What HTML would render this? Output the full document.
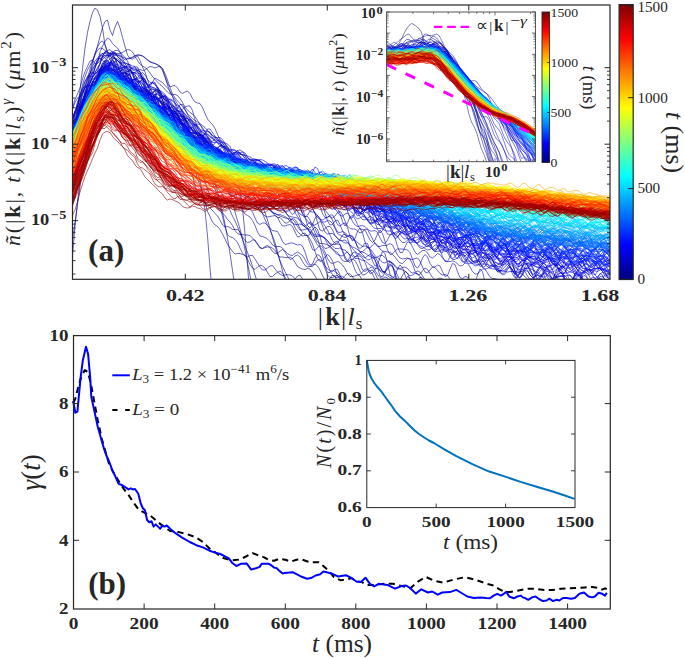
<!DOCTYPE html>
<html><head><meta charset="utf-8"><style>
html,body{margin:0;padding:0;background:#fff;width:685px;height:658px;overflow:hidden}
svg{display:block}
</style></head><body>
<svg width="685" height="658" viewBox="0 0 685 658">
<rect x="0" y="0" width="685" height="658" fill="#fff"/>
<defs><clipPath id="cpTop"><rect x="145" y="10" width="1075" height="548.6"/></clipPath><clipPath id="cpIn"><rect x="773.2" y="24" width="297.8" height="299.4"/></clipPath></defs>
<g transform="scale(0.5)"><g clip-path="url(#cpTop)" fill="none" stroke-width="1.2" stroke-linejoin="round">
<path d="M145 285l5-20 5-27 5-22 5-15 5-12 5-5 5-3 5-11 5-15 5-6 5-7 5-9 5-7 5-4 5-4 5-5 5 3 5 14 5 12 5 5 5-4 5-5 5 1 5 8 5 13 5 5 5-4 5-2 5 9 5 19 5 13 5 1 5-9 5-9 5 3 5 16 5 19 5 12 5 4 5 5 5 8 5 15 5 16 5 11 5 10 5 12 5 17 5 20 5 20 5 14 5 5 5 5 5 10 5 7 5 4 5 5 5 6 5 5 5 8 5 10 5 4 5-1 5 2 5 4 5 0 5 0 5 5 5 10 5 7 5 4 5-1 5-4 5 0 5 7 5 9 5 1 5-4 5-2 5 4 5 8 5 4 5-1 5-4 5-3 5 5 5 9 5 6 5-2 5-5 5-2 5 4 5 9 5 8 5 3 5-1 5-3 5-2 5 4 5 8 5 11 5 9 5 1 5-5 5-6 5 2 5 13 5 17 5 9 5-2 5-10 5-7 5 5 5 16 5 7 5 0 5 0 5 0 5-1 5 1 5 0 5 0 5 0 5 0 5 0 5 0 5 0 5 0 5 0 5 0 5 0 5 0 5 0 5 0 5 0 5 0 5 0 5 0 5 0 5 0 5 0 5 0 5 0 5 0 5 0 5 0 5 0 5 0 5 0 5 0 5 0 5 0 5 0 5 0 5 0 5 0 5 0 5 0 5 0 5 0 5 0 5 0 5 0 5 0 5 0 5 0 5 0 5 0 5 0 5 0 5 0 5 0 5 0 5 0 5 0 5 0 5 0 5 0 5 0 5 0 5 0 5 0 5 0 5 0 5 0 5 0 5 0 5 0 5 0 5 0 5 0 5 0 5 0 5 0 5 0 5 0 5 0 5 0 5 0 5 0 5 0 5 0 5 0 5 0 5 0 5 0 5 0 5 0 5 0 5 0 5 0 5 0 5 0 5 0 5 0 5 0 5 0" stroke="#000080"/>
<path d="M145 300l5-41 5-39 5-40 5-43 5-41 5-31 5-22 5-18 5-9 5 4 5 13 5 23 5 34 5 18 5 11 5 10 5 9 5 8 5 5 5 4 5 3 5 3 5 4 5 5 5 3 5 3 5 4 5 4 5 6 5 4 5 4 5 3 5 5 5 7 5 6 5 6 5 4 5 5 5 5 5 7 5 6 5 6 5 5 5 7 5 8 5 8 5 7 5 5 5 6 5 7 5 9 5 8 5 7 5 7 5 8 5 8 5 9 5 8 5 7 5 7 5 10 5 11 5 11 5 11 5 10 5 11 5 13 5 13 5 13 5 13 5 13 5 15 5 17 5 16 5 15" stroke="#000080"/>
<path d="M145 268l5-11 5-13 5-7 5-2 5-5 5-9 5-22 5-17 5-15 5-15 5-9 5-3 5-5 5 3 5 13 5 6 5 1 5-6 5-5 5-2 5 0 5 6 5 10 5 5 5 9 5 15 5 9 5 1 5-1 5-5 5-3 5 2 5 6 5 9 5 7 5 9 5 13 5 8 5 1 5 1 5-3 5-3 5 5 5 7 5 10 5 13 5 13 5 11 5 7 5-4 5 1 5 2 5 4 5 8 5 5 5 1 5 7 5 10 5 11 5 12 5 0 5-1 5-4 5 0 5 7 5 8 5 6 5 7 5 5 5 2 5 5 5 3 5 3 5 1 5 0 5 2 5 2 5 4 5 7 5 5 5 1 5 3 5 2 5 2 5 2 5 1 5 1 5 1 5 5 5 9 5 7 5 0 5-1 5-2 5 1 5 7 5 11 5 8 5 3 5 0 5 1 5 2 5 2 5 5 5 5 5 3 5 8 5 8 5 2 5 0 5-3 5-2 5 3 5 9 5 12 5 8 5-1 5-4 5-4 5-1 5 6 5 11 5 7 5 3 5-1 5-1 5 0 5 0 5 4 5 4 5 1 5 4 5 6 5 2 5 0 5-2 5-3 5 0 5 5 5 8 5 6 5 0 5-1 5-3 5-3 5 3 5 4 5 0 5 0 5 0 5 0 5 0 5 0 5 0 5 0 5 0 5 0 5 0 5 0 5 0 5 0 5 0 5 0 5 0 5 0 5 0 5 0 5 0 5 0 5 0 5 0 5 0 5 0 5 0 5 0 5 0 5 0 5 0 5 0 5 0 5 0 5 0 5 0 5 0 5 0 5 0 5 0 5 0 5 0 5 0 5 0 5 0 5 0 5 0 5 0 5 0 5 0 5 0 5 0 5 0 5 0 5 0 5 0 5 0 5 0 5 0 5 0 5 0 5 0 5 0 5 0 5 0 5 0 5 0 5 0 5 0" stroke="#000083"/>
<path d="M145 264l5-9 5-14 5-19 5-17 5-22 5-12 5-4 5-9 5-3 5-4 5-10 5-4 5-1 5 5 5 2 5-3 5 2 5-2 5-7 5 4 5 6 5 8 5 11 5 9 5 9 5 4 5-1 5 1 5-4 5-1 5 7 5 3 5 5 5 5 5 3 5 4 5-1 5 5 5 11 5 6 5 4 5 5 5-2 5-1 5 0 5 4 5 8 5 7 5 11 5 6 5-1 5 3 5 4 5 2 5 8 5 7 5 6 5-2 5-5 5 1 5 2 5 7 5 15 5 10 5 6 5 1 5-3 5 0 5 3 5 9 5 10 5 4 5 2 5 1 5 1 5 7 5 10 5 11 5 9 5 3 5 3 5 3 5 3 5 7 5 7 5 7 5 7 5 8 5 10 5 8 5 5 5 4 5-1 5 0 5 7 5 10 5 15 5 14 5 6 5-2 5-7 5-5 5 4 5 9 5 16 5 14 5 6 5-1 5-6 5-4 5 1 5 5 5 12 5 9 5 3 5 3 5 1 5 0 5 4 5 2 5 4 5 1 5 1 5 7 5 0 5 0 5 0 5 0 5 0 5 0 5 0 5 0 5 0 5 0 5 0 5 0 5 0 5 0 5 0 5 0 5 0 5 0 5 0 5 0 5 0 5 0 5 0 5 0 5 0 5 0 5 0 5 0 5 0 5 0 5 0 5 0 5 0 5 0 5 0 5 0 5 0 5 0 5 0 5 0 5 0 5 0 5 0 5 0 5 0 5 0 5 0 5 0 5 0 5 0 5 0 5 0 5 0 5 0 5 0 5 0 5 0 5 0 5 0 5 0 5 0 5 0 5 0 5 0 5 0 5 0 5 0 5 0 5 0 5 0 5 0 5 0 5 0 5 0 5 0 5 0 5 0 5 0 5 0 5 0 5 0 5 0 5 0 5 0 5 0 5 0 5 0 5 0 5 0 5 0 5 0 5 0" stroke="#000087"/>
<path d="M145 281l5-17 5-18 5-19 5-19 5-19 5-20 5-22 5-20 5-19 5-16 5-19 5-18 5-12 5-3 5 20 5 11 5-17 5-11 5 13 5 19 5 18 5 17 5 7 5-2 5-3 5-2 5 1 5 1 5 4 5 4 5 4 5 1 5 2 5 3 5 4 5 7 5 13 5 16 5 14 5 9 5 7 5 8 5 8 5 7 5 6 5 4 5 4 5 6 5 7 5 6 5 5 5 3 5 5 5 6 5 7 5 7 5 6 5 3 5 4 5 5 5 5 5 6 5 6 5 7 5 7 5 6 5 6 5 6 5 7 5 9 5 9 5 8 5 8 5 8 5 10 5 12 5 12 5 11 5 10 5 11 5 14 5 18 5 19 5 20 5 19 5 19 5 19" stroke="#00008a"/>
<path d="M145 244l5-18 5-16 5-14 5-21 5-13 5-6 5-10 5-1 5-1 5-6 5-10 5-13 5-11 5-3 5-2 5 6 5 13 5 3 5 5 5 6 5 2 5 5 5 5 5 1 5 0 5-4 5 2 5 14 5 12 5 11 5 8 5-1 5-5 5 0 5-1 5 3 5 5 5 9 5 17 5 14 5 10 5 7 5 2 5 2 5 15 5 20 5 22 5 20 5 15 5 15 5 14 5 14 5 19 5 19 5 10 5 11 5 6 5 3 5 6 5 9 5 10 5 11 5 7 5 7 5 5 5-1 5 0 5 2 5 1 5 8 5 11 5 7 5 3 5-5 5-4 5 2 5 4 5 9 5 8 5 0 5-5 5-3 5-3 5 4 5 8 5 10 5 6 5-3 5-9 5-6 5-2 5 8 5 17 5 11 5 0 5-7 5-10 5-3 5 8 5 14 5 12 5 0 5 0 5 0 5 0 5-1 5 1 5 0 5 0 5 0 5 0 5 0 5 0 5 0 5 0 5 0 5 0 5 0 5 0 5 0 5 0 5 0 5 0 5 0 5 0 5 0 5 0 5 0 5 0 5 0 5 0 5 0 5 0 5 0 5 0 5 0 5 0 5 0 5 0 5 0 5 0 5 0 5 0 5 0 5 0 5 0 5 0 5 0 5 0 5 0 5 0 5 0 5 0 5 0 5 0 5 0 5 0 5 0 5 0 5 0 5 0 5 0 5 0 5 0 5 0 5 0 5 0 5 0 5 0 5 0 5 0 5 0 5 0 5 0 5 0 5 0 5 0 5 0 5 0 5 0 5 0 5 0 5 0 5 0 5 0 5 0 5 0 5 0 5 0 5 0 5 0 5 0 5 0 5 0 5 0 5 0 5 0 5 0 5 0 5 0 5 0 5 0 5 0 5 0 5 0 5 0 5 0 5 0 5 0 5 0 5 0 5 0 5 0 5 0 5 0 5 0" stroke="#00008a"/>
<path d="M145 284l5-12 5-15 5-27 5-22 5-7 5 0 5-3 5-11 5-18 5-11 5-1 5 2 5-4 5-13 5-6 5 5 5 3 5 0 5-1 5-5 5 5 5 15 5 7 5 2 5 8 5 2 5 2 5 5 5-1 5 0 5 10 5 1 5-6 5 1 5 3 5 7 5 13 5 6 5 0 5 6 5 10 5 2 5 4 5 0 5 0 5 6 5 8 5 5 5 3 5 2 5 6 5 8 5 7 5 9 5 5 5-1 5 1 5 0 5 2 5 8 5 5 5-3 5 1 5 3 5 4 5 9 5 5 5-1 5 3 5 5 5 0 5 0 5-1 5-1 5 6 5 8 5-2 5-4 5 0 5 6 5 10 5 6 5 0 5-2 5 2 5 3 5 1 5 0 5 7 5 17 5 19 5 13 5 5 5 0 5 7 5 14 5 12 5 11 5 16 5 18 5 20 5 14 5 0 5-5 5 3 5 4 5 5 5 5 5 5 5 9 5 17 5 9 5-2 5-6 5-6 5-2 5 4 5 4 5 7 5 4 5 0 5 0 5 0 5 0 5 0 5 0 5 0 5 0 5 0 5 0 5 0 5 0 5 0 5 0 5 0 5 0 5 0 5 0 5 0 5 0 5 0 5 0 5 0 5 0 5 0 5 0 5 0 5 0 5 0 5 0 5 0 5 0 5 0 5 0 5 0 5 0 5 0 5 0 5 0 5 0 5 0 5 0 5 0 5 0 5 0 5 0 5 0 5 0 5 0 5 0 5 0 5 0 5 0 5 0 5 0 5 0 5 0 5 0 5 0 5 0 5 0 5 0 5 0 5 0 5 0 5 0 5 0 5 0 5 0 5 0 5 0 5 0 5 0 5 0 5 0 5 0 5 0 5 0 5 0 5 0 5 0 5 0 5 0 5 0 5 0 5 0 5 0 5 0 5 0 5 0 5 0 5 0 5 0 5 0 5 0 5 0" stroke="#00008e"/>
<path d="M145 264l5-23 5-25 5-24 5-22 5-17 5-13 5-9 5-10 5-11 5-10 5-4 5 1 5 4 5 4 5 2 5 0 5 0 5 0 5 0 5-2 5-3 5-3 5 1 5 4 5 9 5 8 5 7 5 4 5 3 5 4 5 7 5 7 5 6 5 5 5 5 5 4 5 6 5 5 5 4 5 1 5 0 5 2 5 6 5 8 5 9 5 6 5 5 5 3 5 5 5 8 5 8 5 9 5 7 5 7 5 8 5 10 5 11 5 10 5 9 5 10 5 14 5 17 5 21 5 22 5 20 5 17 5 17 5 19 5 23 5 26 5 25 5 25 5 24" stroke="#00008f"/>
<path d="M145 274l5-11 5-5 5-3 5-22 5-29 5-19 5-11 5-10 5 0 5 1 5-13 5-12 5-6 5-1 5-3 5-3 5-4 5-2 5 7 5 16 5 11 5-5 5-4 5-1 5 4 5 9 5 8 5 9 5 9 5 5 5-9 5-5 5 1 5 5 5 14 5 13 5 0 5 0 5 11 5 4 5 0 5 1 5 0 5-1 5 10 5 20 5 12 5 3 5-2 5 0 5 1 5 6 5 7 5 3 5 4 5 9 5 8 5-2 5-1 5 3 5 5 5 7 5 5 5 1 5 3 5 6 5 3 5 0 5-1 5 1 5 7 5 10 5 4 5-3 5-3 5 1 5 4 5 6 5 4 5-2 5 0 5 9 5 7 5 0 5-5 5-4 5-2 5 4 5 11 5 6 5 3 5 5 5 5 5-2 5-4 5-3 5 1 5 6 5 9 5 7 5 5 5 6 5 7 5 3 5-4 5-7 5-3 5 7 5 13 5 10 5 5 5 1 5 0 5 4 5 4 5-2 5-6 5 1 5 9 5 10 5 9 5 6 5 0 5-2 5 0 5-1 5-3 5 3 5 10 5 10 5 6 5 2 5-1 5-1 5 2 5 1 5-2 5-1 5 6 5 12 5 10 5 2 5-6 5-6 5 1 5 6 5 6 5 3 5-1 5 2 5 7 5 5 5-1 5-2 5 1 5 2 5 4 5 4 5 1 5-1 5 4 5 5 5-1 5 0 5 5 5 5 5 2 5 0 5-5 5-6 5 4 5 12 5 4 5 0 5 0 5 0 5 0 5 0 5 0 5-4 5 1 5 3 5 0 5 0 5 0 5 0 5 0 5 0 5 0 5 0 5 0 5 0 5 0 5 0 5 0 5 0 5 0 5 0 5 0 5 0 5 0 5 0 5 0 5 0 5 0 5 0 5 0 5 0 5 0 5 0 5 0 5 0 5 0 5 0 5 0 5 0" stroke="#000092"/>
<path d="M145 267l5-22 5-19 5-18 5-17 5-17 5-18 5-17 5-16 5-16 5-13 5-9 5-3 5 7 5 14 5 8 5-1 5-1 5 1 5 2 5 2 5 2 5 1 5-1 5-2 5-3 5-1 5 0 5 2 5 3 5 5 5 3 5 3 5 1 5 2 5 3 5 5 5 10 5 13 5 15 5 13 5 8 5 6 5 5 5 6 5 7 5 7 5 6 5 4 5 4 5 3 5 3 5 4 5 4 5 6 5 5 5 5 5 3 5 3 5 3 5 3 5 4 5 6 5 7 5 7 5 7 5 7 5 6 5 6 5 7 5 9 5 10 5 11 5 11 5 10 5 10 5 11 5 13 5 15 5 17 5 18 5 17 5 16 5 14 5 11 5 10 5 10 5 10 5 10 5 10 5 10 5 7" stroke="#000094"/>
<path d="M145 511l5-59 5-49 5-42 5-37 5-34 5-30 5-26 5-20 5-16 5-12 5-8 5-7 5-8 5-5 5-3 5 0 5 3 5 5 5 5 5 5 5 4 5 3 5 2 5 3 5 3 5 3 5 3 5 3 5 5 5 6 5 6 5 5 5 3 5 1 5 1 5 3 5 5 5 7 5 7 5 5 5 4 5 3 5 2 5 3 5 3 5 4 5 5 5 6 5 6 5 8 5 8 5 8 5 7 5 8 5 10 5 12 5 17 5 18 5 20 5 21 5 24 5 28 5 31 5 34 5 37" stroke="#000094"/>
<path d="M145 269l5-17 5-18 5-10 5-18 5-18 5-9 5-8 5-1 5-1 5-13 5-10 5-9 5-10 5-11 5-5 5 7 5 12 5 15 5 9 5-5 5-3 5-3 5-2 5 6 5 2 5 11 5 15 5 4 5 8 5 5 5-7 5 1 5-5 5-1 5 8 5 12 5 13 5 4 5 2 5 6 5 2 5 4 5 0 5 1 5 6 5 5 5 10 5 9 5 6 5 15 5 8 5-3 5-1 5-3 5 7 5 11 5 5 5 6 5 7 5 13 5 15 5 1 5-4 5-1 5 5 5 10 5 9 5 8 5 7 5 7 5 7 5-1 5 0 5 7 5 7 5 7 5 0 5-3 5 4 5 7 5 6 5 4 5 0 5 5 5 6 5 0 5-5 5-4 5 2 5 8 5 10 5 8 5 5 5 2 5-4 5-9 5-5 5 5 5 14 5 18 5 6 5-1 5-3 5-4 5 0 5-1 5 1 5 11 5 13 5 9 5 3 5-6 5-5 5-2 5 0 5 4 5 9 5 13 5 9 5-1 5-7 5-8 5 3 5 7 5 6 5 5 5 3 5 4 5 6 5-3 5-4 5 0 5 3 5 7 5 5 5 2 5 4 5 3 5-1 5-3 5-1 5 7 5 8 5 5 5-3 5-4 5 3 5 6 5 1 5 0 5 0 5 0 5 0 5 0 5 0 5 0 5 0 5 0 5 0 5 0 5 0 5 0 5 0 5 0 5 0 5 0 5 0 5 0 5 0 5 0 5 0 5 0 5 0 5 0 5 0 5 0 5 0 5 0 5 0 5 0 5 0 5 0 5 0 5 0 5 0 5 0 5 0 5 0 5 0 5 0 5 0 5 0 5 0 5 0 5 0 5 0 5 0 5 0 5 0 5 0 5 0 5 0 5 0 5 0 5 0 5 0 5 0 5 0 5 0 5 0 5 0 5 0 5 0 5 0 5 0 5 0" stroke="#000095"/>
<path d="M145 312l5-25 5-24 5-19 5-11 5-4 5-6 5-13 5-10 5-1 5-10 5-12 5-12 5-12 5-9 5 2 5 8 5 6 5 4 5 9 5 3 5-2 5-4 5-1 5 3 5 3 5 10 5 15 5 12 5 1 5 0 5-5 5-12 5-5 5 10 5 18 5 14 5 8 5 2 5-12 5-6 5 5 5 7 5 4 5 8 5 10 5 7 5 4 5 1 5 3 5 5 5 4 5 0 5-2 5 2 5 9 5 11 5 9 5-3 5 2 5 4 5 0 5-3 5-2 5 7 5 14 5 15 5 4 5-4 5-2 5 2 5 3 5 3 5 7 5 9 5 10 5 5 5-6 5-7 5 1 5 10 5 8 5 1 5-2 5-1 5 0 5 1 5 2 5 5 5 9 5 10 5 3 5-8 5-11 5 0 5 8 5 11 5 10 5 8 5 4 5 1 5-3 5-3 5-1 5 7 5 14 5 10 5 1 5-2 5 2 5 6 5 4 5 3 5 3 5 4 5 4 5 4 5-1 5 1 5 7 5 10 5 6 5-2 5-3 5 0 5 4 5 6 5 3 5 2 5 5 5 5 5 1 5-2 5-1 5 3 5 6 5 3 5-1 5-3 5 2 5 8 5 7 5 2 5-1 5 1 5-1 5-2 5-2 5 2 5 10 5 12 5 9 5-2 5-9 5-6 5 1 5 2 5 5 5 9 5 11 5 0 5 0 5 0 5-8 5-3 5 6 5 5 5 0 5 0 5 0 5 0 5 0 5 0 5 0 5 0 5 0 5 0 5 0 5 0 5 0 5 0 5 0 5 0 5 0 5 0 5 0 5 0 5 0 5 0 5 0 5 0 5 0 5 0 5 0 5 0 5 0 5 0 5 0 5 0 5 0 5 0 5 0 5 0 5 0 5 0 5 0 5 0 5 0 5 0 5 0 5 0 5 0 5 0 5 0 5 0 5 0 5 0" stroke="#000099"/>
<path d="M145 286l5-6 5-14 5-12 5-20 5-22 5-17 5-6 5-5 5-10 5-8 5-5 5-8 5-5 5-1 5 1 5 0 5 1 5 2 5-1 5 0 5 5 5 7 5 11 5 11 5 2 5 0 5 3 5 1 5-2 5 1 5 7 5 6 5 6 5 14 5 6 5-1 5 0 5 3 5 1 5 0 5 7 5 11 5 13 5 15 5 11 5 5 5 5 5 7 5 8 5 10 5 14 5 13 5 13 5 15 5 15 5 6 5 6 5 10 5 8 5 3 5 5 5 8 5 5 5 7 5 10 5 6 5 2 5 0 5 1 5 0 5 1 5 5 5 6 5 7 5 6 5 2 5-2 5-1 5 0 5 2 5 5 5 8 5 5 5 0 5 1 5 0 5-1 5 3 5 8 5 8 5 3 5 2 5 1 5-2 5 1 5 6 5 8 5 9 5 7 5 2 5-2 5 0 5 1 5 5 5 8 5 9 5 6 5 1 5 2 5 0 5-1 5 1 5 0 5 0 5 0 5 0 5 0 5 0 5 0 5 0 5 0 5 0 5 0 5 0 5 0 5 0 5 0 5 0 5 0 5 0 5 0 5 0 5 0 5 0 5 0 5 0 5 0 5 0 5 0 5 0 5 0 5 0 5 0 5 0 5 0 5 0 5 0 5 0 5 0 5 0 5 0 5 0 5 0 5 0 5 0 5 0 5 0 5 0 5 0 5 0 5 0 5 0 5 0 5 0 5 0 5 0 5 0 5 0 5 0 5 0 5 0 5 0 5 0 5 0 5 0 5 0 5 0 5 0 5 0 5 0 5 0 5 0 5 0 5 0 5 0 5 0 5 0 5 0 5 0 5 0 5 0 5 0 5 0 5 0 5 0 5 0 5 0 5 0 5 0 5 0 5 0 5 0 5 0 5 0 5 0 5 0 5 0 5 0 5 0 5 0 5 0 5 0 5 0 5 0 5 0 5 0" stroke="#00009c"/>
<path d="M145 241l5-19 5-18 5-15 5-12 5-5 5-1 5-14 5-16 5-12 5-7 5-8 5-7 5-1 5 6 5-1 5-2 5 2 5-1 5 0 5 7 5 10 5 9 5 4 5 4 5 2 5 3 5 7 5 1 5 1 5 12 5 10 5-1 5 1 5 4 5 1 5 7 5 14 5 9 5 0 5-3 5 3 5 4 5 9 5 9 5 2 5 7 5 18 5 6 5 3 5 2 5 0 5 1 5 10 5 14 5 7 5-6 5 2 5 7 5 9 5 9 5 2 5-3 5 4 5 5 5 6 5 3 5 0 5-1 5 3 5 8 5 8 5-2 5-4 5 0 5 6 5 9 5 3 5-1 5-1 5 1 5 5 5 6 5 3 5 2 5 5 5 5 5 2 5-1 5-3 5 2 5 12 5 15 5 7 5-4 5-8 5-4 5 8 5 19 5 15 5 2 5-5 5-4 5 0 5 7 5 11 5 6 5 3 5 3 5 3 5 0 5 4 5 4 5 2 5 3 5 5 5 5 5 6 5 5 5-1 5-5 5 0 5 8 5 11 5 10 5 1 5-8 5-8 5 5 5 14 5 12 5 1 5-9 5-8 5 3 5 14 5 13 5 1 5-10 5-10 5 2 5 12 5 13 5 5 5-6 5-8 5-2 5 4 5 6 5 6 5 5 5 1 5-1 5-2 5-4 5 0 5 7 5 8 5 0 5 0 5 0 5-2 5 2 5 0 5 0 5 0 5 0 5 0 5 0 5 0 5 0 5 0 5 0 5 0 5 0 5 0 5 0 5 0 5 0 5 0 5 0 5 0 5 0 5 0 5 0 5 0 5 0 5 0 5 0 5 0 5 0 5 0 5 0 5 0 5 0 5 0 5 0 5 0 5 0 5 0 5 0 5 0 5 0 5 0 5 0 5 0 5 0 5 0 5 0 5 0 5 0 5 0 5 0 5 0 5 0 5 0 5 0" stroke="#00009d"/>
<path d="M145 318l5-24 5-15 5-13 5-18 5-23 5-19 5-10 5-4 5-9 5-16 5-16 5-8 5-3 5-4 5-10 5-8 5-2 5 5 5 5 5 0 5-1 5 3 5 6 5 4 5 0 5 0 5 1 5 2 5-1 5-4 5-3 5 1 5 2 5-2 5-2 5 6 5 15 5 14 5 7 5-2 5-1 5 5 5 8 5 3 5-3 5-2 5 5 5 10 5 7 5 2 5 1 5 8 5 12 5 11 5 6 5 5 5 8 5 12 5 10 5 7 5 7 5 10 5 13 5 13 5 13 5 16 5 22 5 36 5 52 5 62 5 67" stroke="#00009e"/>
<path d="M145 279l5-22 5-18 5-17 5-12 5-10 5-7 5-6 5-6 5-9 5-8 5-8 5-6 5-6 5-7 5-8 5-4 5 4 5 8 5 5 5 4 5 10 5 13 5 9 5-4 5-1 5 0 5 0 5 2 5 4 5 1 5 3 5 13 5 16 5 8 5-1 5-1 5 1 5 0 5-2 5 3 5 6 5 5 5 7 5 8 5 5 5 6 5 12 5 12 5-2 5-6 5-3 5 5 5 6 5 4 5 4 5 4 5 5 5 7 5 5 5 4 5 0 5 4 5 4 5-1 5-3 5-1 5 7 5 11 5 8 5 2 5 1 5 5 5 3 5 1 5 0 5 5 5 8 5 5 5 2 5-1 5 1 5 8 5 14 5 9 5-1 5-4 5 4 5 10 5 10 5 8 5 7 5 5 5 5 5 6 5 9 5 8 5 8 5 9 5 5 5 5 5 11 5 17 5 13 5 2 5-5 5 1 5 11 5 19 5 16 5 6 5-2 5 0 5 6 5 5 5 0 5 0 5 0 5 0 5 0 5 0 5 0 5 0 5 0 5 0 5 0 5 0 5 0 5 0 5 0 5 0 5 0 5 0 5 0 5 0 5 0 5 0 5 0 5 0 5 0 5 0 5 0 5 0 5 0 5 0 5 0 5 0 5 0 5 0 5 0 5 0 5 0 5 0 5 0 5 0 5 0 5 0 5 0 5 0 5 0 5 0 5 0 5 0 5 0 5 0 5 0 5 0 5 0 5 0 5 0 5 0 5 0 5 0 5 0 5 0 5 0 5 0 5 0 5 0 5 0 5 0 5 0 5 0 5 0 5 0 5 0 5 0 5 0 5 0 5 0 5 0 5 0 5 0 5 0 5 0 5 0 5 0 5 0 5 0 5 0 5 0 5 0 5 0 5 0 5 0 5 0 5 0 5 0 5 0 5 0 5 0 5 0 5 0 5 0 5 0 5 0 5 0" stroke="#0000a0"/>
<path d="M145 279l5-14 5-13 5-21 5-20 5-12 5-10 5-5 5 1 5-2 5-7 5-17 5-14 5-6 5-1 5 0 5 3 5 3 5 3 5 11 5 10 5 5 5 1 5 0 5-2 5 6 5 9 5-2 5-2 5 7 5 5 5 13 5 21 5 4 5-8 5-6 5-4 5 0 5 11 5 14 5 9 5 6 5 7 5 10 5 5 5 4 5 5 5 3 5 1 5 6 5 10 5 8 5 11 5 13 5 7 5 2 5 4 5 3 5 2 5 6 5 4 5 2 5 7 5 8 5 5 5 8 5 4 5-1 5 1 5 3 5 2 5 1 5 3 5 4 5 4 5 5 5 5 5 5 5 2 5-1 5-1 5-1 5 3 5 11 5 7 5 0 5-2 5-1 5 4 5 11 5 10 5-1 5-6 5-1 5 6 5 14 5 13 5 2 5-6 5-4 5 3 5 10 5 13 5 8 5 2 5-2 5-2 5 2 5 5 5 7 5 10 5 6 5 0 5-1 5-2 5 2 5 10 5 11 5 2 5-5 5-2 5 4 5 12 5 14 5 1 5-11 5-10 5 4 5 17 5 1 5 0 5 0 5-2 5-6 5 8 5 0 5 0 5 0 5 0 5 0 5 0 5 0 5 0 5 0 5 0 5 0 5 0 5 0 5 0 5 0 5 0 5 0 5 0 5 0 5 0 5 0 5 0 5 0 5 0 5 0 5 0 5 0 5 0 5 0 5 0 5 0 5 0 5 0 5 0 5 0 5 0 5 0 5 0 5 0 5 0 5 0 5 0 5 0 5 0 5 0 5 0 5 0 5 0 5 0 5 0 5 0 5 0 5 0 5 0 5 0 5 0 5 0 5 0 5 0 5 0 5 0 5 0 5 0 5 0 5 0 5 0 5 0 5 0 5 0 5 0 5 0 5 0 5 0 5 0 5 0 5 0 5 0 5 0 5 0 5 0 5 0 5 0" stroke="#0000a4"/>
<path d="M145 268l5-6 5-23 5-20 5-15 5-21 5-12 5 0 5-2 5-2 5-5 5-19 5-13 5-9 5 1 5 4 5-5 5 6 5 13 5 12 5 6 5-5 5-10 5-3 5 5 5 18 5 15 5 3 5 6 5 0 5-7 5 7 5 6 5 1 5 2 5 4 5 11 5 10 5 9 5 0 5-6 5-1 5 10 5 7 5 8 5 9 5 7 5 9 5 2 5 3 5 6 5 2 5 5 5 9 5 5 5 9 5 11 5 5 5 2 5 4 5 9 5 12 5 7 5 8 5 7 5 5 5 14 5 12 5 10 5 8 5 3 5 3 5 7 5 10 5 13 5 8 5 1 5 2 5 3 5 5 5 7 5 3 5 0 5 0 5 3 5 6 5 5 5 3 5 1 5-4 5-3 5 3 5 4 5 8 5 9 5 5 5 0 5-6 5-7 5-1 5 5 5 13 5 13 5 5 5 0 5-3 5-1 5 4 5 6 5 3 5-1 5-3 5 7 5 13 5 11 5 6 5-6 5-12 5-5 5 7 5 15 5 4 5 0 5 0 5 0 5 0 5 0 5 0 5 0 5 0 5 0 5 0 5 0 5 0 5 0 5 0 5 0 5 0 5 0 5 0 5 0 5 0 5 0 5 0 5 0 5 0 5 0 5 0 5 0 5 0 5 0 5 0 5 0 5 0 5 0 5 0 5 0 5 0 5 0 5 0 5 0 5 0 5 0 5 0 5 0 5 0 5 0 5 0 5 0 5 0 5 0 5 0 5 0 5 0 5 0 5 0 5 0 5 0 5 0 5 0 5 0 5 0 5 0 5 0 5 0 5 0 5 0 5 0 5 0 5 0 5 0 5 0 5 0 5 0 5 0 5 0 5 0 5 0 5 0 5 0 5 0 5 0 5 0 5 0 5 0 5 0 5 0 5 0 5 0 5 0 5 0 5 0 5 0 5 0 5 0 5 0 5 0" stroke="#0000a8"/>
<path d="M145 234l5-11 5-11 5-13 5-14 5-14 5-12 5-12 5-10 5-6 5-4 5-6 5-7 5-3 5-1 5-2 5-3 5-4 5 0 5 3 5 6 5 5 5 7 5 13 5 16 5 8 5-3 5-7 5-4 5 5 5 9 5 6 5 1 5 1 5 8 5 10 5 6 5 3 5 5 5 6 5 10 5 6 5-4 5-8 5 0 5 9 5 11 5 8 5 4 5 5 5 11 5 11 5 5 5-6 5-5 5 2 5 7 5 4 5 0 5 0 5 4 5 8 5 9 5 3 5 0 5 1 5 4 5 3 5 2 5 1 5 2 5 2 5 3 5 2 5 2 5 1 5 4 5 4 5 4 5 5 5 4 5 1 5-2 5 0 5 6 5 9 5 7 5 0 5-3 5-1 5 6 5 12 5 10 5 6 5 3 5 1 5-1 5 0 5 5 5 11 5 14 5 8 5 0 5-5 5 0 5 9 5 10 5 3 5-4 5-2 5 9 5 17 5 10 5-5 5-14 5-7 5 10 5 18 5 12 5 0 5-6 5-4 5 4 5 8 5 4 5 1 5 1 5 1 5 4 5 5 5 7 5 5 5 1 5-5 5-5 5 1 5 10 5 14 5 8 5-1 5-8 5-5 5 3 5 8 5 8 5 4 5 1 5 0 5 3 5 6 5 4 5 0 5-5 5-4 5 5 5 15 5 15 5 1 5-8 5-13 5-3 5 11 5 13 5 0 5 0 5 0 5 0 5 0 5 0 5 0 5 0 5 0 5 0 5 0 5 0 5 0 5 0 5 0 5 0 5 0 5 0 5 0 5 0 5 0 5 0 5 0 5 0 5 0 5 0 5 0 5 0 5 0 5 0 5 0 5 0 5 0 5 0 5 0 5 0 5 0 5 0 5 0 5 0 5 0 5 0 5 0 5 0 5 0 5 0 5 0 5 0 5 0 5 0 5 0 5 0 5 0 5 0" stroke="#0000a8"/>
<path d="M145 271l5-18 5-22 5-20 5-9 5-5 5 0 5-4 5-14 5-7 5-13 5-14 5-6 5-4 5-3 5-3 5-8 5 3 5 9 5 5 5 12 5 12 5 6 5 1 5-8 5-2 5 5 5-1 5 5 5 11 5 5 5 6 5 3 5 2 5 5 5 1 5 4 5 8 5 6 5 4 5 5 5-1 5 1 5 0 5 3 5 16 5 14 5 11 5 12 5 8 5 7 5 7 5 9 5 18 5 16 5 7 5 11 5 11 5 14 5 20 5 21 5 21 5 15 5 5 5 1 5 4 5 6 5 11 5 10 5 6 5 2 5-3 5 0 5 7 5 8 5 8 5 6 5 0 5-4 5-4 5-1 5 7 5 6 5 4 5 3 5-1 5-1 5 1 5 2 5 6 5 3 5-1 5 2 5 2 5 3 5 6 5 5 5 6 5 2 5-2 5 1 5 2 5 3 5 6 5 4 5 0 5 0 5 0 5 0 5 0 5 0 5 0 5 0 5 0 5 0 5 0 5 0 5 0 5 0 5 0 5 0 5 0 5 0 5 0 5 0 5 0 5 0 5 0 5 0 5 0 5 0 5 0 5 0 5 0 5 0 5 0 5 0 5 0 5 0 5 0 5 0 5 0 5 0 5 0 5 0 5 0 5 0 5 0 5 0 5 0 5 0 5 0 5 0 5 0 5 0 5 0 5 0 5 0 5 0 5 0 5 0 5 0 5 0 5 0 5 0 5 0 5 0 5 0 5 0 5 0 5 0 5 0 5 0 5 0 5 0 5 0 5 0 5 0 5 0 5 0 5 0 5 0 5 0 5 0 5 0 5 0 5 0 5 0 5 0 5 0 5 0 5 0 5 0 5 0 5 0 5 0 5 0 5 0 5 0 5 0 5 0 5 0 5 0 5 0 5 0 5 0 5 0 5 0 5 0 5 0 5 0 5 0 5 0 5 0 5 0 5 0 5 0" stroke="#0000ab"/>
<path d="M145 261l5-10 5-4 5-2 5-4 5-15 5-22 5-23 5-17 5-8 5 0 5-1 5-3 5-2 5-3 5-2 5 7 5 8 5-1 5 0 5 4 5 1 5 1 5 7 5 5 5 1 5 5 5 10 5 9 5 9 5 7 5-5 5-6 5 0 5 6 5 11 5 10 5 1 5-4 5-4 5 1 5 10 5 20 5 18 5 1 5-4 5-5 5-4 5 3 5 11 5 8 5 2 5 2 5 3 5 3 5 9 5 8 5 1 5-3 5-2 5 1 5 4 5 4 5 1 5 0 5 0 5 3 5 7 5 10 5 4 5-4 5-4 5-2 5 3 5 8 5 8 5 0 5-4 5-3 5 1 5 5 5 8 5 6 5 2 5-2 5-2 5 1 5 5 5 7 5 5 5 3 5-2 5-3 5 4 5 11 5 13 5 8 5 1 5-8 5-6 5 7 5 17 5 16 5 8 5-1 5-7 5-2 5 9 5 13 5 8 5 2 5-1 5 3 5 9 5 10 5 4 5-4 5-7 5 1 5 15 5 20 5 10 5-3 5-14 5-12 5 4 5 20 5 22 5 8 5-6 5-13 5-8 5 5 5 15 5 12 5 3 5-3 5-3 5 4 5 7 5 2 5-3 5-4 5 1 5 11 5 16 5 7 5-7 5-14 5-10 5 4 5 18 5 9 5 0 5 0 5-6 5-8 5 5 5 9 5 0 5 0 5 0 5 0 5 0 5 0 5 0 5 0 5 0 5 0 5 0 5 0 5 0 5 0 5 0 5 0 5 0 5 0 5 0 5 0 5 0 5 0 5 0 5 0 5 0 5 0 5 0 5 0 5 0 5 0 5 0 5 0 5 0 5 0 5 0 5 0 5 0 5 0 5 0 5 0 5 0 5 0 5 0 5 0 5 0 5 0 5 0 5 0 5 0 5 0 5 0 5 0 5 0 5 0 5 0 5 0 5 0 5 0" stroke="#0000ac"/>
<path d="M145 261l5-15 5-13 5-14 5-17 5-9 5-2 5-4 5 0 5-9 5-13 5-10 5-11 5-14 5-4 5 9 5 13 5 14 5 9 5 4 5-2 5 4 5 0 5-4 5-4 5 1 5 14 5 20 5 9 5 5 5 4 5-4 5 3 5 0 5-6 5-2 5 9 5 14 5 14 5 7 5 1 5 4 5 3 5 3 5 3 5 0 5 1 5 10 5 13 5 8 5 7 5 7 5 7 5 3 5 2 5-1 5 4 5 9 5 7 5 6 5 3 5 6 5 15 5 13 5 2 5-3 5-2 5 4 5 12 5 12 5 3 5 0 5 5 5 12 5 10 5 3 5-3 5 0 5 5 5 6 5 4 5 1 5 1 5 9 5 11 5 6 5-1 5-2 5 0 5 2 5 2 5-1 5 3 5 12 5 16 5 10 5-2 5-12 5-7 5 3 5 10 5 10 5 6 5 4 5 7 5 6 5 0 5-2 5-1 5 5 5 8 5 5 5-2 5 0 5 4 5 9 5 8 5 2 5 0 5 3 5 5 5 0 5-5 5-4 5 4 5 6 5 0 5 0 5 0 5 0 5 0 5 0 5 0 5 0 5 0 5 0 5 0 5 0 5 0 5 0 5 0 5 0 5 0 5 0 5 0 5 0 5 0 5 0 5 0 5 0 5 0 5 0 5 0 5 0 5 0 5 0 5 0 5 0 5 0 5 0 5 0 5 0 5 0 5 0 5 0 5 0 5 0 5 0 5 0 5 0 5 0 5 0 5 0 5 0 5 0 5 0 5 0 5 0 5 0 5 0 5 0 5 0 5 0 5 0 5 0 5 0 5 0 5 0 5 0 5 0 5 0 5 0 5 0 5 0 5 0 5 0 5 0 5 0 5 0 5 0 5 0 5 0 5 0 5 0 5 0 5 0 5 0 5 0 5 0 5 0 5 0 5 0 5 0 5 0 5 0 5 0 5 0" stroke="#0000af"/>
<path d="M145 479l5-34 5-35 5-36 5-34 5-30 5-28 5-26 5-20 5-14 5-13 5-17 5-13 5-7 5-3 5 0 5 3 5 5 5 4 5 1 5 2 5 3 5 4 5 2 5 3 5 6 5 4 5 2 5 3 5 5 5 5 5 3 5 3 5 5 5 5 5 2 5 4 5 6 5 8 5 4 5 3 5 5 5 6 5 5 5 5 5 9 5 10 5 8 5 7 5 10 5 14 5 19 5 25 5 33 5 52 5 64 5 55 5 9" stroke="#0000b3"/>
<path d="M145 250l5-8 5-3 5-12 5-16 5-8 5-2 5-4 5-12 5-18 5-16 5-12 5-7 5 9 5 13 5 3 5 4 5-2 5-6 5-1 5 0 5 5 5 10 5 5 5 2 5 8 5 8 5 1 5 0 5-1 5-1 5 0 5 1 5 9 5 11 5 3 5 6 5 5 5-3 5-1 5 1 5 1 5 6 5 8 5 9 5 11 5 7 5-2 5-1 5 7 5 4 5 4 5 0 5 2 5 7 5 8 5 9 5 6 5-3 5-2 5 4 5 3 5 2 5 2 5 5 5 8 5 8 5 1 5-2 5 1 5 0 5 3 5 5 5 3 5 3 5 4 5 5 5 2 5 0 5 1 5 7 5 8 5 2 5 3 5 6 5 9 5 11 5 6 5 2 5 2 5 7 5 12 5 14 5 4 5-5 5-3 5 2 5 10 5 11 5 4 5 1 5 3 5 5 5 6 5 2 5-5 5-2 5 7 5 15 5 14 5 4 5-8 5-8 5-2 5 7 5 15 5 14 5 3 5-3 5-5 5-1 5 7 5 8 5 6 5 2 5-3 5 2 5 10 5 10 5 1 5-6 5-9 5 0 5 13 5 16 5 9 5-4 5-14 5-6 5 7 5 12 5 5 5 0 5-1 5 1 5 0 5 0 5 0 5 0 5 0 5 0 5 0 5 0 5 0 5 0 5 0 5 0 5 0 5 0 5 0 5 0 5 0 5 0 5 0 5 0 5 0 5 0 5 0 5 0 5 0 5 0 5 0 5 0 5 0 5 0 5 0 5 0 5 0 5 0 5 0 5 0 5 0 5 0 5 0 5 0 5 0 5 0 5 0 5 0 5 0 5 0 5 0 5 0 5 0 5 0 5 0 5 0 5 0 5 0 5 0 5 0 5 0 5 0 5 0 5 0 5 0 5 0 5 0 5 0 5 0 5 0 5 0 5 0 5 0 5 0 5 0 5 0" stroke="#0000b3"/>
<path d="M145 270l5-15 5-23 5-20 5-12 5-9 5-4 5-9 5-10 5 3 5-9 5-17 5-14 5-9 5 4 5 6 5 8 5 11 5 4 5-6 5-1 5-2 5 2 5 3 5 14 5 15 5 3 5 0 5-5 5-2 5 7 5 5 5 6 5 4 5 4 5 11 5 2 5-7 5 3 5 6 5 8 5 3 5 0 5 10 5 12 5 4 5 3 5-2 5 1 5 4 5 8 5 9 5 4 5 8 5 2 5 0 5 1 5 1 5 4 5 9 5 6 5 7 5 1 5-3 5 6 5 8 5 4 5 0 5 0 5 7 5 7 5 4 5 4 5 3 5 5 5 2 5-2 5 0 5 3 5 11 5 10 5 0 5-4 5-2 5 2 5 6 5 3 5 4 5 5 5 3 5 4 5 0 5-1 5 2 5 5 5 7 5 1 5 1 5 6 5 7 5 6 5 0 5-3 5 1 5 5 5 10 5 10 5 3 5 3 5 2 5-2 5-2 5 1 5 9 5 14 5 8 5 0 5-4 5-5 5 3 5 7 5 7 5 5 5 3 5 6 5 1 5-3 5-1 5 4 5 7 5 5 5 0 5 2 5 2 5 5 5 5 5-2 5-3 5 0 5 6 5 8 5 2 5 2 5 3 5-1 5 0 5-2 5 2 5 7 5 9 5 6 5-2 5-7 5 1 5 5 5 7 5 3 5 2 5 2 5 0 5 0 5 0 5 0 5 0 5 0 5 0 5 0 5 0 5 0 5 0 5 0 5 0 5 0 5 0 5 0 5 0 5 0 5 0 5 0 5 0 5 0 5 0 5 0 5 0 5 0 5 0 5 0 5 0 5 0 5 0 5 0 5 0 5 0 5 0 5 0 5 0 5 0 5 0 5 0 5 0 5 0 5 0 5 0 5 0 5 0 5 0 5 0 5 0 5 0 5 0 5 0 5 0 5 0 5 0 5 0 5 0 5 0" stroke="#0000b6"/>
<path d="M145 246l5-2 5-14 5-26 5-23 5-17 5-12 5 0 5 3 5-8 5-12 5-7 5-17 5-7 5 4 5-2 5-4 5 6 5 5 5 5 5 13 5 7 5-9 5 0 5 3 5 1 5 11 5 9 5 1 5 6 5 8 5 5 5 1 5 5 5 0 5 3 5 6 5 3 5 6 5 10 5 9 5 8 5 3 5 0 5 2 5 8 5 11 5 9 5 4 5 4 5 5 5 9 5 10 5 8 5 3 5 0 5 3 5 4 5 7 5 11 5 7 5 4 5 7 5 3 5 4 5 6 5 0 5-1 5 6 5 10 5 8 5 6 5 0 5-6 5 1 5 9 5 8 5 4 5-1 5-5 5 1 5 8 5 6 5 2 5-1 5-2 5 4 5 10 5 6 5-4 5-8 5-6 5 5 5 18 5 17 5 5 5-7 5-12 5-6 5 6 5 15 5 12 5 4 5-1 5 0 5 4 5 6 5 4 5 0 5-1 5 4 5 6 5 7 5 6 5 4 5 2 5 4 5 3 5-4 5-3 5 2 5 8 5 16 5 17 5 2 5-10 5-13 5-8 5 7 5 21 5 18 5 6 5-3 5-11 5-8 5 3 5 9 5 8 5 8 5 2 5-1 5 0 5 2 5 2 5 4 5 3 5-1 5-2 5 1 5 4 5 5 5 0 5 0 5 0 5 0 5-3 5 0 5 3 5 0 5 0 5 0 5 0 5 0 5 0 5 0 5 0 5 0 5 0 5 0 5 0 5 0 5 0 5 0 5 0 5 0 5 0 5 0 5 0 5 0 5 0 5 0 5 0 5 0 5 0 5 0 5 0 5 0 5 0 5 0 5 0 5 0 5 0 5 0 5 0 5 0 5 0 5 0 5 0 5 0 5 0 5 0 5 0 5 0 5 0 5 0 5 0 5 0 5 0 5 0 5 0 5 0 5 0 5 0 5 0 5 0 5 0 5 0" stroke="#0000b9"/>
<path d="M145 298l5-23 5-17 5-15 5-15 5-13 5-11 5-8 5-10 5-9 5 1 5-4 5-5 5-2 5-15 5-7 5 9 5 8 5 6 5-1 5-7 5-4 5 5 5 14 5 16 5 7 5 10 5 5 5-8 5-1 5 1 5 0 5 10 5 6 5 0 5 0 5 2 5 9 5 12 5 10 5 7 5 0 5-1 5 8 5 4 5 5 5 2 5-4 5 3 5 8 5 7 5 8 5 7 5 8 5 6 5 3 5-1 5-1 5 2 5 10 5 4 5-3 5 0 5 0 5 7 5 12 5 8 5 3 5 1 5 3 5 3 5 3 5 4 5 4 5 2 5 6 5 2 5-2 5 2 5 6 5 8 5 10 5 3 5-1 5-1 5 3 5 8 5 3 5 1 5 1 5 1 5 6 5 8 5 4 5 4 5 5 5 4 5 3 5 0 5 0 5 2 5 6 5 10 5 7 5 4 5 6 5 4 5 2 5 1 5-5 5-3 5 8 5 14 5 14 5 9 5 0 5-5 5-6 5 0 5 4 5 6 5 11 5 13 5 6 5 2 5-4 5-5 5 3 5 7 5 6 5 3 5 2 5 4 5 4 5 0 5 0 5 0 5 0 5 0 5 0 5 0 5 0 5 0 5 0 5 0 5 0 5 0 5 0 5 0 5 0 5 0 5 0 5 0 5 0 5 0 5 0 5 0 5 0 5 0 5 0 5 0 5 0 5 0 5 0 5 0 5 0 5 0 5 0 5 0 5 0 5 0 5 0 5 0 5 0 5 0 5 0 5 0 5 0 5 0 5 0 5 0 5 0 5 0 5 0 5 0 5 0 5 0 5 0 5 0 5 0 5 0 5 0 5 0 5 0 5 0 5 0 5 0 5 0 5 0 5 0 5 0 5 0 5 0 5 0 5 0 5 0 5 0 5 0 5 0 5 0 5 0 5 0 5 0 5 0 5 0 5 0 5 0" stroke="#0000b9"/>
<path d="M145 257l5-5 5-5 5-10 5-11 5-20 5-16 5-11 5-11 5-14 5-10 5-6 5-3 5 1 5 2 5 3 5 9 5 1 5-4 5-4 5-3 5-1 5 8 5 10 5 4 5 4 5 5 5 5 5 11 5 8 5-5 5-1 5 5 5 2 5 1 5 1 5-5 5 2 5 13 5 12 5 11 5 13 5-4 5-2 5 4 5-1 5-4 5 4 5 6 5 6 5 11 5 6 5 3 5 12 5 8 5-1 5-1 5-3 5-6 5 4 5 7 5 3 5 5 5 9 5 7 5 8 5 6 5-8 5-5 5 3 5 4 5 6 5 4 5-1 5 0 5 5 5 4 5 3 5 4 5 3 5 3 5 4 5-5 5-9 5 0 5 8 5 13 5 10 5-1 5-7 5 0 5 6 5 1 5-2 5-4 5 3 5 18 5 20 5 6 5-10 5-12 5-4 5 11 5 15 5 3 5-4 5 2 5 10 5 16 5 9 5-6 5-12 5-3 5 7 5 11 5 9 5 1 5 1 5 10 5 10 5 5 5-5 5-12 5-8 5 7 5 16 5 17 5 9 5-1 5-6 5-4 5 0 5 0 5 1 5 1 5 5 5 13 5 14 5 4 5-7 5-13 5-7 5 5 5 13 5 7 5 0 5-4 5 2 5 11 5 10 5-2 5-13 5-11 5 2 5 14 5 12 5 2 5-4 5 1 5 8 5 8 5-4 5-16 5-12 5 5 5 21 5 22 5 5 5-11 5-11 5-2 5 5 5 3 5-4 5-4 5 7 5 18 5 8 5 0 5-10 5-14 5-1 5 11 5 10 5 2 5-3 5-1 5 6 5 0 5 0 5 0 5-4 5-5 5 3 5 6 5 0 5 0 5 0 5 0 5 0 5 0 5 0 5 0 5-3 5 3 5 0 5 0 5 0 5 0 5 0 5 0 5 0 5 0 5 0 5 0 5 0 5 0" stroke="#0000b9"/>
<path d="M145 219l5-14 5-9 5-2 5-7 5-10 5-16 5-13 5-15 5-11 5-6 5-5 5 1 5 5 5-2 5-6 5-3 5 0 5 4 5 5 5 7 5 15 5 7 5-5 5-4 5-1 5 0 5 11 5 20 5 11 5 0 5-7 5-5 5 1 5 13 5 14 5 3 5 1 5 8 5 1 5 5 5 8 5 3 5 1 5 6 5 12 5 17 5 8 5 0 5 1 5 2 5 4 5 10 5 13 5 11 5 8 5 3 5-2 5-3 5 7 5 11 5 11 5 11 5 6 5-7 5-3 5 8 5 9 5 7 5 4 5 1 5 2 5 4 5 5 5 3 5 0 5 1 5 3 5 6 5 5 5-1 5-2 5-1 5 6 5 10 5 6 5-1 5-3 5-2 5 0 5 4 5 6 5 3 5 4 5 7 5 6 5 2 5 0 5-3 5-4 5 2 5 7 5 8 5 10 5 11 5 6 5-1 5-7 5-9 5-2 5 9 5 16 5 16 5 5 5-4 5-5 5-1 5 2 5 4 5 3 5 2 5 5 5 12 5 10 5 4 5-2 5-6 5-7 5 2 5 8 5 10 5 10 5 9 5 4 5-1 5-6 5-6 5-1 5 6 5 11 5 12 5 7 5 2 5 0 5-1 5-3 5-3 5 2 5 5 5 2 5 0 5 0 5 0 5 0 5 0 5 0 5 0 5 0 5 0 5 0 5 0 5 0 5 0 5 0 5 0 5 0 5 0 5 0 5 0 5 0 5 0 5 0 5 0 5 0 5 0 5 0 5 0 5 0 5 0 5 0 5 0 5 0 5 0 5 0 5 0 5 0 5 0 5 0 5 0 5 0 5 0 5 0 5 0 5 0 5 0 5 0 5 0 5 0 5 0 5 0 5 0 5 0 5 0 5 0 5 0 5 0 5 0 5 0 5 0 5 0 5 0 5 0 5 0 5 0 5 0 5 0 5 0" stroke="#0000ba"/>
<path d="M145 253l5 1 5-1 5-18 5-16 5-24 5-15 5-5 5-12 5 1 5-2 5-6 5-3 5-12 5-6 5-3 5-3 5 16 5 14 5 12 5 2 5-12 5-5 5 2 5 6 5 19 5 10 5 7 5-1 5-8 5 4 5 4 5 3 5 9 5 5 5 12 5 8 5 0 5 3 5-1 5 5 5 14 5 14 5 19 5 8 5-2 5 2 5 4 5 10 5 13 5 8 5 7 5 2 5-3 5 3 5 4 5 6 5 4 5 3 5 6 5 4 5 0 5 1 5 2 5 4 5 4 5 5 5 4 5 3 5-1 5 1 5 4 5 4 5 5 5 4 5 1 5 2 5 1 5 2 5 5 5 4 5 3 5 2 5 0 5 2 5 2 5 3 5 7 5 3 5 3 5 0 5-1 5 2 5 3 5 5 5 8 5 4 5 3 5 0 5-1 5 2 5 2 5 6 5 7 5 3 5 5 5 0 5-1 5 3 5 1 5 5 5 5 5 2 5 5 5 0 5 1 5 3 5 0 5 5 5 4 5 2 5 5 5 0 5 3 5 3 5 1 5 5 5 1 5 3 5 4 5 1 5 5 5 3 5 1 5 4 5 0 5 3 5 4 5 1 5 6 5 2 5 1 5 3 5-1 5 3 5 3 5 2 5 2 5 0 5 0 5 0 5 0 5 0 5 0 5 0 5 0 5 0 5 0 5 0 5 0 5 0 5 0 5 0 5 0 5 0 5 0 5 0 5 0 5 0 5 0 5 0 5 0 5 0 5 0 5 0 5 0 5 0 5 0 5 0 5 0 5 0 5 0 5 0 5 0 5 0 5 0 5 0 5 0 5 0 5 0 5 0 5 0 5 0 5 0 5 0 5 0 5 0 5 0 5 0 5 0 5 0 5 0 5 0 5 0 5 0 5 0 5 0 5 0 5 0 5 0 5 0 5 0 5 0 5 0 5 0 5 0 5 0" stroke="#0000bb"/>
<path d="M145 286l5-7 5-6 5-9 5-12 5-15 5-16 5-18 5-16 5-13 5-10 5-7 5-2 5 1 5 3 5 2 5 0 5 2 5 1 5 1 5 2 5 4 5 5 5 2 5 1 5 4 5 8 5 6 5 3 5 7 5 10 5 9 5 2 5 3 5 3 5-2 5-1 5 4 5 4 5 2 5 2 5 8 5 8 5 8 5 14 5 15 5 1 5-7 5-7 5-1 5 1 5 7 5 12 5 8 5-1 5-4 5 0 5 5 5 9 5 11 5 3 5-4 5-8 5-5 5 2 5 6 5 7 5 3 5 0 5-2 5-1 5 4 5 7 5 6 5 1 5-2 5-2 5 0 5 1 5 2 5 1 5 1 5 1 5 4 5 5 5 4 5 0 5-1 5 1 5 3 5 2 5 1 5 3 5 5 5 5 5 5 5 3 5 0 5-2 5 2 5 9 5 7 5 2 5 1 5 2 5 5 5 7 5 7 5 1 5-4 5-2 5 6 5 11 5 7 5 3 5-1 5-1 5 2 5 5 5 4 5 0 5-1 5 4 5 11 5 9 5 2 5-7 5-10 5-3 5 9 5 17 5 12 5 0 5-11 5-10 5 0 5 10 5 10 5 5 5-4 5-4 5 0 5 5 5 8 5 2 5-4 5-5 5 2 5 7 5 5 5 2 5 0 5-1 5 1 5 5 5 4 5-1 5-5 5 1 5 7 5 9 5 5 5 0 5-5 5-5 5 0 5 8 5 8 5 3 5 0 5 2 5 1 5 1 5-1 5-1 5-1 5 3 5 8 5 8 5 2 5-5 5-6 5 0 5 3 5 6 5 4 5 0 5-1 5 2 5 4 5 3 5-3 5-6 5-3 5 5 5 11 5 7 5 0 5-9 5-7 5 0 5 8 5 8 5 0 5-3 5-8 5 0 5 9 5 2 5 0 5 0 5-5 5-6 5 6 5 5 5 0 5 0" stroke="#0000be"/>
<path d="M145 256l5-22 5-11 5-7 5-8 5-8 5-9 5-5 5-5 5-9 5-8 5-12 5-13 5-5 5 1 5 1 5 2 5 2 5 6 5 11 5 3 5 8 5 6 5-5 5 0 5 6 5 5 5 4 5-3 5-1 5 6 5 4 5 10 5 18 5 8 5-3 5-2 5-3 5-1 5-2 5 0 5 9 5 8 5 8 5 14 5 12 5 3 5-3 5-1 5 1 5 0 5-3 5 1 5 4 5 5 5 12 5 15 5 9 5-1 5-9 5-6 5 0 5 3 5 7 5 7 5-1 5 0 5 3 5 7 5 9 5 4 5-1 5-2 5-5 5 0 5 5 5 4 5 3 5 1 5 2 5 4 5 5 5 2 5 0 5-3 5-3 5 5 5 6 5 4 5 1 5-1 5 0 5 4 5 7 5 8 5 1 5-7 5-3 5 3 5 10 5 13 5 9 5 0 5-5 5-6 5 2 5 10 5 7 5 6 5 2 5-1 5 2 5 5 5 7 5 5 5-2 5-3 5 1 5 4 5 7 5 8 5 4 5 0 5 0 5 1 5 3 5 1 5 0 5 3 5 2 5 5 5 8 5 5 5 0 5-5 5-5 5 2 5 5 5 7 5 7 5 1 5-3 5-2 5 2 5 5 5 4 5 0 5-2 5-2 5-1 5 7 5 9 5 5 5 0 5-4 5-5 5-1 5 2 5 6 5 8 5 2 5 1 5 1 5-1 5 0 5 0 5 1 5 2 5 1 5 3 5 5 5 1 5 1 5 1 5 1 5-1 5 0 5 0 5 1 5 2 5 2 5 6 5 4 5 0 5-1 5-3 5-3 5 0 5 3 5 8 5 6 5 1 5 0 5-1 5-4 5 0 5 3 5 4 5 3 5 0 5 1 5 2 5 1 5 3 5 4 5-1 5-3 5-2 5-1 5 4 5 6 5 7 5 5 5-3 5-6 5-2 5-2" stroke="#0000be"/>
<path d="M145 240l5-11 5-12 5-11 5-19 5-12 5-3 5-11 5-15 5-11 5-13 5-6 5 3 5-5 5-4 5 1 5-5 5-2 5 10 5 4 5 4 5 6 5-1 5 3 5 10 5 2 5-1 5 8 5 6 5 9 5 6 5-1 5-4 5 5 5 4 5 9 5 12 5 5 5 0 5-2 5 2 5 5 5 10 5 4 5 2 5 7 5 9 5 7 5 4 5 1 5-1 5 1 5 6 5 8 5 6 5 6 5 1 5 0 5 4 5 4 5 1 5 1 5 2 5 5 5 11 5 4 5-1 5-2 5-1 5 2 5 8 5 6 5 1 5 0 5-1 5 1 5 5 5 4 5-1 5-1 5 1 5 2 5 6 5 5 5 0 5 1 5 1 5-2 5-1 5 0 5 0 5 6 5 11 5 8 5 4 5-4 5-8 5-3 5 7 5 9 5 8 5 1 5-5 5 1 5 9 5 12 5 10 5-1 5-10 5-9 5-1 5 9 5 15 5 13 5 5 5-2 5-4 5-4 5-1 5 3 5 6 5 7 5 6 5 2 5 0 5 0 5 6 5 7 5 4 5-1 5-10 5-8 5 4 5 14 5 18 5 12 5-3 5-14 5-11 5-2 5 8 5 14 5 7 5 0 5-2 5-1 5 2 5 8 5 3 5-1 5-1 5-5 5-3 5 4 5 9 5 10 5 13 5 2 5-9 5-11 5-10 5 1 5 15 5 17 5 8 5-2 5-10 5-8 5 5 5 10 5 7 5-1 5-9 5-8 5 3 5 12 5 14 5 8 5-2 5-11 5-11 5-6 5 2 5 10 5 13 5 10 5 1 5-6 5-10 5-7 5 3 5 10 5 7 5 1 5-7 5-8 5 2 5 13 5 13 5 6 5-8 5-19 5-12 5 2 5 13 5 19 5 11 5-3 5-10 5-9 5-7 5 3 5 8 5 5 5 3 5 1 5-6" stroke="#0000c1"/>
<path d="M145 216l5-17 5-11 5-12 5-18 5-15 5-10 5-11 5-2 5 8 5-3 5-21 5-12 5-9 5-7 5 3 5 8 5 5 5 4 5 8 5 11 5 5 5-2 5-1 5 1 5-3 5-3 5 9 5 13 5 10 5 15 5 15 5-10 5-8 5 3 5 3 5 3 5 6 5 5 5 6 5 10 5 16 5 13 5 2 5-5 5-4 5-2 5 0 5 9 5 19 5 15 5 8 5 9 5-5 5-9 5 0 5 7 5 7 5 6 5 4 5 4 5 5 5 6 5 8 5 2 5-1 5-2 5 3 5 3 5 1 5 4 5 5 5 1 5 3 5 3 5 1 5 1 5 2 5 0 5-1 5-2 5 0 5 4 5 5 5 6 5 4 5 2 5-4 5-4 5 0 5 1 5 4 5 8 5 6 5 0 5-1 5-1 5 1 5 6 5 8 5 5 5 0 5-3 5-2 5 3 5 8 5 10 5 9 5 2 5-6 5-6 5-1 5 4 5 10 5 14 5 8 5-1 5-5 5-5 5-1 5 5 5 9 5 9 5 5 5 0 5 0 5 2 5 0 5 2 5 3 5 0 5 0 5 6 5 8 5 5 5 4 5-1 5-7 5-6 5 1 5 8 5 13 5 9 5 1 5-5 5-8 5-5 5 6 5 10 5 7 5 4 5-1 5-6 5-2 5 7 5 8 5 5 5 0 5-5 5-5 5 1 5 9 5 13 5 8 5-2 5-8 5-8 5-3 5 7 5 15 5 10 5 0 5-5 5-6 5-4 5 5 5 9 5 4 5-1 5-5 5-3 5 5 5 9 5 7 5 1 5-9 5-13 5-4 5 7 5 14 5 15 5 6 5-12 5-17 5-11 5 1 5 13 5 18 5 9 5-4 5-13 5-13 5-2 5 8 5 11 5 8 5-1 5-10 5-7 5 2 5 8 5 7 5 5 5-4 5-11 5-6 5 3" stroke="#0000c5"/>
<path d="M145 237l5-15 5-5 5-10 5-9 5-3 5-16 5-14 5-10 5-20 5-18 5 0 5 3 5 6 5 11 5-11 5-13 5 3 5 2 5 4 5 9 5 1 5 4 5 15 5 10 5-4 5 2 5-3 5 0 5 8 5 5 5 7 5 12 5 8 5 2 5-3 5 0 5 4 5 6 5 4 5 2 5 3 5 12 5 17 5 5 5-1 5-5 5-4 5 6 5 11 5 8 5 7 5 4 5 3 5 4 5 4 5-3 5-2 5 0 5 3 5 12 5 11 5 3 5 0 5-2 5-3 5 3 5 2 5 0 5 8 5 8 5 2 5 2 5-6 5-4 5 6 5 7 5 1 5-1 5-2 5 0 5 7 5 5 5-2 5-2 5-1 5 2 5 3 5 3 5 2 5 3 5 3 5 0 5-3 5-3 5 4 5 11 5 11 5 5 5-6 5-8 5-1 5 4 5 11 5 12 5 5 5 2 5 0 5-6 5-4 5 3 5 8 5 15 5 13 5-2 5-8 5-7 5-2 5 9 5 15 5 8 5 4 5 1 5-5 5-4 5 0 5 3 5 11 5 14 5 6 5-3 5-8 5-7 5 2 5 11 5 10 5 6 5 2 5-3 5-2 5-2 5-2 5 3 5 9 5 11 5 5 5-3 5-8 5-6 5 2 5 8 5 8 5 5 5 3 5-1 5-4 5-3 5-4 5 1 5 11 5 12 5 4 5-2 5-10 5-9 5 3 5 7 5 9 5 8 5 1 5-3 5-4 5-8 5-5 5 6 5 12 5 11 5 6 5-9 5-15 5-5 5 2 5 10 5 12 5 6 5-2 5-5 5-8 5-7 5 1 5 8 5 12 5 11 5 0 5-12 5-12 5-4 5 7 5 13 5 10 5 2 5-3 5-6 5-6 5-4 5 3 5 9 5 11 5 8 5-2 5-12 5-8 5-1 5 7 5 12 5 8 5-2" stroke="#0000c9"/>
<path d="M145 280l5-10 5-4 5-6 5-15 5-20 5-12 5-9 5-9 5-20 5-20 5-8 5-1 5 7 5 9 5 1 5-1 5-6 5-3 5 4 5-1 5-4 5 8 5 9 5 8 5 7 5 2 5 9 5 10 5-1 5 0 5-3 5-3 5 8 5 10 5 6 5 1 5-3 5 9 5 22 5 14 5-1 5-8 5-9 5 3 5 9 5 9 5 7 5 2 5 6 5 14 5 10 5 1 5-9 5-5 5 5 5 7 5 2 5 1 5 0 5 4 5 9 5 4 5-1 5-3 5-1 5 8 5 7 5-3 5-7 5-4 5 3 5 10 5 5 5 0 5 0 5 1 5 4 5 4 5-6 5-7 5-2 5 7 5 11 5 5 5-4 5-4 5-2 5 5 5 7 5 2 5 2 5 1 5 1 5 3 5 1 5 2 5 8 5 8 5 3 5-5 5-8 5 4 5 15 5 16 5 8 5-8 5-16 5-4 5 10 5 20 5 15 5-2 5-9 5-8 5-3 5 7 5 11 5 8 5 5 5-1 5-4 5-3 5-1 5 4 5 9 5 4 5 1 5-2 5 0 5 7 5 4 5-3 5-4 5-4 5 5 5 14 5 12 5 2 5-9 5-14 5-2 5 9 5 15 5 14 5 4 5-7 5-11 5-6 5 5 5 14 5 12 5 7 5-3 5-9 5-5 5 4 5 11 5 11 5 2 5-4 5-3 5-1 5 5 5 9 5 4 5-1 5-4 5-4 5 3 5 7 5 6 5 3 5-5 5-7 5-2 5 5 5 9 5 5 5-6 5-8 5-3 5 4 5 10 5 5 5-2 5-9 5-8 5 1 5 9 5 9 5 6 5-2 5-9 5-8 5-5 5 6 5 15 5 13 5 2 5-10 5-16 5-6 5 8 5 17 5 13 5-1 5-11 5-6 5 1 5 7 5 5 5-1 5 0 5 2 5 4 5 4" stroke="#0000cc"/>
<path d="M145 243l5-4 5-4 5-10 5-14 5-19 5-15 5-12 5-10 5-7 5-4 5-5 5 0 5 3 5-3 5-8 5-1 5 3 5 1 5 8 5 16 5 12 5-6 5-3 5-2 5-1 5 4 5 11 5 11 5 9 5 4 5-3 5 0 5-2 5 2 5 8 5 7 5 5 5 12 5 10 5-4 5-2 5 2 5 0 5 3 5 13 5 15 5 12 5 0 5-4 5-3 5-1 5 5 5 11 5 11 5 7 5 3 5-2 5-2 5-1 5 6 5 7 5 3 5 3 5 6 5 4 5-1 5 2 5 2 5-1 5 1 5 3 5 6 5 7 5 2 5-2 5-2 5-2 5 1 5 5 5 4 5 0 5 0 5 0 5 0 5 4 5 7 5 1 5-5 5-5 5-2 5 2 5 8 5 11 5 5 5-1 5-6 5-4 5 2 5 4 5 6 5 5 5 0 5 0 5 4 5 8 5 6 5 1 5-3 5-7 5-5 5 6 5 15 5 14 5 8 5-2 5-10 5-11 5-3 5 9 5 15 5 13 5 6 5 0 5-6 5-6 5 0 5 6 5 4 5 6 5 6 5 4 5 2 5 4 5 1 5-3 5-3 5-1 5 4 5 8 5 9 5 7 5 2 5-5 5-5 5-2 5 2 5 4 5 8 5 7 5 2 5 0 5 1 5-1 5-2 5 1 5 2 5 1 5 4 5 6 5 6 5 2 5 0 5-2 5-4 5-4 5 0 5 7 5 8 5 8 5 6 5-1 5-9 5-10 5-4 5 1 5 9 5 15 5 11 5 0 5-9 5-12 5-8 5 0 5 10 5 13 5 9 5 0 5-7 5-6 5-3 5 1 5 6 5 6 5-2 5-1 5 1 5 4 5 4 5 5 5-1 5-7 5-7 5 0 5 6 5 11 5 9 5 3 5-5 5-9 5-7 5 2 5 6 5 6 5 6 5 3 5-4" stroke="#0000ce"/>
<path d="M145 252l5-24 5-21 5-15 5-12 5-4 5-7 5-16 5-7 5 1 5-4 5-18 5-13 5-9 5 1 5 3 5 3 5 7 5 4 5 3 5 12 5 0 5-4 5 5 5 8 5 1 5 0 5 1 5 9 5 19 5 14 5 1 5-4 5-7 5-5 5 8 5 10 5 8 5 12 5 9 5 6 5 1 5-7 5 3 5 10 5 3 5 0 5 5 5 7 5 10 5 13 5 6 5-6 5-4 5 0 5 4 5 6 5 1 5 6 5 8 5 1 5 3 5 2 5 3 5 4 5 0 5-5 5-1 5 3 5 8 5 10 5 4 5-4 5-2 5 1 5-1 5 1 5 3 5 3 5 4 5 1 5 1 5 4 5 4 5 1 5 0 5-4 5-2 5 7 5 11 5 5 5-1 5-4 5 0 5 6 5 6 5 5 5 5 5 1 5 0 5 1 5 3 5 7 5 9 5 4 5-2 5-5 5-1 5 9 5 14 5 6 5-2 5-2 5-2 5 3 5 6 5 6 5 5 5 4 5 1 5 0 5 1 5 2 5 8 5 6 5-3 5-3 5 4 5 8 5 8 5 2 5-5 5-4 5 0 5 4 5 9 5 7 5 1 5 1 5-3 5-6 5-1 5 6 5 10 5 7 5-1 5-6 5-1 5 1 5 2 5 4 5 1 5 1 5 4 5 4 5 0 5-2 5-2 5 1 5 3 5 1 5 3 5 8 5 4 5-2 5-4 5-6 5 0 5 8 5 8 5 5 5 0 5-4 5-1 5 0 5-2 5 1 5 7 5 6 5 3 5 0 5-5 5-2 5 1 5 2 5 3 5 3 5 3 5 5 5 2 5-6 5-5 5 2 5 5 5 6 5 2 5 0 5 1 5 1 5-2 5 0 5-1 5 1 5 6 5 5 5 0 5-1 5 0 5 0 5-1 5-3 5 1 5 8 5 6 5 1 5-4 5-7" stroke="#0000d0"/>
<path d="M145 308l5-14 5-18 5-17 5-19 5-10 5-4 5-5 5-5 5-13 5-16 5-11 5-10 5-2 5 3 5 3 5 5 5-4 5-6 5 7 5 3 5 1 5 3 5 2 5 13 5 16 5 7 5-8 5-10 5 0 5 3 5 5 5 12 5 8 5 7 5 7 5-7 5-2 5 4 5 3 5 3 5-1 5 8 5 17 5 11 5-1 5-7 5-7 5 5 5 12 5 12 5 6 5 3 5 4 5-4 5 1 5 3 5 0 5 3 5 5 5 6 5 9 5 10 5-1 5-3 5-7 5-2 5 5 5 10 5 11 5 1 5-3 5-3 5 3 5 6 5 2 5-4 5-3 5 1 5 6 5 6 5-2 5-1 5-2 5-1 5 1 5 0 5 2 5 2 5 0 5 0 5 0 5 4 5 5 5-1 5-3 5-1 5 3 5 9 5 6 5 1 5-2 5 0 5 5 5 5 5 2 5 4 5 4 5 6 5 6 5-1 5-1 5 0 5 5 5 9 5 7 5 6 5 1 5-4 5-3 5 2 5 10 5 14 5 7 5-5 5-10 5-3 5 9 5 13 5 7 5-2 5-9 5-1 5 6 5 6 5 4 5-3 5-3 5-1 5 5 5 8 5 3 5-3 5-6 5-6 5 3 5 15 5 11 5 1 5-12 5-13 5 1 5 14 5 18 5 5 5-9 5-10 5-2 5 7 5 13 5 7 5 0 5-3 5-3 5 3 5 6 5 7 5 3 5-5 5-2 5 4 5 9 5 7 5-2 5-9 5-6 5 6 5 13 5 8 5-3 5-8 5-8 5 1 5 8 5 5 5 3 5-1 5-4 5-5 5-2 5 3 5 4 5 3 5 1 5-3 5-2 5 1 5-1 5-1 5 0 5 4 5 6 5 2 5-4 5-6 5-2 5 7 5 8 5 1 5-2 5-2 5 1 5 4 5 2 5 0 5-2 5 2" stroke="#0000d4"/>
<path d="M145 250l5-9 5-6 5-15 5-20 5-11 5-6 5-7 5-6 5-1 5-10 5-19 5-14 5-6 5 0 5 8 5 10 5 2 5-2 5 2 5 9 5 14 5 8 5-4 5-8 5-1 5 2 5 4 5 11 5 11 5 1 5 2 5 9 5 7 5 4 5 4 5 4 5-2 5-3 5 2 5 7 5 10 5 10 5 4 5 2 5 3 5 6 5 9 5 10 5 1 5-5 5 1 5 8 5 6 5 3 5 4 5 1 5 0 5 5 5 8 5 6 5 3 5 2 5 1 5 1 5 0 5 2 5 4 5 6 5 0 5-2 5 1 5 4 5 5 5 7 5 3 5-6 5-6 5 1 5 4 5 3 5 3 5 2 5-1 5-3 5-3 5-2 5 3 5 7 5 7 5 2 5-5 5-7 5-3 5 8 5 8 5 0 5-4 5-2 5 4 5 9 5 11 5 1 5-10 5-11 5 0 5 11 5 16 5 12 5 3 5-9 5-12 5-6 5 5 5 17 5 14 5 5 5-4 5-8 5-3 5 6 5 12 5 4 5-4 5-1 5 6 5 10 5 9 5 1 5-7 5-8 5 0 5 10 5 14 5 9 5 1 5-4 5-4 5-3 5 1 5 7 5 10 5 5 5 2 5 2 5 0 5-2 5 1 5 1 5-1 5 4 5 11 5 10 5 3 5-6 5-10 5-4 5 6 5 11 5 9 5 4 5-3 5-4 5 1 5 3 5-1 5-2 5 2 5 5 5 6 5 5 5 2 5-4 5-8 5-4 5 1 5 6 5 9 5 8 5 1 5-7 5-10 5-5 5 5 5 8 5 3 5 1 5 0 5 0 5 1 5 0 5-5 5-8 5 0 5 10 5 12 5 5 5-4 5-11 5-8 5-1 5 7 5 8 5 6 5-1 5-3 5-2 5 0 5 0 5 2 5 1 5-3 5-2 5 6 5 11 5 6 5-4" stroke="#0000d7"/>
<path d="M145 278l5-8 5-9 5-13 5-11 5-4 5-13 5-15 5-11 5-16 5-11 5-8 5-9 5-5 5-4 5 5 5 11 5 2 5 4 5 6 5-2 5 1 5-2 5-2 5 4 5 4 5 8 5 9 5-4 5 1 5 12 5 14 5 11 5-5 5-7 5 0 5 1 5 8 5 7 5-2 5 2 5 11 5 12 5 10 5 2 5 1 5 4 5 3 5 6 5 3 5-4 5-1 5 5 5 7 5 7 5 1 5 5 5 10 5 5 5-3 5-2 5-2 5 4 5 4 5 2 5 0 5-1 5 4 5 9 5 2 5 1 5 2 5 0 5 4 5 0 5-1 5-1 5 0 5 5 5 5 5-2 5-2 5 3 5 7 5 6 5-3 5-5 5-3 5 2 5 9 5 10 5 3 5 1 5-2 5-3 5-3 5-4 5 6 5 15 5 14 5 6 5-4 5-10 5-3 5 3 5 7 5 7 5 0 5 4 5 7 5 4 5 2 5-2 5-2 5 2 5 0 5 1 5 2 5 5 5 11 5 11 5 0 5-8 5-10 5-2 5 8 5 8 5 8 5 5 5 0 5 3 5 0 5-3 5-3 5 1 5 6 5 6 5 1 5 1 5 5 5 7 5 6 5-3 5-9 5-8 5 1 5 12 5 16 5 7 5 2 5-2 5-7 5-8 5-5 5 4 5 13 5 14 5 9 5-2 5-13 5-6 5 2 5 8 5 6 5 0 5-1 5 2 5 1 5 4 5 3 5 1 5 2 5-1 5-7 5-6 5-1 5 12 5 17 5 8 5-4 5-12 5-14 5-2 5 5 5 11 5 10 5 6 5 4 5-3 5-11 5-8 5 1 5 8 5 11 5 3 5-2 5-2 5 0 5 7 5 5 5-5 5-6 5-3 5 2 5 6 5 5 5 7 5 5 5-1 5-5 5-11 5-10 5 3 5 12 5 15 5 5 5-7" stroke="#0000d7"/>
<path d="M145 266l5-22 5-12 5-15 5-8 5-1 5-7 5-10 5-14 5-14 5-15 5-9 5-6 5-2 5 5 5 10 5-6 5-9 5-3 5 5 5 7 5 7 5 7 5 9 5 9 5-5 5 1 5-4 5-5 5 5 5 7 5 13 5 24 5 10 5-13 5-9 5-2 5-2 5 9 5 16 5 11 5 13 5 5 5-4 5-5 5 1 5 4 5 6 5 14 5 14 5 10 5-9 5-6 5 1 5 8 5 10 5 8 5 2 5 0 5 2 5 2 5 4 5 4 5 3 5-2 5 0 5 8 5 10 5 1 5 0 5-1 5-3 5 1 5 4 5 0 5 3 5 8 5 1 5-1 5-2 5-5 5-5 5 3 5 8 5 6 5 2 5-5 5-7 5-1 5 7 5 8 5 3 5-5 5-7 5-4 5 3 5 10 5 13 5 6 5-1 5-4 5-7 5-6 5 2 5 8 5 11 5 14 5 9 5-3 5-9 5-8 5-2 5 7 5 15 5 9 5 1 5-2 5-1 5 1 5 6 5 6 5 0 5-1 5 1 5 3 5 5 5 5 5 4 5 2 5 3 5 2 5 1 5-2 5-3 5 2 5 5 5 6 5 7 5 3 5-2 5 0 5 2 5-2 5-1 5-1 5 0 5 7 5 14 5 9 5 0 5-7 5-11 5-8 5 5 5 13 5 11 5 8 5 2 5-5 5-5 5-2 5 0 5 3 5 7 5 7 5 5 5-1 5-4 5-3 5 3 5 7 5 8 5 1 5-7 5-7 5-1 5 4 5 12 5 11 5 0 5-6 5-5 5-6 5-2 5 4 5 4 5 4 5 7 5 5 5-2 5-5 5-7 5-6 5 0 5 7 5 6 5 4 5 1 5 0 5-1 5-2 5-3 5-5 5-3 5 4 5 9 5 8 5 1 5-4 5-8 5-5 5 3 5 8 5 3 5-1 5-1 5-5" stroke="#0000db"/>
<path d="M145 231l5-4 5-7 5-6 5-9 5-18 5-12 5-8 5-15 5-15 5-14 5-14 5-2 5 5 5 0 5 1 5 2 5 3 5 10 5 10 5-2 5-2 5 0 5 0 5 3 5 2 5 1 5 3 5 7 5 11 5 11 5 5 5 7 5 6 5-3 5 4 5 2 5-2 5 3 5 6 5 2 5 5 5 4 5 2 5 12 5 15 5 10 5 9 5-3 5-6 5 3 5 6 5 2 5 1 5 1 5 3 5 9 5 8 5 3 5 2 5 2 5 9 5 9 5 3 5-1 5-5 5-4 5 5 5 6 5 4 5 2 5 0 5 1 5 7 5 6 5 0 5-1 5-3 5 0 5 5 5 4 5-1 5-2 5-2 5-1 5 5 5 3 5 2 5 2 5 1 5 0 5 1 5 0 5-1 5 3 5 4 5 5 5 4 5 0 5-1 5-2 5 1 5 5 5 6 5 6 5 5 5 0 5-4 5-1 5 1 5 6 5 11 5 6 5-1 5-3 5-3 5 1 5 8 5 8 5 3 5 3 5 0 5 0 5 3 5 1 5 1 5 5 5 6 5 6 5 4 5-3 5-6 5-1 5 6 5 12 5 8 5-1 5-6 5-5 5 1 5 9 5 7 5 3 5 0 5-2 5 0 5 3 5 2 5 0 5 2 5 4 5 4 5 4 5-2 5-5 5 0 5 4 5 7 5 7 5 0 5-5 5-2 5 1 5 5 5 6 5 3 5-1 5-1 5-1 5 1 5 3 5 3 5 3 5 1 5 0 5 0 5-2 5 1 5 4 5 2 5 2 5 1 5-1 5-2 5 2 5 1 5 2 5 4 5 1 5 0 5 0 5-3 5-2 5 3 5 5 5 5 5 2 5-5 5-6 5-1 5 4 5 8 5 5 5-2 5-5 5-4 5 0 5 5 5 3 5 1 5 1 5-1 5 1 5 0 5-4 5-3 5 3" stroke="#0000df"/>
<path d="M145 286l5-13 5-15 5-10 5-6 5 0 5-2 5-18 5-22 5-16 5-10 5-6 5 0 5-2 5-5 5 3 5 14 5 12 5 0 5-1 5-8 5-7 5 8 5 12 5 5 5 5 5 6 5 4 5 10 5 10 5-2 5-9 5-3 5 2 5 6 5 13 5 11 5 1 5 1 5 8 5 6 5 1 5 2 5-2 5-2 5 6 5 10 5 8 5 5 5 1 5 2 5 6 5 4 5 4 5 1 5-4 5-3 5 3 5 6 5 5 5 4 5 4 5 2 5 1 5 5 5-1 5-4 5-2 5-1 5 3 5 9 5 7 5 1 5 0 5-2 5-2 5 1 5 4 5-1 5-2 5 3 5 4 5 3 5 2 5 1 5-4 5-1 5 5 5 6 5 4 5 1 5-3 5-5 5-1 5 4 5 8 5 10 5 7 5 2 5-3 5-5 5-3 5 1 5 6 5 8 5 8 5 5 5 1 5 0 5 0 5-1 5 2 5 5 5 3 5 2 5 3 5 3 5 4 5 9 5 7 5-1 5-4 5-4 5-1 5 7 5 13 5 10 5 1 5-1 5-3 5-2 5 5 5 7 5 3 5-1 5 1 5 2 5 3 5 5 5 4 5 2 5 3 5 3 5-1 5-4 5-5 5 1 5 9 5 13 5 10 5 0 5-9 5-11 5-2 5 6 5 10 5 7 5 1 5-3 5 0 5 6 5 4 5-1 5-3 5-5 5-1 5 6 5 8 5 2 5 0 5 2 5 1 5 1 5-2 5-6 5-6 5 3 5 11 5 10 5 3 5-5 5-11 5-6 5 6 5 9 5 5 5-3 5-7 5-5 5 3 5 10 5 6 5 1 5-4 5-5 5-3 5 0 5 0 5 1 5 3 5 7 5 8 5 2 5-7 5-10 5-6 5 2 5 9 5 10 5 1 5-5 5-3 5 2 5 4 5 5 5-2 5-9" stroke="#0000e2"/>
<path d="M145 281l5-6 5-17 5-21 5-18 5-17 5-8 5 1 5 3 5 3 5-17 5-21 5-16 5-14 5-1 5 9 5 9 5 6 5 0 5-1 5 5 5 4 5 11 5 11 5 0 5-2 5-2 5 0 5 5 5 4 5 8 5 7 5-1 5 3 5 9 5 11 5 11 5 3 5 1 5-3 5-9 5 1 5 9 5 10 5 14 5 9 5 3 5-1 5-1 5 7 5 7 5 6 5 7 5 2 5-5 5-4 5-1 5 5 5 10 5 7 5 8 5 5 5 0 5-2 5-1 5 1 5 2 5 1 5 3 5 3 5 0 5 4 5 4 5 0 5 1 5 0 5 1 5 2 5 2 5 4 5-1 5-5 5-4 5-3 5 1 5 6 5 7 5 6 5 0 5-5 5-5 5-4 5 0 5 4 5 7 5 6 5 3 5-1 5 1 5-2 5-2 5 2 5 1 5 3 5 5 5 5 5 7 5 4 5-1 5 0 5-4 5-2 5 3 5 7 5 9 5 7 5 2 5 1 5-4 5-3 5 3 5 5 5 6 5 6 5 4 5 3 5 0 5 1 5 3 5 1 5 1 5 2 5 2 5 5 5 5 5 5 5 4 5-2 5-3 5-1 5 1 5 5 5 8 5 6 5 4 5-3 5-3 5-1 5 1 5 5 5 7 5 4 5 2 5-2 5-1 5 1 5 1 5 4 5 5 5 1 5 1 5 1 5 1 5 2 5 0 5 2 5 2 5 0 5 3 5 3 5 2 5 0 5-2 5-2 5 0 5 0 5 6 5 7 5 2 5-1 5-5 5-6 5-3 5 2 5 8 5 9 5 3 5 0 5-6 5-8 5-4 5 1 5 6 5 8 5 4 5 3 5-2 5-6 5-3 5-3 5 0 5 2 5 4 5 6 5 5 5 0 5-1 5-5 5-7 5-3 5 1 5 8 5 8 5 6 5 2 5-5 5-10" stroke="#0000e3"/>
<path d="M145 286l5-10 5-25 5-17 5-21 5-17 5-3 5-10 5-4 5 3 5-12 5-11 5-11 5-15 5-6 5-3 5 5 5 12 5 13 5 6 5-7 5-3 5-3 5 3 5 13 5 5 5 7 5 6 5-7 5 3 5 6 5 3 5 13 5 0 5-1 5 7 5 3 5 7 5 3 5-1 5 5 5 5 5 5 5 9 5 5 5 6 5 2 5 0 5 5 5 5 5 7 5 0 5 0 5 6 5 6 5 12 5 5 5-4 5 0 5-4 5-2 5 11 5 8 5 9 5 8 5-4 5-2 5-1 5-1 5 3 5 4 5 5 5 8 5 6 5-1 5-5 5-5 5-2 5 4 5 10 5 6 5 1 5-5 5-12 5-3 5 5 5 8 5 11 5 3 5-4 5-5 5-6 5-1 5 3 5 3 5 4 5 4 5 4 5 5 5 1 5-2 5-4 5-2 5 2 5 4 5 9 5 5 5 1 5 3 5-1 5 2 5 3 5-2 5 0 5 2 5 2 5 10 5 6 5 2 5 0 5-6 5 0 5 5 5 8 5 7 5 3 5-1 5-3 5 2 5 4 5 4 5 5 5 1 5-1 5 4 5 4 5 3 5 4 5-4 5-2 5 3 5 2 5 8 5 7 5 1 5 3 5-2 5-2 5 0 5-2 5 1 5 6 5 9 5 10 5 6 5-2 5-10 5-11 5-3 5 5 5 16 5 14 5 6 5-1 5-9 5-7 5-1 5 0 5 5 5 5 5 2 5 7 5 3 5 1 5 0 5-5 5-5 5-1 5 0 5 4 5 4 5 4 5 4 5 4 5 3 5-4 5-8 5-9 5-7 5 5 5 12 5 14 5 11 5-5 5-11 5-12 5-9 5 3 5 9 5 8 5 8 5 2 5-2 5-2 5-5 5-4 5-3 5 0 5 5 5 6 5 7 5 1 5-3 5-3 5-4 5 2 5 1" stroke="#0000e3"/>
<path d="M145 291l5-18 5-10 5-4 5 4 5-10 5-21 5-17 5-11 5-13 5-9 5-1 5 2 5-7 5-3 5-2 5-5 5-1 5 4 5 12 5 17 5 5 5-4 5-5 5-6 5 3 5 8 5 9 5 15 5 10 5-5 5-2 5 1 5-4 5-1 5 9 5 16 5 13 5 3 5 0 5-4 5-3 5 2 5 9 5 13 5 10 5-1 5 3 5 1 5 5 5 3 5-1 5 5 5 11 5-2 5 2 5 4 5-1 5 0 5 5 5 6 5 7 5-4 5-2 5 0 5 4 5 4 5 3 5 1 5 1 5-2 5 2 5 2 5 3 5 1 5-1 5 0 5 4 5-2 5-3 5 1 5 2 5 2 5 4 5 1 5-3 5-4 5-2 5 4 5 5 5 2 5 0 5-2 5 0 5 4 5 5 5 3 5 0 5 1 5-2 5 1 5 3 5 3 5 4 5 8 5 8 5 4 5-1 5-5 5-5 5 0 5 8 5 12 5 10 5 5 5 1 5-3 5-4 5-2 5 2 5 3 5 9 5 13 5 9 5 2 5-4 5-7 5-6 5 3 5 8 5 9 5 7 5 3 5 1 5 0 5-2 5-3 5-1 5 0 5 6 5 8 5 5 5 1 5-1 5-3 5 0 5 3 5 1 5-1 5 1 5 2 5 4 5 6 5 4 5-2 5-2 5-1 5-1 5 1 5 2 5 2 5 5 5 6 5 6 5 1 5-5 5-7 5-2 5 2 5 6 5 9 5 5 5 1 5 0 5-1 5-4 5-3 5-2 5 2 5 7 5 9 5 5 5 0 5-5 5-5 5-2 5 1 5 3 5 4 5 2 5 3 5 4 5 2 5-3 5-3 5-3 5-2 5 4 5 4 5 3 5 1 5 2 5 1 5 1 5-2 5-4 5-4 5-1 5 4 5 8 5 5 5 2 5-1 5-5 5-5 5-1 5-2" stroke="#0000e6"/>
<path d="M145 276l5-14 5-11 5-12 5-14 5-11 5-8 5-7 5-6 5-12 5-13 5-10 5-11 5-5 5 5 5 3 5 5 5 6 5-2 5-4 5 3 5 2 5 9 5 8 5-1 5 5 5 4 5 4 5 16 5-1 5-3 5 2 5-5 5 0 5 12 5 7 5 12 5 12 5 1 5-1 5-3 5-4 5 6 5 4 5 2 5 10 5 6 5 9 5 14 5 2 5-4 5-2 5-6 5 2 5 8 5 6 5 10 5 6 5 0 5 1 5-2 5 2 5 8 5 4 5 0 5-2 5-3 5 3 5 9 5 10 5 5 5 1 5-5 5-6 5-2 5 3 5 9 5 9 5 5 5 0 5-6 5-6 5 0 5 7 5 10 5 6 5-1 5-8 5-6 5 2 5 8 5 12 5 6 5-4 5-6 5-5 5 1 5 11 5 9 5 3 5-1 5-4 5 0 5 5 5 2 5 3 5 2 5 0 5 5 5 5 5 0 5 0 5-3 5 0 5 7 5 6 5 4 5 2 5-4 5-1 5 4 5 4 5 6 5 3 5-2 5 2 5 4 5 4 5 5 5-2 5-4 5 2 5 6 5 9 5 7 5-2 5-7 5-4 5 1 5 11 5 13 5 4 5-3 5-9 5-4 5 5 5 10 5 9 5 3 5-3 5-5 5 0 5 5 5 5 5 4 5 0 5 0 5 2 5 5 5 2 5 0 5-3 5-2 5 6 5 7 5 6 5 1 5-7 5-6 5 1 5 6 5 9 5 6 5-3 5-6 5-4 5-1 5 7 5 6 5 0 5 1 5-2 5-2 5 3 5-1 5-2 5 2 5 2 5 5 5 5 5-3 5-5 5-5 5-2 5 9 5 10 5 3 5-3 5-10 5-7 5 5 5 9 5 9 5 4 5-8 5-9 5-1 5 4 5 10 5 6 5-4 5-5 5-4 5 1 5 8 5 5 5-2" stroke="#0000ea"/>
<path d="M145 278l5-14 5-22 5-18 5-12 5-6 5-7 5-12 5-9 5-1 5-17 5-12 5-1 5-2 5-6 5 2 5 7 5 8 5 8 5-2 5-2 5-1 5 4 5 8 5 8 5 5 5 4 5 2 5-1 5 2 5 8 5 8 5-3 5 1 5 11 5 14 5-1 5 2 5 0 5-2 5 4 5 9 5 13 5 11 5 3 5-5 5 1 5 3 5 6 5 9 5 2 5 2 5 11 5 6 5 0 5 0 5-2 5-3 5 3 5 10 5 14 5 9 5-7 5-7 5-3 5 3 5 5 5 8 5 5 5 0 5 0 5 1 5 0 5-1 5 0 5-1 5 1 5 7 5 9 5 0 5-6 5-7 5-3 5 4 5 8 5 6 5 3 5-5 5-6 5 1 5 4 5 3 5 3 5 2 5 0 5 2 5 4 5 1 5-3 5-1 5 3 5 8 5 9 5 4 5-1 5-7 5-5 5 5 5 12 5 11 5 4 5-2 5-7 5-5 5 4 5 11 5 10 5 6 5 1 5-4 5-4 5 0 5 6 5 9 5 8 5 4 5 1 5-5 5-5 5 3 5 8 5 9 5 7 5 1 5-6 5-6 5 0 5 8 5 10 5 6 5-1 5-5 5-6 5 1 5 9 5 9 5 3 5-2 5-4 5-5 5 1 5 10 5 8 5 2 5-2 5-5 5-4 5 2 5 8 5 9 5 4 5-3 5-6 5-3 5 1 5 7 5 9 5 5 5-3 5-4 5-3 5-1 5 4 5 8 5 5 5 0 5-2 5-3 5-1 5 0 5 3 5 6 5 4 5 1 5 0 5-2 5-5 5-1 5 5 5 6 5 4 5 2 5-3 5-7 5-3 5 3 5 6 5 6 5 2 5-1 5-4 5-4 5-2 5 4 5 3 5 3 5 4 5 1 5-5 5-6 5-3 5 2 5 6 5 9 5 3 5-6 5-11" stroke="#0000ed"/>
<path d="M145 272l5-15 5-18 5-10 5-7 5-14 5-10 5-5 5 1 5-11 5-16 5-16 5-8 5-10 5-3 5 7 5 5 5 6 5 10 5 1 5 3 5-2 5-5 5 5 5 4 5 5 5 10 5 8 5 9 5 3 5-1 5 7 5 2 5-8 5-1 5 5 5 10 5 16 5 14 5 5 5-7 5-7 5 2 5 10 5 3 5 3 5 5 5 8 5 12 5 11 5 0 5 1 5-6 5-2 5 5 5 4 5 4 5 8 5 9 5 10 5-1 5-4 5-1 5-1 5 1 5 6 5 7 5 3 5 3 5 3 5 1 5 1 5 0 5 1 5 0 5-2 5 1 5 4 5 4 5 4 5 1 5-2 5-1 5-4 5-2 5 4 5 4 5 4 5 3 5-1 5-3 5-3 5 1 5 6 5 4 5 2 5 2 5-1 5 1 5 2 5 3 5 5 5 2 5-1 5 1 5 1 5 2 5 7 5 7 5 4 5 0 5-5 5-2 5 3 5 6 5 9 5 9 5 1 5-2 5-3 5 0 5 3 5 4 5 6 5 7 5 4 5 0 5 0 5-2 5 0 5 3 5 5 5 6 5 2 5-3 5 2 5 2 5 3 5 2 5 0 5-1 5 0 5 3 5 7 5 5 5-1 5-1 5 1 5 1 5 2 5 1 5 2 5 4 5 3 5 6 5 4 5-3 5-5 5-1 5 5 5 8 5 6 5 2 5 1 5-2 5-1 5 3 5 0 5 0 5 3 5 5 5 6 5 2 5-4 5-4 5-2 5 1 5 8 5 5 5-2 5-4 5-2 5 4 5 5 5 0 5-3 5-3 5-2 5 3 5 5 5 3 5 0 5-2 5-1 5 2 5-4 5-3 5 1 5 5 5 8 5 6 5-2 5-8 5-10 5-1 5 10 5 10 5 4 5-2 5-6 5-3 5 1 5 3 5 3 5 0 5-1 5 2" stroke="#0000f1"/>
<path d="M145 276l5-14 5-12 5-14 5-15 5-13 5-16 5-19 5-8 5-1 5 0 5 1 5-15 5-17 5-4 5-4 5 0 5 9 5 6 5 11 5 16 5-8 5-7 5-3 5-4 5 10 5 18 5 11 5 12 5 5 5-13 5-1 5 1 5 3 5 8 5 5 5 6 5 15 5 12 5 2 5 0 5-3 5 1 5 5 5 2 5 5 5 9 5 12 5 12 5 6 5 0 5-4 5-6 5 0 5 9 5 13 5 11 5 3 5-5 5-4 5 1 5 5 5 4 5 5 5 7 5 5 5 3 5-4 5-6 5 0 5 5 5 6 5 7 5 1 5-5 5 0 5-1 5 3 5 5 5-1 5-4 5-2 5-1 5 3 5 5 5-1 5-1 5 1 5-3 5-1 5-1 5-1 5 5 5 8 5 4 5-2 5-10 5-10 5 3 5 12 5 15 5 9 5-6 5-12 5-7 5 1 5 11 5 14 5 5 5 1 5-4 5-5 5 1 5 3 5 5 5 7 5 5 5 2 5 1 5-1 5 1 5 5 5 5 5 3 5 0 5 1 5 3 5 8 5 8 5 1 5-4 5-5 5 0 5 9 5 11 5 6 5 0 5-5 5-4 5 4 5 5 5 4 5 3 5 1 5 2 5 6 5 2 5-1 5-2 5-3 5 3 5 7 5 6 5 5 5 1 5-4 5-2 5-2 5-1 5 6 5 8 5 8 5 5 5-6 5-11 5-5 5 2 5 11 5 13 5 3 5-6 5-8 5-5 5 4 5 8 5 3 5-1 5-3 5-3 5 4 5 5 5 1 5-2 5-4 5-3 5 2 5 4 5 4 5 4 5 0 5-3 5-5 5-5 5 0 5 7 5 9 5 7 5-2 5-9 5-9 5-1 5 7 5 9 5 6 5-3 5-5 5-1 5 2 5 2 5 2 5-3 5-2 5 4 5 6 5 5 5 1 5-7" stroke="#0000f4"/>
<path d="M145 278l5-12 5-10 5-16 5-11 5-15 5-15 5-10 5-9 5-6 5-4 5-9 5-9 5-8 5-3 5 1 5 3 5 5 5-1 5-4 5 3 5 3 5 10 5 16 5 6 5 2 5 1 5-7 5 4 5 7 5 0 5 9 5 6 5 3 5 15 5 8 5-1 5 1 5-7 5-1 5 11 5 9 5 10 5 10 5-3 5 1 5 5 5 3 5 7 5 7 5 1 5 3 5 1 5 1 5 4 5 2 5 3 5 5 5 4 5 4 5 3 5 2 5-1 5-5 5 0 5 2 5 6 5 10 5 5 5 1 5-2 5-7 5-2 5 3 5 2 5 5 5 4 5-1 5 2 5 1 5-1 5 1 5-2 5-2 5 3 5 3 5 2 5 5 5-1 5-2 5 0 5-1 5 3 5 6 5 2 5 3 5 1 5-1 5 2 5 1 5 3 5 3 5 4 5 4 5 3 5 2 5 0 5-2 5 2 5 5 5 7 5 8 5 3 5-3 5-2 5-3 5 2 5 11 5 8 5 8 5 3 5-6 5-5 5 1 5 2 5 9 5 10 5 4 5 4 5-2 5-6 5-1 5 0 5 3 5 10 5 7 5 5 5 1 5-6 5-7 5-2 5 2 5 10 5 11 5 5 5-1 5-6 5-8 5-2 5 4 5 8 5 7 5 4 5 0 5-4 5-3 5-1 5 1 5 4 5 4 5 3 5 5 5 0 5-3 5-1 5-2 5 1 5 6 5 2 5 4 5 2 5-5 5 0 5 1 5 1 5 5 5 1 5-3 5 1 5 0 5 2 5 6 5 2 5-1 5-2 5-4 5 0 5 5 5 4 5 5 5 2 5-2 5-3 5-2 5 0 5 2 5 4 5 5 5 4 5 2 5-1 5-5 5-4 5-1 5 2 5 10 5 8 5 2 5-1 5-8 5-8 5 0 5 4 5 8 5 10 5 1 5-4" stroke="#0000f8"/>
<path d="M145 266l5-6 5-15 5-13 5-13 5-5 5-3 5-19 5-16 5-8 5-10 5-9 5-9 5-6 5 3 5 0 5 2 5 6 5 1 5 11 5 7 5 1 5-1 5-5 5 2 5 10 5 2 5 1 5 8 5 6 5 9 5 8 5 5 5 6 5 4 5 0 5 0 5-6 5-2 5 13 5 14 5 13 5 6 5 2 5 8 5 2 5-4 5 5 5 7 5 7 5 5 5-4 5-2 5 4 5 8 5 13 5 8 5-2 5-2 5-2 5 1 5 2 5 1 5 7 5 6 5-2 5-5 5-2 5 4 5 11 5 8 5-1 5-4 5-6 5-1 5 2 5-1 5 2 5 6 5 4 5-1 5-8 5-5 5 4 5 7 5 6 5 1 5-6 5-5 5-2 5 2 5 8 5 7 5 3 5-1 5-9 5-6 5 7 5 14 5 11 5-4 5-12 5-3 5 8 5 12 5 9 5-2 5-7 5-2 5 4 5 10 5 6 5 1 5 0 5-3 5-3 5 5 5 10 5 10 5 1 5-10 5-4 5 5 5 11 5 9 5 0 5-5 5-1 5 3 5 6 5 4 5-2 5 3 5 6 5 2 5 0 5-2 5 0 5 5 5 4 5 5 5 5 5 0 5-2 5-5 5-1 5 8 5 14 5 8 5-2 5-14 5-9 5 8 5 17 5 12 5 0 5-10 5-7 5-1 5 7 5 12 5 7 5 0 5-5 5-8 5-2 5 8 5 10 5 6 5-5 5-10 5-1 5 8 5 6 5 0 5-7 5-3 5 5 5 4 5 3 5-2 5-7 5 0 5 2 5 4 5 4 5 0 5-2 5-3 5-6 5 2 5 8 5 7 5 0 5-8 5-6 5 4 5 7 5 5 5-1 5-6 5 0 5 6 5 4 5 0 5-5 5-2 5 6 5 4 5 3 5 1 5-2 5-4 5-3 5 2 5 10 5 8" stroke="#0000f9"/>
<path d="M145 279l5-11 5-4 5-13 5-14 5-5 5-14 5-16 5-11 5-17 5-10 5 0 5-11 5-8 5-2 5-1 5 12 5 15 5-4 5-1 5-1 5-5 5 3 5 2 5 1 5 15 5 11 5 2 5 5 5 1 5 5 5 10 5 3 5 0 5 1 5-4 5 2 5 8 5 2 5 10 5 15 5 8 5 9 5-2 5-8 5 6 5 8 5 1 5 3 5 0 5 2 5 11 5 5 5 2 5 7 5 5 5 0 5 3 5-5 5-2 5 5 5 0 5 2 5 1 5 1 5 9 5 10 5 1 5-4 5-5 5-2 5 7 5 4 5-1 5 1 5 1 5 0 5 2 5 0 5 2 5 8 5 1 5-1 5-1 5-1 5 4 5 4 5-4 5-2 5 4 5 8 5 9 5 1 5-9 5-4 5 3 5 8 5 10 5 3 5-2 5 1 5-1 5 1 5 3 5 3 5 4 5 5 5-1 5 1 5 5 5 3 5 1 5-3 5-5 5 7 5 13 5 8 5 0 5-10 5-9 5 5 5 12 5 11 5 8 5-3 5-7 5-5 5-2 5 8 5 15 5 10 5 0 5-8 5-12 5 1 5 14 5 10 5 5 5-4 5-7 5 3 5 5 5 2 5 3 5-1 5 0 5 5 5 3 5 1 5 4 5-2 5-4 5-2 5 2 5 11 5 14 5-1 5-12 5-12 5-4 5 14 5 18 5 7 5-4 5-12 5-11 5 1 5 8 5 12 5 12 5 0 5-11 5-11 5-5 5 9 5 17 5 6 5-5 5-8 5-5 5 6 5 8 5 0 5-1 5-1 5 2 5 6 5 3 5-2 5 0 5-3 5-3 5 4 5 7 5 10 5 5 5-9 5-15 5-5 5 8 5 18 5 14 5-5 5-14 5-11 5-3 5 9 5 13 5 6 5 3 5-7 5-13 5-6 5 4 5 10 5 12 5-1" stroke="#0000fc"/>
<path d="M145 290l5-29 5-17 5-6 5-7 5-8 5-12 5-11 5-2 5-5 5-11 5-9 5-14 5-10 5-3 5-1 5 5 5 4 5 6 5 15 5 10 5-8 5-3 5 0 5 6 5 7 5 2 5 4 5 3 5 3 5 16 5 13 5-2 5-5 5-7 5 4 5 11 5 3 5 4 5 3 5 4 5 14 5 11 5 3 5-2 5-11 5-3 5 9 5 10 5 11 5 6 5 2 5 5 5-1 5 0 5 5 5-1 5-2 5 1 5 3 5 5 5 7 5 6 5 9 5-2 5-7 5-3 5 0 5 6 5 9 5 3 5-1 5-2 5 0 5 8 5 8 5 0 5-6 5-7 5 0 5 9 5 8 5 3 5-3 5-7 5 0 5 7 5 8 5 4 5-7 5-6 5 1 5 4 5 7 5 6 5 1 5 0 5-2 5-2 5 2 5 1 5 3 5 8 5 6 5 2 5-3 5-5 5 1 5 5 5 4 5 5 5 4 5 2 5 2 5 1 5-1 5-2 5 0 5 9 5 12 5 6 5-1 5-7 5-3 5 5 5 8 5 8 5 5 5-3 5-1 5 4 5 4 5 3 5-1 5 0 5 6 5 5 5 2 5 1 5-2 5 1 5 5 5 3 5 2 5-3 5-2 5 6 5 9 5 3 5-2 5-8 5-3 5 4 5 7 5 9 5 2 5-4 5-4 5-1 5 2 5 3 5 0 5 4 5 6 5 1 5-1 5-4 5-4 5 1 5 4 5 6 5 5 5-1 5-2 5 0 5-2 5-2 5-1 5 4 5 10 5 6 5-1 5-7 5-8 5-2 5 9 5 11 5 6 5-4 5-10 5-2 5 6 5 8 5 4 5-4 5-6 5 1 5 5 5 8 5 4 5-5 5-6 5-1 5 3 5 6 5 2 5 1 5 1 5-2 5-1 5 0 5-1 5 1 5 3 5 3 5 2 5-2" stroke="#0000fd"/>
<path d="M145 288l5-21 5-16 5-12 5-16 5-15 5-11 5-13 5-7 5-1 5-5 5-7 5-7 5-2 5 2 5-6 5-4 5 1 5 1 5 6 5 12 5 2 5-4 5 0 5 5 5 11 5 12 5 10 5 3 5-4 5-1 5 8 5 2 5-2 5 2 5 2 5 5 5 8 5 8 5 11 5 8 5 7 5 4 5-2 5-4 5 4 5 4 5 2 5 4 5 5 5 7 5 8 5 5 5 3 5-1 5 2 5 5 5 8 5 1 5-2 5-6 5-2 5 6 5 10 5 7 5-1 5-5 5 1 5 6 5 7 5 4 5 0 5-5 5-2 5 0 5 2 5 2 5 3 5 2 5 1 5-3 5 0 5 3 5 3 5 2 5 0 5-4 5-2 5 2 5 5 5 3 5-2 5-3 5 2 5 4 5 7 5 3 5-5 5-5 5 1 5 7 5 8 5 4 5-1 5-1 5-1 5 3 5 5 5 1 5 2 5 5 5 5 5 2 5-1 5-2 5 0 5 5 5 7 5 8 5 3 5-1 5-1 5-2 5 0 5 7 5 10 5 8 5 3 5-5 5-6 5-2 5 6 5 14 5 9 5-2 5-6 5-4 5 2 5 8 5 7 5 1 5-2 5-1 5 4 5 5 5 1 5 0 5 0 5 0 5 4 5 4 5 1 5 1 5 1 5 1 5 1 5-1 5 2 5 4 5 3 5 3 5 1 5-3 5-1 5 1 5 2 5 2 5 2 5 5 5 4 5-3 5-5 5-5 5-1 5 8 5 13 5 5 5-7 5-13 5-7 5 4 5 12 5 10 5 3 5-8 5-9 5-2 5 1 5 6 5 6 5 4 5 0 5-4 5-5 5-1 5 1 5 5 5 7 5 0 5-3 5-1 5-1 5 1 5 2 5 1 5 2 5 2 5 1 5 1 5-3 5-3 5 4 5 6 5 3 5-1 5-6 5-3" stroke="#0000ff"/>
<path d="M145 243l5-5 5-7 5-11 5-9 5-17 5-18 5-11 5-10 5-8 5-3 5-8 5-9 5 1 5 3 5-6 5 1 5 7 5 2 5 2 5-2 5-3 5 7 5 11 5 11 5 12 5-3 5-8 5 4 5 8 5 0 5 0 5 2 5 6 5 15 5 17 5 3 5-4 5-7 5-5 5 7 5 11 5 3 5 6 5 11 5 10 5 10 5-1 5-7 5-3 5 3 5 7 5 11 5 9 5-1 5 1 5 7 5 0 5-1 5 4 5 4 5 5 5 5 5 0 5-2 5 1 5 4 5 9 5 7 5 1 5-2 5 0 5-1 5-1 5 2 5 2 5 5 5 8 5 5 5 1 5-3 5-6 5-3 5 6 5 7 5 4 5 4 5 2 5 0 5 0 5-3 5-3 5 1 5 6 5 10 5 11 5 3 5-6 5-4 5-4 5-2 5 3 5 6 5 8 5 11 5 8 5-1 5-6 5-10 5-7 5 6 5 9 5 8 5 8 5 4 5 0 5-1 5-4 5-6 5 0 5 5 5 9 5 10 5 3 5-4 5-1 5 1 5 1 5 2 5 2 5 1 5 2 5 4 5 2 5 0 5 0 5 2 5 7 5 5 5-2 5-5 5-3 5-1 5 6 5 8 5 6 5 3 5 3 5-1 5-2 5-6 5-6 5 2 5 11 5 12 5 8 5 3 5-4 5-7 5-3 5-2 5 1 5 6 5 8 5 11 5 9 5-2 5-8 5-6 5-3 5 2 5 8 5 6 5 3 5 4 5 2 5 0 5-2 5-6 5-2 5 6 5 5 5 3 5 1 5-1 5-1 5 3 5 4 5 0 5-2 5-2 5 0 5 2 5 0 5-2 5 3 5 6 5 4 5 3 5-3 5-9 5-6 5 0 5 3 5 7 5 4 5 3 5 4 5 0 5-8 5-8 5-6 5-1 5 7 5 11 5 6 5 1" stroke="#0004ff"/>
<path d="M145 266l5 1 5-14 5-21 5-19 5-23 5-6 5-1 5-10 5-5 5-7 5-8 5 0 5-2 5-5 5-2 5 3 5 1 5-6 5 5 5 8 5 10 5 15 5 0 5-1 5 6 5-3 5 4 5 5 5 0 5 6 5 6 5 4 5 2 5 4 5 11 5 8 5 1 5 0 5-4 5 8 5 8 5-3 5 3 5 2 5 7 5 16 5 8 5 3 5-3 5-1 5 1 5-1 5 5 5 5 5 7 5 6 5-4 5-2 5 8 5 6 5 7 5 1 5-7 5-1 5 2 5 3 5 5 5 4 5 6 5 3 5 1 5-5 5-3 5 7 5 6 5 1 5-1 5-3 5 2 5 8 5 2 5-1 5-2 5 2 5 6 5 3 5 3 5-1 5 0 5 0 5-5 5 2 5 11 5 10 5 8 5-5 5-12 5-5 5 5 5 11 5 10 5 5 5 1 5-4 5-5 5-4 5 1 5 12 5 11 5 2 5-2 5-8 5-1 5 7 5 4 5 2 5 2 5 2 5 4 5 1 5-1 5-1 5 4 5 5 5 0 5 1 5 3 5 3 5 5 5-1 5-5 5 2 5 4 5 6 5 2 5-2 5 1 5 3 5 4 5 0 5-3 5 3 5 3 5 4 5 4 5-1 5 4 5 3 5-4 5-3 5 0 5 7 5 14 5 7 5-4 5-9 5-5 5 3 5 6 5 11 5 10 5 3 5-1 5-12 5-10 5 4 5 12 5 17 5 8 5-7 5-10 5-7 5 0 5 5 5 8 5 10 5 5 5-2 5-8 5-11 5 0 5 8 5 8 5 6 5 0 5-4 5-1 5-5 5-4 5-1 5 7 5 10 5 4 5-3 5-9 5-7 5 2 5 1 5 5 5 7 5 3 5 0 5-7 5-11 5-2 5 8 5 10 5 5 5-4 5-7 5-5 5 2 5 4 5 1 5 5 5 1" stroke="#0008ff"/>
<path d="M145 277l5-16 5-19 5-15 5-16 5-13 5-2 5-7 5-11 5-7 5-8 5-7 5-5 5-7 5 2 5-1 5-1 5 8 5 2 5 1 5 8 5 7 5 6 5 2 5 2 5 5 5 2 5 1 5 7 5 1 5 0 5 12 5 11 5 3 5 5 5 1 5-2 5-2 5 0 5 9 5 9 5 9 5 14 5 3 5-7 5 0 5 1 5 3 5 8 5 7 5 7 5 3 5 0 5 5 5 0 5-1 5 6 5 4 5-2 5 1 5 2 5 4 5 6 5 7 5 2 5-1 5-5 5 1 5 2 5 2 5 7 5 6 5 1 5 0 5-3 5-2 5 2 5 3 5 7 5 3 5-2 5-1 5-2 5-1 5 3 5 6 5 5 5 3 5-1 5-2 5-3 5-2 5 4 5 6 5 4 5 6 5 3 5-2 5-2 5-3 5 0 5 3 5 5 5 8 5 6 5 1 5-1 5-3 5-5 5-1 5 5 5 9 5 9 5 6 5 2 5-5 5-9 5-3 5 4 5 8 5 14 5 11 5 2 5-6 5-10 5-6 5 1 5 9 5 17 5 13 5 1 5-5 5-10 5-10 5 0 5 10 5 14 5 12 5 4 5-3 5-9 5-11 5-1 5 7 5 10 5 12 5 7 5-2 5-6 5-8 5-4 5 2 5 6 5 11 5 9 5 2 5-3 5-5 5-8 5-3 5 4 5 8 5 11 5 7 5 2 5-5 5-10 5-7 5 0 5 5 5 12 5 12 5 4 5-4 5-11 5-10 5-3 5 4 5 13 5 14 5 5 5-3 5-9 5-12 5-6 5 5 5 12 5 13 5 7 5-1 5-8 5-12 5-5 5 4 5 8 5 11 5 9 5 0 5-7 5-7 5-5 5 1 5 5 5 9 5 8 5 0 5-2 5-4 5-5 5-3 5 3 5 5 5 6 5 3 5 1 5-1 5-7" stroke="#000bff"/>
<path d="M145 254l5-2 5-13 5-14 5-4 5-12 5-13 5-15 5-18 5-7 5 2 5-7 5-11 5-10 5-6 5 3 5 2 5 4 5 7 5 7 5 13 5 6 5-8 5-1 5 3 5 3 5 10 5 5 5-4 5 6 5 8 5 5 5 7 5 5 5 10 5 11 5 4 5 0 5-6 5-5 5 6 5 6 5 6 5 10 5 6 5 10 5 13 5 0 5-2 5 2 5 1 5 6 5 7 5-1 5 1 5 4 5 4 5 2 5-2 5 0 5 7 5 8 5 8 5 1 5-6 5 2 5 4 5 0 5-1 5-2 5 1 5 7 5 5 5-2 5-2 5 1 5 5 5 4 5-3 5-4 5-1 5 6 5 8 5-1 5-8 5-4 5 1 5 7 5 9 5 0 5-3 5-1 5-2 5 2 5 6 5 3 5 2 5-2 5-4 5 3 5 10 5 10 5 0 5-12 5-9 5 4 5 16 5 19 5 3 5-16 5-13 5 1 5 14 5 18 5 3 5-9 5-6 5 4 5 10 5 9 5-1 5-6 5-3 5 4 5 12 5 11 5 5 5-4 5-12 5-7 5 9 5 16 5 16 5 2 5-14 5-13 5 3 5 15 5 14 5 1 5-12 5-7 5 7 5 16 5 9 5-7 5-13 5-5 5 7 5 17 5 11 5-3 5-8 5-8 5-3 5 10 5 13 5 6 5-1 5-10 5-7 5 6 5 13 5 10 5-5 5-14 5-6 5 9 5 18 5 10 5-10 5-17 5-5 5 8 5 16 5 9 5-8 5-11 5-4 5 4 5 11 5 5 5-3 5-7 5-6 5 1 5 9 5 9 5 4 5-8 5-15 5-4 5 9 5 14 5 11 5-8 5-17 5-5 5 9 5 13 5 6 5-10 5-13 5 1 5 12 5 12 5 1 5-12 5-10 5-3 5 8 5 14 5 6 5-2 5-7 5-11 5-3" stroke="#000fff"/>
<path d="M145 287l5-15 5-20 5-11 5-10 5-12 5-11 5-17 5-11 5-5 5-9 5-2 5 2 5 2 5 3 5-7 5-6 5 1 5-2 5 3 5 10 5 5 5 6 5 7 5 5 5 8 5 3 5-1 5 4 5 4 5 5 5 7 5-1 5-2 5 0 5 5 5 15 5 13 5 4 5 5 5 0 5-4 5 4 5 5 5 9 5 8 5 0 5 2 5 2 5 0 5 6 5 7 5 8 5 9 5-3 5-1 5 1 5-2 5 2 5 3 5 1 5 2 5 2 5 4 5 5 5 1 5 0 5 1 5 0 5 3 5 3 5 0 5-1 5-3 5-2 5 5 5 4 5 3 5 3 5-2 5-3 5-2 5 0 5 4 5 3 5-1 5 0 5-1 5 0 5 3 5 2 5 1 5 0 5-3 5 3 5 5 5 3 5 3 5-1 5-3 5-1 5 1 5 5 5 7 5 3 5 2 5 0 5-1 5 1 5 2 5 2 5 3 5 0 5 2 5 6 5 5 5 3 5-1 5-4 5-2 5 1 5 6 5 13 5 7 5 1 5-6 5-8 5-3 5 5 5 10 5 13 5 6 5-5 5-7 5-6 5 1 5 8 5 9 5 7 5 1 5-5 5-3 5 2 5 3 5 6 5 3 5 1 5 1 5-2 5 3 5 6 5 2 5 2 5 0 5-1 5 3 5 2 5 4 5 5 5 0 5 0 5 2 5 2 5 2 5 2 5 0 5 1 5 0 5 3 5 6 5 2 5 0 5-2 5-4 5-1 5 3 5 4 5 7 5 2 5-3 5-4 5-3 5-2 5 3 5 3 5 5 5 3 5-2 5-2 5-2 5-4 5 0 5 2 5 4 5 5 5 1 5-1 5-3 5-5 5-1 5 3 5 4 5 5 5 0 5-2 5-1 5-3 5 1 5 4 5 2 5 0 5-2 5-2 5 3 5 4 5 3 5 2" stroke="#0013ff"/>
<path d="M145 297l5 2 5-13 5-19 5-17 5-20 5-12 5-2 5-2 5-8 5-10 5-7 5-6 5-6 5-6 5-2 5-5 5 2 5 16 5 14 5 5 5-2 5-10 5 1 5 6 5 8 5 7 5-3 5 0 5 13 5 13 5 6 5-7 5-9 5 0 5 8 5 11 5 10 5-1 5-2 5 11 5 10 5 3 5 0 5-3 5 0 5 6 5 10 5 9 5 2 5 1 5 7 5 5 5 3 5 1 5-4 5-3 5 4 5 8 5 9 5 3 5-2 5 2 5 4 5 2 5 0 5-5 5-3 5 6 5 10 5 9 5-2 5-6 5-2 5 1 5 3 5 3 5-3 5-2 5 4 5 8 5 3 5-4 5-9 5-2 5 2 5 7 5 7 5-2 5-5 5-3 5 2 5 4 5 2 5 0 5 2 5 3 5 3 5 0 5-5 5-4 5 4 5 11 5 10 5 3 5-6 5-7 5-2 5 5 5 11 5 7 5 2 5 2 5-1 5-1 5-1 5 0 5 6 5 9 5 10 5 6 5-4 5-10 5-4 5 5 5 11 5 13 5 6 5-2 5-6 5-5 5-1 5 2 5 6 5 11 5 8 5 2 5-5 5-10 5-8 5 1 5 11 5 15 5 7 5-2 5-6 5-10 5-6 5 3 5 8 5 10 5 9 5 3 5-4 5-11 5-9 5 1 5 9 5 13 5 12 5 2 5-7 5-9 5-6 5 1 5 6 5 10 5 11 5 5 5-2 5-7 5-9 5-4 5 6 5 12 5 11 5 3 5-4 5-6 5-5 5-2 5 4 5 5 5 5 5 6 5 3 5-3 5-7 5-6 5 2 5 5 5 7 5 6 5-3 5-5 5-1 5 1 5 1 5 0 5-1 5 1 5 4 5 3 5 2 5-4 5-5 5 0 5 3 5 2 5 1 5-1 5 1 5 4 5 3 5 0 5-7 5-8" stroke="#0016ff"/>
<path d="M145 283l5-4 5-18 5-20 5-9 5-8 5-7 5 1 5-9 5-16 5-11 5-6 5-13 5-12 5 5 5 12 5 9 5 10 5 8 5-4 5-5 5 7 5 4 5-3 5 4 5 8 5 5 5 4 5 8 5 3 5 4 5 9 5 7 5-4 5-3 5 4 5 4 5 3 5 7 5 2 5 2 5 13 5 17 5 1 5-4 5-1 5 0 5-1 5 4 5 4 5 3 5 10 5 16 5 7 5-7 5-9 5-4 5 1 5 8 5 7 5 1 5 0 5 4 5 3 5-2 5 1 5 2 5 5 5 6 5 1 5-7 5-7 5 2 5 8 5 7 5 4 5 2 5-1 5 0 5 0 5-2 5-2 5 3 5 6 5 5 5-1 5-3 5-1 5 1 5 4 5 3 5 2 5 4 5 3 5 0 5-5 5-6 5 1 5 10 5 10 5 1 5-5 5-4 5 4 5 9 5 5 5-6 5-11 5-3 5 9 5 14 5 10 5 0 5-8 5-7 5-1 5 3 5 5 5 7 5 7 5 3 5-2 5-1 5 0 5 4 5 6 5 1 5-3 5 1 5 8 5 7 5 2 5-3 5-4 5 4 5 12 5 8 5-4 5-11 5-4 5 7 5 14 5 13 5 3 5-7 5-8 5-2 5 2 5 4 5 9 5 8 5 2 5-2 5-1 5-2 5 3 5 6 5-1 5-6 5-1 5 9 5 11 5 6 5-3 5-11 5-6 5 6 5 9 5 2 5-4 5-1 5 1 5 6 5 6 5-2 5-9 5-5 5 3 5 4 5 4 5 4 5 1 5-4 5-3 5-1 5 1 5 7 5 7 5-3 5-12 5-6 5 5 5 13 5 13 5 2 5-12 5-12 5-1 5 7 5 6 5 3 5 2 5 1 5 4 5 4 5-4 5-9 5-3 5 4 5 5 5 7 5 6 5 1 5-3 5-5 5-5 5-2" stroke="#001aff"/>
<path d="M145 290l5-11 5-12 5-12 5-9 5-11 5-9 5-1 5-11 5-18 5-12 5-8 5-9 5-5 5 0 5-1 5 3 5 12 5 11 5 3 5-6 5-7 5 1 5 10 5 9 5 3 5 4 5 3 5 3 5 11 5 8 5-8 5-3 5 9 5 11 5 6 5 0 5-5 5 0 5 10 5 14 5 9 5 0 5-3 5 2 5 10 5 6 5-4 5-2 5 6 5 9 5 10 5 7 5-3 5-7 5 5 5 9 5 2 5-3 5-4 5 1 5 8 5 9 5 2 5-1 5-2 5 2 5 5 5 3 5-4 5-4 5 4 5 7 5 4 5 2 5-1 5-2 5 2 5 5 5 1 5-1 5 1 5 3 5 3 5 1 5-4 5-1 5 3 5 6 5 7 5 5 5-3 5-7 5-3 5 2 5 5 5 9 5 9 5 2 5-4 5-7 5-4 5 1 5 7 5 9 5 7 5 4 5-3 5-7 5-5 5-2 5 5 5 13 5 12 5 1 5-7 5-9 5-4 5 4 5 10 5 8 5 4 5 1 5 0 5-3 5-5 5-4 5 4 5 14 5 12 5 3 5-7 5-11 5-6 5 7 5 12 5 8 5 1 5 0 5-1 5-2 5-2 5-2 5 2 5 11 5 12 5 4 5-6 5-10 5-6 5 7 5 13 5 7 5 2 5 0 5-3 5-1 5 1 5 0 5 2 5 9 5 10 5 3 5-5 5-7 5-4 5 5 5 10 5 7 5 2 5-2 5-3 5-2 5 1 5 0 5 2 5 7 5 6 5-1 5-4 5-5 5-2 5 3 5 7 5 4 5 0 5-1 5-2 5-2 5-1 5 0 5 4 5 6 5 2 5-4 5-3 5-2 5 0 5 5 5 4 5-1 5-1 5 2 5 0 5-2 5-2 5 1 5 4 5 5 5 1 5-4 5-4 5-1 5 4 5 6 5 2 5-5" stroke="#001aff"/>
<path d="M145 267l5-2 5-8 5-19 5-15 5-11 5-14 5-13 5-4 5-3 5-5 5-7 5-4 5-6 5-8 5-3 5 7 5 9 5 9 5 9 5 1 5-4 5-2 5 4 5 6 5 4 5 6 5 11 5 6 5 1 5 0 5-1 5-1 5 4 5 11 5 13 5 9 5-3 5-2 5 0 5 3 5 6 5 7 5 7 5 9 5 5 5 3 5 0 5-1 5 0 5 4 5 9 5 11 5 6 5-5 5-5 5 0 5 4 5 5 5 4 5 4 5 2 5 0 5 2 5 1 5-3 5-2 5 5 5 7 5 5 5 2 5-4 5-5 5-2 5 5 5 8 5 2 5-3 5-1 5 0 5 1 5-1 5 0 5-1 5 1 5 5 5 7 5 1 5-9 5-7 5 1 5 9 5 8 5 4 5-1 5-6 5-3 5 5 5 6 5-1 5-3 5 4 5 10 5 7 5 1 5-6 5-7 5-1 5 10 5 14 5 6 5-5 5-5 5 1 5 5 5 4 5 1 5 0 5 1 5 7 5 10 5 3 5-7 5-10 5 1 5 10 5 12 5 6 5-3 5-6 5-2 5 5 5 6 5-1 5-3 5 0 5 8 5 8 5 2 5-7 5-9 5-2 5 9 5 12 5 6 5-5 5-7 5-1 5 5 5 5 5 0 5-3 5-1 5 7 5 9 5 3 5-5 5-9 5-2 5 8 5 13 5 6 5-4 5-7 5 0 5 6 5 5 5 1 5-3 5-2 5 5 5 10 5 5 5-6 5-10 5-2 5 9 5 10 5 4 5-3 5-6 5-3 5 5 5 8 5 1 5-7 5-3 5 6 5 9 5 3 5-4 5-8 5-4 5 5 5 11 5 6 5-6 5-8 5 0 5 6 5 6 5-1 5-4 5-4 5 1 5 9 5 6 5-3 5-10 5-4 5 7 5 8 5 3 5-4 5-6 5-2 5 5" stroke="#001eff"/>
<path d="M145 266l5-18 5-12 5-4 5-9 5-10 5-9 5-10 5-8 5-9 5-12 5-16 5-8 5-2 5-4 5 6 5 4 5 5 5 13 5 2 5-6 5 2 5-1 5 7 5 8 5-1 5 2 5 7 5 7 5 8 5 5 5 4 5 5 5 3 5 0 5-4 5 4 5 7 5 9 5 11 5 0 5-1 5 7 5 3 5 7 5 6 5-1 5 9 5 8 5 1 5 0 5-1 5 3 5 7 5 3 5 1 5 1 5 8 5 8 5 2 5 1 5-4 5 1 5 5 5-2 5 2 5 4 5 5 5 8 5 2 5-4 5-2 5 1 5 5 5 5 5 0 5-1 5 1 5 2 5-1 5-2 5 0 5 3 5 4 5 2 5-5 5 1 5 4 5 2 5 0 5-7 5-5 5 6 5 7 5 6 5 2 5-4 5-5 5-3 5-3 5 2 5 9 5 11 5 6 5-3 5-11 5-10 5 3 5 10 5 9 5 8 5-1 5-3 5-2 5-7 5-2 5 7 5 11 5 11 5 2 5-8 5-6 5 0 5 5 5 6 5 5 5 4 5 4 5 2 5-3 5-5 5 3 5 5 5 8 5 5 5-3 5 1 5 4 5 1 5 1 5-1 5 0 5 8 5 6 5 2 5-1 5-2 5 2 5 3 5 2 5 0 5 5 5 7 5 2 5-2 5-4 5-3 5 7 5 10 5 2 5 1 5-2 5-2 5 2 5-1 5 1 5 8 5 6 5 3 5-5 5-9 5-3 5 6 5 10 5 4 5 0 5-3 5-5 5-2 5-2 5 0 5 9 5 9 5 2 5-4 5-12 5-6 5 5 5 7 5 7 5 3 5-1 5-2 5-5 5-5 5-2 5 6 5 10 5 6 5 0 5-8 5-7 5 2 5 3 5 2 5 4 5 2 5 5 5 1 5-7 5-4 5-1 5 4 5 7 5 3 5-1 5 0" stroke="#001fff"/>
<path d="M145 282l5-20 5-18 5-7 5-1 5-13 5-14 5-3 5-2 5-6 5-11 5-13 5-17 5-7 5 1 5-3 5 1 5 11 5 7 5 2 5 6 5 6 5 3 5 3 5 4 5-2 5 2 5 8 5 0 5-4 5 3 5 6 5 6 5 14 5 12 5 4 5 2 5 1 5-4 5-2 5 6 5 6 5 3 5 5 5 4 5 3 5 12 5 14 5 4 5-2 5 0 5 3 5 5 5 4 5-2 5-5 5 4 5 10 5 2 5-1 5 5 5 8 5 9 5 3 5-7 5-9 5 4 5 9 5 3 5-3 5-2 5 2 5 6 5 6 5-1 5-3 5 5 5 5 5 0 5-6 5-5 5 0 5 6 5 5 5-1 5-4 5 3 5 7 5 2 5-3 5-6 5-3 5 3 5 6 5 2 5 2 5 5 5 5 5-3 5-5 5-4 5-1 5 7 5 9 5 4 5 0 5 2 5 0 5-2 5 2 5 3 5 3 5 3 5 2 5 0 5 1 5 6 5 4 5 2 5 2 5 2 5 1 5 0 5 1 5 1 5 6 5 8 5 3 5-2 5 0 5 3 5 3 5-1 5-3 5-3 5 6 5 12 5 5 5-1 5-2 5-1 5-2 5-2 5-4 5 0 5 12 5 15 5 4 5-7 5-10 5-4 5 2 5 3 5 2 5 1 5 9 5 11 5 2 5-7 5-8 5-3 5 5 5 5 5 2 5 1 5 8 5 11 5 2 5-7 5-10 5-4 5 5 5 9 5 6 5 3 5 4 5 4 5-3 5-6 5-5 5 1 5 7 5 9 5 2 5-2 5 0 5 2 5 0 5-1 5-1 5 0 5 2 5 2 5 1 5 1 5 2 5 2 5-1 5-3 5 0 5 0 5 1 5 0 5-1 5 1 5 2 5 1 5-1 5 0 5 2 5 0 5-4 5-6 5-3 5 4 5 10 5 5" stroke="#0021ff"/>
<path d="M145 298l5-19 5-10 5-8 5-12 5-13 5-16 5-14 5-8 5-3 5-4 5-10 5-13 5-8 5 1 5 5 5-5 5-6 5 5 5 9 5 5 5 1 5 2 5-2 5 0 5 10 5 13 5 2 5-4 5 4 5 6 5 0 5 1 5 5 5 4 5 4 5 8 5 6 5 0 5 2 5 5 5 7 5 5 5 5 5 4 5 5 5 3 5 0 5 1 5 7 5 10 5 9 5 5 5 2 5-1 5-1 5 3 5 3 5-1 5 2 5 10 5 8 5 1 5-1 5 0 5 1 5 5 5 6 5 1 5-4 5-2 5 5 5 6 5 0 5-2 5 1 5 6 5 5 5 0 5-6 5-8 5 0 5 7 5 10 5 3 5-6 5-6 5 0 5 3 5 0 5 0 5 2 5 4 5 3 5 2 5-1 5-5 5-4 5 3 5 4 5 3 5 5 5 6 5 3 5-5 5-6 5-4 5 4 5 10 5 10 5 3 5-4 5-5 5 1 5 6 5 5 5 0 5-1 5 4 5 6 5 5 5 3 5 0 5-3 5-2 5 3 5 7 5 6 5 5 5 4 5-3 5-5 5-1 5 7 5 7 5 1 5-2 5-1 5 4 5 8 5 6 5-5 5-11 5-4 5 9 5 15 5 9 5-3 5-10 5-6 5 3 5 7 5 4 5 1 5 0 5 3 5 8 5 2 5-6 5-7 5 1 5 6 5 6 5 8 5 5 5-1 5-4 5-5 5-4 5 0 5 9 5 13 5 7 5-5 5-9 5-5 5 2 5 5 5 5 5 1 5 0 5 4 5 4 5 0 5-5 5-8 5-3 5 7 5 11 5 6 5 0 5-4 5-8 5-6 5 1 5 8 5 6 5 4 5-1 5-4 5-5 5 1 5 6 5 0 5-5 5-2 5 5 5 8 5 6 5-4 5-11 5-7 5 3 5 12 5 8 5-1 5-8" stroke="#0023ff"/>
<path d="M145 290l5-14 5-17 5-11 5-15 5-13 5-8 5-13 5-11 5-5 5-9 5-4 5-6 5-10 5-5 5-3 5-2 5 2 5 3 5 7 5 4 5 3 5 4 5-1 5 7 5 9 5 4 5 9 5 5 5-5 5-1 5-3 5 1 5 11 5 12 5 14 5 9 5 3 5-1 5-5 5 1 5 6 5 7 5 11 5 5 5 0 5 3 5 0 5 5 5 11 5 8 5 7 5 1 5-5 5-3 5-1 5 2 5 6 5 5 5 6 5 2 5 0 5 1 5 0 5 2 5 3 5 0 5 3 5 2 5 1 5 3 5 1 5 0 5 1 5 0 5 2 5 4 5 5 5 4 5 0 5-2 5-2 5-1 5 4 5 6 5 4 5 5 5-1 5-3 5-1 5-1 5 4 5 7 5 5 5 3 5-1 5-3 5-1 5 0 5 4 5 4 5 3 5 3 5-1 5-1 5 1 5-1 5 2 5 2 5 1 5 2 5 3 5 0 5 3 5 0 5-1 5 0 5 0 5 3 5 4 5 5 5 4 5-1 5-1 5-3 5-1 5 5 5 7 5 6 5 6 5-1 5-5 5-2 5-1 5 5 5 8 5 7 5 4 5-1 5-4 5-4 5 0 5 6 5 7 5 6 5 3 5-2 5-4 5-1 5 0 5 5 5 6 5 2 5 2 5-1 5-2 5 1 5 1 5 3 5 3 5 1 5 1 5 0 5 2 5 3 5 1 5 1 5-1 5-2 5 3 5 3 5 4 5 6 5 0 5-3 5-4 5-2 5 3 5 7 5 8 5 5 5-2 5-5 5-6 5-2 5 6 5 9 5 9 5 4 5-5 5-8 5-5 5-1 5 8 5 10 5 7 5 1 5-7 5-9 5-4 5 2 5 8 5 8 5 5 5-2 5-9 5-7 5-2 5 2 5 9 5 6 5 0 5-4 5-8 5-5 5 2 5 4" stroke="#0025ff"/>
<path d="M145 294l5-16 5-12 5-19 5-13 5-3 5-4 5-6 5-4 5-13 5-19 5-13 5-7 5-8 5-1 5 6 5 1 5 2 5 7 5 7 5 2 5 4 5 2 5-2 5-2 5-2 5 3 5 11 5 12 5 11 5 10 5-2 5-9 5-2 5 2 5 5 5 11 5 9 5 1 5 2 5 5 5 4 5 10 5 8 5 2 5-2 5 2 5 1 5 0 5 9 5 11 5 5 5 5 5 5 5-3 5-3 5 3 5 4 5 3 5 4 5 2 5-1 5 2 5 3 5 5 5 6 5 2 5 0 5 0 5-1 5-2 5 1 5 3 5 4 5 5 5 4 5 0 5-2 5-1 5-1 5 1 5 4 5 2 5 0 5 1 5-2 5-3 5 1 5 6 5 6 5 5 5 1 5-8 5-7 5 2 5 6 5 6 5 5 5-1 5-3 5 3 5 5 5 2 5-1 5-1 5-2 5 4 5 5 5 2 5 0 5 2 5 5 5 6 5 3 5-4 5-7 5-2 5 5 5 10 5 11 5 2 5-3 5-2 5 1 5 2 5 4 5 0 5-2 5 4 5 9 5 5 5 0 5-1 5-3 5 1 5 7 5 4 5-3 5-4 5 0 5 5 5 11 5 9 5-2 5-8 5-5 5-1 5 5 5 6 5 4 5 0 5 3 5 4 5 1 5-2 5-4 5-2 5 4 5 7 5 4 5 0 5-3 5-1 5 6 5 8 5 1 5-5 5-6 5-4 5 4 5 10 5 6 5 0 5-1 5-2 5-1 5 2 5-1 5-5 5 0 5 8 5 7 5 4 5-1 5-7 5-5 5 4 5 6 5 2 5-1 5-4 5-1 5 5 5 9 5 3 5-2 5-4 5-3 5 1 5 2 5 1 5 1 5 4 5 6 5 6 5 0 5-7 5-8 5-1 5 6 5 8 5 6 5-1 5-7 5 0 5 5 5 3" stroke="#0027ff"/>
<path d="M145 274l5-13 5-13 5-15 5-12 5-7 5-9 5-4 5-3 5-11 5-17 5-15 5-10 5-3 5 3 5 2 5 5 5 10 5 3 5-3 5-2 5 4 5 6 5 10 5 6 5-1 5-1 5 4 5 3 5 6 5 10 5 9 5 8 5 3 5-7 5-5 5 4 5 7 5 6 5 9 5 7 5 6 5 6 5 1 5-3 5 1 5 6 5 7 5 5 5 1 5 0 5 6 5 7 5 1 5 2 5 3 5 2 5 0 5 1 5 0 5 3 5 5 5 3 5 0 5 2 5 3 5 4 5 3 5 0 5-1 5 4 5 4 5-2 5-2 5 2 5 5 5 7 5 3 5-2 5-1 5 2 5 1 5 0 5 1 5 2 5 5 5 6 5 0 5-6 5-4 5 1 5 6 5 8 5 8 5 2 5-4 5-9 5-6 5 3 5 11 5 6 5 2 5 1 5 1 5 2 5 0 5-9 5-9 5 3 5 15 5 16 5 5 5-9 5-13 5-4 5 2 5 6 5 7 5 6 5 3 5 2 5 1 5-2 5-3 5-3 5-1 5 4 5 13 5 12 5 4 5-7 5-13 5-3 5 9 5 11 5 4 5-1 5 1 5 5 5 6 5 1 5-7 5-5 5 1 5 9 5 12 5 7 5 0 5-4 5-4 5-3 5 3 5 8 5 5 5 0 5 2 5 5 5 6 5 2 5-9 5-10 5 1 5 12 5 15 5 7 5-5 5-10 5-4 5 3 5 2 5 1 5 2 5 4 5 4 5 4 5-1 5-5 5-7 5-5 5 2 5 11 5 10 5 3 5-5 5-11 5-6 5 6 5 8 5 1 5-4 5-1 5 6 5 7 5 0 5-8 5-7 5 1 5 6 5 8 5 5 5-2 5-4 5-1 5 1 5 2 5 3 5 0 5-3 5-1 5 5 5 9 5 5 5-6 5-11 5-4 5 7 5 8" stroke="#0027ff"/>
<path d="M145 269l5-5 5-10 5-18 5-14 5-18 5-10 5 0 5-5 5-3 5-8 5-19 5-9 5-6 5-8 5 0 5-2 5 0 5 10 5 8 5 8 5 10 5 3 5-2 5-1 5-3 5 2 5 4 5 6 5 11 5 6 5 1 5 1 5 2 5 12 5 11 5 7 5 1 5-7 5-6 5 2 5 10 5 14 5 9 5 4 5 3 5 7 5 8 5 5 5 0 5-2 5-3 5 0 5 8 5 9 5 6 5 5 5 0 5 0 5 3 5 0 5 6 5 6 5 1 5-1 5-4 5-3 5 4 5 7 5 8 5 9 5 0 5-5 5-4 5-2 5 4 5 5 5 0 5 1 5 1 5 0 5 4 5 1 5-1 5-1 5-3 5 2 5 5 5 4 5 3 5 0 5-5 5-3 5-2 5 1 5 7 5 7 5 6 5 3 5-6 5-10 5-4 5 1 5 11 5 13 5 6 5-2 5-9 5-8 5 1 5 6 5 9 5 5 5 0 5-1 5 0 5 2 5 2 5 0 5-3 5-1 5 5 5 10 5 10 5 2 5-7 5-11 5-6 5 6 5 14 5 16 5 5 5-8 5-12 5-8 5 2 5 13 5 11 5 6 5-2 5-7 5-2 5 3 5 3 5 4 5-1 5-1 5 5 5 7 5 6 5 2 5-8 5-8 5-1 5 6 5 15 5 13 5 0 5-6 5-11 5-6 5 7 5 11 5 10 5 6 5-3 5-4 5-2 5-1 5 3 5 3 5 2 5 4 5 5 5 4 5 1 5-5 5-7 5-2 5 3 5 10 5 11 5 2 5-3 5-9 5-7 5 1 5 6 5 8 5 5 5 1 5-2 5-2 5-3 5-1 5-1 5 1 5 4 5 7 5 5 5 1 5-6 5-9 5-6 5 2 5 10 5 10 5 6 5-4 5-10 5-8 5-1 5 4 5 8 5 5 5 0 5-2" stroke="#0029ff"/>
<path d="M145 276l5-15 5-10 5-7 5-10 5-15 5-13 5-7 5-8 5-12 5-13 5-7 5-2 5 0 5-1 5-7 5-2 5 10 5 8 5-2 5 0 5 4 5 1 5 2 5 9 5 9 5 5 5 0 5 1 5-2 5 1 5 13 5 11 5-3 5-4 5 7 5 7 5 4 5 5 5 5 5 2 5 4 5 7 5 3 5-3 5 4 5 12 5 7 5 1 5 1 5 4 5 3 5 5 5 1 5 2 5 3 5 3 5 0 5-1 5 5 5 9 5 4 5-4 5-3 5 2 5 7 5 7 5 0 5-3 5 1 5 3 5 0 5 0 5 5 5 6 5 3 5-2 5-5 5-3 5 3 5 9 5 5 5-1 5 0 5 3 5-1 5-4 5 0 5 4 5 5 5 4 5 1 5-1 5 1 5 5 5 2 5-4 5-3 5 5 5 7 5 3 5 1 5 2 5 2 5 0 5-1 5-2 5 2 5 8 5 6 5-1 5-4 5 1 5 4 5 5 5 1 5 0 5 1 5 2 5 1 5 0 5 3 5 7 5 6 5-2 5-5 5-3 5 3 5 7 5 6 5 2 5-1 5 3 5 0 5-5 5-2 5 6 5 7 5 2 5 0 5-2 5 1 5 3 5 4 5-2 5-3 5 2 5 5 5 2 5 0 5 3 5 5 5 0 5-4 5-3 5 1 5 6 5 8 5 3 5-3 5-1 5 3 5 2 5-1 5 0 5 3 5 4 5 2 5-1 5 2 5 4 5 5 5-2 5-7 5-4 5 4 5 8 5 6 5 3 5 0 5-2 5-3 5-7 5-3 5 7 5 13 5 7 5-2 5-5 5-4 5-2 5 0 5 2 5 2 5 6 5 8 5 2 5-6 5-4 5 1 5 0 5-3 5 1 5 7 5 8 5 5 5-1 5-8 5-8 5-1 5 5 5 4 5 5 5 8 5 3 5-6 5-11" stroke="#002cff"/>
<path d="M145 293l5-15 5-10 5-9 5-19 5-18 5-10 5-8 5-5 5 4 5-4 5-14 5-11 5-9 5 0 5 6 5 4 5 2 5 4 5-2 5 0 5 7 5 6 5 1 5 10 5 12 5 6 5 1 5-2 5-4 5 2 5 5 5 8 5 11 5 3 5-4 5 4 5 9 5 8 5 10 5 5 5-3 5-3 5 3 5 7 5 8 5 5 5 0 5 3 5 5 5 2 5 7 5 8 5 2 5-1 5 4 5 1 5-1 5-3 5-2 5 4 5 8 5 6 5 4 5 0 5-7 5-2 5 7 5 7 5 4 5 0 5-5 5-5 5 0 5 5 5 6 5 4 5-2 5-1 5 2 5 1 5-2 5 1 5 1 5 1 5 5 5 3 5-2 5-4 5-4 5 4 5 10 5 8 5 0 5-6 5-7 5-2 5 11 5 14 5 3 5-6 5-8 5-3 5 8 5 12 5 6 5-1 5-7 5-4 5 6 5 10 5 4 5-1 5-2 5-2 5 3 5 7 5 4 5 1 5-1 5 0 5 4 5 4 5 0 5 0 5 4 5 3 5 3 5 1 5-2 5-3 5 4 5 7 5 6 5 0 5-6 5-5 5 3 5 6 5 8 5 4 5-4 5-8 5-1 5 6 5 7 5 4 5-1 5-4 5-2 5 2 5 5 5 5 5-1 5-3 5 1 5 4 5 3 5 2 5 0 5-2 5 1 5 4 5 5 5 4 5-1 5-3 5-1 5 2 5 3 5 6 5 5 5-2 5-3 5-2 5 0 5 4 5 6 5 4 5 2 5-3 5-6 5 0 5 4 5 5 5 6 5 4 5-4 5-6 5-3 5 3 5 6 5 8 5 3 5-2 5-6 5-6 5 1 5 9 5 7 5 4 5-2 5-8 5-7 5 2 5 9 5 8 5 3 5-6 5-7 5-3 5 3 5 7 5 7 5-2 5-8 5-3" stroke="#0030ff"/>
<path d="M145 258l5-11 5-2 5-7 5-11 5-13 5-16 5-12 5-6 5-9 5-9 5-1 5-4 5-3 5 1 5-3 5-2 5 8 5 8 5 1 5 0 5 1 5 6 5 12 5 6 5-1 5 0 5-2 5-2 5 10 5 14 5 6 5 3 5 0 5-1 5 4 5 3 5 1 5 5 5 9 5 8 5 10 5 2 5-5 5-2 5 7 5 5 5 6 5 7 5 6 5 7 5 2 5-3 5-3 5 0 5 2 5 7 5 13 5 5 5-2 5-6 5-2 5 3 5 8 5 5 5 0 5 1 5 1 5 1 5 2 5 0 5-1 5 4 5 7 5 1 5-1 5-3 5-3 5 3 5 7 5 5 5 1 5-2 5-5 5 1 5 3 5 1 5 1 5 3 5 3 5 2 5 2 5-3 5-3 5 3 5 4 5 6 5 2 5-5 5-4 5 3 5 6 5 6 5 4 5-1 5-4 5-1 5 1 5 2 5 3 5 4 5 5 5 6 5 0 5-6 5-6 5 0 5 5 5 12 5 8 5 1 5-3 5-4 5-2 5 3 5 3 5 2 5 6 5 8 5 3 5-1 5-4 5-5 5 0 5 7 5 7 5 5 5 1 5-2 5 0 5 4 5 0 5-1 5 1 5 1 5 5 5 7 5 2 5-1 5-2 5 0 5 2 5 3 5 0 5 0 5 6 5 6 5 4 5 1 5-5 5-6 5 1 5 6 5 7 5 6 5 1 5-1 5 1 5-1 5-5 5-2 5 2 5 5 5 10 5 6 5-3 5-7 5-7 5-1 5 4 5 6 5 2 5 3 5 2 5-1 5-2 5-3 5-6 5 0 5 7 5 8 5 4 5-2 5-6 5-4 5 2 5 1 5 1 5 3 5 1 5 2 5 4 5 0 5-5 5-3 5 0 5 4 5 6 5 2 5-3 5-1 5 1 5 1 5 4 5-1 5-3 5 0" stroke="#0032ff"/>
<path d="M145 299l5-11 5-13 5-16 5-14 5-9 5-9 5-12 5-17 5-15 5-3 5 6 5-3 5-13 5-9 5 3 5 7 5 6 5 8 5 2 5-7 5-6 5 4 5 6 5 7 5 12 5 10 5-3 5-7 5 5 5 16 5 11 5 2 5-4 5-4 5 1 5 7 5 7 5 4 5 4 5 4 5 4 5 6 5 9 5 9 5 4 5 3 5-3 5-4 5 5 5 12 5 6 5-4 5-3 5 5 5 7 5 5 5 5 5 4 5 1 5 0 5 1 5-1 5-1 5 5 5 6 5 1 5-2 5 0 5 5 5 6 5 3 5-1 5 0 5 4 5 3 5-4 5-2 5 4 5 5 5 2 5-2 5-3 5 0 5 5 5 6 5 0 5-6 5-4 5 6 5 7 5 3 5 1 5 0 5-4 5-6 5-2 5 6 5 10 5 7 5-3 5-8 5-2 5 6 5 9 5 2 5-6 5-9 5-1 5 10 5 12 5 5 5-2 5-4 5-7 5-6 5 4 5 12 5 10 5-1 5-7 5-4 5 4 5 11 5 7 5-4 5-11 5-6 5 7 5 13 5 10 5 3 5-4 5-6 5-5 5 0 5 8 5 10 5 5 5-5 5-6 5 3 5 11 5 9 5 0 5-8 5-9 5 0 5 12 5 14 5 5 5-2 5-3 5-3 5-2 5 3 5 9 5 7 5-1 5-5 5 0 5 8 5 11 5 4 5-6 5-9 5-3 5 6 5 11 5 7 5 1 5-2 5-2 5-2 5-2 5 1 5 5 5 4 5-3 5-5 5 4 5 8 5 5 5-3 5-7 5-7 5-1 5 6 5 7 5 2 5 0 5 1 5-1 5-5 5-4 5 2 5 5 5 2 5-3 5-3 5 3 5 8 5 3 5-4 5-7 5-3 5 0 5 3 5 5 5 4 5 2 5 1 5-2 5-7 5-3 5 5 5 7" stroke="#0033ff"/>
<path d="M145 288l5-24 5-10 5 1 5-4 5-11 5-18 5-16 5-14 5-9 5-4 5-7 5-9 5-7 5-3 5 0 5 4 5 9 5 3 5-2 5-5 5 0 5 7 5 10 5 6 5-2 5-2 5 7 5 14 5 8 5-1 5-3 5 1 5 3 5 4 5 6 5 4 5 4 5 9 5 10 5 3 5-4 5 3 5 9 5 5 5 0 5 2 5 5 5 6 5 6 5 6 5 2 5 3 5 4 5 6 5 0 5-5 5-1 5 6 5 5 5 2 5 4 5 5 5 3 5 0 5-2 5 0 5 4 5 7 5 3 5-4 5-6 5 1 5 9 5 10 5 2 5-4 5-5 5 2 5 6 5 4 5 0 5-1 5 1 5 0 5 0 5 3 5 7 5 7 5 2 5-3 5-6 5-3 5 6 5 9 5 3 5-2 5 1 5 6 5 5 5 0 5-4 5-2 5 1 5 4 5 6 5 2 5 0 5 2 5 4 5 0 5-4 5 1 5 5 5 5 5 0 5-2 5 2 5 5 5 4 5 1 5-4 5-2 5 5 5 9 5 4 5-3 5-5 5-2 5 4 5 6 5 5 5 2 5 1 5 1 5-3 5-4 5 1 5 6 5 7 5 1 5-3 5-1 5 4 5 7 5 3 5-6 5-8 5-2 5 8 5 11 5 5 5 1 5 0 5-2 5-5 5-3 5 1 5 6 5 8 5 6 5 2 5-2 5 0 5 4 5-1 5-6 5-5 5 5 5 11 5 9 5 3 5-3 5-3 5-2 5-1 5-3 5-1 5 3 5 9 5 8 5 3 5-2 5-3 5-3 5-5 5-3 5 0 5 9 5 12 5 8 5-4 5-8 5-4 5 1 5 3 5 0 5-1 5 0 5 6 5 9 5 5 5-3 5-7 5-4 5-2 5-2 5 3 5 10 5 11 5 2 5-6 5-8 5-5 5 2 5 6 5 2" stroke="#0034ff"/>
<path d="M145 287l5-17 5-13 5-17 5-13 5-4 5-9 5-16 5-11 5-7 5-9 5-3 5 1 5-7 5-6 5 4 5 1 5-6 5-1 5 1 5 1 5 12 5 16 5 1 5-4 5 5 5 9 5 7 5 10 5 3 5-10 5-2 5 9 5 7 5 5 5 8 5 3 5 1 5 12 5 13 5 3 5 1 5 3 5 2 5 5 5 10 5 2 5-4 5 4 5 8 5 2 5 5 5 6 5 3 5 7 5 10 5-1 5-9 5-5 5 0 5 3 5 9 5 6 5-2 5-5 5 2 5 4 5 3 5 4 5 0 5-2 5 1 5 4 5-2 5-4 5-2 5 1 5 4 5 6 5 2 5-3 5-2 5 2 5 3 5 2 5 1 5-1 5 0 5 3 5 3 5 1 5 0 5 1 5 2 5 4 5 4 5 0 5-1 5 0 5 4 5 5 5 4 5 1 5-2 5 0 5 3 5 3 5 4 5 2 5 0 5 1 5 2 5 2 5 1 5 1 5 0 5 2 5 4 5 3 5 0 5 0 5-1 5-1 5 4 5 5 5 2 5 0 5-1 5-1 5 1 5 4 5 2 5-2 5 1 5 4 5 2 5 2 5 1 5-4 5-2 5 6 5 7 5 3 5 0 5-2 5-3 5 4 5 7 5 1 5-1 5 2 5 3 5 4 5 4 5-1 5-4 5 0 5 9 5 7 5 3 5 0 5-4 5-2 5 6 5 8 5 0 5-1 5 1 5 2 5 4 5 3 5-3 5-6 5 2 5 8 5 5 5 1 5-3 5-7 5-1 5 7 5 5 5-2 5-2 5 0 5 1 5 3 5 1 5-5 5-5 5 5 5 7 5 3 5 0 5-5 5-7 5 2 5 7 5 4 5-1 5-1 5 0 5 0 5 3 5 0 5-5 5 0 5 6 5 5 5 2 5-2 5-5 5-4 5 3 5 6 5 3 5-1" stroke="#0037ff"/>
<path d="M145 306l5-19 5-15 5-12 5-11 5-11 5-13 5-13 5-9 5-7 5-5 5-5 5-5 5-7 5-4 5 3 5 0 5-6 5 1 5 8 5 5 5 3 5 4 5 0 5-3 5 8 5 15 5 6 5-2 5 0 5 3 5 5 5 4 5 1 5-3 5 1 5 11 5 13 5 8 5-1 5-3 5 5 5 12 5 7 5 3 5 2 5 1 5 2 5 6 5 6 5 0 5-1 5 8 5 10 5 5 5 2 5 3 5-2 5 0 5 5 5 3 5 0 5 0 5 4 5 4 5 3 5 1 5 1 5 1 5 3 5 4 5 3 5 3 5 0 5-2 5-2 5 1 5 2 5 4 5 5 5 0 5-1 5 3 5 4 5-1 5-5 5-1 5 4 5 8 5 9 5 2 5-8 5-10 5 0 5 8 5 10 5 3 5-2 5-2 5 3 5 5 5 2 5-5 5-6 5-1 5 7 5 10 5 5 5-1 5-1 5-2 5-4 5-1 5 1 5 5 5 9 5 10 5 1 5-8 5-8 5 2 5 8 5 6 5 3 5-2 5-1 5 5 5 8 5 4 5-3 5-7 5-4 5 5 5 11 5 9 5 3 5-2 5-6 5-4 5 3 5 7 5 5 5 2 5 1 5-2 5 0 5 6 5 6 5-1 5-5 5-2 5 2 5 6 5 8 5 4 5-1 5-4 5 0 5 1 5 1 5 2 5 4 5 5 5 3 5-2 5-3 5 1 5 5 5 3 5 0 5-5 5-5 5 5 5 13 5 8 5-5 5-11 5-8 5 1 5 10 5 11 5 1 5-7 5-4 5 3 5 5 5 0 5-3 5-4 5 0 5 6 5 7 5 4 5-1 5-3 5-4 5-2 5-2 5 2 5 8 5 10 5 4 5-5 5-6 5-5 5-1 5 5 5 8 5 2 5-2 5 1 5 3 5 1 5-1 5-2 5-4 5-4" stroke="#003bff"/>
<path d="M145 277l5-14 5-12 5-13 5-22 5-10 5 0 5-7 5-9 5-10 5-16 5-10 5-4 5-5 5-2 5 1 5 4 5 9 5 6 5 4 5-1 5-7 5 4 5 8 5 6 5 13 5 8 5-4 5 6 5 4 5-2 5 6 5 6 5 0 5 7 5 9 5 4 5 6 5 2 5 0 5 2 5 6 5 8 5 4 5-1 5 4 5 4 5 3 5 12 5 6 5-3 5 3 5 1 5-2 5 4 5 1 5 0 5 6 5 7 5 5 5 2 5-2 5-3 5 0 5 1 5 6 5 4 5 4 5 4 5 1 5-1 5 1 5-1 5 0 5 5 5 3 5 1 5 4 5-1 5-2 5 1 5 0 5 0 5 4 5 2 5 2 5 1 5-2 5-1 5-1 5 0 5 4 5 1 5 2 5 1 5-2 5-1 5 4 5 0 5 1 5 3 5-1 5 0 5 4 5-1 5-1 5 1 5 2 5 4 5 6 5 2 5-2 5-2 5 0 5 4 5 4 5 4 5 3 5-1 5 3 5 4 5 1 5 2 5 2 5-1 5 4 5 7 5 2 5 0 5 0 5-2 5 5 5 8 5 4 5 0 5-4 5-3 5 1 5 4 5 5 5 3 5 0 5 3 5 4 5-1 5-1 5-5 5-7 5 4 5 10 5 9 5 6 5-2 5-9 5-4 5 1 5 3 5 3 5 2 5 4 5 6 5 6 5 4 5-4 5-9 5-3 5 3 5 7 5 11 5 3 5-3 5 0 5 2 5 2 5 2 5-4 5-6 5 1 5 6 5 9 5 6 5-2 5-4 5-3 5 1 5 2 5-2 5-6 5-1 5 4 5 10 5 11 5 0 5-11 5-9 5-7 5 1 5 7 5 4 5 1 5 5 5 4 5 2 5-2 5-10 5-12 5-4 5 7 5 15 5 11 5 2 5-4 5-9 5-4 5 2 5-1 5-3" stroke="#003eff"/>
<path d="M145 267l5-16 5-12 5-14 5-7 5-8 5-17 5-9 5-5 5-9 5-2 5-7 5-11 5 5 5 0 5-3 5 2 5-1 5 8 5 16 5 2 5 1 5-2 5-3 5 12 5 8 5-2 5 5 5 1 5 6 5 15 5-1 5-1 5 7 5 2 5 7 5 5 5-6 5 6 5 11 5 10 5 8 5-1 5-5 5 7 5 3 5 5 5 8 5 0 5 7 5 12 5-3 5 0 5-1 5-2 5 9 5 4 5-2 5 2 5 2 5 6 5 7 5-3 5-6 5 0 5 2 5 8 5 5 5-5 5 0 5 2 5 2 5 6 5-3 5-5 5 1 5 2 5 4 5 4 5-4 5-1 5 2 5-1 5 2 5 1 5 0 5 4 5 0 5-4 5-1 5 0 5 7 5 8 5-2 5-6 5-1 5 2 5 9 5 4 5-7 5-4 5 2 5 9 5 13 5 1 5-9 5-7 5-3 5 8 5 13 5 7 5 4 5-2 5-10 5-6 5 1 5 9 5 18 5 10 5-4 5-11 5-11 5 3 5 15 5 11 5 4 5-3 5-5 5 2 5 3 5 0 5 2 5 3 5 5 5 8 5-1 5-4 5-2 5 1 5 6 5 5 5-1 5 1 5 4 5 2 5 1 5-2 5-3 5 3 5 5 5 3 5 2 5 0 5 2 5 3 5-3 5-5 5-2 5 6 5 15 5 9 5-4 5-13 5-11 5 1 5 15 5 13 5 5 5-4 5-10 5-7 5-1 5 3 5 9 5 9 5 3 5-4 5-11 5-8 5 4 5 10 5 8 5 0 5-8 5-4 5 3 5 5 5 1 5-3 5-3 5 2 5 6 5 3 5-1 5-3 5 0 5 1 5-1 5-1 5 2 5 6 5 8 5 1 5-8 5-9 5-3 5 8 5 13 5 6 5-1 5-6 5-6 5-3 5 1 5 5 5 9 5 8" stroke="#003fff"/>
<path d="M145 279l5-16 5-18 5-17 5-7 5-4 5-9 5-7 5-5 5-13 5-13 5-3 5-5 5-8 5 0 5 3 5 3 5 11 5 12 5-3 5-5 5 5 5 4 5 2 5 6 5 2 5-1 5 8 5 15 5 6 5 0 5 0 5-5 5-4 5 8 5 12 5 10 5 10 5 5 5-4 5-3 5 0 5 3 5 5 5 10 5 9 5 6 5 5 5 0 5 1 5 0 5 1 5 2 5 3 5 6 5 7 5 6 5-1 5-5 5 0 5 5 5 7 5 5 5 0 5-5 5 0 5 7 5 7 5 5 5 1 5-3 5-4 5 3 5 4 5 3 5 3 5 3 5 0 5 0 5 2 5-2 5-3 5 1 5 4 5 2 5 2 5 1 5-3 5-2 5 1 5 0 5-1 5 3 5 4 5 1 5-2 5-4 5-6 5 2 5 9 5 8 5-2 5-6 5-7 5 0 5 8 5 10 5 1 5-6 5-5 5 2 5 6 5 7 5 1 5-5 5-3 5 5 5 8 5 6 5-1 5-4 5-3 5 4 5 8 5 7 5 2 5-1 5-2 5-1 5 3 5 5 5 7 5 3 5 2 5-2 5-4 5 0 5 5 5 8 5 5 5 1 5-3 5-5 5 0 5 7 5 6 5 2 5 0 5-2 5-2 5 3 5 5 5 0 5 0 5 2 5 1 5 2 5 5 5 0 5-3 5 0 5 3 5 3 5 6 5 3 5-3 5-4 5 1 5 3 5 5 5 5 5 0 5-4 5-1 5 2 5 2 5 2 5 1 5 0 5 0 5 4 5 2 5-3 5-3 5 0 5 3 5 6 5 5 5-2 5-7 5-4 5 2 5 5 5 6 5 2 5-3 5-4 5-1 5 1 5 2 5 2 5 3 5 2 5-1 5-3 5-3 5 0 5 5 5 7 5 2 5-4 5-6 5 0 5 5 5 6 5 3 5-6" stroke="#0041ff"/>
<path d="M145 270l5-16 5-9 5-9 5-12 5-11 5-15 5-16 5-9 5-6 5-5 5-4 5-8 5-6 5 1 5 2 5 1 5 4 5 4 5-4 5 0 5 9 5 10 5 7 5 5 5-2 5-2 5 4 5 5 5 5 5 5 5 4 5 3 5 10 5 11 5 0 5 1 5 3 5 1 5 2 5 9 5 8 5 5 5 7 5 8 5 3 5 6 5 3 5-3 5 0 5 3 5 6 5 12 5 13 5 2 5-8 5-4 5 0 5 3 5 8 5 6 5 1 5 0 5 1 5 4 5 2 5 2 5-3 5-1 5 2 5 2 5 3 5 4 5-1 5-2 5 1 5 3 5 2 5 0 5-3 5-4 5 0 5 4 5 5 5 4 5-1 5-7 5-4 5 3 5 4 5 4 5 3 5-1 5-4 5 0 5 2 5 2 5 1 5 0 5 1 5 4 5 5 5 1 5-1 5-3 5-2 5 2 5 7 5 7 5 1 5-1 5-1 5 0 5 3 5 4 5 2 5 0 5 0 5 2 5 6 5 6 5 1 5-3 5-2 5 0 5 3 5 8 5 7 5 1 5-2 5-1 5 0 5 2 5 3 5 1 5 2 5 4 5 3 5 3 5 1 5-4 5-4 5 2 5 6 5 6 5 4 5 1 5-5 5-3 5 2 5 5 5 5 5 3 5-2 5-2 5 1 5 3 5 3 5 5 5 1 5-2 5 0 5 3 5 1 5 1 5 2 5 2 5 3 5 4 5 1 5-3 5-3 5-2 5 2 5 8 5 7 5 1 5-3 5-5 5-5 5 1 5 7 5 5 5 2 5 1 5-2 5-2 5 0 5 0 5 0 5 1 5 3 5 2 5 4 5 2 5-5 5-3 5 0 5 2 5 3 5 4 5 1 5-3 5-1 5 1 5 2 5 2 5-1 5-3 5 0 5 2 5 3 5 3 5 2 5-4 5-4 5 0" stroke="#0042ff"/>
<path d="M145 280l5-16 5-9 5-6 5-6 5-11 5-13 5-16 5-15 5-4 5 2 5-7 5-10 5-7 5-3 5 1 5 5 5 6 5 4 5 0 5-1 5 8 5 10 5 4 5 2 5 0 5-2 5 5 5 9 5 9 5 8 5 2 5-3 5 2 5 3 5 6 5 10 5 7 5 4 5 5 5 0 5-1 5 4 5 5 5 9 5 9 5 5 5 4 5-1 5-2 5 4 5 8 5 4 5 2 5 2 5 3 5 1 5 2 5 2 5 2 5-2 5-1 5 6 5 10 5 3 5-1 5-4 5-6 5 0 5 7 5 10 5 8 5-4 5-6 5-4 5 0 5 5 5 6 5 3 5-2 5-3 5-1 5 2 5 2 5 0 5-1 5-1 5 0 5 4 5 4 5 0 5-2 5-2 5-2 5 2 5 4 5 3 5 2 5-1 5-2 5 0 5 1 5 0 5 3 5 4 5 2 5 2 5-1 5-2 5-1 5 1 5 4 5 6 5 1 5-1 5-1 5 0 5 1 5 4 5 2 5 0 5-1 5 1 5 5 5 4 5 1 5-2 5-3 5-1 5 4 5 9 5 5 5 0 5-4 5-5 5 0 5 6 5 8 5 5 5 0 5-5 5-1 5 3 5 4 5 5 5 1 5-1 5 0 5 2 5 5 5 5 5 0 5-2 5 0 5 2 5 4 5 8 5 5 5 0 5-3 5-2 5 1 5 6 5 6 5 6 5 2 5-3 5-3 5 0 5 3 5 6 5 5 5 1 5-2 5-3 5 0 5 5 5 3 5 1 5-1 5-3 5-1 5 5 5 6 5 2 5-4 5-7 5-4 5 4 5 9 5 7 5 1 5-9 5-10 5-1 5 7 5 9 5 5 5-4 5-8 5-6 5 2 5 9 5 5 5-3 5-7 5-4 5 2 5 8 5 7 5-3 5-9 5-7 5 0 5 10 5 9 5 1" stroke="#0046ff"/>
<path d="M145 272l5-16 5-12 5-6 5-9 5-16 5-12 5-12 5-13 5-3 5 2 5-6 5-9 5-5 5-2 5 5 5 5 5 1 5 2 5 7 5 7 5 5 5 0 5-2 5-3 5 7 5 13 5 4 5-1 5 6 5 6 5 3 5 2 5 1 5 1 5 7 5 10 5 9 5 8 5-3 5-4 5 4 5 10 5 5 5 0 5 7 5 13 5 6 5 0 5-2 5-4 5 2 5 7 5 9 5 6 5 3 5-4 5-1 5 3 5-1 5-3 5 3 5 10 5 8 5 1 5-5 5-6 5-3 5 5 5 6 5 4 5 1 5 1 5 1 5 0 5-3 5-5 5 1 5 7 5 7 5 2 5-2 5-5 5-3 5 4 5 6 5 0 5-2 5 2 5 4 5 4 5-1 5-4 5-1 5 5 5 6 5 2 5 1 5-1 5 0 5 4 5 3 5-2 5-3 5 4 5 8 5 5 5 0 5-5 5-4 5 3 5 6 5 5 5 2 5 0 5-1 5 1 5 2 5-2 5-2 5 5 5 10 5 4 5-2 5-6 5-4 5 3 5 8 5 6 5 2 5-1 5-1 5 1 5 1 5-1 5 0 5 6 5 9 5 4 5-4 5-5 5-2 5 4 5 8 5 7 5 0 5-2 5-1 5 2 5 3 5 0 5 0 5 5 5 8 5 2 5-4 5-4 5 0 5 5 5 8 5 4 5-2 5-4 5 1 5 4 5 3 5 0 5-1 5 1 5 5 5 1 5-4 5-2 5 1 5 3 5 5 5 1 5-6 5-5 5 3 5 6 5 3 5-1 5-4 5-1 5 2 5 2 5-1 5 0 5 2 5 3 5 2 5 0 5-6 5-3 5 5 5 9 5 4 5-3 5-4 5-2 5 2 5 4 5 2 5 1 5 2 5 3 5 0 5-2 5-5 5-2 5 7 5 10 5 2 5-5 5-5 5-2" stroke="#0047ff"/>
<path d="M145 288l5-16 5-7 5-5 5-11 5-8 5-14 5-19 5-11 5-8 5-11 5-8 5-6 5 2 5 5 5 4 5 3 5-7 5-8 5 7 5 10 5 5 5 8 5-3 5-6 5 6 5 10 5 8 5 11 5 3 5 0 5-1 5 0 5 2 5 2 5 5 5 13 5 8 5 4 5 7 5 3 5 1 5 6 5 2 5-1 5 3 5 6 5 9 5 10 5 5 5-1 5-2 5 3 5 9 5 6 5 2 5 0 5-6 5-2 5 6 5 5 5 5 5 5 5 3 5 2 5-1 5-1 5-2 5 1 5 4 5 4 5 0 5-1 5 2 5 2 5 5 5 3 5-5 5-5 5 2 5 5 5 8 5 3 5-4 5-7 5-3 5 5 5 8 5 4 5 0 5-1 5-2 5 1 5 2 5-3 5 1 5 6 5 5 5 5 5-1 5-7 5-4 5 2 5 8 5 7 5 2 5-3 5-3 5-1 5 4 5 4 5 0 5 2 5 3 5 0 5 2 5 2 5-1 5 1 5 4 5 2 5 1 5 1 5 2 5 4 5 2 5 1 5-1 5-1 5 5 5 6 5 2 5 0 5-3 5-1 5 7 5 8 5 1 5-4 5-5 5 1 5 9 5 10 5 5 5-5 5-11 5-2 5 6 5 11 5 11 5 1 5-7 5-6 5-3 5 3 5 9 5 9 5 5 5-2 5-6 5-5 5 0 5 7 5 11 5 5 5-4 5-4 5-3 5 3 5 8 5 2 5-4 5-4 5 0 5 7 5 7 5 1 5-7 5-9 5-1 5 9 5 9 5 4 5-3 5-10 5-6 5 4 5 6 5 6 5 3 5-4 5-5 5-3 5 1 5 5 5 5 5 3 5-1 5-7 5-4 5 4 5 7 5 7 5 2 5-9 5-9 5 1 5 7 5 11 5 5 5-4 5-9 5-4 5 3 5 7 5 4 5 1" stroke="#004aff"/>
<path d="M145 280l5-14 5-7 5-6 5-7 5-7 5-10 5-15 5-15 5-13 5-9 5-7 5-8 5-3 5 2 5-2 5 2 5 6 5 1 5 3 5 8 5 1 5 0 5 6 5 2 5-2 5 4 5 4 5 0 5 7 5 8 5 5 5 9 5 11 5 2 5 2 5 1 5-1 5 0 5 4 5 7 5 10 5 11 5 7 5 5 5 3 5 1 5 3 5 5 5 5 5 6 5 5 5-3 5-1 5 2 5 0 5 5 5 9 5 4 5 3 5 2 5-3 5-4 5 1 5 2 5 1 5 3 5 3 5 0 5 0 5 1 5 0 5 2 5 2 5 1 5 2 5 1 5-1 5 0 5-2 5-1 5 3 5 2 5 2 5 4 5 2 5 0 5 0 5 0 5-4 5 1 5 5 5 5 5 6 5 3 5-5 5-6 5-1 5 4 5 8 5 8 5 2 5-4 5-5 5-2 5 3 5 6 5 4 5 1 5-1 5-1 5 1 5 2 5 0 5 0 5 1 5 1 5 3 5 5 5 0 5-4 5-1 5 1 5 3 5 8 5 4 5-3 5-5 5-1 5 1 5 8 5 9 5 2 5-4 5-4 5-3 5 4 5 9 5 7 5 3 5-1 5-3 5-1 5 2 5 4 5 4 5 4 5 2 5 4 5 2 5-2 5-3 5-1 5 2 5 7 5 10 5 5 5-3 5-5 5-7 5-2 5 8 5 12 5 6 5 1 5-6 5-8 5-2 5 4 5 6 5 5 5 2 5-2 5-2 5-1 5 0 5 0 5-1 5 1 5 3 5 5 5 2 5 0 5-4 5-6 5 1 5 5 5 6 5 4 5 1 5-5 5-3 5 2 5 3 5 4 5 3 5-2 5-3 5 3 5 5 5 2 5 1 5-3 5-5 5 0 5 6 5 6 5 3 5-1 5-6 5-4 5-1 5 4 5 6 5 2 5-2 5-3" stroke="#004dff"/>
<path d="M145 274l5-21 5-12 5-10 5-9 5-5 5-11 5-11 5-7 5-10 5-8 5-9 5-8 5-4 5-6 5-1 5 4 5 0 5 7 5 11 5 7 5 4 5-2 5-4 5-1 5 0 5 9 5 13 5 6 5 7 5 3 5 0 5 2 5 2 5 4 5 4 5 3 5 9 5 7 5 2 5 6 5 3 5 3 5 8 5 5 5 3 5 0 5-1 5 8 5 8 5 8 5 7 5 0 5-3 5 0 5 2 5 3 5 3 5 3 5 5 5 3 5 3 5 3 5-3 5-1 5 2 5 5 5 4 5 2 5-1 5 0 5 0 5 4 5 5 5 0 5-1 5-1 5-1 5 3 5 3 5 2 5-1 5-2 5 0 5 2 5 1 5 2 5 2 5 1 5 0 5-1 5-1 5-3 5-1 5 5 5 8 5 4 5 1 5-5 5-8 5-3 5 4 5 8 5 6 5 3 5 0 5-3 5-3 5 0 5 0 5 2 5 4 5 6 5 4 5 0 5-3 5-2 5-2 5 4 5 7 5 4 5 2 5-1 5 0 5 2 5 2 5 2 5 2 5-1 5 2 5 6 5 3 5 2 5 1 5-2 5 1 5 2 5 4 5 2 5 1 5 3 5 3 5 2 5 2 5-2 5-2 5 1 5 4 5 7 5 4 5 0 5-1 5-2 5-1 5 4 5 3 5 2 5 2 5 3 5 3 5 2 5-2 5-1 5-2 5 2 5 6 5 5 5 3 5-1 5-2 5-1 5-1 5 1 5 1 5 1 5 3 5 6 5 2 5-2 5-5 5-6 5-1 5 4 5 9 5 7 5 0 5-3 5-6 5-5 5 0 5 3 5 6 5 6 5 4 5 1 5-4 5-8 5-5 5 1 5 6 5 11 5 7 5-1 5-7 5-9 5-3 5 3 5 6 5 8 5 3 5-1 5-3 5-4 5-4 5-1 5 3 5 7" stroke="#0051ff"/>
<path d="M145 278l5-6 5-9 5-10 5-9 5-16 5-16 5-10 5-7 5-12 5-14 5-5 5 0 5 2 5 6 5 3 5-4 5-6 5 1 5 5 5 3 5 6 5 6 5 4 5 4 5 4 5 1 5 3 5 8 5 7 5 3 5 1 5-2 5 0 5 6 5 11 5 8 5 4 5 3 5 5 5 4 5 4 5 4 5 0 5 2 5 7 5 8 5 3 5 3 5 4 5 3 5 5 5 7 5 0 5-3 5 2 5 6 5 3 5-1 5 1 5 0 5 1 5 7 5 8 5 1 5-4 5-1 5 2 5 2 5 2 5 1 5-1 5 0 5 5 5 5 5-1 5-1 5 0 5 2 5 2 5 2 5-2 5-2 5 2 5 6 5 3 5 0 5-1 5 0 5 0 5 2 5 2 5-1 5 1 5 5 5 6 5 3 5-2 5-4 5-3 5 3 5 5 5 3 5 1 5 2 5 1 5 3 5 1 5 0 5-2 5 1 5 5 5 3 5 0 5-1 5 0 5 3 5 6 5 6 5-1 5-4 5-2 5 1 5 2 5 3 5 5 5 4 5 3 5 4 5 0 5-7 5-6 5 2 5 7 5 8 5 6 5 1 5-3 5-3 5 1 5 1 5-1 5 2 5 6 5 4 5 3 5-1 5-3 5-3 5 4 5 8 5 3 5-1 5-2 5-2 5 1 5 4 5 5 5 2 5 3 5 4 5 0 5-3 5-5 5-2 5 4 5 10 5 9 5 2 5-3 5-5 5-3 5 0 5 1 5 3 5 2 5 5 5 5 5 0 5-4 5-4 5-2 5 2 5 6 5 4 5-2 5-3 5 1 5 3 5 2 5 1 5 0 5-1 5 0 5 2 5 0 5-3 5 1 5 6 5 5 5 3 5-1 5-6 5-5 5 1 5 5 5 3 5 2 5 2 5 2 5 0 5 0 5-2 5-4 5 0 5 5 5 5" stroke="#0052ff"/>
<path d="M145 284l5-19 5-11 5-7 5-3 5-8 5-16 5-8 5-8 5-11 5-7 5-13 5-10 5 3 5-1 5-4 5 4 5 4 5 9 5 12 5-5 5-5 5 2 5 1 5 8 5 7 5-1 5 8 5 9 5 2 5 2 5-2 5 1 5 10 5 8 5 2 5 3 5 3 5 9 5 7 5 2 5 0 5 2 5 6 5 9 5 5 5 5 5 8 5 5 5 4 5 0 5-5 5 3 5 7 5 7 5 7 5 2 5-1 5 3 5-1 5 0 5 5 5 1 5 2 5 4 5-1 5 1 5 4 5 1 5 2 5 4 5-2 5-1 5-2 5-1 5 4 5 6 5 1 5-1 5-4 5-1 5 3 5 0 5-3 5 0 5 4 5 5 5 0 5-8 5-6 5 2 5 11 5 9 5-3 5-10 5-5 5 1 5 10 5 6 5 0 5-1 5-2 5-3 5 2 5 3 5 4 5 7 5 0 5-4 5-1 5 1 5 4 5 5 5 1 5 3 5 5 5-1 5-5 5-3 5 4 5 15 5 10 5-5 5-12 5-7 5 8 5 18 5 9 5-6 5-10 5-4 5 7 5 10 5 3 5-1 5-3 5 1 5 4 5 1 5-1 5 1 5 3 5 6 5 3 5-3 5-4 5-2 5 4 5 10 5 6 5-3 5-6 5-6 5 4 5 13 5 6 5-2 5-5 5-4 5 3 5 10 5 4 5 0 5-1 5-2 5 2 5 5 5 1 5 3 5 0 5-2 5 2 5 3 5 3 5 0 5-3 5-1 5 6 5 5 5 0 5-6 5-5 5 5 5 10 5 3 5-7 5-10 5 1 5 12 5 9 5-3 5-12 5-8 5 8 5 13 5 2 5-6 5-9 5-2 5 8 5 5 5-1 5-1 5-3 5 1 5 2 5-2 5 0 5 4 5 0 5 1 5 0 5-3 5 0 5 1 5 0 5 4" stroke="#0054ff"/>
<path d="M145 283l5-13 5-8 5-8 5-11 5-8 5-9 5-14 5-11 5-6 5-10 5-11 5-5 5-3 5 0 5 4 5 6 5 1 5 2 5 3 5-1 5 0 5 8 5 9 5 0 5 4 5 5 5-1 5 2 5 8 5 5 5 4 5 8 5 0 5-3 5 3 5 7 5 4 5 7 5 11 5 4 5-1 5 2 5 1 5 1 5 8 5 9 5 4 5 5 5 7 5-2 5-2 5 4 5 4 5 1 5 5 5 5 5 0 5 3 5 2 5 0 5 0 5 3 5 3 5 0 5 5 5 5 5 1 5-1 5 1 5-1 5 0 5 4 5 4 5 2 5 4 5 0 5-5 5-1 5 3 5 3 5 2 5 4 5 0 5-4 5-3 5 0 5 1 5 4 5 6 5 2 5-3 5-1 5-2 5-2 5 4 5 5 5 1 5-1 5-2 5-3 5-1 5 5 5 8 5 4 5 3 5-2 5-8 5-7 5 0 5 5 5 8 5 11 5 6 5-4 5-6 5-6 5-7 5 1 5 8 5 9 5 7 5 5 5-1 5-6 5-5 5-2 5 0 5 4 5 9 5 5 5 3 5 1 5-1 5-4 5-2 5 3 5 2 5 4 5 6 5 3 5-2 5 0 5 0 5 1 5 4 5 6 5 3 5 0 5-1 5-4 5-2 5 5 5 9 5 8 5 6 5 1 5-7 5-8 5-3 5 3 5 8 5 14 5 10 5 2 5-5 5-8 5-9 5-2 5 6 5 10 5 9 5 7 5-1 5-7 5-7 5-3 5 0 5 4 5 7 5 4 5 0 5 0 5-2 5-3 5 0 5 2 5 1 5 1 5 1 5-1 5-1 5 1 5 1 5 1 5 3 5 2 5-1 5-1 5-2 5-3 5-1 5 3 5 5 5 5 5 4 5 1 5-5 5-6 5-5 5-2 5 4 5 8 5 9 5 5 5-1 5-7" stroke="#0055ff"/>
<path d="M145 293l5-16 5-10 5-15 5-18 5-9 5-7 5-12 5-8 5-5 5-8 5-7 5-7 5-5 5 5 5 5 5 2 5 7 5 3 5-5 5 1 5 7 5 0 5 3 5 7 5 2 5 4 5 7 5 8 5 7 5 2 5-4 5 0 5 5 5 2 5 7 5 11 5 2 5-1 5 5 5 5 5 5 5 9 5 6 5 3 5 3 5 1 5 1 5 4 5 1 5 4 5 9 5 5 5 1 5 3 5 1 5-2 5 2 5 7 5 5 5 2 5-1 5-4 5-1 5 2 5 4 5 8 5 4 5-1 5 1 5 1 5-2 5 0 5 3 5 0 5 1 5 3 5 2 5 1 5-1 5-2 5 0 5 3 5 2 5 2 5 2 5-3 5-2 5 4 5 3 5 0 5 0 5-2 5-2 5 3 5 6 5 6 5 1 5-4 5-6 5-2 5 2 5 6 5 9 5 4 5-3 5-3 5-2 5-2 5 2 5 6 5 5 5 4 5 1 5-1 5-2 5-2 5 0 5 5 5 6 5 3 5 2 5 1 5-2 5-1 5 3 5 2 5 1 5 3 5 3 5 3 5 3 5-1 5-2 5-1 5 0 5 5 5 9 5 3 5-1 5-3 5-2 5-1 5 6 5 7 5 3 5-1 5-2 5-2 5 4 5 4 5 3 5 2 5-2 5-3 5 3 5 6 5 3 5 3 5 0 5-4 5-1 5 3 5 5 5 4 5 3 5 0 5-1 5-2 5-2 5 2 5 5 5 2 5 2 5 3 5-3 5-4 5 0 5 1 5 3 5 4 5 1 5-1 5-1 5-2 5 1 5 3 5 0 5-1 5 2 5 1 5 1 5 3 5 1 5-4 5-2 5 1 5 3 5 5 5 4 5-2 5-3 5-3 5 0 5 6 5 5 5 0 5-1 5-2 5-3 5 3 5 6 5 3 5-1 5-3 5-2 5 0" stroke="#0058ff"/>
<path d="M145 294l5-13 5-12 5-16 5-12 5-5 5-8 5-15 5-10 5-7 5-6 5-8 5-12 5-9 5-2 5 5 5 11 5 6 5-3 5-3 5 4 5 2 5 3 5 8 5 5 5 5 5 9 5 5 5-1 5-2 5 0 5 5 5 9 5 6 5 6 5 5 5 3 5 3 5 7 5 1 5-3 5 4 5 6 5 7 5 10 5 6 5 2 5-1 5 2 5 5 5 5 5 0 5 2 5 6 5 3 5 3 5 3 5-2 5 0 5 6 5 6 5 0 5-3 5-1 5 3 5 7 5 8 5 1 5-2 5-4 5 0 5 4 5 2 5 1 5 4 5 3 5 2 5-1 5-3 5-4 5 1 5 7 5 6 5 1 5-4 5-6 5 0 5 4 5 7 5 5 5-3 5-6 5-1 5 2 5 3 5 6 5 4 5-1 5-3 5-3 5-1 5 4 5 8 5 7 5 1 5-6 5-7 5 0 5 8 5 10 5 7 5-3 5-9 5-3 5 5 5 9 5 6 5 1 5-4 5-2 5 2 5 5 5 3 5 0 5 0 5 3 5 3 5 1 5 0 5-2 5-1 5 3 5 5 5 2 5 1 5 0 5-1 5-2 5-1 5 2 5 6 5 7 5 3 5-3 5-9 5-7 5 6 5 14 5 11 5 1 5-8 5-13 5-3 5 10 5 14 5 9 5 0 5-7 5-6 5 0 5 4 5 10 5 7 5 3 5 0 5-2 5-5 5-1 5 7 5 8 5 5 5 0 5-4 5-4 5 2 5 4 5 3 5-1 5-2 5 3 5 5 5 1 5-3 5-5 5-5 5 4 5 11 5 6 5-3 5-8 5-8 5-1 5 7 5 9 5 4 5-2 5-7 5-4 5-1 5 2 5 5 5 7 5 1 5-3 5-5 5-4 5 1 5 7 5 8 5 0 5-5 5-6 5 1 5 6 5 6 5 1 5-5" stroke="#005cff"/>
<path d="M145 285l5-12 5-7 5-10 5-9 5-15 5-16 5-12 5-11 5-6 5 0 5-10 5-9 5-2 5-3 5-1 5 0 5 2 5 6 5 4 5 0 5 6 5 4 5-2 5 5 5 5 5 3 5 8 5 6 5 4 5 3 5-4 5 2 5 11 5 5 5 4 5 5 5 2 5 7 5 11 5 4 5 3 5-4 5-2 5 12 5 12 5 5 5 4 5 0 5 1 5 5 5 5 5 5 5 3 5-2 5 3 5 5 5 0 5 0 5 1 5 1 5 3 5 2 5 3 5 6 5 1 5-3 5-1 5-2 5 0 5 5 5 4 5 1 5 0 5-1 5 2 5 3 5-3 5-3 5 1 5 4 5 6 5 3 5-3 5-4 5-3 5 3 5 7 5 2 5-2 5 1 5 3 5 4 5 3 5-3 5-4 5-1 5 2 5 8 5 8 5 1 5-1 5-2 5-4 5-1 5 3 5 6 5 7 5 2 5-2 5 0 5-2 5 1 5 3 5 0 5 0 5 3 5 5 5 6 5 0 5-5 5-3 5 1 5 3 5 6 5 4 5 2 5 1 5 0 5-1 5-2 5-3 5 3 5 10 5 6 5 1 5-3 5-4 5 1 5 4 5 3 5 2 5 0 5 1 5 7 5 4 5-1 5-3 5-3 5 0 5 6 5 6 5 6 5 3 5-3 5-4 5-2 5 1 5 5 5 8 5 4 5 0 5-3 5-2 5 5 5 2 5-2 5-1 5 0 5 4 5 7 5 4 5-3 5-7 5-6 5 2 5 7 5 4 5 2 5 0 5-2 5-1 5-2 5-2 5 2 5 2 5 4 5 4 5-1 5-3 5 0 5 0 5 0 5 1 5 0 5 4 5 5 5 2 5 0 5-2 5-5 5-1 5 4 5 4 5 4 5 3 5 1 5-1 5-5 5-4 5 3 5 6 5 4 5 2 5-2 5-3 5 0" stroke="#0060ff"/>
<path d="M145 284l5-6 5-11 5-10 5-11 5-15 5-12 5-7 5-6 5-4 5-8 5-11 5-8 5-10 5-1 5 7 5 3 5 5 5 8 5-1 5 2 5 9 5 1 5 3 5 6 5 0 5 0 5 5 5 3 5 5 5 6 5 4 5 5 5 3 5 5 5 8 5 3 5 2 5 6 5-1 5 0 5 8 5 4 5 5 5 9 5 3 5 2 5 6 5 5 5 4 5 4 5 2 5 1 5 0 5 0 5 4 5 4 5 2 5 5 5 1 5-1 5 5 5 2 5 1 5 4 5 1 5-2 5 1 5 0 5 1 5 5 5 2 5 1 5 1 5-1 5 1 5 2 5 1 5 2 5 0 5-2 5 0 5 0 5 0 5 4 5 3 5-2 5 0 5-3 5-2 5 4 5 6 5 4 5 1 5-4 5-5 5-3 5 2 5 7 5 8 5 1 5-1 5-4 5-4 5 4 5 5 5 3 5 2 5-1 5-3 5 3 5 6 5 5 5 2 5-2 5-6 5-1 5 4 5 8 5 9 5 2 5-2 5-5 5-3 5 3 5 8 5 5 5 2 5 0 5-5 5 1 5 6 5 4 5 4 5-1 5-5 5-2 5 2 5 7 5 7 5 3 5-2 5-5 5-4 5 1 5 7 5 4 5 3 5 1 5-4 5-1 5 3 5 3 5 2 5 0 5-3 5 0 5 3 5 5 5 6 5 2 5-2 5-4 5-3 5 2 5 7 5 6 5 3 5 2 5-4 5-3 5 2 5 1 5 3 5 3 5 0 5 1 5 2 5 2 5 2 5 0 5-2 5-1 5 0 5 3 5 5 5 3 5 1 5 0 5-3 5-2 5 3 5 1 5 2 5 3 5 0 5 0 5 2 5 1 5-1 5 0 5-2 5 0 5 2 5 2 5 3 5 0 5-2 5 0 5-1 5-1 5 3 5 0 5-2 5 1 5 1 5 0" stroke="#0063ff"/>
<path d="M145 281l5-14 5-21 5-17 5-6 5-9 5-10 5-5 5-5 5-13 5-14 5-9 5-9 5-4 5 0 5 3 5 6 5 5 5-1 5 1 5 4 5 0 5 3 5 10 5 6 5 1 5 9 5 7 5-4 5-1 5 9 5 4 5 3 5 9 5 9 5 3 5 3 5 2 5 1 5 3 5 6 5 7 5 7 5 5 5 4 5 4 5 2 5 0 5 5 5 9 5 4 5-1 5 3 5 3 5 0 5 0 5 7 5 3 5 0 5 2 5 1 5-3 5 2 5 7 5 3 5 2 5 1 5 0 5-2 5 0 5 2 5 5 5 5 5 0 5-1 5 1 5-1 5 0 5 4 5 4 5 0 5 2 5 3 5-1 5 0 5 3 5 3 5 0 5 1 5 1 5-1 5 1 5 6 5 6 5 3 5-1 5-5 5-5 5 0 5 5 5 10 5 9 5 0 5-7 5-6 5-4 5 1 5 8 5 9 5 2 5-3 5-2 5-3 5 0 5 4 5 5 5 0 5-3 5 1 5 2 5 3 5 5 5 2 5-2 5-4 5-2 5 3 5 6 5 5 5 3 5 1 5-1 5-4 5 1 5 4 5 2 5 2 5 5 5 2 5 0 5 1 5 2 5-2 5 1 5 4 5 4 5 2 5 3 5 0 5 0 5 1 5 3 5 4 5 2 5-1 5-2 5 1 5 4 5 5 5 8 5 3 5-5 5-7 5-1 5 3 5 6 5 11 5 6 5-5 5-7 5-4 5-1 5 4 5 8 5 4 5-1 5-4 5-3 5 1 5 4 5 2 5-1 5-3 5-3 5 0 5 6 5 7 5 2 5-3 5-5 5-6 5-3 5 6 5 9 5 5 5 1 5-2 5-6 5-5 5 1 5 4 5 5 5 4 5 2 5 0 5-1 5-3 5-1 5 0 5 2 5 2 5 5 5 3 5-1 5-2 5 0 5-2" stroke="#0067ff"/>
<path d="M145 272l5-15 5-12 5-7 5-8 5-12 5-11 5-13 5-15 5-3 5 0 5-10 5-11 5-8 5-4 5 3 5 5 5 6 5 4 5-1 5 2 5 6 5 1 5 1 5 8 5 5 5 2 5 1 5 0 5 3 5 8 5 10 5 10 5 3 5-5 5 2 5 6 5 4 5 6 5 8 5 3 5 7 5 8 5 4 5 3 5 2 5 4 5 9 5 2 5 1 5 5 5 5 5 5 5 7 5 2 5-2 5-1 5 3 5 5 5 4 5-1 5 2 5 4 5 2 5 3 5 1 5-2 5 1 5 4 5 2 5 0 5-2 5 0 5 5 5 2 5 0 5 1 5-1 5 0 5 4 5 1 5-2 5-1 5 1 5 3 5 2 5-1 5 1 5 3 5 2 5 3 5 0 5-5 5-2 5 3 5 5 5 5 5 3 5 1 5 2 5-1 5-3 5 0 5-1 5 2 5 8 5 4 5 0 5 0 5 0 5 1 5 1 5-2 5-1 5 0 5 4 5 8 5 7 5-2 5-3 5-3 5-2 5 0 5 2 5 5 5 6 5 4 5 1 5-2 5-5 5-3 5 4 5 5 5 1 5 1 5 1 5 3 5 5 5 2 5-2 5-4 5-5 5 3 5 7 5 5 5 5 5 5 5-1 5-3 5-4 5-3 5 3 5 7 5 9 5 5 5-2 5-3 5 2 5 3 5 2 5 1 5-2 5 0 5 6 5 7 5 6 5 2 5-3 5-3 5-3 5-3 5 2 5 8 5 7 5 6 5 0 5-7 5-8 5-2 5 4 5 6 5 2 5-1 5 1 5 1 5 1 5 2 5-2 5-5 5-2 5 0 5 2 5 5 5 5 5 5 5 1 5-6 5-9 5-4 5 1 5 9 5 11 5 3 5-3 5-5 5-2 5 1 5 1 5 0 5 1 5 1 5 2 5 5 5 3 5 0 5 0 5-3" stroke="#006aff"/>
<path d="M145 297l5-17 5-16 5-14 5-9 5-9 5-7 5-8 5-13 5-11 5-3 5-7 5-9 5-5 5 1 5 2 5 5 5 5 5 2 5 0 5 0 5 2 5 9 5 11 5 5 5-1 5 0 5-3 5 1 5 10 5 9 5 6 5 5 5 3 5 2 5 3 5 3 5 3 5 3 5 2 5 6 5 14 5 8 5 1 5-1 5 0 5 1 5 5 5 11 5 9 5 4 5-3 5-2 5 3 5 5 5 4 5 3 5 2 5 0 5 0 5 5 5 5 5 1 5-1 5 0 5 1 5 5 5 6 5 1 5 0 5-3 5-3 5 4 5 6 5 4 5 1 5-1 5-4 5 0 5 5 5 4 5 2 5-2 5-3 5 0 5 3 5 3 5 1 5 1 5-2 5-1 5 4 5 5 5 0 5-2 5-4 5-2 5 3 5 6 5 6 5 2 5-3 5-6 5-2 5 3 5 4 5 3 5 1 5-2 5-1 5 3 5 4 5 2 5 0 5-4 5-2 5 1 5 4 5 6 5 6 5 1 5-5 5-2 5 0 5 2 5 4 5 5 5 2 5 0 5 1 5 1 5 3 5 2 5-1 5 0 5 1 5 1 5 4 5 6 5 4 5 0 5-1 5-2 5-1 5 3 5 4 5 5 5 4 5 1 5-1 5 0 5 1 5 1 5 2 5 3 5 1 5 1 5 4 5 3 5 3 5 0 5-1 5-1 5 1 5 1 5 4 5 5 5 2 5 0 5 0 5 0 5-2 5 0 5 1 5 2 5 2 5 2 5 2 5 0 5-1 5-3 5 0 5 1 5 1 5 1 5 3 5 0 5 0 5 1 5 1 5-1 5-2 5-2 5 0 5 4 5 4 5 4 5 1 5-3 5-6 5-1 5 3 5 4 5 3 5 1 5-2 5-1 5 1 5 3 5 3 5-1 5-5 5-3 5 2 5 5 5 6 5 4" stroke="#006eff"/>
<path d="M145 297l5-16 5-10 5-14 5-16 5-6 5-6 5-9 5-10 5-12 5-9 5-7 5-7 5 0 5-3 5-7 5 4 5 5 5 1 5 8 5 7 5-1 5 5 5 6 5-1 5 3 5 5 5 3 5 4 5 2 5 4 5 5 5 3 5 6 5 7 5 2 5 7 5 9 5 0 5 1 5 6 5-1 5 5 5 10 5 5 5 3 5 3 5 2 5 5 5 8 5 7 5 3 5-2 5-1 5 3 5 2 5 3 5 5 5-1 5-1 5 6 5 3 5 0 5 3 5 1 5 0 5 4 5 3 5-1 5-2 5-2 5 3 5 4 5 3 5 2 5-2 5-3 5 2 5 4 5 2 5 2 5-2 5-3 5 2 5 4 5 0 5 0 5-1 5 1 5 4 5 4 5-1 5-3 5-3 5 3 5 7 5 4 5 2 5-2 5-6 5 0 5 6 5 4 5 3 5 2 5-2 5-1 5 2 5 0 5 1 5 4 5 5 5 4 5-1 5-4 5-3 5 1 5 8 5 11 5 1 5-6 5-4 5-3 5 6 5 11 5 4 5-4 5-3 5-1 5 4 5 6 5 1 5-3 5-1 5 3 5 8 5 3 5-4 5-6 5-2 5 5 5 12 5 6 5-6 5-7 5-5 5 3 5 11 5 8 5-1 5-5 5-5 5 0 5 5 5 5 5 3 5 1 5-1 5 1 5 1 5-2 5 2 5 4 5 3 5 4 5 2 5-4 5-2 5 2 5 3 5 5 5 2 5-1 5-1 5 0 5 1 5 1 5 0 5 2 5 5 5 1 5 1 5-2 5-5 5-1 5 7 5 7 5 3 5-1 5-7 5-5 5 3 5 8 5 6 5 2 5-3 5-5 5-2 5 2 5 7 5 3 5 0 5 0 5-2 5-2 5 2 5 2 5 0 5 3 5 1 5-1 5 1 5-1 5-1 5 0 5 0 5 2" stroke="#0072ff"/>
<path d="M145 290l5-8 5-9 5-14 5-16 5-12 5-10 5-11 5-8 5-2 5-6 5-13 5-8 5-2 5-2 5-4 5 3 5 7 5 3 5 1 5 5 5 8 5 1 5-5 5 3 5 9 5 4 5 3 5 5 5 4 5-3 5 0 5 10 5 10 5 3 5 2 5 4 5 1 5 0 5 4 5 10 5 9 5 3 5 2 5 5 5 4 5 2 5 4 5 5 5 5 5 5 5 6 5 5 5 1 5-1 5 0 5 2 5 4 5 6 5 6 5 2 5 0 5-1 5 1 5 3 5 4 5 3 5 0 5-1 5 2 5 3 5 2 5 2 5 0 5-1 5-2 5 1 5 4 5 2 5 0 5-1 5 1 5-1 5-1 5 1 5 3 5 0 5-2 5 1 5 2 5 0 5 0 5 2 5 4 5 0 5-1 5 1 5 0 5-1 5 0 5 3 5 4 5 3 5 3 5 3 5-1 5-5 5-3 5 1 5 5 5 6 5 6 5 2 5-2 5-4 5-1 5 3 5 4 5 2 5 1 5 0 5 1 5 2 5 3 5 2 5 0 5-1 5 0 5 2 5 3 5 1 5-1 5 0 5 3 5 5 5 4 5 1 5-3 5-4 5-2 5 4 5 8 5 6 5 0 5-1 5-1 5 1 5 3 5 3 5 2 5-2 5-2 5 3 5 9 5 6 5 1 5-1 5-3 5-2 5 1 5 7 5 5 5 1 5-2 5 3 5 4 5 2 5-1 5-2 5-2 5-2 5 4 5 7 5 4 5-4 5-5 5-2 5 2 5 4 5 4 5 0 5-5 5-7 5 0 5 7 5 7 5 2 5-1 5-5 5-4 5 0 5 3 5 3 5 1 5 0 5 2 5 4 5 3 5 0 5-4 5-5 5 0 5 5 5 7 5 5 5 1 5-4 5-4 5 0 5 6 5 4 5-1 5-3 5-1 5 1 5 3 5 5" stroke="#0075ff"/>
<path d="M145 274l5-7 5-19 5-15 5-11 5-11 5-8 5-13 5-11 5-7 5-5 5-8 5-7 5 1 5 1 5 5 5 4 5-6 5 7 5 5 5 1 5 6 5-5 5 0 5 13 5 2 5 6 5 4 5-1 5 11 5 4 5-1 5 3 5 1 5 6 5 8 5 2 5 4 5 6 5 8 5 3 5 2 5 3 5 4 5 11 5 4 5 0 5 5 5 3 5 8 5 7 5-5 5 3 5 4 5 3 5 8 5 1 5 0 5 6 5 1 5 0 5 0 5 1 5 6 5 5 5-1 5-2 5 1 5 7 5 6 5 1 5-4 5-3 5 4 5 2 5 3 5 0 5-1 5 3 5 0 5-3 5 2 5 2 5 4 5 2 5-6 5-2 5 4 5 5 5 4 5-4 5-7 5 0 5 3 5 5 5 3 5 2 5 1 5-1 5-3 5-4 5 0 5 4 5 3 5 2 5-2 5 1 5 9 5 2 5-2 5-6 5-9 5 4 5 7 5 5 5 7 5 1 5 0 5-1 5-6 5-2 5 3 5 4 5 5 5 0 5 1 5 5 5 8 5 2 5-7 5-7 5-4 5 6 5 10 5 5 5 4 5 3 5-2 5-1 5-5 5-2 5 6 5 4 5 2 5 3 5 1 5 8 5 6 5-4 5-6 5-6 5 1 5 8 5 8 5 4 5 3 5 2 5-1 5-3 5-2 5 0 5 6 5 5 5-1 5 3 5 3 5 6 5 4 5-7 5-6 5-1 5 3 5 8 5 3 5-1 5 3 5 0 5-1 5-3 5-3 5 2 5 4 5 1 5-1 5 0 5 3 5 4 5-1 5-6 5-4 5 4 5 4 5 2 5 1 5-4 5 2 5 3 5-3 5 0 5-1 5 2 5 5 5-2 5-2 5 1 5 1 5 3 5-2 5-3 5 2 5 5 5 3 5-1 5-5 5-1 5 2 5 3" stroke="#0076ff"/>
<path d="M145 299l5-11 5-10 5-17 5-8 5-4 5-14 5-12 5-10 5-13 5-7 5-6 5-9 5-3 5-1 5 6 5 8 5-3 5 3 5 4 5-1 5 8 5 4 5-3 5 4 5 6 5 6 5 8 5 4 5 6 5 5 5 0 5 3 5 0 5-2 5 12 5 11 5 4 5 6 5 1 5 0 5 7 5 5 5 5 5 4 5 4 5 8 5 2 5-3 5 4 5 2 5 4 5 10 5 3 5-1 5 1 5 0 5 2 5 1 5-1 5 4 5 2 5 3 5 4 5-3 5-1 5 5 5 2 5 1 5 0 5-2 5 2 5 3 5 2 5 0 5-2 5 0 5 5 5 1 5 0 5 1 5-1 5 1 5 3 5-1 5-1 5 3 5 4 5 3 5-1 5-3 5-1 5 0 5 5 5 5 5 0 5 1 5 3 5 0 5 0 5-2 5-1 5 4 5 4 5 3 5 0 5-3 5 3 5 5 5 1 5 1 5-1 5-2 5 2 5 2 5 0 5 2 5 4 5 5 5 3 5-3 5-4 5-3 5 1 5 7 5 5 5 0 5 2 5 1 5-1 5 0 5-2 5 1 5 3 5 4 5 2 5-2 5-3 5 4 5 4 5 4 5 2 5-4 5-3 5 1 5 0 5 3 5 4 5 5 5 7 5 0 5-5 5-5 5-4 5 4 5 10 5 6 5 3 5 1 5-1 5-1 5-1 5 0 5 4 5 5 5 6 5 3 5-4 5-3 5 2 5 4 5 5 5 4 5-3 5-1 5-1 5 0 5 0 5 1 5 6 5 7 5 1 5-2 5-5 5-7 5 1 5 6 5 3 5 4 5 2 5 1 5 0 5-5 5-4 5-2 5 1 5 8 5 5 5-2 5 0 5-1 5-2 5 0 5-2 5-1 5 3 5 4 5 2 5-1 5-5 5 0 5 2 5 2 5 3 5-1 5-3 5 1" stroke="#0079ff"/>
<path d="M145 299l5-15 5-12 5-18 5-13 5-7 5-5 5-4 5-9 5-12 5-15 5-11 5-2 5-5 5-1 5 4 5-2 5 6 5 11 5-1 5 2 5 0 5-2 5 5 5 6 5 7 5 3 5 3 5 5 5-1 5 6 5 7 5 2 5 7 5 3 5-2 5 6 5 4 5 5 5 10 5 5 5 3 5 2 5 2 5 4 5 6 5 8 5 5 5 1 5 4 5 2 5 5 5 8 5-1 5-2 5 1 5 2 5 9 5 9 5 0 5-3 5-4 5 0 5 5 5 7 5 6 5-1 5 0 5 1 5-1 5 4 5 2 5-2 5 1 5 3 5 2 5 4 5 0 5-2 5-1 5 0 5 1 5 2 5 2 5 1 5 0 5 2 5-2 5-3 5 1 5 1 5 4 5 5 5-2 5-4 5-3 5 1 5 6 5 5 5 1 5-5 5-5 5 1 5 4 5 7 5 4 5-4 5-5 5-1 5 1 5 6 5 5 5 0 5-1 5-1 5-1 5 1 5 2 5 3 5 3 5 4 5 2 5-3 5-1 5-2 5 2 5 8 5 5 5 2 5 0 5-4 5-2 5 3 5 4 5 4 5 3 5 2 5 1 5-1 5 0 5-3 5 1 5 8 5 6 5 4 5 0 5-7 5-3 5 3 5 6 5 8 5 2 5-2 5-4 5 1 5 4 5 4 5 2 5 0 5-3 5 4 5 5 5 3 5 3 5-3 5-3 5 1 5 2 5 4 5 5 5 2 5 0 5-2 5-3 5-3 5 0 5 7 5 6 5 4 5 0 5-9 5-7 5 1 5 4 5 9 5 6 5-2 5-4 5-5 5-1 5 2 5 2 5 4 5 1 5 3 5 3 5-4 5-3 5-4 5-1 5 8 5 8 5 3 5-1 5-7 5-6 5 1 5 5 5 6 5 3 5-1 5-1 5-3 5 2 5 0 5-1 5 3" stroke="#007aff"/>
<path d="M145 287l5-11 5-13 5-20 5-13 5-3 5-9 5-11 5-6 5-11 5-11 5-6 5-7 5-3 5-3 5-5 5 5 5 10 5 1 5 1 5 5 5 0 5 5 5 11 5 6 5 3 5-3 5-5 5 5 5 9 5 4 5 8 5 8 5-2 5 3 5 9 5 7 5 4 5 0 5 1 5 6 5 7 5 5 5 7 5 3 5-4 5 4 5 10 5 6 5 4 5 4 5 1 5 4 5 3 5 2 5 2 5-2 5-3 5 6 5 8 5 2 5 1 5-1 5-3 5 3 5 6 5 6 5 3 5-4 5-4 5 2 5 4 5 1 5 2 5 0 5-2 5 3 5 5 5 3 5 0 5-5 5-3 5 4 5 5 5 3 5 2 5-4 5-5 5 2 5 7 5 6 5 2 5-4 5-5 5-1 5 2 5 7 5 7 5 1 5-3 5-1 5 0 5 0 5 1 5 1 5 3 5 3 5 2 5 2 5 1 5-3 5-1 5 4 5 2 5 0 5 0 5 1 5 3 5 6 5 3 5 0 5-6 5-8 5 1 5 10 5 11 5 6 5-1 5-9 5-9 5 0 5 8 5 9 5 4 5-2 5-2 5 0 5 1 5 3 5 2 5-4 5-2 5 3 5 7 5 6 5 2 5-3 5-3 5-3 5-1 5 5 5 5 5 4 5 4 5 4 5-1 5-5 5-5 5-2 5 7 5 10 5 9 5 4 5-5 5-10 5-2 5 6 5 7 5 5 5 1 5-3 5-1 5 3 5 5 5 4 5-5 5-8 5-1 5 6 5 8 5 9 5 1 5-8 5-8 5-3 5 3 5 8 5 4 5 2 5 1 5-2 5-3 5-1 5 0 5-1 5 3 5 5 5 4 5 0 5-5 5-2 5 2 5 2 5 2 5 1 5-3 5-3 5 3 5 7 5 5 5-2 5-8 5-6 5 0 5 6 5 11 5 6" stroke="#007dff"/>
<path d="M145 269l5-13 5-7 5-9 5-18 5-14 5-9 5-10 5-6 5-7 5-9 5-8 5-6 5 0 5 1 5-4 5 1 5 4 5 2 5 8 5 7 5-1 5 4 5 7 5 2 5 6 5 5 5-2 5 2 5 7 5 7 5 6 5 2 5 2 5 5 5 6 5 10 5 8 5-1 5 1 5 4 5 2 5 7 5 9 5 0 5 4 5 8 5 5 5 7 5 5 5-1 5-1 5 3 5 4 5 5 5 0 5 1 5 2 5 2 5 5 5 4 5-2 5-1 5 3 5 2 5 3 5 4 5-4 5-2 5 2 5 3 5 4 5 2 5-3 5-2 5 1 5 3 5 4 5 0 5-2 5 0 5-1 5 1 5 2 5-1 5 0 5 4 5 2 5 1 5 1 5-5 5-2 5 4 5 4 5 3 5 0 5-3 5 1 5 4 5 7 5 2 5-6 5-7 5-1 5 5 5 11 5 9 5-1 5-7 5-4 5-1 5 4 5 8 5 1 5-1 5 0 5 2 5 5 5 4 5 0 5-3 5-3 5 1 5 6 5 4 5 4 5 3 5 0 5-2 5 1 5-2 5-1 5 5 5 4 5 4 5 3 5-1 5-2 5 1 5 1 5 2 5-1 5 0 5 3 5 5 5 5 5 4 5-4 5-6 5-1 5 3 5 6 5 6 5 0 5-3 5 2 5 4 5 4 5 2 5-4 5-6 5 1 5 7 5 11 5 6 5-2 5-5 5-7 5 0 5 8 5 5 5 2 5 1 5-3 5 0 5 4 5 2 5-1 5-1 5-2 5-1 5 2 5 3 5 4 5 4 5 0 5-3 5-6 5-5 5 2 5 7 5 7 5 5 5-3 5-9 5-2 5 2 5 4 5 5 5-2 5-5 5-1 5 4 5 7 5 3 5-3 5-7 5-6 5 1 5 7 5 6 5 1 5 0 5-3 5-2 5 2 5 0" stroke="#007eff"/>
<path d="M145 299l5-13 5-15 5-18 5-14 5-6 5-6 5-12 5-13 5-9 5-7 5-10 5-8 5-2 5 0 5 2 5 4 5 3 5-4 5-4 5 4 5 9 5 7 5 4 5 4 5 2 5 1 5 4 5 6 5 3 5 2 5 4 5 6 5 4 5 4 5 6 5 7 5 1 5 2 5 7 5 7 5 7 5 6 5 4 5-2 5-2 5 6 5 12 5 9 5 4 5 2 5 2 5 0 5 2 5 4 5 2 5 0 5 3 5 5 5 3 5-1 5 1 5 3 5 3 5 1 5 1 5 1 5 1 5 3 5 4 5-1 5-5 5-2 5 4 5 6 5 4 5 1 5-1 5-3 5-2 5 0 5 2 5 1 5 1 5 4 5 3 5-1 5-2 5 1 5 1 5-1 5-1 5 1 5 2 5 5 5 6 5 4 5-4 5-7 5-2 5 3 5 4 5 4 5 4 5 1 5 0 5 1 5 1 5-1 5-1 5 1 5 4 5 1 5 0 5 4 5 5 5 2 5-1 5-3 5-3 5-2 5 6 5 8 5 4 5-1 5-1 5 1 5 0 5-1 5 0 5 0 5 1 5 4 5 6 5 3 5-1 5-2 5 0 5-3 5-4 5 2 5 7 5 9 5 5 5 0 5-5 5-8 5-3 5 5 5 7 5 4 5 3 5 4 5 2 5-2 5-2 5-2 5-1 5 2 5 7 5 8 5 4 5 1 5 2 5-2 5-5 5-4 5 3 5 8 5 9 5 6 5 1 5-5 5-7 5-1 5 4 5 2 5 2 5 4 5 4 5 1 5-1 5-1 5-3 5-3 5 1 5 4 5 2 5 1 5 4 5 3 5-3 5-6 5-4 5 1 5 3 5 6 5 4 5-1 5-5 5-2 5 2 5 2 5-2 5-1 5 1 5 1 5 1 5 2 5 2 5-1 5-1 5 0 5-2 5-3 5 1 5 6" stroke="#0080ff"/>
<path d="M145 304l5-14 5-11 5-11 5-13 5-15 5-11 5-8 5-8 5-5 5-8 5-11 5-7 5-4 5-7 5 1 5 7 5 3 5 2 5 2 5-2 5 4 5 11 5 6 5 0 5 1 5 1 5 4 5 5 5 3 5 4 5 5 5 5 5 7 5 3 5 2 5 6 5 6 5 1 5 3 5 6 5 5 5 9 5 6 5-1 5 2 5 9 5 7 5 5 5 4 5 1 5 1 5 3 5 3 5 2 5 5 5 5 5 4 5 0 5-3 5 3 5 5 5 3 5 2 5-1 5-1 5 5 5 5 5-1 5-2 5 2 5 1 5 2 5 3 5-1 5 0 5 1 5 0 5-2 5 0 5 4 5 4 5 0 5-5 5-2 5 1 5 4 5 4 5-1 5-5 5-1 5 3 5 2 5 3 5 2 5 0 5-2 5-2 5-3 5 2 5 9 5 6 5-2 5-4 5-5 5 1 5 5 5 5 5 2 5 1 5 0 5 1 5-2 5-1 5 3 5 5 5 4 5 1 5-1 5-1 5 2 5 3 5-1 5 1 5 5 5 4 5 1 5-1 5-4 5 0 5 6 5 5 5 2 5-1 5-1 5 0 5 1 5 1 5 3 5 3 5 2 5 0 5-3 5-2 5 5 5 7 5 1 5-3 5-2 5-1 5 5 5 5 5 2 5-1 5 1 5-1 5-1 5 2 5 5 5 6 5 3 5-2 5-4 5-1 5 4 5 7 5 4 5-1 5 1 5 1 5 0 5-1 5 1 5 1 5 5 5 6 5-2 5-3 5 0 5 0 5 1 5 3 5 2 5 3 5 3 5-2 5-5 5-4 5 3 5 8 5 5 5 0 5-4 5-4 5-1 5 2 5 4 5 1 5 3 5 2 5-5 5-4 5 0 5 4 5 5 5 2 5-4 5-4 5 1 5 3 5 2 5-1 5-1 5 0 5 1 5 0 5-1" stroke="#0084ff"/>
<path d="M145 283l5-15 5-11 5-7 5-15 5-13 5-7 5-14 5-10 5-7 5-8 5-5 5-6 5-2 5 3 5-5 5-1 5 6 5 1 5 4 5 8 5 0 5 0 5 1 5 4 5 11 5 6 5 3 5 4 5-7 5-3 5 9 5 8 5 9 5 8 5 1 5 1 5 1 5 6 5 10 5 3 5 1 5 4 5-1 5 5 5 12 5 8 5 5 5 2 5 0 5 4 5 3 5 4 5 6 5-2 5-1 5 6 5 5 5 5 5 5 5-2 5-2 5-1 5 4 5 9 5 4 5-1 5 0 5-4 5-1 5 7 5 6 5 3 5 0 5-5 5-1 5 1 5 4 5 7 5 1 5-3 5 0 5-2 5 1 5 4 5 3 5 1 5 1 5-1 5 1 5 0 5-1 5 3 5 1 5 1 5 5 5 2 5 0 5-1 5-2 5 0 5 2 5 1 5 3 5 2 5 0 5 4 5 2 5-1 5-1 5-3 5-1 5 2 5 5 5 7 5 4 5-2 5-1 5-3 5-2 5 4 5 3 5 1 5 4 5 2 5 3 5 2 5-2 5-2 5-2 5-2 5 7 5 8 5 3 5 1 5-5 5-5 5 0 5 5 5 8 5 4 5-4 5-4 5-3 5 0 5 9 5 8 5 2 5-3 5-6 5-3 5 3 5 4 5 7 5 3 5-2 5 1 5 2 5 1 5 3 5-1 5-2 5 0 5 4 5 8 5 6 5 1 5-2 5-4 5-4 5 3 5 7 5 3 5 2 5 1 5-1 5 2 5 1 5 2 5-1 5-4 5 0 5 4 5 4 5 5 5 3 5-4 5-4 5-3 5 1 5 4 5 4 5 3 5 0 5-4 5-1 5 2 5 0 5 2 5 2 5 0 5 0 5-2 5-1 5 1 5 0 5 5 5 5 5-1 5-3 5-4 5-5 5 1 5 5 5 6 5 5 5-2" stroke="#0088ff"/>
<path d="M145 287l5-15 5-14 5-7 5-6 5-12 5-11 5-8 5-13 5-13 5-6 5-4 5-5 5-3 5-1 5 0 5 1 5 0 5 3 5 10 5 7 5 2 5 3 5 2 5-3 5 1 5 8 5 8 5 7 5 5 5 2 5 3 5 3 5 1 5 6 5 9 5 2 5 1 5 5 5 6 5 4 5 7 5 7 5 2 5 1 5 2 5 4 5 7 5 5 5 4 5 4 5 3 5-2 5 1 5 6 5 4 5 1 5 2 5 0 5-1 5 1 5 3 5 5 5 5 5 1 5-1 5 0 5-1 5-2 5 3 5 5 5 3 5 1 5 0 5-1 5-2 5 0 5 2 5 3 5 3 5 0 5-1 5 1 5 0 5 0 5 2 5 1 5-1 5 1 5 3 5 2 5 0 5 0 5-1 5 2 5 1 5 0 5 3 5 2 5 1 5 2 5 1 5-2 5-4 5 2 5 6 5 6 5 3 5-2 5-5 5-2 5 1 5 5 5 7 5 4 5-2 5-1 5-1 5-1 5 0 5 4 5 5 5 6 5 3 5-2 5-5 5-3 5 0 5 7 5 10 5 5 5-3 5-5 5-3 5-1 5 5 5 6 5 5 5 1 5 0 5-2 5-1 5-2 5 1 5 5 5 8 5 3 5-2 5-3 5-4 5 0 5 6 5 7 5 4 5-1 5-3 5-1 5 2 5 2 5 2 5 4 5 2 5 0 5 1 5 2 5-1 5-1 5 3 5 4 5 3 5-1 5-2 5 0 5 2 5 2 5 2 5 1 5-2 5-3 5 3 5 4 5 1 5-1 5-1 5-1 5 1 5 2 5 1 5 1 5 0 5-1 5 1 5 2 5-1 5-2 5 3 5 3 5 1 5 1 5-2 5-3 5 1 5 3 5 4 5 2 5-2 5-4 5 1 5 3 5 1 5 2 5 0 5-1 5-1 5 2 5 2 5 0" stroke="#008bff"/>
<path d="M145 293l5-13 5-13 5-19 5-12 5-5 5-8 5-11 5-9 5-12 5-10 5-3 5-5 5-10 5-3 5 2 5 1 5 7 5 8 5 0 5 2 5 6 5 1 5 1 5 6 5 2 5 3 5 9 5 4 5 1 5 6 5 6 5 3 5 6 5 5 5-2 5 3 5 10 5 6 5 4 5 6 5 2 5 3 5 9 5 5 5 0 5 3 5 5 5 4 5 9 5 5 5-2 5 0 5 5 5 3 5 4 5 4 5-3 5-1 5 4 5 4 5 2 5 4 5 1 5-1 5 2 5 1 5-1 5 3 5 5 5 0 5 0 5-1 5-2 5 3 5 7 5 3 5-3 5-3 5-2 5 4 5 8 5 4 5-5 5-4 5-1 5 5 5 7 5 4 5-4 5-5 5 1 5 3 5 5 5 4 5 0 5-1 5 1 5 0 5-1 5 1 5 5 5 4 5 2 5-2 5-6 5-2 5 6 5 8 5 3 5-2 5-7 5-2 5 6 5 8 5 1 5-3 5-4 5 0 5 7 5 7 5-1 5-5 5-3 5 2 5 7 5 7 5 0 5-5 5-3 5 1 5 3 5 6 5 3 5-1 5 0 5-1 5-1 5 1 5 4 5 4 5 3 5 0 5-3 5-2 5 3 5 4 5 4 5 3 5-1 5-2 5 1 5 3 5 1 5 3 5 2 5 1 5 2 5 2 5 1 5 0 5 3 5 2 5 2 5 3 5 2 5 0 5 1 5 0 5 0 5 2 5 4 5 4 5 0 5-2 5-4 5 1 5 5 5 4 5 1 5-2 5-3 5 1 5 3 5 2 5-1 5-2 5 1 5 4 5 3 5-1 5-5 5-4 5 3 5 7 5 5 5-1 5-7 5-5 5 3 5 6 5 4 5 0 5-3 5-3 5 1 5 2 5 0 5 0 5 2 5 2 5 2 5-2 5-4 5-1 5 4 5 5" stroke="#008dff"/>
<path d="M145 296l5-18 5-9 5-4 5-12 5-13 5-14 5-18 5-11 5-1 5-5 5-8 5-7 5-7 5-1 5 4 5 4 5-1 5-1 5 0 5 5 5 8 5 8 5 4 5-3 5 1 5 5 5 7 5 6 5 4 5-1 5-1 5 7 5 8 5 6 5 8 5 4 5-1 5 6 5 8 5 2 5 4 5 3 5 0 5 8 5 12 5 5 5 5 5 3 5 0 5 2 5 6 5 2 5 2 5 4 5 3 5 3 5 3 5 1 5 0 5 2 5 4 5 3 5 2 5 0 5 0 5 0 5 3 5 3 5 1 5-1 5 2 5 2 5 2 5 1 5-3 5-4 5 0 5 5 5 5 5 3 5-3 5-8 5-3 5 3 5 4 5 5 5 1 5-6 5-3 5 3 5 3 5 1 5-2 5-5 5 0 5 8 5 7 5 1 5-5 5-9 5-4 5 6 5 12 5 8 5-2 5-7 5-6 5 0 5 7 5 7 5 2 5-2 5-1 5 2 5 3 5 3 5-2 5-4 5 2 5 7 5 7 5 4 5-2 5-8 5-3 5 4 5 7 5 7 5 4 5-2 5-5 5 0 5 0 5 2 5 6 5 3 5 1 5 2 5 0 5-3 5 0 5 1 5 2 5 4 5 4 5 1 5 0 5-1 5-2 5 0 5 2 5 4 5 5 5 4 5 1 5-3 5-5 5 0 5 4 5 7 5 6 5 2 5-4 5-3 5 1 5 2 5 3 5 4 5 0 5 0 5 4 5 1 5-2 5-2 5-2 5 0 5 7 5 6 5 1 5-3 5-5 5-5 5 3 5 7 5 3 5 1 5-1 5-4 5 0 5 2 5 0 5 0 5 1 5 2 5 4 5 2 5-2 5-5 5-3 5 3 5 6 5 5 5 1 5-3 5-5 5 0 5 3 5 3 5 1 5 1 5-1 5 2 5 3 5 0 5-5 5-2" stroke="#008fff"/>
<path d="M145 293l5-12 5-17 5-15 5-12 5-16 5-9 5-3 5-10 5-14 5-8 5-6 5-10 5-2 5 5 5-2 5-5 5 2 5 3 5 3 5 8 5 9 5 1 5-3 5 1 5 2 5 4 5 8 5 8 5 3 5 1 5 2 5 4 5 6 5 7 5 5 5 4 5 1 5 0 5 6 5 9 5 8 5 5 5 5 5 2 5-1 5 6 5 9 5 6 5 3 5 5 5 0 5-1 5 4 5 8 5 3 5 1 5 4 5 0 5-1 5 5 5 6 5 1 5 1 5 2 5 0 5 0 5 4 5 4 5 1 5 0 5 1 5 0 5 1 5 2 5 3 5 0 5 0 5 0 5 0 5 2 5 2 5 1 5 1 5-1 5-1 5 1 5 2 5 0 5 1 5 1 5 0 5 0 5 1 5 2 5-1 5-1 5 3 5 0 5 0 5 3 5 1 5-3 5-1 5 1 5 2 5 2 5 4 5 1 5-3 5-3 5 0 5 1 5 3 5 6 5 3 5 0 5-2 5-1 5-1 5 2 5 3 5 3 5 2 5 2 5 2 5 2 5 1 5-1 5-1 5 1 5 1 5 4 5 7 5 4 5 0 5-2 5-2 5-3 5 1 5 7 5 6 5 3 5 3 5 1 5-4 5-3 5 2 5 3 5 2 5 5 5 5 5 0 5 1 5 1 5-2 5-1 5 2 5 3 5 3 5 4 5 3 5 1 5-1 5-1 5 0 5 1 5 2 5 2 5 3 5 2 5 0 5-1 5 0 5-2 5-1 5 1 5 3 5 2 5 2 5 0 5-3 5-4 5 1 5 2 5 2 5 3 5 2 5-4 5-4 5 0 5 2 5 2 5 4 5 2 5-3 5-4 5 0 5 2 5 2 5 3 5 2 5-2 5-2 5 2 5 2 5 2 5 0 5-1 5-3 5 0 5 4 5 7 5 4 5 0 5-5 5-6" stroke="#0093ff"/>
<path d="M145 307l5-14 5-14 5-12 5-18 5-15 5-4 5-4 5-10 5-9 5-9 5-14 5-12 5-1 5 0 5-1 5 2 5 1 5 0 5 4 5 8 5 6 5 4 5-1 5 0 5 2 5 6 5 6 5 8 5 5 5 0 5 1 5 7 5 6 5 4 5 6 5 4 5-2 5 5 5 10 5 6 5 4 5 6 5 0 5-1 5 7 5 10 5 7 5 4 5 2 5-1 5-1 5 7 5 7 5 5 5 0 5-2 5-3 5 2 5 6 5 8 5 5 5-1 5-5 5-2 5 2 5 5 5 7 5 4 5-2 5-5 5-1 5 3 5 4 5 6 5 2 5-4 5-4 5 1 5 3 5 3 5 5 5 0 5-3 5-2 5 2 5 3 5 2 5 2 5-2 5-2 5 1 5 4 5 4 5 2 5-2 5-3 5-1 5 2 5 4 5 5 5 0 5-3 5-2 5 1 5 3 5 4 5 3 5-2 5-5 5-1 5 4 5 4 5 7 5 2 5-4 5-7 5-1 5 4 5 6 5 7 5 3 5-4 5-5 5-1 5 2 5 5 5 6 5 1 5-3 5-2 5 1 5 4 5 4 5 2 5-2 5-2 5-1 5 2 5 6 5 5 5 0 5-2 5-1 5-1 5 2 5 6 5 3 5-2 5 0 5 2 5 2 5 3 5 4 5-1 5-4 5 0 5 5 5 5 5 7 5 3 5-4 5-5 5-1 5 4 5 7 5 7 5 2 5-3 5-4 5-1 5 3 5 6 5 4 5-1 5-2 5-3 5 0 5 6 5 6 5 1 5-3 5-4 5-4 5 1 5 7 5 6 5 1 5-2 5-3 5-4 5 0 5 5 5 3 5 0 5-1 5 0 5 1 5 1 5 2 5-1 5-3 5-2 5 2 5 4 5 4 5 2 5-3 5-4 5-4 5 1 5 6 5 3 5 1 5-2 5-2 5-3" stroke="#0095ff"/>
<path d="M145 265l5-13 5-10 5-10 5-9 5-9 5-9 5-12 5-12 5-9 5-5 5-3 5-3 5-1 5 2 5 1 5 3 5 8 5 5 5-2 5-2 5 5 5 6 5 6 5 10 5 6 5-4 5-3 5 6 5 6 5 4 5 10 5 8 5-1 5 0 5 6 5 5 5 3 5 8 5 7 5 2 5 1 5 4 5 5 5 3 5 6 5 7 5 3 5 3 5 3 5 4 5 1 5 1 5 2 5 2 5 2 5 3 5 3 5 3 5 2 5 1 5 2 5 1 5-2 5-1 5 4 5 4 5 4 5 4 5 0 5-5 5-4 5 3 5 5 5 5 5 4 5 0 5-5 5-3 5 2 5 4 5 3 5 3 5 1 5-2 5-1 5 3 5 2 5 0 5 0 5 1 5 0 5 1 5 4 5 2 5 0 5-1 5-1 5 0 5 2 5 2 5 2 5 2 5 0 5 0 5 0 5 0 5-1 5 0 5 3 5 3 5 2 5 2 5 0 5-3 5 0 5 3 5 3 5 2 5 3 5 1 5-2 5 1 5 5 5 2 5 0 5 0 5 0 5 1 5 4 5 7 5 3 5-3 5-4 5-2 5 1 5 6 5 8 5 5 5-1 5-5 5-4 5-1 5 3 5 7 5 6 5 2 5-2 5-3 5-2 5-1 5 2 5 4 5 5 5 3 5 0 5-1 5-2 5-2 5 1 5 6 5 4 5 2 5 1 5-1 5-3 5 1 5 5 5 3 5 0 5 0 5 0 5 0 5 2 5 5 5 1 5-3 5-2 5 0 5 1 5 4 5 5 5 2 5-3 5-4 5-1 5 2 5 3 5 3 5 2 5-1 5-2 5 0 5 1 5 2 5-1 5 0 5 1 5 0 5 2 5 3 5 1 5-3 5-2 5 0 5 1 5 2 5 4 5 3 5-1 5-2 5 0 5-2 5-1 5 3 5 4 5 3" stroke="#0096ff"/>
<path d="M145 289l5-20 5-10 5-9 5-15 5-12 5-8 5-13 5-10 5-3 5-8 5-15 5-9 5-1 5-5 5-3 5 4 5 4 5 0 5 5 5 3 5-1 5 4 5 10 5 5 5 0 5 0 5 6 5 8 5 8 5 2 5-3 5 0 5 9 5 13 5 8 5 0 5-3 5 3 5 11 5 9 5 3 5 1 5 2 5 4 5 10 5 9 5 2 5-1 5 4 5 5 5 1 5 5 5 6 5 2 5 0 5 2 5 1 5 0 5 7 5 6 5-3 5-3 5 3 5 6 5 3 5 2 5-1 5-3 5 3 5 6 5 1 5-3 5-1 5 5 5 3 5 1 5-3 5-3 5 2 5 7 5 3 5-4 5-5 5-1 5 5 5 6 5 1 5-4 5-4 5 1 5 4 5 2 5 1 5-1 5 0 5 2 5-1 5-2 5 1 5 4 5 2 5-1 5-1 5-1 5 1 5 4 5 2 5-3 5 0 5 4 5 3 5-2 5-1 5 0 5 3 5 5 5 3 5-3 5-5 5 4 5 7 5 3 5-1 5-2 5 0 5 4 5 5 5 1 5-4 5 1 5 6 5 5 5-1 5-3 5-2 5 4 5 8 5 5 5-3 5-4 5-1 5 4 5 6 5 5 5 1 5-3 5-3 5-1 5 4 5 9 5 6 5-1 5-7 5-5 5 2 5 11 5 11 5 0 5-11 5-7 5 5 5 10 5 9 5 0 5-9 5-6 5 5 5 10 5 2 5-3 5-2 5-2 5 2 5 4 5 1 5-4 5 0 5 3 5 1 5-2 5 1 5 0 5-1 5 1 5 1 5 1 5 0 5 1 5-2 5-3 5 2 5 5 5 3 5-2 5-5 5-2 5 4 5 7 5 3 5-5 5-5 5 1 5 6 5 5 5-1 5-5 5 0 5 5 5 4 5 0 5-3 5-2 5 2 5 8 5 3 5-5" stroke="#009aff"/>
<path d="M145 275l5-16 5-17 5-6 5-6 5-15 5-14 5-15 5-12 5 3 5 1 5-11 5-12 5-8 5-1 5 7 5 0 5-3 5 8 5 11 5 4 5 4 5-3 5-5 5 8 5 11 5 4 5 3 5 1 5 3 5 8 5 2 5 0 5 8 5 8 5 4 5 7 5 3 5-3 5 4 5 7 5 4 5 8 5 8 5 5 5 3 5 0 5 1 5 8 5 7 5 0 5 3 5 5 5 2 5 5 5 0 5-4 5 4 5 9 5 6 5 0 5-5 5-3 5 8 5 7 5 0 5-1 5 1 5 3 5 6 5 0 5-8 5-2 5 8 5 8 5 2 5-5 5-6 5 2 5 4 5 1 5 0 5 0 5 1 5 4 5 0 5-7 5-4 5 4 5 6 5 5 5 0 5-5 5-2 5 0 5 0 5 2 5 3 5 1 5 2 5 2 5-2 5-1 5 0 5-3 5 0 5 6 5 7 5 5 5-4 5-9 5-3 5 6 5 8 5 5 5-1 5-4 5 2 5 6 5 0 5-3 5-1 5 4 5 9 5 4 5-4 5-3 5 1 5 4 5 3 5 1 5-2 5 4 5 8 5 0 5-6 5-3 5 3 5 8 5 6 5-4 5-5 5 1 5 4 5 6 5 1 5-5 5-1 5 4 5 3 5 2 5 1 5-1 5 0 5 2 5 1 5 3 5 2 5-2 5-1 5 3 5 3 5 6 5 2 5-5 5-5 5 3 5 7 5 5 5 1 5-4 5-1 5 4 5 0 5-2 5 0 5 2 5 6 5 5 5-4 5-7 5 1 5 4 5 2 5 0 5-2 5 3 5 7 5 1 5-7 5-8 5-1 5 10 5 12 5 0 5-8 5-5 5 1 5 3 5 3 5-2 5 0 5 4 5 4 5 0 5-3 5-5 5-1 5 4 5 3 5 4 5 5 5-1 5-6 5-4 5-1 5 4" stroke="#009eff"/>
<path d="M145 294l5-11 5-18 5-17 5-9 5-10 5-13 5-5 5-6 5-12 5-9 5-8 5-9 5-6 5-3 5 1 5 7 5 5 5 1 5 5 5 4 5-3 5 1 5 8 5 3 5 4 5 7 5 4 5 2 5 3 5 3 5 6 5 7 5 2 5 4 5 9 5 2 5 2 5 7 5 5 5 2 5 6 5 7 5 5 5 4 5 3 5 3 5 5 5 4 5 3 5 7 5 5 5-1 5 2 5 3 5-1 5 0 5 5 5 3 5 3 5 3 5 2 5 0 5 0 5-2 5 1 5 4 5 2 5 2 5 3 5-1 5-2 5 0 5 2 5 1 5 2 5 2 5 1 5 1 5-1 5-1 5 2 5 1 5 1 5 3 5 2 5 0 5 1 5 3 5-2 5-2 5-1 5 4 5 7 5 7 5 2 5-2 5-6 5-5 5 2 5 8 5 5 5 1 5 2 5 1 5 0 5 1 5-1 5-2 5-1 5 2 5 5 5 6 5 2 5-2 5 0 5 0 5-1 5 1 5 2 5-1 5 2 5 6 5 4 5 0 5-3 5-4 5 1 5 4 5 4 5 2 5-1 5-4 5 0 5 7 5 5 5 1 5-3 5-5 5-3 5 4 5 6 5 5 5 3 5-2 5-2 5 2 5 1 5-2 5 1 5 1 5 2 5 5 5 6 5 1 5-1 5-2 5 0 5 1 5 1 5 1 5 4 5 6 5 5 5 4 5-1 5-8 5-6 5 2 5 7 5 9 5 5 5-1 5-5 5-3 5 0 5 3 5 3 5-2 5-3 5 2 5 5 5 3 5 2 5-2 5-6 5-4 5 2 5 4 5 3 5 2 5-1 5 1 5 0 5-2 5-1 5 1 5-1 5 3 5 4 5-1 5-3 5 0 5 3 5 5 5 3 5-2 5-6 5-4 5 1 5 7 5 10 5 4 5-5 5-4 5-3 5 0" stroke="#009eff"/>
<path d="M145 284l5-9 5-15 5-13 5-9 5-13 5-13 5-5 5-8 5-13 5-9 5-6 5-8 5-5 5-1 5 0 5 0 5 3 5 7 5 7 5 1 5-3 5 3 5 4 5 2 5 7 5 9 5-1 5-1 5 6 5 5 5 4 5 7 5 5 5 1 5 3 5 5 5 6 5 5 5 3 5 4 5 8 5 4 5 4 5 6 5 2 5 0 5 7 5 10 5 4 5 3 5 2 5 0 5 1 5 6 5 5 5 3 5 0 5 1 5 3 5 3 5 2 5 3 5 2 5 0 5 2 5 6 5 1 5-1 5 0 5 1 5 1 5 5 5 4 5 0 5-3 5-1 5 1 5 3 5 2 5 1 5 0 5-2 5 0 5 2 5 1 5-2 5-2 5 2 5 1 5 3 5 3 5-2 5-4 5-1 5 2 5 2 5 2 5 0 5-3 5-2 5 0 5 4 5 6 5 1 5-3 5-2 5-3 5-2 5 3 5 5 5 3 5 2 5 3 5-2 5-5 5-2 5 1 5 4 5 6 5 4 5 0 5-3 5-4 5 2 5 7 5 4 5 2 5-1 5-5 5-3 5 5 5 8 5 5 5 2 5-2 5-3 5-3 5 2 5 4 5 4 5 3 5 2 5 3 5 0 5-2 5 0 5 1 5 1 5 4 5 6 5 0 5-1 5 1 5 2 5 2 5 3 5 2 5-1 5-1 5 2 5 4 5 4 5 1 5 0 5 2 5 1 5 1 5 2 5-2 5-4 5 1 5 6 5 6 5 3 5 0 5-6 5-6 5-2 5 4 5 7 5 4 5 0 5-3 5-3 5-3 5 2 5 4 5 1 5 0 5 1 5-2 5-4 5 1 5 3 5 4 5 4 5 2 5-4 5-8 5-4 5 2 5 8 5 8 5 4 5-2 5-8 5-7 5 1 5 6 5 5 5 4 5 0 5-3 5-3 5 2 5 2" stroke="#00a1ff"/>
<path d="M145 288l5-9 5-11 5-14 5-16 5-14 5-10 5-8 5-4 5-4 5-12 5-13 5-8 5-7 5 0 5 9 5 4 5-1 5 2 5 0 5 2 5 8 5 8 5 4 5 2 5 0 5 2 5 5 5 4 5 8 5 7 5 0 5 3 5 7 5 2 5 5 5 7 5 3 5 1 5 5 5 5 5 5 5 6 5 5 5 3 5 3 5 3 5 5 5 4 5 3 5 5 5 5 5 1 5 3 5 3 5-2 5-1 5 4 5 4 5 4 5 7 5 1 5-3 5-2 5 1 5 3 5 6 5 5 5 1 5-1 5-4 5 0 5 3 5 4 5 4 5 1 5-3 5-2 5 2 5 3 5 2 5 3 5-3 5-3 5 0 5 3 5 5 5 3 5 0 5-5 5-4 5 0 5 4 5 7 5 4 5 0 5-4 5-6 5-1 5 5 5 5 5 4 5 2 5-3 5-3 5-1 5 2 5 3 5 3 5 2 5 0 5 1 5 0 5 2 5 1 5 0 5 2 5 3 5 2 5 1 5 3 5-1 5-1 5 3 5 3 5 2 5 3 5 0 5-2 5 0 5 3 5 4 5 3 5 1 5-2 5-2 5-1 5 4 5 6 5 3 5-1 5-2 5-3 5-1 5 5 5 5 5 3 5 0 5-2 5-3 5 1 5 4 5 5 5 2 5-1 5-2 5 0 5 2 5 6 5 4 5 0 5-2 5-1 5 0 5 4 5 7 5 4 5-1 5-3 5-3 5-1 5 4 5 5 5 4 5 1 5-2 5-3 5-2 5 0 5 2 5 4 5 2 5 1 5 1 5-3 5-3 5-1 5 0 5 2 5 5 5 4 5-1 5-3 5-5 5-3 5 2 5 6 5 6 5 2 5-3 5-5 5-3 5 0 5 5 5 7 5 2 5-3 5-2 5-3 5 1 5 5 5 5 5 0 5-1 5-3 5 0 5 2" stroke="#00a4ff"/>
<path d="M145 290l5-17 5-11 5-14 5-15 5-2 5-7 5-15 5-9 5-12 5-10 5 2 5-6 5-12 5 1 5-1 5 2 5 10 5 0 5-1 5 9 5 4 5 1 5 5 5-2 5 3 5 13 5 5 5-1 5 0 5 0 5 8 5 12 5 5 5 0 5 2 5 6 5 7 5 4 5 1 5 2 5 6 5 10 5 4 5-1 5 4 5 8 5 8 5 8 5-2 5-6 5 5 5 7 5 5 5 5 5-2 5-1 5 8 5 3 5-2 5 2 5 0 5 4 5 7 5-2 5-5 5 4 5 4 5 6 5 3 5-5 5-4 5 4 5 4 5 3 5 1 5-3 5 0 5 3 5 1 5 0 5 1 5 2 5 3 5 1 5-3 5-2 5 1 5 6 5 3 5-1 5-2 5-1 5 2 5 6 5 2 5-1 5-1 5-4 5-2 5 4 5 3 5 5 5 7 5-1 5-5 5-4 5-5 5 1 5 8 5 6 5 4 5 2 5-5 5-5 5 0 5 1 5 4 5 6 5 0 5 0 5 2 5 0 5 1 5 1 5 0 5 1 5 3 5 0 5-1 5 1 5 3 5 5 5 2 5-1 5-4 5-1 5 3 5 3 5 0 5 1 5 3 5 4 5 5 5-2 5-7 5-2 5 2 5 4 5 7 5 1 5 1 5 5 5-1 5-4 5-4 5-2 5 7 5 13 5 4 5-4 5-3 5-4 5 4 5 7 5 0 5-1 5 2 5 2 5 2 5-1 5-2 5 3 5 8 5 3 5-4 5-9 5-3 5 6 5 10 5 5 5-1 5-4 5-2 5 0 5-2 5-1 5 1 5 6 5 10 5 0 5-6 5-4 5-2 5 3 5 6 5-2 5-2 5 4 5 4 5 3 5-1 5-7 5-1 5 5 5 3 5 0 5 1 5-3 5 3 5 5 5-2 5-2 5 1 5 0 5 3 5-1" stroke="#00a5ff"/>
<path d="M145 301l5-8 5-12 5-9 5-9 5-17 5-13 5-9 5-9 5-7 5-9 5-11 5-3 5-2 5-7 5-2 5 0 5-1 5 7 5 10 5 3 5 0 5-1 5 2 5 8 5 7 5 1 5 3 5 4 5 0 5 7 5 7 5 1 5 3 5 8 5 6 5 6 5 1 5-1 5 4 5 7 5 8 5 9 5 5 5-3 5 3 5 7 5 5 5 5 5 4 5 3 5 4 5 3 5 0 5 2 5 1 5 2 5 7 5 5 5-2 5-3 5 1 5 2 5 6 5 4 5 1 5 0 5-1 5-1 5 3 5 1 5-1 5 4 5 4 5 0 5-2 5-2 5-2 5 3 5 6 5 3 5 1 5-3 5-3 5 2 5 2 5 1 5 2 5 2 5 1 5 2 5 0 5-2 5-1 5 2 5 5 5 6 5 0 5-4 5-1 5 1 5 2 5 5 5 3 5-1 5-1 5 1 5 0 5 1 5 1 5 2 5 5 5 2 5-2 5-2 5-2 5 1 5 7 5 6 5 0 5-3 5-3 5-1 5 4 5 4 5 2 5 3 5 0 5-3 5 0 5-2 5-1 5 5 5 7 5 3 5-2 5-5 5-5 5 1 5 6 5 6 5 5 5-2 5-6 5-1 5 0 5 1 5 5 5 5 5 4 5 1 5-3 5-5 5-2 5 3 5 8 5 11 5 2 5-5 5-5 5-2 5 3 5 8 5 7 5 3 5 1 5-3 5-3 5 0 5 0 5 5 5 10 5 6 5-3 5-5 5-6 5-3 5 7 5 9 5 6 5 0 5-6 5-6 5-1 5 1 5 3 5 7 5 4 5-1 5-3 5-5 5-6 5 1 5 7 5 8 5 4 5-5 5-8 5-4 5 0 5 4 5 7 5 3 5-2 5-2 5-3 5-4 5 0 5 3 5 6 5 6 5-1 5-5 5-6 5-3 5 3 5 9" stroke="#00a9ff"/>
<path d="M145 290l5-12 5-9 5-11 5-14 5-13 5-12 5-16 5-11 5-1 5 0 5-10 5-16 5-8 5-1 5 2 5 5 5 6 5 1 5 0 5 4 5 5 5 0 5 2 5 9 5 8 5-1 5-1 5 4 5 6 5 7 5 9 5 5 5-1 5 1 5 9 5 7 5 1 5 3 5 9 5 8 5 2 5 3 5 5 5 4 5 6 5 7 5 4 5-1 5 4 5 10 5 4 5-3 5 0 5 4 5 5 5 3 5 2 5 0 5-1 5 3 5 6 5 1 5-2 5 3 5 5 5 0 5-3 5 0 5 4 5 5 5 3 5 1 5-5 5-3 5 4 5 7 5 2 5-3 5 0 5 2 5-1 5-1 5 2 5 3 5 3 5 2 5-2 5-6 5-2 5 7 5 8 5 0 5-4 5-3 5 0 5 1 5 2 5 3 5 0 5 0 5 1 5-2 5-4 5 0 5 7 5 5 5-3 5-5 5-2 5 2 5 4 5 4 5 0 5-5 5-1 5 3 5 2 5-1 5 3 5 6 5 1 5-4 5-4 5 0 5 4 5 8 5 6 5-1 5-6 5 0 5 5 5 2 5-1 5 2 5 5 5 3 5 0 5 0 5-1 5 1 5 4 5 4 5-2 5-2 5 5 5 7 5 1 5-4 5-2 5 1 5 3 5 4 5 4 5-1 5 0 5 3 5 2 5-3 5-3 5 5 5 6 5 1 5 0 5 0 5 1 5 2 5 3 5-1 5-5 5 0 5 8 5 6 5-1 5-3 5-1 5 0 5-1 5 2 5 3 5 3 5 4 5 2 5-4 5-8 5-1 5 8 5 6 5 0 5-1 5-2 5-1 5 2 5 2 5 0 5-1 5 1 5 3 5-2 5-3 5 3 5 6 5 1 5-4 5-5 5-2 5 2 5 7 5 6 5-3 5-6 5-2 5 2 5-1 5 0 5 5 5 4" stroke="#00acff"/>
<path d="M145 265l5-11 5-10 5-12 5-10 5-15 5-14 5-5 5-8 5-7 5-5 5-12 5-8 5-1 5 2 5 5 5 3 5 3 5 1 5 0 5 7 5 4 5 2 5 7 5-1 5 2 5 7 5 3 5 5 5 5 5 3 5 4 5 3 5 7 5 5 5 3 5 7 5 2 5 3 5 9 5 3 5 4 5 6 5 2 5 6 5 5 5 6 5 4 5 2 5 5 5 3 5 3 5 6 5 1 5 0 5 4 5 2 5 4 5 4 5 0 5 1 5 0 5 4 5 4 5 2 5 2 5-2 5-2 5 5 5 3 5 4 5 2 5-4 5-3 5 1 5 4 5 4 5 2 5-2 5-3 5-2 5 3 5 3 5 2 5 1 5-4 5-1 5 2 5 2 5 2 5 0 5-1 5-1 5-1 5 3 5 1 5 1 5 2 5-1 5-1 5 1 5-1 5-1 5 3 5 3 5 4 5 1 5-2 5-5 5-3 5 4 5 6 5 7 5 3 5-5 5-7 5-1 5 3 5 8 5 7 5 2 5-3 5-5 5 0 5 3 5 5 5 5 5 1 5-2 5 2 5-1 5 2 5 3 5 0 5 2 5 2 5 2 5 1 5-1 5 2 5 1 5 2 5 4 5 0 5-2 5 1 5 1 5 4 5 4 5 1 5-2 5-3 5 0 5 4 5 6 5 5 5-2 5-5 5-1 5 1 5 6 5 7 5 1 5-3 5-3 5-1 5 3 5 5 5 4 5 0 5-4 5-1 5 0 5 2 5 5 5 0 5 0 5-1 5-2 5-1 5 1 5 2 5 3 5 2 5 1 5-2 5-5 5-1 5 1 5 5 5 7 5 2 5-4 5-6 5-5 5 3 5 7 5 8 5 3 5-5 5-5 5-4 5 1 5 9 5 4 5 1 5-1 5-4 5 0 5 2 5 3 5 2 5 0 5 1 5 1 5 0 5 2" stroke="#00adff"/>
<path d="M145 300l5-16 5-16 5-7 5-8 5-14 5-12 5-8 5-10 5-8 5-5 5-8 5-10 5-4 5 1 5 3 5 5 5 1 5-2 5 4 5 7 5 4 5 3 5 4 5-1 5-2 5 8 5 11 5 4 5-1 5 0 5 2 5 6 5 10 5 7 5 2 5 0 5 0 5 4 5 12 5 9 5 1 5-1 5 4 5 4 5 6 5 10 5 6 5-1 5 0 5 4 5 4 5 5 5 4 5 1 5 1 5 3 5 1 5 2 5 4 5 2 5 0 5 3 5 3 5-1 5-1 5 4 5 3 5 2 5 1 5 0 5-2 5 1 5 3 5 3 5 2 5-1 5-3 5 0 5 3 5 3 5 0 5 1 5 0 5-1 5 1 5 2 5 0 5-2 5 1 5 2 5 2 5 1 5 1 5 0 5 2 5 1 5-1 5-2 5 0 5 1 5 4 5 7 5 3 5-5 5-5 5 0 5 3 5 5 5 4 5-1 5-3 5 0 5 5 5 7 5 2 5-4 5-7 5-1 5 7 5 8 5 6 5 1 5-5 5-5 5 2 5 6 5 4 5 0 5-1 5-1 5 2 5 6 5 3 5 0 5-3 5-3 5-1 5 4 5 5 5 2 5 1 5 1 5-1 5-3 5 1 5 1 5 1 5 2 5 3 5 1 5 0 5 1 5 0 5 2 5 1 5-2 5-2 5 3 5 4 5 4 5 4 5 0 5-3 5-3 5 2 5 3 5 2 5 3 5 1 5 1 5 1 5 1 5 0 5-1 5 0 5 0 5 2 5 3 5 1 5 0 5 3 5 2 5-1 5-3 5-2 5 0 5 3 5 6 5 5 5-1 5-4 5-4 5 0 5 5 5 4 5-1 5-3 5 0 5 1 5 6 5 6 5-1 5-8 5-5 5 1 5 6 5 7 5 3 5-2 5-5 5-2 5 2 5 4 5 2 5-2 5-4" stroke="#00b0ff"/>
<path d="M145 298l5-5 5-12 5-18 5-15 5-13 5-11 5-6 5-7 5-7 5-10 5-12 5-4 5-5 5-9 5 3 5 6 5 3 5 8 5 7 5-5 5-2 5 6 5 4 5 5 5 7 5 4 5 4 5 5 5 4 5 3 5-2 5 2 5 11 5 10 5 5 5 8 5 2 5-3 5 6 5 6 5 1 5 6 5 9 5 8 5 7 5 4 5-1 5-1 5 2 5 7 5 9 5 3 5 1 5 4 5 0 5-1 5 3 5-1 5 0 5 8 5 6 5 2 5-1 5-3 5-3 5 2 5 5 5 3 5 1 5 0 5 2 5 2 5-3 5-2 5-1 5 1 5 4 5 7 5 0 5-5 5-1 5-1 5 0 5 2 5 1 5 1 5 2 5 3 5 2 5-3 5-5 5 0 5 3 5 3 5 5 5 2 5-3 5 0 5 1 5-2 5-2 5 2 5 4 5 6 5 4 5-1 5-6 5-4 5 1 5 6 5 6 5 2 5 2 5-2 5-2 5 2 5 0 5-1 5 4 5 7 5 2 5 1 5-2 5-4 5 1 5 5 5 5 5 1 5-2 5 0 5 3 5 1 5 1 5 1 5-2 5 0 5 6 5 2 5-2 5 1 5 0 5 1 5 3 5 0 5-2 5 0 5 3 5 4 5 2 5-2 5-2 5 1 5 1 5 5 5 2 5-2 5-1 5 4 5 3 5 0 5 1 5-1 5 0 5 4 5 3 5 1 5 0 5 0 5 2 5 2 5-1 5-1 5 1 5 2 5 6 5 3 5-4 5-4 5 0 5 1 5 5 5 5 5-1 5-2 5 0 5 0 5 1 5-1 5 1 5 4 5 3 5 1 5 0 5-4 5-3 5 4 5 6 5 1 5 0 5-1 5-3 5 2 5 4 5 0 5-1 5 0 5 2 5 2 5 0 5-2 5 0 5 1 5 3 5 3 5-3 5-4" stroke="#00b4ff"/>
<path d="M145 279l5-12 5-4 5-11 5-20 5-14 5-3 5-5 5-13 5-12 5-10 5-8 5-2 5 1 5-2 5-5 5 1 5 9 5 9 5 0 5-2 5 1 5 6 5 7 5 4 5 0 5 4 5 9 5 4 5-1 5 3 5 8 5 5 5 3 5 5 5 4 5 2 5 6 5 10 5 5 5-1 5 3 5 8 5 4 5 0 5 7 5 11 5 5 5-3 5 0 5 7 5 7 5 5 5 0 5-4 5-1 5 7 5 10 5 2 5-5 5-2 5 4 5 7 5 3 5-2 5-3 5 3 5 5 5 2 5-2 5 0 5 4 5 2 5-1 5-1 5 1 5 2 5 2 5 2 5-2 5-3 5 3 5 5 5 0 5-3 5 0 5 5 5 1 5-1 5 0 5 3 5 0 5-2 5-1 5 2 5 6 5 6 5 0 5-7 5-7 5 4 5 10 5 4 5-4 5-6 5 0 5 8 5 7 5-1 5-7 5-3 5 2 5 4 5 3 5 2 5 3 5-1 5-2 5-1 5 0 5 2 5 5 5 4 5-3 5-4 5 3 5 7 5 1 5-4 5-1 5 1 5 1 5 1 5 4 5 4 5 2 5-2 5-4 5-4 5 3 5 9 5 6 5-3 5-7 5-1 5 8 5 7 5 0 5-7 5-5 5 5 5 9 5 5 5-1 5-2 5 1 5 0 5 1 5 2 5 3 5 3 5 4 5 1 5-2 5-1 5 5 5 5 5-1 5-4 5 1 5 6 5 3 5 1 5 1 5 0 5-2 5-2 5 0 5 2 5 5 5 4 5 0 5-5 5-4 5 4 5 6 5 0 5-5 5-5 5 4 5 8 5 4 5-4 5-7 5-1 5 4 5 2 5-1 5 0 5 1 5 2 5 2 5-1 5-4 5-2 5 4 5 4 5-2 5-2 5 3 5 4 5-1 5-3 5 0 5 1 5 0 5 0" stroke="#00b7ff"/>
<path d="M145 289l5-10 5-12 5-15 5-12 5-11 5-9 5-9 5-10 5-4 5-10 5-12 5-2 5-2 5-2 5 4 5 3 5 2 5 2 5 3 5 6 5 3 5 1 5 6 5 1 5-1 5 8 5 5 5 3 5 6 5 3 5 2 5 2 5 3 5 9 5 5 5 3 5 8 5 1 5 0 5 6 5 5 5 5 5 6 5 5 5 4 5 2 5 4 5 6 5 3 5 2 5 6 5 0 5 1 5 5 5 3 5 2 5 2 5 1 5 3 5 0 5 3 5 5 5 1 5 1 5 2 5-1 5 1 5 4 5 2 5 3 5 0 5 0 5 1 5-1 5 2 5 4 5 1 5 1 5 2 5-1 5 0 5 1 5 2 5 2 5 1 5 2 5 1 5-1 5 0 5 3 5 1 5 2 5 1 5-3 5 0 5 3 5 5 5 4 5-1 5-3 5-3 5-2 5 5 5 5 5 0 5 0 5-1 5-1 5 2 5 2 5 0 5-1 5-2 5 2 5 4 5 2 5 2 5 0 5-3 5 0 5 1 5 2 5 1 5 1 5 3 5 3 5 0 5 1 5-2 5-4 5 1 5 5 5 4 5 3 5 0 5-3 5-1 5 0 5 4 5 3 5-2 5 0 5 1 5 2 5 5 5 3 5-3 5-3 5-1 5 2 5 5 5 4 5 3 5-1 5-2 5 1 5 2 5 1 5 2 5 1 5 1 5 3 5 3 5 3 5-1 5-2 5 2 5 2 5 1 5 3 5 0 5-1 5 3 5 3 5 2 5-1 5-4 5-1 5 1 5 4 5 7 5 2 5-4 5-2 5-2 5 1 5 4 5 2 5 1 5-2 5 1 5 3 5 2 5 0 5 0 5-4 5-1 5 4 5 4 5 3 5 0 5-1 5-1 5-1 5 0 5 2 5-1 5 2 5 4 5 1 5 1 5-1 5-3 5-2 5 2 5 3" stroke="#00bbff"/>
<path d="M145 276l5-13 5-8 5-7 5-10 5-16 5-13 5-7 5-6 5-10 5-10 5-10 5-7 5 4 5 3 5-5 5-1 5 3 5 2 5 10 5 7 5-2 5 2 5 8 5 3 5 5 5 4 5-3 5 3 5 12 5 7 5 4 5 3 5-1 5 3 5 9 5 6 5 2 5 4 5 4 5 6 5 7 5 3 5-1 5 2 5 7 5 8 5 6 5 3 5 1 5 1 5 3 5 4 5 1 5-1 5 4 5 5 5 3 5 3 5-1 5-4 5 3 5 5 5 2 5 3 5 2 5-2 5 3 5 3 5-1 5-1 5 2 5 2 5 4 5 3 5-1 5-2 5 1 5 1 5 1 5 2 5 1 5 1 5 3 5 1 5-2 5-1 5 0 5 3 5 3 5 2 5-1 5-2 5-1 5 3 5 3 5 1 5 0 5-2 5-1 5 2 5 2 5 1 5 1 5 0 5-2 5 0 5 2 5 1 5 3 5 2 5-3 5-2 5 1 5 2 5 5 5 3 5-3 5-3 5 2 5 4 5 4 5 2 5-3 5-3 5 3 5 5 5 5 5 1 5-2 5-2 5 1 5 4 5 3 5 1 5 1 5 2 5 1 5 0 5-1 5 0 5 3 5 6 5 1 5-2 5-1 5 1 5 3 5 4 5-1 5-4 5 0 5 5 5 6 5 4 5-4 5-8 5-2 5 6 5 8 5 4 5-1 5-6 5-1 5 4 5 2 5 0 5 0 5 0 5 3 5 4 5 0 5-4 5-2 5 1 5 4 5 2 5 0 5-1 5 1 5 4 5 1 5-5 5-5 5 2 5 7 5 9 5 3 5-8 5-8 5 0 5 6 5 7 5 4 5-4 5-4 5 3 5 6 5 1 5-3 5-4 5-1 5 8 5 8 5 0 5-4 5-4 5-1 5 3 5 3 5 0 5 1 5 4 5 3 5-1 5-5 5-7" stroke="#00bfff"/>
<path d="M145 296l5-21 5-11 5-14 5-14 5-9 5-12 5-7 5-4 5-11 5-13 5-12 5-8 5-3 5 2 5 1 5 0 5 4 5 2 5-1 5 3 5 2 5 8 5 11 5-1 5 1 5 2 5 1 5 10 5 6 5 0 5 7 5 5 5 5 5 6 5-1 5 4 5 9 5 6 5 5 5 3 5 4 5 5 5 7 5 3 5 2 5 7 5 7 5 4 5 5 5-1 5 3 5 7 5 1 5 2 5 1 5 0 5 8 5 4 5-1 5 0 5 0 5 3 5 4 5 1 5 1 5 3 5 3 5 0 5-2 5-2 5 2 5 6 5 3 5-1 5-1 5-1 5 0 5 2 5-1 5 2 5 6 5 2 5 0 5-5 5-6 5 3 5 5 5 3 5 3 5 0 5 1 5 0 5-4 5-3 5 0 5 6 5 6 5 2 5-3 5-3 5 2 5 2 5 0 5 0 5 0 5 2 5 2 5-3 5-1 5 4 5 4 5 6 5 0 5-6 5-3 5 0 5 2 5 4 5 2 5 5 5 6 5 0 5-5 5-6 5-1 5 4 5 6 5 4 5 1 5 2 5 2 5-2 5-2 5-4 5 2 5 6 5 2 5 0 5 1 5 1 5 4 5 1 5-3 5-1 5 0 5 2 5 3 5-1 5 1 5 5 5 4 5 0 5-3 5-3 5 0 5 4 5 2 5 0 5 3 5 4 5 4 5 1 5-4 5-2 5 2 5 0 5 2 5 1 5 2 5 7 5 4 5-2 5-4 5-5 5 0 5 4 5 2 5 2 5 4 5 4 5 1 5-4 5-5 5-2 5 4 5 5 5 1 5 1 5 0 5 1 5 3 5-3 5-1 5 3 5 2 5 2 5-3 5-3 5 3 5 6 5 4 5 1 5-3 5-2 5-1 5-1 5-2 5 3 5 7 5 7 5 2 5-5 5-7 5-2 5 1 5 2" stroke="#00c2ff"/>
<path d="M145 276l5-11 5-17 5-17 5-10 5-10 5-9 5-5 5-6 5-13 5-13 5-7 5-8 5-4 5 5 5 5 5-1 5 1 5 5 5 1 5 2 5 8 5 6 5-2 5 0 5 6 5 3 5 5 5 11 5 7 5-2 5 0 5 3 5 2 5 5 5 14 5 9 5 1 5 0 5 3 5 0 5 4 5 13 5 10 5 2 5 2 5 2 5-2 5 3 5 12 5 9 5 3 5 2 5 0 5-4 5-1 5 7 5 8 5 3 5 4 5 1 5-3 5-1 5 5 5 4 5 3 5 2 5 1 5-2 5-1 5 4 5 4 5 1 5 2 5 0 5-3 5-1 5 4 5 4 5 1 5 2 5-2 5-3 5-2 5 3 5 4 5 3 5 2 5-1 5-4 5-3 5 1 5 2 5 3 5 4 5 2 5-2 5-2 5-1 5-1 5 0 5 2 5 3 5 0 5 1 5 1 5-1 5 0 5 0 5 1 5 0 5 1 5 2 5 1 5 1 5 1 5 0 5 1 5 2 5 3 5 2 5 1 5-1 5-1 5 0 5 3 5 5 5 4 5 3 5 0 5-3 5-1 5 0 5 2 5 4 5 5 5 2 5 0 5 0 5 0 5 0 5 1 5 2 5 1 5 0 5 2 5 3 5 2 5 1 5 1 5-2 5-3 5 1 5 2 5 4 5 4 5 3 5-1 5-4 5-2 5 2 5 2 5 5 5 5 5-1 5-5 5-2 5 0 5 2 5 7 5 6 5 0 5-5 5-5 5-3 5 0 5 6 5 9 5 3 5-2 5-3 5-5 5-4 5 3 5 7 5 4 5 1 5 0 5-3 5-3 5 1 5 5 5 2 5 0 5 0 5-2 5-2 5 4 5 5 5 3 5 0 5-1 5-3 5-4 5 3 5 6 5 3 5 1 5 0 5-3 5-3 5 1 5 5 5 3 5 1 5 0 5-4" stroke="#00c6ff"/>
<path d="M145 298l5-15 5-18 5-17 5-6 5-2 5-11 5-13 5-9 5-13 5-13 5-5 5-6 5-8 5 0 5 6 5 5 5 1 5-4 5-2 5 7 5 8 5 3 5 7 5 6 5-2 5 3 5 7 5 0 5-1 5 9 5 11 5 8 5 4 5-2 5-1 5 6 5 6 5 6 5 10 5 4 5 2 5 8 5 5 5-4 5 0 5 7 5 10 5 9 5 6 5 0 5-1 5 1 5 0 5 3 5 4 5 1 5 5 5 9 5 2 5-6 5-3 5 2 5 3 5 7 5 4 5 1 5 0 5 0 5 1 5 0 5-1 5-2 5 6 5 8 5 2 5-3 5-3 5-2 5 1 5 4 5 3 5-1 5 1 5 2 5 1 5-1 5-4 5-3 5 5 5 6 5 2 5-1 5-2 5-3 5 0 5 3 5 0 5-1 5 1 5 3 5 3 5-1 5-5 5-3 5 4 5 4 5 2 5 1 5-2 5-2 5 3 5 3 5-2 5-1 5 2 5 5 5 4 5 0 5-4 5-1 5 3 5 3 5 4 5 2 5-1 5 1 5 5 5 1 5-3 5-1 5 2 5 4 5 5 5 2 5-2 5 0 5 1 5 2 5 2 5-1 5-4 5 3 5 7 5 2 5-2 5 0 5-1 5 1 5 2 5-1 5-2 5 0 5 4 5 5 5 4 5-3 5-5 5 1 5 2 5 0 5 0 5 3 5 2 5 5 5 4 5-2 5-5 5-3 5 1 5 6 5 5 5 0 5 0 5 3 5 1 5-3 5-2 5-1 5 1 5 7 5 7 5 0 5-3 5-3 5 0 5 3 5 1 5 0 5 2 5 5 5 2 5-1 5-2 5-4 5-1 5 6 5 6 5 1 5-2 5-2 5 0 5 0 5-1 5-2 5 3 5 4 5 3 5 2 5-4 5-7 5-2 5 5 5 3 5 1 5 0 5 0" stroke="#00caff"/>
<path d="M145 274l5-11 5-13 5-12 5-12 5-12 5-9 5-11 5-10 5-7 5-7 5-7 5-6 5-5 5-2 5 3 5 4 5 6 5 3 5 0 5 0 5 4 5 6 5 8 5 6 5 0 5 0 5 2 5 5 5 8 5 7 5 2 5 4 5 4 5 5 5 7 5 4 5 2 5 4 5 6 5 5 5 7 5 4 5 0 5 5 5 8 5 6 5 7 5 2 5-3 5 2 5 6 5 6 5 6 5 2 5-3 5-1 5 4 5 3 5 5 5 3 5-2 5 1 5 3 5 2 5 1 5 2 5-2 5 2 5 5 5 1 5-1 5-1 5-2 5 2 5 6 5 2 5-1 5-2 5-3 5 0 5 6 5 3 5 0 5 0 5-4 5-1 5 3 5 2 5 2 5 2 5 0 5-1 5 0 5-1 5-1 5 3 5 3 5 2 5 3 5-2 5-4 5-1 5 2 5 2 5 5 5 2 5-1 5-1 5-2 5-1 5 3 5 3 5 3 5 2 5 1 5-3 5 0 5 1 5 2 5 4 5 2 5 0 5 1 5 0 5 1 5 2 5 1 5 1 5 1 5 2 5 2 5 2 5 0 5-1 5 0 5 2 5 3 5 3 5 0 5-1 5 1 5 2 5 2 5 1 5-1 5 0 5 2 5 4 5 3 5 0 5-3 5-3 5 2 5 4 5 6 5 2 5-2 5-3 5-1 5 2 5 4 5 3 5 0 5 0 5 2 5 0 5 0 5 0 5-2 5 1 5 6 5 3 5 0 5-3 5-6 5-1 5 5 5 5 5 3 5 0 5-6 5-3 5 2 5 3 5 2 5 2 5-2 5-1 5 2 5 0 5-1 5 1 5-1 5 2 5 4 5 1 5-2 5-2 5-1 5 2 5 5 5 3 5-2 5-1 5-2 5 1 5 5 5 3 5-1 5 0 5-1 5-1 5 4 5 3 5-1 5 1" stroke="#00cdff"/>
<path d="M145 298l5-13 5-11 5-10 5-10 5-15 5-11 5-5 5-9 5-15 5-8 5-4 5-5 5-6 5-3 5 2 5 6 5 2 5-1 5 1 5 5 5 4 5 7 5 7 5 0 5-2 5 4 5 6 5 3 5 2 5 4 5 8 5 8 5 2 5-1 5 6 5 6 5 3 5 4 5 5 5 4 5 6 5 7 5 3 5 0 5 3 5 6 5 10 5 5 5-1 5 1 5 6 5 3 5 0 5 2 5 5 5 4 5 2 5 0 5 0 5 2 5 4 5 3 5 1 5 0 5 1 5 5 5 5 5-2 5-5 5 1 5 6 5 4 5 2 5-1 5-1 5 2 5 0 5-1 5 1 5 3 5 2 5 2 5-1 5-3 5 1 5 4 5 2 5-2 5-2 5 2 5 5 5 2 5-4 5-4 5 1 5 4 5 2 5 2 5-1 5-2 5-1 5 0 5 0 5 1 5 3 5 4 5 1 5-5 5-5 5 2 5 5 5 2 5-2 5 0 5 3 5 2 5 0 5-2 5-3 5 1 5 4 5 4 5 2 5-1 5-1 5 1 5 0 5-2 5 1 5 6 5 5 5-1 5-3 5-1 5 2 5 4 5 1 5-1 5 0 5 2 5 4 5 4 5 0 5-4 5 0 5 3 5 3 5 0 5 3 5 3 5 3 5-1 5-4 5 1 5 5 5 4 5 1 5 0 5 1 5 2 5 3 5 1 5-2 5-2 5 4 5 6 5 3 5-1 5-3 5 1 5 2 5-1 5 0 5 4 5 3 5 0 5-2 5-3 5 0 5 4 5 4 5 0 5-3 5-3 5 1 5 4 5 1 5-3 5-1 5 4 5 2 5-1 5-2 5-2 5 2 5 2 5 1 5 0 5 2 5 1 5-1 5-2 5-3 5 0 5 7 5 5 5-1 5-5 5-2 5 1 5 4 5 0 5-1 5 2 5 3 5 0" stroke="#00d1ff"/>
<path d="M145 293l5-15 5-11 5-12 5-11 5-5 5-7 5-17 5-14 5-5 5-6 5-11 5-5 5 0 5-1 5-1 5 5 5 1 5-3 5 3 5 9 5 5 5 2 5 5 5 4 5 1 5 1 5 1 5 2 5 8 5 10 5 5 5 2 5 4 5 1 5 2 5 7 5 5 5 2 5 7 5 10 5 3 5-1 5 4 5 6 5 3 5 5 5 7 5 4 5 3 5 5 5 3 5-2 5 0 5 6 5 5 5 2 5 2 5 1 5 1 5 3 5 1 5 0 5 2 5 4 5 3 5 1 5 0 5 0 5 0 5 3 5 3 5-1 5-1 5 4 5 3 5-2 5-1 5 2 5 1 5 1 5 2 5-1 5-1 5 2 5 3 5 0 5-2 5 1 5 1 5 1 5 1 5-1 5-1 5 3 5 3 5 0 5-2 5 1 5 0 5 1 5 1 5 0 5-1 5 2 5 4 5-1 5-3 5 1 5 3 5 1 5 1 5 1 5-1 5 0 5 2 5 2 5-2 5 2 5 5 5 2 5 0 5-2 5-2 5 1 5 3 5 3 5 1 5 3 5 3 5 1 5-3 5-3 5-1 5 2 5 6 5 5 5 0 5 0 5 2 5 0 5-5 5-2 5 3 5 4 5 5 5 4 5-1 5-2 5-1 5 1 5-2 5 0 5 4 5 5 5 3 5 0 5-2 5-2 5 2 5 2 5 0 5 1 5 3 5 2 5 0 5 1 5-1 5-1 5 3 5 4 5 0 5-4 5 1 5 2 5 0 5 0 5 2 5 2 5 1 5 2 5-1 5-5 5-1 5 3 5 3 5 2 5 2 5 1 5 1 5-1 5-3 5-3 5 1 5 6 5 4 5 2 5 1 5-1 5-1 5 0 5-1 5-2 5 2 5 6 5 4 5-1 5-1 5 1 5 0 5-1 5 0 5 0 5 2 5 4 5 3 5-1" stroke="#00d4ff"/>
<path d="M145 288l5-12 5-9 5-6 5-11 5-15 5-15 5-13 5-8 5 0 5-4 5-8 5-10 5-10 5-3 5 5 5 5 5 7 5 4 5 0 5 2 5 3 5 2 5 5 5 4 5 3 5 6 5 4 5 1 5 4 5 2 5 5 5 10 5 6 5 4 5 2 5-2 5 3 5 9 5 8 5 9 5 4 5-2 5 1 5 5 5 7 5 10 5 6 5 0 5 1 5 1 5 3 5 7 5 5 5 1 5 2 5-1 5 1 5 5 5 1 5 2 5 3 5 0 5 3 5 3 5-1 5 0 5 1 5 1 5 5 5 3 5-2 5-1 5-1 5 0 5 5 5 3 5 0 5-1 5-3 5-1 5 3 5 3 5 2 5 0 5-4 5-1 5 2 5 2 5 3 5 0 5-3 5-1 5 1 5 2 5 4 5 1 5-2 5-1 5-2 5 0 5 3 5 2 5 1 5 1 5-1 5 0 5 2 5-1 5 1 5 2 5 0 5 2 5 1 5-2 5 2 5 3 5 2 5 3 5-1 5-3 5 0 5 1 5 4 5 7 5 2 5-2 5-2 5-3 5 1 5 6 5 4 5 3 5 0 5-4 5 0 5 3 5 1 5 4 5 1 5-2 5 2 5 0 5 0 5 3 5 1 5 1 5 4 5-1 5-2 5 0 5-3 5 3 5 7 5 4 5 2 5-3 5-8 5-1 5 4 5 6 5 8 5 1 5-7 5-4 5-1 5 4 5 8 5 3 5-3 5-3 5-4 5 2 5 7 5 2 5 1 5-2 5-5 5 0 5 4 5 0 5 2 5 2 5-1 5 2 5 2 5-3 5-1 5-2 5 1 5 6 5 5 5 0 5-1 5-6 5-2 5 6 5 4 5 4 5 0 5-6 5-2 5 3 5 5 5 6 5 1 5-6 5-4 5 0 5 3 5 8 5 3 5-2 5-2 5-3 5 0 5 5" stroke="#00d8ff"/>
<path d="M145 283l5-12 5-13 5-14 5-11 5-11 5-10 5-8 5-9 5-14 5-9 5-7 5-5 5-2 5-2 5-5 5-2 5 6 5 6 5 7 5 5 5-1 5 0 5 7 5 6 5 3 5 4 5 2 5 2 5 9 5 9 5 1 5 3 5 5 5 3 5 8 5 10 5 2 5 1 5 6 5 3 5 5 5 10 5 5 5 2 5 7 5 5 5 0 5 5 5 5 5 3 5 6 5 5 5-3 5-1 5 5 5 3 5 3 5 5 5-1 5-3 5 5 5 3 5 0 5 1 5 0 5 0 5 5 5 6 5-3 5-4 5 0 5 0 5 5 5 7 5 0 5-6 5-2 5 1 5 3 5 5 5 1 5-4 5 0 5 2 5 0 5 1 5 1 5-1 5 1 5 5 5 0 5-2 5-1 5-1 5 0 5 5 5 2 5-1 5 1 5 0 5-2 5-1 5 2 5 0 5 3 5 4 5-2 5-4 5-1 5 1 5 5 5 6 5-1 5-6 5-3 5 1 5 4 5 6 5 1 5-3 5-2 5 2 5 1 5 1 5 0 5-2 5 1 5 5 5 4 5-1 5-2 5-2 5 0 5 5 5 3 5 0 5-1 5 0 5 1 5 3 5 2 5 0 5 1 5 3 5 1 5 0 5 0 5 0 5 3 5 5 5 3 5-1 5-1 5-1 5 2 5 4 5 2 5 1 5 3 5 2 5 2 5 1 5-2 5-2 5 4 5 6 5 3 5 0 5-3 5-4 5 2 5 7 5 4 5-1 5-3 5-5 5 1 5 5 5 4 5-1 5-1 5-1 5-1 5 2 5 0 5-2 5 0 5 3 5 1 5 1 5 1 5-4 5-1 5 2 5 1 5-1 5 2 5 1 5 0 5 1 5-1 5-3 5 2 5 4 5 1 5 1 5-2 5-4 5 0 5 6 5 4 5 1 5-1 5-4 5-2 5 4" stroke="#00dcff"/>
<path d="M145 307l5-20 5-11 5-9 5-11 5-8 5-10 5-13 5-11 5-7 5-8 5-5 5-4 5-7 5-1 5 5 5 3 5 0 5 8 5 4 5-3 5 4 5 9 5 2 5 1 5 6 5 3 5 0 5 6 5 7 5 3 5 2 5 3 5 3 5 7 5 7 5 3 5 3 5 5 5 0 5 3 5 9 5 4 5 1 5 6 5 6 5 2 5 5 5 7 5 0 5 0 5 5 5 4 5 3 5 3 5 2 5 0 5 2 5 3 5 3 5 4 5 2 5-1 5 1 5 5 5 1 5 2 5 3 5 0 5-2 5 3 5 5 5 1 5-1 5 1 5-1 5 1 5 4 5 2 5-1 5-2 5-1 5 2 5 4 5 2 5-3 5-2 5-1 5 1 5 4 5 3 5-3 5-4 5 1 5 4 5 1 5 0 5-1 5-4 5 0 5 6 5 3 5-1 5-2 5-2 5 0 5 4 5 2 5 0 5-1 5 1 5 1 5 3 5 2 5-3 5-1 5 4 5 2 5 1 5 2 5 1 5-2 5 1 5 3 5 0 5 0 5 2 5 2 5 1 5 0 5-1 5 0 5 2 5 2 5 1 5 0 5 0 5 0 5 3 5 3 5-3 5-2 5 2 5 3 5 3 5 2 5 0 5-4 5 1 5 5 5 3 5 0 5-1 5 0 5 3 5 5 5 2 5-3 5-1 5 1 5 5 5 6 5 2 5-4 5-2 5 3 5 4 5 3 5 1 5-3 5-2 5 5 5 6 5 0 5-4 5-4 5 0 5 5 5 5 5 0 5-4 5-4 5 0 5 4 5 4 5-2 5-5 5 0 5 3 5 2 5 0 5-1 5-4 5-1 5 5 5 3 5-1 5-1 5 0 5 0 5 1 5 1 5 0 5 0 5 3 5 2 5 0 5 0 5-1 5 1 5 4 5 1 5-2 5 0 5 3 5 2 5 2" stroke="#00dfff"/>
<path d="M145 330l5-19 5-11 5-12 5-16 5-10 5-10 5-8 5-8 5-10 5-7 5-15 5-14 5 1 5 0 5 2 5-1 5-1 5 2 5 0 5 8 5 8 5-3 5 2 5 5 5 7 5 4 5 0 5 4 5 1 5 1 5 12 5 7 5 3 5 3 5 3 5 5 5 1 5 4 5 11 5 5 5 4 5 5 5 0 5 2 5 6 5 10 5 7 5-1 5 3 5 4 5 3 5 5 5 1 5 0 5-1 5 4 5 10 5 3 5-3 5-1 5-1 5 3 5 5 5 5 5 2 5-3 5 0 5 3 5-1 5 1 5 2 5 4 5 2 5-2 5 1 5 0 5 0 5 3 5 1 5-1 5-1 5 3 5 6 5 0 5-3 5-3 5-2 5 4 5 7 5 2 5-2 5-5 5 1 5 3 5 1 5 2 5-1 5-2 5 2 5 3 5 3 5-3 5-3 5 0 5 1 5 2 5 3 5 3 5 0 5-2 5-4 5-1 5 0 5 6 5 8 5 2 5-5 5-6 5-2 5 5 5 5 5 6 5 0 5-4 5 0 5 1 5 2 5 0 5-1 5 4 5 3 5 3 5 2 5-4 5-3 5 0 5 5 5 5 5 1 5 1 5 1 5-3 5-1 5 1 5 3 5 4 5 3 5 2 5-4 5-3 5 2 5 4 5 4 5 0 5-2 5 0 5 2 5 5 5 3 5-4 5-4 5 1 5 6 5 5 5 1 5-1 5-4 5-2 5 4 5 4 5 1 5 0 5 0 5 1 5-2 5-1 5 3 5 1 5 1 5 1 5-1 5-1 5 0 5 5 5 2 5-4 5-2 5 0 5 3 5 5 5 1 5-2 5-4 5-1 5 6 5 3 5-1 5-1 5 0 5 2 5 3 5 0 5-1 5-4 5 2 5 5 5 4 5 1 5-2 5-2 5-2 5-1 5 4 5 5 5 2 5 3" stroke="#00e3ff"/>
<path d="M145 307l5-13 5-16 5-18 5-16 5-11 5-7 5-7 5-6 5-13 5-13 5-9 5-8 5-7 5 2 5 1 5-2 5 3 5 5 5 0 5 3 5 4 5 0 5 5 5 7 5 7 5 5 5 1 5-1 5 2 5 5 5 8 5 12 5 6 5 0 5 2 5 2 5 3 5 11 5 10 5 3 5 4 5 3 5 1 5 6 5 8 5 6 5 5 5 3 5 3 5 6 5 2 5 1 5 2 5 0 5 1 5 7 5 6 5 1 5 0 5-2 5-3 5 3 5 7 5 4 5 3 5-2 5-3 5-1 5 2 5 4 5 4 5 1 5-2 5-1 5 0 5 2 5 3 5 1 5-2 5 1 5 1 5 1 5 3 5 2 5-3 5-2 5 1 5 2 5 5 5 2 5-1 5-3 5-2 5 2 5 5 5 3 5-1 5-2 5-3 5-1 5 5 5 4 5-1 5-1 5-1 5-1 5 2 5 3 5 0 5-2 5-1 5-1 5 3 5 3 5 2 5 1 5-3 5-3 5 0 5 1 5 3 5 5 5 1 5-2 5-2 5 0 5 1 5 2 5 3 5-1 5 0 5 1 5 3 5 3 5 1 5-3 5-1 5 0 5 5 5 7 5 2 5-3 5-3 5-1 5 3 5 7 5 5 5-1 5-2 5-2 5 0 5 4 5 5 5 3 5 1 5-1 5-1 5 2 5 0 5 1 5 2 5 2 5 2 5 3 5 2 5-3 5-1 5-1 5-1 5 3 5 5 5 4 5 0 5-3 5-5 5-4 5 2 5 6 5 6 5 1 5-4 5-4 5-3 5 1 5 5 5 4 5-2 5-1 5-1 5 0 5 2 5 1 5-1 5-1 5 3 5 3 5 2 5-1 5-4 5-3 5 1 5 5 5 8 5 2 5-2 5-5 5-4 5-1 5 5 5 7 5 3 5 1 5-2 5-5 5-3 5 1" stroke="#00e7ff"/>
<path d="M145 292l5-10 5-10 5-15 5-11 5-11 5-13 5-10 5-9 5-8 5-5 5-10 5-11 5-5 5-7 5-4 5 6 5 6 5 1 5 3 5 2 5 2 5 3 5 4 5 7 5 7 5 0 5 1 5 7 5 2 5 4 5 9 5 6 5 3 5 3 5 1 5 6 5 6 5 4 5 9 5 8 5 0 5 2 5 5 5 2 5 6 5 8 5 6 5 5 5 2 5 0 5 4 5 2 5 1 5 6 5 4 5-1 5 2 5 1 5 2 5 2 5 2 5 3 5 3 5-1 5 1 5 3 5 0 5 1 5 3 5 1 5 0 5 2 5 1 5 1 5 1 5-1 5 2 5 1 5 0 5 2 5 3 5 0 5 0 5-1 5 0 5 1 5 1 5 3 5 3 5 0 5-2 5-1 5 0 5 0 5 4 5 4 5 1 5-1 5-3 5-2 5 0 5 1 5 4 5 5 5 0 5-3 5-2 5-3 5 0 5 4 5 5 5 3 5 0 5-4 5-2 5-1 5 0 5 5 5 6 5 1 5-1 5-2 5-3 5 0 5 3 5 4 5 5 5 1 5-3 5-1 5-2 5 0 5 4 5 5 5 2 5 0 5-1 5-2 5 0 5 2 5 3 5 4 5 1 5-1 5 1 5-1 5-1 5 3 5 3 5 2 5 1 5-1 5 1 5 1 5 0 5 2 5 2 5 0 5 0 5 3 5 0 5 1 5 1 5 1 5 0 5 0 5 1 5 3 5 2 5-1 5 1 5 0 5-2 5 0 5 2 5 2 5 2 5 0 5-1 5-1 5-2 5 0 5 5 5 2 5 1 5 0 5-2 5-3 5 0 5 2 5 4 5 4 5 0 5-1 5-2 5-3 5 1 5 4 5 4 5 1 5 1 5-2 5-2 5-1 5 1 5 5 5 4 5 0 5 0 5-2 5-3 5 1 5 4 5 3 5 2 5-1" stroke="#00eaff"/>
<path d="M145 309l5-16 5-13 5-9 5-9 5-14 5-12 5-7 5-12 5-14 5-7 5-4 5-10 5-8 5 1 5 3 5-2 5-1 5 6 5 3 5-1 5 5 5 9 5 4 5 1 5 5 5 4 5-1 5 1 5 7 5 8 5 5 5 7 5 6 5 2 5-1 5 2 5 7 5 8 5 8 5 7 5 4 5 1 5 1 5 2 5 6 5 9 5 8 5 6 5 3 5 1 5-2 5 0 5 4 5 6 5 4 5 3 5 4 5-1 5-3 5 1 5 4 5 3 5 1 5 4 5 2 5-3 5 0 5 3 5 3 5 0 5 1 5 2 5-1 5-2 5 2 5 4 5 2 5 1 5 0 5-2 5-2 5 0 5 3 5 4 5 3 5 1 5-1 5-3 5-3 5 0 5 3 5 5 5 4 5 1 5-2 5-3 5-3 5-1 5 4 5 5 5 3 5 0 5-2 5-2 5-3 5 0 5 4 5 3 5 1 5 2 5 0 5-2 5-2 5 0 5 3 5 1 5 1 5 4 5 1 5-2 5-1 5 0 5 0 5 0 5 3 5 3 5 1 5 0 5 1 5 0 5-2 5-1 5 1 5 2 5 2 5 3 5 2 5 0 5-2 5-2 5-1 5 1 5 4 5 4 5 2 5 1 5-2 5-2 5-1 5 3 5 2 5 2 5 2 5 2 5-1 5-1 5 2 5 2 5 0 5 1 5 3 5 1 5-1 5 3 5 2 5 0 5 1 5 2 5 1 5-2 5 1 5 3 5 3 5 0 5 2 5 0 5-3 5-2 5 2 5 5 5 3 5 2 5 0 5-3 5-4 5-1 5 3 5 5 5 4 5 2 5-1 5-4 5-4 5-1 5 3 5 5 5 5 5 1 5-1 5-3 5-4 5-3 5 3 5 5 5 4 5 2 5 1 5-3 5-6 5-1 5 2 5 4 5 2 5 3 5 1 5-4" stroke="#00eeff"/>
<path d="M145 305l5-9 5-10 5-16 5-15 5-7 5-6 5-12 5-11 5-7 5-9 5-5 5 0 5-5 5-7 5 1 5 8 5 3 5 0 5 6 5 6 5 3 5 2 5 2 5-3 5 2 5 11 5 9 5 0 5 0 5 4 5 5 5 2 5 4 5 5 5 4 5 8 5 6 5 1 5-1 5 4 5 9 5 7 5 2 5 1 5 5 5 7 5 6 5 2 5 1 5 2 5 4 5 5 5 2 5-1 5 3 5 6 5 4 5-3 5-3 5 3 5 4 5 5 5 4 5-2 5-2 5 1 5 4 5-1 5-1 5 4 5 6 5 1 5-2 5-4 5-1 5 3 5 6 5 2 5-3 5-1 5 2 5 2 5-2 5-1 5 1 5 3 5 3 5 0 5-3 5-1 5 3 5 4 5-1 5-4 5-1 5 3 5 5 5 1 5-2 5-2 5 1 5 2 5 0 5-1 5 1 5 4 5 4 5-1 5-6 5-2 5 4 5 5 5 2 5 0 5-1 5-1 5 1 5 1 5-1 5 0 5 6 5 5 5-2 5-4 5-2 5 1 5 4 5 3 5 0 5-2 5 1 5 4 5 0 5-4 5 0 5 3 5 3 5 1 5-2 5-1 5 2 5 4 5 1 5-3 5-3 5 2 5 5 5 3 5 0 5-2 5 1 5 1 5 0 5-1 5 1 5 4 5 5 5 3 5-3 5-5 5 1 5 5 5 4 5 1 5 0 5 2 5 2 5 0 5-1 5-1 5 2 5 6 5 3 5-3 5-3 5 3 5 3 5 2 5-1 5-2 5-1 5 4 5 4 5 0 5-3 5 1 5 3 5 0 5-4 5-1 5 3 5 5 5 3 5-2 5-5 5-2 5 2 5 4 5 1 5-1 5 1 5 2 5 0 5-4 5-3 5 2 5 5 5 3 5-1 5-3 5-3 5 3 5 3 5 0 5-3 5 1" stroke="#00f2ff"/>
<path d="M145 305l5-10 5-13 5-13 5-12 5-8 5-6 5-15 5-12 5-7 5-10 5-7 5-5 5-6 5 0 5 2 5 5 5-1 5-4 5 7 5 4 5 5 5 9 5 2 5 2 5 2 5 3 5 2 5-1 5 10 5 11 5 3 5 6 5 0 5 0 5 5 5 6 5 7 5 3 5 6 5 10 5 1 5 1 5 3 5 3 5 8 5 7 5 5 5 2 5 1 5 7 5 3 5-1 5 2 5 1 5 3 5 5 5 2 5 0 5 1 5 4 5 3 5-4 5 0 5 2 5 3 5 6 5 2 5-2 5-2 5 0 5 2 5-1 5 1 5 6 5 3 5 2 5-2 5-6 5-1 5 2 5 6 5 2 5-1 5 2 5 0 5-2 5-1 5-2 5 1 5 5 5 4 5 1 5-5 5-1 5 2 5 0 5 2 5-1 5 0 5 2 5 2 5 0 5-1 5 0 5 2 5-2 5-2 5 1 5 2 5 5 5 2 5-2 5-4 5-1 5 3 5 2 5 0 5 3 5 2 5 2 5 1 5-4 5-4 5 0 5 6 5 7 5 1 5-1 5-2 5-2 5 1 5 1 5 1 5 3 5 5 5 3 5-3 5-3 5 1 5 1 5 3 5 3 5-1 5 1 5 3 5 2 5-1 5-2 5 2 5 2 5 1 5 2 5 0 5 2 5 3 5 2 5-2 5-3 5 1 5 4 5 3 5 3 5 0 5 0 5 1 5 0 5-3 5-2 5 3 5 9 5 3 5-1 5-4 5-5 5 0 5 5 5 2 5 1 5 0 5 3 5 0 5-4 5-1 5-1 5 2 5 4 5 2 5-1 5-1 5 0 5 1 5-3 5 1 5 2 5 1 5 2 5 0 5-2 5 1 5 2 5 2 5-4 5-2 5 2 5 3 5 5 5 1 5-4 5-2 5 0 5 1 5 0 5 0 5 5 5 4 5 0" stroke="#00f5ff"/>
<path d="M145 300l5-16 5-11 5-8 5-9 5-14 5-13 5-12 5-9 5-9 5-7 5-5 5-8 5-7 5 1 5 1 5-3 5 2 5 7 5 2 5 5 5 10 5 1 5-3 5 5 5 5 5 3 5 9 5 6 5-1 5 2 5 8 5 6 5 6 5 5 5 2 5 1 5 6 5 9 5 9 5 4 5 0 5 2 5 3 5 5 5 11 5 8 5 0 5 2 5 4 5 0 5 3 5 7 5 0 5-1 5 5 5 3 5 0 5 3 5 1 5-3 5 1 5 5 5 2 5 1 5 2 5 0 5 0 5 1 5 2 5 0 5-1 5 0 5 4 5 4 5 1 5-1 5-3 5-3 5 2 5 6 5 4 5 1 5-1 5-4 5-2 5 4 5 5 5 0 5 0 5 0 5-2 5 2 5 5 5 1 5-3 5-2 5-1 5 2 5 5 5 3 5-1 5-3 5-2 5 1 5 2 5 2 5 1 5 0 5-1 5 1 5 2 5-2 5-2 5 1 5 1 5 2 5 5 5 0 5-4 5-2 5 1 5 1 5 3 5 3 5-2 5-2 5 2 5 3 5 1 5 0 5-2 5-1 5 2 5 5 5 4 5 1 5-4 5-2 5 0 5 3 5 5 5 5 5-2 5-2 5 1 5 2 5 1 5 4 5 0 5-2 5 2 5 4 5 2 5 2 5 1 5-3 5-1 5 3 5 4 5 2 5 2 5 1 5-1 5-1 5 1 5 2 5 1 5 1 5 2 5 2 5-1 5-1 5 0 5-2 5 0 5 4 5 3 5-1 5-1 5-2 5-2 5 2 5 4 5-1 5-2 5 0 5-1 5 1 5 5 5 1 5-4 5-4 5-1 5 3 5 5 5 5 5-1 5-5 5-4 5 0 5 5 5 3 5 3 5 0 5-3 5-2 5 4 5 2 5-1 5 0 5 1 5 0 5 3 5 4 5-2 5-3" stroke="#00f9ff"/>
<path d="M145 303l5-12 5-16 5-13 5-5 5-8 5-16 5-11 5-5 5-9 5-7 5-4 5-9 5-7 5 3 5 5 5 0 5 2 5 5 5 3 5 3 5 8 5 2 5-2 5 2 5 8 5 4 5 5 5 5 5 0 5-1 5 7 5 8 5 3 5 5 5 5 5 3 5 3 5 5 5 2 5 1 5 6 5 8 5 6 5 4 5 2 5-1 5 1 5 8 5 8 5 4 5 1 5 0 5-1 5 2 5 4 5 2 5 2 5 3 5 4 5 1 5 0 5-2 5-1 5 4 5 7 5 5 5 0 5-4 5-2 5 1 5 4 5 5 5 2 5 0 5 0 5 0 5 2 5 0 5 0 5 1 5 4 5 3 5 1 5-2 5-3 5-1 5 4 5 5 5 2 5-1 5-3 5-2 5 2 5 3 5 1 5-2 5 0 5 1 5 2 5 0 5-1 5-3 5 0 5 4 5 3 5-1 5-3 5-2 5 0 5 4 5 4 5-1 5-4 5-1 5 2 5 3 5 3 5 1 5-4 5-2 5 3 5 4 5 0 5 1 5 0 5 0 5 2 5 3 5-2 5-2 5 2 5 5 5 3 5 2 5-2 5-4 5-1 5 5 5 6 5 2 5 0 5-1 5-3 5 1 5 4 5 1 5 0 5 4 5 2 5-1 5-1 5-1 5-2 5 2 5 7 5 4 5-2 5-3 5-2 5-1 5 3 5 6 5 1 5-1 5 0 5 0 5-2 5 0 5 1 5 0 5 4 5 4 5-1 5-4 5-3 5 0 5 2 5 6 5 3 5-3 5-4 5 1 5 1 5 1 5 2 5 1 5-1 5 2 5 3 5-1 5-3 5 0 5 2 5 3 5 4 5 1 5-4 5-2 5 3 5 4 5 2 5 1 5-2 5-2 5 2 5 5 5 1 5-1 5-2 5 0 5 2 5 4 5 1 5-2 5-2 5 1" stroke="#00fdff"/>
<path d="M145 316l5-12 5-14 5-13 5-7 5-13 5-11 5-9 5-14 5-6 5-6 5-5 5-4 5-9 5-1 5 1 5 0 5 9 5 5 5 3 5 2 5-1 5 6 5 2 5 2 5 8 5 0 5 4 5 5 5 3 5 6 5 1 5 3 5 7 5 2 5 8 5 6 5 2 5 4 5 1 5 6 5 7 5 3 5 9 5 2 5 1 5 5 5 4 5 6 5 4 5 2 5 6 5-1 5 2 5 4 5 0 5 2 5 2 5 4 5 4 5 0 5 2 5 0 5-2 5 3 5 3 5 3 5 2 5 0 5 1 5-1 5 0 5 4 5 1 5 1 5 2 5 0 5 1 5-1 5 0 5 1 5 0 5 2 5 3 5 0 5 0 5-3 5 0 5 1 5 0 5 4 5 0 5-2 5 0 5-1 5 1 5 1 5 0 5 2 5-2 5 0 5 1 5-2 5 0 5 0 5 0 5 3 5 0 5 1 5-1 5-4 5 0 5 2 5 2 5 3 5 0 5 1 5-2 5-2 5 3 5 1 5 1 5 1 5 1 5 2 5 0 5 0 5 2 5-2 5 1 5 3 5 2 5 3 5-1 5 0 5-1 5 0 5 5 5 4 5 0 5 0 5-1 5 0 5 2 5 3 5 4 5 0 5-1 5 2 5 0 5 2 5 1 5 1 5 1 5 0 5 4 5 3 5-1 5 0 5-2 5 0 5 4 5 4 5 4 5-1 5-4 5 0 5 0 5 3 5 3 5 1 5 0 5-3 5 0 5 3 5 0 5 0 5-1 5-1 5 2 5 1 5 2 5-1 5-4 5 0 5 1 5 3 5 3 5-1 5-2 5-4 5-1 5 5 5 3 5 1 5 0 5-4 5-1 5 1 5 3 5 3 5-2 5-1 5 1 5 0 5 3 5 0 5-1 5-2 5 0 5 5 5 4 5 0 5-1 5-4 5-2 5 3" stroke="#01fffe"/>
<path d="M145 289l5-18 5-9 5-10 5-14 5-9 5-8 5-14 5-11 5-7 5-9 5-7 5-3 5-5 5-2 5 0 5 0 5 4 5 5 5 4 5 7 5 5 5-1 5 2 5 5 5 1 5 5 5 12 5 4 5 1 5 7 5 0 5 0 5 9 5 9 5 5 5 8 5 5 5-1 5 1 5 6 5 5 5 8 5 9 5 4 5 2 5 1 5 1 5 6 5 6 5 5 5 6 5 2 5-4 5 0 5 2 5 2 5 5 5 7 5 0 5-1 5 0 5-2 5 0 5 6 5 5 5 1 5 1 5-1 5-3 5 0 5 3 5 3 5 4 5 1 5-1 5-2 5-1 5 1 5 3 5 4 5 1 5 0 5-1 5-3 5 1 5 3 5 2 5 2 5 2 5-3 5-3 5 2 5 1 5 2 5 4 5 0 5-4 5-1 5-1 5 0 5 4 5 4 5 0 5-2 5-3 5-2 5 1 5 3 5 3 5 2 5-1 5-4 5-1 5 0 5 2 5 5 5 4 5-2 5-2 5-1 5-3 5 3 5 6 5 3 5 1 5 0 5-4 5-3 5 3 5 5 5 4 5 4 5 0 5-4 5-3 5 0 5 3 5 6 5 5 5 2 5-2 5-4 5-4 5 2 5 5 5 5 5 6 5 0 5-5 5-4 5-1 5 1 5 6 5 8 5 1 5-2 5-4 5-4 5-1 5 5 5 6 5 4 5 1 5-4 5-5 5-2 5 2 5 5 5 6 5 1 5-2 5-4 5-4 5 0 5 5 5 4 5 2 5 1 5-4 5-5 5 0 5 4 5 3 5 4 5 2 5-4 5-4 5 0 5 0 5 4 5 5 5 2 5-2 5-2 5-3 5 0 5 4 5 4 5 2 5 0 5-2 5-2 5 0 5 1 5 3 5 4 5 0 5-2 5-1 5-1 5-1 5 5 5 3 5 0 5 0 5-2" stroke="#05fffa"/>
<path d="M145 294l5-12 5-10 5-12 5-15 5-9 5-11 5-12 5-7 5-4 5-11 5-7 5-4 5-8 5-3 5 5 5 2 5 1 5 7 5 6 5 0 5 3 5 5 5 1 5 3 5 7 5 4 5 3 5 6 5 3 5 2 5 5 5 5 5 5 5 6 5 5 5 5 5 3 5 3 5 3 5 6 5 5 5 6 5 6 5 4 5 1 5 4 5 5 5 2 5 5 5 6 5 1 5 1 5 3 5 0 5 0 5 4 5 4 5 0 5 3 5 1 5-1 5 0 5 4 5 1 5 1 5 3 5 0 5 0 5 1 5 1 5 0 5 2 5 2 5 0 5 1 5 1 5 1 5 0 5 1 5 0 5 2 5 1 5 1 5 2 5 0 5-1 5 1 5 1 5 0 5 2 5 3 5 0 5-1 5 1 5-1 5 0 5 2 5 3 5 1 5 1 5 0 5-3 5-2 5 2 5 3 5 2 5 4 5-1 5-3 5-2 5-1 5 1 5 4 5 5 5 1 5-2 5-3 5-3 5 1 5 3 5 4 5 3 5 1 5-4 5-3 5-1 5 1 5 5 5 5 5 1 5-2 5-2 5-4 5-2 5 5 5 5 5 3 5 2 5-1 5-6 5-3 5 2 5 4 5 5 5 5 5-1 5-4 5-3 5 0 5 1 5 6 5 5 5 0 5-1 5-3 5-2 5 1 5 4 5 5 5 3 5 1 5-3 5-2 5-1 5 1 5 5 5 5 5 2 5-1 5-2 5-3 5-1 5 4 5 4 5 2 5 1 5-1 5-3 5 0 5 2 5 2 5 1 5 3 5-1 5-2 5 1 5 0 5 0 5 3 5 2 5-1 5 0 5 0 5-1 5 1 5 2 5 1 5 1 5 0 5-1 5 0 5 1 5 1 5 1 5 0 5 0 5 0 5 1 5 1 5 1 5 1 5-1 5-2 5 1 5 1 5 0" stroke="#09fff6"/>
<path d="M145 274l5-16 5-11 5-10 5-16 5-11 5-7 5-9 5-7 5-8 5-8 5-9 5-11 5-1 5 6 5 2 5 4 5 5 5-1 5 1 5 2 5 7 5 8 5 2 5 4 5 5 5-2 5 3 5 9 5 6 5 5 5 3 5 5 5 7 5 2 5 6 5 9 5 0 5 2 5 7 5 6 5 7 5 6 5 4 5 3 5-1 5 4 5 11 5 5 5 5 5 3 5-2 5-2 5 2 5 5 5 8 5 2 5 0 5 0 5-3 5 0 5 5 5 4 5 2 5 0 5-1 5 1 5 0 5 1 5 4 5-1 5-2 5 1 5 2 5 2 5 2 5 0 5-1 5-3 5 0 5 5 5 4 5 1 5 1 5-3 5-3 5 0 5 3 5 6 5 3 5-1 5-1 5-2 5-1 5 3 5 3 5 2 5 1 5-1 5 1 5 0 5 0 5 3 5 1 5-1 5 1 5 1 5 1 5 1 5-1 5 1 5 0 5-1 5 4 5 2 5-1 5 0 5-1 5-1 5 1 5 1 5 4 5 1 5-2 5 0 5-1 5-2 5 1 5 3 5 2 5 1 5 0 5 0 5-1 5-3 5 1 5 3 5 1 5 3 5 2 5-1 5-2 5-1 5 0 5 3 5 2 5 3 5 2 5-2 5-1 5 1 5 1 5 2 5 2 5 1 5 1 5-1 5 2 5 3 5 0 5 0 5 1 5 1 5 1 5 2 5 2 5 1 5-3 5 0 5 2 5 2 5 3 5 2 5-2 5-3 5-2 5 1 5 5 5 2 5 2 5 0 5-5 5-3 5 1 5 3 5 3 5 2 5-1 5-1 5-2 5 0 5 3 5 0 5 0 5 0 5 0 5 2 5 2 5 1 5 1 5-3 5-3 5 3 5 3 5 3 5 4 5-1 5-3 5-3 5 0 5 5 5 5 5 1 5 2 5-4 5-3 5 1" stroke="#0cfff3"/>
<path d="M145 304l5-6 5-14 5-15 5-9 5-12 5-15 5-8 5-3 5-8 5-12 5-7 5-7 5-7 5-1 5 6 5 3 5 0 5 2 5 3 5 1 5 5 5 6 5 4 5 2 5 1 5 1 5 2 5 8 5 6 5 4 5 4 5 3 5-1 5 2 5 9 5 9 5 3 5 4 5 4 5-1 5 1 5 8 5 10 5 5 5 4 5 5 5 0 5-2 5 6 5 9 5 4 5 3 5 3 5-1 5-4 5 2 5 7 5 5 5 3 5 3 5 0 5-4 5 0 5 4 5 6 5 4 5 2 5 0 5-2 5-1 5 1 5 4 5 5 5 3 5 0 5-2 5-1 5 0 5 2 5 4 5 3 5 0 5-2 5 0 5 0 5-1 5 3 5 4 5 0 5-2 5 0 5 0 5-2 5 1 5 3 5 1 5-2 5-1 5 1 5-2 5 0 5 2 5 1 5-2 5-1 5 1 5 0 5-1 5 1 5 1 5-1 5-1 5 1 5 0 5 1 5 1 5 1 5-1 5-1 5 0 5 1 5 2 5 2 5 1 5-1 5 0 5 0 5 0 5 3 5 4 5 0 5-1 5 0 5 0 5 0 5 3 5 5 5 2 5-1 5 0 5 0 5-1 5 2 5 5 5 3 5 0 5 0 5 0 5-1 5 0 5 4 5 4 5 1 5 0 5 0 5-1 5-1 5 3 5 3 5 2 5 1 5 0 5-1 5-1 5 1 5 2 5 2 5 2 5 1 5-2 5-1 5-1 5 1 5 1 5 3 5 1 5-1 5-2 5 0 5-1 5 0 5 3 5 3 5-2 5 0 5 0 5-2 5-1 5 2 5 4 5 0 5-1 5 1 5-1 5-3 5 2 5 4 5 1 5 0 5 1 5-1 5-2 5 1 5 3 5 1 5 1 5 1 5 0 5-1 5 0 5 1 5 2 5 1 5 2 5 0 5-1" stroke="#10ffef"/>
<path d="M145 283l5-8 5-15 5-13 5-9 5-10 5-8 5-12 5-11 5-3 5-12 5-10 5-2 5-3 5 2 5-1 5 3 5 7 5-3 5 3 5 7 5 2 5 5 5 2 5 4 5 6 5-2 5 4 5 7 5 2 5 6 5 5 5 6 5 5 5-1 5 6 5 6 5 2 5 8 5 5 5 6 5 3 5 0 5 7 5 6 5 2 5 8 5 4 5 4 5 3 5 0 5 6 5 2 5 0 5 4 5 3 5 2 5 3 5 1 5 3 5-1 5-1 5 5 5 2 5 3 5 2 5 0 5 1 5-2 5 0 5 5 5 3 5 1 5 1 5-2 5 1 5-1 5 2 5 4 5 0 5 0 5 0 5 0 5 2 5-1 5 1 5 1 5-2 5 1 5 3 5 2 5 0 5-2 5-1 5 0 5-1 5 4 5 3 5 0 5-2 5-4 5 0 5 2 5 0 5 4 5 1 5-3 5-1 5-1 5 2 5 2 5-1 5 2 5-1 5-1 5 2 5 1 5 2 5-2 5-2 5 2 5 1 5 2 5 4 5 0 5-2 5-3 5-1 5 6 5 3 5 2 5 1 5-3 5-2 5 0 5 3 5 6 5 1 5-1 5 0 5-1 5 2 5 3 5 2 5 2 5-3 5 1 5 3 5 2 5 3 5 0 5-2 5 0 5-1 5 5 5 6 5 0 5 0 5-3 5-2 5 2 5 3 5 6 5 3 5-4 5-2 5-1 5 2 5 3 5 2 5 2 5-2 5-3 5 2 5 2 5 2 5 0 5-3 5 0 5 0 5 1 5 5 5 1 5-3 5-4 5-2 5 3 5 3 5 3 5 2 5-4 5-5 5-1 5 2 5 5 5 2 5-1 5-1 5-4 5-1 5 3 5 3 5 2 5-3 5-2 5 2 5 0 5 3 5 2 5-2 5-3 5-2 5 3 5 6 5 0 5 1 5-3" stroke="#14ffeb"/>
<path d="M145 293l5-10 5-10 5-6 5-9 5-19 5-16 5-7 5-7 5-6 5-5 5-9 5-12 5-4 5 3 5 1 5 2 5 6 5 2 5 2 5 6 5 3 5-1 5 4 5 7 5 4 5 4 5 5 5 2 5 0 5 6 5 7 5 5 5 6 5 6 5 2 5 2 5 5 5 5 5 6 5 8 5 6 5 1 5 1 5 4 5 5 5 9 5 10 5 3 5-3 5-1 5 4 5 6 5 7 5 5 5-3 5-3 5 1 5 5 5 5 5 4 5 0 5-3 5 1 5 4 5 3 5 0 5 0 5 0 5 3 5 3 5 2 5-2 5-3 5 1 5 4 5 5 5 2 5-3 5-4 5-1 5 3 5 5 5 3 5 0 5-4 5-2 5 0 5 2 5 3 5 3 5 0 5-3 5-2 5-1 5 1 5 3 5 3 5 0 5-3 5-3 5-2 5 3 5 4 5 2 5-1 5-4 5-2 5 1 5 3 5 2 5-1 5-1 5-1 5 1 5 2 5 0 5-1 5-2 5 3 5 4 5 1 5-2 5-3 5-2 5 3 5 6 5 4 5-2 5-5 5-3 5 1 5 7 5 6 5 0 5-4 5-3 5-1 5 4 5 5 5 3 5-1 5-1 5-1 5 1 5 2 5 3 5 2 5 1 5 1 5-1 5-1 5 1 5 4 5 2 5 2 5 0 5-1 5-1 5 3 5 3 5 0 5 1 5 2 5 1 5 0 5 1 5 0 5-1 5 3 5 4 5 2 5-1 5-3 5-3 5 1 5 7 5 5 5-1 5-5 5-4 5-1 5 5 5 8 5 1 5-5 5-4 5-2 5 2 5 6 5 4 5-3 5-3 5 0 5 0 5 1 5 3 5 0 5-2 5 1 5 2 5-1 5-1 5 0 5 1 5 1 5 3 5 0 5-3 5-1 5 1 5 0 5 2 5 3 5 0 5-3 5-1" stroke="#17ffe8"/>
<path d="M145 282l5-12 5-11 5-8 5-7 5-12 5-13 5-12 5-14 5-10 5-1 5-4 5-7 5 0 5-1 5-6 5 1 5 6 5 4 5 6 5 9 5 2 5 0 5 2 5 1 5 5 5 7 5 4 5 5 5 8 5 1 5 3 5 8 5 3 5 2 5 8 5 6 5 2 5 8 5 7 5 3 5 4 5 4 5 1 5 5 5 7 5 7 5 8 5 5 5-1 5 0 5 2 5-1 5 5 5 9 5 4 5 0 5 1 5-2 5-4 5 3 5 5 5 3 5 4 5 2 5-3 5-2 5 0 5 0 5 3 5 4 5 0 5 1 5 0 5-3 5 1 5 2 5 0 5 0 5 2 5 0 5-1 5 2 5 2 5-1 5 0 5-1 5-1 5 2 5 2 5 2 5 3 5-1 5-4 5-1 5 1 5 1 5 4 5 4 5 0 5-2 5-1 5-2 5 0 5 4 5 3 5 2 5 1 5-2 5-2 5 0 5 2 5 2 5 4 5 1 5-2 5 0 5 0 5 0 5 3 5 3 5 0 5-1 5 1 5-1 5 0 5 3 5 2 5 0 5 0 5-1 5-1 5 2 5 1 5 2 5 2 5-1 5-3 5 1 5 1 5 0 5 3 5 2 5-2 5-1 5 0 5 0 5 1 5 3 5 1 5-1 5-1 5-1 5 0 5 3 5 2 5 2 5 1 5-3 5-2 5 1 5 3 5 2 5 4 5 1 5-3 5-1 5-1 5 1 5 3 5 5 5 1 5 0 5-1 5-3 5 0 5 3 5 2 5 3 5 3 5-1 5-2 5 1 5 0 5 0 5 3 5 2 5 0 5 0 5 2 5 0 5 1 5 1 5-1 5 0 5 1 5 0 5 3 5 3 5 0 5-1 5-1 5-3 5 0 5 4 5 4 5 1 5 2 5-3 5-5 5-1 5 1 5 3 5 5 5 2 5-1 5-3" stroke="#1bffe4"/>
<path d="M145 291l5-9 5-12 5-17 5-11 5-6 5-13 5-11 5-6 5-10 5-9 5-6 5-8 5-7 5 0 5 4 5 8 5 3 5-2 5 2 5 1 5 1 5 11 5 8 5-1 5 3 5 5 5-1 5 3 5 6 5 6 5 8 5 7 5 3 5 2 5-1 5 4 5 12 5 7 5 2 5 6 5 3 5 1 5 8 5 6 5 2 5 5 5 7 5 4 5 4 5 1 5 3 5 4 5 2 5 2 5 3 5-1 5 2 5 8 5 3 5-2 5-1 5-1 5 2 5 6 5 4 5 2 5-1 5-1 5 0 5 1 5-1 5 3 5 6 5 2 5 0 5-2 5-5 5-1 5 5 5 5 5 2 5 0 5-3 5-1 5 1 5 0 5 2 5 1 5 0 5 3 5 0 5-4 5-1 5 2 5 1 5 1 5 1 5-3 5-1 5 3 5 2 5 0 5-3 5-3 5 1 5 3 5 1 5 3 5-1 5-3 5 0 5 0 5-2 5 1 5 4 5 4 5 1 5-3 5-5 5-2 5 2 5 6 5 5 5-1 5-3 5-1 5 0 5-1 5 3 5 2 5 1 5 3 5 1 5-3 5-1 5 0 5 4 5 4 5 0 5-1 5 1 5 0 5 3 5 4 5-2 5-2 5 2 5 2 5 3 5 2 5 0 5 0 5 0 5 0 5 1 5 1 5 2 5 5 5 4 5-3 5-4 5-1 5 1 5 5 5 7 5 0 5-2 5-2 5-1 5 1 5 1 5 2 5 3 5 2 5 0 5-1 5-4 5-2 5 4 5 5 5 1 5-1 5-2 5-2 5 2 5 2 5 0 5-1 5-1 5 1 5 3 5 0 5-1 5 0 5 0 5-1 5 2 5-1 5-1 5 4 5 3 5-1 5-3 5-4 5 0 5 4 5 5 5 2 5-1 5-4 5-2 5 1 5 0 5 1 5 4 5 2" stroke="#1fffe0"/>
<path d="M145 287l5-10 5-14 5-15 5-15 5-10 5-5 5-4 5-10 5-14 5-11 5-4 5-3 5-1 5 4 5 0 5-4 5 2 5 11 5 7 5 1 5 2 5 4 5-1 5 2 5 11 5 8 5 0 5 0 5 6 5 5 5 3 5 8 5 7 5 3 5 1 5 5 5 6 5 5 5 5 5 5 5 5 5 3 5 3 5 4 5 8 5 6 5 4 5 2 5 2 5 2 5 2 5 6 5 6 5 1 5-4 5 0 5 4 5 4 5 4 5 4 5-2 5-5 5 0 5 7 5 5 5 1 5-1 5-2 5-3 5 3 5 6 5 5 5-2 5-5 5-2 5 2 5 5 5 4 5 0 5-3 5-3 5 0 5 4 5 5 5 1 5-3 5-3 5 0 5 2 5 2 5 3 5 0 5-3 5-2 5 2 5 2 5 0 5 2 5 1 5-2 5-3 5 2 5 2 5 1 5 0 5 1 5-1 5-3 5 1 5 3 5 3 5 0 5-1 5-2 5-1 5 2 5 4 5 3 5-1 5-4 5-2 5 2 5 5 5 3 5 0 5-2 5-4 5-1 5 5 5 7 5 1 5-5 5-3 5 1 5 2 5 5 5 4 5-1 5-5 5-2 5 4 5 5 5 2 5 1 5-2 5-3 5 0 5 5 5 5 5 0 5-2 5-1 5 0 5 2 5 3 5 2 5 0 5-1 5-1 5 1 5 2 5 2 5 1 5 1 5 0 5-1 5-1 5 3 5 4 5 0 5 0 5-1 5-1 5-1 5 3 5 5 5 1 5-4 5-2 5 0 5 2 5 4 5 4 5-2 5-5 5-2 5 3 5 5 5 3 5-1 5-3 5-4 5 1 5 5 5 5 5 1 5-4 5-4 5 1 5 4 5 4 5 1 5-1 5-4 5-2 5 3 5 6 5 2 5-3 5-2 5 0 5 0 5 2 5 4 5 1 5-3" stroke="#22ffdd"/>
<path d="M145 283l5-12 5-8 5-12 5-18 5-10 5-7 5-9 5-8 5-10 5-8 5-4 5-8 5-2 5-1 5-3 5 5 5 9 5 6 5 2 5-6 5 1 5 9 5 5 5 6 5 3 5-2 5 3 5 5 5 7 5 6 5-1 5 2 5 11 5 6 5 3 5 1 5 0 5 7 5 8 5 7 5 6 5-1 5-1 5 8 5 8 5 7 5 3 5 1 5 4 5 4 5 1 5 5 5 1 5 1 5 5 5 4 5 2 5-1 5-1 5 4 5 4 5 2 5 4 5 1 5-1 5 0 5 1 5 3 5 4 5 1 5 1 5 0 5-2 5 2 5 3 5 2 5 1 5-1 5 1 5 3 5-1 5 0 5-1 5 1 5 4 5 3 5 0 5-3 5-5 5 1 5 6 5 4 5-1 5-4 5-3 5 2 5 3 5 1 5-1 5-3 5 0 5 5 5 1 5-3 5-4 5-1 5 5 5 5 5 0 5-4 5-5 5-1 5 6 5 4 5 1 5-4 5-3 5 3 5 3 5-1 5 0 5 0 5 1 5 3 5 1 5-1 5-3 5-1 5 4 5 5 5 1 5-1 5-2 5-1 5 2 5 2 5 3 5 2 5-2 5 0 5 1 5 0 5 1 5 2 5 2 5 2 5-1 5 1 5 1 5-1 5 0 5 2 5 2 5 3 5 1 5-2 5-2 5-1 5 4 5 6 5 1 5-2 5-3 5 0 5 4 5 3 5-1 5 0 5-1 5 2 5 4 5-1 5-3 5-2 5 3 5 7 5 2 5-4 5-3 5-2 5 3 5 6 5 3 5-2 5-4 5-2 5 5 5 3 5-1 5-2 5 1 5 3 5 3 5-1 5-3 5-2 5 1 5 6 5 4 5-2 5-4 5-2 5 2 5 4 5 2 5 0 5-1 5-2 5 1 5 2 5-1 5 1 5 0 5 2 5 2 5-3" stroke="#26ffd9"/>
<path d="M145 303l5-16 5-14 5-17 5-13 5-2 5-7 5-13 5-9 5-7 5-12 5-8 5-4 5-7 5 2 5 9 5 2 5-4 5 2 5 3 5 3 5 10 5 6 5-2 5 3 5 6 5 0 5 1 5 6 5 5 5 7 5 9 5 2 5-3 5 3 5 8 5 7 5 6 5 5 5 2 5 3 5 6 5 2 5 2 5 6 5 9 5 7 5 3 5 0 5 0 5 3 5 6 5 5 5 1 5 1 5 2 5 3 5 0 5 0 5 1 5 4 5 5 5 4 5-3 5-3 5 2 5 3 5 3 5 2 5 0 5 0 5 3 5 2 5-3 5-1 5 3 5 4 5 2 5 1 5-3 5-2 5 3 5 4 5-1 5 0 5 1 5 0 5 2 5 1 5-4 5 0 5 4 5 3 5-1 5-1 5-2 5 0 5 3 5 2 5-4 5 0 5 2 5 2 5 0 5-1 5-3 5 0 5 5 5 1 5-2 5-1 5 1 5 1 5 2 5-1 5-3 5 1 5 5 5 1 5-1 5-2 5 0 5 1 5 4 5 0 5-2 5 1 5 3 5 1 5-1 5-2 5 0 5 3 5 5 5 1 5-3 5-1 5 1 5 3 5 1 5 0 5 1 5 2 5 3 5 0 5-3 5-2 5 4 5 5 5 2 5-1 5-2 5-1 5 2 5 2 5 0 5 0 5 3 5 3 5-1 5-2 5-2 5 0 5 5 5 5 5-1 5-3 5 0 5 0 5 1 5 1 5 1 5 0 5 5 5 1 5-5 5-3 5 0 5 3 5 5 5 3 5-3 5-3 5 1 5 1 5-2 5 2 5 2 5 3 5 2 5 0 5-6 5-3 5 5 5 5 5 2 5 1 5-2 5-3 5 2 5 1 5-1 5 2 5 5 5 3 5-1 5-3 5-4 5 0 5 7 5 5 5 0 5-1 5-2 5-1 5 1 5 0" stroke="#2affd5"/>
<path d="M145 302l5-16 5-9 5-8 5-13 5-13 5-10 5-12 5-11 5-5 5-4 5-11 5-11 5-3 5 3 5-1 5-3 5 2 5 7 5 6 5 4 5 6 5 3 5-3 5 1 5 10 5 9 5 1 5 1 5 7 5 7 5 2 5 2 5 5 5 6 5 5 5 9 5 9 5 0 5-4 5 3 5 11 5 8 5 4 5 5 5 5 5 2 5 1 5 5 5 4 5 1 5 3 5 8 5 6 5-4 5-6 5 1 5 5 5 5 5 4 5 3 5-1 5-5 5 0 5 4 5 1 5-1 5 3 5 6 5 3 5-4 5-5 5-1 5 1 5 5 5 8 5 2 5-4 5-6 5 0 5 4 5 2 5 0 5 3 5 4 5 0 5-1 5-3 5-3 5 0 5 5 5 9 5 3 5-5 5-6 5-1 5 2 5 3 5 3 5 3 5 0 5-1 5 0 5-1 5-3 5-2 5 6 5 8 5 2 5-4 5-5 5-3 5 1 5 4 5 5 5 2 5-2 5-2 5 1 5 0 5-3 5-1 5 4 5 5 5 3 5-2 5-5 5-4 5-1 5 5 5 7 5 1 5-4 5-2 5 1 5 0 5-1 5 0 5 2 5 3 5 3 5 1 5-3 5-5 5-1 5 5 5 7 5 1 5-3 5-2 5 0 5 1 5 2 5 2 5 0 5 0 5 3 5 3 5-1 5-4 5 0 5 4 5 5 5 2 5-1 5-2 5-1 5 2 5 5 5 2 5-1 5-2 5 3 5 3 5 1 5-1 5-2 5 2 5 3 5 3 5 1 5-3 5-2 5 2 5 5 5 2 5-2 5-3 5 1 5 3 5 3 5 1 5-2 5-2 5 1 5 3 5 2 5-2 5-1 5 1 5 3 5 1 5-1 5-4 5-1 5 3 5 4 5 3 5-3 5-4 5-1 5 2 5 2 5 1 5-1 5 0 5 1" stroke="#2dffd2"/>
<path d="M145 315l5-21 5-12 5-8 5-12 5-10 5-10 5-15 5-11 5-2 5-6 5-13 5-10 5-7 5-6 5 7 5 9 5 0 5-2 5 3 5 1 5 4 5 10 5 6 5-2 5 4 5 7 5 2 5 5 5 7 5-1 5 1 5 11 5 8 5 5 5 6 5 3 5-2 5 4 5 11 5 5 5 5 5 7 5 2 5 2 5 7 5 5 5 1 5 5 5 5 5 3 5 4 5 5 5-1 5-2 5 2 5 2 5 1 5 5 5 4 5 0 5 0 5 0 5-1 5 0 5 3 5 3 5 1 5 2 5 0 5-1 5-1 5 2 5 0 5 0 5 2 5 1 5 2 5 2 5 0 5-3 5-2 5 1 5 2 5 4 5 3 5 0 5-4 5-2 5 1 5 3 5 2 5 1 5-1 5-1 5 2 5 3 5 0 5-3 5-2 5 0 5 3 5 6 5 3 5-3 5-4 5-3 5 2 5 4 5 5 5 0 5-3 5-1 5 2 5 2 5 2 5-2 5-3 5 0 5 5 5 5 5 1 5-2 5-5 5-4 5 4 5 7 5 3 5-1 5-3 5-3 5 0 5 5 5 2 5-3 5-1 5 1 5 2 5 4 5 3 5-4 5-6 5 0 5 4 5 5 5 4 5 0 5-6 5-2 5 2 5 3 5 2 5 1 5-2 5-1 5 4 5 4 5-2 5-1 5-2 5-1 5 3 5 7 5 2 5-2 5-2 5-2 5 0 5 4 5 4 5 0 5 0 5 2 5 0 5 0 5 2 5-1 5-2 5 2 5 4 5 2 5 2 5 0 5-3 5-2 5 2 5 2 5 2 5 4 5 1 5-2 5 0 5 0 5-1 5 1 5 3 5 2 5 0 5 1 5 0 5-1 5 0 5 1 5-1 5 1 5 3 5 2 5 1 5-1 5-2 5-3 5 0 5 4 5 3 5 1 5-1 5-2" stroke="#31ffce"/>
<path d="M145 296l5-13 5-10 5-13 5-15 5-11 5-7 5-11 5-9 5-7 5-12 5-12 5-2 5 0 5-5 5 0 5 1 5-2 5 3 5 13 5 7 5-3 5 0 5 3 5 1 5 8 5 13 5 2 5-6 5 2 5 8 5 6 5 10 5 9 5-3 5-4 5 8 5 11 5 6 5 7 5 3 5-3 5 2 5 11 5 10 5 4 5 3 5 1 5 1 5 5 5 8 5 5 5 1 5 0 5 0 5 2 5 4 5 3 5 3 5 2 5-1 5 1 5 2 5 2 5 1 5 4 5 3 5-2 5-1 5 1 5 1 5 4 5 4 5 1 5-5 5-2 5 3 5 4 5 4 5 3 5-5 5-6 5 1 5 7 5 4 5 2 5-2 5-7 5-4 5 7 5 8 5 1 5-3 5-5 5-5 5 2 5 9 5 5 5-4 5-6 5-4 5 1 5 6 5 6 5 0 5-7 5-4 5 0 5 5 5 5 5 1 5-4 5-4 5-1 5 3 5 4 5 2 5-1 5-3 5-1 5 0 5 3 5 3 5 1 5-2 5 0 5 0 5-1 5 2 5 4 5 0 5 0 5-1 5-2 5-1 5 5 5 6 5 0 5-3 5-1 5-2 5 1 5 8 5 6 5-4 5-5 5-1 5 2 5 5 5 8 5 0 5-7 5-4 5 2 5 6 5 7 5 3 5-5 5-7 5 0 5 7 5 7 5 3 5-3 5-7 5-2 5 5 5 8 5 3 5-2 5-5 5-3 5 3 5 5 5 4 5 0 5-4 5-3 5 1 5 4 5 3 5 0 5-1 5-2 5-1 5 3 5 2 5-1 5 1 5 1 5-2 5-1 5 2 5 1 5 0 5 3 5 1 5-4 5-2 5 3 5 2 5 2 5 3 5-2 5-6 5 0 5 5 5 4 5 1 5-1 5-5 5-3 5 4 5 8 5 2 5-3 5-5" stroke="#35ffca"/>
<path d="M145 280l5-9 5-9 5-10 5-5 5-10 5-18 5-16 5-8 5-6 5-4 5-2 5-3 5-6 5-7 5-3 5 5 5 7 5 6 5 8 5 5 5-4 5-2 5 5 5 4 5 3 5 8 5 7 5 2 5 1 5 3 5 4 5 5 5 3 5 6 5 9 5 3 5 3 5 6 5 4 5-1 5 4 5 8 5 5 5 7 5 8 5 4 5 0 5 0 5 2 5 6 5 7 5 5 5 6 5 1 5-5 5-3 5 5 5 5 5 5 5 8 5 2 5-4 5-4 5 1 5 2 5 6 5 6 5 3 5 0 5-4 5-3 5 2 5 4 5 3 5 4 5 1 5-3 5-2 5 2 5 1 5 1 5 2 5 1 5-1 5-1 5 1 5 2 5 0 5-1 5-1 5 0 5-1 5 1 5 3 5 2 5-3 5-3 5-1 5-1 5 1 5 4 5 2 5-1 5-3 5-3 5 0 5 1 5 2 5 3 5 2 5-4 5-2 5 0 5 1 5 1 5 3 5 1 5-1 5-1 5 0 5 1 5 2 5 1 5 0 5 0 5-1 5 1 5 4 5 2 5-1 5-1 5-1 5-2 5 2 5 5 5 4 5 1 5-2 5-3 5-2 5 0 5 5 5 6 5 4 5-2 5-4 5-2 5-2 5 2 5 7 5 5 5 0 5-2 5-3 5-3 5 0 5 4 5 6 5 3 5 0 5-2 5-2 5-1 5 0 5 4 5 4 5 1 5 0 5 1 5-1 5-1 5 1 5 2 5 0 5 2 5 3 5 2 5 0 5-1 5-2 5 0 5 0 5 3 5 7 5 3 5-2 5-3 5-3 5-2 5 2 5 7 5 6 5 1 5-3 5-4 5-4 5 0 5 4 5 7 5 4 5-1 5-4 5-4 5-3 5 1 5 6 5 5 5 0 5-1 5-3 5-4 5-1 5 3 5 3 5 3 5-2" stroke="#38ffc7"/>
<path d="M145 292l5-13 5-10 5-14 5-12 5-11 5-17 5-6 5-4 5-12 5-8 5-11 5-7 5-3 5-4 5 5 5 5 5-3 5 4 5 3 5 3 5 5 5 2 5 8 5 2 5-4 5 6 5 7 5 5 5 7 5 1 5 4 5 3 5 2 5 13 5 8 5 0 5 3 5 2 5 8 5 7 5 4 5 7 5 3 5 1 5 9 5 6 5 4 5 3 5 2 5 8 5 3 5 0 5 3 5 1 5 3 5 7 5 3 5 1 5-4 5-1 5 9 5 5 5 2 5-1 5-5 5 1 5 5 5 6 5 5 5-6 5-5 5 2 5 4 5 5 5 1 5-3 5-2 5-1 5 3 5 5 5-1 5-3 5 0 5 1 5 3 5-1 5-2 5 0 5 0 5 3 5 2 5-4 5-3 5-1 5 4 5 5 5-2 5-4 5-3 5-1 5 5 5 4 5 0 5-4 5-6 5 1 5 6 5 2 5 1 5-3 5-3 5 1 5 2 5 4 5 1 5-3 5 0 5 1 5 0 5 2 5 0 5 2 5 2 5-2 5 2 5 0 5-1 5 3 5 3 5 2 5-1 5-3 5 2 5 3 5 2 5 3 5-1 5-1 5 0 5 1 5 5 5 1 5 0 5 1 5 0 5-1 5 2 5 2 5 4 5 0 5-2 5 1 5-2 5 1 5 5 5 3 5-1 5-3 5-3 5 4 5 3 5 3 5 1 5-4 5-3 5 1 5 4 5 5 5-3 5-3 5 0 5 0 5 3 5 2 5-2 5 0 5-1 5 1 5 3 5-3 5-2 5 2 5 2 5 3 5-2 5-3 5 0 5 0 5 6 5 4 5-3 5-5 5-2 5 4 5 7 5 2 5-2 5-4 5-4 5 5 5 7 5 3 5-2 5-6 5 0 5 5 5 3 5 3 5-1 5-3 5 1 5 3 5 3 5 1 5-3 5 1" stroke="#3cffc3"/>
<path d="M145 281l5-11 5-14 5-14 5-12 5-8 5-11 5-8 5-8 5-13 5-7 5-4 5-8 5 0 5 0 5-5 5 6 5 6 5 5 5 6 5 0 5-1 5 5 5 8 5 6 5 2 5 1 5 1 5 5 5 13 5 5 5-1 5 3 5 2 5 9 5 13 5 1 5-1 5 3 5 4 5 11 5 9 5 0 5-2 5 3 5 10 5 9 5 5 5-1 5-5 5 6 5 10 5 4 5 0 5-4 5-3 5 8 5 8 5 1 5-2 5-4 5 1 5 7 5 6 5-1 5-4 5-1 5 3 5 5 5 5 5-3 5-4 5 1 5 3 5 5 5 3 5-3 5-3 5 2 5 3 5 5 5 1 5-3 5-2 5 2 5 4 5 4 5 0 5-2 5-3 5 2 5 6 5 2 5-1 5-3 5-4 5 5 5 5 5 1 5-2 5-6 5-1 5 6 5 5 5 0 5-6 5-4 5 2 5 6 5 4 5-4 5-7 5-1 5 4 5 6 5 2 5-8 5-5 5 2 5 5 5 5 5-2 5-8 5-2 5 4 5 7 5 1 5-5 5-5 5 0 5 6 5 6 5-3 5-4 5-2 5 1 5 8 5 3 5-4 5-2 5-1 5 5 5 6 5 0 5-3 5-1 5 2 5 4 5 3 5 1 5-2 5-1 5 4 5 2 5 3 5 1 5-3 5 0 5 4 5 2 5 3 5 0 5-2 5 0 5 3 5 3 5 2 5-1 5-2 5-1 5 3 5 5 5-1 5-2 5-2 5-1 5 6 5 3 5-3 5-3 5-2 5 2 5 6 5 0 5-3 5-4 5 0 5 4 5 4 5 0 5-5 5-3 5 4 5 4 5 2 5-2 5-5 5 0 5 6 5 2 5 0 5-2 5-3 5 3 5 5 5 1 5-2 5-2 5 1 5 3 5 3 5 1 5-3 5 0 5 3 5 1 5 2" stroke="#40ffbf"/>
<path d="M145 305l5-15 5-14 5-16 5-11 5-5 5-13 5-10 5-7 5-12 5-9 5-5 5-6 5-2 5-4 5-2 5 5 5 1 5 4 5 11 5 3 5 0 5 2 5-1 5 5 5 4 5 7 5 11 5 0 5-1 5 4 5 2 5 5 5 10 5 7 5 6 5 1 5-1 5 7 5 4 5 4 5 10 5 4 5 2 5 3 5 4 5 7 5 5 5 3 5 5 5 0 5-1 5 6 5 4 5 3 5 3 5 0 5-1 5-1 5 1 5 8 5 5 5 0 5 1 5-3 5-3 5 2 5 4 5 6 5 3 5-2 5-1 5-2 5-1 5 4 5 4 5 2 5 1 5-2 5-1 5 0 5 1 5 4 5 2 5-2 5-1 5 0 5 1 5 3 5 2 5 1 5-2 5-4 5 0 5 3 5 2 5 4 5 1 5-4 5-4 5-2 5 3 5 5 5 2 5 1 5-1 5-6 5-2 5 2 5 3 5 4 5 1 5-1 5-2 5-4 5 1 5 4 5 1 5 1 5 0 5-2 5-1 5 2 5 2 5 3 5-2 5-2 5 0 5-1 5 3 5 4 5 2 5-1 5-3 5-3 5 1 5 3 5 4 5 5 5-1 5-4 5-2 5-1 5 3 5 5 5 4 5 2 5-4 5-3 5 1 5 1 5 3 5 4 5 1 5-1 5-2 5-1 5 4 5 2 5 1 5 2 5-2 5-2 5 2 5 3 5 4 5 1 5-2 5-1 5-3 5 1 5 6 5 4 5 1 5-1 5-4 5-3 5 1 5 3 5 7 5 2 5-3 5-1 5-4 5-1 5 4 5 4 5 3 5 0 5-3 5-1 5 0 5 1 5 4 5 2 5-2 5-1 5-1 5 2 5 3 5 1 5 2 5-2 5-4 5 1 5 3 5 3 5 4 5 0 5-3 5-3 5-3 5 4 5 5 5 2 5 3 5-3" stroke="#43ffbc"/>
<path d="M145 291l5-12 5-17 5-12 5-5 5-10 5-15 5-12 5-9 5-4 5-7 5-11 5-7 5-3 5-3 5 4 5 6 5 0 5 1 5 5 5 4 5 4 5 2 5 2 5 5 5 3 5 2 5 7 5 5 5 0 5 5 5 7 5 4 5 5 5 5 5 4 5 5 5 4 5 6 5 8 5 2 5 1 5 8 5 7 5 4 5 5 5 4 5 3 5 5 5 5 5 5 5 3 5-2 5 3 5 6 5 3 5 0 5 2 5 1 5 2 5 4 5 2 5 1 5-1 5 0 5 4 5 3 5-1 5 0 5 1 5 0 5 2 5 2 5 0 5-2 5 0 5 1 5 3 5 0 5-2 5 0 5 1 5 0 5 3 5 1 5-3 5-2 5 2 5 3 5 1 5-2 5-2 5 1 5 1 5 2 5 2 5-3 5-3 5 2 5 5 5 2 5-3 5-3 5 0 5 5 5 3 5 0 5-3 5-3 5 3 5 7 5 1 5-4 5-3 5 1 5 6 5 4 5-3 5-4 5 0 5 3 5 6 5 1 5-6 5-3 5 4 5 6 5 1 5-4 5-4 5 2 5 4 5 3 5-1 5-5 5-2 5 5 5 5 5-1 5-4 5-2 5 3 5 5 5 0 5-3 5-1 5 0 5 3 5 4 5-2 5-3 5 1 5 3 5 3 5-1 5-2 5 1 5 3 5 1 5 1 5 0 5-1 5 2 5 4 5 0 5-2 5 1 5 3 5 3 5 0 5-3 5 2 5 4 5 2 5 0 5-1 5-2 5 4 5 5 5 0 5-4 5-1 5 3 5 6 5 0 5-4 5-2 5 3 5 4 5 4 5-3 5-6 5 1 5 6 5 5 5-2 5-7 5-1 5 6 5 5 5-1 5-4 5-5 5 3 5 8 5 2 5-5 5-6 5 1 5 8 5 5 5-5 5-6 5 0 5 4 5 7 5 0" stroke="#47ffb8"/>
<path d="M145 297l5-15 5-12 5-10 5-12 5-14 5-11 5-10 5-10 5-7 5-8 5-12 5-9 5-2 5-3 5-4 5 2 5 4 5 0 5 4 5 8 5 1 5-2 5 5 5 7 5 2 5 3 5 5 5 2 5 2 5 8 5 8 5 1 5 1 5 7 5 7 5 6 5 5 5 2 5 2 5 8 5 8 5 4 5 2 5 4 5 7 5 6 5 6 5 2 5 1 5 6 5 7 5 0 5 0 5 5 5 3 5 1 5 2 5 3 5 1 5 3 5 3 5 0 5-1 5 5 5 6 5-2 5-3 5 2 5 5 5 3 5-1 5-3 5 0 5 5 5 5 5-2 5-5 5 0 5 6 5 4 5-1 5-5 5-1 5 5 5 5 5-2 5-5 5 0 5 4 5 2 5-1 5-2 5-2 5 3 5 4 5-2 5-4 5 1 5 4 5 0 5-3 5 0 5 2 5 1 5 0 5-2 5-1 5 3 5 3 5-1 5-5 5 0 5 6 5 3 5-3 5-4 5 0 5 5 5 4 5-2 5-5 5 0 5 5 5 4 5-2 5-3 5-1 5 3 5 5 5 0 5-5 5-1 5 5 5 2 5-1 5-1 5 1 5 0 5 2 5 2 5-1 5-1 5 2 5 2 5-1 5 0 5 3 5 0 5-1 5 0 5 2 5 2 5 1 5-1 5-1 5 1 5 3 5 1 5-1 5 0 5 1 5 2 5 3 5 0 5-2 5 0 5 3 5 2 5 0 5 1 5 0 5-1 5 2 5 4 5 0 5-2 5 0 5 3 5 2 5 1 5 1 5-2 5-1 5 5 5 4 5-2 5-3 5 1 5 4 5 3 5 0 5-3 5-1 5 4 5 4 5-1 5-2 5 0 5 2 5 3 5 0 5-1 5-1 5 2 5 3 5-2 5-1 5 2 5 2 5-2 5 0 5 1 5 1 5 1 5 0 5-3" stroke="#4affb5"/>
<path d="M145 319l5-15 5-11 5-13 5-14 5-12 5-11 5-9 5-8 5-9 5-10 5-11 5-8 5-7 5-1 5 2 5 0 5 4 5 2 5 0 5 7 5 2 5 3 5 6 5-1 5 6 5 7 5 0 5 7 5 1 5 0 5 8 5 5 5 8 5 10 5 1 5 2 5 1 5 1 5 9 5 9 5 8 5 7 5 0 5 0 5 2 5 6 5 8 5 8 5 5 5 1 5 0 5 0 5 1 5 5 5 4 5 2 5 3 5-1 5 2 5 3 5-1 5 2 5 1 5-1 5 4 5 3 5 1 5 2 5-3 5-1 5 2 5 0 5 5 5 2 5-1 5 0 5-1 5 0 5 3 5 1 5 1 5 1 5-2 5 1 5 3 5 1 5 1 5-1 5-3 5 0 5 2 5 4 5 3 5 1 5-4 5-4 5-1 5 1 5 6 5 5 5-1 5-1 5-5 5-4 5 3 5 3 5 4 5 3 5-3 5-2 5-2 5-2 5 3 5 2 5 0 5 2 5-1 5 0 5 0 5-2 5 0 5 0 5 0 5 3 5 1 5 1 5-1 5-3 5-2 5 0 5 3 5 3 5 2 5-1 5-3 5-1 5 0 5 2 5 3 5 1 5-1 5 0 5-1 5 2 5 4 5 0 5 1 5-2 5-1 5 3 5 3 5 3 5 3 5-3 5-3 5 0 5 2 5 6 5 5 5 1 5 0 5-4 5-2 5 3 5 4 5 4 5 4 5-1 5-1 5-1 5 0 5 2 5 2 5 2 5 2 5 1 5 1 5-1 5 0 5-1 5 0 5 2 5 2 5 4 5 1 5-3 5-2 5-3 5 1 5 4 5 3 5 2 5 0 5-5 5-2 5 0 5 2 5 4 5 1 5-2 5-1 5-3 5 1 5 3 5 1 5 0 5-2 5-2 5 1 5 2 5 3 5 1 5-2 5-3 5-2 5 2" stroke="#4effb1"/>
<path d="M145 310l5-15 5-10 5-14 5-12 5-4 5-12 5-11 5-7 5-16 5-12 5-5 5-5 5 0 5 1 5 0 5-3 5-3 5 6 5 7 5 3 5 8 5 1 5-4 5 6 5 5 5 3 5 6 5 1 5 2 5 2 5 8 5 11 5 3 5 3 5 3 5-4 5 6 5 12 5 6 5 7 5 4 5 0 5 2 5 3 5 9 5 5 5 5 5 8 5 2 5 2 5 5 5-2 5-1 5 5 5 4 5 6 5 4 5 1 5-1 5-4 5 3 5 5 5 2 5 5 5 0 5-3 5 1 5 3 5 2 5 2 5-2 5-1 5-1 5 4 5 7 5 1 5-2 5-3 5-6 5 1 5 7 5 5 5 3 5-2 5-5 5-4 5-1 5 5 5 4 5 0 5 2 5-2 5-2 5 1 5-1 5-1 5 1 5 1 5 2 5 2 5 0 5-1 5-5 5 0 5 3 5 1 5 3 5 1 5-3 5 0 5 1 5 1 5 1 5-2 5-1 5 0 5 3 5 6 5 0 5-3 5-3 5-5 5 0 5 7 5 6 5 2 5-3 5-5 5-5 5 0 5 5 5 5 5 1 5 0 5-3 5-3 5 2 5 2 5 0 5 1 5 0 5 1 5 2 5 2 5 1 5-4 5-1 5 2 5 1 5 4 5 3 5-1 5-1 5 0 5 1 5 1 5 0 5 2 5 1 5 2 5 6 5 1 5-3 5-1 5-4 5 2 5 7 5 7 5 3 5-3 5-4 5-4 5 1 5 6 5 7 5 1 5 0 5-3 5-3 5 3 5 3 5 1 5 0 5-1 5 1 5 2 5 3 5 2 5-3 5-3 5 0 5 0 5 4 5 5 5-1 5-1 5-3 5-1 5 0 5 1 5 3 5 1 5 0 5 3 5-1 5-3 5-1 5-3 5 1 5 5 5 5 5 2 5-3 5-5 5-3 5-1" stroke="#52ffad"/>
<path d="M145 314l5-19 5-15 5-6 5-8 5-9 5-17 5-14 5-7 5-8 5-3 5-8 5-15 5-4 5-4 5 1 5 5 5-2 5 2 5 6 5 4 5 6 5 0 5 2 5 4 5 5 5 8 5-1 5 1 5 6 5 3 5 10 5 6 5-2 5 4 5 4 5 7 5 10 5 2 5 1 5 2 5 5 5 9 5 5 5 5 5 2 5 1 5 8 5 4 5 4 5 5 5-1 5 3 5 3 5-1 5 4 5 3 5 3 5 2 5-1 5 0 5 1 5 6 5 5 5-2 5-1 5-2 5 1 5 9 5 3 5-2 5-3 5-4 5 6 5 7 5 3 5-3 5-6 5 0 5 5 5 6 5 3 5-6 5-4 5 2 5 4 5 6 5-1 5-5 5-1 5 2 5 3 5 2 5-3 5-1 5 0 5 2 5 2 5-2 5-1 5-1 5 2 5 3 5-2 5-3 5 0 5 0 5 5 5 1 5-4 5-3 5 0 5 4 5 3 5 0 5-3 5-4 5 2 5 4 5 1 5 1 5-4 5-2 5 3 5 2 5 1 5 1 5-2 5 0 5 1 5 0 5 2 5 1 5 1 5 0 5-1 5 0 5 0 5 5 5 4 5-2 5-1 5-3 5 2 5 8 5 3 5-2 5-4 5-2 5 5 5 6 5 4 5-3 5-6 5 0 5 5 5 7 5 3 5-6 5-3 5 1 5 5 5 6 5 0 5-5 5-1 5 2 5 5 5 2 5-2 5-2 5 0 5 3 5 3 5-2 5 0 5-1 5 2 5 4 5-2 5-2 5-1 5 1 5 5 5 1 5-3 5-3 5-1 5 5 5 3 5 0 5-3 5-4 5 2 5 4 5 2 5 1 5-4 5-2 5 3 5 2 5 3 5-1 5-2 5 0 5 1 5 2 5 1 5 0 5 2 5-1 5-1 5 1 5 0 5 4 5 3 5-2" stroke="#55ffaa"/>
<path d="M145 282l5-13 5-11 5-10 5-16 5-13 5-5 5-11 5-11 5-6 5-6 5-7 5-6 5-7 5-2 5 0 5 2 5 10 5 9 5 0 5 0 5 4 5-1 5 3 5 8 5 5 5 5 5 5 5 5 5 3 5 0 5 0 5 7 5 10 5 6 5 9 5 6 5-3 5 0 5 6 5 4 5 7 5 8 5 6 5 6 5 3 5 0 5 2 5 1 5 3 5 10 5 8 5 1 5 0 5-1 5-3 5 2 5 5 5 3 5 4 5 2 5 2 5 1 5-2 5-3 5 2 5 3 5 4 5 5 5 2 5-4 5-3 5 1 5 1 5 3 5 2 5 1 5 1 5 1 5 0 5 0 5-1 5-1 5 4 5 3 5 1 5-1 5-1 5-1 5 2 5 2 5 1 5 0 5-2 5 0 5 3 5 1 5-1 5 1 5 0 5 0 5 1 5 0 5-1 5 0 5 2 5 3 5 2 5-2 5-3 5-1 5 0 5 3 5 5 5 0 5-1 5 0 5-1 5-1 5-1 5 0 5 2 5 4 5 4 5 0 5-3 5-6 5-1 5 3 5 4 5 3 5 3 5-2 5-2 5-1 5-2 5-1 5 2 5 3 5 6 5 3 5-3 5-3 5-4 5-2 5 4 5 7 5 2 5 0 5 0 5-2 5-2 5-1 5 0 5 2 5 4 5 4 5 2 5-2 5-5 5-2 5 2 5 3 5 4 5 3 5-1 5-2 5 0 5 0 5 0 5 0 5 1 5 4 5 3 5-1 5 0 5-2 5-2 5 2 5 5 5 1 5-1 5 0 5 0 5 1 5 2 5 0 5 1 5 0 5 0 5 3 5 1 5-1 5 1 5 2 5 1 5 2 5 0 5-2 5-1 5 3 5 4 5 3 5 0 5-2 5 0 5-1 5 1 5 3 5 2 5 0 5 3 5 2 5-1 5-3 5-2 5 0" stroke="#59ffa6"/>
<path d="M145 276l5-12 5-13 5-11 5-6 5-8 5-15 5-14 5-8 5-5 5-9 5-7 5-3 5-4 5-4 5 1 5 6 5 5 5 1 5 3 5 5 5 3 5 2 5 4 5 6 5 2 5 1 5 4 5 7 5 5 5 4 5 5 5 3 5 3 5 4 5 7 5 7 5 5 5 4 5 2 5 3 5 5 5 6 5 6 5 6 5 4 5 3 5 2 5 5 5 5 5 5 5 1 5 2 5 2 5 2 5 2 5 4 5 3 5 1 5-1 5 2 5 4 5 2 5 2 5 2 5 0 5-2 5 1 5 4 5 4 5 1 5-1 5 0 5-2 5-1 5 3 5 6 5 2 5-2 5-2 5-1 5-1 5 2 5 4 5 4 5-1 5-4 5-2 5 1 5 1 5 2 5 3 5 1 5-3 5-3 5 0 5 1 5 1 5 1 5 2 5 0 5-2 5-1 5 0 5 0 5 0 5 1 5 3 5 1 5 0 5-2 5-2 5-1 5 1 5 4 5 4 5 1 5-2 5-4 5-2 5 1 5 5 5 4 5 3 5-1 5-4 5-5 5 0 5 5 5 7 5 3 5-1 5-3 5-4 5-2 5 3 5 7 5 5 5 0 5-2 5-3 5-2 5 1 5 5 5 6 5 1 5-2 5-1 5-1 5-1 5 1 5 5 5 3 5 0 5-1 5 0 5-1 5-2 5 1 5 4 5 4 5 0 5 0 5-1 5-3 5-2 5 2 5 5 5 4 5 0 5-2 5-3 5-4 5 0 5 5 5 6 5 3 5-2 5-5 5-4 5-2 5 4 5 7 5 5 5-1 5-5 5-5 5-1 5 2 5 6 5 5 5 1 5-2 5-5 5-2 5 1 5 5 5 5 5 2 5-1 5-2 5-2 5-1 5 3 5 4 5 2 5 1 5 0 5 0 5-2 5 0 5 2 5 3 5 2 5 2 5 1 5-1" stroke="#5dffa2"/>
<path d="M145 281l5-13 5-4 5-7 5-15 5-14 5-14 5-13 5-6 5-3 5-6 5-9 5-11 5-7 5 3 5 4 5 2 5 6 5 3 5-2 5 5 5 9 5 3 5 3 5 2 5 1 5 4 5 7 5 6 5 8 5 3 5-1 5 5 5 7 5 3 5 8 5 9 5 3 5 2 5 6 5 2 5 3 5 6 5 7 5 7 5 6 5 2 5 2 5 2 5 2 5 6 5 8 5 2 5-1 5 0 5 0 5 2 5 6 5 4 5 0 5-1 5-1 5 3 5 5 5 2 5 0 5 0 5-3 5 1 5 6 5 5 5 1 5-3 5-4 5-2 5 4 5 7 5 5 5 0 5-5 5-4 5 1 5 4 5 4 5 4 5-1 5-4 5-2 5 2 5 2 5 2 5 1 5-2 5 0 5 0 5 1 5 1 5-1 5-2 5 0 5 1 5 0 5 2 5 0 5-2 5-2 5 0 5 0 5 1 5 1 5 0 5 1 5-1 5-2 5-1 5 0 5-1 5 3 5 4 5 0 5-3 5-2 5-3 5 1 5 5 5 5 5 1 5-3 5-5 5-1 5 3 5 4 5 4 5 1 5-4 5-3 5 3 5 3 5 3 5 2 5-2 5-2 5 1 5 4 5 5 5 1 5-3 5-3 5 1 5 3 5 5 5 5 5-2 5-5 5-2 5 1 5 4 5 6 5 2 5-1 5-3 5-2 5 1 5 4 5 2 5 1 5 1 5 0 5-2 5 2 5 1 5 0 5 1 5 2 5 1 5 1 5 0 5-1 5 1 5 1 5 1 5 2 5 1 5-2 5 2 5 2 5 0 5 1 5 0 5-2 5 1 5 4 5 3 5 2 5-3 5-4 5-1 5 3 5 5 5 5 5 1 5-6 5-5 5 0 5 4 5 5 5 4 5-2 5-4 5-4 5 0 5 5 5 4 5 0 5-2 5-2 5-2" stroke="#60ff9f"/>
<path d="M145 284l5-19 5-9 5-5 5-11 5-11 5-9 5-14 5-12 5-6 5-3 5-2 5-3 5-6 5-3 5 4 5 5 5 3 5 8 5 7 5-1 5-1 5 7 5 4 5 0 5 4 5 6 5 4 5 5 5 5 5 3 5 4 5 4 5 1 5 7 5 10 5 3 5 0 5 6 5 6 5 1 5 6 5 8 5 2 5 0 5 5 5 8 5 7 5 5 5-1 5-1 5 2 5 2 5 4 5 9 5 5 5-4 5-5 5 2 5 3 5 3 5 6 5 3 5-2 5-1 5 0 5 2 5 4 5 1 5-1 5 1 5 2 5 1 5 1 5 2 5 0 5-3 5 1 5 4 5 1 5 1 5 0 5 0 5 0 5 1 5 0 5 0 5 1 5 0 5 1 5 3 5 2 5-3 5-4 5 0 5 0 5 3 5 5 5 2 5-3 5-6 5-2 5 1 5 5 5 4 5 0 5-2 5-3 5-2 5 1 5 5 5 1 5-3 5-2 5 2 5 0 5 2 5 2 5-1 5-3 5-1 5 1 5 3 5 3 5 0 5-2 5 0 5-1 5-1 5 1 5 3 5 1 5-1 5 3 5 1 5-2 5-2 5 0 5 1 5 4 5 4 5 2 5-1 5-3 5-3 5 1 5 6 5 4 5 0 5 0 5-1 5-3 5 2 5 5 5 2 5-1 5-2 5 0 5 2 5 4 5 3 5-1 5-2 5-2 5 0 5 4 5 6 5 1 5-2 5-1 5-1 5-1 5 2 5 5 5 1 5-1 5 0 5 0 5 0 5 1 5-1 5 0 5 4 5 2 5 0 5 1 5-1 5-4 5 0 5 4 5 4 5 0 5 0 5-2 5-1 5 1 5 3 5 2 5 0 5-2 5-2 5 3 5 5 5 1 5-1 5-2 5-2 5-2 5 4 5 7 5 2 5-2 5-3 5-3 5 1 5 3 5 4" stroke="#64ff9b"/>
<path d="M145 311l5-13 5-12 5-8 5-8 5-12 5-16 5-11 5-7 5-5 5-5 5-6 5-7 5-6 5-2 5 3 5 5 5 8 5 5 5 3 5 1 5 1 5 3 5 7 5 6 5 3 5 1 5 6 5 5 5 1 5 3 5 5 5 5 5 7 5 10 5 3 5-4 5 0 5 10 5 9 5 6 5 4 5 0 5-1 5 5 5 11 5 5 5-1 5 3 5 7 5 3 5-1 5 1 5 0 5 1 5 7 5 7 5-2 5-6 5 0 5 4 5 3 5 3 5 4 5-2 5-4 5 1 5 2 5 1 5 1 5 5 5 1 5-3 5-1 5 1 5 1 5 1 5 3 5 1 5 0 5 0 5 1 5-3 5-1 5 4 5 5 5 2 5-2 5-4 5-4 5 2 5 7 5 4 5-2 5-5 5-1 5 2 5 2 5 0 5-1 5 0 5 3 5 3 5-2 5-4 5-3 5 2 5 7 5 4 5-3 5-5 5-3 5 2 5 4 5 3 5 0 5-2 5-2 5 1 5 1 5-1 5 1 5 2 5 2 5 0 5-1 5-2 5-2 5 2 5 4 5 2 5-1 5 0 5-1 5-3 5 0 5 4 5 5 5 1 5-1 5-2 5-3 5 1 5 6 5 5 5-2 5-3 5 1 5 2 5 0 5 1 5 1 5 0 5 3 5 6 5-2 5-6 5-2 5 5 5 6 5 4 5 0 5-5 5-4 5 3 5 7 5 2 5-2 5 0 5 1 5 0 5 1 5 0 5-1 5 2 5 5 5 2 5-2 5-4 5-1 5 3 5 3 5 3 5 1 5-2 5-2 5-1 5 1 5 2 5 3 5 3 5-1 5-3 5-2 5 1 5 3 5 3 5 0 5-1 5 0 5 0 5 0 5 0 5-1 5 2 5 4 5 3 5-2 5-6 5-2 5 4 5 6 5 4 5-2 5-5 5-3 5 2" stroke="#68ff97"/>
<path d="M145 307l5-9 5-8 5-14 5-13 5-9 5-13 5-12 5-6 5-7 5-13 5-9 5-2 5-5 5-2 5 4 5 0 5-2 5 5 5 9 5 2 5 2 5 6 5 2 5 0 5 5 5 5 5-1 5 3 5 10 5 6 5 3 5 5 5 3 5-2 5 5 5 11 5 6 5 4 5 5 5 3 5-1 5 5 5 7 5 4 5 4 5 9 5 6 5 1 5 1 5 1 5-1 5 4 5 9 5 6 5-1 5 0 5-2 5-2 5 3 5 7 5 3 5 1 5 3 5 0 5-2 5 0 5 1 5 0 5 4 5 6 5 3 5-3 5-3 5-1 5 0 5 4 5 6 5 2 5-2 5-1 5 0 5-1 5 1 5 2 5 1 5 1 5 3 5 1 5-3 5-2 5-1 5 1 5 3 5 4 5 0 5-3 5-2 5 0 5 1 5 1 5 1 5-1 5-1 5 2 5 2 5-1 5-2 5-1 5-1 5 1 5 4 5 1 5-2 5-2 5 1 5 0 5 0 5 1 5-1 5 0 5 2 5 3 5-1 5-3 5-2 5 0 5 1 5 5 5 3 5-2 5-3 5-1 5 0 5 1 5 2 5 2 5 1 5 1 5 2 5-2 5-2 5-1 5 2 5 4 5 5 5 3 5-3 5-5 5-1 5 1 5 4 5 5 5 2 5-1 5-1 5-1 5 0 5-1 5 2 5 3 5 4 5 3 5 0 5-3 5-4 5 0 5 4 5 5 5 4 5 0 5-3 5-3 5 0 5 2 5 3 5 2 5 2 5 0 5 1 5 0 5-3 5-1 5 1 5 4 5 4 5 2 5-1 5-4 5-2 5 2 5 4 5 2 5 1 5 0 5-1 5 1 5 1 5 0 5 0 5 0 5 2 5 3 5 2 5-1 5-2 5-1 5 2 5 2 5 2 5 1 5-1 5 0 5 2 5 2 5-1 5-2" stroke="#6bff94"/>
<path d="M145 296l5-11 5-10 5-11 5-13 5-11 5-9 5-13 5-12 5-6 5-2 5-6 5-8 5-5 5-2 5 0 5 5 5 5 5 2 5 4 5 8 5 5 5-2 5-2 5 4 5 5 5 6 5 6 5 3 5 2 5 5 5 6 5 1 5-1 5 7 5 11 5 6 5 3 5 2 5 1 5 4 5 7 5 5 5 1 5 5 5 11 5 6 5-2 5-1 5 3 5 6 5 6 5 4 5 0 5 0 5 4 5 4 5-2 5-4 5 4 5 8 5 4 5 1 5-2 5-3 5 2 5 5 5 1 5-3 5 3 5 7 5 3 5-4 5-5 5 0 5 4 5 5 5 2 5-2 5-2 5 4 5 3 5-4 5-4 5 2 5 6 5 5 5-1 5-4 5-4 5 2 5 4 5 0 5-4 5 1 5 7 5 2 5-4 5-6 5-2 5 4 5 5 5 2 5-4 5-2 5 4 5 3 5-5 5-5 5 2 5 6 5 5 5 0 5-5 5-4 5 2 5 5 5-1 5-4 5 2 5 6 5 3 5-3 5-6 5-2 5 3 5 7 5 2 5-4 5-2 5 4 5 3 5-4 5-5 5 2 5 5 5 6 5 1 5-5 5-5 5 3 5 5 5 0 5-4 5 2 5 6 5 3 5-2 5-5 5-4 5 4 5 7 5 2 5-4 5-2 5 4 5 3 5-4 5-3 5 0 5 5 5 6 5 2 5-5 5-5 5 3 5 5 5-1 5-2 5 2 5 5 5 3 5-2 5-5 5-3 5 3 5 8 5 2 5-3 5-1 5 3 5 2 5-2 5-3 5 0 5 5 5 7 5 2 5-5 5-4 5 3 5 4 5 0 5-1 5 2 5 4 5 3 5 0 5-5 5-3 5 3 5 8 5 2 5-3 5 0 5 3 5 1 5-2 5-2 5 0 5 4 5 7 5 1 5-4 5-4 5 2 5 2" stroke="#6fff90"/>
<path d="M145 307l5-13 5-14 5-12 5-12 5-11 5-8 5-11 5-12 5-7 5-7 5-12 5-6 5-1 5-4 5-2 5 3 5 3 5 3 5 5 5 5 5 3 5 3 5 1 5 1 5 6 5 7 5 2 5 4 5 5 5 2 5 1 5 9 5 8 5 4 5 3 5 4 5 3 5 4 5 7 5 6 5 6 5 4 5 0 5 3 5 8 5 7 5 4 5 5 5 3 5-2 5 2 5 6 5 5 5 3 5 1 5-1 5-1 5 3 5 4 5 4 5 4 5-1 5-4 5 0 5 4 5 4 5 3 5 2 5-3 5-4 5 0 5 5 5 4 5 3 5-1 5-4 5-2 5 1 5 3 5 5 5 2 5-3 5-5 5-1 5 3 5 3 5 4 5 1 5-4 5-5 5 0 5 3 5 5 5 3 5-2 5-5 5-3 5 0 5 4 5 6 5 2 5-5 5-4 5-2 5 2 5 5 5 5 5 0 5-5 5-4 5-1 5 4 5 6 5 3 5-2 5-4 5-3 5-1 5 5 5 7 5 1 5-4 5-4 5-2 5 1 5 6 5 5 5 0 5-4 5-5 5-1 5 4 5 6 5 3 5-2 5-4 5-3 5-1 5 6 5 7 5 1 5-3 5-4 5-3 5 2 5 7 5 5 5 0 5-4 5-5 5-1 5 5 5 6 5 3 5-1 5-3 5-5 5 0 5 7 5 6 5 1 5-2 5-4 5-3 5 3 5 6 5 5 5 1 5-3 5-6 5-1 5 6 5 5 5 3 5 0 5-4 5-5 5 1 5 6 5 6 5 1 5-2 5-4 5-3 5 3 5 5 5 4 5 2 5-4 5-5 5 0 5 4 5 4 5 4 5 0 5-5 5-4 5 1 5 5 5 4 5 2 5-2 5-4 5-2 5 2 5 3 5 5 5 2 5-4 5-5 5 1 5 3 5 3 5 4 5 0 5-5" stroke="#73ff8c"/>
<path d="M145 297l5-9 5-14 5-10 5-10 5-18 5-11 5-7 5-6 5-4 5-12 5-11 5-5 5-7 5 1 5 8 5 2 5 2 5 0 5 4 5 10 5 2 5 2 5 5 5 1 5 5 5 6 5 5 5 5 5-1 5 2 5 12 5 7 5 4 5 3 5-1 5 4 5 7 5 8 5 11 5 0 5-4 5 1 5 7 5 11 5 10 5 1 5 0 5-3 5 0 5 10 5 9 5 3 5-2 5-6 5 1 5 4 5 4 5 7 5 1 5-4 5-2 5 2 5 4 5 4 5-1 5 2 5 1 5-1 5 1 5 1 5 1 5 2 5 1 5 2 5 2 5-2 5-1 5 2 5 3 5 3 5 0 5-1 5 0 5-1 5 2 5 4 5 1 5-1 5-2 5 0 5 2 5 0 5 0 5 1 5-1 5 1 5 1 5 0 5-2 5-2 5 0 5 5 5 2 5-1 5-3 5-5 5 1 5 4 5 5 5 3 5-5 5-7 5-2 5 4 5 8 5 4 5-3 5-6 5-5 5 0 5 9 5 6 5 0 5-5 5-6 5 0 5 5 5 5 5 3 5-2 5-5 5-1 5 2 5 5 5 2 5-2 5-1 5 1 5 0 5 3 5 1 5-1 5 0 5 0 5 3 5 3 5-3 5-2 5 1 5 1 5 3 5 2 5-1 5-1 5-3 5 1 5 4 5 2 5 1 5-1 5-2 5 1 5 0 5 2 5 3 5 0 5 0 5 1 5-1 5 0 5 1 5 2 5 5 5 1 5-2 5-1 5-2 5 2 5 5 5 5 5 2 5-5 5-5 5 1 5 5 5 7 5 4 5-3 5-5 5-3 5 2 5 9 5 6 5-2 5-5 5-4 5 1 5 6 5 4 5 3 5-4 5-5 5 1 5 4 5 3 5 2 5-4 5-1 5 1 5 2 5 3 5 0 5-3 5-1 5 1 5 4" stroke="#76ff89"/>
<path d="M145 319l5-11 5-15 5-12 5-15 5-15 5-6 5-9 5-14 5-4 5-2 5-10 5-9 5-10 5-6 5 3 5 3 5 8 5 11 5-1 5-2 5 5 5 2 5 1 5 7 5 5 5 6 5 5 5 2 5 5 5 2 5-3 5 6 5 12 5 6 5 6 5 5 5 0 5 2 5 3 5 5 5 9 5 4 5 2 5 10 5 4 5 0 5 2 5 3 5 2 5 7 5 5 5 5 5 1 5-4 5 0 5 5 5 1 5 2 5 4 5 1 5 1 5 3 5 0 5 0 5-1 5 0 5 5 5 5 5 0 5 0 5 0 5-2 5 2 5 3 5 2 5 0 5 0 5 1 5 3 5 1 5-2 5 1 5 0 5 0 5 3 5 2 5 0 5-1 5-2 5 2 5 2 5-2 5-1 5 1 5-1 5 1 5 4 5-1 5-3 5-2 5-1 5 2 5 1 5-1 5 1 5 0 5-2 5 1 5 0 5-3 5-1 5 1 5 3 5 3 5-1 5-4 5-1 5-3 5 0 5 5 5 1 5 0 5 0 5 0 5-1 5-1 5-3 5 1 5 3 5 2 5 4 5 2 5-4 5-5 5 0 5 2 5 4 5 4 5 1 5 2 5-1 5-2 5 1 5 0 5-1 5 4 5 6 5 3 5 1 5-3 5-3 5 0 5 1 5 5 5 6 5 0 5-1 5 1 5-1 5-1 5 0 5 1 5 4 5 4 5 2 5 2 5-3 5-5 5-1 5 4 5 4 5 3 5 2 5-2 5-1 5-1 5-1 5 2 5 0 5 1 5 5 5 2 5-1 5-2 5-3 5-2 5 3 5 4 5 3 5 2 5-3 5-2 5 2 5-1 5 0 5 2 5 1 5 2 5 3 5 0 5-1 5-2 5-2 5 3 5 5 5 1 5 0 5 0 5-2 5 1 5 2 5 1 5 1 5-1 5 1 5 3" stroke="#7aff85"/>
<path d="M145 285l5-17 5-12 5-10 5-9 5-10 5-13 5-9 5-8 5-9 5-6 5-6 5-11 5-4 5 7 5 2 5-3 5 2 5 6 5 9 5 6 5-1 5 0 5 4 5 4 5 8 5 9 5-2 5-3 5 7 5 9 5 5 5 5 5 4 5 3 5 3 5 3 5 8 5 11 5 2 5-2 5 3 5 4 5 7 5 11 5 5 5-3 5-2 5 6 5 11 5 7 5-3 5-4 5 3 5 4 5 4 5 4 5 0 5-2 5 2 5 4 5 1 5 1 5 1 5 3 5 1 5-1 5 0 5 4 5 3 5-1 5-1 5 2 5 1 5 2 5 1 5-1 5 1 5 3 5 2 5 0 5-3 5 0 5 6 5 5 5-3 5-5 5 0 5 4 5 5 5 2 5-4 5-4 5 0 5 4 5 5 5 0 5-4 5-2 5 1 5 1 5 2 5 3 5 0 5-4 5-3 5 0 5 5 5 5 5-2 5-5 5-3 5 0 5 6 5 6 5-4 5-7 5-2 5 4 5 5 5 1 5-4 5-3 5 1 5 1 5 2 5 1 5-3 5 0 5 2 5-1 5-1 5 1 5 2 5 1 5-2 5-1 5 1 5 3 5 0 5-1 5 2 5 1 5 1 5 0 5 0 5-1 5 4 5 4 5 0 5-4 5-3 5 4 5 8 5 2 5-5 5-3 5 1 5 4 5 7 5 1 5-4 5-3 5 2 5 4 5 5 5 0 5-2 5 0 5-1 5 0 5 6 5 4 5-1 5-3 5-3 5 2 5 6 5 5 5-2 5-4 5-4 5 4 5 8 5 2 5-5 5-4 5 3 5 3 5 3 5-1 5-1 5 0 5 1 5 1 5 1 5 0 5 0 5 2 5 2 5-3 5-1 5 3 5 2 5 0 5-1 5 0 5 2 5 1 5-2 5 1 5 3 5 1 5 0 5-1 5-3 5 1" stroke="#7eff81"/>
<path d="M145 288l5-13 5-11 5-12 5-6 5-9 5-18 5-11 5-7 5-8 5-4 5-5 5-9 5-6 5 2 5 2 5 6 5 7 5 3 5 3 5 3 5 3 5 5 5 5 5 4 5 5 5 4 5 2 5 5 5 5 5 4 5 7 5 7 5 1 5 4 5 6 5 2 5 7 5 8 5 0 5 2 5 6 5 1 5 6 5 9 5 1 5 0 5 6 5 1 5 3 5 7 5 0 5-2 5 4 5 2 5 0 5 5 5 1 5-3 5 3 5 4 5 0 5 3 5 1 5-2 5 1 5 5 5 2 5 2 5 1 5-2 5 1 5 4 5 3 5 1 5 1 5-1 5 0 5 3 5 3 5 1 5 2 5 0 5-1 5 2 5 0 5 2 5 1 5 1 5 0 5-1 5-1 5-1 5 2 5 1 5 1 5-1 5-3 5-3 5 2 5 2 5 1 5 1 5-5 5-4 5 1 5 2 5 2 5 2 5-3 5-6 5 1 5 2 5 2 5 3 5-1 5-5 5-1 5 2 5 2 5 2 5 2 5-4 5-1 5 2 5 1 5 1 5 3 5 0 5-1 5 1 5 0 5 0 5 3 5 2 5 0 5 1 5 0 5-2 5 3 5 3 5 2 5 1 5-1 5-2 5 1 5 3 5 2 5 2 5-2 5-2 5 0 5 2 5 3 5 2 5-2 5-2 5 1 5 1 5 2 5 2 5-1 5-2 5 2 5 1 5 1 5 2 5-1 5-2 5 2 5 3 5 0 5 1 5 0 5-2 5 2 5 5 5-1 5 1 5 0 5-1 5 1 5 4 5 1 5 0 5 1 5-1 5 0 5 4 5 1 5-1 5 2 5 1 5-1 5 1 5 1 5 0 5 2 5 3 5-2 5 0 5 0 5-1 5 3 5 4 5 0 5-2 5-2 5-1 5 3 5 4 5 2 5-2 5-3 5-2 5 3 5 4" stroke="#81ff7e"/>
<path d="M145 320l5-13 5-12 5-8 5-13 5-19 5-13 5-7 5-7 5-11 5-13 5-10 5-7 5-6 5-5 5-7 5-7 5 4 5 5 5 0 5 7 5 4 5-1 5 7 5 5 5-1 5 5 5 7 5 1 5 4 5 6 5 2 5 6 5 7 5 4 5 3 5 5 5 7 5 5 5 4 5 5 5 4 5 2 5 9 5 6 5 2 5 6 5 4 5 1 5 7 5 7 5-1 5 2 5 2 5 1 5 5 5 5 5 0 5-1 5 1 5 4 5 5 5 2 5-2 5-1 5 2 5 7 5 4 5-4 5-2 5 1 5 4 5 6 5 1 5-6 5-1 5 5 5 5 5 2 5-3 5-5 5 3 5 7 5 3 5-3 5-4 5 0 5 5 5 3 5 0 5-4 5-2 5 4 5 4 5-2 5-2 5-1 5 0 5 4 5 1 5-4 5-1 5 3 5 1 5-1 5-1 5-2 5 2 5 3 5-1 5-3 5-2 5 3 5 3 5-1 5-3 5-2 5 1 5 5 5 1 5-5 5-3 5 2 5 2 5 3 5-1 5-6 5 0 5 5 5 2 5-1 5-3 5-2 5 2 5 3 5 2 5-2 5-3 5 1 5 3 5 2 5 2 5-1 5-4 5 3 5 4 5 1 5 0 5 0 5-3 5 2 5 6 5 0 5-1 5-1 5-1 5 4 5 4 5 0 5-2 5-2 5 3 5 5 5 1 5-1 5-2 5 0 5 6 5 3 5-2 5-2 5 2 5 1 5 4 5 1 5-3 5 0 5 4 5 2 5 0 5-1 5 0 5 2 5 3 5 0 5-2 5 0 5 4 5 3 5-2 5-2 5 1 5 3 5 4 5 0 5-5 5 0 5 5 5 3 5 1 5-3 5-4 5 3 5 7 5 1 5-4 5-4 5 1 5 6 5 4 5-2 5-5 5-1 5 5 5 6 5-2 5-4" stroke="#85ff7a"/>
<path d="M145 274l5-15 5-13 5-12 5-13 5-9 5-7 5-8 5-8 5-9 5-7 5-3 5-3 5 0 5 5 5 3 5 2 5 8 5 4 5-1 5 4 5 4 5 1 5 4 5 6 5 4 5 3 5 4 5 3 5 4 5 4 5 3 5 8 5 6 5 3 5 7 5 3 5-1 5 5 5 8 5 4 5 6 5 7 5 1 5 0 5 5 5 6 5 5 5 6 5 2 5 1 5 1 5 2 5 5 5 3 5-1 5 1 5 3 5 2 5 3 5 4 5-1 5-3 5 1 5 2 5 4 5 5 5 1 5-3 5-3 5 0 5 3 5 5 5 2 5 0 5-1 5-3 5 0 5 4 5 3 5 0 5 0 5 0 5-1 5 3 5 2 5 0 5-2 5 0 5 1 5 3 5 2 5 1 5-1 5-4 5-1 5 3 5 4 5 1 5 1 5-1 5-4 5 0 5 3 5 1 5 1 5 2 5-1 5-1 5 0 5 0 5 0 5 1 5 0 5 2 5 1 5-2 5 0 5 0 5-2 5 1 5 3 5-1 5 0 5 0 5-1 5-1 5 1 5 0 5-1 5 1 5 1 5 1 5 0 5-2 5-2 5 0 5 1 5 3 5 4 5-1 5-3 5-1 5-1 5 1 5 5 5 3 5-1 5-1 5-2 5 1 5 2 5 3 5 0 5 0 5-1 5 1 5 4 5 1 5 0 5-1 5-1 5 0 5 5 5 5 5 0 5-2 5-2 5-2 5 3 5 5 5 4 5 0 5-2 5-3 5 0 5 3 5 3 5 3 5 0 5-3 5 1 5 2 5 0 5 1 5 1 5-1 5 0 5 3 5 2 5 0 5-1 5-1 5-1 5 2 5 3 5 2 5 1 5-2 5-1 5 0 5 0 5 2 5 4 5 0 5-1 5 1 5-1 5-1 5 2 5 2 5 1 5 2 5 1 5-1 5-1 5-1" stroke="#89ff76"/>
<path d="M145 311l5-18 5-13 5-10 5-12 5-9 5-11 5-16 5-10 5-5 5-9 5-8 5-6 5-11 5-4 5 3 5 2 5 3 5 4 5 3 5 4 5 4 5 4 5 5 5 0 5 4 5 7 5 2 5 4 5 7 5 2 5 4 5 9 5 4 5 3 5 7 5 4 5 6 5 6 5 4 5 4 5 3 5 6 5 8 5 5 5 3 5 5 5 2 5 4 5 9 5 3 5-1 5 2 5 1 5 3 5 6 5 3 5-1 5-1 5 1 5 4 5 5 5 1 5-1 5-2 5-1 5 6 5 5 5-1 5-1 5-3 5-1 5 6 5 5 5-1 5-3 5-4 5 1 5 5 5 5 5-1 5-4 5-5 5 2 5 6 5 3 5 0 5-4 5-6 5 2 5 7 5 2 5-1 5-5 5-5 5 2 5 7 5 3 5-2 5-6 5-3 5 2 5 6 5 3 5-1 5-7 5-3 5 4 5 5 5 2 5-1 5-6 5-3 5 5 5 5 5 2 5-2 5-5 5-2 5 3 5 6 5 2 5-3 5-5 5 0 5 3 5 4 5 4 5-4 5-5 5 1 5 4 5 3 5 2 5-3 5-4 5 1 5 4 5 4 5 1 5-3 5-1 5 0 5 3 5 5 5 0 5-3 5 0 5 1 5 2 5 3 5 0 5-3 5 1 5 2 5 1 5 2 5 0 5-1 5 0 5 2 5 2 5 1 5-2 5 1 5 1 5 1 5 2 5 1 5-3 5 1 5 3 5 1 5 0 5 0 5-1 5 1 5 3 5 2 5-1 5-1 5-1 5 3 5 2 5 2 5 0 5-3 5-1 5 4 5 3 5 1 5 0 5-3 5-1 5 5 5 3 5 1 5-2 5-2 5 0 5 4 5 4 5 1 5-3 5-3 5 2 5 3 5 3 5 3 5-4 5-4 5 2 5 5 5 3 5 1 5-4 5-4" stroke="#8cff73"/>
<path d="M145 325l5-11 5-14 5-17 5-13 5-8 5-13 5-11 5-8 5-12 5-14 5-8 5-6 5-8 5-5 5-5 5-1 5 1 5 1 5 2 5 9 5 4 5-2 5 4 5 9 5 4 5 2 5 2 5 1 5 5 5 9 5 7 5 4 5 3 5 2 5 8 5 11 5 2 5-1 5 6 5 10 5 7 5 6 5 1 5 1 5 5 5 9 5 6 5 4 5 2 5 1 5 6 5 6 5-2 5-2 5 3 5 3 5 4 5 3 5 1 5-1 5 1 5 0 5 2 5 3 5 0 5 1 5 2 5 1 5-1 5 1 5 2 5-2 5 0 5 2 5 4 5 3 5-2 5-3 5-1 5 4 5 3 5 1 5 0 5-2 5 1 5 5 5 2 5-4 5-4 5 2 5 6 5 4 5-1 5-5 5-1 5 3 5 2 5 1 5-1 5-3 5 2 5 5 5 1 5-4 5-3 5 0 5 3 5 2 5 0 5-2 5 0 5 0 5-1 5 1 5-1 5-2 5 1 5 2 5 0 5-1 5 0 5-2 5-2 5 0 5 1 5 3 5 1 5-3 5-2 5 1 5 1 5 1 5-1 5-1 5 0 5 4 5 4 5-1 5-4 5-3 5 3 5 7 5 3 5-3 5-2 5 3 5 3 5 2 5-1 5-3 5 1 5 5 5 5 5 0 5-3 5-3 5 2 5 5 5 1 5-1 5 0 5 2 5 1 5 2 5-1 5-2 5 0 5 3 5 2 5 2 5 0 5-2 5 0 5 0 5-1 5 2 5 3 5 0 5-2 5 1 5 2 5 1 5-1 5-2 5 0 5 3 5 4 5 2 5-2 5-3 5-2 5 5 5 5 5-1 5-3 5 1 5 4 5 4 5 0 5-4 5-2 5 4 5 5 5 4 5 0 5-4 5-1 5 5 5 3 5-2 5-1 5 1 5 3 5 4 5 0 5-3" stroke="#90ff6f"/>
<path d="M145 325l5-10 5-12 5-11 5-11 5-15 5-15 5-7 5-8 5-14 5-9 5-4 5-9 5-9 5-4 5-8 5-4 5 5 5 4 5 3 5 4 5 5 5 4 5 3 5 0 5 2 5 7 5 7 5 4 5 5 5-1 5-1 5 8 5 11 5 4 5 4 5 6 5 1 5 2 5 7 5 6 5 3 5 8 5 6 5 1 5 1 5 5 5 5 5 7 5 5 5 1 5 1 5 1 5 3 5 4 5 2 5-2 5 3 5 6 5 1 5 0 5 0 5 0 5 1 5 6 5 3 5-1 5 0 5 2 5-1 5 0 5 3 5 3 5 3 5 2 5-2 5-4 5 0 5 4 5 6 5 3 5-2 5-4 5 0 5 2 5 2 5 3 5 1 5-1 5 1 5 1 5-3 5-1 5 3 5 2 5 0 5 0 5-1 5-1 5 1 5 1 5-1 5-1 5 1 5 2 5 2 5-3 5-4 5-1 5 3 5 3 5 2 5-1 5-5 5-2 5 2 5 1 5 0 5 3 5 0 5-3 5-2 5-1 5-1 5 3 5 5 5-1 5-4 5-3 5-1 5 3 5 3 5 0 5-1 5-1 5 0 5 2 5 1 5-2 5 0 5 4 5 2 5-1 5 0 5 0 5-1 5 2 5 3 5 0 5 1 5 3 5 1 5-3 5-1 5 1 5 5 5 5 5 1 5-3 5-3 5-1 5 5 5 5 5 2 5-2 5 0 5 1 5-1 5 1 5 3 5 2 5 2 5 2 5-3 5-2 5 2 5 4 5 2 5 0 5-1 5 0 5 2 5 2 5-1 5-1 5 0 5 3 5 4 5 0 5-3 5-2 5 1 5 2 5 2 5 3 5-1 5-2 5 1 5-1 5-2 5 3 5 5 5 1 5-1 5-4 5-3 5 1 5 6 5 4 5-1 5-3 5-3 5 1 5 3 5 1 5 0 5 1" stroke="#94ff6b"/>
<path d="M145 314l5-18 5-15 5-12 5-12 5-11 5-11 5-12 5-9 5-8 5-9 5-9 5-9 5-7 5-5 5 0 5 0 5-1 5 4 5 10 5 6 5-2 5 1 5 6 5 5 5 3 5 7 5 6 5 0 5 3 5 8 5 4 5 1 5 7 5 12 5 6 5 1 5 3 5 5 5 6 5 7 5 6 5 4 5 3 5 6 5 7 5 5 5 2 5 3 5 5 5 5 5 4 5 0 5 2 5 5 5 4 5-2 5-1 5 2 5 5 5 4 5 3 5 0 5-3 5-1 5 5 5 3 5-1 5 1 5 3 5 1 5-1 5-2 5 1 5 1 5 2 5 2 5-1 5-3 5 1 5 4 5 1 5-2 5-3 5 0 5 3 5 3 5-1 5-2 5-1 5 1 5-1 5-1 5 0 5 2 5 2 5 0 5-2 5-5 5-1 5 4 5 4 5-2 5-3 5 0 5 1 5 0 5 0 5 0 5-1 5 1 5 2 5 0 5-2 5-1 5 3 5 2 5-3 5-2 5 1 5 3 5 4 5 0 5-3 5-3 5 1 5 3 5 2 5 1 5 0 5 0 5 1 5 0 5-2 5 0 5 4 5 5 5 0 5-3 5 0 5 2 5 2 5 2 5 1 5-2 5 0 5 5 5 3 5-1 5-2 5 1 5 2 5 0 5 0 5 2 5 2 5 3 5 0 5-2 5-3 5 1 5 5 5 4 5 0 5-3 5-1 5 1 5 2 5 0 5-1 5 2 5 3 5 0 5-2 5-1 5 1 5 1 5 2 5 0 5-2 5-1 5 4 5 4 5-2 5-4 5-1 5 2 5 2 5 2 5 1 5-1 5-1 5 1 5 0 5-2 5 1 5 4 5 3 5-1 5-3 5-2 5 2 5 4 5 2 5-2 5-1 5 2 5 2 5 1 5-1 5 0 5 0 5 2 5 3 5-1 5-1 5 2" stroke="#97ff68"/>
<path d="M145 310l5-10 5-17 5-15 5-11 5-16 5-9 5-3 5-11 5-12 5-9 5-9 5-8 5-8 5-2 5 1 5 0 5 8 5 5 5-3 5 3 5 6 5 2 5 7 5 6 5 1 5 4 5 4 5 5 5 2 5 2 5 10 5 7 5 4 5 8 5 1 5 1 5 9 5 6 5 3 5 6 5 5 5 6 5 4 5 3 5 5 5 1 5 7 5 9 5 1 5 1 5 4 5 1 5 2 5 3 5 1 5 2 5 3 5 4 5 1 5-3 5 2 5 3 5 1 5 4 5 1 5-3 5 3 5 2 5 0 5 0 5 0 5 3 5 2 5 0 5 0 5-2 5 0 5 5 5 1 5-2 5 1 5 0 5 1 5 1 5 0 5-1 5 1 5 2 5 2 5-3 5-2 5 1 5 0 5 2 5 2 5-3 5 0 5 2 5-1 5-2 5-1 5 0 5 3 5 1 5 0 5-2 5-4 5 2 5 2 5-2 5 1 5 1 5 0 5 1 5-2 5-2 5-1 5 1 5 5 5 0 5-2 5 1 5-1 5-2 5 2 5-1 5 0 5 4 5 3 5-1 5-2 5-2 5 1 5 1 5 3 5 3 5-1 5 1 5 3 5-2 5-2 5 1 5 3 5 4 5 4 5-1 5-2 5-1 5 1 5 2 5 0 5 3 5 3 5 0 5 2 5-2 5-4 5 0 5 4 5 3 5 2 5 0 5 0 5-1 5-2 5 1 5-1 5 1 5 5 5 3 5-2 5-3 5-2 5-1 5 3 5 2 5 1 5 1 5 1 5 1 5-4 5-3 5 2 5 1 5 5 5 3 5-2 5-2 5 0 5 0 5 0 5 1 5 2 5 4 5 1 5 1 5-2 5-4 5 2 5 4 5 2 5 2 5 1 5 0 5 0 5 0 5-1 5 0 5 2 5 6 5 2 5-2 5 0 5-2 5 0 5 3" stroke="#9bff64"/>
<path d="M145 277l5-10 5-10 5-11 5-15 5-14 5-11 5-12 5-5 5-1 5-8 5-12 5-6 5-8 5-4 5 8 5 8 5 3 5 6 5 2 5-2 5 2 5 3 5 4 5 5 5 6 5 5 5 5 5 0 5 0 5 5 5 4 5 7 5 12 5 6 5 0 5 3 5 2 5 1 5 8 5 10 5 5 5 5 5 3 5 2 5 2 5 6 5 5 5 6 5 5 5 3 5 4 5 1 5-1 5 3 5 3 5 2 5 6 5 5 5-1 5 0 5 1 5 0 5 3 5 6 5 2 5 1 5 0 5 0 5 1 5 2 5 2 5 1 5 0 5-1 5 2 5 2 5 1 5 1 5 0 5-2 5 1 5 2 5 1 5 1 5 1 5-1 5-1 5 1 5 0 5 0 5-1 5 1 5 2 5 1 5 0 5-2 5-2 5-3 5 1 5 5 5 2 5 0 5-1 5-5 5-3 5 1 5 3 5 2 5 3 5-1 5-3 5-2 5-1 5 0 5 2 5 1 5 3 5 1 5-1 5-3 5-2 5-2 5 1 5 5 5 4 5 0 5-1 5-5 5-4 5 1 5 4 5 4 5 3 5 0 5-4 5-2 5-1 5 2 5 3 5 2 5 2 5 1 5 0 5-3 5 0 5 0 5 0 5 5 5 4 5 0 5-1 5-1 5-4 5 0 5 5 5 3 5 2 5 1 5-3 5-1 5 0 5 2 5 3 5 1 5 0 5 0 5 1 5 0 5 1 5 1 5-1 5 1 5 3 5 0 5 1 5 1 5-1 5 0 5 1 5 2 5 1 5 1 5 0 5 0 5 2 5 1 5 2 5 0 5-2 5 0 5 2 5 3 5 2 5 2 5-2 5-3 5 1 5 2 5 2 5 4 5 1 5-1 5-1 5-1 5 0 5 2 5 1 5 2 5 3 5 0 5-1 5 0 5-3 5-1 5 4 5 3" stroke="#9fff60"/>
<path d="M145 297l5-15 5-7 5-17 5-13 5-5 5-12 5-6 5-4 5-15 5-8 5-6 5-8 5 5 5 5 5-2 5 7 5 2 5-1 5 10 5 3 5 1 5 8 5-1 5 2 5 9 5 1 5 5 5 6 5-2 5 5 5 7 5 3 5 9 5 5 5 0 5 5 5 3 5 4 5 8 5 4 5 2 5 5 5 2 5 5 5 6 5 3 5 3 5 3 5 1 5 5 5 4 5 2 5 2 5-1 5-1 5 2 5 3 5 5 5 3 5 0 5-2 5-1 5 0 5 4 5 3 5 2 5 1 5-2 5 0 5 1 5 0 5 2 5 1 5-1 5 3 5 2 5 0 5 1 5-3 5-2 5 2 5 3 5 4 5 4 5-3 5-3 5-2 5-2 5 4 5 5 5 2 5 1 5-2 5-5 5 1 5 1 5 1 5 4 5 0 5-1 5 2 5-2 5 0 5 0 5-2 5 1 5 4 5 1 5 3 5 0 5-6 5-2 5 0 5 1 5 7 5 3 5-2 5-2 5-4 5-3 5 4 5 2 5 2 5 3 5-4 5-2 5 1 5-2 5 1 5 2 5-2 5 2 5 2 5-1 5 1 5-2 5-4 5 1 5 2 5 3 5 4 5-1 5-3 5-2 5-2 5 2 5 5 5 2 5 1 5-2 5-3 5-1 5 2 5 2 5 2 5 0 5-1 5 1 5 0 5 1 5 1 5-1 5 0 5 1 5 2 5 3 5 1 5-1 5-1 5-2 5 2 5 4 5 2 5 2 5-1 5-2 5 0 5 2 5 2 5 4 5-1 5 0 5 0 5 1 5 2 5 3 5-1 5 0 5 0 5 0 5 4 5 3 5 0 5 1 5-2 5-1 5 3 5 3 5 2 5 2 5-2 5-1 5 2 5 0 5 2 5 3 5-3 5 1 5 2 5 0 5 3 5 1 5-4 5 1 5 0 5 0" stroke="#a2ff5d"/>
<path d="M145 295l5-11 5-14 5-15 5-14 5-11 5-4 5-4 5-9 5-13 5-8 5-5 5-3 5 1 5 5 5 7 5 4 5 1 5 0 5 1 5 6 5 9 5 5 5 0 5 0 5 3 5 4 5 6 5 5 5 4 5 5 5 6 5 3 5 1 5 4 5 9 5 7 5 3 5 2 5 3 5 4 5 7 5 6 5 3 5 1 5 6 5 7 5 3 5 1 5 3 5 5 5 2 5 2 5 2 5 2 5 2 5 4 5 2 5-3 5 0 5 5 5 6 5 0 5-2 5-1 5 1 5 2 5 3 5 3 5-1 5 0 5 1 5-1 5-3 5 2 5 6 5 4 5-3 5-4 5-3 5 1 5 4 5 4 5 1 5-3 5-2 5 0 5 0 5-1 5 2 5 5 5 0 5-4 5-4 5-1 5 2 5 5 5 2 5-2 5-5 5 0 5 1 5 1 5-1 5 2 5 2 5 0 5-3 5-2 5 0 5 3 5 3 5 0 5-3 5-2 5 1 5 3 5 0 5-1 5-1 5 1 5 2 5 0 5-1 5-1 5 2 5 1 5-1 5-1 5 1 5 2 5 2 5-2 5-3 5 0 5 3 5 5 5 1 5-4 5-2 5 2 5 1 5 2 5 2 5 1 5 1 5 0 5-2 5-2 5 1 5 6 5 5 5-2 5-5 5-2 5 2 5 3 5 4 5 2 5-1 5-2 5 0 5 0 5-1 5 3 5 6 5 3 5-4 5-5 5 0 5 4 5 4 5 3 5-1 5-2 5-1 5 2 5 1 5 0 5 2 5 4 5 1 5-3 5-2 5 1 5 4 5 3 5 0 5-1 5-2 5 2 5 3 5 1 5-2 5 0 5 3 5 2 5-1 5 0 5 0 5 2 5 1 5 0 5-1 5 1 5 3 5 2 5-2 5-3 5 0 5 4 5 4 5 0 5-2 5-2 5 0 5 1" stroke="#a6ff59"/>
<path d="M145 293l5-14 5-10 5-15 5-13 5-6 5-10 5-7 5-4 5-12 5-14 5-8 5 0 5 5 5 1 5 2 5 3 5-1 5 4 5 9 5 2 5 2 5 6 5 4 5 2 5 0 5 2 5 8 5 5 5 7 5 6 5-3 5 1 5 9 5 7 5 6 5 4 5 3 5 3 5 4 5 5 5 6 5 0 5 6 5 9 5 2 5 1 5 3 5 3 5 5 5 5 5 2 5 0 5-1 5 5 5 6 5-1 5-1 5 2 5 1 5 4 5 4 5-1 5-1 5 0 5 4 5 3 5-2 5 1 5 2 5 1 5 1 5 0 5-3 5 1 5 4 5 4 5 0 5-4 5-2 5 2 5 2 5 4 5 2 5-4 5 0 5 0 5 0 5 0 5 1 5 3 5 2 5-1 5-2 5-4 5-2 5 6 5 6 5 0 5-4 5-4 5-1 5 2 5 2 5 3 5 0 5-2 5 1 5-1 5-4 5 1 5 4 5 4 5 1 5-3 5-5 5-2 5 2 5 7 5 2 5-3 5-2 5-1 5-1 5 2 5 1 5 1 5 2 5 1 5-1 5-4 5-3 5 3 5 6 5 2 5-1 5-3 5-4 5 2 5 4 5 3 5-1 5-1 5 2 5 0 5-1 5 1 5 0 5 2 5 4 5 1 5-3 5-3 5 1 5 4 5 3 5-1 5-1 5-1 5 0 5 4 5 1 5-3 5 0 5 2 5 3 5 0 5-1 5-1 5 1 5 1 5 3 5-1 5-2 5 2 5 3 5 0 5-1 5-2 5 1 5 3 5 3 5 2 5-4 5-3 5 2 5 3 5 2 5 1 5-1 5 0 5 1 5 0 5 0 5 0 5 3 5 5 5 0 5-4 5-2 5-1 5 4 5 7 5 1 5-2 5-3 5-1 5 3 5 2 5 1 5 3 5 1 5 0 5 0 5-3 5-1 5 4" stroke="#aaff55"/>
<path d="M145 306l5-8 5-13 5-10 5-9 5-17 5-13 5-7 5-8 5-9 5-7 5-10 5-6 5-4 5-7 5 0 5 6 5 1 5 5 5 9 5 1 5-1 5 2 5 3 5 8 5 8 5 0 5 2 5 3 5-1 5 7 5 11 5 5 5 3 5 2 5 1 5 7 5 7 5 3 5 6 5 6 5 0 5 5 5 6 5 1 5 4 5 7 5 5 5 6 5 2 5-3 5 2 5 4 5 3 5 7 5 4 5-4 5-2 5 1 5 4 5 6 5 3 5-1 5 0 5 0 5-1 5 5 5 3 5 0 5 1 5 1 5 1 5 0 5 0 5-1 5 4 5 3 5 0 5 1 5-2 5-3 5 2 5 4 5 4 5 1 5-3 5-3 5 1 5 2 5 2 5 3 5-1 5-4 5 0 5 1 5 2 5 1 5-1 5-1 5 1 5 0 5 0 5 0 5-1 5-1 5 3 5 1 5 0 5-2 5-3 5 0 5 4 5 1 5 0 5-1 5-3 5-1 5 3 5 2 5 0 5-1 5-3 5 0 5 3 5 1 5 0 5-1 5-2 5-1 5 4 5 1 5-1 5-1 5-1 5 1 5 3 5 0 5 0 5 0 5-1 5 2 5 3 5 0 5-2 5 0 5 1 5 4 5 2 5-2 5-1 5 0 5 0 5 4 5 4 5-1 5-3 5-1 5 0 5 4 5 3 5 0 5-1 5-1 5-1 5 2 5 3 5 0 5 0 5 1 5 0 5 1 5 0 5-2 5 2 5 2 5 1 5 2 5 0 5-4 5-2 5 3 5 4 5 4 5-1 5-4 5-2 5 1 5 2 5 5 5 3 5-4 5-2 5 0 5 2 5 2 5 2 5 0 5 2 5 0 5-1 5 1 5 0 5-1 5 4 5 4 5 0 5-1 5-3 5-2 5 5 5 4 5 3 5 1 5-3 5-4 5 1 5 5" stroke="#adff52"/>
<path d="M145 340l5-11 5-18 5-15 5-11 5-11 5-11 5-10 5-13 5-8 5-6 5-13 5-10 5-3 5-7 5-3 5 5 5 2 5-3 5 3 5 8 5 5 5 7 5 2 5-1 5 2 5 4 5 5 5 11 5 5 5-3 5 2 5 9 5 5 5 6 5 10 5 2 5 0 5 6 5 7 5 5 5 6 5 3 5 4 5 7 5 3 5 2 5 7 5 5 5 1 5 6 5 4 5-3 5-1 5 5 5 4 5 4 5 1 5-2 5-2 5 2 5 3 5 5 5 3 5-4 5-4 5 2 5 3 5 2 5 3 5 0 5-5 5-1 5 3 5 3 5 1 5 0 5-2 5 1 5 1 5 0 5 1 5 2 5-1 5 1 5 2 5-1 5-3 5 1 5 3 5 2 5 2 5-2 5-4 5 0 5 3 5 3 5 3 5-2 5-5 5-1 5 3 5 3 5 3 5 0 5-5 5-3 5 3 5 3 5 2 5-1 5-2 5-2 5 1 5 1 5 0 5 2 5-1 5-2 5 2 5 0 5-3 5 0 5 2 5 1 5 1 5-1 5-3 5-2 5 2 5 3 5 2 5 0 5-5 5-3 5 4 5 3 5 2 5 2 5-3 5-4 5 1 5 5 5 3 5 1 5-2 5-2 5 1 5 3 5 1 5 2 5 0 5-2 5 1 5 3 5-1 5 0 5 2 5 1 5 1 5 1 5-1 5-2 5 2 5 3 5 2 5 2 5-3 5-4 5 2 5 5 5 2 5 1 5-1 5-5 5 0 5 5 5 3 5 1 5-1 5-3 5 0 5 3 5 2 5 2 5 0 5-2 5-1 5 3 5 2 5-1 5 1 5 2 5 0 5 1 5 0 5 0 5 0 5 3 5 2 5 2 5-1 5-4 5 1 5 4 5 3 5 1 5 0 5-4 5-2 5 4 5 5 5 1 5-1 5-3 5-2 5 3" stroke="#b1ff4e"/>
<path d="M145 294l5-10 5-12 5-11 5-10 5-13 5-11 5-10 5-5 5-3 5-9 5-10 5-5 5-5 5 0 5 11 5 8 5 2 5 4 5 2 5-3 5 5 5 9 5 5 5 4 5 3 5 1 5 2 5 5 5 6 5 7 5 2 5 2 5 6 5 6 5 4 5 9 5 4 5-3 5 3 5 6 5 5 5 8 5 8 5 1 5-2 5 2 5 3 5 6 5 7 5 4 5 1 5-2 5-2 5 3 5 4 5 2 5 3 5 1 5-3 5 2 5 5 5 1 5 1 5 0 5-2 5-1 5 4 5 5 5 3 5 0 5-4 5-3 5 0 5 3 5 6 5 4 5-1 5-2 5-2 5-2 5 3 5 5 5 2 5-1 5 0 5-1 5 0 5 3 5 2 5-1 5-2 5-1 5 2 5 3 5 2 5 1 5-3 5-5 5-1 5 4 5 3 5 3 5 2 5-5 5-5 5 0 5 2 5 2 5 3 5 1 5-4 5-2 5 0 5 1 5 2 5 0 5-2 5-1 5-1 5 2 5 3 5 0 5-3 5-2 5-3 5 0 5 6 5 3 5 0 5-3 5-3 5-4 5 2 5 4 5 4 5 1 5-2 5-2 5-1 5 1 5 3 5 3 5 0 5-1 5 1 5 1 5 1 5 3 5 1 5-3 5-1 5 2 5 3 5 3 5 3 5-2 5-3 5-3 5 1 5 5 5 4 5 2 5 0 5-4 5-3 5 2 5 3 5 2 5 2 5 0 5-3 5 0 5 2 5 1 5 0 5 0 5-1 5-1 5 3 5 3 5 2 5-2 5-3 5-2 5 0 5 2 5 6 5 3 5-3 5-2 5-2 5-1 5 2 5 6 5 1 5-1 5 0 5-2 5 1 5 2 5 2 5 1 5-1 5 0 5 2 5 3 5 1 5 1 5 0 5-3 5 0 5 4 5 4 5 3 5 1 5-3" stroke="#b5ff4a"/>
<path d="M145 301l5-14 5-10 5-10 5-16 5-12 5-9 5-14 5-8 5-3 5-12 5-10 5-5 5-11 5-4 5 7 5 1 5 0 5 7 5 1 5 0 5 8 5 5 5 3 5 4 5 1 5 2 5 4 5 6 5 7 5 5 5 2 5 5 5 3 5 3 5 11 5 7 5 1 5 7 5 3 5-1 5 9 5 10 5 2 5 6 5 4 5-1 5 5 5 8 5 4 5 5 5 2 5-1 5 0 5 4 5 5 5 4 5 2 5 0 5 0 5-1 5 4 5 6 5 2 5 0 5 1 5-3 5 0 5 6 5 2 5 1 5 1 5-3 5-3 5 3 5 4 5 2 5 2 5-2 5-4 5 0 5 2 5 3 5 3 5-1 5-3 5-2 5-1 5 4 5 4 5 0 5-1 5-4 5-3 5 2 5 4 5 1 5 1 5-2 5-5 5-1 5 4 5 2 5 2 5 1 5-5 5-4 5 2 5 3 5 3 5 2 5-3 5-4 5-1 5 1 5 4 5 3 5 0 5-3 5-4 5-1 5 5 5 3 5 1 5 1 5-5 5-4 5 3 5 4 5 2 5 2 5-2 5-6 5 0 5 3 5 3 5 4 5 0 5-4 5-2 5 0 5 3 5 5 5 2 5-2 5-3 5-2 5 2 5 5 5 2 5 1 5-1 5-5 5-1 5 4 5 3 5 2 5 1 5-5 5-3 5 3 5 2 5 3 5 3 5-3 5-4 5 0 5 1 5 4 5 4 5 0 5-3 5-3 5-1 5 4 5 4 5 1 5 0 5-3 5-3 5 3 5 3 5 2 5 3 5-2 5-4 5 0 5 4 5 2 5 3 5 2 5-5 5-1 5 2 5 2 5 4 5 3 5-2 5-2 5-1 5 2 5 4 5 3 5 1 5-1 5-3 5 0 5 4 5 3 5 2 5 1 5-3 5-2 5 4 5 2 5 2 5 3" stroke="#b8ff47"/>
<path d="M145 294l5-11 5-10 5-13 5-13 5-12 5-15 5-9 5-2 5-7 5-8 5-9 5-10 5-5 5 1 5 6 5 9 5 2 5 2 5 4 5 0 5 5 5 8 5 5 5 4 5 1 5 2 5 6 5 3 5 6 5 8 5 3 5 4 5 6 5 4 5 6 5 4 5 4 5 6 5 3 5 5 5 7 5 2 5 3 5 4 5 4 5 5 5 4 5 4 5 4 5-1 5 1 5 4 5 2 5 2 5 2 5 0 5 2 5 0 5 3 5 3 5-1 5 1 5 2 5 1 5 2 5 2 5-1 5 0 5-1 5 2 5 4 5 2 5 0 5 0 5-3 5 0 5 2 5 4 5 4 5-1 5-2 5-2 5-1 5 3 5 5 5 2 5 0 5-2 5-3 5 0 5 1 5 3 5 3 5-1 5-2 5-1 5-1 5 0 5 2 5 1 5 2 5-2 5 0 5-1 5-2 5 0 5 2 5 1 5 2 5-1 5-2 5-2 5-2 5 1 5 4 5 2 5 0 5-2 5-4 5-2 5 2 5 3 5 4 5-1 5-3 5-2 5-3 5 2 5 4 5 2 5 0 5-2 5-3 5 0 5 1 5 3 5 2 5-1 5-1 5 0 5 0 5 2 5 1 5 1 5 1 5-1 5 1 5 2 5-1 5 0 5 1 5 0 5 2 5 1 5 1 5 1 5-2 5 0 5 2 5 1 5 2 5 1 5-1 5 0 5 0 5 2 5 2 5 0 5 1 5 1 5-1 5 2 5 2 5 0 5 0 5 0 5 1 5 2 5 1 5 1 5 0 5-2 5 0 5 2 5 3 5 3 5-1 5-2 5-2 5-1 5 3 5 5 5 1 5 0 5-3 5-3 5 0 5 2 5 4 5 3 5-2 5-2 5-1 5-2 5 2 5 4 5 1 5 1 5-2 5-1 5 0 5 0 5 2 5 3 5 1 5 0" stroke="#bcff43"/>
<path d="M145 330l5-20 5-19 5-10 5-10 5-11 5-8 5-10 5-15 5-11 5-7 5-10 5-8 5-3 5-5 5-5 5 0 5 0 5-1 5 7 5 11 5 3 5 3 5 4 5-2 5 3 5 10 5 5 5 1 5 5 5 5 5 2 5 8 5 7 5 1 5 4 5 9 5 5 5 3 5 7 5 2 5 2 5 7 5 7 5 2 5 4 5 6 5 3 5 4 5 5 5 0 5 0 5 4 5 6 5 2 5 2 5 0 5-3 5 2 5 6 5 4 5 1 5 1 5-1 5-1 5 3 5 2 5 1 5 3 5 3 5 0 5-1 5-2 5-1 5 3 5 6 5 3 5-1 5-4 5-3 5 1 5 5 5 4 5 1 5-2 5-2 5-2 5 1 5 2 5 1 5 1 5 1 5-1 5-1 5-3 5-1 5 2 5 3 5 2 5-1 5-4 5-3 5 0 5 4 5 2 5-1 5-2 5-2 5 0 5 2 5 1 5-2 5-1 5 1 5 1 5 1 5 0 5-2 5-1 5 2 5 2 5-1 5 0 5 0 5 0 5 1 5 1 5-2 5-1 5 2 5 3 5 1 5 0 5-3 5-3 5 2 5 5 5 2 5 0 5-1 5-2 5-1 5 3 5 2 5 1 5 1 5 1 5-1 5-1 5 0 5-1 5 2 5 6 5 1 5-3 5-3 5-2 5 0 5 6 5 5 5-1 5-3 5-3 5-1 5 2 5 4 5 2 5-1 5 1 5 0 5-2 5 0 5 1 5 2 5 3 5 3 5-1 5-4 5-1 5 2 5 4 5 4 5 0 5-3 5-1 5 2 5 2 5 2 5 1 5-1 5 0 5 2 5 2 5-1 5 0 5 0 5 1 5 3 5 1 5-1 5-1 5 1 5 2 5 0 5 0 5 0 5 0 5 3 5 2 5-1 5-2 5-2 5 2 5 4 5 3 5 0 5-4" stroke="#bfff40"/>
<path d="M145 269l5-11 5-7 5-7 5-11 5-14 5-11 5-8 5-3 5-2 5-2 5-3 5-1 5 1 5 4 5 8 5 7 5 2 5 1 5 4 5 4 5 2 5 5 5 4 5 0 5 0 5 7 5 7 5 3 5 4 5 6 5 1 5 0 5 5 5 7 5 4 5 4 5 7 5 4 5-2 5 1 5 6 5 4 5 5 5 7 5 4 5-1 5 1 5 5 5 5 5 1 5 2 5 1 5 0 5 3 5 6 5 4 5-1 5-3 5-1 5 2 5 6 5 5 5 3 5-1 5-3 5-1 5 2 5 4 5 2 5 1 5 0 5 0 5 0 5 2 5 1 5 0 5-2 5 2 5 2 5 1 5 1 5 1 5 0 5-2 5-1 5 1 5 0 5 1 5 4 5 1 5-2 5-3 5-2 5-1 5 2 5 5 5 2 5-3 5-4 5 0 5 1 5 1 5 2 5-1 5-3 5-1 5 4 5 3 5 1 5-3 5-3 5-2 5 1 5 5 5 4 5 0 5-3 5-3 5-1 5 1 5 3 5 1 5 1 5 0 5-1 5 0 5 1 5 0 5-1 5 1 5 1 5 0 5 0 5 2 5 0 5 0 5 0 5 0 5-2 5 0 5 4 5 4 5 0 5-1 5-2 5-3 5 0 5 5 5 5 5 0 5-3 5-2 5-1 5 1 5 3 5 2 5-2 5-3 5 1 5 3 5 2 5 1 5-2 5-3 5-2 5 3 5 4 5 3 5 0 5-3 5-2 5 0 5 1 5 3 5 2 5 1 5 0 5 0 5 0 5-1 5 0 5 2 5 2 5 1 5 0 5 1 5 0 5 1 5 1 5 1 5-1 5-2 5 2 5 4 5 3 5 1 5-1 5-4 5-3 5 3 5 6 5 3 5 0 5-1 5-3 5-1 5 3 5 4 5 0 5-2 5 0 5 2 5 1 5 3 5 1 5-3" stroke="#c3ff3c"/>
<path d="M145 291l5-11 5-14 5-10 5-6 5-13 5-13 5-12 5-9 5-4 5-3 5-6 5-11 5-4 5-1 5 4 5 12 5 4 5 0 5 4 5-1 5 5 5 9 5-3 5 4 5 5 5 1 5 9 5 5 5-1 5 4 5 2 5 6 5 10 5 6 5 2 5 2 5 4 5 3 5 7 5 7 5 1 5 6 5 5 5 1 5 6 5 3 5 0 5 8 5 4 5 3 5 5 5-3 5 0 5 4 5 2 5 5 5 2 5 0 5 2 5 2 5 1 5 1 5 1 5 0 5 3 5 6 5 1 5-2 5-2 5-2 5 3 5 7 5 1 5 0 5-3 5-3 5 3 5 3 5 2 5 1 5-3 5 0 5 4 5 1 5 0 5-3 5-2 5 2 5 4 5 4 5-2 5-4 5-4 5 0 5 6 5 3 5-1 5-1 5-4 5-1 5 4 5 0 5 0 5 0 5-3 5 3 5 2 5-2 5-1 5-3 5 0 5 4 5 2 5 0 5-3 5-2 5-1 5 1 5 3 5-1 5 1 5 0 5-2 5 1 5-1 5-3 5 3 5 1 5 1 5 2 5-4 5-3 5 1 5 1 5 4 5 2 5-3 5 0 5 0 5 1 5 2 5 0 5-2 5 1 5 4 5 2 5 0 5-1 5-5 5 1 5 6 5 3 5 2 5-2 5-6 5 1 5 3 5 3 5 4 5-2 5-3 5 2 5 1 5 2 5 1 5-3 5 0 5 3 5 4 5 1 5-1 5-4 5-2 5 4 5 4 5 3 5 0 5-4 5-2 5 3 5 1 5 3 5 1 5-2 5 1 5 2 5-1 5 1 5-1 5-1 5 4 5 2 5 1 5-1 5-2 5-1 5 2 5 3 5 1 5 0 5 1 5-1 5 1 5 0 5-2 5 2 5 2 5 2 5 4 5-3 5-3 5 0 5 0 5 5 5 5 5-3" stroke="#c7ff38"/>
<path d="M145 339l5-17 5-12 5-11 5-12 5-13 5-14 5-7 5-9 5-13 5-8 5-10 5-8 5-4 5-6 5-6 5-6 5 2 5 8 5 3 5 5 5 3 5-1 5 6 5 7 5 4 5 1 5-1 5 7 5 7 5 3 5 7 5 1 5 2 5 9 5 7 5 6 5 2 5 3 5 7 5 5 5 6 5 7 5 1 5 3 5 7 5 5 5 5 5 3 5 4 5 3 5 1 5 5 5 3 5 0 5 3 5 1 5 1 5 2 5 2 5 3 5 0 5-1 5 3 5 1 5 1 5 2 5-1 5 0 5 0 5 2 5 2 5-1 5-1 5 0 5 0 5 2 5 1 5-1 5 0 5-1 5 2 5 1 5 0 5 1 5-1 5-1 5 2 5 1 5 1 5 0 5 0 5 0 5-1 5 2 5 3 5-2 5 0 5-1 5 1 5 2 5 2 5-1 5-2 5-1 5 3 5 3 5-1 5-1 5-3 5 0 5 4 5 2 5-2 5-4 5-1 5 3 5 1 5 1 5-2 5-4 5 0 5 3 5 1 5-2 5-3 5 0 5 1 5 1 5 0 5-2 5-2 5 2 5 1 5 0 5-1 5-1 5 3 5 0 5 0 5 1 5-1 5 2 5 3 5 0 5-1 5 0 5 3 5 4 5-1 5 0 5-2 5 1 5 6 5 2 5-2 5-3 5 0 5 6 5 3 5 0 5-3 5-3 5 3 5 5 5 2 5-3 5-4 5 1 5 4 5 3 5 0 5-4 5-3 5 3 5 5 5 0 5-3 5-3 5 2 5 3 5 2 5-1 5-3 5 0 5 3 5 2 5 0 5-2 5 0 5 3 5 1 5 0 5 0 5-1 5 3 5 3 5-1 5-1 5 0 5 3 5 3 5 0 5-1 5-2 5 2 5 6 5 1 5-3 5-2 5 1 5 5 5 3 5-1 5-3 5-2 5 4" stroke="#caff35"/>
<path d="M145 324l5-14 5-4 5-11 5-15 5-11 5-17 5-14 5-6 5-6 5-5 5-9 5-11 5-10 5-9 5 2 5 7 5 2 5 5 5 4 5-4 5 4 5 8 5 1 5 6 5 4 5-2 5 4 5 6 5 5 5 5 5 3 5 4 5 3 5 5 5 11 5 6 5 2 5 5 5 1 5 1 5 11 5 8 5 5 5 6 5 0 5-1 5 6 5 7 5 8 5 6 5 1 5-2 5-2 5 2 5 7 5 4 5 4 5 3 5-5 5-1 5 4 5 1 5 5 5 4 5-2 5-1 5 0 5 1 5 2 5 2 5 0 5-1 5-1 5 2 5 2 5 0 5 1 5-2 5-3 5 3 5 2 5 2 5 2 5-2 5-4 5-1 5 1 5 3 5 4 5 1 5-2 5-5 5-2 5 2 5 2 5 4 5 2 5-4 5-3 5-1 5-1 5 3 5 4 5-1 5-1 5-2 5-2 5 0 5 2 5 1 5 0 5-1 5-1 5 0 5-1 5 2 5-1 5-2 5 0 5 1 5 0 5 2 5 0 5-4 5 0 5-1 5 1 5 3 5 2 5-1 5-2 5-3 5 0 5 2 5 3 5 4 5 0 5-3 5 0 5-1 5 2 5 5 5 2 5 1 5 0 5-2 5 0 5 2 5 2 5 2 5 2 5 0 5 0 5-1 5 1 5 2 5-1 5 2 5 2 5-1 5 1 5 1 5-3 5 1 5 1 5 0 5 2 5 2 5-1 5-1 5-2 5 0 5 1 5 1 5 3 5 0 5-2 5 0 5-2 5 0 5 4 5 1 5 0 5 2 5-2 5-2 5 1 5 0 5 2 5 2 5 2 5 0 5-1 5-1 5 1 5 0 5 3 5 3 5-1 5 1 5 0 5-2 5 1 5 2 5 1 5 3 5 1 5-1 5-1 5 0 5 1 5 2 5 1 5 3 5 0 5-3" stroke="#ceff31"/>
<path d="M145 287l5-14 5-16 5-13 5-9 5-7 5-6 5-9 5-9 5-11 5-13 5-6 5 4 5 2 5 5 5 7 5 0 5-3 5 5 5 5 5 1 5 10 5 7 5-3 5 2 5 5 5 0 5 4 5 10 5 4 5 2 5 8 5 4 5 2 5 6 5 5 5 3 5 5 5 6 5 6 5 5 5 4 5 4 5 2 5 2 5 5 5 8 5 5 5 5 5 4 5-2 5-3 5 4 5 5 5 3 5 7 5 4 5-4 5-2 5 1 5 0 5 4 5 8 5 2 5-1 5 0 5-3 5-2 5 3 5 4 5 2 5 1 5 0 5-2 5-2 5 0 5 2 5 1 5 1 5 1 5 1 5-1 5-1 5 1 5-1 5-1 5 2 5 1 5 0 5 3 5 1 5-5 5-1 5 0 5-1 5 3 5 6 5 0 5-3 5-2 5-3 5-2 5 4 5 5 5 2 5 1 5-3 5-4 5-3 5 1 5 4 5 4 5 2 5-1 5-3 5-4 5-1 5 3 5 2 5 1 5 2 5-1 5-4 5 0 5 0 5-1 5 2 5 2 5-2 5 0 5 2 5-2 5-2 5 0 5-1 5-1 5 3 5 3 5 0 5 0 5-2 5-4 5-1 5 3 5 3 5 4 5 1 5-2 5-3 5-4 5 0 5 5 5 4 5 2 5 2 5-4 5-5 5 0 5 2 5 3 5 5 5 3 5-3 5-2 5-1 5-1 5 2 5 5 5 2 5 0 5 1 5-1 5-1 5 1 5 2 5 1 5 1 5 2 5 2 5 1 5 0 5 0 5-1 5 0 5 1 5 4 5 3 5 1 5 1 5-3 5-4 5 1 5 3 5 3 5 5 5 2 5-4 5-4 5-1 5 0 5 3 5 7 5 2 5-2 5-2 5-4 5-2 5 3 5 4 5 3 5 1 5-1 5-3 5-2 5 1 5 2 5 2" stroke="#d2ff2d"/>
<path d="M145 294l5-9 5-12 5-16 5-11 5-11 5-11 5-6 5-9 5-10 5-3 5-4 5-10 5-3 5 4 5 1 5 5 5 8 5 4 5 4 5 2 5 0 5 2 5 5 5 2 5 7 5 8 5-1 5 2 5 8 5 3 5 2 5 5 5 5 5 7 5 9 5 4 5 0 5 2 5 1 5 7 5 11 5 3 5-1 5 6 5 7 5 2 5 3 5 0 5 1 5 7 5 8 5 2 5-1 5-4 5 0 5 7 5 5 5-1 5 1 5 3 5 2 5 3 5 0 5-4 5 0 5 5 5 5 5 4 5-2 5-4 5 1 5 3 5 0 5 1 5 2 5 1 5 2 5 2 5-2 5-2 5 0 5 1 5 3 5 3 5 0 5 0 5 0 5-3 5-2 5 2 5 3 5 0 5 1 5-1 5-2 5 0 5 0 5-1 5-1 5 0 5 2 5 4 5-2 5-6 5-3 5 2 5 2 5 2 5 0 5-4 5 0 5 2 5 0 5-3 5-3 5-1 5 5 5 5 5-2 5-4 5-3 5-1 5 3 5 4 5-1 5-3 5 2 5 2 5 2 5-3 5-4 5 0 5 6 5 4 5 1 5-1 5-4 5 0 5 4 5 2 5-1 5 2 5 2 5 2 5 1 5-2 5-2 5 2 5 2 5 2 5 3 5 0 5-2 5 0 5-1 5-1 5 1 5 3 5 2 5 0 5-1 5-2 5 1 5 0 5-2 5 0 5 3 5 1 5 2 5 0 5-6 5-3 5 3 5 4 5 3 5-1 5-3 5 1 5 3 5-1 5-2 5-1 5 1 5 4 5 6 5-1 5-6 5-2 5 3 5 4 5 3 5-1 5-1 5 3 5 2 5 1 5-1 5-3 5 0 5 7 5 5 5-1 5-3 5-2 5 1 5 3 5 2 5 0 5 1 5 2 5 1 5 2 5-2 5-3 5 1 5 4" stroke="#d5ff2a"/>
<path d="M145 267l5-10 5-6 5-9 5-10 5-15 5-13 5-3 5-9 5-5 5-1 5-8 5-2 5 2 5 5 5 6 5 4 5 6 5 1 5-1 5 7 5 3 5 1 5 6 5 2 5 3 5 4 5 5 5 5 5 0 5 6 5 7 5 2 5 8 5 5 5 1 5 4 5 5 5 5 5 5 5 4 5 6 5 0 5 4 5 8 5 3 5 4 5 4 5 0 5 2 5 4 5 5 5 3 5-1 5 2 5-1 5 1 5 7 5 3 5 1 5-1 5-2 5 1 5 3 5 5 5 3 5-3 5-1 5-1 5-1 5 6 5 3 5 0 5-1 5-3 5-1 5 2 5 3 5 4 5-1 5-1 5-1 5-1 5 1 5 3 5 1 5 1 5 0 5 0 5-1 5-1 5 2 5 0 5 2 5 3 5-1 5-3 5-2 5-1 5 3 5 3 5 3 5-1 5-6 5-2 5 0 5 2 5 6 5 1 5-2 5-5 5-4 5 2 5 3 5 5 5 1 5-5 5-3 5-2 5 1 5 4 5 3 5 0 5-3 5-3 5 0 5 1 5 2 5 3 5-1 5-1 5-1 5 0 5 1 5 0 5 2 5 1 5 0 5 2 5-1 5-2 5 2 5 1 5 1 5 3 5 0 5-1 5-2 5 0 5 3 5 1 5 3 5 0 5-5 5 0 5 0 5 2 5 3 5 1 5-2 5-3 5-1 5 3 5 2 5 1 5 0 5-3 5-1 5 1 5 3 5 2 5-1 5-1 5-2 5 0 5 5 5 2 5 0 5 0 5-3 5 0 5 2 5 4 5 2 5-1 5-1 5-1 5 0 5 4 5 2 5 0 5 1 5-1 5 0 5 0 5 2 5 2 5-1 5 1 5 2 5-2 5 1 5 0 5 0 5 2 5 2 5 2 5-1 5-3 5 0 5 0 5 3 5 5 5 1 5-2 5-3 5-2" stroke="#d9ff26"/>
<path d="M145 329l5-15 5-9 5-12 5-18 5-14 5-6 5-9 5-14 5-10 5-6 5-9 5-11 5-4 5-3 5-8 5-4 5 6 5 8 5 3 5 5 5 4 5 0 5-3 5 7 5 12 5 5 5 0 5 2 5 2 5 1 5 7 5 12 5 8 5 0 5 1 5 6 5 5 5 6 5 9 5 6 5 0 5 1 5 7 5 9 5 4 5 3 5 3 5 2 5 2 5 8 5 7 5 1 5-3 5-2 5 3 5 4 5 6 5 5 5 0 5-5 5-2 5 3 5 6 5 4 5 2 5-1 5-4 5-1 5 3 5 4 5 2 5-1 5-2 5 0 5 0 5 3 5 1 5-1 5-2 5 0 5 2 5 2 5 1 5-1 5-3 5-1 5 1 5 3 5 2 5 0 5-2 5-3 5-1 5 1 5 3 5 2 5 0 5-2 5-2 5 0 5 1 5 0 5 1 5 1 5 1 5 0 5-1 5-1 5 0 5 0 5 2 5 2 5 1 5-2 5-1 5-1 5 1 5 1 5 3 5 1 5-2 5-2 5 1 5 1 5 0 5 0 5 1 5-1 5 0 5 2 5 1 5-1 5-4 5 0 5 2 5 3 5 2 5 1 5-3 5-5 5 0 5 5 5 4 5 2 5-1 5-3 5-4 5-1 5 6 5 5 5-1 5-3 5-2 5-1 5 0 5 4 5 3 5-2 5-4 5 0 5 3 5 2 5 0 5 0 5-3 5-3 5 3 5 6 5 3 5-3 5-4 5-2 5 0 5 4 5 7 5 2 5-4 5-5 5 0 5 3 5 3 5 4 5 2 5-3 5-4 5 1 5 5 5 2 5 0 5 1 5-1 5-1 5 2 5 5 5 0 5-3 5 0 5 3 5 2 5 2 5 2 5-1 5-4 5-1 5 5 5 4 5 1 5 0 5 0 5-3 5-1 5 3 5 5 5 0 5-1 5 0" stroke="#ddff22"/>
<path d="M145 301l5-17 5-14 5-9 5-7 5-9 5-18 5-12 5-5 5-4 5-2 5-10 5-16 5-2 5 7 5 8 5 3 5-2 5 6 5 6 5 4 5 5 5 1 5 2 5 9 5 5 5 0 5 0 5 5 5 12 5 5 5 2 5 5 5 0 5 6 5 10 5 4 5 5 5 3 5 2 5 4 5 2 5 9 5 8 5-1 5 2 5 3 5 4 5 6 5 3 5 1 5 1 5 2 5 4 5-1 5-3 5 5 5 6 5 2 5-2 5-5 5 1 5 7 5 6 5 0 5-7 5-3 5 7 5 4 5 0 5-3 5-1 5 4 5 2 5-2 5-1 5-1 5 6 5 4 5-4 5-4 5 0 5 5 5 5 5-1 5-2 5-1 5-1 5 4 5 2 5 0 5 1 5-1 5-1 5-1 5 2 5 4 5 0 5-3 5 1 5 0 5 1 5 1 5-1 5 0 5 2 5 1 5-2 5-5 5 1 5 7 5 3 5-4 5-6 5-3 5 6 5 5 5 0 5-6 5-4 5 3 5 4 5-2 5-2 5-1 5 2 5 3 5-3 5-5 5-1 5 4 5 5 5-2 5-7 5-1 5 2 5 4 5 2 5-2 5-2 5-1 5 2 5 2 5 0 5 1 5 2 5-2 5-1 5 1 5 2 5 3 5-1 5 0 5 1 5-1 5 1 5 0 5 0 5 4 5 3 5-3 5-4 5-1 5 6 5 6 5-2 5-4 5-4 5 3 5 7 5 2 5-4 5-3 5 2 5 5 5-1 5-3 5 0 5 4 5 4 5 0 5-7 5-2 5 5 5 7 5 1 5-6 5-3 5 3 5 3 5 3 5 0 5-3 5 1 5 1 5 0 5 1 5 1 5 3 5 0 5-2 5 0 5 2 5 1 5 2 5 0 5 2 5 0 5-1 5 0 5 0 5 4 5 6 5-2 5-5 5-1 5 4" stroke="#e0ff1f"/>
<path d="M145 313l5-7 5-16 5-16 5-9 5-12 5-12 5-9 5-10 5-8 5-7 5-7 5-7 5-12 5-2 5 4 5 2 5 11 5 4 5-4 5 4 5 3 5 5 5 9 5 3 5 1 5 1 5 4 5 8 5 2 5 4 5 8 5 0 5 9 5 10 5-1 5 4 5 5 5 3 5 9 5 8 5 3 5 3 5 1 5 6 5 4 5 6 5 8 5 2 5 2 5 5 5-2 5 2 5 5 5 2 5 4 5 4 5-1 5 0 5 0 5 4 5 3 5 0 5 3 5 0 5 0 5 5 5-1 5-3 5 2 5 1 5 3 5 4 5-2 5-4 5-3 5 2 5 4 5 3 5 1 5-3 5-5 5 2 5 2 5 0 5 2 5-2 5-1 5 2 5 0 5-2 5-1 5-2 5 1 5 2 5 2 5-1 5-4 5-2 5 1 5-1 5 3 5 2 5-3 5 1 5-2 5-3 5 1 5 1 5 2 5 2 5-1 5-2 5-4 5 0 5 4 5 1 5 1 5 0 5-4 5 1 5 2 5-1 5 0 5-1 5 1 5 3 5 2 5-1 5-4 5-3 5 3 5 4 5 3 5 2 5-5 5-3 5 2 5 2 5 4 5 2 5-1 5-1 5 0 5 2 5 1 5-1 5 2 5 2 5 0 5 4 5-2 5-3 5 2 5 0 5 2 5 3 5 0 5 0 5-1 5 0 5-1 5 0 5 2 5 4 5 0 5 0 5-3 5-4 5 3 5 4 5 2 5 1 5-3 5-3 5 1 5 2 5 2 5-1 5-1 5 2 5 0 5 2 5 1 5-5 5-1 5 3 5 2 5 4 5 0 5-5 5-2 5 0 5 4 5 4 5 0 5 0 5-3 5-1 5 3 5 0 5 0 5 3 5 0 5 1 5 1 5-2 5 0 5 1 5 2 5 2 5 0 5 1 5 0 5-1 5 2 5-1" stroke="#e4ff1b"/>
<path d="M145 311l5-15 5-13 5-10 5-10 5-12 5-12 5-13 5-11 5-6 5-5 5-9 5-9 5-6 5-5 5-3 5 6 5 8 5 1 5 2 5 6 5 4 5 0 5 7 5 8 5 1 5-1 5 6 5 7 5 1 5 6 5 8 5 4 5 1 5 6 5 8 5 4 5 4 5 6 5 4 5 3 5 5 5 6 5 4 5 3 5 4 5 5 5 6 5 4 5 2 5 2 5 2 5 2 5 3 5 5 5 4 5-2 5-1 5 3 5 3 5 2 5 5 5 3 5-3 5-2 5 2 5 4 5 2 5 4 5 1 5-3 5-4 5 2 5 4 5 2 5 1 5 1 5-4 5-3 5 1 5 4 5 2 5 0 5-1 5-2 5-2 5 0 5 2 5 2 5 0 5-1 5-2 5-1 5 0 5 0 5 0 5 2 5-1 5-1 5 0 5 0 5-2 5 0 5 3 5 1 5 0 5 0 5-1 5-3 5 0 5 4 5 4 5-1 5 0 5-2 5-3 5 0 5 5 5 5 5 0 5-2 5-3 5-3 5 1 5 5 5 4 5 1 5-3 5-4 5-2 5 1 5 4 5 3 5 0 5-2 5-4 5-2 5 2 5 3 5 1 5 1 5-1 5-3 5-2 5 2 5 2 5 0 5 0 5 1 5-1 5-3 5 1 5 1 5 0 5 0 5 3 5 0 5-3 5-1 5 1 5 1 5 1 5 4 5 1 5-2 5-3 5 0 5 2 5 4 5 4 5 1 5-2 5-3 5-1 5 3 5 5 5 4 5 0 5-2 5-2 5-1 5 3 5 5 5 4 5-2 5-2 5-1 5-1 5 2 5 5 5 3 5-2 5-3 5 0 5 0 5 1 5 3 5 3 5-3 5-1 5 0 5 1 5-1 5 2 5 2 5-1 5-1 5 1 5 1 5-1 5 0 5 2 5 1 5 1 5 1 5-1 5-1" stroke="#e8ff17"/>
<path d="M145 309l5-12 5-10 5-14 5-19 5-10 5-6 5-8 5-10 5-11 5-14 5-9 5-2 5-3 5-2 5-2 5 1 5 6 5 1 5 1 5 9 5 10 5 2 5 1 5-1 5 0 5 8 5 9 5 7 5 3 5-1 5 4 5 9 5 3 5 5 5 11 5 8 5 1 5 1 5 2 5 7 5 11 5 7 5 3 5 1 5 1 5 7 5 8 5 2 5 3 5 6 5 3 5 0 5-1 5 2 5 6 5 5 5 0 5 0 5 0 5 2 5 5 5 2 5-3 5 0 5 5 5 2 5 0 5-2 5 0 5 3 5 1 5-2 5 1 5 1 5 1 5 0 5-3 5-3 5 3 5 5 5 2 5-4 5-5 5-1 5 4 5 1 5 0 5 1 5-1 5-2 5-2 5-2 5 1 5 5 5 3 5-2 5-7 5-5 5 4 5 6 5 1 5-2 5-1 5-2 5-1 5 0 5 0 5 4 5 3 5-1 5-4 5-5 5 0 5 8 5 4 5-2 5-4 5-1 5 0 5 2 5 1 5 1 5 2 5 0 5-1 5-3 5-1 5 3 5 6 5 0 5-5 5-2 5 2 5 4 5 1 5-2 5 0 5 2 5 1 5 0 5 0 5-1 5 2 5 3 5 0 5-2 5 1 5 3 5 2 5-3 5-4 5 3 5 4 5 2 5-1 5-4 5-2 5 3 5 3 5 0 5 0 5 0 5 0 5-1 5-4 5 0 5 6 5 5 5-2 5-5 5-4 5 1 5 5 5 4 5-1 5-2 5-2 5 0 5 0 5-1 5 4 5 6 5 0 5-5 5-5 5 0 5 6 5 6 5 0 5-3 5-3 5 0 5 3 5 2 5 0 5 2 5 4 5-2 5-4 5-1 5 4 5 6 5 1 5-2 5-3 5 1 5 3 5 3 5 0 5-2 5 3 5 3 5-1 5-1 5 0 5 3" stroke="#ebff14"/>
<path d="M145 314l5-10 5-8 5-15 5-18 5-10 5-10 5-14 5-8 5-6 5-7 5-5 5-9 5-10 5-5 5 0 5 3 5 7 5 7 5 2 5 6 5 5 5-3 5-1 5 7 5 5 5 4 5 9 5 3 5 0 5 6 5 4 5 1 5 5 5 9 5 8 5 7 5 4 5 0 5 3 5 5 5 3 5 6 5 8 5 5 5 6 5 6 5-2 5-1 5 6 5 5 5 3 5 4 5 4 5 1 5 2 5 0 5-2 5 1 5 5 5 5 5 3 5 1 5 0 5 0 5 1 5-2 5 1 5 4 5 4 5 2 5 1 5-3 5-3 5 1 5 2 5-1 5 2 5 4 5 2 5-1 5-3 5-3 5 0 5 3 5 2 5 1 5 2 5-1 5 0 5-2 5-4 5-1 5 4 5 3 5 0 5 0 5-1 5-3 5-1 5 0 5-2 5 2 5 5 5 1 5-2 5-2 5-3 5-1 5 1 5 1 5 0 5 3 5 1 5-1 5-2 5-4 5-2 5 4 5 3 5-1 5 1 5 1 5-2 5-3 5-1 5-2 5 2 5 5 5 2 5-2 5-2 5-1 5-1 5-1 5 0 5 2 5 4 5 3 5-2 5-2 5-1 5-2 5 3 5 2 5 1 5 2 5 3 5 0 5-4 5-2 5 0 5 2 5 4 5 2 5 0 5 1 5-1 5-1 5-2 5-1 5 2 5 6 5 2 5-2 5-1 5 0 5-1 5-1 5 2 5 1 5 3 5 4 5 0 5-4 5-2 5 0 5 2 5 2 5 1 5 2 5 2 5 0 5-3 5-2 5 0 5 2 5 4 5 3 5-1 5 0 5 1 5-2 5-3 5 1 5 3 5 3 5 3 5 1 5-4 5-1 5 1 5-1 5 1 5 2 5 3 5 4 5 0 5-4 5-2 5 1 5 1 5 2 5 3 5 1 5 1 5 1" stroke="#efff10"/>
<path d="M145 315l5-7 5-12 5-12 5-12 5-12 5-12 5-11 5-7 5-10 5-8 5-2 5-8 5-11 5 0 5 0 5 1 5 7 5 4 5 3 5 3 5 7 5 6 5-2 5 2 5 3 5 1 5 10 5 10 5-1 5 0 5 3 5 5 5 8 5 7 5 5 5-1 5 3 5 12 5 5 5 1 5 3 5-1 5 4 5 12 5 8 5 2 5-2 5 1 5 5 5 4 5 6 5 2 5-4 5 3 5 6 5 1 5 2 5-1 5-1 5 2 5 5 5 5 5 0 5-1 5 1 5-1 5 1 5 4 5 0 5 1 5 4 5 0 5-2 5-1 5 1 5 2 5 1 5 1 5 0 5-1 5 3 5 2 5-2 5-3 5-1 5 2 5 5 5 3 5-1 5-6 5-3 5 3 5 3 5 1 5 0 5-5 5-1 5 5 5 2 5-2 5-5 5-3 5 2 5 5 5 5 5-2 5-7 5-3 5 2 5 2 5 3 5-1 5-3 5-1 5 3 5 2 5-2 5-3 5-1 5 0 5 4 5 4 5-3 5-2 5-1 5-1 5 1 5 1 5 1 5 1 5 0 5 1 5-2 5-2 5 2 5 2 5 0 5 2 5 0 5-1 5 3 5 1 5-1 5-3 5 0 5 4 5 4 5 3 5-1 5-6 5-2 5 4 5 3 5 3 5-1 5-4 5 0 5 3 5 4 5-2 5-5 5-1 5 2 5 5 5 5 5-3 5-6 5-3 5 3 5 4 5 2 5-1 5-2 5-2 5 3 5 3 5-2 5-2 5-1 5 1 5 4 5 3 5-1 5-3 5-1 5 1 5 1 5 1 5 3 5 0 5 0 5 2 5-2 5-1 5 2 5 2 5 2 5 1 5 0 5 0 5 1 5 2 5 1 5-4 5 2 5 4 5 3 5 3 5-1 5-4 5-2 5 4 5 6 5 2 5-1 5-2" stroke="#f3ff0c"/>
<path d="M145 327l5-14 5-19 5-15 5-9 5-11 5-7 5-6 5-14 5-13 5-6 5-9 5-8 5-1 5-4 5-1 5 4 5 4 5 3 5 4 5 3 5 3 5 5 5 6 5 6 5 0 5 0 5 5 5 2 5 6 5 12 5 3 5 1 5 5 5 2 5 4 5 11 5 6 5 3 5 4 5 3 5 4 5 5 5 5 5 4 5 4 5 4 5 7 5 3 5 2 5 3 5-1 5 1 5 7 5 3 5 1 5 2 5-1 5-2 5 5 5 4 5 2 5 2 5-1 5-1 5 1 5 2 5 3 5 0 5 0 5 0 5 0 5 1 5 3 5-1 5-2 5 1 5 1 5 1 5 2 5 0 5-3 5 0 5 1 5 2 5 2 5-1 5-2 5-2 5 0 5 3 5 1 5 0 5-1 5-3 5-1 5 3 5 1 5-1 5 0 5-1 5-2 5 2 5 2 5-1 5-1 5-1 5-1 5 2 5 1 5 0 5-2 5-1 5 1 5 1 5 1 5 1 5-2 5-3 5 1 5 2 5 1 5 2 5-1 5-4 5-1 5 2 5 1 5 2 5 1 5-3 5-1 5 1 5 1 5 1 5 0 5 0 5 0 5 1 5 2 5 1 5-3 5 1 5 1 5 1 5 4 5 2 5-3 5-2 5 0 5 1 5 4 5 3 5 0 5-2 5-2 5 0 5 2 5 2 5 2 5 0 5-1 5 0 5 1 5-1 5 1 5 1 5-1 5 3 5 2 5-1 5-1 5-1 5-2 5 2 5 5 5 2 5 0 5-3 5-3 5-1 5 3 5 4 5 2 5-1 5-1 5-1 5-2 5 2 5 3 5-1 5 1 5 2 5-1 5 0 5 0 5-2 5 0 5 3 5 3 5 2 5-1 5-3 5-3 5 0 5 3 5 5 5 2 5 0 5-2 5-4 5 0 5 4 5 2 5 2 5 1 5-2" stroke="#f6ff09"/>
<path d="M145 312l5-15 5-17 5-8 5-5 5-12 5-15 5-9 5-9 5-13 5-6 5-3 5-8 5-8 5 0 5 2 5-1 5 4 5 7 5 4 5 2 5 5 5 4 5-1 5 1 5 4 5 5 5 6 5 6 5 4 5 0 5 2 5 6 5 8 5 9 5 5 5 2 5 2 5 6 5 5 5 6 5 6 5 3 5 3 5 7 5 7 5 2 5 0 5 5 5 6 5 5 5 5 5 1 5-5 5-2 5 8 5 7 5 2 5-1 5-1 5-2 5 2 5 7 5 2 5-3 5-1 5 3 5 2 5 0 5-1 5-2 5 0 5 4 5 5 5-1 5-6 5-3 5 2 5 5 5 5 5 1 5-5 5-4 5 2 5 5 5 2 5 0 5-1 5-1 5 2 5 2 5 0 5-2 5 0 5 2 5 4 5 1 5-2 5-4 5-1 5 3 5 4 5 2 5-2 5-3 5-3 5 1 5 4 5 0 5-1 5 0 5-1 5-2 5 0 5 0 5-1 5 0 5 2 5 0 5-3 5-2 5 0 5 0 5 0 5 3 5 1 5-3 5-2 5 0 5-1 5 1 5 4 5 2 5-3 5-3 5 0 5 2 5 2 5 3 5 1 5-2 5-1 5 2 5 1 5 0 5 0 5 2 5 2 5 2 5 0 5-3 5-3 5 1 5 5 5 3 5 0 5-4 5-5 5 1 5 4 5 3 5 1 5-3 5-4 5 0 5 4 5 1 5-2 5-2 5 2 5 2 5 1 5 0 5-4 5-3 5 4 5 7 5 3 5-4 5-4 5-1 5 2 5 7 5 4 5-2 5-4 5 0 5 4 5 3 5 0 5 1 5 0 5 1 5 4 5 2 5-4 5-3 5 3 5 6 5 3 5 0 5-3 5-4 5 0 5 6 5 4 5 0 5-3 5-2 5 0 5 2 5 2 5 0 5 0 5 0 5 1 5 0" stroke="#faff05"/>
<path d="M145 302l5-17 5-16 5-14 5-14 5-8 5-5 5-8 5-10 5-9 5-9 5-10 5-4 5-5 5-2 5 7 5 4 5 6 5 9 5-3 5 0 5 4 5 1 5 10 5 8 5 1 5 4 5 1 5 1 5 6 5 5 5 5 5 6 5 6 5 6 5 5 5 5 5-1 5 2 5 6 5 4 5 11 5 7 5 0 5 4 5 0 5 2 5 8 5 3 5 5 5 5 5 1 5 4 5 2 5-1 5 0 5 1 5 4 5 6 5 6 5 2 5-3 5-1 5-1 5 3 5 6 5 3 5 2 5 2 5-2 5 2 5 0 5-3 5 1 5 2 5 3 5 5 5 1 5-2 5-4 5-3 5 0 5 4 5 4 5 1 5 0 5-2 5-3 5 0 5 0 5-2 5 1 5 1 5 2 5 3 5-3 5-4 5-3 5-3 5 2 5 5 5 1 5 1 5-3 5-4 5-1 5 0 5 1 5 0 5 1 5 2 5 1 5 1 5-3 5-4 5-1 5 0 5 5 5 5 5 0 5-1 5-4 5-3 5 2 5 1 5 1 5 2 5 0 5 1 5 1 5-2 5-2 5-2 5-1 5 3 5 5 5 3 5-2 5-3 5-4 5-1 5 4 5 1 5 2 5 2 5-2 5 1 5 0 5-3 5-1 5 0 5 1 5 5 5 3 5 0 5-3 5-4 5-3 5 2 5 4 5 3 5 2 5 0 5-3 5 1 5 0 5-2 5 2 5 1 5 2 5 6 5 1 5-2 5-2 5-4 5 1 5 5 5 4 5 4 5 0 5-3 5 0 5 0 5 0 5 2 5 1 5 2 5 2 5 3 5-1 5-2 5-2 5-3 5 3 5 6 5 2 5 2 5-3 5-4 5 0 5 0 5 1 5 3 5 0 5 1 5 2 5 0 5-2 5-3 5-2 5 1 5 5 5 4 5 1 5-1 5-4 5-4" stroke="#feff01"/>
<path d="M145 327l5-10 5-11 5-16 5-15 5-10 5-10 5-10 5-8 5-10 5-13 5-8 5-3 5-6 5-5 5-1 5 0 5 0 5 7 5 9 5 3 5 0 5 4 5 4 5 3 5 6 5 6 5 0 5 2 5 7 5 6 5 3 5 6 5 6 5 2 5 5 5 9 5 5 5 1 5 5 5 7 5 3 5 5 5 6 5 2 5 2 5 8 5 6 5 2 5 1 5 4 5 1 5 2 5 6 5 3 5-3 5 0 5 4 5 2 5 3 5 3 5-1 5-3 5 2 5 5 5 2 5 0 5 0 5-1 5-1 5 4 5 3 5-1 5-2 5 0 5 1 5 0 5 2 5 2 5-2 5-1 5 1 5 1 5-1 5 2 5 1 5-2 5 0 5 1 5-1 5-1 5 3 5 1 5-3 5-1 5 0 5 1 5 1 5 3 5-1 5-5 5-1 5 3 5 2 5 1 5 0 5-3 5-4 5 2 5 5 5 2 5-3 5-2 5-3 5 0 5 5 5 4 5-2 5-5 5-1 5 1 5 3 5 4 5 0 5-6 5-3 5 3 5 3 5 2 5 0 5-2 5-5 5 1 5 4 5 3 5-1 5-1 5-2 5-1 5 2 5 4 5 1 5-2 5 0 5-1 5 0 5 3 5 3 5 0 5-2 5 0 5-1 5 0 5 4 5 3 5-2 5-3 5-1 5 1 5 2 5 4 5 1 5-4 5-3 5 1 5 3 5 4 5 2 5-3 5-6 5 0 5 5 5 5 5 0 5-2 5-4 5-3 5 5 5 6 5 2 5-4 5-4 5-1 5 2 5 6 5 4 5-4 5-4 5-1 5 3 5 4 5 3 5-1 5-4 5-2 5 3 5 4 5 2 5 0 5-2 5-2 5 1 5 3 5 3 5 0 5 0 5-1 5-1 5 1 5 4 5 1 5 0 5 0 5-1 5-1 5 3 5 3" stroke="#fffd00"/>
<path d="M145 296l5-10 5-10 5-12 5-13 5-12 5-9 5-9 5-9 5-8 5-7 5-4 5-4 5-6 5-2 5 4 5 7 5 9 5 4 5-1 5 1 5 6 5 6 5 4 5 5 5 0 5 3 5 8 5 4 5 1 5 6 5 7 5 5 5 6 5 3 5-1 5 6 5 11 5 5 5 2 5 3 5 0 5 5 5 10 5 4 5 0 5 4 5 5 5 2 5 3 5 2 5 0 5 4 5 6 5-1 5-2 5 1 5 2 5 4 5 5 5-1 5-4 5 2 5 3 5 2 5 2 5 0 5-1 5 2 5 2 5-1 5-2 5 2 5 3 5 2 5 0 5-3 5-2 5 4 5 4 5 2 5-2 5-3 5 0 5 3 5 3 5-1 5-1 5 1 5 2 5 0 5-1 5-1 5 1 5 3 5 2 5-2 5-3 5-1 5 3 5 4 5 0 5-2 5-3 5 0 5 3 5 2 5-2 5-1 5 1 5 1 5-1 5-1 5-2 5 1 5 4 5 1 5-4 5-3 5 0 5 2 5 4 5-1 5-4 5-2 5 2 5 1 5 0 5-1 5-2 5 1 5 2 5-1 5-4 5 0 5 3 5 2 5 1 5-3 5-4 5 2 5 5 5 1 5-1 5-1 5-2 5 2 5 3 5 0 5-2 5 1 5 2 5 1 5-1 5-2 5-1 5 4 5 4 5-1 5-3 5-2 5 2 5 4 5 2 5-1 5-3 5 1 5 2 5 1 5 0 5-1 5 1 5 3 5 1 5-2 5-2 5 1 5 4 5 3 5-1 5-4 5 0 5 2 5 4 5 2 5-3 5-1 5 1 5 3 5 0 5 0 5 0 5 1 5 3 5 1 5-3 5-2 5 3 5 4 5 2 5-1 5-4 5 0 5 4 5 4 5-1 5 0 5-1 5 0 5 4 5 1 5-3 5 1 5 4 5 1 5 0 5-2" stroke="#fff900"/>
<path d="M145 303l5-8 5-11 5-18 5-10 5-12 5-15 5-7 5-8 5-10 5-8 5-9 5-8 5-9 5-5 5 5 5 1 5 3 5 9 5-1 5 0 5 9 5 1 5 5 5 9 5 3 5 3 5 3 5 3 5 5 5 4 5 9 5 8 5 2 5 7 5 6 5 0 5 8 5 8 5 1 5 8 5 6 5 3 5 5 5 5 5 4 5 4 5 4 5 6 5 2 5 3 5 7 5 0 5-1 5 5 5-1 5 1 5 5 5 3 5 1 5 3 5 0 5-1 5 0 5 2 5 3 5 1 5 3 5 2 5-4 5 0 5 1 5-2 5 3 5 3 5-1 5-1 5 0 5-2 5 1 5 0 5 2 5 0 5-1 5 1 5-2 5-1 5 3 5 1 5-2 5 1 5-2 5-2 5 2 5 1 5 1 5 1 5-1 5-2 5-3 5 0 5 3 5 1 5 3 5 1 5-4 5-3 5-1 5-1 5 4 5 5 5 0 5-1 5-2 5-4 5-1 5 1 5 5 5 3 5 0 5 0 5-4 5-4 5 2 5 2 5 2 5 4 5 0 5-3 5-2 5-1 5 1 5 2 5 2 5 2 5-2 5-2 5 0 5-1 5 3 5 4 5-1 5-1 5 0 5-2 5 1 5 3 5 2 5 1 5-1 5-1 5-2 5-2 5 4 5 4 5 0 5 2 5-2 5-5 5 0 5 1 5 2 5 4 5 2 5-1 5-3 5-3 5 0 5 1 5 3 5 4 5 0 5-2 5 0 5-4 5-1 5 5 5 1 5 2 5 2 5-2 5-2 5-1 5 1 5 2 5 1 5 2 5 1 5-2 5 1 5 1 5-1 5 2 5 2 5-2 5 1 5 1 5 1 5 1 5 2 5 0 5-1 5 0 5 1 5 1 5 1 5 4 5 0 5-2 5 2 5-2 5 0 5 4 5 1 5 1 5 2 5-2" stroke="#fff500"/>
<path d="M145 325l5-13 5-16 5-9 5-7 5-13 5-11 5-9 5-13 5-9 5-2 5-7 5-8 5-1 5-2 5-3 5 7 5 8 5 2 5 7 5 6 5-3 5 1 5 8 5 3 5 3 5 9 5 2 5-2 5 6 5 5 5 3 5 9 5 9 5 0 5 2 5 6 5 1 5 5 5 11 5 4 5 0 5 5 5 2 5 0 5 8 5 8 5 2 5 4 5 2 5-2 5 0 5 6 5 3 5 2 5 4 5-2 5-3 5 2 5 4 5 1 5 4 5 2 5-3 5-1 5 1 5 0 5 3 5 4 5 0 5-2 5-1 5-1 5 0 5 3 5 3 5 0 5-2 5-1 5-1 5 1 5 3 5 1 5 0 5-1 5-1 5-1 5 1 5 2 5 1 5 0 5-1 5-1 5-1 5 1 5 2 5 1 5-1 5 0 5-1 5-1 5 1 5 2 5 0 5 0 5 0 5-1 5-1 5 2 5 1 5 0 5 1 5-1 5-2 5 2 5 1 5 0 5 1 5 1 5-2 5-1 5 2 5 1 5 0 5 2 5-1 5-3 5 1 5 1 5 1 5 2 5 1 5-3 5-2 5 2 5 0 5 1 5 4 5-1 5-2 5 0 5-1 5 0 5 4 5 3 5-2 5-1 5 0 5-2 5 1 5 4 5 2 5-1 5 0 5-3 5-3 5 3 5 4 5 0 5 1 5-1 5-4 5-1 5 2 5 2 5 2 5 2 5-2 5-4 5-1 5 2 5 1 5 4 5 1 5-3 5-2 5-1 5 0 5 2 5 5 5 0 5-2 5-2 5-1 5-1 5 4 5 3 5 1 5-1 5-2 5-2 5 0 5 3 5 3 5 1 5 0 5-2 5-2 5 1 5 3 5 2 5 2 5 0 5-1 5-2 5 1 5 2 5 3 5 2 5 0 5-1 5-1 5 1 5 2 5 2 5 2 5 0" stroke="#fff200"/>
<path d="M145 361l5-15 5-15 5-16 5-15 5-9 5-11 5-13 5-7 5-8 5-19 5-14 5-4 5-6 5-6 5-5 5-6 5-6 5-2 5 3 5 8 5 5 5 2 5 9 5 6 5-3 5 1 5 6 5 3 5 7 5 10 5 4 5 0 5 2 5 6 5 9 5 6 5 4 5 9 5 7 5 0 5 4 5 5 5 2 5 8 5 11 5 5 5 1 5 0 5 3 5 6 5 4 5 2 5 5 5 2 5-1 5 2 5 1 5-2 5 4 5 7 5 3 5-1 5-2 5-1 5 1 5 3 5 3 5 3 5-1 5-2 5 1 5 0 5-3 5 1 5 4 5 2 5 0 5-2 5-3 5-2 5 2 5 3 5 3 5-2 5-3 5 1 5 0 5-3 5 1 5 1 5 1 5 1 5 1 5-4 5-3 5 0 5 4 5 3 5-1 5-2 5 0 5-1 5 0 5 2 5 0 5 0 5 2 5 2 5-2 5-2 5-1 5 2 5 4 5 1 5-1 5-1 5-1 5 0 5 4 5 0 5-2 5 1 5 3 5 0 5-2 5-1 5 0 5 2 5 2 5 0 5-1 5-2 5-1 5 4 5 1 5-3 5 0 5 1 5 0 5 1 5 0 5-2 5 0 5 2 5 1 5 0 5-3 5-1 5 3 5 1 5-1 5-1 5 0 5-1 5 2 5 1 5-1 5-2 5 0 5 2 5 1 5-1 5-1 5 1 5 1 5 0 5 2 5-2 5-2 5 3 5 4 5-1 5-1 5-1 5 1 5 3 5 0 5 1 5 1 5-1 5 2 5 2 5-1 5-2 5 2 5 4 5 1 5 0 5-1 5-1 5 1 5 3 5 2 5 0 5-1 5 0 5 3 5-1 5-2 5 2 5 3 5 1 5 2 5-1 5-3 5-1 5 3 5 4 5 1 5-2 5 0 5 1 5 0 5-1 5 2 5 0" stroke="#ffee00"/>
<path d="M145 308l5-10 5-14 5-15 5-9 5-7 5-14 5-16 5-9 5-6 5-9 5-6 5-2 5-6 5-11 5-3 5 6 5 5 5 5 5 8 5 6 5-1 5 0 5 5 5 6 5 4 5 5 5 5 5 3 5 4 5 5 5 5 5 5 5 5 5 4 5 5 5 8 5 8 5 3 5 1 5 4 5 4 5 4 5 7 5 9 5 4 5-2 5 3 5 5 5 2 5 4 5 6 5 3 5-3 5 0 5 4 5 3 5 0 5 2 5 3 5 0 5 0 5 3 5 3 5-1 5-1 5 1 5 1 5 2 5 3 5 1 5-1 5-2 5-1 5 1 5 3 5 3 5 1 5-2 5-1 5 0 5 1 5 1 5 3 5 1 5-2 5-1 5 2 5 1 5 0 5 0 5 1 5-2 5 0 5 4 5 2 5-2 5-2 5 0 5 0 5 1 5 3 5 2 5-1 5-3 5-1 5 1 5 1 5 2 5 1 5-1 5-2 5-1 5 1 5 1 5 1 5-1 5-1 5-1 5 2 5 1 5-1 5 0 5-2 5-2 5 0 5 3 5 2 5-2 5-1 5-2 5-1 5-1 5 3 5 3 5-2 5-2 5 0 5 0 5 0 5 1 5 2 5-1 5-2 5 1 5 2 5 1 5-1 5 0 5-1 5 0 5 1 5 4 5 1 5-2 5-2 5-1 5 1 5 2 5 3 5 1 5-1 5-1 5-2 5 1 5 3 5 2 5 0 5-1 5 1 5 0 5 0 5 1 5 2 5-1 5-1 5 2 5 3 5 0 5-1 5 0 5-1 5-1 5 2 5 5 5 2 5-2 5-2 5-1 5 0 5 1 5 4 5 3 5-1 5-2 5-1 5 1 5 1 5 1 5 2 5 0 5 0 5 1 5 1 5 0 5 0 5-1 5 0 5 2 5 4 5 1 5 0 5-1 5-2 5-2 5 3 5 5" stroke="#ffea00"/>
<path d="M145 324l5-11 5-17 5-11 5-10 5-14 5-6 5-6 5-12 5-9 5-8 5-11 5-5 5 0 5 2 5 3 5 2 5 3 5 2 5 1 5 7 5 6 5 2 5 5 5 3 5-3 5 5 5 8 5 0 5 5 5 7 5-1 5 4 5 10 5 3 5 4 5 7 5 0 5 1 5 7 5 5 5 5 5 7 5 3 5 1 5 2 5 3 5 6 5 5 5 5 5 4 5-2 5 0 5 3 5 2 5 3 5 5 5 0 5-1 5 3 5 1 5 1 5 6 5 1 5-2 5 1 5 0 5 1 5 5 5 3 5-1 5 0 5-2 5-1 5 2 5 3 5 3 5 1 5-2 5-1 5-1 5 0 5 3 5 2 5-1 5 0 5-1 5-2 5 2 5 2 5-1 5 0 5-1 5-3 5 1 5 2 5 0 5 1 5 0 5-4 5-2 5 1 5 1 5 2 5 2 5-2 5-3 5-1 5-1 5 2 5 2 5 1 5-1 5-3 5 0 5 1 5 0 5 2 5 1 5-3 5-1 5 1 5 0 5 2 5 3 5-2 5-3 5 0 5-1 5 1 5 4 5 2 5-2 5-1 5-2 5-1 5 2 5 2 5 2 5 1 5-2 5-1 5 0 5 1 5 3 5 0 5-1 5 1 5-1 5 0 5 3 5 1 5-1 5 0 5-2 5-2 5 4 5 2 5 1 5 2 5-2 5-4 5 0 5 1 5 2 5 4 5 1 5-1 5-2 5-2 5 1 5 2 5 2 5 2 5-1 5-2 5 1 5 2 5 0 5 2 5 0 5-3 5 1 5 2 5 1 5 3 5 2 5-4 5-2 5 0 5 0 5 3 5 5 5 1 5-1 5-2 5-3 5 0 5 3 5 3 5 2 5 0 5-1 5-1 5-1 5 1 5 2 5 0 5 1 5 1 5-1 5 1 5 4 5-1 5-1 5 0 5-3" stroke="#ffe700"/>
<path d="M145 337l5-10 5-13 5-17 5-12 5-11 5-12 5-8 5-10 5-12 5-7 5-9 5-12 5-5 5-1 5-5 5 0 5 8 5 1 5 0 5 7 5 5 5 2 5 5 5 5 5 1 5 5 5 2 5 2 5 8 5 5 5 1 5 6 5 8 5 2 5 4 5 9 5 4 5 1 5 6 5 5 5 3 5 6 5 6 5 3 5 4 5 3 5 1 5 6 5 6 5 1 5 4 5 4 5-2 5-2 5 4 5 3 5 2 5 5 5 4 5-2 5-1 5 0 5 0 5 5 5 5 5 1 5 2 5 0 5-4 5-1 5 4 5 2 5 3 5 4 5 0 5-3 5-2 5 0 5 1 5 4 5 3 5 1 5 0 5-2 5-4 5 0 5 3 5 1 5 2 5 2 5-1 5-4 5-1 5 0 5-1 5 2 5 2 5 0 5-1 5-1 5-3 5-1 5 1 5-1 5 1 5 3 5-1 5-2 5-1 5-2 5-2 5 1 5 2 5 1 5 1 5 0 5-3 5-3 5-1 5 0 5 3 5 4 5 0 5-1 5-1 5-4 5-3 5 3 5 4 5 2 5 2 5 0 5-5 5-3 5-1 5 2 5 5 5 5 5 0 5-1 5-3 5-4 5-1 5 5 5 5 5 2 5 2 5-1 5-6 5-2 5 2 5 2 5 4 5 4 5-1 5-2 5-2 5-3 5 1 5 4 5 2 5 1 5 2 5-1 5-5 5 0 5 2 5 0 5 3 5 3 5 0 5-1 5-1 5-2 5 0 5 2 5 1 5 2 5 3 5-1 5-2 5 0 5 0 5-2 5 3 5 4 5 1 5 0 5 0 5-3 5-1 5 1 5 1 5 4 5 4 5-1 5-2 5-1 5-3 5-1 5 5 5 4 5 1 5 1 5-2 5-4 5-2 5 2 5 3 5 4 5 3 5-1 5-3 5-2 5-2 5 0" stroke="#ffe300"/>
<path d="M145 317l5-11 5-11 5-9 5-15 5-12 5-8 5-13 5-11 5-8 5-7 5-4 5-7 5-4 5-3 5-6 5 2 5 7 5 8 5 8 5 3 5 0 5 0 5-2 5 7 5 10 5 4 5 5 5 0 5 2 5 3 5 3 5 10 5 6 5 3 5 6 5 4 5 4 5 4 5 2 5 6 5 4 5 5 5 9 5 4 5 1 5 1 5 1 5 7 5 6 5 6 5 5 5-2 5-4 5 1 5 4 5 6 5 4 5 2 5 1 5-4 5 1 5 4 5 2 5 2 5 1 5 1 5 2 5 0 5 1 5 0 5-2 5 1 5 2 5 4 5 1 5-2 5-2 5-2 5-1 5 5 5 5 5 0 5-2 5-4 5-1 5 1 5 3 5 4 5 0 5-3 5-2 5 0 5 1 5 1 5 1 5 0 5-1 5 0 5 2 5 0 5-1 5-2 5-1 5 3 5 1 5 2 5 0 5-4 5-2 5 0 5 3 5 3 5 0 5-1 5-3 5-3 5 1 5 3 5 2 5-1 5-3 5-1 5 0 5 0 5 2 5 0 5-3 5-1 5 0 5 3 5 0 5-2 5-1 5-2 5 0 5 3 5 2 5 1 5-3 5-2 5 1 5 1 5 3 5 2 5-1 5-2 5 0 5 2 5 3 5 1 5 0 5-1 5-2 5 3 5 3 5 2 5 0 5-3 5 0 5 2 5 2 5 3 5 1 5-2 5-2 5 0 5 3 5 2 5 0 5 1 5-2 5-1 5 2 5 2 5 1 5-2 5-2 5 2 5 1 5 1 5 2 5-3 5-2 5-1 5 2 5 4 5 1 5-1 5-2 5-4 5 1 5 3 5 4 5 1 5-3 5-2 5 0 5 0 5 3 5 2 5 0 5 0 5-1 5 2 5 2 5-1 5 0 5 0 5 1 5 4 5 2 5 1 5-2 5-3 5 1 5 3" stroke="#ffdf00"/>
<path d="M145 302l5-14 5-17 5-12 5-5 5-9 5-13 5-11 5-10 5-10 5-7 5-2 5-4 5-6 5-2 5 7 5 7 5 3 5 3 5 1 5 2 5 4 5 8 5 8 5 0 5-2 5 3 5 6 5 5 5 7 5 7 5 4 5 3 5 4 5 5 5 4 5 4 5 8 5 8 5 5 5 2 5 0 5 3 5 6 5 9 5 8 5 3 5-1 5 2 5 4 5 5 5 4 5 1 5 0 5 2 5 4 5 4 5 2 5-1 5-1 5 1 5 4 5 4 5 2 5-1 5-1 5 1 5 1 5 0 5 1 5 1 5 3 5 1 5 0 5-4 5-4 5 0 5 5 5 5 5 1 5-4 5-4 5-3 5 2 5 5 5 2 5-2 5-3 5-1 5 2 5 0 5-1 5-1 5 0 5 0 5 2 5 1 5-2 5-3 5 0 5 3 5 0 5 0 5 0 5 1 5 0 5 1 5 0 5-3 5-2 5 3 5 6 5 2 5-2 5-5 5-2 5 0 5 5 5 6 5 1 5-4 5-4 5 1 5 2 5 1 5 2 5 1 5 0 5-1 5 1 5 0 5-3 5 0 5 4 5 3 5-1 5-2 5-1 5 0 5 1 5 2 5 1 5-2 5-2 5 3 5 4 5 0 5-4 5-3 5-1 5 3 5 4 5 3 5-2 5-6 5-3 5 3 5 2 5 2 5 1 5-1 5-2 5-1 5 0 5-1 5 0 5 2 5 4 5 1 5-3 5-4 5-1 5 2 5 4 5 3 5-1 5-4 5-1 5 3 5 3 5 0 5-2 5-1 5 1 5 3 5 4 5 0 5-3 5-3 5 1 5 4 5 4 5 1 5-1 5-1 5-1 5 1 5 1 5 1 5 2 5 3 5 2 5-1 5-3 5-2 5 1 5 5 5 5 5 1 5-3 5-4 5 0 5 3 5 4 5 2 5-1 5-3" stroke="#ffdc00"/>
<path d="M145 314l5-15 5-10 5-8 5-16 5-14 5-8 5-10 5-10 5-8 5-8 5-8 5-5 5-3 5 1 5 4 5 0 5 1 5 9 5 6 5 1 5 3 5 3 5 1 5 3 5 7 5 6 5 4 5 2 5 1 5 5 5 7 5 4 5 6 5 8 5 3 5 3 5 7 5 5 5 1 5 3 5 6 5 6 5 8 5 5 5 3 5 2 5 0 5 2 5 8 5 7 5 2 5 1 5 2 5 0 5 0 5 3 5 2 5 2 5 3 5 3 5 3 5 2 5-3 5-3 5 2 5 2 5 4 5 5 5 2 5-3 5-4 5-1 5 1 5 2 5 2 5 2 5 1 5 0 5-1 5-1 5-1 5-2 5 0 5 4 5 4 5 0 5-1 5-4 5-3 5-1 5 2 5 4 5 2 5-1 5-3 5 0 5-1 5-2 5 1 5 1 5 0 5 1 5 2 5 0 5-2 5-4 5-1 5 1 5 4 5 2 5 1 5-1 5-4 5-2 5 2 5 2 5 0 5 0 5 1 5-1 5 1 5 0 5-1 5-1 5-1 5 1 5 3 5 2 5-2 5-2 5-1 5 0 5 1 5 3 5 1 5-2 5-2 5 0 5 2 5 2 5 0 5-1 5 0 5 0 5 0 5 2 5 1 5-1 5-1 5 2 5 2 5 0 5-1 5-1 5-1 5 1 5 2 5 3 5 1 5-3 5-3 5 1 5 2 5 1 5 2 5 1 5-1 5-1 5 1 5 0 5 0 5-1 5 1 5 3 5 3 5 0 5-1 5-2 5-3 5 1 5 4 5 5 5 1 5-1 5-2 5-2 5 0 5 1 5 2 5 2 5 1 5 1 5 2 5-1 5-3 5-2 5 1 5 2 5 4 5 4 5 0 5-3 5-3 5-2 5 2 5 4 5 2 5 2 5 0 5-1 5-2 5 1 5 0 5-1 5 1 5 3" stroke="#ffd800"/>
<path d="M145 335l5-8 5-15 5-12 5-7 5-17 5-15 5-6 5-11 5-10 5-2 5-7 5-11 5-7 5-5 5 0 5 5 5 3 5 8 5 5 5-2 5 4 5 7 5-1 5 6 5 9 5 0 5 2 5 7 5 2 5 4 5 5 5 4 5 6 5 5 5 4 5 9 5 3 5 0 5 7 5 3 5 1 5 9 5 8 5 1 5 4 5 2 5 0 5 4 5 6 5 5 5 4 5-1 5-1 5 1 5-1 5 3 5 7 5 1 5-1 5 2 5-2 5-1 5 4 5 3 5 1 5 1 5-1 5 1 5 0 5 0 5 3 5 0 5-2 5 1 5 3 5 0 5 2 5 1 5-3 5-2 5 2 5 2 5 3 5 2 5-1 5-2 5-4 5 0 5 4 5 3 5 1 5 2 5-4 5-5 5 1 5 2 5 2 5 3 5 1 5-3 5-3 5-1 5 2 5 2 5 1 5 0 5 0 5-3 5 0 5 3 5-1 5-1 5 1 5-2 5 0 5 3 5 1 5 0 5-2 5-3 5-1 5 2 5 2 5 4 5 0 5-5 5-3 5 0 5 0 5 4 5 5 5-1 5-4 5-3 5-2 5 2 5 4 5 3 5 1 5-3 5-3 5 0 5 1 5 1 5 4 5 0 5-3 5 1 5 1 5 0 5 2 5 0 5-2 5-1 5 1 5 2 5 3 5 0 5-2 5-1 5-4 5 2 5 6 5 2 5 0 5-1 5-5 5-3 5 3 5 4 5 4 5 1 5-3 5-3 5-2 5-1 5 5 5 5 5-1 5-1 5-1 5-4 5 2 5 4 5 1 5 0 5 0 5-2 5 1 5 1 5 2 5 1 5-2 5-2 5 2 5 2 5 2 5 4 5-1 5-5 5-1 5 2 5 3 5 5 5 2 5-1 5-4 5-3 5 2 5 5 5 3 5 3 5 1 5-5 5-3 5 3" stroke="#ffd500"/>
<path d="M145 294l5-12 5-11 5-14 5-16 5-13 5-8 5-7 5-8 5-7 5-4 5-7 5-7 5 0 5 5 5 3 5 2 5 7 5 8 5 2 5 1 5 5 5 4 5-1 5 1 5 8 5 9 5 3 5 5 5 7 5 3 5-2 5 4 5 11 5 7 5 4 5 7 5 7 5 1 5-1 5 5 5 9 5 4 5 3 5 8 5 6 5 1 5 1 5 5 5 4 5-1 5 2 5 6 5 4 5 0 5 2 5 3 5-1 5-3 5 1 5 5 5 4 5 1 5 2 5 1 5-3 5-3 5 1 5 4 5 1 5 2 5 2 5 0 5-4 5-2 5 1 5 2 5 0 5 1 5 2 5 1 5-1 5 0 5 0 5-1 5-1 5 0 5 3 5 2 5 1 5 1 5-1 5-3 5-2 5 0 5 3 5 3 5 2 5 1 5-2 5-3 5-2 5 1 5 2 5 2 5 2 5 0 5-1 5-2 5-1 5 0 5 1 5 0 5 1 5 0 5 1 5 0 5 0 5-1 5-2 5-1 5 0 5 1 5 3 5 1 5-1 5-2 5-2 5-3 5 0 5 2 5 3 5 1 5-1 5-1 5-2 5-2 5 0 5 3 5 2 5 0 5 0 5 1 5-1 5-1 5 0 5 2 5 0 5 0 5 1 5 3 5 1 5-2 5 0 5 0 5-1 5-1 5 3 5 4 5 1 5-1 5-1 5 0 5-3 5 1 5 4 5 3 5 0 5-1 5 0 5-1 5-2 5 1 5 3 5 1 5-1 5 1 5 1 5 0 5-2 5 1 5 1 5-1 5-1 5 2 5 3 5 0 5-1 5 0 5-1 5-2 5 0 5 4 5 3 5 0 5-1 5 0 5-1 5-2 5 2 5 4 5 2 5 0 5 0 5 0 5-1 5 0 5 2 5 2 5 1 5 0 5 1 5 2 5 0 5 0 5 2 5-1" stroke="#ffd100"/>
<path d="M145 292l5-12 5-14 5-13 5-11 5-9 5-8 5-7 5-9 5-10 5-5 5-2 5-1 5 0 5 6 5 6 5 2 5 0 5 6 5 6 5 3 5 4 5 3 5-1 5 2 5 9 5 9 5 0 5-1 5 6 5 9 5 3 5 4 5 6 5 5 5 2 5 6 5 6 5 1 5 2 5 10 5 8 5-2 5-2 5 7 5 10 5 4 5 2 5 1 5 0 5 3 5 7 5 5 5-3 5-3 5 5 5 6 5 0 5-2 5 3 5 4 5 2 5-1 5-1 5 0 5 3 5 6 5 1 5-5 5-4 5 4 5 7 5 1 5-4 5-3 5 1 5 3 5 3 5-1 5-3 5 1 5 3 5 1 5-3 5-2 5 3 5 4 5 1 5-4 5-4 5 1 5 6 5 3 5-4 5-5 5-1 5 4 5 4 5 0 5-3 5-3 5 2 5 3 5 0 5-3 5 0 5 4 5 1 5-3 5-3 5 2 5 3 5 2 5-1 5-4 5-3 5 3 5 6 5 1 5-5 5-3 5 2 5 3 5-1 5 0 5 0 5 0 5-1 5 1 5-1 5-1 5 2 5 3 5-2 5-4 5-1 5 4 5 2 5 0 5-2 5-1 5-1 5 1 5 3 5 1 5-2 5-1 5 1 5 0 5-1 5 1 5 3 5-1 5-2 5-1 5 1 5 2 5 1 5 0 5-2 5-2 5 2 5 2 5 1 5-1 5 0 5 1 5-1 5 0 5 1 5 2 5 2 5-1 5-2 5-2 5 3 5 4 5 1 5-1 5-3 5 0 5 3 5 3 5 1 5-2 5-1 5 3 5 2 5-2 5 0 5 3 5 3 5-1 5-2 5-1 5 2 5 4 5 4 5-2 5-5 5 0 5 6 5 5 5-2 5-4 5 1 5 2 5 2 5 1 5 0 5-1 5 1 5 4 5-1 5-4 5 0 5 6" stroke="#ffcd00"/>
<path d="M145 324l5-9 5-14 5-11 5-13 5-16 5-8 5-8 5-11 5-2 5-4 5-7 5-4 5-4 5 2 5 5 5 4 5 13 5 6 5-2 5 4 5 1 5 2 5 7 5 5 5 8 5 3 5-1 5 7 5 4 5 0 5 8 5 5 5 5 5 6 5 4 5 6 5 2 5-3 5 6 5 6 5 3 5 8 5 3 5 0 5 1 5 1 5 7 5 5 5 0 5 4 5 0 5-2 5 3 5 2 5 2 5 1 5-1 5 3 5 3 5-1 5 3 5 1 5-2 5 2 5 2 5 3 5 1 5-2 5 2 5 2 5 0 5 4 5 1 5-1 5-1 5 0 5 2 5 3 5 1 5 2 5-2 5-3 5 1 5 2 5 1 5 1 5 0 5 0 5-1 5-2 5 0 5 0 5-2 5 1 5 2 5 0 5 0 5-4 5-2 5-2 5 0 5 5 5 3 5-2 5-2 5-4 5-2 5 1 5 2 5 4 5 1 5-3 5 1 5-1 5-3 5 1 5 1 5 2 5 3 5 1 5 1 5-1 5-5 5-1 5 2 5 3 5 5 5 2 5-2 5-4 5-4 5 1 5 3 5 2 5 3 5 1 5-3 5-2 5-2 5 0 5 1 5 0 5 3 5 2 5-1 5-1 5-3 5-3 5 0 5 2 5 5 5 2 5-3 5-2 5-3 5-3 5 4 5 3 5 2 5 1 5-2 5 0 5-1 5-1 5 3 5 1 5 0 5 3 5 2 5 0 5-1 5-2 5 1 5 2 5 1 5 5 5 1 5-3 5-1 5-1 5 2 5 3 5 1 5 2 5-1 5-3 5 2 5 1 5 0 5 1 5-1 5 0 5 1 5 0 5 1 5 0 5-3 5 1 5 2 5 0 5 1 5-1 5-1 5 0 5 0 5 3 5 2 5-2 5-1 5 0 5 1 5 3 5 2 5 2 5-1 5-4" stroke="#ffca00"/>
<path d="M145 279l5-15 5-13 5-11 5-9 5-11 5-9 5-7 5-11 5-6 5-1 5-7 5-2 5 6 5 4 5 4 5 6 5 1 5 2 5 5 5 6 5 4 5-1 5 5 5 6 5 1 5 5 5 6 5 0 5 7 5 10 5 1 5 3 5 5 5 6 5 6 5 5 5 4 5 3 5 2 5 8 5 5 5 0 5 6 5 7 5 2 5 5 5 2 5 0 5 5 5 5 5 3 5 1 5 0 5 3 5 2 5 1 5 3 5 1 5 0 5 6 5 2 5-3 5 0 5 2 5 3 5 3 5 0 5-1 5 0 5 1 5 2 5-1 5-1 5 3 5 2 5 0 5 0 5-3 5 0 5 3 5 3 5 0 5-1 5 0 5 1 5-1 5 0 5 1 5 0 5 2 5 3 5-3 5-3 5 0 5 2 5 2 5 1 5 0 5-1 5 0 5 0 5-1 5-2 5 2 5 4 5 0 5 0 5-2 5-4 5 1 5 3 5 1 5-1 5 0 5 0 5 0 5-2 5-1 5 0 5 1 5 4 5 0 5-5 5-2 5 0 5 1 5 1 5 1 5-1 5 0 5-1 5-1 5-3 5-1 5 3 5 4 5-1 5-1 5-3 5-3 5 3 5 2 5-1 5 1 5 1 5 0 5-1 5-2 5-1 5 1 5 4 5 4 5-2 5-4 5 0 5 0 5 1 5 3 5 1 5 0 5 2 5 0 5-3 5-2 5 2 5 5 5 3 5 0 5-1 5-3 5 0 5 3 5 1 5 0 5 3 5 2 5 0 5-2 5-2 5 0 5 3 5 5 5 2 5-3 5-1 5 1 5-1 5 1 5 2 5 1 5 3 5 2 5-3 5-3 5-1 5 3 5 4 5 2 5 0 5-2 5-2 5 1 5 1 5-1 5 2 5 4 5 1 5-1 5-3 5-3 5 2 5 4 5 4 5-1 5-2 5 0" stroke="#ffc600"/>
<path d="M145 347l5-9 5-11 5-15 5-12 5-13 5-18 5-12 5-5 5-7 5-12 5-8 5-5 5-7 5-10 5-6 5 0 5 5 5 8 5 5 5 3 5 2 5 3 5 4 5 3 5 3 5 5 5 6 5 7 5 4 5-1 5 2 5 9 5 8 5 2 5 4 5 9 5 7 5 1 5 4 5 4 5 2 5 5 5 10 5 5 5-1 5 4 5 9 5 3 5-3 5 3 5 7 5 2 5 0 5 2 5 2 5 0 5 2 5 5 5-1 5-3 5 4 5 6 5 0 5-3 5 2 5 4 5 1 5-1 5 0 5 0 5 1 5 4 5 2 5-2 5-1 5 2 5 2 5-2 5-2 5 2 5 4 5 3 5-2 5-3 5-1 5 2 5 1 5 0 5 0 5 2 5 2 5-1 5-3 5-3 5-1 5 3 5 3 5-1 5-1 5 1 5 1 5-4 5-4 5 0 5 3 5 3 5 1 5 0 5-4 5-3 5 1 5 0 5-3 5 1 5 6 5 3 5-4 5-5 5-1 5 0 5 0 5 2 5 2 5 0 5 1 5 2 5-4 5-6 5 0 5 6 5 4 5-1 5 0 5 0 5 0 5-2 5-2 5 0 5 3 5 5 5 4 5-2 5-4 5-1 5 2 5 0 5 1 5 1 5 4 5 3 5 0 5-5 5-3 5 2 5 3 5 2 5 1 5 1 5 1 5 0 5-2 5-3 5-2 5 4 5 6 5 0 5-4 5 0 5 1 5-1 5-2 5 0 5 2 5 2 5 1 5 1 5-4 5-3 5 2 5 3 5-2 5-2 5 3 5 3 5-2 5-3 5 0 5 0 5 1 5 2 5 1 5-2 5 0 5 3 5 2 5-4 5-1 5 3 5 3 5-1 5-1 5 1 5 2 5 2 5 1 5-1 5-1 5 2 5 4 5 0 5-1 5 1 5 3 5 3 5-1 5-3" stroke="#ffc200"/>
<path d="M145 322l5-18 5-15 5-11 5-14 5-4 5-9 5-15 5-8 5-10 5-8 5 0 5-7 5-4 5 2 5-3 5 7 5 9 5 3 5 4 5 2 5 1 5 6 5 5 5 4 5 4 5 3 5 2 5 4 5 7 5 5 5 5 5 6 5 1 5 5 5 8 5 2 5 8 5 4 5-1 5 7 5 4 5 3 5 9 5 2 5 1 5 5 5 1 5 5 5 7 5 0 5 1 5 1 5-1 5 5 5 4 5 1 5 0 5-1 5 0 5 3 5 4 5 1 5-1 5-1 5-1 5 3 5 5 5 0 5-1 5-2 5-2 5 4 5 4 5 0 5-1 5-3 5-1 5 4 5 3 5 1 5-1 5-5 5 1 5 4 5 2 5 2 5-2 5-4 5 0 5 3 5 3 5 1 5-2 5-4 5 0 5 3 5 3 5 1 5-2 5-4 5 0 5 4 5 2 5 1 5-2 5-4 5 1 5 3 5 1 5 2 5-3 5-3 5 2 5 1 5 2 5 2 5-4 5-1 5 0 5 1 5 3 5 0 5-3 5-1 5 0 5 2 5 1 5 0 5-2 5-1 5 0 5 1 5 1 5 0 5-2 5 0 5 1 5 0 5 1 5 0 5-2 5 1 5 0 5 0 5 2 5-1 5-1 5 2 5-1 5 1 5 1 5-2 5 1 5 1 5-1 5 1 5 0 5-1 5 1 5 1 5 0 5 0 5 0 5-1 5 1 5 2 5 0 5 0 5 0 5-1 5 2 5 2 5-1 5 1 5-1 5-1 5 4 5 0 5 0 5 1 5-3 5 1 5 3 5 0 5 1 5 0 5-2 5 2 5 2 5 1 5 1 5-1 5-1 5 2 5 1 5 1 5 0 5 0 5 0 5 1 5 2 5 0 5 1 5 0 5-1 5 2 5 2 5-1 5 2 5-1 5 0 5 3 5 0 5 0 5 1 5-2" stroke="#ffbf00"/>
<path d="M145 316l5-13 5-15 5-13 5-13 5-13 5-10 5-10 5-11 5-9 5-10 5-10 5-4 5-2 5-5 5-3 5 3 5 5 5 4 5 8 5 4 5-2 5 2 5 9 5 7 5 1 5 2 5 3 5 7 5 9 5 3 5 2 5 6 5 8 5 5 5 6 5 6 5 3 5 5 5 8 5 4 5 1 5 6 5 9 5 4 5 2 5 3 5 5 5 8 5 4 5-2 5 0 5 5 5 5 5 2 5 0 5-1 5 0 5 5 5 6 5-1 5-4 5 2 5 4 5 3 5 0 5-1 5-1 5 3 5 2 5 0 5 0 5 0 5 0 5 0 5 2 5 1 5-1 5 0 5 1 5 0 5 1 5 2 5 0 5-1 5 0 5 1 5 1 5 0 5 0 5 0 5 1 5 0 5-2 5 1 5 3 5-1 5-3 5 0 5 2 5 2 5 0 5-2 5-3 5 1 5 4 5 1 5-4 5-3 5-1 5 4 5 4 5-3 5-6 5 0 5 5 5 1 5-2 5-3 5-1 5 1 5 3 5-1 5-3 5-1 5 2 5 1 5 0 5-2 5 0 5 2 5 1 5-2 5-2 5 3 5 3 5-1 5-2 5 0 5 2 5 2 5 2 5-2 5-2 5 2 5 3 5 2 5-1 5-2 5 0 5 3 5 3 5-1 5-1 5 0 5 0 5 1 5 3 5 1 5-3 5-1 5 1 5 3 5 1 5-1 5-3 5 0 5 3 5 2 5-2 5-1 5-1 5 0 5 3 5 1 5-3 5-2 5 3 5 2 5-2 5-1 5 0 5 2 5 1 5-2 5-2 5 2 5 3 5 0 5-2 5-1 5 1 5 4 5 2 5-2 5-5 5 2 5 6 5 3 5-3 5-4 5 2 5 5 5 3 5-2 5-3 5 1 5 4 5 2 5 0 5 0 5-2 5 2 5 4 5 0 5-1 5 0" stroke="#ffbb00"/>
<path d="M145 352l5-17 5-9 5-13 5-18 5-11 5-9 5-12 5-10 5-9 5-13 5-14 5-9 5-4 5-3 5-2 5-3 5-1 5-2 5-1 5 9 5 11 5 3 5 2 5 4 5 0 5 1 5 8 5 7 5 1 5 3 5 6 5 5 5 6 5 8 5 5 5 2 5 1 5 5 5 9 5 7 5 5 5 6 5 2 5-2 5 5 5 8 5 5 5 5 5 6 5 1 5-1 5 2 5 3 5 1 5 2 5 4 5 2 5 1 5 1 5 1 5 2 5 0 5 1 5 3 5 1 5 0 5 4 5 3 5-1 5-1 5 0 5-1 5 0 5 6 5 4 5 0 5-2 5-3 5-2 5 2 5 5 5 4 5 1 5-3 5-2 5 0 5 1 5 2 5 3 5-1 5-3 5 0 5 3 5 1 5 1 5-1 5-3 5-3 5 3 5 4 5 3 5 0 5-4 5-4 5-1 5 1 5 4 5 4 5-1 5-3 5-2 5-2 5 0 5 2 5 2 5-2 5 0 5 1 5-2 5-1 5 1 5-1 5-2 5 1 5 0 5 1 5 0 5-1 5 0 5-2 5-3 5 0 5 2 5 1 5 2 5 1 5-2 5-5 5-1 5 1 5 2 5 4 5 2 5-2 5-4 5-2 5 1 5 2 5 3 5 0 5-1 5-2 5 0 5 3 5 2 5-2 5-2 5 0 5 0 5 3 5 5 5 2 5-5 5-3 5-1 5 1 5 5 5 5 5 1 5-3 5-3 5-1 5 2 5 3 5 2 5 2 5 0 5-2 5 1 5 2 5 0 5 0 5 1 5 0 5 0 5 4 5 2 5-1 5-1 5 0 5-1 5 1 5 2 5 3 5 2 5 0 5-2 5 0 5-2 5 0 5 4 5 5 5 0 5-1 5-1 5-3 5 0 5 3 5 4 5 0 5 0 5-1 5-1 5 1 5 2 5 1" stroke="#ffb700"/>
<path d="M145 316l5-16 5-8 5-7 5-18 5-14 5-11 5-13 5-6 5-4 5-9 5-7 5-9 5-6 5 0 5-3 5 3 5 12 5 4 5 2 5 5 5-2 5 2 5 10 5 4 5 4 5 4 5 2 5 7 5 2 5 0 5 9 5 7 5 5 5 9 5 1 5 0 5 8 5 5 5 5 5 5 5 4 5 5 5 6 5 1 5 4 5 3 5 3 5 9 5 4 5-2 5 2 5 3 5 1 5 3 5 1 5 1 5 4 5 2 5 1 5 0 5-2 5 4 5 5 5-1 5 1 5 1 5-1 5 3 5 1 5-1 5 0 5 1 5 3 5 1 5-2 5-1 5 2 5 1 5 1 5 1 5-2 5 1 5 3 5 0 5-2 5-1 5 0 5 3 5 1 5-2 5 1 5-1 5 0 5 2 5-2 5-2 5 3 5 2 5 0 5-1 5-3 5 0 5 2 5 0 5 1 5-1 5-1 5 3 5-1 5-4 5 0 5 2 5 2 5 2 5-2 5-3 5-1 5 0 5 2 5 1 5-2 5 3 5 1 5-3 5-2 5-1 5 0 5 4 5 3 5-2 5-2 5-2 5 0 5 2 5-1 5 1 5 4 5 0 5-1 5-2 5-4 5 2 5 5 5 2 5 1 5-2 5-1 5 0 5-1 5 0 5 3 5 1 5 3 5 2 5-5 5-4 5 2 5 2 5 4 5 2 5-1 5-1 5-1 5-2 5 0 5 1 5 2 5 6 5 0 5-4 5-3 5-1 5 1 5 5 5 1 5 0 5 0 5-1 5-2 5-2 5-1 5 5 5 5 5 0 5-1 5-5 5-3 5 2 5 3 5 1 5 2 5 0 5 0 5-1 5-4 5-1 5 4 5 3 5 4 5 0 5-6 5-1 5 1 5 1 5 2 5 3 5 1 5 2 5-2 5-4 5 0 5 0 5 6 5 6 5-2 5-3" stroke="#ffb400"/>
<path d="M145 298l5-18 5-13 5-8 5-12 5-9 5-12 5-13 5-10 5-7 5-3 5-6 5-5 5 0 5-6 5 5 5 9 5 3 5 9 5 4 5-3 5 6 5 3 5 5 5 9 5 3 5 3 5 1 5 5 5 7 5 5 5 11 5 3 5 0 5 8 5 2 5 6 5 11 5 1 5 5 5 4 5 0 5 6 5 6 5 4 5 6 5 2 5 3 5 1 5 3 5 5 5 0 5 5 5 2 5-4 5 3 5 0 5 1 5 7 5 0 5 1 5 0 5-2 5 1 5 3 5 4 5 2 5-1 5-1 5-3 5 1 5 6 5 2 5 2 5-1 5-6 5 1 5 3 5 3 5 6 5-1 5-4 5-2 5 0 5 4 5 5 5 3 5-2 5-6 5-1 5 2 5 4 5 6 5-2 5-4 5-2 5-3 5 4 5 6 5 0 5-1 5-5 5-3 5 1 5 3 5 4 5-1 5-3 5-4 5-2 5 3 5 3 5 0 5 0 5-5 5-3 5 2 5 1 5 1 5 1 5-3 5-2 5-1 5 2 5 1 5 0 5 0 5-3 5 0 5 2 5-1 5 1 5 1 5-3 5 2 5 1 5 0 5 1 5-1 5 0 5 2 5 1 5 2 5 0 5-1 5 0 5-1 5 4 5 3 5-1 5 1 5-3 5-1 5 4 5 2 5 2 5 0 5-4 5-1 5 1 5 3 5 3 5 0 5-1 5-4 5-1 5 3 5 1 5 3 5 0 5-5 5 0 5-1 5 1 5 5 5-1 5-2 5-1 5-2 5 0 5 2 5 2 5 1 5-2 5-1 5-2 5 1 5 4 5-1 5 1 5 1 5-3 5 0 5 2 5 0 5 4 5 1 5-1 5-1 5 0 5 1 5 2 5 4 5 2 5-2 5 0 5-1 5 0 5 6 5 2 5 1 5 0 5-4 5 0 5 4 5 3 5 3" stroke="#ffb000"/>
<path d="M145 330l5-11 5-16 5-16 5-11 5-9 5-13 5-12 5-10 5-8 5-10 5-10 5-6 5-5 5-4 5 0 5 3 5 2 5 2 5 4 5 6 5 6 5 5 5 3 5 1 5 2 5 6 5 7 5 5 5 5 5 4 5 3 5 3 5 8 5 10 5 6 5 3 5 4 5 5 5 4 5 5 5 9 5 6 5 1 5 1 5 6 5 7 5 4 5 4 5 5 5 1 5-1 5 2 5 5 5 3 5 0 5 1 5 3 5 0 5-1 5 3 5 3 5 1 5 0 5 1 5 1 5-1 5 0 5 2 5 3 5 0 5-1 5 0 5-1 5-1 5 3 5 3 5 1 5-2 5-3 5 0 5 1 5 4 5 3 5-1 5-3 5-3 5 0 5 3 5 4 5 2 5-3 5-4 5-2 5 3 5 4 5 2 5-1 5-3 5-4 5-1 5 5 5 4 5 0 5-4 5-3 5-1 5 1 5 4 5 3 5-2 5-5 5-2 5 2 5 2 5 2 5 0 5-2 5-3 5-1 5 2 5 4 5-1 5-2 5-1 5 0 5 1 5 1 5 1 5-1 5-2 5 0 5 3 5 1 5 0 5-2 5 0 5 1 5 2 5 2 5 0 5-2 5-1 5 1 5 3 5 3 5 1 5-3 5-4 5 1 5 4 5 4 5 1 5-3 5-3 5-3 5 2 5 6 5 4 5-2 5-6 5-3 5 2 5 3 5 5 5 2 5-5 5-6 5-2 5 5 5 6 5 1 5-2 5-4 5-4 5 0 5 6 5 5 5-1 5-5 5-4 5 1 5 3 5 4 5 3 5-2 5-5 5-2 5 3 5 5 5 2 5-1 5-2 5-2 5 1 5 3 5 4 5 0 5-2 5-1 5 1 5 2 5 2 5 1 5-1 5-1 5 2 5 2 5 1 5 0 5 0 5-1 5 1 5 3 5 2 5-1 5-3" stroke="#ffac00"/>
<path d="M145 305l5-17 5-16 5-14 5-16 5-8 5-3 5-14 5-18 5-9 5-4 5-8 5-6 5-6 5-8 5 0 5 8 5 2 5-2 5 6 5 8 5 5 5 5 5 3 5-1 5 4 5 10 5 7 5 3 5 4 5 4 5 4 5 7 5 7 5 7 5 7 5 5 5 3 5 4 5 5 5 8 5 9 5 3 5 0 5 3 5 8 5 7 5 6 5 2 5 0 5 3 5 7 5 3 5-2 5 1 5 5 5 3 5 3 5 0 5-3 5 1 5 8 5 5 5-3 5-2 5 0 5 1 5 6 5 4 5-4 5-3 5 2 5 1 5-1 5 2 5 2 5-1 5-1 5 0 5-2 5 1 5 5 5 0 5-3 5-2 5 1 5 1 5 3 5 0 5-3 5-1 5 3 5 1 5-3 5-2 5 1 5 3 5 3 5-1 5-6 5-2 5 4 5 6 5 1 5-4 5-5 5 0 5 5 5 3 5 0 5-3 5-2 5 1 5 3 5 0 5-1 5 1 5 1 5-1 5-1 5 0 5 1 5 2 5 2 5-3 5-2 5 2 5 1 5 0 5 0 5 0 5 0 5 1 5 1 5-4 5-2 5 5 5 4 5-1 5-4 5-3 5-1 5 7 5 5 5-4 5-6 5-1 5 3 5 4 5 2 5-3 5-4 5 1 5 4 5-1 5-2 5 1 5 1 5 1 5 0 5-2 5-2 5 2 5 3 5 0 5-2 5-1 5 0 5 1 5 1 5 0 5 1 5 1 5 0 5-2 5-2 5 2 5 4 5 3 5-3 5-5 5-1 5 5 5 5 5 1 5-3 5-5 5 1 5 6 5 3 5-2 5-2 5 0 5 2 5 3 5 0 5-3 5 1 5 5 5 1 5-2 5-1 5 0 5 2 5 5 5 1 5-3 5-1 5 2 5 1 5 1 5 3 5 0 5 0 5 0 5-1 5-1" stroke="#ffa900"/>
<path d="M145 297l5-11 5-10 5-11 5-11 5-11 5-13 5-13 5-10 5-5 5-4 5-6 5-8 5-5 5 0 5 1 5 3 5 9 5 7 5 0 5 1 5 6 5 3 5 1 5 6 5 8 5 2 5 2 5 6 5 6 5 1 5 4 5 8 5 6 5 5 5 6 5 5 5 3 5 2 5 4 5 7 5 8 5 5 5 3 5 3 5 2 5 1 5 6 5 9 5 6 5 1 5 0 5 1 5-2 5 2 5 8 5 6 5 0 5 0 5 0 5-1 5 0 5 5 5 6 5 1 5 0 5 0 5 0 5-1 5 1 5 3 5 2 5 1 5 0 5 0 5-1 5-1 5-1 5 2 5 4 5 1 5 0 5-1 5-3 5-3 5 1 5 4 5 3 5 1 5-1 5-3 5-5 5-1 5 4 5 4 5 1 5 0 5-3 5-4 5-2 5 2 5 4 5 3 5-1 5-2 5-2 5-1 5 0 5 1 5 3 5 1 5-1 5-1 5 0 5-1 5-1 5 2 5 2 5 0 5 1 5 0 5-1 5-3 5 0 5 2 5 2 5 1 5 1 5-2 5-3 5-2 5 2 5 2 5 3 5 0 5-2 5-2 5-3 5 0 5 4 5 3 5 0 5-2 5-2 5-1 5-1 5 2 5 4 5 0 5-2 5-1 5 0 5-1 5 0 5 3 5 1 5-2 5 0 5 1 5 0 5 0 5 0 5 1 5 0 5 1 5 1 5 1 5-1 5 0 5 0 5 2 5 2 5 0 5 0 5 1 5-2 5 0 5 3 5 3 5 0 5-1 5 0 5-1 5 0 5 2 5 4 5 0 5-2 5-1 5 0 5 0 5 3 5 3 5 0 5-2 5-2 5 0 5 1 5 2 5 2 5 1 5-1 5-2 5-2 5 2 5 2 5 1 5 0 5 1 5-1 5-2 5 1 5 2 5 0 5 0 5 2 5 1" stroke="#ffa500"/>
<path d="M145 315l5-17 5-9 5-14 5-15 5-7 5-7 5-7 5-12 5-14 5-6 5-7 5-7 5 4 5 1 5-2 5 3 5 3 5 6 5 2 5 1 5 10 5 6 5 1 5 5 5 0 5 0 5 5 5 7 5 11 5 3 5-1 5 7 5 4 5 2 5 7 5 6 5 6 5 5 5 3 5 6 5 0 5-1 5 9 5 8 5 5 5 4 5 0 5 2 5 1 5 3 5 7 5 2 5-1 5 5 5 2 5-1 5-1 5 0 5 5 5 5 5 2 5 3 5-3 5-4 5 3 5 4 5 3 5 2 5-1 5 1 5 0 5-2 5 2 5 0 5 1 5 4 5 2 5 0 5-3 5-4 5 3 5 3 5 2 5 2 5-1 5-2 5-1 5 0 5 1 5 0 5 0 5 4 5 1 5-3 5-2 5-3 5 1 5 3 5 3 5 1 5-3 5-4 5 0 5 1 5 0 5 1 5 1 5 1 5 0 5-2 5-1 5-2 5-1 5 5 5 3 5-1 5-3 5-4 5 1 5 1 5 1 5 3 5 0 5-2 5 0 5 0 5-2 5-1 5 1 5 4 5 2 5-2 5-1 5-3 5-1 5 3 5 3 5 2 5-2 5-2 5 2 5 0 5-2 5 1 5 2 5 1 5 3 5-1 5-2 5-3 5-1 5 5 5 3 5-1 5 0 5-2 5-1 5 0 5 1 5 1 5 1 5-1 5 3 5 0 5-5 5-1 5 1 5 3 5 3 5 0 5-2 5-2 5-3 5 3 5 2 5 0 5 0 5 1 5 1 5-1 5-3 5 0 5 2 5 1 5 4 5 1 5-3 5-3 5 0 5 3 5 3 5 0 5 1 5 0 5-1 5 1 5 0 5 0 5 1 5 2 5 5 5 0 5-4 5 0 5 1 5 2 5 4 5 2 5-1 5-1 5-1 5 3 5 1 5-1 5 3 5 2" stroke="#ffa100"/>
<path d="M145 334l5-13 5-10 5-13 5-14 5-10 5-10 5-14 5-10 5-10 5-15 5-6 5-2 5-7 5-3 5 0 5-7 5-2 5 6 5 6 5 8 5 8 5 2 5 0 5 1 5 5 5 5 5 3 5 7 5 5 5 3 5 7 5 8 5 0 5 4 5 6 5 2 5 9 5 12 5 3 5 1 5 3 5 1 5 4 5 10 5 7 5 4 5 3 5 2 5 2 5 2 5 5 5 3 5-1 5 3 5 4 5 1 5 3 5 2 5-3 5 0 5 4 5 3 5 3 5 4 5-3 5-2 5 1 5 2 5 3 5 2 5 0 5-2 5 0 5 2 5 3 5-1 5 0 5-1 5-1 5 2 5 5 5 0 5-1 5-1 5-3 5 1 5 4 5 1 5-1 5 0 5-1 5 0 5 1 5 1 5-1 5-2 5-1 5 2 5 2 5 2 5 0 5-5 5-3 5 2 5 1 5 3 5 3 5-2 5-4 5 0 5 0 5 0 5 2 5 0 5-1 5 0 5 2 5 0 5-2 5-2 5-2 5 0 5 4 5 4 5 0 5-3 5-3 5-4 5 0 5 6 5 2 5 0 5-1 5-3 5-2 5 1 5 1 5 0 5 0 5 1 5 2 5 1 5 0 5-3 5-4 5 0 5 3 5 4 5 3 5 1 5-5 5-5 5 1 5 1 5 3 5 5 5-1 5-2 5-1 5 0 5-1 5 1 5 1 5 0 5 1 5 3 5 2 5-2 5-3 5-2 5 0 5 3 5 6 5 1 5-2 5-1 5-4 5 0 5 4 5 3 5 0 5 1 5-1 5-1 5 2 5 1 5-1 5 0 5 0 5 3 5 2 5 2 5 0 5-4 5-2 5 3 5 2 5 3 5 3 5-2 5-4 5 2 5 1 5 2 5 2 5 0 5-2 5 1 5 2 5 2 5 0 5-1 5-1 5-1 5 3 5 4" stroke="#ff9e00"/>
<path d="M145 339l5-15 5-19 5-8 5-11 5-11 5-7 5-17 5-13 5-5 5-9 5-5 5-4 5-10 5 0 5 3 5 1 5 5 5 2 5 2 5 9 5 5 5 3 5 2 5-2 5 3 5 9 5 8 5 5 5 1 5 0 5 4 5 10 5 8 5 4 5 3 5 3 5 6 5 8 5 3 5 1 5 5 5 4 5 9 5 9 5-2 5 0 5 3 5 5 5 11 5 5 5-4 5 0 5-1 5 4 5 8 5 1 5-1 5 2 5-1 5 4 5 3 5-3 5 1 5 3 5 2 5 5 5-2 5-4 5 0 5 1 5 5 5 4 5-2 5-3 5-1 5 0 5 3 5 2 5-1 5 0 5 0 5 0 5 0 5-2 5 1 5 2 5 1 5 0 5-2 5-2 5-1 5 2 5 2 5 0 5-1 5 0 5-2 5 1 5-1 5-2 5 3 5 1 5 1 5-1 5-4 5-2 5 3 5 2 5 3 5-1 5-5 5-1 5 2 5 1 5 3 5-2 5-2 5 2 5 1 5 0 5-1 5-4 5 1 5 5 5 2 5 0 5-5 5-5 5 3 5 5 5 3 5 0 5-6 5-3 5 2 5 3 5 3 5-1 5-4 5 1 5 2 5 2 5-1 5-3 5-1 5 3 5 4 5 1 5-4 5-4 5-1 5 4 5 6 5 0 5-4 5-3 5-1 5 4 5 3 5-1 5 0 5-1 5 0 5 2 5-1 5-2 5 2 5 1 5 3 5 2 5-4 5-2 5 1 5 1 5 5 5 1 5-2 5 0 5-1 5 0 5 3 5 0 5 1 5 3 5-1 5 0 5-1 5-1 5 3 5 3 5 1 5 0 5-2 5-1 5 2 5 2 5 1 5 0 5 0 5 1 5 1 5-1 5-1 5 0 5 3 5 3 5 2 5-3 5-4 5-1 5 4 5 4 5 3 5-3 5-4 5-1" stroke="#ff9a00"/>
<path d="M145 315l5-13 5-14 5-18 5-14 5-9 5-9 5-5 5-7 5-13 5-7 5-5 5-8 5-3 5 1 5 4 5 9 5 4 5 3 5 2 5-2 5 6 5 11 5 3 5 3 5 4 5 2 5 6 5 4 5 4 5 6 5 4 5 7 5 10 5 1 5 1 5 6 5 6 5 7 5 5 5 1 5 5 5 3 5 6 5 8 5 1 5 1 5 5 5 4 5 4 5 3 5 0 5 3 5 2 5 1 5 3 5-2 5-1 5 5 5 5 5 2 5 0 5-4 5 0 5 2 5 2 5 4 5 0 5-1 5 2 5 0 5-2 5-3 5 0 5 4 5 5 5 1 5-2 5-4 5-4 5 2 5 4 5 2 5 1 5-1 5 0 5 0 5-3 5-2 5 1 5 2 5 6 5 2 5-5 5-5 5-2 5 2 5 5 5 1 5 1 5 0 5-2 5-1 5 0 5-3 5 1 5 4 5 4 5 1 5-4 5-4 5 0 5 1 5 4 5 3 5-2 5-1 5 1 5 0 5-1 5-1 5 0 5 3 5 3 5 0 5-1 5-4 5-1 5 3 5 3 5 0 5-2 5-2 5 2 5 1 5 0 5 0 5-2 5 0 5 4 5 0 5-2 5-1 5 0 5 3 5 1 5-2 5-1 5-1 5 1 5 4 5 1 5-3 5-3 5 0 5 2 5 1 5-1 5 1 5 1 5-1 5 1 5-2 5-4 5 1 5 4 5 4 5 1 5-4 5-3 5-1 5 0 5 4 5 2 5-1 5 1 5 1 5-1 5-2 5-3 5 1 5 6 5 3 5 2 5-3 5-6 5-1 5 4 5 3 5 2 5 0 5 0 5 2 5-3 5-1 5-1 5 1 5 5 5 6 5-1 5-4 5-4 5 0 5 4 5 3 5 2 5 1 5-1 5 0 5 1 5-2 5-1 5 2 5 4 5 5 5-1 5-4" stroke="#ff9600"/>
<path d="M145 314l5-17 5-15 5-9 5-10 5-11 5-7 5-10 5-15 5-10 5-3 5-2 5 0 5 4 5-3 5-3 5 5 5 8 5 6 5 8 5 4 5 0 5 0 5 5 5 5 5 6 5 5 5 4 5 5 5 5 5 5 5 5 5 4 5 4 5 6 5 8 5 6 5 4 5 3 5 2 5 2 5 7 5 8 5 4 5 3 5 4 5 1 5 3 5 6 5 3 5-1 5 2 5 3 5 2 5 4 5 2 5-3 5-4 5 3 5 4 5 4 5 4 5-1 5-6 5-3 5 2 5 5 5 4 5 2 5-3 5-4 5-2 5 2 5 3 5 2 5 0 5-1 5 0 5 0 5 1 5 0 5 0 5-1 5 3 5 2 5 1 5-1 5-1 5-2 5 1 5 4 5 2 5 0 5-1 5-1 5-1 5 2 5 3 5-1 5-1 5 1 5 1 5 1 5 2 5-1 5-4 5-2 5 3 5 4 5 3 5 0 5-4 5-6 5-1 5 4 5 4 5 3 5-2 5-5 5-4 5 0 5 2 5 3 5 1 5-2 5-2 5-2 5 0 5 0 5 0 5-1 5 0 5 1 5 1 5-1 5-2 5-2 5-1 5 2 5 3 5 1 5-1 5-1 5-2 5 0 5 3 5 1 5-1 5 0 5 1 5 1 5 1 5 2 5-2 5-3 5 2 5 4 5 3 5 2 5-1 5-5 5-3 5 3 5 6 5 4 5 2 5-4 5-4 5-2 5 3 5 5 5 3 5 0 5-3 5-1 5-1 5 2 5 2 5 0 5-1 5 1 5 1 5 0 5 0 5-1 5-2 5 0 5 3 5 3 5-1 5-1 5-2 5-2 5 1 5 4 5 0 5-1 5 0 5 0 5 0 5 2 5 0 5-2 5-1 5 3 5 3 5 2 5 1 5-4 5-3 5 0 5 5 5 5 5 3 5-1 5-5 5-3" stroke="#ff9300"/>
<path d="M145 331l5-17 5-15 5-5 5-8 5-13 5-8 5-12 5-17 5-9 5-4 5-9 5-2 5 1 5-4 5-2 5 3 5-1 5 4 5 8 5 6 5 6 5 6 5 1 5 0 5 2 5 2 5 6 5 8 5 6 5 6 5 5 5-1 5 3 5 6 5 4 5 7 5 11 5 3 5 1 5 6 5 0 5 0 5 8 5 7 5 3 5 8 5 4 5-2 5 2 5 3 5 0 5 4 5 6 5 1 5 2 5 1 5-2 5 0 5 3 5 2 5 4 5 3 5 0 5 0 5-1 5-1 5 2 5 3 5 1 5 2 5 2 5-3 5 0 5 0 5 0 5 1 5 4 5 0 5-1 5 1 5-1 5-2 5 2 5 2 5-1 5 3 5 0 5-3 5 0 5 0 5-1 5 2 5 2 5-1 5-1 5 0 5-2 5-1 5 1 5 1 5 1 5 1 5-2 5-1 5-1 5-1 5 1 5 2 5 1 5 0 5 0 5-3 5-1 5 1 5 0 5 2 5 3 5-1 5-2 5 1 5-2 5-2 5 3 5 2 5 0 5 2 5 0 5-4 5 0 5 1 5-1 5 3 5 3 5 0 5-1 5-1 5-2 5-1 5 2 5 2 5 2 5 2 5-1 5-2 5-1 5-2 5 2 5 2 5 1 5 2 5 0 5-3 5-2 5 0 5 0 5 1 5 4 5 0 5-1 5 0 5-3 5-3 5 2 5 2 5 0 5 3 5 0 5-3 5-1 5 0 5-2 5 1 5 3 5 0 5 1 5 0 5-2 5-1 5 0 5 1 5 1 5 2 5 1 5 0 5-1 5-1 5 0 5 2 5 0 5 2 5 2 5 0 5 0 5 1 5-1 5 0 5 3 5 0 5 1 5 3 5 0 5-1 5 2 5 0 5 0 5 2 5 2 5 0 5 2 5 2 5-1 5 1 5 1 5-1 5 1 5 2" stroke="#ff8f00"/>
<path d="M145 338l5-11 5-13 5-13 5-8 5-17 5-15 5-11 5-13 5-7 5-7 5-10 5-8 5-9 5-9 5-4 5-2 5 3 5 2 5 4 5 4 5 2 5 7 5 4 5 4 5 8 5 2 5 5 5 7 5 0 5 7 5 7 5 2 5 12 5 7 5 2 5 7 5 0 5 5 5 12 5 5 5 7 5 3 5-1 5 5 5 7 5 7 5 7 5 2 5 0 5 2 5 3 5 5 5 1 5 1 5 1 5 2 5 5 5 1 5-2 5 0 5 0 5 5 5 6 5 0 5-2 5-3 5-2 5 7 5 4 5 1 5-1 5-6 5 0 5 3 5 2 5 3 5-1 5-3 5 2 5 1 5 0 5 0 5-1 5 0 5 3 5 2 5 0 5-3 5-3 5 1 5 3 5 4 5 0 5-3 5-3 5-2 5 3 5 3 5 0 5 1 5-2 5-3 5 1 5 0 5 1 5 2 5-1 5 0 5 0 5-3 5 1 5 0 5 0 5 3 5-1 5-1 5 0 5-2 5 0 5 0 5 1 5 2 5 1 5-2 5-2 5-2 5 1 5 3 5 3 5 0 5-4 5-3 5-1 5 2 5 5 5 1 5-2 5-2 5-2 5 3 5 2 5-1 5 0 5 0 5 1 5 3 5-1 5-2 5-1 5 0 5 4 5 5 5-1 5-4 5-3 5-1 5 6 5 5 5 0 5-3 5-4 5 0 5 3 5 4 5 1 5-2 5-1 5 0 5 1 5 2 5-2 5 0 5 1 5 1 5 4 5-1 5-4 5-1 5 0 5 4 5 5 5-2 5-3 5-2 5-2 5 4 5 4 5 0 5 0 5-3 5-1 5 1 5 1 5 1 5 1 5 0 5 0 5 0 5-1 5 0 5 1 5 1 5 1 5 1 5 1 5-2 5 0 5 0 5 0 5 4 5 2 5-1 5 0 5-3 5 0 5 3" stroke="#ff8b00"/>
<path d="M145 342l5-10 5-8 5-16 5-13 5-11 5-17 5-7 5-7 5-14 5-11 5-7 5-8 5-5 5-3 5-3 5-4 5 0 5 6 5 2 5 6 5 9 5 2 5 3 5 5 5-2 5 3 5 11 5 5 5 5 5 6 5 0 5 2 5 9 5 8 5 5 5 3 5 5 5 4 5 6 5 9 5 3 5-2 5 5 5 6 5 5 5 11 5 3 5-3 5 2 5 3 5 3 5 6 5 3 5 0 5 0 5 2 5 1 5 0 5 3 5 3 5 1 5 2 5 1 5-2 5 2 5 4 5-2 5 1 5 1 5 0 5 3 5 4 5-2 5-4 5-2 5 2 5 5 5 5 5 0 5-5 5-4 5 2 5 3 5 3 5 2 5-3 5-2 5 2 5 0 5 1 5 0 5-2 5 0 5 2 5 2 5-1 5-1 5-1 5-1 5 0 5 2 5 1 5 0 5 2 5-2 5-4 5 0 5 1 5 2 5 5 5-1 5-5 5-2 5 0 5 2 5 4 5 0 5-3 5-3 5 2 5 3 5 0 5-2 5-2 5-3 5 4 5 5 5-1 5-2 5-3 5-3 5 2 5 4 5 1 5 0 5-1 5-2 5-2 5 1 5 1 5 1 5 2 5 1 5-3 5-2 5 1 5 1 5 1 5 2 5-3 5-1 5 3 5 1 5 1 5-1 5-4 5-2 5 4 5 5 5 2 5-3 5-4 5-3 5 2 5 6 5 2 5-2 5-1 5-2 5 0 5 3 5 1 5-2 5 2 5 1 5 0 5 1 5 0 5-1 5 0 5 1 5 1 5 0 5 3 5 2 5-2 5 0 5-2 5-1 5 4 5 5 5 1 5-2 5-3 5-3 5 3 5 6 5 2 5-1 5-3 5-1 5 2 5 3 5 2 5-3 5-1 5 2 5 2 5 3 5 1 5-4 5-2 5 2 5 2 5 3 5 2" stroke="#ff8800"/>
<path d="M145 313l5-15 5-8 5-11 5-8 5-13 5-14 5-7 5-11 5-4 5-1 5-10 5-7 5-5 5 5 5 11 5 1 5 2 5 4 5 1 5 8 5 5 5 4 5 3 5-2 5 7 5 9 5 2 5 2 5 2 5 7 5 9 5 1 5 5 5 4 5 2 5 8 5 6 5 5 5 1 5-2 5 7 5 9 5 2 5 4 5 0 5 4 5 5 5 1 5 6 5 2 5-1 5 3 5 1 5 2 5 1 5 0 5 7 5 2 5-4 5 0 5 1 5 5 5 5 5-1 5-1 5-3 5 0 5 8 5 4 5 0 5-5 5-4 5 5 5 5 5 3 5-1 5-4 5-1 5 3 5 4 5 4 5-3 5-3 5 2 5 2 5 2 5-1 5 0 5 2 5 0 5-1 5 0 5 0 5 1 5 2 5 0 5-1 5-4 5 1 5 4 5 1 5-1 5-4 5-1 5 3 5 1 5 0 5-1 5-3 5 0 5 2 5 1 5 0 5-5 5 0 5 3 5 1 5-1 5-4 5-1 5 3 5 1 5 1 5-2 5-5 5 0 5 3 5 4 5 0 5-6 5-3 5 2 5 2 5 3 5-1 5-3 5-1 5-1 5 4 5 2 5-2 5 0 5 0 5 0 5 0 5-1 5 3 5 3 5-2 5-1 5-3 5 1 5 4 5 3 5 1 5-4 5-5 5 3 5 5 5 4 5-1 5-7 5-1 5 3 5 4 5 4 5-3 5-4 5-1 5 2 5 6 5 0 5-3 5-1 5 0 5 3 5 1 5-1 5 1 5-1 5 1 5 2 5-1 5-1 5 1 5 2 5 3 5-2 5-3 5 2 5 2 5 2 5 0 5-2 5 1 5-1 5 3 5 3 5-2 5-1 5 1 5 2 5 3 5-3 5-2 5 3 5 3 5 2 5-1 5-3 5 1 5 2 5 5 5 3 5-5 5-4" stroke="#ff8400"/>
<path d="M145 295l5-7 5-13 5-14 5-11 5-7 5-6 5-10 5-11 5-8 5-2 5 0 5-1 5 0 5 1 5 2 5 7 5 8 5 4 5 1 5 2 5 6 5 3 5 1 5 3 5 7 5 3 5 1 5 6 5 8 5 2 5-2 5 4 5 11 5 7 5 2 5 3 5 2 5 1 5 6 5 9 5 4 5-2 5 2 5 10 5 7 5-1 5-2 5 6 5 7 5 5 5 1 5 1 5 0 5 1 5 4 5 6 5 2 5 0 5 1 5 3 5 1 5 1 5 3 5 2 5 0 5 1 5 3 5 3 5-2 5-3 5 0 5 4 5 5 5 0 5-4 5-4 5 2 5 4 5 1 5-2 5-2 5 0 5 3 5 1 5-3 5-4 5 0 5 4 5 4 5-3 5-4 5-1 5 0 5 1 5 1 5 1 5 0 5-3 5-1 5 1 5 1 5 0 5-1 5 1 5 1 5 0 5 2 5-1 5-4 5-1 5 6 5 5 5-1 5-6 5-2 5 4 5 3 5 1 5-2 5-1 5 0 5 3 5 1 5-3 5-3 5 1 5 5 5 2 5-3 5-3 5-1 5 1 5 0 5 2 5 1 5-1 5-2 5-2 5 1 5 1 5 1 5-2 5-1 5 1 5 3 5-1 5-3 5-3 5 1 5 5 5 3 5-1 5-6 5-2 5 4 5 4 5 0 5-3 5-1 5 4 5 2 5-2 5-1 5-1 5 2 5 3 5 3 5-1 5-3 5-1 5 2 5 2 5 1 5 2 5 1 5-2 5-2 5 2 5 4 5 0 5-3 5 0 5 4 5 2 5-1 5-3 5-1 5 1 5 5 5 4 5-3 5-5 5-1 5 4 5 4 5-1 5-3 5 0 5 3 5 1 5-1 5-2 5 0 5 2 5 3 5 2 5-1 5-2 5-1 5 1 5 2 5 3 5 1 5-1 5-2 5 0" stroke="#ff8000"/>
<path d="M145 303l5-15 5-19 5-11 5-9 5-13 5-10 5-8 5-9 5-8 5-8 5-8 5-6 5-3 5 3 5 8 5 4 5 0 5 3 5 0 5 2 5 10 5 11 5 0 5 0 5 3 5-1 5 5 5 14 5 8 5 0 5 5 5 2 5 0 5 9 5 12 5 5 5 3 5 5 5 1 5 3 5 7 5 6 5 5 5 4 5 5 5 5 5 2 5 1 5 4 5 4 5 4 5 6 5 3 5-3 5-2 5 4 5 3 5 5 5 7 5 1 5-5 5-1 5 3 5 3 5 6 5 5 5-3 5-4 5 1 5 1 5 3 5 4 5 1 5-2 5-1 5 0 5 2 5 1 5 1 5 0 5 1 5 0 5 1 5 0 5-2 5-1 5 3 5 2 5 0 5 1 5-2 5-5 5 1 5 4 5 1 5 0 5 0 5-4 5-4 5 3 5 3 5 1 5-1 5-2 5-4 5 0 5 3 5 2 5-1 5-2 5-2 5 0 5 1 5 2 5 0 5-2 5-3 5 1 5 1 5 1 5 0 5-1 5-3 5-1 5 3 5 1 5-1 5 0 5-2 5-2 5 3 5 2 5-2 5-2 5 1 5-1 5 1 5 3 5-1 5-3 5-1 5 1 5 2 5 3 5 0 5-2 5-3 5-1 5 4 5 4 5 1 5-2 5-2 5-4 5 2 5 5 5 3 5-1 5-1 5-2 5-2 5 3 5 4 5-1 5 0 5 1 5-1 5-1 5 3 5 0 5-1 5 2 5 3 5 0 5 0 5-1 5-2 5 1 5 4 5 4 5 2 5-3 5-4 5-1 5 2 5 5 5 6 5 0 5-5 5-3 5 0 5 1 5 6 5 5 5-2 5-4 5-1 5-1 5 2 5 5 5 2 5-2 5-1 5 0 5-1 5 0 5 2 5 1 5 1 5 3 5 0 5-3 5-2 5-1 5 3 5 4" stroke="#ff7d00"/>
<path d="M145 330l5-15 5-16 5-7 5-15 5-12 5-3 5-14 5-15 5-11 5-9 5-3 5-3 5-5 5-7 5-5 5 6 5 2 5 1 5 10 5 3 5 6 5 10 5-3 5-1 5 6 5 5 5 9 5 7 5 3 5 3 5 4 5 8 5 2 5 3 5 12 5 6 5 6 5 7 5-5 5 2 5 10 5 6 5 7 5 5 5 1 5 4 5 4 5 2 5 0 5 4 5 9 5 3 5 0 5 0 5-5 5 3 5 8 5 0 5 3 5 2 5-1 5 2 5-1 5-2 5 1 5 6 5 6 5-1 5-4 5-2 5-2 5 4 5 4 5-1 5 1 5 2 5-1 5-1 5-3 5-1 5 4 5 6 5 2 5-5 5-4 5 0 5 1 5 3 5 2 5-2 5 3 5 1 5-4 5-3 5-2 5 2 5 6 5 3 5-3 5-4 5-2 5 1 5 0 5 2 5 1 5 0 5 3 5-1 5-7 5-1 5 2 5 3 5 5 5-1 5-4 5-2 5 0 5 1 5-1 5 1 5 3 5 1 5 1 5-5 5-6 5 3 5 4 5 2 5 2 5-4 5-3 5 1 5 0 5-1 5 0 5 3 5 3 5 0 5-3 5-5 5-2 5 6 5 3 5 0 5 0 5-2 5-1 5 1 5-2 5-1 5 3 5 4 5 2 5-3 5-4 5-2 5 1 5 6 5 1 5-2 5 1 5-1 5 0 5 0 5-2 5 1 5 5 5 3 5-1 5-4 5-2 5 1 5 3 5 4 5-1 5-1 5 3 5-1 5-2 5 1 5-1 5 4 5 6 5-1 5-3 5-3 5 1 5 4 5 2 5 1 5-1 5 1 5 3 5-3 5-2 5 1 5 2 5 5 5 3 5-5 5-2 5 0 5 3 5 1 5 0 5 1 5 1 5 2 5 0 5-5 5-1 5 4 5 3 5 3 5-1 5-5" stroke="#ff7900"/>
<path d="M145 327l5-13 5-7 5-10 5-13 5-17 5-15 5-5 5-9 5-11 5-5 5-7 5-10 5-7 5-5 5 2 5 7 5 1 5 2 5 6 5 0 5 5 5 10 5 4 5 2 5 1 5 3 5 11 5 6 5-1 5 6 5 7 5 5 5 7 5 3 5 4 5 7 5 5 5 7 5 7 5-2 5 1 5 10 5 8 5 4 5 2 5 1 5 5 5 5 5 1 5 6 5 4 5-1 5 0 5 1 5 2 5 5 5 3 5 1 5 0 5-4 5 0 5 8 5 6 5-2 5-3 5-3 5 3 5 5 5 1 5 0 5-1 5-2 5 1 5 3 5 0 5 0 5 0 5 1 5 2 5-2 5-2 5 3 5 2 5 0 5-1 5-1 5 0 5 2 5 0 5 0 5 1 5-1 5 0 5 1 5-2 5-1 5 3 5 3 5 0 5-5 5-4 5 3 5 6 5 1 5-1 5-5 5-3 5 3 5 4 5 2 5-1 5-5 5-1 5 3 5 1 5 0 5 1 5 0 5-1 5-2 5-1 5 3 5 3 5-1 5-2 5-2 5-2 5 3 5 3 5-1 5-2 5-2 5 0 5 4 5-1 5-3 5 0 5 2 5 2 5-1 5-4 5-1 5 3 5 2 5 2 5-1 5-5 5-2 5 4 5 4 5 0 5-2 5-4 5 2 5 1 5 0 5 2 5 1 5-1 5-2 5-2 5 1 5 5 5 2 5-1 5-2 5-5 5 2 5 6 5 3 5-1 5-5 5-2 5 4 5 5 5-1 5 0 5-1 5 0 5 2 5 2 5-1 5 1 5 1 5 2 5 2 5-3 5-1 5 3 5 3 5 1 5-1 5-1 5 1 5 1 5 0 5 1 5 3 5-1 5 0 5 0 5-2 5 2 5 4 5 2 5 0 5-5 5-4 5 5 5 6 5 2 5-3 5-5 5-1 5 4 5 3" stroke="#ff7500"/>
<path d="M145 328l5-15 5-17 5-12 5-11 5-10 5-7 5-7 5-12 5-11 5-10 5-10 5-4 5 0 5 2 5 3 5 1 5 0 5 2 5 4 5 5 5 7 5 6 5 3 5 4 5 2 5 1 5 6 5 6 5 4 5 5 5 6 5 3 5 5 5 8 5 4 5 3 5 6 5 2 5 2 5 7 5 7 5 3 5 6 5 4 5-2 5 2 5 6 5 4 5 5 5 7 5 0 5-2 5 1 5 0 5 1 5 5 5 5 5 1 5 2 5 0 5-2 5 1 5 3 5 1 5 2 5 3 5 0 5 1 5 1 5 1 5-1 5 1 5 0 5 0 5 2 5 3 5 1 5 1 5-1 5-1 5-1 5 1 5 2 5 3 5 2 5 0 5-1 5-2 5-1 5 1 5 1 5 2 5 2 5 0 5-1 5-1 5 0 5-2 5 1 5 1 5 0 5 1 5 2 5-2 5-1 5 0 5-3 5-1 5 2 5 2 5 0 5 2 5-1 5-4 5-1 5 0 5-1 5 2 5 3 5-1 5-1 5-1 5-3 5-1 5 1 5 0 5 0 5 2 5-1 5-1 5 0 5-1 5-1 5-1 5 0 5 0 5 1 5 2 5 0 5 0 5-2 5-2 5-1 5 1 5 2 5 3 5 2 5-1 5-2 5-3 5-1 5 1 5 3 5 3 5 2 5-1 5-2 5-2 5 0 5 1 5 2 5 3 5 1 5-1 5 0 5 0 5 0 5 2 5 1 5-1 5 0 5 2 5 1 5 2 5 3 5-1 5-3 5 0 5 0 5 1 5 6 5 3 5 0 5-1 5-3 5-3 5 1 5 4 5 4 5 3 5 1 5-4 5-3 5 0 5 0 5 3 5 4 5 1 5-2 5-1 5-1 5-1 5 2 5 2 5 0 5-1 5 0 5 0 5 1 5 2 5 1 5-2 5-2 5-2 5 1 5 2" stroke="#ff7200"/>
<path d="M145 355l5-16 5-14 5-15 5-15 5-8 5-7 5-13 5-15 5-7 5-7 5-12 5-11 5-4 5-1 5-3 5 0 5 2 5 0 5-1 5 8 5 12 5 5 5-2 5 3 5 6 5 4 5 2 5 7 5 7 5 3 5 4 5 9 5 5 5 0 5 4 5 11 5 8 5 3 5 2 5 5 5 4 5 5 5 7 5 5 5 1 5 2 5 7 5 8 5 3 5-1 5 1 5 2 5 3 5 3 5 3 5 1 5 1 5 2 5 2 5 0 5-1 5 2 5 5 5 4 5 0 5-3 5-3 5 1 5 5 5 3 5 2 5-2 5-3 5-1 5 2 5 2 5 0 5 0 5 2 5 2 5-2 5-3 5-1 5 2 5 2 5 2 5 1 5-4 5-4 5 1 5 4 5 1 5-3 5-2 5 1 5 0 5 1 5 0 5-1 5-3 5 0 5 3 5 1 5-3 5-1 5 1 5 1 5-2 5-1 5 0 5 0 5 2 5 3 5 0 5-5 5-4 5 3 5 5 5 2 5-1 5-2 5-2 5-1 5 2 5 2 5 0 5 0 5 2 5 1 5-2 5-3 5-1 5 4 5 4 5 1 5-1 5-3 5-2 5 2 5 4 5 1 5-1 5-2 5 1 5 2 5 1 5-1 5-1 5 0 5 2 5 2 5 0 5-1 5-1 5 1 5 1 5 1 5-2 5-2 5 2 5 4 5 1 5-3 5-3 5-1 5 1 5 4 5 3 5-1 5-5 5-1 5 2 5 1 5-1 5 1 5 2 5 1 5-2 5-1 5-2 5 0 5 2 5 6 5 2 5-5 5-4 5 0 5 4 5 2 5 1 5 0 5-1 5-1 5 1 5 2 5-1 5-1 5 2 5 3 5 0 5-2 5 0 5 1 5 2 5 1 5 1 5-1 5-2 5 3 5 4 5 1 5-3 5-3 5 2 5 3 5 3" stroke="#ff6e00"/>
<path d="M145 322l5-14 5-18 5-13 5-10 5-12 5-9 5-6 5-11 5-13 5-7 5-4 5-5 5-2 5 3 5 2 5 0 5 5 5 7 5 4 5 3 5 3 5 3 5 4 5 5 5 5 5 4 5 4 5 3 5 4 5 8 5 7 5 4 5 3 5 6 5 4 5 4 5 9 5 8 5 1 5 0 5 6 5 5 5 5 5 7 5 6 5 0 5-1 5 5 5 6 5 5 5 4 5 1 5-2 5-2 5 3 5 6 5 5 5 2 5-2 5-3 5 0 5 4 5 5 5 5 5 0 5-5 5-3 5 2 5 4 5 4 5 2 5-1 5-6 5-3 5 4 5 6 5 3 5 0 5-3 5-5 5-1 5 4 5 6 5 2 5-2 5-4 5-3 5 1 5 4 5 5 5 1 5-3 5-5 5-2 5 3 5 5 5 2 5-1 5-3 5-4 5-1 5 4 5 4 5 1 5-2 5-3 5-3 5 0 5 4 5 3 5-1 5-3 5-2 5-1 5 1 5 3 5 1 5-1 5-3 5-2 5 0 5 1 5 2 5 0 5-2 5-2 5-1 5 0 5 1 5 1 5-2 5-1 5 0 5 0 5 0 5 0 5 0 5-1 5 0 5 1 5 1 5-2 5 0 5 1 5-1 5 1 5 2 5 1 5-2 5-1 5 1 5 1 5 1 5 3 5-1 5-2 5-1 5 1 5 3 5 3 5 1 5-2 5-1 5-1 5 2 5 3 5 4 5-1 5-3 5-1 5 1 5 2 5 3 5 3 5-1 5-4 5-1 5 2 5 3 5 3 5 2 5-2 5-4 5-1 5 3 5 4 5 3 5-1 5-2 5-4 5 0 5 4 5 4 5 2 5-2 5-4 5-2 5 2 5 3 5 3 5 2 5-3 5-4 5 0 5 3 5 3 5 2 5 1 5-3 5-3 5 0 5 4 5 3 5 1 5 0 5-3" stroke="#ff6a00"/>
<path d="M145 314l5-18 5-7 5-7 5-16 5-13 5-13 5-10 5-6 5-6 5-6 5-11 5-8 5 2 5-1 5 0 5 4 5 1 5 6 5 8 5 5 5 3 5-1 5 6 5 5 5 2 5 7 5 6 5 1 5 9 5 5 5 2 5 4 5 6 5 8 5 4 5 4 5 8 5 2 5 6 5 6 5 0 5 2 5 7 5 7 5 6 5 2 5 3 5 1 5 2 5 8 5 2 5-2 5 3 5 3 5 4 5 4 5-1 5-2 5 0 5 4 5 7 5-1 5 1 5 1 5-1 5 3 5 2 5-1 5-1 5 2 5 3 5 1 5-1 5 0 5 0 5-1 5 2 5 0 5 1 5 2 5 1 5 0 5-3 5-1 5 2 5 1 5 2 5 0 5-3 5 1 5 2 5 0 5-2 5-3 5 0 5 2 5 3 5 2 5-5 5-4 5 1 5 2 5 1 5 0 5-3 5 0 5 2 5 2 5-2 5-4 5 0 5 1 5 1 5 3 5-1 5-2 5-1 5 1 5 0 5-2 5 1 5 2 5 0 5 0 5 0 5-3 5 1 5 2 5-1 5-1 5 0 5 3 5 2 5-2 5-1 5-3 5-1 5 6 5 2 5-1 5-2 5-1 5 2 5 2 5 0 5-2 5-2 5 3 5 5 5 0 5-2 5-2 5-2 5 2 5 3 5 1 5-1 5-1 5 3 5 0 5-1 5 0 5-1 5 0 5 3 5 1 5 0 5-1 5 1 5 0 5-2 5 0 5 2 5 1 5 3 5 0 5-4 5-1 5 2 5 3 5 0 5-2 5 1 5 0 5 3 5 3 5-4 5-3 5 0 5 4 5 3 5 1 5-2 5-2 5-1 5 4 5 1 5-3 5 0 5 1 5 2 5 3 5-1 5-2 5-2 5 1 5 4 5 0 5 0 5 2 5-1 5 0 5 0 5-1 5 1 5 2" stroke="#ff6700"/>
<path d="M145 309l5-15 5-14 5-11 5-3 5-12 5-18 5-11 5-10 5-6 5-6 5-8 5-4 5-7 5-1 5 6 5-1 5 2 5 7 5 4 5 5 5 3 5 5 5 5 5 0 5 6 5 5 5-1 5 8 5 11 5 5 5 3 5 0 5 5 5 7 5 7 5 12 5 3 5-3 5 6 5 7 5 7 5 4 5 1 5 5 5 4 5 8 5 9 5-1 5-3 5 3 5 5 5 6 5 4 5 1 5 1 5-1 5 3 5 5 5-1 5 2 5 4 5 2 5 2 5-1 5 1 5 2 5 0 5 4 5 1 5-2 5 3 5 3 5-1 5-2 5-3 5 2 5 4 5 4 5 2 5-5 5-5 5 2 5 4 5 3 5-1 5-3 5 0 5 0 5 3 5 2 5-5 5-4 5 2 5 4 5 3 5-2 5-4 5-3 5-2 5 4 5 3 5-2 5-1 5 0 5-2 5-1 5-1 5 0 5 1 5 1 5 1 5-2 5-3 5 1 5 1 5 0 5-2 5-1 5 2 5 2 5 1 5-2 5-6 5-2 5 4 5 5 5 2 5-3 5-5 5 0 5 1 5 4 5 1 5-4 5-1 5 2 5 3 5 1 5-3 5-3 5 0 5 2 5 6 5 1 5-3 5-2 5 0 5 1 5 1 5 1 5 2 5 1 5-1 5 1 5-2 5-2 5 4 5 2 5 1 5-1 5-1 5 2 5 1 5 0 5 0 5-3 5 1 5 6 5 3 5-1 5-5 5-3 5 2 5 4 5 5 5 1 5-5 5-2 5 2 5 3 5 1 5-2 5 0 5 1 5 3 5 4 5-2 5-4 5-1 5 2 5 3 5 2 5 0 5 0 5-2 5-1 5 1 5-1 5 1 5 4 5 1 5-1 5-3 5-1 5 2 5 1 5 2 5-1 5-3 5 2 5 3 5 1 5-2 5-5 5 1 5 3" stroke="#ff6300"/>
<path d="M145 341l5-10 5-11 5-12 5-11 5-11 5-13 5-12 5-7 5-5 5-6 5-6 5-6 5-5 5-2 5 3 5 5 5 6 5 7 5 4 5 2 5 1 5 4 5 4 5 5 5 5 5 7 5 3 5 1 5 3 5 5 5 5 5 4 5 7 5 8 5 3 5 1 5 3 5 5 5 4 5 3 5 7 5 6 5 1 5 1 5 4 5 4 5 2 5 3 5 5 5 4 5-1 5 0 5 3 5 1 5 0 5 2 5 3 5 2 5-1 5 2 5 2 5 0 5-1 5 1 5 2 5 1 5 0 5 2 5 2 5-1 5-2 5 1 5 2 5 1 5 2 5 2 5 0 5-2 5-1 5 0 5 1 5 2 5 2 5 2 5 0 5-3 5-2 5-1 5 2 5 2 5 3 5 1 5-2 5-3 5-3 5-1 5 2 5 3 5 2 5 0 5-2 5-3 5-3 5-1 5 2 5 4 5 1 5 0 5-2 5-4 5-3 5 0 5 3 5 3 5 1 5 0 5-2 5-4 5-3 5 1 5 3 5 2 5 1 5 0 5-2 5-4 5-2 5 2 5 2 5 1 5 1 5 1 5-2 5-3 5-1 5 1 5 2 5 1 5 1 5 1 5-1 5-2 5 0 5 1 5 0 5 1 5 2 5 2 5 0 5-2 5 0 5 0 5 0 5 1 5 2 5 3 5 0 5-1 5 0 5-1 5-1 5 1 5 3 5 3 5 1 5 0 5-2 5-2 5-1 5 2 5 3 5 3 5 2 5-1 5-2 5-3 5 0 5 2 5 3 5 4 5 2 5-2 5-3 5-2 5 0 5 1 5 4 5 4 5 1 5-2 5-4 5-1 5-1 5 2 5 4 5 4 5 0 5-3 5-3 5-2 5 0 5 1 5 4 5 4 5-1 5-3 5-2 5-1 5-1 5 2 5 4 5 2 5-1 5-2 5-1 5-1" stroke="#ff6000"/>
<path d="M145 305l5-11 5-8 5-12 5-13 5-15 5-12 5-3 5-8 5-11 5-8 5-6 5-2 5-3 5-3 5 7 5 6 5 4 5 4 5 0 5 5 5 7 5 5 5 6 5 1 5 0 5 8 5 9 5 6 5 2 5 1 5 9 5 8 5 2 5 6 5 6 5 5 5 5 5 2 5 4 5 7 5 4 5 6 5 3 5 0 5 4 5 5 5 7 5 4 5-3 5 1 5 4 5 3 5 3 5 0 5 0 5 3 5 0 5 1 5 3 5 1 5 2 5 1 5-1 5 1 5 1 5 3 5 4 5-2 5-2 5 0 5 3 5 3 5 1 5-2 5 0 5 1 5 1 5 3 5 1 5 0 5-1 5 0 5 2 5 1 5 1 5 1 5 0 5 0 5-1 5 1 5 3 5 1 5-2 5-1 5-1 5 1 5 2 5 0 5 1 5-2 5-3 5 1 5 2 5 1 5-1 5-3 5 0 5 0 5 0 5 1 5 0 5-1 5-1 5-1 5 1 5 1 5-1 5 1 5 0 5-3 5 0 5 1 5 3 5 1 5-3 5-3 5 2 5 1 5 3 5 0 5-3 5 0 5 0 5 2 5 2 5-1 5-1 5 2 5 0 5-1 5 0 5 1 5 4 5-1 5-3 5-1 5 1 5 4 5 1 5-3 5-2 5-1 5 2 5 4 5-1 5-3 5-1 5 0 5 2 5-1 5-2 5 2 5 1 5-1 5-3 5-2 5 3 5 3 5-1 5-3 5-3 5 1 5 5 5 1 5-1 5-4 5-1 5 4 5 4 5-2 5-1 5 0 5 3 5 1 5-2 5 1 5 3 5 3 5 0 5-3 5-1 5 5 5 3 5 2 5-2 5-4 5 2 5 6 5 3 5-2 5-4 5 1 5 5 5 1 5-1 5 0 5 1 5 3 5-1 5-2 5 1 5 2 5 3 5 0 5-4 5-2" stroke="#ff5c00"/>
<path d="M145 295l5-11 5-8 5-11 5-11 5-11 5-10 5-9 5-10 5-10 5-4 5-1 5-3 5 1 5 1 5 0 5 6 5 9 5 1 5 1 5 6 5 5 5 2 5 5 5 4 5 2 5 6 5 5 5 4 5 4 5 5 5 7 5 8 5 3 5 0 5 6 5 6 5 5 5 8 5 5 5 1 5 4 5 6 5 2 5 2 5 7 5 7 5 5 5 3 5-1 5 1 5 4 5 4 5 4 5 3 5-1 5 2 5 4 5 1 5-1 5 4 5 3 5 1 5 2 5 1 5-1 5 3 5 3 5 0 5-2 5 0 5 1 5 4 5 1 5-1 5-1 5 0 5 0 5 0 5 1 5 0 5 2 5 3 5-2 5-4 5-1 5 1 5 2 5 3 5 0 5-3 5-1 5 0 5-1 5 0 5-1 5 2 5 2 5-1 5-4 5-1 5 0 5 1 5 2 5-1 5-3 5 0 5 3 5 0 5-2 5-1 5-1 5 1 5 1 5 0 5-1 5 2 5 1 5-1 5-2 5-3 5 1 5 5 5 2 5-1 5-2 5-2 5-1 5 2 5 1 5-1 5 2 5 2 5-1 5-3 5-1 5 0 5 3 5 3 5-1 5-2 5-1 5 1 5 2 5 0 5-2 5 0 5 2 5 1 5-1 5 0 5 0 5 1 5 1 5-1 5-3 5 1 5 4 5 2 5 0 5-3 5-2 5 0 5 2 5 2 5 1 5 1 5-1 5 1 5-2 5-3 5 1 5 5 5 3 5 0 5-2 5-2 5 0 5 3 5 2 5 0 5 0 5 1 5 2 5 0 5-1 5 0 5 2 5 2 5 0 5-1 5 0 5 1 5 4 5 1 5-3 5-2 5 1 5 2 5 2 5 1 5 0 5-1 5 1 5-1 5-2 5 1 5 3 5 3 5 1 5-4 5-3 5 1 5 2 5 2 5 1 5-1" stroke="#ff5800"/>
<path d="M145 351l5-11 5-16 5-13 5-7 5-14 5-15 5-8 5-9 5-11 5-5 5-5 5-12 5-4 5 2 5-2 5 0 5 6 5 2 5 3 5 9 5 6 5 0 5 2 5 3 5 0 5 7 5 11 5 3 5 3 5 4 5 2 5 2 5 8 5 7 5 5 5 7 5 7 5 1 5 1 5 3 5 3 5 6 5 11 5 6 5 1 5 1 5 0 5 2 5 6 5 8 5 3 5 1 5 0 5-1 5 0 5 3 5 3 5 2 5 3 5 2 5 1 5-1 5-1 5 0 5 2 5 3 5 3 5 0 5-2 5-1 5 0 5 2 5 2 5 1 5-2 5 0 5 1 5 2 5 1 5-1 5-1 5-1 5 1 5 3 5 0 5 1 5-1 5-2 5 0 5 1 5 0 5 0 5 2 5 1 5 0 5 0 5-3 5-4 5 1 5 5 5 2 5 2 5-2 5-5 5-4 5 2 5 3 5 2 5 2 5 0 5-4 5-2 5 0 5-2 5 1 5 4 5 1 5 0 5-1 5-4 5-5 5 2 5 3 5 3 5 1 5-1 5-6 5-3 5 2 5 1 5 1 5 2 5-1 5-3 5 1 5 0 5-2 5 0 5 2 5 0 5 1 5 2 5-3 5-2 5 1 5 2 5 0 5 2 5 0 5-3 5 2 5 3 5 0 5-1 5 0 5-2 5 1 5 4 5 2 5-1 5 0 5-2 5-2 5 2 5 4 5 1 5 0 5 1 5-1 5-2 5 0 5 0 5 0 5 5 5 3 5 0 5-3 5-2 5-3 5 2 5 6 5 4 5 0 5-1 5-4 5-2 5 2 5 3 5 3 5 1 5 1 5-1 5-2 5 0 5-1 5 2 5 4 5 3 5 1 5-2 5-3 5-2 5 2 5 5 5 3 5 0 5-1 5-2 5 0 5 2 5 2 5 0 5 0 5 1 5 0 5 1" stroke="#ff5500"/>
<path d="M145 368l5-15 5-20 5-18 5-11 5-7 5-11 5-12 5-11 5-13 5-14 5-8 5-3 5-6 5-8 5-6 5-3 5-3 5 0 5 7 5 7 5 3 5 5 5 6 5 4 5-1 5 5 5 8 5 5 5 5 5 7 5 6 5 0 5 4 5 9 5 9 5 4 5 5 5 6 5 3 5 3 5 8 5 8 5 2 5 0 5 5 5 6 5 5 5 5 5 6 5 0 5-3 5 1 5 7 5 5 5 2 5 2 5-1 5-4 5 0 5 7 5 6 5 1 5 0 5-1 5-2 5 0 5 4 5 5 5 1 5-2 5 0 5 0 5-1 5 1 5 3 5 1 5-1 5 1 5 1 5-1 5-2 5 2 5 2 5 0 5 1 5 1 5-1 5-2 5 0 5 3 5 1 5-2 5 0 5 0 5-1 5 0 5 3 5 0 5-3 5-2 5 1 5 2 5 1 5 1 5-1 5-4 5-4 5 3 5 5 5 2 5-1 5-2 5-5 5-2 5 2 5 6 5 3 5-3 5-3 5-2 5-2 5 2 5 4 5 2 5-2 5-3 5 0 5-1 5 0 5 2 5 2 5-1 5-2 5 1 5 0 5-1 5 0 5 1 5 0 5 0 5 1 5 0 5-1 5-1 5 1 5 2 5-1 5 0 5 0 5 0 5 0 5 1 5 1 5-1 5-2 5 0 5 2 5 3 5 1 5-1 5-3 5-3 5 1 5 4 5 4 5 1 5-3 5-3 5-3 5 1 5 5 5 5 5 0 5-3 5-3 5-1 5 2 5 4 5 3 5 0 5-2 5-1 5 0 5 2 5 2 5 2 5 0 5-1 5 0 5 1 5 1 5 1 5 0 5 0 5 1 5 1 5 1 5 0 5 0 5 0 5 0 5 1 5 1 5 0 5 1 5 0 5 1 5 1 5-1 5-1 5 0 5 2 5 2 5 2 5 0 5-3" stroke="#ff5100"/>
<path d="M145 273l5-9 5-13 5-13 5-10 5-8 5-12 5-12 5-8 5-5 5-6 5-5 5-1 5-1 5-1 5 3 5 8 5 6 5 0 5 2 5 5 5 7 5 4 5 4 5 3 5 1 5 2 5 10 5 12 5 5 5 1 5 2 5 4 5 6 5 9 5 10 5 6 5 1 5 2 5 5 5 5 5 4 5 6 5 8 5 6 5 3 5 2 5 1 5 3 5 5 5 9 5 6 5 0 5-3 5 0 5 5 5 5 5 6 5 2 5 0 5-1 5 3 5 5 5 3 5 0 5-1 5 2 5 4 5 3 5 1 5-1 5-2 5-1 5 3 5 3 5 1 5-1 5 0 5 0 5 0 5-1 5 0 5 2 5 2 5 3 5 0 5-4 5-4 5-2 5 5 5 5 5 3 5-3 5-6 5-4 5 0 5 5 5 4 5 0 5-4 5-3 5-1 5 0 5 1 5 1 5 0 5 0 5 0 5 0 5-3 5-2 5 1 5 2 5 2 5 0 5-2 5-2 5-1 5 2 5 2 5 0 5-3 5-1 5 2 5 3 5 0 5-2 5-3 5-2 5 3 5 5 5 3 5-3 5-5 5-3 5 2 5 3 5 4 5 1 5-2 5-2 5-1 5 0 5 1 5 1 5 2 5 3 5 0 5-3 5-3 5-1 5 2 5 4 5 5 5-1 5-5 5-4 5 0 5 5 5 3 5 1 5-2 5-2 5-1 5 2 5 3 5-1 5-2 5 0 5 2 5 2 5 0 5-1 5-2 5-1 5 2 5 3 5 2 5-1 5-1 5 1 5 0 5 0 5-1 5 1 5 3 5 2 5 2 5-2 5-4 5-3 5 4 5 6 5 4 5-1 5-5 5-4 5 0 5 4 5 6 5 2 5-3 5-3 5-1 5 2 5 1 5 1 5 2 5 1 5 0 5 0 5-1 5-2 5 0 5 3 5 5 5 0" stroke="#ff4d00"/>
<path d="M145 314l5-11 5-10 5-6 5-13 5-15 5-10 5-8 5-5 5-6 5-7 5-6 5-5 5 5 5 6 5 0 5 7 5 2 5-2 5 10 5 6 5 1 5 8 5 2 5-1 5 8 5 3 5 2 5 7 5 4 5 4 5 7 5 5 5 4 5 0 5 4 5 6 5 5 5 9 5 5 5-3 5 3 5 2 5 2 5 11 5 6 5-1 5 4 5-1 5 1 5 7 5 3 5 1 5 0 5 0 5 2 5 4 5 4 5 2 5-3 5 0 5 1 5 2 5 6 5 3 5-3 5 1 5-1 5-1 5 5 5 2 5-1 5 3 5 0 5-1 5 2 5-1 5-1 5 1 5 3 5 3 5 1 5 0 5-3 5-3 5 2 5 4 5 1 5 2 5-2 5-4 5 1 5 2 5 1 5 2 5-3 5-3 5 1 5 1 5 3 5 1 5-4 5-4 5-2 5 2 5 4 5 2 5 0 5-4 5-6 5 1 5 2 5 1 5 3 5-1 5-4 5 0 5 0 5-2 5 2 5-1 5-1 5 1 5 1 5 0 5-2 5-2 5-1 5 0 5 3 5 2 5-2 5-1 5-1 5-1 5 3 5 1 5-3 5 0 5-1 5 1 5 5 5 1 5-3 5-2 5-3 5 1 5 5 5 4 5 1 5-3 5-4 5-1 5 1 5 5 5 4 5-2 5-1 5-1 5-2 5 4 5 2 5-1 5 1 5-1 5 0 5 4 5 0 5-1 5-1 5-1 5 1 5 3 5 2 5 1 5-2 5 0 5 1 5 0 5 2 5 0 5-1 5 3 5 2 5 0 5 1 5-2 5-4 5 2 5 3 5 4 5 3 5-3 5-4 5-3 5 2 5 4 5 3 5 1 5-2 5-4 5 0 5 3 5 1 5 2 5-1 5-4 5 2 5 2 5 1 5 2 5-2 5-4 5 1 5 1 5 3 5 3" stroke="#ff4a00"/>
<path d="M145 329l5-17 5-15 5-9 5-11 5-10 5-10 5-13 5-7 5-5 5-10 5-6 5-2 5-6 5-1 5 8 5 5 5 4 5 5 5 1 5 4 5 7 5 4 5 5 5 8 5-1 5 1 5 8 5 6 5 5 5 8 5 4 5 2 5 5 5 4 5 6 5 9 5 3 5 2 5 7 5 4 5 1 5 6 5 3 5 1 5 6 5 5 5 5 5 5 5 0 5-2 5 2 5 2 5 2 5 7 5 4 5-2 5-1 5 0 5 0 5 3 5 3 5 1 5 3 5 1 5-1 5 2 5 0 5-3 5 0 5 3 5 3 5 3 5 2 5-2 5-3 5-3 5 0 5 4 5 5 5 1 5-1 5-1 5-3 5-1 5 1 5 1 5 1 5 1 5 0 5 1 5 0 5-4 5-2 5 0 5-1 5 3 5 4 5 0 5-3 5-3 5-4 5-1 5 3 5 2 5 2 5 0 5-3 5-3 5 0 5 0 5-1 5 2 5 0 5 1 5 1 5 0 5-2 5-1 5-2 5 0 5 4 5 3 5 0 5 0 5-3 5-3 5 1 5 2 5 3 5 2 5-1 5-2 5 1 5 0 5 0 5 2 5 0 5-1 5 1 5 2 5 1 5 0 5-1 5-2 5 1 5 2 5 1 5 2 5 0 5-4 5 0 5 2 5 1 5 1 5 1 5-3 5-1 5 0 5 1 5 2 5 1 5-2 5-1 5 0 5 0 5 0 5 2 5-1 5-1 5 0 5 0 5 2 5 0 5-3 5-1 5 2 5 1 5 2 5 3 5-2 5-3 5-1 5 1 5 3 5 3 5 1 5 0 5 0 5-3 5 0 5 3 5 1 5 0 5 2 5 1 5 1 5 1 5-2 5-1 5 0 5 0 5 3 5 6 5 0 5-2 5-2 5-2 5-1 5 4 5 4 5 2 5 1 5-3 5-2 5 1 5-1" stroke="#ff4600"/>
<path d="M145 330l5-16 5-12 5-13 5-14 5-10 5-7 5-10 5-13 5-10 5-8 5-8 5-7 5-3 5-1 5 0 5-1 5 2 5 4 5 6 5 6 5 5 5 5 5 4 5 0 5 1 5 6 5 7 5 6 5 7 5 7 5 4 5-1 5 3 5 8 5 7 5 6 5 9 5 7 5 1 5-2 5 4 5 7 5 4 5 6 5 9 5 6 5-1 5-1 5 4 5 3 5 3 5 5 5 6 5 2 5-1 5 0 5 2 5 1 5 2 5 4 5 4 5 2 5 0 5 1 5 1 5 1 5 1 5 2 5 2 5 1 5 1 5 0 5 1 5 0 5 0 5 0 5 1 5 2 5 0 5 1 5 1 5 0 5-2 5 0 5 1 5 0 5 0 5 2 5 1 5-2 5-2 5 0 5 0 5-1 5 0 5 2 5 0 5-2 5-2 5 1 5-1 5-1 5 1 5 0 5-1 5-2 5 0 5 1 5 0 5-1 5 0 5-1 5-1 5-1 5 1 5 2 5 1 5 0 5-2 5-2 5-1 5 0 5 2 5 3 5 2 5-1 5-2 5-2 5-2 5-1 5 4 5 4 5 2 5-1 5-2 5-2 5-3 5 0 5 5 5 5 5 1 5-1 5-1 5-3 5-4 5 2 5 5 5 4 5 1 5-1 5-1 5-4 5-3 5 2 5 4 5 3 5 1 5 0 5-2 5-4 5-1 5 2 5 2 5 2 5 1 5-1 5-2 5-2 5 0 5 1 5 2 5 1 5-1 5-1 5 0 5 0 5 0 5 2 5 2 5-1 5-1 5-1 5 1 5 1 5 1 5 2 5 2 5-2 5-2 5 1 5 0 5 1 5 2 5 3 5 1 5-3 5-1 5 1 5 0 5 1 5 3 5 3 5 0 5-2 5 0 5 0 5 0 5 1 5 3 5 2 5 1 5 0 5 0 5-1 5 0 5 0" stroke="#ff4200"/>
<path d="M145 296l5-12 5-14 5-17 5-11 5-12 5-7 5-9 5-12 5-6 5-11 5-14 5-2 5-1 5 1 5-1 5-3 5 7 5 5 5 1 5 10 5 6 5 3 5 5 5 1 5 6 5 5 5 6 5 14 5 5 5-2 5 6 5 7 5 10 5 6 5 5 5 11 5 4 5 0 5 6 5 5 5 7 5 10 5 4 5 4 5 0 5 1 5 11 5 6 5 1 5 4 5 2 5 3 5-1 5 0 5 8 5 5 5 1 5 1 5-2 5 0 5 4 5 5 5 4 5-1 5-2 5 4 5-1 5-1 5 2 5 3 5 3 5-2 5-5 5 0 5 1 5 3 5 3 5-1 5-3 5-1 5 0 5 2 5-1 5 1 5 4 5-1 5-4 5-3 5 1 5 5 5 1 5-2 5-1 5-3 5 0 5 2 5 0 5 1 5 1 5 0 5-1 5-5 5-1 5 6 5 2 5 0 5-3 5-3 5 2 5 0 5 1 5 3 5-1 5 0 5 0 5-3 5-1 5 2 5 4 5 3 5-4 5-4 5 1 5 2 5 2 5 1 5-1 5 2 5-2 5-2 5 1 5 0 5 3 5 3 5-2 5-3 5-3 5 2 5 5 5 0 5-1 5 0 5-1 5 0 5-2 5 1 5 4 5 1 5-1 5-2 5-4 5 1 5 4 5 2 5 0 5-4 5 0 5 2 5-3 5 1 5 2 5 2 5 0 5-3 5-3 5 1 5 2 5 3 5 2 5-5 5-1 5 0 5 2 5 1 5-1 5 2 5 3 5-3 5-3 5 1 5 2 5 5 5 0 5-1 5-2 5-2 5 4 5 3 5-1 5 1 5 1 5 1 5-2 5-3 5 3 5 6 5 0 5-1 5-2 5-1 5 2 5 2 5 2 5 1 5-2 5 2 5 0 5-2 5 1 5 3 5 4 5 0 5-5 5 0 5 2 5 1" stroke="#ff3f00"/>
<path d="M145 350l5-19 5-15 5-10 5-14 5-8 5-7 5-15 5-14 5-12 5-4 5-2 5-12 5-9 5 0 5 1 5 6 5 3 5 3 5 4 5 0 5 6 5 12 5 4 5 2 5 4 5 5 5 8 5 0 5 3 5 10 5 7 5 8 5 6 5 2 5 4 5 3 5 7 5 11 5 2 5 0 5 5 5 7 5 8 5 1 5 0 5 4 5 3 5 4 5 8 5 1 5 0 5-1 5 1 5 4 5-1 5-1 5 5 5 4 5 2 5-1 5-4 5 1 5 1 5 3 5 4 5-1 5-3 5 0 5 3 5 4 5-3 5-4 5 0 5 3 5 3 5 3 5-2 5-1 5-2 5 0 5 3 5 0 5-1 5 2 5 3 5 1 5-3 5-4 5 1 5 3 5 2 5 2 5-2 5-2 5 0 5 2 5 2 5-2 5-5 5 0 5 4 5 4 5 0 5-4 5-2 5 0 5-1 5 2 5 1 5-1 5 1 5 1 5 0 5-3 5-4 5 1 5 5 5 2 5-1 5-3 5-2 5 2 5 1 5 1 5-2 5-4 5 1 5 4 5 4 5-1 5-6 5-2 5 2 5 1 5 2 5 0 5 0 5 1 5 0 5-1 5-1 5-3 5 2 5 5 5 2 5-1 5-5 5 0 5 3 5 1 5 0 5-2 5-1 5 2 5 3 5 2 5-1 5-6 5-2 5 3 5 3 5 1 5-1 5 0 5 1 5-2 5-1 5-1 5-1 5 3 5 3 5 1 5-1 5-5 5 0 5 4 5 2 5-1 5-2 5 0 5 4 5 2 5 1 5-2 5-4 5 0 5 5 5 4 5 1 5-1 5-1 5 2 5 0 5-1 5 0 5 2 5 4 5 2 5 0 5-1 5-3 5 0 5 6 5 2 5-1 5-2 5 1 5 5 5 2 5-2 5-2 5-2 5 1 5 5 5 3 5 1" stroke="#ff3b00"/>
<path d="M145 309l5-7 5-12 5-14 5-12 5-15 5-17 5-7 5-2 5-6 5-8 5-3 5-7 5-9 5 1 5 8 5 6 5 5 5 10 5 4 5-3 5 0 5 7 5 3 5 4 5 10 5 8 5 1 5 2 5 7 5 3 5 3 5 8 5 9 5 4 5 6 5 5 5 4 5 3 5 4 5 5 5 4 5 6 5 5 5 4 5 4 5 4 5 1 5 3 5 4 5 3 5 2 5 5 5 4 5-1 5 1 5 2 5 0 5 1 5 5 5 5 5 0 5 1 5 2 5-1 5-2 5 3 5 5 5 0 5 1 5 3 5-1 5-3 5 1 5 2 5 0 5 1 5 2 5 0 5-1 5 0 5 1 5-1 5 0 5 1 5 0 5-1 5 1 5 1 5 0 5 0 5-1 5-2 5-1 5 0 5 1 5 2 5 1 5-1 5-4 5-2 5-1 5-1 5 2 5 5 5 1 5-3 5-4 5-2 5-4 5 1 5 5 5 4 5 0 5-2 5-2 5-6 5-3 5 3 5 5 5 3 5 1 5 0 5-5 5-6 5 0 5 3 5 3 5 4 5 2 5-2 5-5 5-2 5-1 5 2 5 4 5 3 5 1 5-2 5-2 5-2 5 0 5 2 5 3 5 1 5 1 5 0 5-2 5 0 5 1 5 1 5 0 5 2 5 0 5-1 5 0 5 2 5 1 5-1 5 1 5 0 5-2 5 0 5 3 5 2 5-1 5 1 5 0 5-3 5-1 5 2 5 2 5 1 5 2 5 1 5-3 5-3 5 1 5 1 5 1 5 3 5 3 5-1 5-3 5-1 5-1 5 1 5 2 5 3 5 1 5 0 5-1 5-2 5-1 5 1 5 1 5 1 5 2 5 1 5-1 5 0 5-1 5-1 5-1 5 3 5 1 5 1 5 2 5 1 5-2 5-3 5 1 5 0 5 1 5 3 5 4 5 0" stroke="#ff3700"/>
<path d="M145 288l5-19 5-13 5-10 5-15 5-9 5-9 5-12 5-8 5-9 5-6 5-5 5-8 5-1 5 3 5 0 5 8 5 10 5 1 5 2 5 3 5 1 5 6 5 7 5 7 5 7 5 0 5 3 5 9 5 4 5 8 5 11 5 2 5 4 5 9 5 5 5 8 5 7 5 3 5 5 5 4 5 5 5 10 5 4 5 2 5 7 5 2 5 3 5 9 5 4 5 1 5 2 5 0 5 4 5 4 5 3 5 4 5-1 5-2 5 4 5 4 5 2 5 4 5 0 5-3 5 1 5 2 5 4 5 2 5-1 5 0 5-2 5-2 5 3 5 2 5-1 5 0 5 0 5-1 5 2 5 1 5 0 5-1 5-2 5 2 5 3 5 1 5 1 5-2 5-4 5-1 5 4 5 2 5 3 5 0 5-4 5-3 5-1 5 2 5 3 5 1 5-1 5 0 5-4 5 0 5 1 5-1 5-1 5 1 5 0 5 1 5 0 5-2 5-2 5-3 5-1 5 4 5 2 5 1 5 0 5-6 5-4 5 1 5 2 5 4 5 2 5-2 5-2 5-3 5-2 5 4 5 2 5 0 5 2 5-1 5-1 5 1 5-1 5 0 5 0 5 1 5 4 5 3 5-1 5 0 5-4 5-3 5 4 5 5 5 3 5 2 5-3 5-5 5-2 5 1 5 4 5 4 5 0 5 0 5-2 5-4 5 1 5 2 5-1 5 2 5 1 5 0 5 1 5-1 5-3 5-2 5-1 5 3 5 5 5 1 5 0 5-3 5-5 5-1 5 4 5 5 5 4 5 0 5-3 5-2 5-2 5 2 5 5 5 2 5 1 5 1 5-2 5 0 5 2 5-1 5 0 5 2 5 2 5 3 5 1 5-2 5-1 5-4 5 0 5 6 5 3 5 1 5 0 5-4 5-4 5 1 5 2 5 4 5 2 5-2 5-1 5-3" stroke="#ff3400"/>
<path d="M145 358l5-15 5-14 5-14 5-12 5-8 5-9 5-11 5-8 5-10 5-14 5-7 5-2 5-4 5 2 5 6 5 1 5-1 5 6 5 7 5 3 5 8 5 8 5 1 5 1 5 6 5 4 5 5 5 7 5 5 5 3 5 4 5 4 5 7 5 8 5 4 5 4 5 4 5 1 5 2 5 8 5 6 5 2 5 5 5 2 5-2 5 2 5 7 5 3 5 3 5 4 5 0 5-3 5 1 5 2 5 0 5 2 5 3 5 0 5 0 5 1 5 0 5 0 5 0 5-1 5 2 5 3 5 2 5 2 5 0 5-4 5-3 5 2 5 2 5 4 5 5 5 1 5-5 5-3 5-2 5 1 5 4 5 7 5 2 5-2 5-3 5-4 5-2 5 3 5 5 5 3 5 1 5-2 5-3 5-2 5-1 5 1 5 3 5 2 5-1 5 0 5 0 5-3 5-2 5 1 5-1 5 0 5 3 5 2 5-2 5-1 5-3 5-3 5-1 5 4 5 3 5 2 5-1 5-3 5-5 5-1 5 1 5 3 5 4 5 0 5-2 5-3 5-3 5 0 5 3 5 3 5 0 5 0 5-1 5-3 5 0 5 3 5 0 5 0 5 1 5-1 5-2 5 2 5 3 5-1 5 0 5-1 5-1 5 0 5 2 5 2 5 1 5-1 5-2 5-1 5 0 5 1 5 2 5 2 5-2 5-1 5 0 5 0 5-1 5 2 5 0 5-1 5 0 5 2 5 0 5 0 5 1 5-2 5-3 5 2 5 2 5 2 5 3 5 1 5-4 5-3 5-1 5 3 5 5 5 4 5 2 5-2 5-4 5-3 5 1 5 5 5 4 5 4 5 1 5-4 5-4 5 1 5 1 5 2 5 5 5 3 5-1 5-2 5 0 5-1 5 0 5 2 5 2 5 1 5 3 5 0 5-1 5-1 5-2 5-1 5 2 5 3" stroke="#ff3000"/>
<path d="M145 346l5-13 5-11 5-15 5-14 5-18 5-10 5-3 5-13 5-11 5-9 5-14 5-7 5-3 5-1 5 0 5-5 5 4 5 5 5 3 5 11 5 6 5 0 5 4 5 4 5 7 5 5 5 3 5 10 5 2 5 4 5 11 5 3 5 3 5 7 5 7 5 9 5 4 5 5 5 4 5-2 5 7 5 11 5 4 5 4 5 0 5 0 5 4 5 6 5 10 5 2 5-5 5 1 5 0 5 2 5 8 5 3 5-1 5-3 5-1 5 5 5 2 5 2 5 3 5-3 5 0 5 3 5 1 5 1 5-1 5 1 5 2 5-1 5 2 5-1 5-2 5 1 5 3 5 2 5 1 5-3 5-1 5 0 5 2 5 6 5 0 5-4 5-1 5-1 5 2 5 4 5 2 5-1 5-5 5-1 5 4 5 2 5 1 5 0 5-4 5 0 5 1 5 3 5 1 5-3 5-1 5 0 5 0 5 3 5 1 5-3 5-2 5 0 5 3 5 1 5-1 5-1 5-3 5-1 5 4 5 1 5-1 5-2 5-2 5 0 5 0 5 2 5 0 5-4 5 0 5 1 5 0 5 1 5-2 5-2 5 0 5 0 5 4 5-1 5-4 5-1 5 0 5 2 5 3 5 0 5-3 5-4 5-1 5 5 5 3 5 1 5-1 5-6 5-1 5 3 5 4 5 2 5-2 5-2 5-2 5 0 5 4 5 3 5-2 5 0 5-1 5 1 5 1 5 0 5 2 5 0 5-1 5 4 5-1 5-2 5 1 5 1 5 3 5 3 5 0 5-1 5-4 5 1 5 6 5 3 5 2 5-1 5-5 5-1 5 3 5 6 5 4 5-4 5-2 5-2 5 0 5 5 5 4 5-1 5-2 5-3 5 2 5 1 5 2 5 3 5-3 5-2 5 2 5 1 5 0 5 0 5 0 5 1 5 0 5 2 5 0 5-4" stroke="#ff2c00"/>
<path d="M145 396l5-17 5-17 5-12 5-18 5-11 5-6 5-12 5-11 5-10 5-15 5-8 5-4 5-6 5-1 5-3 5-4 5 4 5 7 5 7 5 7 5 2 5 0 5 5 5 5 5 5 5 5 5 2 5 4 5 6 5 5 5 5 5 3 5 4 5 8 5 8 5 5 5 2 5-1 5 4 5 9 5 8 5 5 5-1 5-3 5 4 5 8 5 7 5 5 5-3 5-4 5 3 5 5 5 4 5 3 5-4 5-2 5 4 5 1 5 2 5 2 5-3 5 1 5 4 5-1 5-1 5 0 5-2 5 5 5 4 5-2 5-2 5-2 5-1 5 6 5 4 5-2 5-2 5-3 5-1 5 6 5 3 5-1 5-1 5-4 5-1 5 4 5 1 5 1 5 1 5-3 5-3 5 2 5 0 5 2 5 2 5-3 5-2 5 0 5-1 5 2 5 2 5-2 5 0 5-1 5-1 5 1 5 0 5-2 5 2 5 1 5-1 5-1 5-3 5-1 5 5 5 2 5 0 5-3 5-5 5-1 5 6 5 4 5 0 5-4 5-6 5 0 5 5 5 4 5 1 5-5 5-4 5 1 5 4 5 2 5 0 5-3 5-1 5 1 5 2 5 0 5-2 5-1 5 2 5 3 5 0 5-2 5-4 5 0 5 6 5 3 5-1 5-4 5-5 5 2 5 6 5 3 5-1 5-4 5-5 5 2 5 5 5 2 5 1 5-4 5-4 5 2 5 2 5 1 5 2 5-1 5-2 5 1 5 0 5-1 5 3 5 0 5 1 5 2 5-3 5-1 5 3 5 0 5 2 5 3 5-2 5-1 5 1 5-1 5 3 5 4 5-1 5 1 5-2 5-3 5 3 5 4 5 2 5 1 5-3 5-5 5 3 5 4 5 4 5 2 5-4 5-4 5 2 5 3 5 4 5 2 5-4 5-2 5 2 5 2 5 2 5 0" stroke="#ff2900"/>
<path d="M145 364l5-12 5-17 5-12 5-11 5-9 5-8 5-18 5-17 5-8 5-12 5-5 5-5 5-6 5-5 5-10 5-1 5 7 5 2 5 6 5 6 5 4 5 7 5 1 5 6 5 8 5-3 5 4 5 7 5 8 5 10 5 4 5 7 5 4 5-2 5 7 5 10 5 9 5 8 5 2 5 5 5 3 5-1 5 8 5 7 5 3 5 4 5 3 5 7 5 3 5-1 5 3 5-1 5-1 5 4 5 4 5 7 5 0 5-4 5 0 5-2 5 0 5 5 5 4 5 2 5-2 5-3 5 1 5-1 5 0 5 2 5 0 5 1 5-1 5 2 5 2 5-3 5-3 5 0 5 0 5 3 5 3 5 2 5 0 5-5 5-3 5 2 5 2 5 4 5 2 5 0 5-1 5-3 5 1 5 2 5 0 5 0 5 0 5 2 5 2 5-1 5 1 5-1 5-4 5 0 5 2 5 3 5 3 5-2 5-2 5-3 5-3 5 2 5 3 5 2 5-1 5-3 5 0 5-1 5-2 5 2 5 0 5-2 5 0 5 0 5 3 5-1 5-3 5-1 5-3 5 0 5 3 5 2 5 3 5-4 5-4 5 0 5 0 5 2 5 3 5 1 5 0 5-3 5-1 5 3 5 0 5 0 5 0 5-1 5 2 5 1 5 2 5 1 5-3 5-2 5 0 5 2 5 3 5 1 5 0 5-1 5-5 5 1 5 3 5 1 5 1 5-1 5-1 5 0 5-1 5 2 5 1 5-2 5 0 5-1 5 3 5 2 5 0 5 1 5-2 5-3 5 2 5 3 5 4 5 1 5-3 5 1 5-1 5 1 5 4 5 2 5 0 5-1 5-1 5 3 5 2 5 0 5 2 5-1 5-1 5 1 5 2 5 4 5-1 5-1 5 0 5-1 5 2 5 2 5 1 5 1 5-3 5-2 5 3 5 1 5 1 5-1" stroke="#ff2500"/>
<path d="M145 368l5-13 5-15 5-17 5-10 5-7 5-15 5-13 5-10 5-10 5-3 5-6 5-11 5-7 5-1 5 7 5 7 5 0 5 6 5 6 5 0 5 5 5 5 5 5 5 9 5 4 5 1 5 1 5 2 5 14 5 9 5 0 5 3 5 4 5 5 5 9 5 5 5 4 5 5 5 2 5 5 5 1 5 1 5 10 5 6 5-1 5 1 5 1 5 5 5 6 5 0 5 0 5-1 5 2 5 6 5-1 5-4 5 3 5 2 5 2 5 0 5-1 5 2 5 0 5 0 5 1 5-1 5 2 5 5 5-3 5-4 5-1 5 4 5 6 5 0 5-4 5-2 5 0 5 3 5 4 5-1 5 0 5 1 5-1 5-2 5-1 5 4 5 5 5-1 5-5 5-2 5 0 5 5 5 4 5-3 5-3 5-1 5 3 5 1 5-3 5 0 5 2 5 0 5-1 5-2 5-1 5 2 5 1 5-2 5-2 5 0 5 3 5 1 5-5 5-3 5 2 5 3 5 2 5-3 5-4 5-1 5 2 5 2 5 0 5-2 5 1 5-1 5-4 5 0 5 2 5 3 5 2 5-4 5-5 5-1 5 4 5 6 5-1 5-4 5-1 5 1 5 1 5 1 5 0 5 2 5 1 5-2 5-1 5-1 5 3 5 5 5-1 5-4 5 0 5 2 5 4 5-1 5-3 5 1 5 2 5 3 5 1 5-4 5-1 5 3 5 2 5 0 5-1 5 0 5 2 5-1 5-2 5 1 5 3 5 3 5 0 5-6 5-2 5 3 5 6 5 2 5-3 5-3 5 0 5 1 5 2 5 2 5-1 5 2 5-1 5-3 5-1 5 2 5 5 5 2 5-5 5-4 5 2 5 2 5 4 5-1 5-3 5 0 5 2 5 2 5-1 5-2 5 2 5 3 5-1 5-1 5 1 5 1 5 2 5-1 5-1 5 1" stroke="#ff2100"/>
<path d="M145 326l5-15 5-14 5-10 5-13 5-12 5-11 5-13 5-11 5-8 5-9 5-8 5-5 5-7 5-1 5 3 5 1 5 4 5 8 5 3 5 4 5 8 5 2 5 2 5 9 5 3 5 2 5 10 5 6 5 2 5 9 5 6 5 1 5 8 5 8 5 3 5 9 5 7 5 1 5 4 5 6 5 1 5 6 5 8 5 3 5 4 5 4 5 1 5 2 5 6 5 3 5 3 5 4 5 0 5 0 5 2 5 1 5 4 5 4 5 2 5 2 5 1 5-1 5 1 5 3 5 2 5 4 5 3 5-2 5-1 5 1 5-1 5 2 5 4 5 0 5 0 5 0 5-2 5-1 5 3 5 1 5 0 5 2 5-1 5-4 5 1 5 0 5-1 5 3 5 1 5-3 5-1 5-1 5-2 5 0 5 2 5 0 5-1 5-1 5-3 5-1 5 1 5 0 5 1 5 0 5-1 5-2 5-1 5-1 5 1 5 2 5 0 5 0 5-1 5-2 5 1 5 1 5 0 5 2 5 1 5-2 5 0 5 1 5 0 5 2 5 2 5-1 5 0 5 1 5-1 5 0 5 3 5 0 5 0 5 2 5-2 5-1 5 2 5 1 5 0 5 2 5-1 5-2 5 0 5 0 5 0 5 2 5 1 5-2 5-1 5-1 5-1 5 1 5 1 5 0 5 0 5-2 5-2 5-1 5 1 5 0 5 2 5 0 5-2 5-1 5-1 5-1 5 2 5 2 5 0 5 0 5-1 5-3 5 1 5 2 5 1 5 3 5 2 5-3 5 0 5 1 5 0 5 3 5 4 5 0 5 0 5 1 5-2 5 0 5 4 5 2 5 2 5 2 5-1 5-3 5 1 5 1 5 2 5 3 5 2 5-2 5 0 5-1 5-1 5 2 5 3 5 1 5 1 5-1 5-2 5 0 5 0 5 1 5 3 5 0 5 0 5-1" stroke="#ff1e00"/>
<path d="M145 350l5-15 5-17 5-12 5-11 5-14 5-10 5-9 5-16 5-13 5-3 5-10 5-9 5-3 5-3 5-2 5 2 5 1 5 8 5 12 5 3 5 0 5 6 5 2 5 2 5 13 5 10 5 2 5 1 5 2 5 7 5 13 5 8 5 3 5 7 5 3 5 2 5 10 5 11 5 2 5 2 5 4 5 4 5 6 5 4 5 3 5 6 5 5 5-1 5 3 5 5 5-1 5 2 5 4 5 1 5 0 5 1 5 1 5 2 5 2 5-2 5 2 5 4 5 0 5-2 5 1 5-1 5 1 5 4 5 2 5-2 5-4 5-3 5 2 5 7 5 1 5-3 5-3 5-3 5 0 5 6 5 3 5-1 5-4 5-3 5 0 5 4 5 2 5 0 5 0 5-2 5-3 5 1 5 3 5 1 5 1 5 0 5-3 5-1 5 1 5 1 5 4 5 0 5-4 5-1 5 2 5 1 5 1 5 1 5-2 5-1 5 1 5 1 5 1 5-1 5-3 5 1 5 5 5 0 5-3 5-1 5-2 5 2 5 4 5 1 5-2 5-4 5-3 5 2 5 6 5 1 5-4 5-1 5-2 5-1 5 2 5 3 5 0 5-1 5-3 5-2 5 1 5 2 5 1 5 2 5-1 5-6 5-2 5 3 5 3 5 2 5-1 5-4 5-2 5 1 5 2 5 3 5 1 5-5 5-2 5 3 5 2 5 0 5-1 5-1 5 0 5 2 5 1 5-1 5 0 5-2 5 2 5 5 5 0 5-3 5 0 5 0 5 2 5 3 5 2 5-1 5 0 5-1 5 0 5 5 5 2 5 0 5 1 5 0 5-3 5 1 5 4 5 4 5 2 5-3 5-4 5 0 5 4 5 3 5 4 5-1 5-6 5-2 5 4 5 4 5 3 5-1 5-4 5-1 5 2 5 1 5 3 5 1 5-4 5-1 5 3 5 0" stroke="#ff1a00"/>
<path d="M145 364l5-15 5-12 5-13 5-17 5-12 5-10 5-12 5-8 5-9 5-11 5-10 5-9 5-4 5 1 5 1 5 3 5 4 5 2 5 5 5 8 5 5 5 3 5 7 5 1 5 1 5 10 5 6 5 3 5 8 5 5 5 0 5 8 5 9 5 3 5 9 5 6 5 0 5 5 5 7 5 3 5 5 5 6 5 1 5 2 5 5 5 4 5 4 5 5 5 1 5 1 5 1 5 1 5 3 5 3 5 0 5 2 5-1 5 0 5 4 5 2 5 0 5 1 5 0 5-3 5 3 5 3 5 0 5 1 5 0 5-3 5 0 5 3 5 1 5 1 5 1 5-3 5-2 5 2 5 1 5 2 5 2 5-2 5-3 5-1 5 1 5 2 5 2 5 0 5-2 5-2 5-2 5 2 5 2 5 0 5 0 5-1 5-3 5 0 5 1 5 0 5 1 5 0 5-3 5 0 5 1 5-1 5 0 5 1 5-2 5-1 5 2 5 0 5-1 5 1 5-2 5-2 5 2 5 1 5 0 5 1 5-1 5-3 5-1 5 2 5 2 5 2 5-1 5-2 5-3 5-1 5 2 5 4 5 1 5 0 5-2 5-3 5-1 5 4 5 1 5 3 5 0 5-3 5-2 5 1 5 1 5 2 5 3 5-1 5-2 5 0 5 0 5 0 5 3 5 1 5-1 5 0 5 0 5 0 5 1 5 1 5-1 5 0 5 2 5 0 5 1 5 0 5-1 5-1 5 0 5 2 5 3 5 0 5-1 5-1 5-2 5 0 5 5 5 2 5 1 5 0 5-3 5-3 5 3 5 3 5 2 5 3 5-1 5-5 5 0 5 1 5 2 5 4 5 2 5-3 5-2 5-1 5 0 5 2 5 4 5 0 5-1 5-1 5-1 5 0 5 1 5 1 5 2 5-1 5 0 5 1 5-1 5 0 5 1 5-1 5 1 5 2" stroke="#ff1600"/>
<path d="M145 382l5-18 5-10 5-10 5-16 5-13 5-9 5-13 5-13 5-8 5-9 5-10 5-6 5-3 5 1 5 2 5 2 5 3 5 8 5 4 5 2 5 8 5 6 5 1 5 5 5 8 5 1 5 0 5 9 5 7 5 3 5 9 5 9 5 0 5 0 5 7 5 7 5 7 5 9 5 4 5-1 5 0 5 2 5 6 5 9 5 6 5 1 5 1 5 0 5-1 5 5 5 7 5-1 5-2 5 2 5 0 5-1 5 5 5 2 5-3 5-2 5 2 5 2 5 1 5 2 5 0 5-5 5-2 5 1 5 3 5 3 5 1 5-2 5-2 5-3 5 0 5 2 5 4 5-1 5-1 5 1 5-3 5-3 5 2 5 1 5 0 5 1 5 2 5-2 5-3 5-1 5 0 5 0 5 3 5 2 5-1 5-3 5-2 5 0 5 1 5 2 5 1 5-1 5-1 5-2 5 1 5 3 5-1 5-2 5 0 5 0 5 0 5 4 5 2 5-3 5-4 5-1 5 1 5 3 5 5 5 2 5-4 5-5 5-2 5 2 5 4 5 5 5 0 5-3 5-4 5-2 5 2 5 4 5 1 5 0 5 0 5-2 5-2 5 2 5 2 5-2 5 0 5 2 5-1 5 0 5 2 5-1 5-3 5 0 5 1 5 1 5 1 5 1 5-1 5-2 5-1 5 0 5 1 5 1 5 0 5 0 5 1 5-2 5-2 5 0 5 0 5 0 5 3 5 3 5-2 5-4 5-1 5-1 5 1 5 5 5 4 5-2 5-3 5-2 5-1 5 2 5 5 5 3 5 0 5-3 5-2 5 2 5 3 5 2 5 1 5 0 5-1 5-1 5 4 5 4 5-2 5-2 5 1 5-1 5 2 5 6 5 3 5-3 5-3 5-1 5 0 5 4 5 5 5 2 5-2 5-2 5-2 5 1 5 3 5 3 5 1 5 1" stroke="#ff1300"/>
<path d="M145 374l5-15 5-8 5-14 5-11 5-13 5-17 5-9 5-10 5-10 5-5 5-13 5-8 5-1 5-3 5 7 5 4 5-1 5 8 5 1 5 7 5 11 5 1 5 4 5 1 5-1 5 11 5 7 5 7 5 7 5-2 5 3 5 6 5 6 5 12 5 6 5 2 5 5 5-1 5 5 5 7 5 3 5 7 5 2 5 2 5 5 5 1 5 3 5 2 5 2 5 4 5 4 5 1 5 0 5-3 5 0 5 1 5 5 5 5 5 0 5-2 5-4 5-1 5 3 5 4 5 4 5-1 5-4 5-2 5-1 5 3 5 5 5 0 5-1 5-2 5-3 5 3 5 1 5 0 5 1 5-3 5 0 5 2 5 0 5 1 5-2 5-3 5 1 5 1 5 2 5 2 5-4 5-1 5-2 5-1 5 5 5 0 5 0 5-2 5-4 5 1 5 1 5 0 5 2 5-2 5-1 5 1 5-1 5 1 5-1 5-3 5 1 5 1 5 3 5 1 5-3 5-3 5-2 5 1 5 5 5 3 5 0 5-4 5-5 5-1 5 3 5 5 5 4 5-2 5-4 5-3 5-1 5 4 5 3 5 3 5-2 5-2 5-1 5 0 5 1 5 2 5 0 5 1 5 0 5 0 5 1 5-2 5-1 5 2 5 0 5 4 5 1 5-3 5-1 5-3 5 1 5 5 5 1 5 1 5-2 5-5 5 0 5 2 5 3 5 3 5-3 5-2 5-1 5-1 5 4 5 1 5-1 5-1 5-2 5 1 5 3 5 0 5 1 5-3 5-2 5 3 5 3 5 2 5 1 5-4 5-1 5 0 5 2 5 5 5 2 5-2 5-2 5-2 5 1 5 3 5 3 5 1 5-1 5-1 5 0 5 0 5 2 5 0 5 1 5 1 5 1 5 1 5 0 5-2 5-1 5 1 5 5 5 3 5 0 5-1 5-5 5-1" stroke="#ff0f00"/>
<path d="M145 360l5-16 5-14 5-12 5-13 5-11 5-12 5-14 5-6 5-4 5-15 5-11 5-5 5-6 5 5 5 10 5-1 5 1 5 9 5 4 5 4 5 4 5 1 5 4 5 8 5 9 5 5 5-2 5 2 5 9 5 6 5 6 5 8 5 0 5 5 5 13 5 5 5-1 5 4 5 2 5 4 5 11 5 5 5-1 5 2 5 4 5 4 5 4 5 0 5 2 5 3 5 4 5 4 5-1 5-4 5 3 5 2 5 0 5 4 5 1 5-1 5 3 5 2 5-3 5-1 5 2 5 1 5 3 5 1 5-1 5 0 5 0 5 1 5-2 5-2 5 2 5 4 5 1 5-1 5-2 5-3 5 1 5 4 5-1 5-2 5 1 5 1 5 2 5 2 5-4 5-5 5 1 5 4 5 4 5-1 5-3 5-2 5 1 5 3 5 1 5-5 5-2 5 4 5 4 5 1 5-2 5-5 5-2 5 5 5 3 5-2 5-1 5-1 5 2 5 2 5-1 5-3 5-2 5 1 5 5 5 1 5-2 5-1 5-2 5 0 5 2 5-1 5-2 5 2 5 3 5-1 5-1 5-2 5-2 5 1 5 2 5-1 5 0 5 1 5 1 5-1 5-3 5-2 5 1 5 1 5 3 5 0 5-4 5 0 5 2 5-1 5-1 5-2 5-2 5 3 5 6 5-2 5-4 5-3 5 0 5 3 5 3 5-2 5-2 5 0 5 4 5 2 5-3 5-4 5 0 5 2 5 5 5 3 5-3 5-4 5 2 5 3 5 1 5 0 5-2 5 1 5 6 5 3 5-1 5-3 5-1 5 2 5 5 5 1 5 1 5-1 5 1 5 3 5 1 5-3 5 0 5 2 5 2 5 4 5 0 5-3 5 1 5 1 5 0 5 0 5 1 5 1 5 3 5 1 5-2 5-2 5 0 5 2 5 2 5-1 5 0 5 2" stroke="#ff0b00"/>
<path d="M145 342l5-17 5-21 5-12 5-10 5-11 5-7 5-12 5-19 5-9 5-4 5-10 5-4 5-1 5-5 5 0 5 6 5 4 5 7 5 12 5 3 5-3 5 5 5 5 5 7 5 13 5 5 5-3 5 5 5 8 5 6 5 10 5 9 5 2 5 4 5 7 5 3 5 7 5 12 5 4 5-1 5 3 5 2 5 6 5 11 5 5 5-3 5 1 5 3 5 3 5 6 5 4 5-2 5 0 5 2 5-1 5 2 5 6 5 1 5-1 5-1 5-2 5 1 5 7 5 3 5-3 5-2 5 0 5 0 5 4 5 2 5-3 5 0 5 0 5-2 5 0 5 2 5 1 5 1 5-1 5-3 5-1 5 4 5 2 5-1 5-1 5-2 5 0 5 3 5 1 5-2 5 0 5 2 5-1 5 0 5 0 5-1 5 2 5 2 5-2 5-2 5 1 5 2 5 0 5 1 5-1 5-1 5 2 5 0 5-2 5 0 5 3 5 1 5 0 5-3 5-2 5 2 5 4 5 0 5-2 5-1 5-1 5 1 5 2 5 0 5 0 5 0 5-1 5-3 5 0 5 2 5 3 5 1 5-4 5-4 5 0 5 4 5 3 5 0 5-4 5-3 5 1 5 2 5 2 5 0 5 0 5-2 5-3 5-1 5 2 5 4 5 2 5-4 5-5 5-2 5 3 5 5 5 2 5-4 5-4 5-1 5 2 5 3 5 2 5-1 5-2 5-2 5-2 5 1 5 5 5 3 5-2 5-4 5-3 5 1 5 6 5 4 5-1 5-4 5-2 5 2 5 4 5 3 5 1 5-1 5-1 5-1 5 1 5 4 5 4 5 1 5-2 5-4 5 0 5 6 5 5 5 0 5-3 5-2 5 0 5 4 5 4 5 0 5-1 5 0 5-1 5 1 5 2 5 3 5 2 5 0 5-3 5-2 5 3 5 4 5 2 5-2" stroke="#ff0800"/>
<path d="M145 316l5-11 5-12 5-18 5-12 5-11 5-16 5-10 5-8 5-13 5-11 5-7 5-6 5-3 5-3 5-1 5 3 5 1 5 7 5 14 5 5 5 1 5 4 5 1 5 3 5 8 5 8 5 9 5 5 5 4 5 10 5 6 5 2 5 8 5 7 5 4 5 11 5 10 5 6 5 2 5 0 5 3 5 7 5 5 5 10 5 8 5-1 5 1 5 4 5 2 5 4 5 4 5 2 5 2 5 1 5 3 5 5 5 0 5-2 5 3 5 1 5 2 5 6 5 2 5-1 5 0 5 0 5 3 5 2 5-1 5 0 5-1 5-1 5 3 5 3 5-1 5-2 5-3 5-2 5 2 5 3 5 3 5 1 5-4 5-2 5 0 5-1 5 1 5 3 5-1 5 0 5 1 5 1 5-1 5-3 5-3 5 1 5 3 5 3 5 3 5-1 5-6 5-3 5 0 5 2 5 4 5 2 5 0 5-2 5-4 5 1 5 2 5-2 5 1 5 1 5 0 5 1 5 2 5-2 5-2 5-3 5 0 5 4 5 1 5 1 5 0 5-4 5-2 5 2 5 2 5 0 5-1 5-2 5 0 5 1 5 1 5 3 5-2 5-5 5-1 5 2 5 1 5 3 5 1 5-2 5-2 5-2 5 1 5 1 5-1 5 0 5 2 5 0 5 2 5 1 5-4 5-4 5 0 5 2 5 5 5 3 5 0 5-2 5-5 5-3 5 4 5 3 5 2 5 2 5-1 5-1 5-1 5 1 5 0 5 0 5 0 5 3 5 4 5 0 5 1 5-2 5-3 5 0 5 4 5 4 5 3 5-1 5-2 5-1 5 0 5 2 5 4 5-2 5-1 5 1 5 1 5 1 5 2 5-1 5-2 5-2 5 1 5 3 5 2 5-1 5 1 5-1 5-2 5 2 5 1 5-1 5-1 5 1 5 2 5 3 5 0 5-1" stroke="#ff0400"/>
<path d="M145 400l5-17 5-19 5-11 5-7 5-15 5-16 5-13 5-13 5-10 5-11 5-12 5-10 5-7 5-2 5-4 5-6 5 3 5 4 5 5 5 10 5 3 5 2 5 9 5 5 5 3 5 4 5 2 5 6 5 8 5 7 5 7 5 4 5 6 5 7 5 3 5 6 5 8 5 4 5 7 5 7 5 1 5 5 5 4 5 0 5 5 5 5 5 5 5 4 5 2 5 1 5 1 5 0 5 3 5-1 5 0 5 6 5 2 5 1 5 0 5-4 5 0 5 5 5 1 5 0 5 0 5 1 5 3 5 0 5-3 5-3 5 1 5 5 5 3 5-2 5-2 5-1 5 1 5 2 5-2 5-4 5 2 5 5 5 2 5-2 5-4 5-3 5 3 5 2 5 0 5-3 5 0 5 4 5 1 5-3 5-4 5-2 5 2 5 5 5-1 5-2 5-1 5 0 5 1 5-2 5-3 5-1 5 3 5 3 5 0 5-3 5-3 5 0 5 0 5 2 5-1 5-1 5 3 5 0 5-2 5-1 5-2 5-1 5 3 5 1 5 0 5 0 5 0 5-1 5-2 5 0 5 1 5 0 5 1 5 2 5-1 5 1 5-1 5-3 5 0 5 2 5 2 5 2 5 0 5-2 5 1 5 0 5 0 5-1 5-1 5 4 5 3 5 0 5-1 5-4 5 0 5 4 5 0 5-1 5 0 5 2 5 3 5 1 5-5 5-3 5 1 5 5 5 3 5-2 5-2 5 1 5 1 5 2 5-3 5-4 5 3 5 6 5 2 5-1 5-3 5-2 5 3 5 3 5-1 5-1 5 1 5 4 5 2 5-2 5-3 5-2 5 3 5 5 5 0 5-2 5 1 5 1 5 1 5-1 5-3 5 0 5 3 5 3 5 1 5-2 5-1 5 0 5 0 5 1 5 0 5 0 5 3 5 2 5-2 5 0 5-1 5-2" stroke="#ff0000"/>
<path d="M145 359l5-17 5-5 5-11 5-13 5-11 5-18 5-13 5-5 5-9 5-7 5-6 5-6 5-1 5 6 5 6 5 5 5 5 5 2 5 2 5 9 5 8 5 3 5 7 5-1 5 0 5 9 5 6 5 8 5 9 5-1 5 1 5 7 5 3 5 10 5 9 5 1 5 3 5 2 5 2 5 6 5 5 5 2 5 2 5 2 5 3 5 4 5 5 5 0 5-2 5 3 5 0 5 4 5 6 5-2 5-1 5-1 5-3 5 5 5 5 5 1 5 2 5-3 5-4 5 3 5 2 5 2 5 2 5 0 5-2 5 0 5 2 5 1 5 0 5 0 5-2 5 1 5 3 5 0 5 1 5-2 5-4 5 1 5 2 5 2 5 3 5-2 5-5 5-1 5 0 5 2 5 4 5 0 5-3 5-1 5-3 5 1 5 2 5 1 5-1 5 0 5-1 5 0 5 1 5 0 5-2 5 0 5 0 5 1 5 3 5 0 5-2 5-1 5-2 5 0 5 5 5 1 5 0 5-1 5-4 5-1 5 2 5 1 5 2 5 1 5-3 5-1 5-1 5 0 5 1 5 1 5-1 5-1 5 1 5-1 5 0 5 0 5-3 5-1 5 2 5 0 5 2 5 1 5-4 5-2 5 0 5 0 5 3 5 2 5-1 5-1 5-2 5-1 5 1 5 2 5 1 5 1 5-1 5-1 5 0 5 1 5 0 5 1 5 1 5 0 5 1 5 2 5-2 5 0 5 0 5-2 5 4 5 1 5 1 5 1 5-2 5-2 5 1 5 1 5 3 5 2 5 0 5-1 5-1 5-1 5 1 5 3 5 1 5 0 5 1 5 0 5-2 5 2 5 0 5 0 5 3 5 0 5 0 5 3 5-2 5-1 5 2 5-1 5 2 5 4 5 0 5 1 5-1 5-1 5 0 5 3 5 2 5 3 5 1 5-2 5-1 5 0" stroke="#fc0000"/>
<path d="M145 405l5-15 5-16 5-17 5-15 5-11 5-10 5-12 5-13 5-11 5-13 5-11 5-7 5-5 5-6 5-4 5 3 5 3 5 2 5 7 5 9 5 6 5 2 5 4 5 7 5 4 5 3 5 8 5 8 5 3 5 2 5 8 5 8 5 4 5 6 5 9 5 5 5 1 5 5 5 8 5 4 5 1 5 4 5 6 5 0 5 1 5 7 5 5 5 0 5-1 5 2 5 2 5-1 5 1 5 5 5 0 5-4 5-1 5 2 5 1 5 1 5 3 5 1 5-3 5-3 5 0 5 3 5 1 5 3 5 1 5-2 5-4 5-1 5 3 5 4 5 2 5 0 5-2 5-3 5-2 5 3 5 5 5 3 5 0 5-3 5-3 5-2 5 2 5 5 5 3 5 0 5-2 5-5 5-2 5 2 5 5 5 3 5 0 5-3 5-5 5-3 5 1 5 5 5 4 5 0 5-4 5-4 5-4 5 0 5 5 5 5 5 0 5-4 5-5 5-2 5-1 5 4 5 5 5 2 5-5 5-5 5-2 5 1 5 2 5 5 5 3 5-3 5-6 5-3 5 2 5 3 5 4 5 3 5-1 5-6 5-4 5 2 5 4 5 3 5 3 5 0 5-4 5-5 5 0 5 5 5 4 5 1 5 0 5-3 5-4 5-1 5 3 5 4 5 1 5-1 5-2 5-3 5-2 5 2 5 3 5 2 5-2 5-2 5-2 5-2 5 1 5 3 5 2 5-1 5-2 5-2 5-1 5 0 5 3 5 2 5 0 5-1 5-1 5 0 5 0 5 2 5 3 5 0 5 0 5 0 5 1 5 0 5 1 5 3 5 2 5 0 5 0 5 2 5 0 5 0 5 2 5 2 5 1 5 0 5 1 5 1 5-1 5 0 5 3 5 2 5 0 5 1 5 1 5-1 5-1 5 1 5 3 5 1 5 0 5 0 5 0 5-2" stroke="#f80000"/>
<path d="M145 356l5-11 5-19 5-17 5-10 5-8 5-13 5-14 5-14 5-14 5-9 5-2 5-4 5-9 5-6 5 3 5 7 5 7 5 4 5 3 5 7 5 8 5 5 5 1 5 2 5 5 5 8 5 10 5 8 5 2 5 1 5 7 5 11 5 6 5 4 5 9 5 9 5 3 5 2 5 5 5 5 5 3 5 7 5 8 5 2 5-1 5 4 5 6 5 0 5 1 5 7 5 6 5-2 5-3 5 1 5 1 5 3 5 5 5 2 5-2 5-2 5 3 5 2 5-1 5-2 5 2 5 5 5 3 5-3 5-5 5-3 5 4 5 5 5 2 5-3 5-4 5-1 5 2 5 2 5-2 5-3 5 2 5 5 5 1 5-6 5-4 5 0 5 4 5 5 5 1 5-4 5-5 5 0 5 4 5 1 5-3 5 0 5 3 5 1 5-3 5-3 5-1 5 1 5 3 5 4 5-2 5-4 5-2 5 1 5 2 5-1 5 1 5 2 5 0 5-3 5-2 5 0 5 1 5 3 5 1 5-1 5-2 5 0 5 0 5-1 5-1 5 1 5 4 5 2 5-3 5-5 5-2 5 4 5 4 5 1 5-2 5-2 5-1 5 1 5 2 5-1 5-3 5 2 5 6 5 1 5-6 5-5 5 2 5 5 5 3 5 1 5-4 5-4 5 0 5 5 5 1 5-3 5-2 5 5 5 3 5-3 5-4 5-2 5 2 5 4 5 4 5-1 5-6 5-2 5 3 5 3 5 0 5-1 5 1 5 2 5 0 5-2 5-2 5 1 5 4 5 3 5 0 5-1 5-1 5-1 5 1 5 3 5 1 5 2 5 2 5 0 5-4 5-2 5 3 5 5 5 1 5-2 5 0 5 0 5 0 5 1 5 0 5 0 5 1 5 5 5 2 5-6 5-5 5 3 5 6 5 3 5-1 5-2 5-2 5 0 5 4 5 0" stroke="#f40000"/>
<path d="M145 384l5-16 5-14 5-16 5-21 5-14 5-5 5-9 5-15 5-17 5-14 5-8 5-6 5-5 5-5 5-6 5-3 5 8 5 10 5 2 5 5 5 7 5 1 5 6 5 10 5 2 5 1 5 11 5 8 5 3 5 6 5 6 5 5 5 9 5 11 5 7 5 4 5 3 5 6 5 8 5 4 5 5 5 8 5 2 5 0 5 5 5 4 5 4 5 8 5 4 5-5 5-3 5 5 5 4 5 5 5 2 5-5 5-5 5 3 5 6 5 4 5-1 5-4 5-2 5 2 5 2 5 3 5-1 5-3 5-1 5 3 5-1 5-2 5 1 5 0 5 0 5 2 5-2 5-4 5 1 5 3 5 1 5 0 5-2 5-1 5-1 5 2 5 1 5 1 5 0 5-1 5 0 5-2 5 0 5 4 5 4 5-2 5-4 5-2 5-1 5 4 5 7 5-1 5-7 5-4 5 2 5 4 5 5 5-1 5-6 5-3 5 1 5 4 5 2 5-2 5-2 5-1 5 0 5 1 5 0 5-1 5-1 5 3 5 0 5-4 5-1 5 2 5 0 5 2 5 0 5-3 5-2 5 2 5 1 5 0 5 1 5 1 5-1 5-1 5-1 5 1 5 3 5 2 5 1 5-3 5-5 5 1 5 7 5 4 5-2 5-3 5-5 5-1 5 8 5 5 5-3 5-5 5-2 5 1 5 4 5 3 5-1 5-3 5-2 5 1 5 2 5-1 5-1 5 2 5 0 5-2 5-1 5 0 5-1 5 3 5 2 5-2 5-3 5 1 5 1 5 0 5 2 5 1 5-1 5 0 5 1 5-2 5 1 5 3 5 3 5 1 5-4 5-3 5 2 5 5 5 5 5 1 5-5 5-6 5 4 5 7 5 4 5 0 5-3 5-5 5 3 5 7 5 3 5-1 5-1 5-1 5 1 5 2 5 2 5 1 5 1 5 0" stroke="#f10000"/>
<path d="M145 367l5-16 5-14 5-13 5-12 5-12 5-15 5-11 5-7 5-10 5-13 5-9 5-3 5-1 5 4 5 7 5 4 5 0 5 5 5 10 5 5 5 2 5 6 5 6 5 3 5 4 5 9 5 4 5 1 5 8 5 11 5 6 5 2 5 5 5 6 5 5 5 8 5 10 5 2 5-2 5 3 5 7 5 5 5 5 5 4 5 2 5 0 5 2 5 4 5 2 5 2 5 3 5 2 5 0 5-2 5-1 5 1 5 4 5 5 5 0 5-4 5-3 5-1 5 3 5 6 5 2 5-4 5-5 5 0 5 1 5 2 5 3 5 0 5-2 5-3 5 0 5 1 5-1 5 1 5 3 5 1 5-3 5-3 5-1 5 0 5 4 5 4 5-1 5-5 5-4 5 2 5 3 5 3 5 0 5-1 5-4 5-1 5 3 5 2 5-1 5-1 5 1 5 0 5 0 5-1 5-1 5 0 5 2 5 2 5-1 5-2 5-2 5 0 5 2 5 2 5 0 5-3 5-1 5 1 5 0 5 0 5 0 5-1 5 0 5 1 5 2 5-3 5-4 5 1 5 3 5 2 5 0 5-2 5-4 5-2 5 3 5 4 5 1 5-3 5-2 5-1 5 0 5 1 5 3 5 0 5-1 5 0 5-1 5-2 5-1 5 2 5 4 5 1 5-1 5-3 5-4 5 1 5 5 5 5 5-1 5-4 5-4 5 0 5 3 5 5 5 1 5-1 5-2 5-2 5 1 5 2 5 2 5 1 5 1 5 1 5-2 5-2 5 0 5 4 5 4 5 2 5 0 5-3 5-3 5 2 5 6 5 4 5-2 5-2 5-1 5 0 5 3 5 4 5 0 5-2 5 0 5 2 5 0 5-1 5 1 5 1 5 1 5 1 5 1 5-2 5-3 5 2 5 3 5 2 5-1 5-2 5-1 5 0 5 2 5 2 5-1 5-1" stroke="#ed0000"/>
<path d="M145 369l5-13 5-16 5-14 5-15 5-11 5-7 5-16 5-13 5-8 5-13 5-2 5-4 5-10 5 6 5 3 5 5 5 12 5-2 5 1 5 9 5 3 5 7 5 5 5 0 5 6 5 6 5 5 5 6 5 5 5 6 5 4 5 8 5 5 5 4 5 11 5 3 5 3 5 6 5-1 5 8 5 10 5-1 5 4 5 0 5 0 5 12 5 4 5 0 5 0 5-3 5 4 5 7 5 1 5-1 5-3 5 0 5 3 5 4 5 2 5-3 5 0 5 0 5-1 5 4 5 1 5-1 5 2 5-5 5-1 5 4 5 1 5 3 5-2 5-7 5 1 5 3 5 5 5 2 5-5 5-5 5 1 5 5 5 4 5 0 5-5 5-3 5 2 5 5 5 1 5 0 5-2 5-3 5 2 5 2 5 0 5 3 5-2 5-2 5 0 5-2 5 3 5 4 5-3 5-3 5-3 5-1 5 6 5 2 5-3 5-4 5-3 5 2 5 4 5 1 5-4 5-4 5 0 5 1 5 3 5 0 5-5 5 0 5 1 5-1 5 2 5-1 5-2 5 2 5-2 5-1 5 2 5 0 5 2 5 0 5-3 5 0 5 2 5 2 5 1 5-2 5-2 5 1 5 4 5 1 5-2 5-1 5-1 5 2 5 5 5-3 5-2 5 0 5 0 5 4 5 0 5-4 5 0 5 0 5 2 5 3 5-3 5-2 5 1 5 0 5 1 5 0 5 0 5 0 5 0 5 0 5-1 5 1 5 2 5 0 5 1 5-3 5-1 5 6 5 2 5 0 5-1 5-5 5 4 5 7 5 1 5-1 5-4 5-1 5 6 5 4 5 1 5-2 5-3 5 1 5 3 5 3 5 0 5-1 5 0 5-1 5 1 5 2 5 1 5 2 5-2 5-4 5 1 5 2 5 4 5 3 5-6 5-4 5 1 5 3 5 6 5 0" stroke="#ea0000"/>
<path d="M145 367l5-9 5-20 5-14 5-11 5-13 5-10 5-15 5-10 5-11 5-12 5 0 5-5 5-6 5 1 5 2 5 9 5 8 5 6 5 7 5-5 5 4 5 11 5 4 5 7 5 2 5 4 5 6 5 3 5 11 5 4 5 0 5 10 5 7 5 7 5 6 5 1 5 5 5 1 5 7 5 11 5 0 5 0 5 2 5 2 5 7 5 3 5 5 5 1 5-3 5 4 5 4 5-1 5 1 5-1 5 3 5 2 5 1 5 3 5-5 5-2 5 4 5 3 5 3 5-1 5-3 5-1 5-1 5 5 5 3 5-2 5-1 5-2 5 1 5 2 5-1 5 1 5-2 5 0 5 4 5-1 5-1 5-2 5-1 5 3 5 2 5 1 5 0 5-6 5-1 5 3 5 2 5 3 5-2 5-2 5-1 5-1 5 4 5 0 5-3 5 1 5 0 5 1 5 0 5-2 5 0 5-2 5 2 5 4 5-2 5-2 5-3 5 0 5 3 5 1 5 2 5-2 5-5 5 1 5 1 5 1 5 1 5-2 5 1 5-1 5 0 5 2 5-4 5-1 5 2 5 2 5 2 5-2 5-2 5-2 5-1 5 5 5 2 5-2 5-1 5-2 5 0 5 2 5 1 5 2 5-2 5-2 5 3 5-1 5 0 5-1 5 0 5 2 5 0 5 2 5-1 5-4 5 0 5 2 5 3 5 1 5-2 5-1 5-2 5 0 5 4 5 0 5-1 5 0 5-1 5 1 5 0 5 0 5 1 5-1 5 2 5 2 5-1 5-1 5-1 5 1 5 3 5 1 5 3 5-2 5-3 5 2 5 1 5 3 5 1 5 0 5 0 5-2 5 1 5 3 5-1 5 1 5 1 5 1 5 1 5-2 5 1 5 0 5-1 5 5 5 1 5-1 5-1 5-1 5 1 5 2 5 2 5 2 5-2 5-1 5 2 5-1" stroke="#e60000"/>
<path d="M145 397l5-13 5-14 5-14 5-13 5-17 5-18 5-11 5-7 5-8 5-14 5-15 5-13 5-8 5-3 5-1 5 2 5 1 5 1 5 6 5 10 5 5 5 1 5 6 5 9 5 3 5 4 5 7 5 6 5 2 5 8 5 9 5 3 5 5 5 11 5 10 5 2 5 2 5 4 5 6 5 8 5 8 5 4 5-2 5-1 5 5 5 8 5 7 5 1 5-1 5 1 5 2 5 1 5 2 5 2 5-1 5 1 5 3 5 2 5-3 5 0 5 4 5 1 5-2 5 0 5 2 5 1 5 2 5 2 5-4 5-5 5 2 5 6 5 3 5-1 5-4 5-4 5-1 5 5 5 4 5 0 5-3 5-2 5 0 5 2 5 0 5-1 5 1 5 1 5 0 5-1 5 0 5 0 5 0 5 1 5 1 5-3 5-1 5 3 5 3 5-2 5-3 5-3 5 0 5 3 5 6 5 0 5-6 5-5 5 1 5 3 5 3 5 1 5-3 5-2 5-1 5 1 5 1 5-1 5 0 5 0 5 1 5-1 5-3 5 0 5 2 5 1 5-2 5-1 5-1 5 1 5 3 5 1 5-4 5-5 5 1 5 5 5 4 5-1 5-3 5-5 5-1 5 4 5 5 5 0 5-3 5-1 5 0 5 0 5 1 5 0 5 1 5 1 5 0 5-1 5-1 5 0 5 1 5 2 5 1 5-3 5-1 5 3 5 3 5 0 5-3 5-3 5-1 5 4 5 7 5 1 5-6 5-4 5 1 5 3 5 3 5 3 5-1 5-3 5 1 5 2 5 0 5 0 5 2 5 3 5 0 5-1 5-1 5 1 5 2 5 2 5 1 5-2 5-1 5 2 5 4 5 2 5-3 5-5 5 1 5 5 5 4 5 1 5-2 5-5 5-2 5 4 5 5 5 0 5-1 5 0 5-1 5-1 5 1 5 2 5 0 5 1" stroke="#e20000"/>
<path d="M145 396l5-11 5-12 5-17 5-16 5-15 5-15 5-11 5-8 5-12 5-14 5-13 5-12 5-8 5-4 5-6 5-4 5 3 5 2 5 4 5 12 5 9 5-1 5 2 5 8 5 5 5 7 5 11 5 5 5-1 5 5 5 11 5 6 5 8 5 9 5 5 5 4 5 7 5 6 5 3 5 5 5 6 5 5 5 7 5 2 5-1 5 2 5 4 5 5 5 7 5 5 5-4 5-6 5 1 5 3 5 4 5 7 5 2 5-7 5-3 5 2 5 3 5 2 5 3 5 1 5-3 5 0 5 0 5 0 5-1 5 2 5 1 5 2 5-1 5-3 5-2 5-1 5 2 5 4 5 2 5-2 5-5 5-1 5 2 5 2 5 3 5 0 5-4 5-3 5 3 5 3 5 0 5 0 5-2 5-3 5 2 5 4 5 1 5-2 5-2 5-1 5 0 5 3 5 1 5 0 5-1 5-1 5 0 5 1 5 0 5-2 5 1 5 3 5 1 5-1 5-2 5-3 5-2 5 5 5 5 5 0 5-3 5-4 5-4 5 1 5 7 5 4 5-2 5-3 5-4 5-2 5 2 5 4 5 2 5-1 5-2 5-1 5-1 5 0 5 0 5 1 5 2 5 1 5-1 5-1 5-4 5-2 5 3 5 6 5 0 5-2 5-3 5-4 5-1 5 6 5 4 5-2 5-3 5-2 5-1 5 1 5 4 5 0 5-3 5-2 5 1 5 1 5 2 5-1 5-2 5-1 5 1 5 1 5 2 5 1 5-3 5 0 5 2 5 1 5-1 5 2 5 0 5 0 5 4 5 2 5-3 5-3 5 2 5 3 5 4 5 4 5-1 5-6 5-2 5 2 5 6 5 5 5 1 5-3 5-4 5-1 5 3 5 5 5 3 5 0 5-2 5 0 5 0 5 0 5 2 5 2 5 1 5 2 5 3 5-3 5-4 5 1" stroke="#df0000"/>
<path d="M145 356l5-14 5-14 5-10 5-7 5-16 5-17 5-13 5-12 5-10 5-5 5-7 5-11 5-7 5-1 5 2 5 6 5 8 5 6 5 3 5 4 5 4 5 6 5 6 5 4 5 5 5 6 5 3 5 6 5 9 5 4 5 3 5 8 5 6 5 5 5 9 5 7 5 1 5 3 5 5 5 3 5 6 5 8 5 4 5-1 5 2 5 3 5 4 5 6 5 6 5 1 5-1 5-2 5 1 5 5 5 5 5 4 5 1 5-2 5-3 5 2 5 6 5 4 5 2 5 1 5-3 5-3 5 3 5 4 5 2 5 2 5-1 5-4 5-2 5 1 5 2 5 2 5 0 5-2 5-3 5-1 5 1 5 1 5 0 5-1 5-2 5-1 5-1 5 0 5 1 5-1 5-2 5 0 5 1 5-1 5 0 5 0 5-3 5-1 5 2 5 1 5 1 5 0 5-2 5-3 5 1 5 3 5 2 5 1 5 0 5-3 5-2 5 1 5 3 5 4 5 1 5-2 5-3 5-2 5 1 5 4 5 4 5 0 5-3 5-2 5-2 5 0 5 5 5 3 5-2 5-2 5-3 5-2 5 1 5 4 5 1 5-1 5-2 5-3 5-2 5 2 5 2 5 1 5-1 5-3 5-1 5 0 5 0 5 1 5 1 5-1 5-1 5 0 5 0 5 0 5 0 5 1 5-1 5 0 5 2 5 1 5-2 5 1 5-1 5 0 5 3 5 2 5 0 5-1 5-1 5-1 5 2 5 3 5 2 5 1 5-2 5-3 5 0 5 3 5 3 5 3 5 1 5-3 5-3 5 1 5 3 5 3 5 3 5 0 5-4 5-2 5 1 5 2 5 4 5 3 5-2 5-4 5-1 5 1 5 2 5 4 5 1 5-1 5-2 5-1 5 0 5 3 5 2 5 1 5 0 5-2 5 0 5 1 5 2 5 1 5 1 5 0" stroke="#db0000"/>
<path d="M145 382l5-19 5-20 5-13 5-10 5-11 5-12 5-14 5-18 5-16 5-6 5-4 5-11 5-13 5-2 5 4 5 0 5 1 5 9 5 10 5 2 5 1 5 8 5 6 5 3 5 4 5 9 5 5 5 3 5 9 5 11 5 2 5-1 5 8 5 14 5 9 5 3 5 3 5 3 5 4 5 6 5 7 5 5 5 3 5 3 5 2 5 2 5 4 5 7 5 4 5 1 5-1 5 0 5 2 5 5 5 1 5-1 5-1 5 5 5 5 5-2 5-4 5 1 5 5 5 3 5 1 5 0 5-1 5-3 5 1 5 3 5 2 5 0 5 1 5-1 5-4 5-3 5 5 5 7 5-1 5-6 5-2 5 1 5 3 5 1 5-1 5-1 5-1 5 1 5 2 5-2 5-3 5 1 5 3 5 0 5-2 5 0 5 0 5-2 5-1 5 0 5 3 5 2 5-1 5-6 5-4 5 3 5 5 5 2 5-3 5-4 5-2 5 0 5 3 5 2 5-2 5-2 5 0 5 0 5-2 5-1 5 2 5 3 5-3 5-3 5 1 5 2 5-1 5-2 5-1 5 2 5 2 5 1 5-1 5-5 5-3 5 5 5 6 5 0 5-5 5-2 5 1 5 0 5 1 5 3 5 2 5-2 5-2 5-2 5 1 5 3 5 3 5 0 5-3 5-2 5 2 5 3 5 0 5-2 5 0 5 2 5 3 5 0 5-4 5-2 5 3 5 4 5 1 5-2 5 0 5 0 5-2 5 0 5 4 5 3 5 0 5-1 5-3 5-2 5 3 5 6 5 4 5-4 5-5 5 2 5 5 5 1 5-1 5 0 5 2 5 0 5 0 5 1 5-1 5 0 5 2 5 2 5 0 5-1 5 1 5 1 5-2 5-1 5 3 5 5 5 0 5-5 5-3 5 1 5 5 5 5 5-1 5-4 5-2 5 1 5 2 5 1" stroke="#d70000"/>
<path d="M145 365l5-11 5-9 5-17 5-15 5-14 5-15 5-13 5-11 5-10 5-8 5-5 5-6 5-6 5 0 5-1 5 8 5 13 5 4 5 6 5 3 5-2 5 9 5 5 5 2 5 11 5 4 5 6 5 11 5-2 5 4 5 6 5 5 5 14 5 9 5 2 5 4 5 1 5 4 5 7 5 4 5 5 5 5 5 6 5 2 5 2 5 0 5-1 5 7 5 7 5 3 5 4 5-5 5-3 5 4 5 0 5 4 5 4 5-2 5 4 5 1 5-4 5 1 5-2 5 1 5 7 5 2 5 0 5-3 5-5 5 0 5 3 5 3 5 1 5-1 5-1 5-1 5-1 5-2 5-2 5 2 5 3 5 3 5 0 5-6 5-4 5 0 5 1 5 5 5 1 5-3 5 0 5-3 5-1 5 1 5-3 5 2 5 3 5 1 5 0 5-4 5-5 5 0 5 2 5 4 5 2 5-2 5-3 5-1 5 0 5-1 5 1 5 1 5 1 5 3 5-1 5-4 5-2 5-2 5 3 5 6 5 0 5-1 5-2 5-4 5 3 5 1 5-1 5 3 5 0 5 1 5 1 5-3 5-3 5 0 5 2 5 5 5 3 5-2 5-4 5-2 5 1 5 2 5 3 5-1 5 0 5 2 5-1 5-1 5-2 5-3 5 4 5 4 5 0 5 1 5-6 5-3 5 3 5 1 5 2 5 1 5-3 5 1 5 0 5-2 5 0 5-2 5 1 5 4 5 2 5-2 5-3 5-3 5 0 5 4 5 3 5-1 5-1 5-1 5 0 5 2 5-1 5-1 5 3 5 1 5 3 5 1 5-4 5-1 5 1 5 2 5 6 5 0 5-3 5 1 5-1 5 2 5 2 5-1 5 1 5 2 5 2 5 1 5-2 5-2 5 1 5 4 5 3 5 1 5-1 5-2 5 1 5 3 5 0 5 2 5 0 5-1" stroke="#d40000"/>
<path d="M145 368l5-19 5-13 5-13 5-11 5-14 5-16 5-10 5-15 5-10 5-3 5-12 5-12 5-3 5 1 5 8 5 3 5 5 5 7 5 1 5 7 5 12 5 1 5 2 5 7 5 8 5 8 5 2 5 5 5 7 5 4 5 11 5 9 5 0 5 4 5 6 5 10 5 8 5 0 5 3 5 2 5 2 5 11 5 5 5-2 5 0 5 3 5 7 5 5 5-1 5 2 5-2 5 0 5 7 5 2 5-1 5 0 5 0 5 3 5 0 5 1 5 4 5-1 5 0 5 1 5-1 5 2 5 3 5 2 5-1 5-5 5 0 5 5 5 2 5 0 5-3 5-5 5 1 5 4 5 4 5-1 5-8 5-2 5 3 5 3 5 3 5-3 5-6 5-1 5 3 5 4 5 0 5-6 5-1 5 1 5 1 5 3 5-2 5-3 5 0 5 1 5 3 5-2 5-2 5 2 5 1 5-1 5 1 5-1 5 0 5 2 5 1 5 0 5-3 5 0 5 4 5 1 5-1 5-1 5-1 5 1 5 1 5 1 5-1 5-3 5 1 5 3 5-1 5-2 5-2 5 0 5 2 5 0 5-1 5-2 5-3 5 4 5 3 5-3 5-4 5-2 5 2 5 4 5 0 5-2 5-5 5-2 5 6 5 4 5-2 5-4 5-3 5 2 5 4 5 3 5 0 5-5 5-2 5 5 5 3 5 1 5-1 5-2 5 1 5 1 5 2 5 3 5-2 5 0 5 1 5-1 5 1 5 2 5 2 5 1 5-4 5 0 5 2 5 1 5 4 5 0 5-5 5-2 5 2 5 6 5 2 5-5 5-3 5 0 5 2 5 5 5 1 5-5 5-4 5 1 5 6 5 2 5-3 5-1 5-2 5 1 5 5 5 1 5-2 5-2 5 2 5 4 5 0 5-1 5 1 5 0 5 2 5 4 5-1 5-1 5 1 5 3" stroke="#d00000"/>
<path d="M145 381l5-18 5-16 5-14 5-16 5-10 5-8 5-13 5-17 5-14 5-13 5-14 5-9 5-3 5-4 5-7 5-1 5 3 5 0 5 3 5 11 5 10 5 4 5 4 5 8 5 3 5 0 5 9 5 12 5 4 5 5 5 9 5 7 5 2 5 8 5 12 5 5 5 2 5 6 5 6 5 2 5 5 5 9 5 5 5 0 5 2 5 3 5 2 5 3 5 8 5 5 5-1 5-1 5 0 5-1 5 0 5 5 5 5 5 2 5 0 5-1 5-1 5-1 5 2 5 3 5 3 5 2 5 0 5 0 5-2 5-1 5 0 5 1 5 1 5 1 5 1 5 1 5-1 5-2 5-2 5 1 5 1 5 1 5 3 5 2 5-2 5-3 5-1 5 0 5 0 5 3 5 3 5 0 5-2 5-1 5-1 5-1 5 1 5 4 5 0 5-1 5-1 5 1 5-1 5 0 5 2 5 0 5-2 5-1 5 2 5 0 5 0 5 3 5 0 5-4 5-3 5 1 5 1 5 2 5 3 5 1 5-4 5-5 5-1 5 1 5 2 5 3 5 4 5-2 5-5 5-3 5-1 5 0 5 3 5 4 5 1 5-2 5-3 5-2 5-1 5 0 5 3 5 2 5 0 5-1 5-1 5-1 5-1 5 0 5 1 5 0 5 1 5 0 5 0 5 0 5-1 5-1 5-1 5 1 5 0 5 1 5 2 5 0 5-2 5-1 5 0 5 0 5 0 5 2 5 2 5-1 5-1 5 1 5-1 5-1 5 2 5 2 5-1 5 0 5 3 5 1 5-1 5 0 5 1 5-1 5-1 5 4 5 4 5 1 5 0 5 0 5-2 5-4 5 2 5 5 5 4 5 1 5 1 5-2 5-5 5-1 5 4 5 4 5 3 5 2 5 0 5-4 5-3 5 1 5 3 5 3 5 3 5 2 5-2 5-3 5 0 5 1" stroke="#cc0000"/>
<path d="M145 402l5-14 5-17 5-13 5-14 5-17 5-15 5-12 5-6 5-13 5-17 5-12 5-10 5-7 5-4 5-2 5 1 5-1 5 3 5 12 5 7 5 3 5 5 5 6 5 6 5 2 5 5 5 12 5 6 5 4 5 5 5 4 5 7 5 8 5 10 5 9 5 0 5 2 5 8 5 7 5 5 5 2 5 4 5 5 5 0 5 3 5 6 5 3 5 3 5 2 5 1 5 0 5-2 5 6 5 5 5-2 5-3 5 0 5 3 5 3 5 0 5 2 5-1 5-2 5 2 5 2 5 0 5 0 5 0 5 2 5-1 5-4 5 2 5 3 5 2 5-2 5-4 5 0 5 2 5 1 5 3 5-2 5-3 5-1 5 2 5 2 5-1 5-2 5 2 5 0 5-2 5-1 5 1 5 2 5 0 5-1 5-1 5-2 5 1 5 4 5 0 5-3 5-3 5 1 5 3 5 0 5-1 5-1 5 0 5 0 5 0 5 0 5 0 5 0 5 1 5 0 5-3 5-1 5 2 5 3 5-1 5-3 5-1 5 1 5 1 5 1 5-1 5-1 5-1 5 0 5 3 5-1 5-2 5 1 5 1 5 0 5-2 5-1 5 3 5 1 5-1 5-1 5-1 5 1 5 2 5 0 5 0 5-3 5 0 5 3 5 1 5-2 5-1 5 0 5 3 5-1 5-1 5 1 5-1 5 1 5 1 5-1 5-1 5 0 5 2 5 2 5-3 5-2 5 2 5 2 5 1 5-2 5-1 5 1 5 1 5 2 5 0 5-1 5 0 5 1 5 2 5 0 5-2 5 2 5 3 5 0 5-1 5-1 5 3 5 2 5 0 5 0 5-1 5 0 5 3 5 2 5 0 5-2 5-1 5 4 5 1 5-1 5 1 5 0 5 2 5 0 5-1 5 2 5 1 5 1 5 2 5-2 5-1 5 1 5 3 5 3 5-2" stroke="#c90000"/>
<path d="M145 388l5-16 5-16 5-15 5-11 5-8 5-14 5-19 5-17 5-10 5-6 5-8 5-9 5-8 5-4 5 1 5 7 5 5 5 4 5 6 5 8 5 8 5 3 5 2 5 5 5 7 5 7 5 8 5 8 5 4 5 3 5 5 5 7 5 8 5 8 5 9 5 4 5 1 5 3 5 7 5 6 5 3 5 2 5 5 5 5 5 2 5 2 5 0 5 1 5 4 5 7 5 4 5-4 5-5 5 1 5 4 5 3 5 1 5 1 5-1 5-1 5 0 5 2 5 0 5 0 5 2 5 2 5-1 5-2 5-1 5 1 5-1 5 1 5 4 5 1 5-2 5-4 5-2 5 2 5 3 5 3 5 0 5-4 5-3 5 2 5 3 5 0 5-2 5 0 5 3 5 1 5-2 5-3 5-2 5 2 5 4 5 3 5-2 5-5 5-2 5 2 5 2 5 1 5 1 5 0 5-2 5-3 5 0 5 1 5 1 5 0 5 0 5 0 5-2 5-1 5 0 5-2 5-1 5 3 5 4 5-1 5-6 5-4 5 1 5 3 5 3 5 0 5-3 5-4 5 0 5 3 5 0 5-2 5 0 5 3 5 1 5-2 5-3 5 0 5 0 5 2 5 3 5 1 5-2 5-3 5 0 5 1 5 1 5 3 5 3 5-2 5-4 5-2 5 4 5 2 5 0 5 0 5 1 5 0 5 0 5 0 5-2 5-1 5 3 5 5 5 2 5-5 5-5 5 1 5 4 5 2 5 2 5-1 5-2 5-2 5 2 5 1 5 0 5 0 5 3 5 2 5-2 5-2 5 1 5 1 5 0 5 2 5 3 5 1 5-2 5-3 5 0 5 2 5 4 5 4 5-1 5-4 5-3 5 3 5 5 5 0 5-2 5 2 5 2 5 0 5 0 5-1 5-1 5 2 5 5 5 4 5-3 5-5 5 0 5 4 5 2 5 1" stroke="#c50000"/>
<path d="M145 412l5-16 5-10 5-18 5-15 5-12 5-17 5-10 5-8 5-19 5-15 5-10 5-12 5-4 5-3 5-7 5 1 5 4 5 3 5 7 5 6 5 4 5 8 5 6 5 3 5 5 5 6 5 6 5 8 5 4 5 3 5 7 5 9 5 9 5 6 5 2 5 4 5 5 5 8 5 7 5 2 5 4 5 4 5 2 5 3 5 3 5 2 5 7 5 4 5-1 5 2 5 0 5 1 5 6 5-1 5-4 5 3 5 2 5 3 5 4 5-2 5-4 5 3 5 0 5 1 5 3 5 0 5 1 5 2 5-3 5-3 5 2 5 1 5 3 5 2 5-5 5-1 5 3 5 1 5 0 5-1 5-4 5 1 5 4 5 0 5 0 5-1 5-3 5 1 5-1 5-1 5 2 5 2 5 0 5-1 5-4 5-3 5 3 5 3 5-1 5-1 5-3 5 0 5 3 5 0 5-3 5-2 5 0 5 1 5 1 5 0 5-1 5 0 5-1 5-2 5-3 5 1 5 3 5 2 5 0 5-4 5-4 5 2 5 2 5 0 5 0 5-2 5-1 5 3 5 0 5-2 5 0 5-1 5 0 5 2 5-1 5 0 5 4 5-1 5-3 5-1 5-2 5 3 5 6 5-1 5-2 5-2 5-2 5 3 5 3 5-2 5 0 5 2 5-1 5 2 5 0 5-2 5 2 5 1 5-2 5 0 5 1 5 2 5 4 5-2 5-5 5 0 5 1 5 4 5 3 5-1 5-3 5 1 5 0 5 1 5 0 5 0 5 2 5 2 5 0 5-1 5 0 5 2 5 1 5 0 5-2 5 0 5 3 5 5 5 0 5-3 5-3 5 1 5 2 5 4 5 0 5-1 5 1 5 0 5-1 5 0 5 0 5 2 5 4 5-2 5-2 5 1 5 1 5 3 5 1 5-4 5-1 5 3 5 3 5 3 5-1 5-5" stroke="#c10000"/>
<path d="M145 381l5-18 5-17 5-8 5-8 5-15 5-16 5-14 5-13 5-5 5-4 5-13 5-10 5-2 5 3 5 7 5 11 5 3 5-2 5 7 5 8 5 5 5 9 5 3 5-1 5 6 5 10 5 4 5 6 5 6 5 0 5 5 5 11 5 6 5 3 5 6 5 2 5 2 5 8 5 5 5 1 5 4 5 2 5 0 5 6 5 6 5 2 5 1 5 1 5 0 5 3 5 5 5 1 5-2 5 0 5 0 5 2 5 5 5 1 5-2 5-2 5 1 5 4 5 3 5 0 5-3 5-2 5 2 5 3 5 2 5-2 5-3 5-1 5 2 5 3 5 1 5-3 5-3 5 1 5 2 5 1 5 0 5-3 5-2 5 2 5 2 5 0 5-2 5 0 5-1 5 2 5 1 5-2 5-1 5 1 5 1 5 0 5 0 5-1 5-1 5 3 5 1 5-2 5-2 5 0 5 0 5 3 5 2 5-4 5-3 5 1 5 2 5 2 5 0 5-5 5-3 5 3 5 3 5 0 5-2 5-4 5-3 5 4 5 4 5-2 5-4 5-3 5 0 5 4 5 3 5-3 5-4 5-2 5 2 5 3 5 3 5-3 5-4 5 0 5 3 5 3 5 1 5-2 5-3 5 0 5 3 5 3 5 1 5-2 5-1 5 0 5 3 5 2 5 1 5-1 5-2 5 1 5 1 5 3 5 1 5-1 5-2 5 0 5 2 5 2 5 1 5-1 5-4 5 0 5 3 5 2 5 0 5-2 5-4 5 0 5 4 5 3 5-1 5-3 5-3 5 0 5 5 5 3 5-3 5-3 5-1 5 1 5 5 5 3 5-4 5-3 5 1 5 3 5 3 5 1 5-3 5-3 5 3 5 4 5 1 5 0 5-1 5-2 5 4 5 4 5-1 5-1 5 1 5 0 5 3 5 2 5-1 5 0 5 1 5 2 5 1 5 0" stroke="#be0000"/>
<path d="M145 394l5-15 5-10 5-16 5-18 5-9 5-9 5-17 5-14 5-9 5-11 5-9 5 0 5 0 5-6 5 3 5 11 5 7 5 4 5 7 5 4 5 0 5 6 5 10 5 4 5 4 5 9 5 5 5-1 5 4 5 10 5 6 5 8 5 7 5 1 5-2 5 7 5 11 5 5 5 2 5 2 5 0 5 1 5 6 5 6 5 2 5 1 5 3 5 0 5 0 5 2 5 4 5 1 5 1 5 0 5-3 5 0 5 4 5 4 5-1 5-2 5-1 5 1 5 2 5 3 5-1 5-3 5 0 5 2 5 2 5 0 5-1 5-1 5 1 5 1 5 0 5 0 5 0 5 0 5 0 5-2 5 0 5 1 5 3 5 0 5-2 5-4 5-1 5 3 5 4 5 0 5-3 5-4 5-1 5 3 5 2 5 1 5-2 5-2 5-2 5 0 5 1 5 1 5 1 5 1 5-3 5-4 5-1 5 2 5 4 5 1 5-2 5-5 5-4 5 3 5 5 5 0 5-2 5-3 5-2 5 0 5 3 5 0 5-1 5 0 5 0 5-2 5-2 5 2 5 2 5 0 5 0 5-2 5-2 5 0 5 4 5 2 5-4 5-1 5 1 5 1 5 2 5 1 5-3 5-3 5 3 5 3 5 0 5-1 5 0 5-1 5 0 5 2 5 2 5-1 5 0 5 2 5-2 5-3 5 3 5 4 5 1 5-1 5-2 5-4 5 1 5 6 5 5 5-3 5-3 5-1 5-1 5 3 5 4 5 1 5-3 5 0 5 1 5-2 5 1 5 5 5 2 5-1 5-2 5-1 5-1 5 3 5 7 5 0 5-5 5-2 5 2 5 2 5 3 5 2 5-3 5-3 5 3 5 2 5-1 5 0 5 2 5 0 5-1 5 1 5 0 5-1 5 3 5 2 5-2 5-3 5 3 5 3 5 0 5 0 5-1 5-3" stroke="#ba0000"/>
<path d="M145 358l5-12 5-14 5-14 5-9 5-13 5-18 5-16 5-12 5-9 5-7 5-11 5-11 5-6 5-2 5 4 5 6 5 3 5 2 5 10 5 10 5 4 5 6 5 3 5 3 5 7 5 11 5 8 5 7 5 5 5 4 5 6 5 5 5 7 5 12 5 9 5 3 5 3 5 2 5 2 5 8 5 10 5 2 5 0 5 2 5 4 5 5 5 3 5 1 5 1 5 3 5 3 5 3 5 0 5-4 5 1 5 4 5 2 5 2 5 2 5 0 5-1 5-1 5 0 5 2 5 4 5 4 5 1 5-5 5-5 5 1 5 5 5 3 5 0 5-2 5-4 5 0 5 3 5 1 5-1 5-1 5 1 5 1 5 0 5-2 5-1 5 1 5 0 5 1 5 1 5-1 5 0 5 1 5-2 5-3 5 2 5 4 5 3 5-1 5-5 5-4 5 0 5 5 5 4 5 1 5-5 5-3 5 0 5 1 5 1 5 2 5-1 5-1 5 1 5-2 5-2 5 1 5 1 5 1 5 0 5-2 5-1 5 2 5-1 5-2 5-1 5 0 5 2 5 4 5 0 5-6 5-4 5 1 5 4 5 4 5 0 5-3 5-4 5-1 5 2 5 2 5 1 5 0 5 1 5-2 5-3 5 0 5 2 5 2 5 2 5-1 5-3 5-1 5 2 5 2 5 0 5-3 5 0 5 4 5 2 5-1 5-3 5-2 5-1 5 5 5 5 5-1 5-3 5-2 5 0 5 1 5 2 5 2 5 2 5 0 5-3 5-2 5 0 5 2 5 6 5 3 5-4 5-3 5 1 5 2 5 3 5 1 5-2 5 0 5 2 5 3 5 0 5-2 5-3 5 3 5 3 5 2 5 0 5-1 5-2 5-1 5 2 5 1 5 2 5 3 5 1 5-3 5-4 5 0 5 4 5 6 5 1 5-3 5-3 5-2 5 3 5 4" stroke="#b60000"/>
<path d="M145 389l5-17 5-15 5-10 5-15 5-15 5-10 5-13 5-17 5-13 5-9 5-9 5-6 5-4 5-3 5 1 5 1 5 6 5 11 5 8 5 2 5 6 5 7 5 2 5 9 5 11 5 3 5 2 5 7 5 7 5 7 5 10 5 6 5 4 5 4 5 5 5 8 5 8 5 2 5 2 5 7 5 3 5 3 5 7 5 1 5-3 5 3 5 7 5 4 5 4 5 2 5-4 5-3 5 1 5 3 5 5 5 2 5-1 5 0 5-1 5-1 5 1 5 1 5-2 5 1 5 5 5 2 5-2 5-3 5-4 5-3 5 3 5 5 5 4 5-1 5-4 5-5 5-2 5 1 5 2 5 3 5 0 5-3 5 0 5 0 5-3 5-2 5 0 5 0 5 2 5 4 5 1 5-5 5-4 5-3 5 1 5 4 5 4 5 1 5-3 5-5 5-2 5 2 5 2 5 0 5 1 5 0 5-1 5 1 5 1 5-3 5-2 5 0 5 2 5 3 5 2 5-1 5-3 5-3 5 0 5 3 5 4 5-1 5-2 5 0 5-2 5 1 5 4 5 0 5-3 5-1 5 2 5 1 5 2 5 1 5-2 5-2 5 0 5 2 5 3 5 0 5-2 5 0 5 1 5 0 5 2 5 0 5-4 5-1 5 3 5 3 5 2 5 0 5-4 5-4 5 0 5 3 5 4 5 2 5-2 5-2 5-2 5 0 5 0 5 2 5 0 5-1 5 3 5 2 5-2 5-3 5-2 5-2 5 2 5 6 5 3 5-1 5-4 5-4 5-2 5 3 5 4 5 3 5 2 5-3 5-2 5 0 5 0 5-1 5 2 5 1 5 2 5 3 5 1 5-3 5-4 5-2 5 2 5 5 5 5 5 1 5-2 5-4 5-3 5 3 5 4 5 2 5 1 5 1 5-2 5 0 5 2 5 0 5-2 5 2 5 3 5 2" stroke="#b30000"/>
<path d="M145 387l5-11 5-12 5-16 5-14 5-13 5-17 5-15 5-10 5-11 5-14 5-7 5-6 5-8 5-6 5 3 5 7 5 7 5 5 5 3 5 6 5 8 5 6 5 5 5 7 5 4 5 2 5 9 5 10 5 4 5 4 5 9 5 9 5 3 5 3 5 4 5 8 5 9 5 6 5 2 5 3 5 1 5 0 5 5 5 7 5 2 5 2 5 6 5 3 5-4 5-2 5 2 5 5 5 4 5 2 5-2 5-1 5-1 5 0 5 2 5 3 5 0 5 0 5 3 5 1 5-4 5-2 5 2 5 4 5 1 5-1 5-2 5 0 5 2 5 0 5 0 5-1 5-1 5 1 5 3 5 1 5-3 5-1 5 3 5 0 5-2 5-1 5 0 5 3 5 3 5-1 5-3 5-2 5-1 5 1 5 3 5 2 5-2 5-1 5 1 5-2 5-4 5-1 5 3 5 4 5 1 5-3 5-4 5-3 5 0 5 2 5 1 5 1 5-2 5-1 5 1 5-3 5-4 5 0 5 4 5 2 5-1 5-3 5-2 5 0 5 1 5 1 5 0 5-1 5 0 5 1 5 2 5-2 5-2 5 1 5 3 5 1 5-2 5 0 5 2 5 2 5 1 5-1 5-2 5-1 5 2 5 4 5 2 5 0 5-3 5 1 5 1 5-1 5-2 5 3 5 4 5 2 5-2 5-3 5-3 5 0 5 3 5 4 5 1 5-2 5-2 5-1 5 0 5-2 5-1 5 3 5 5 5-1 5-4 5-3 5-1 5 1 5 3 5 1 5-1 5-1 5 0 5 1 5 0 5-2 5 0 5 3 5 3 5-1 5-3 5 1 5 2 5 1 5 1 5-1 5-1 5 2 5 3 5 2 5 1 5-2 5-1 5 2 5 3 5-1 5 1 5 4 5 3 5-1 5-2 5-1 5 0 5 4 5 5 5 3 5-1 5-3" stroke="#af0000"/>
<path d="M145 384l5-20 5-17 5-16 5-16 5-8 5-11 5-15 5-12 5-15 5-11 5-10 5-11 5-7 5-2 5 3 5 6 5 5 5 4 5 1 5 4 5 9 5 9 5 12 5 5 5 0 5 5 5 3 5 9 5 14 5 6 5 6 5 5 5 1 5 9 5 7 5 5 5 9 5 3 5 4 5 7 5 0 5 2 5 3 5 2 5 8 5 6 5 3 5 0 5-2 5-1 5 3 5 5 5 5 5 0 5-2 5-2 5 0 5 4 5 2 5 2 5 0 5-3 5 3 5 2 5 0 5 1 5-1 5-2 5 3 5 1 5 1 5 0 5-4 5 0 5 1 5 1 5 1 5-1 5-2 5 0 5 1 5 2 5 0 5-3 5-2 5 1 5 3 5 3 5 0 5-2 5-5 5-1 5 3 5 4 5 3 5-1 5-4 5-1 5-1 5 1 5 4 5-1 5 0 5 1 5-1 5 0 5-1 5-3 5 1 5 2 5 3 5 3 5-4 5-5 5-3 5 0 5 5 5 5 5 0 5-4 5-5 5-3 5 2 5 3 5 2 5 0 5-2 5-3 5-1 5 0 5 0 5-1 5 2 5 0 5 2 5-1 5-4 5-2 5-1 5 2 5 5 5 1 5-2 5-3 5-5 5 1 5 5 5 2 5 1 5-2 5-4 5 1 5 2 5 1 5 2 5-2 5 0 5 1 5 2 5 1 5-1 5-1 5 0 5 2 5 3 5 1 5-1 5-1 5-1 5 2 5 3 5 0 5 0 5-2 5 1 5 3 5 2 5 1 5-1 5-4 5 1 5 4 5 3 5 3 5-3 5-4 5 0 5 1 5 4 5 3 5-1 5-1 5-2 5 0 5 1 5 0 5 1 5 0 5 2 5 1 5 0 5-2 5-3 5-1 5 4 5 4 5 3 5-1 5-6 5-3 5 1 5 3 5 7 5 2 5-3 5-3" stroke="#ab0000"/>
<path d="M145 367l5-17 5-20 5-15 5-13 5-15 5-9 5-5 5-14 5-17 5-11 5-9 5-11 5 1 5 11 5 5 5 3 5 6 5 3 5 2 5 7 5 8 5 9 5 11 5 4 5 1 5 7 5 6 5 2 5 9 5 14 5 6 5 2 5 7 5 6 5 1 5 5 5 9 5 6 5 4 5 4 5 2 5 2 5 3 5 1 5 3 5 7 5 2 5 0 5 4 5 3 5-4 5-1 5 4 5 1 5 0 5 3 5 3 5-1 5-1 5-1 5 0 5 1 5 2 5 1 5 3 5 1 5-3 5-3 5 2 5 0 5 0 5 4 5 3 5-3 5-3 5-1 5-1 5 0 5 3 5 3 5 1 5 0 5-3 5-3 5 0 5 2 5 1 5 4 5 2 5-3 5-4 5 0 5 0 5 0 5 4 5 3 5-1 5-3 5-2 5-2 5 1 5 2 5 2 5 1 5 0 5-4 5-3 5 0 5 1 5 0 5 3 5 1 5-3 5-4 5 0 5 0 5-1 5 2 5 2 5-1 5-3 5-2 5-2 5 2 5 1 5 1 5 0 5 0 5-3 5-3 5 2 5 2 5 0 5 2 5 1 5-2 5-3 5 0 5 2 5 1 5 3 5 1 5-1 5-1 5-2 5 0 5 3 5 2 5 0 5 1 5 1 5-2 5-3 5 2 5 3 5 0 5 1 5 2 5-2 5-1 5-1 5 0 5 2 5 1 5 0 5 0 5 1 5-2 5-2 5 2 5 1 5-2 5 1 5 2 5-1 5-1 5 0 5 0 5-1 5 0 5 1 5 1 5 2 5 0 5-1 5 0 5-1 5-1 5 1 5 4 5 2 5-1 5 1 5-1 5-3 5 0 5 4 5 3 5 2 5 2 5-1 5-2 5-1 5 0 5 3 5 6 5 3 5-1 5 0 5-2 5-3 5 1 5 6 5 4 5 2 5 1" stroke="#a80000"/>
<path d="M145 406l5-16 5-12 5-14 5-15 5-15 5-14 5-13 5-13 5-14 5-10 5-10 5-15 5-11 5-2 5-2 5-1 5 5 5 4 5 3 5 9 5 10 5 6 5 2 5 4 5 8 5 11 5 8 5 4 5 5 5 4 5 5 5 13 5 10 5 1 5 1 5 8 5 8 5 7 5 5 5 1 5 0 5 4 5 7 5 6 5 2 5-2 5 2 5 6 5 3 5 0 5 1 5 0 5-1 5 4 5 3 5-3 5-1 5 2 5 4 5 1 5-2 5-3 5 2 5 3 5 2 5 0 5-3 5-3 5 2 5 7 5 0 5-5 5-4 5 1 5 3 5 4 5-1 5-5 5-3 5 1 5 5 5 3 5-4 5-5 5 0 5 3 5 3 5 1 5-2 5-5 5 0 5 5 5 1 5-1 5-2 5-1 5 1 5 2 5 0 5 0 5-1 5-1 5 1 5 2 5-2 5-1 5 2 5 1 5-1 5-1 5 1 5 0 5 0 5 1 5-1 5-1 5-1 5 1 5 2 5 0 5-2 5-1 5 1 5-1 5 2 5 1 5-2 5-3 5 1 5 1 5 1 5 1 5-2 5-2 5-1 5 1 5 3 5 1 5-3 5-3 5 0 5 2 5 1 5 2 5-2 5-5 5-1 5 5 5 2 5-1 5-4 5-2 5 1 5 3 5 2 5-1 5-3 5-3 5 3 5 4 5 0 5-4 5 0 5 0 5 2 5 2 5 0 5-3 5 0 5 3 5 2 5-1 5-2 5 0 5 3 5 3 5-2 5-1 5 0 5 1 5 5 5 2 5-3 5-3 5 2 5 5 5 4 5-1 5-4 5-2 5 4 5 5 5 3 5-2 5-6 5 0 5 7 5 5 5-1 5-3 5-2 5 1 5 5 5 4 5-2 5-4 5 0 5 3 5 4 5 1 5-3 5 0 5 1 5 1 5 3 5 0" stroke="#a40000"/>
<path d="M145 378l5-16 5-21 5-16 5-8 5-9 5-14 5-18 5-16 5-13 5-10 5-9 5-7 5-5 5-3 5-4 5 1 5 8 5 9 5 7 5 9 5 5 5-1 5 4 5 13 5 10 5 2 5 5 5 10 5 7 5 5 5 8 5 5 5 4 5 7 5 11 5 8 5 3 5 1 5 3 5 4 5 6 5 5 5 6 5 4 5 1 5-2 5 1 5 6 5 7 5 3 5 1 5-3 5-4 5 2 5 8 5 4 5-3 5-1 5 2 5 1 5 0 5 2 5 1 5 0 5 2 5 2 5 1 5-3 5-1 5 1 5 1 5 1 5 1 5 1 5 0 5-3 5-4 5 0 5 5 5 5 5-1 5-5 5-4 5-2 5 4 5 6 5 1 5-4 5-4 5 1 5 1 5 0 5 1 5 1 5 0 5-1 5-1 5-1 5 0 5 1 5 1 5-1 5 0 5 0 5 1 5-1 5-3 5-2 5 2 5 5 5 2 5-4 5-5 5-3 5 2 5 4 5 4 5-1 5-6 5-4 5 1 5 2 5 1 5 1 5 1 5-2 5-4 5-1 5 1 5 2 5 2 5-1 5-2 5-2 5 1 5 2 5 0 5-2 5-1 5 2 5 4 5 0 5-5 5-3 5 1 5 4 5 3 5 2 5-3 5-4 5-2 5 3 5 3 5 1 5 2 5 0 5-3 5-4 5 2 5 4 5 4 5 1 5-3 5-3 5-1 5 4 5 3 5 0 5-1 5-1 5 1 5 3 5-1 5-3 5 0 5 4 5 2 5 1 5 0 5-2 5-2 5 0 5 4 5 2 5 1 5 1 5-1 5-4 5-2 5 4 5 6 5 2 5-2 5-5 5-3 5 3 5 5 5 3 5-1 5-3 5-1 5 1 5 2 5 1 5-1 5 1 5 2 5 1 5-2 5 0 5 1 5 0 5 1 5 3 5 1 5-1" stroke="#a00000"/>
<path d="M145 372l5-16 5-16 5-9 5-15 5-16 5-11 5-13 5-14 5-16 5-14 5-5 5-8 5-9 5-1 5-4 5-2 5 9 5 6 5 7 5 9 5 6 5 9 5 1 5 2 5 12 5 8 5 7 5 12 5 2 5 4 5 9 5 7 5 7 5 5 5 6 5 12 5 4 5 2 5 7 5 0 5 3 5 7 5 3 5 5 5 5 5 3 5 2 5-4 5 1 5 9 5 3 5 2 5 1 5-4 5 0 5 3 5 1 5 3 5 2 5 2 5 2 5-4 5-1 5 4 5 1 5 2 5 1 5-2 5 1 5 1 5-1 5-2 5-2 5 2 5 5 5-1 5-1 5-2 5-3 5 0 5 2 5 1 5 2 5 0 5-1 5-3 5-5 5 2 5 5 5 1 5 0 5-2 5-3 5 1 5 0 5 0 5 1 5-1 5 3 5 1 5-4 5-1 5 0 5 0 5 1 5 0 5 1 5 1 5-1 5-2 5-3 5-2 5 5 5 4 5-2 5-2 5-3 5-2 5 1 5 1 5 2 5 1 5-1 5-1 5-3 5-3 5 2 5 4 5-1 5 0 5-2 5 0 5 1 5-2 5 0 5-1 5 0 5 5 5 0 5-4 5-1 5-1 5 0 5 2 5 1 5 2 5 1 5-3 5-1 5-3 5 0 5 7 5 3 5-3 5-2 5-2 5 1 5 2 5 0 5 2 5 1 5 0 5 2 5-3 5-2 5 3 5 2 5 0 5 1 5 1 5 1 5 0 5-2 5 0 5 0 5 3 5 6 5 0 5-4 5-1 5 0 5 2 5 2 5 2 5 3 5-1 5-2 5 0 5-2 5 2 5 6 5 1 5-2 5-1 5 0 5 2 5-1 5-1 5 2 5 1 5 2 5 2 5-3 5-3 5 2 5 1 5 2 5 1 5 1 5 2 5-3 5-3 5 0 5 1 5 5 5 4" stroke="#9d0000"/>
<path d="M145 385l5-15 5-12 5-9 5-15 5-18 5-15 5-17 5-13 5-9 5-14 5-9 5-8 5-13 5-7 5-5 5-2 5 10 5 10 5 6 5 7 5 0 5 2 5 12 5 7 5 8 5 9 5 2 5 7 5 11 5 3 5 7 5 8 5 4 5 11 5 7 5 2 5 7 5 6 5 4 5 7 5 1 5 0 5 6 5 6 5 6 5 4 5-2 5 0 5 3 5 4 5 5 5 2 5 0 5 0 5 1 5 0 5 0 5 2 5 4 5 4 5 2 5-3 5-4 5 0 5 4 5 5 5 3 5-2 5-4 5 0 5 1 5 0 5 1 5-1 5 0 5 2 5-1 5-2 5-1 5-1 5 2 5 2 5-3 5-1 5-1 5 1 5 3 5-1 5-5 5-1 5 0 5 3 5 4 5-2 5-3 5-1 5-2 5 1 5 2 5-1 5 2 5 2 5-2 5-3 5-4 5-1 5 6 5 4 5 0 5-3 5-5 5-1 5 2 5 3 5 0 5 0 5-1 5 0 5 0 5-2 5-1 5 1 5 2 5 2 5-1 5-3 5-1 5 1 5 3 5 0 5-2 5-2 5 0 5 4 5 2 5-2 5-3 5-2 5 1 5 4 5 0 5 0 5 0 5-1 5 0 5-1 5-3 5 2 5 4 5 2 5 1 5-5 5-6 5 2 5 3 5 4 5 2 5-3 5-3 5 1 5-1 5 1 5 1 5 0 5 2 5 2 5-3 5-2 5-1 5 1 5 5 5 1 5-3 5-1 5 0 5 2 5 3 5-1 5-3 5 0 5 2 5 4 5 1 5-1 5-1 5 0 5 1 5 1 5 0 5 1 5 3 5 2 5 0 5-4 5-2 5 2 5 5 5 5 5 0 5-4 5-2 5 0 5 2 5 4 5 1 5 0 5 2 5-1 5-1 5 0 5-1 5 3 5 5 5 1 5-2 5-3" stroke="#990000"/>
<path d="M145 386l5-16 5-16 5-12 5-16 5-13 5-10 5-14 5-13 5-8 5-13 5-8 5 2 5 2 5 4 5 6 5 4 5 4 5 7 5 7 5 10 5 5 5 2 5 7 5 4 5 4 5 13 5 7 5 1 5 4 5 4 5 4 5 11 5 9 5 4 5 2 5-1 5 4 5 8 5 5 5 6 5 2 5-5 5 1 5 6 5 4 5 6 5 4 5-4 5-3 5 1 5 3 5 6 5 2 5-2 5-2 5-3 5 1 5 6 5 2 5-1 5-1 5-3 5-2 5 4 5 3 5 1 5-1 5-3 5-1 5 0 5 1 5 3 5 0 5-2 5-1 5 0 5-2 5 2 5 2 5-1 5-1 5-1 5-1 5 0 5 0 5 1 5 2 5-2 5-2 5 0 5-2 5 1 5 4 5 0 5-2 5-2 5-3 5 1 5 3 5 3 5 0 5-3 5-4 5 0 5 1 5 4 5 3 5-3 5-5 5-2 5 1 5 3 5 4 5 0 5-4 5-5 5-1 5 3 5 5 5 1 5-2 5-5 5-4 5 2 5 5 5 1 5 1 5-3 5-6 5 0 5 3 5 4 5 1 5-2 5-4 5-1 5 0 5 3 5 4 5-1 5-3 5-1 5-2 5 1 5 4 5 1 5-2 5-1 5-1 5 0 5 2 5 1 5 1 5 0 5-2 5 1 5-1 5 0 5 3 5 2 5-1 5 0 5-1 5-1 5 1 5 3 5 2 5 1 5-3 5-1 5 0 5 1 5 4 5 3 5-2 5-3 5-1 5 0 5 4 5 5 5 0 5-3 5-3 5-1 5 4 5 4 5 3 5-1 5-5 5-3 5 3 5 4 5 3 5 2 5-4 5-5 5 0 5 4 5 4 5 3 5-2 5-4 5-3 5 1 5 6 5 3 5-1 5-2 5-2 5-2 5 3 5 5 5 1 5-1 5-2 5-3" stroke="#950000"/>
<path d="M145 409l5-14 5-19 5-12 5-15 5-15 5-14 5-17 5-10 5-16 5-14 5-5 5-14 5-13 5-8 5-4 5 5 5 0 5 5 5 11 5 2 5 7 5 7 5 4 5 6 5 4 5 12 5 12 5 2 5 7 5 5 5 2 5 10 5 8 5 12 5 5 5 0 5 8 5 6 5 4 5 7 5 3 5 3 5 2 5 4 5 10 5 1 5-1 5 3 5 1 5 4 5 3 5 3 5 2 5-4 5 0 5 3 5 0 5 3 5 1 5 1 5 1 5-3 5 2 5 0 5-2 5 2 5 2 5 1 5-2 5-3 5 0 5 0 5-1 5 2 5-2 5-2 5 0 5 1 5 2 5-3 5-4 5 0 5 0 5 4 5 2 5-1 5-3 5-5 5 1 5 5 5 1 5 1 5-1 5-2 5 0 5 0 5 3 5 0 5-3 5 2 5 2 5 1 5 1 5-2 5-1 5-1 5 0 5 4 5 1 5-1 5-1 5-1 5 0 5-2 5 0 5 3 5-1 5 1 5 0 5-3 5-2 5-2 5 2 5 3 5-1 5 0 5-2 5-3 5 1 5 1 5 1 5-1 5-3 5 2 5 1 5 1 5 0 5-3 5-2 5 0 5 3 5 5 5-2 5-3 5-2 5-1 5 2 5 3 5 1 5 0 5-3 5 0 5 2 5-1 5 0 5 0 5 0 5 2 5 0 5 1 5 0 5-3 5 0 5 1 5 1 5 1 5 0 5 2 5-1 5-2 5 2 5-2 5 0 5 3 5 2 5 2 5-3 5-2 5 1 5 0 5 4 5 3 5 0 5-2 5-2 5 2 5 4 5-1 5 1 5 0 5-1 5 3 5 3 5 1 5-1 5-4 5 2 5 3 5 2 5 3 5-1 5-2 5-2 5 0 5 5 5 0 5 0 5 1 5-1 5 1 5-1 5 0 5 1 5-1 5 2 5 2" stroke="#920000"/>
<path d="M145 380l5-10 5-15 5-16 5-11 5-11 5-17 5-21 5-14 5-7 5-7 5-10 5-12 5-12 5-11 5-3 5 7 5 8 5 4 5 6 5 9 5 7 5 0 5 1 5 10 5 13 5 10 5 5 5 4 5 5 5 3 5 8 5 10 5 7 5 4 5 7 5 9 5 4 5-1 5 2 5 9 5 8 5 2 5 1 5 3 5 4 5 3 5 4 5 3 5 1 5-1 5 4 5 6 5 0 5-2 5 2 5 5 5 1 5-2 5-1 5 4 5 5 5 2 5 1 5-2 5-3 5 1 5 4 5 4 5-1 5-2 5 1 5 1 5-3 5-5 5 1 5 5 5 4 5-1 5-4 5-4 5-3 5 1 5 4 5 2 5-1 5-1 5 0 5 0 5-5 5-3 5 4 5 6 5 2 5-2 5-4 5-2 5 0 5 2 5 3 5 1 5-2 5 1 5 2 5-2 5-4 5-1 5 5 5 4 5-1 5-4 5-1 5 0 5 1 5 1 5 0 5-3 5-1 5 2 5 2 5-2 5-4 5-1 5 3 5 0 5-4 5-2 5 2 5 3 5 0 5-2 5-4 5-2 5 0 5 4 5 3 5-1 5-4 5 0 5 1 5-1 5-3 5 2 5 5 5 4 5-2 5-4 5-3 5-1 5 3 5 6 5 2 5-2 5-2 5 1 5 0 5-3 5-1 5 5 5 6 5 1 5-4 5-3 5-2 5 2 5 3 5 3 5 0 5-2 5-1 5 2 5-1 5-3 5 0 5 5 5 3 5-2 5-4 5-1 5 2 5 2 5 1 5 0 5-1 5-1 5 3 5 3 5-1 5-3 5 0 5 5 5 1 5-2 5-1 5 3 5 4 5 0 5-2 5-1 5-1 5 3 5 5 5 3 5-2 5-3 5 0 5 3 5-1 5-1 5 3 5 5 5 2 5-3 5-4 5-2 5 1 5 4" stroke="#8e0000"/>
<path d="M145 403l5-12 5-17 5-13 5-11 5-16 5-12 5-14 5-18 5-11 5-10 5-11 5-7 5-8 5-9 5 0 5 0 5 2 5 11 5 9 5 7 5 7 5 2 5 3 5 9 5 9 5 8 5 6 5 4 5 6 5 10 5 7 5 4 5 3 5 2 5 8 5 11 5 8 5 3 5-1 5-1 5 4 5 8 5 5 5 2 5 1 5 2 5 4 5 4 5 0 5-1 5 0 5 2 5 5 5 4 5 0 5-3 5-1 5 0 5 2 5 5 5 1 5 1 5 0 5-1 5-1 5 1 5 0 5 2 5 1 5-1 5 0 5 1 5-1 5-1 5-2 5-3 5 2 5 3 5 2 5-1 5-5 5-6 5 1 5 3 5 2 5 1 5-4 5-4 5 2 5 1 5-1 5-1 5-5 5 0 5 6 5 2 5-1 5-4 5-6 5 1 5 5 5 2 5 1 5-1 5-4 5 1 5 2 5-1 5 1 5-1 5 0 5 4 5 1 5-1 5-1 5-2 5-1 5 3 5 2 5 1 5 2 5-2 5-2 5-1 5-1 5 2 5 4 5 0 5-1 5-1 5-2 5 1 5 2 5-2 5-2 5 1 5 1 5 4 5 1 5-6 5-4 5-1 5 3 5 6 5 1 5-4 5-4 5-1 5 2 5 3 5-1 5-3 5 0 5 2 5 3 5 1 5-4 5-3 5 0 5 3 5 4 5 3 5-2 5-3 5-1 5 1 5 2 5 2 5 0 5 1 5 1 5 0 5-1 5 0 5 0 5 1 5 1 5 1 5 1 5 2 5 0 5-2 5-3 5 0 5 3 5 4 5 2 5-2 5-3 5-3 5 2 5 3 5 1 5-1 5-2 5 0 5 4 5 2 5-3 5-5 5-1 5 3 5 6 5 4 5-4 5-4 5-2 5 1 5 6 5 2 5-1 5-1 5 1 5 1 5 3 5-1" stroke="#8a0000"/>
<path d="M145 430l5-10 5-17 5-19 5-16 5-15 5-12 5-11 5-13 5-11 5-10 5-16 5-12 5-4 5-1 5 2 5 8 5 6 5 4 5 6 5 4 5 7 5 11 5 6 5 4 5 9 5 5 5 2 5 8 5 9 5 5 5 5 5 5 5 4 5 6 5 5 5 4 5 8 5 4 5-2 5 1 5 3 5 2 5 3 5 6 5 2 5 1 5-1 5-3 5 1 5 3 5 1 5 3 5 3 5-3 5-5 5-1 5-1 5 2 5 4 5 3 5 0 5-2 5-5 5-3 5 3 5 2 5 3 5 3 5 1 5-4 5-3 5-2 5 1 5 4 5 3 5 2 5 0 5-4 5-4 5-1 5 2 5 2 5 3 5 2 5-2 5-3 5-3 5-1 5 1 5 3 5 1 5 1 5 0 5-4 5-2 5 0 5 0 5 1 5 2 5 1 5-1 5-1 5-3 5-1 5 2 5 0 5 1 5 2 5 0 5-2 5-1 5-1 5 0 5 1 5 1 5 1 5 1 5-1 5-2 5 1 5 0 5-1 5 2 5 2 5 0 5 0 5-1 5-2 5 1 5 0 5 0 5 2 5 1 5-1 5-1 5 0 5-1 5-1 5 1 5 0 5 1 5 0 5-2 5 0 5 0 5-2 5 0 5 1 5-1 5-1 5 1 5 0 5-1 5-1 5-1 5 0 5 1 5-1 5 1 5 2 5-1 5-2 5 0 5-1 5 0 5 2 5 3 5 1 5 1 5-3 5-2 5 0 5 1 5 2 5 4 5 3 5-1 5-3 5-2 5-1 5 3 5 3 5 4 5 2 5-1 5-4 5-2 5 0 5 2 5 4 5 5 5 1 5-2 5-4 5-3 5 0 5 4 5 4 5 3 5 2 5-4 5-4 5-1 5 1 5 3 5 5 5 3 5 0 5-2 5-4 5-1 5 3 5 3 5 4 5 4 5-1" stroke="#870000"/>
<path d="M145 396l5-11 5-20 5-13 5-7 5-18 5-18 5-13 5-17 5-7 5-4 5-13 5-12 5-8 5 0 5 5 5 5 5 9 5 6 5 4 5 12 5 4 5 0 5 10 5 6 5 6 5 14 5 5 5 2 5 7 5 4 5 5 5 8 5 7 5 8 5 3 5 6 5 6 5-1 5 4 5 5 5-1 5 8 5 7 5-1 5 2 5 0 5-2 5 5 5 5 5 2 5 0 5-1 5 2 5 0 5-1 5 1 5-2 5 2 5 8 5 0 5-5 5-1 5-3 5 3 5 6 5 0 5-3 5 0 5 1 5 1 5-2 5-2 5-2 5 2 5 7 5 1 5-7 5-3 5-1 5 1 5 5 5 0 5-4 5 0 5 2 5 0 5-2 5-4 5-1 5 3 5 5 5 2 5-6 5-5 5 2 5 1 5 2 5 2 5-4 5 0 5 4 5-2 5-2 5-2 5-1 5 3 5 4 5 1 5-3 5-4 5 0 5 1 5 0 5 3 5-1 5-1 5 2 5-1 5-3 5 0 5-1 5 1 5 4 5 1 5-2 5-2 5-3 5 1 5 0 5 3 5 2 5-2 5 0 5 0 5-3 5 1 5 0 5-1 5 2 5 4 5-1 5-2 5-4 5-1 5 2 5 3 5 3 5-2 5-3 5 1 5 0 5-1 5 0 5-2 5 1 5 7 5 0 5-3 5-4 5-3 5 4 5 5 5 1 5-2 5-3 5 2 5 2 5-2 5-1 5-1 5 1 5 7 5 2 5-5 5-4 5-1 5 3 5 6 5 1 5-3 5-1 5 2 5 2 5-1 5-3 5 1 5 2 5 6 5 3 5-5 5-4 5 1 5 2 5 4 5 2 5-2 5 0 5 2 5 1 5-1 5-2 5 1 5 3 5 3 5 3 5-2 5-4 5 1 5 1 5 1 5 5 5 0 5 0 5 1 5-1 5-1" stroke="#830000"/>
<path d="M145 409l5-14 5-17 5-12 5-10 5-17 5-15 5-12 5-16 5-17 5-9 5-8 5-10 5-8 5-6 5-5 5 2 5 10 5 9 5 6 5 5 5 2 5 5 5 10 5 8 5 6 5 8 5 7 5 3 5 6 5 7 5 4 5 8 5 12 5 4 5-1 5 6 5 5 5 4 5 8 5 6 5-2 5-1 5 6 5 3 5 2 5 5 5 3 5-1 5 1 5 3 5-2 5 1 5 5 5 3 5-1 5-1 5-2 5 0 5 4 5 5 5 0 5-2 5-2 5 0 5 2 5 3 5 1 5-1 5 1 5-1 5-2 5 1 5 0 5 1 5 3 5 1 5-5 5-3 5 1 5 3 5 1 5 2 5-3 5-5 5 0 5 3 5 0 5 0 5 1 5-1 5-3 5 1 5-1 5-1 5 3 5 3 5-2 5-4 5-2 5 0 5 3 5 4 5 0 5-4 5-3 5 0 5 2 5 2 5 0 5-1 5-1 5 0 5-1 5-1 5 2 5 1 5 1 5 1 5-4 5-4 5 2 5 4 5 2 5-1 5-1 5-4 5-1 5 4 5 3 5-2 5 0 5 1 5-2 5-1 5 1 5 1 5 0 5 3 5 0 5-4 5-3 5 2 5 3 5 3 5 0 5-4 5-3 5 1 5 2 5 2 5 0 5-1 5-2 5 0 5 0 5-1 5 1 5 3 5 0 5-1 5-2 5-3 5 0 5 5 5 3 5-2 5-3 5-2 5-1 5 3 5 4 5-1 5-3 5 1 5 0 5-2 5 1 5 2 5 1 5 1 5 1 5-3 5-3 5 2 5 5 5 2 5 0 5-3 5-2 5 0 5 5 5 2 5 0 5 0 5-1 5 0 5 1 5 1 5 1 5 4 5 2 5-1 5-2 5-1 5 2 5 4 5 5 5-1 5-3 5-1 5 2 5 3 5 4 5 2 5-2 5-2" stroke="#800000"/>
</g></g>
<rect x="386.6" y="12" width="148.9" height="149.7" fill="#fff"/>
<g transform="scale(0.5)"><g clip-path="url(#cpIn)" fill="none" stroke-width="1" stroke-linejoin="round">
<path d="M773 99l5 5 5 2 5 1 5 2 5 0 5-4 5-8 5-6 5 1 5 6 5 6 5 2 5-1 5-4 5-6 5-4 5 1 5 5 5 4 5 0 5-1 5 3 5 7 5 7 5 4 5 3 5 6 5 10 5 12 5 12 5 10 5 10 5 9 5 9 5 11 5 11 5 11 5 9 5 9 5 9 5 12 5 13 5 12 5 9 5 12 5 16 5 14 5 0 5 0 5 0 5 0 5 0 5 0 5 0 5 0 5 0 5 0 5 0 5 0 5 0" stroke="#000080"/>
<path d="M773 100l5-2 5-1 5-1 5-4 5-5 5-9 5-11 5-9 5-7 5-4 5 2 5 4 5 4 5 8 5 18 5 8 5-7 5-10 5-2 5 4 5 6 5 6 5 9 5 11 5 10 5 7 5 5 5 8 5 11 5 9 5 7 5 8 5 12 5 14 5 14 5 14 5 17 5 18 5 18 5 19 5 22" stroke="#000080"/>
<path d="M773 104l5 3 5-3 5-7 5-4 5-3 5-3 5 1 5 5 5 4 5 2 5 2 5-1 5-7 5-7 5-1 5 1 5 1 5 5 5 7 5 2 5 1 5 3 5 6 5 5 5 7 5 10 5 11 5 11 5 13 5 11 5 11 5 17 5 22 5 15 5 9 5 11 5 18 5 16 5 11 5 14 5 21 5 6 5 0 5 0 5 0 5 0 5 0 5 0 5 0 5 0 5 0 5 0 5 0 5 0 5 0 5 0 5 0 5 0 5 0 5 0" stroke="#000086"/>
<path d="M773 93l5 1 5 0 5-4 5-4 5-5 5-4 5-3 5-5 5-1 5 6 5 6 5 4 5 3 5-4 5-14 5-1 5 3 5 4 5 3 5 3 5 3 5 4 5 6 5 7 5 7 5 6 5 7 5 10 5 13 5 13 5 12 5 13 5 15 5 14 5 14 5 16 5 19 5 18 5 16 5 14 5 15 5 14" stroke="#00008a"/>
<path d="M773 106l5 4 5-7 5-7 5-2 5-3 5-3 5 5 5 9 5 3 5-2 5-2 5-9 5-8 5 3 5 9 5 0 5-6 5 0 5 1 5 3 5 8 5 6 5-4 5-2 5 7 5 10 5 7 5 9 5 10 5 10 5 10 5 13 5 12 5 7 5 8 5 15 5 21 5 15 5 5 5 12 5 20 5 18 5 14 5 15 5 10 5 0 5 0 5 0 5 0 5 0 5 0 5 0 5 0 5 0 5 0 5 0 5 0 5 0 5 0 5 0" stroke="#00008c"/>
<path d="M773 112l5-4 5-7 5-4 5 3 5 4 5 0 5-2 5-2 5-3 5-3 5 0 5-2 5-6 5-3 5 5 5 6 5 0 5-3 5-2 5 0 5 5 5 8 5 7 5 2 5 3 5 9 5 14 5 12 5 7 5 10 5 15 5 16 5 9 5 6 5 10 5 18 5 19 5 11 5 3 5 9 5 20 5 20 5 10 5 6 5 12 5 0 5 0 5 0 5 0 5 0 5 0 5 0 5 0 5 0 5 0 5 0 5 0 5 0 5 0 5 0" stroke="#000092"/>
<path d="M773 92l5 3 5 1 5-1 5 0 5 2 5 0 5-5 5-7 5-3 5 0 5 0 5-1 5 0 5 3 5 2 5-4 5-4 5 1 5 4 5 4 5-1 5 1 5 7 5 9 5 6 5 5 5 10 5 11 5 7 5 3 5 1 5 6 5 7 5 3 5-1 5 2 5 7 5 8 5 5 5 4 5 8 5 12 5 9 5 7 5 8 5 13 5 14 5 11 5 12 5 14 5 18 5 19" stroke="#000094"/>
<path d="M773 83l5 4 5 4 5 2 5 2 5 1 5-4 5-8 5-5 5 0 5 3 5 1 5-1 5-1 5-2 5-1 5 5 5 7 5 1 5-4 5-4 5 2 5 6 5 3 5 4 5 8 5 11 5 10 5 7 5 8 5 7 5 7 5 10 5 12 5 10 5 8 5 8 5 10 5 12 5 10 5 10 5 13 5 16 5 11 5 7 5 11 5 18 5 18 5 10 5 0 5 0 5 0 5 0 5 0 5 0 5 0 5 0 5 0 5 0 5 0 5 0" stroke="#000098"/>
<path d="M773 91l5 2 5 9 5 6 5-3 5-8 5-5 5 0 5 0 5 0 5 2 5 4 5 1 5-2 5-2 5 3 5 3 5-1 5-4 5 1 5 6 5 4 5-2 5-3 5 4 5 10 5 10 5 5 5 5 5 8 5 9 5 7 5 9 5 11 5 10 5 10 5 8 5 11 5 13 5 12 5 9 5 8 5 11 5 11 5 11 5 10 5 12 5 13 5 11 5 7 5 3 5 0 5 0 5 0 5 0 5 0 5 0 5 0 5 0 5 0 5 0" stroke="#00009e"/>
<path d="M773 97l5-2 5-1 5 0 5 0 5-1 5-2 5-2 5-2 5-3 5-2 5-2 5-1 5-1 5-3 5-2 5-2 5 0 5 0 5-1 5-2 5 3 5 9 5 11 5 8 5 5 5 4 5 6 5 9 5 10 5 8 5 5 5 5 5 6 5 6 5 6 5 4 5 4 5 3 5 4 5 3 5 4 5 6 5 7 5 7 5 6 5 7 5 12 5 15 5 16 5 13 5 9 5 10 5 13 5 14 5 12" stroke="#00009e"/>
<path d="M773 103l5 1 5-8 5 0 5 1 5-4 5 1 5 2 5-5 5-1 5 3 5-2 5-6 5-1 5 2 5 1 5 1 5-2 5-4 5 1 5 3 5 4 5 5 5 1 5 3 5 8 5 6 5 4 5 9 5 9 5 8 5 11 5 10 5 6 5 9 5 13 5 11 5 11 5 12 5 10 5 13 5 21 5 14 5 6 5 16 5 23 5 13 5 8 5 0 5 0 5 0 5 0 5 0 5 0 5 0 5 0 5 0 5 0 5 0 5 0 5 0" stroke="#0000a4"/>
<path d="M773 106l5-6 5-2 5 4 5 3 5 0 5 3 5 4 5-5 5-9 5-3 5 2 5-1 5 1 5 5 5 1 5-6 5-5 5 1 5 0 5-1 5 4 5 7 5 3 5 2 5 6 5 8 5 5 5 5 5 11 5 12 5 10 5 10 5 12 5 10 5 12 5 17 5 17 5 14 5 11 5 14 5 16 5 15 5 16 5 18 5 3 5 0 5 0 5 0 5 0 5 0 5 0 5 0 5 0 5 0 5 0 5 0 5 0 5 0 5 0 5 0" stroke="#0000aa"/>
<path d="M773 104l5-10 5-4 5 5 5 5 5 1 5 1 5 3 5-1 5-8 5-7 5 0 5 6 5 1 5-4 5 0 5 5 5 4 5-3 5-4 5-2 5 2 5 3 5 5 5 8 5 9 5 6 5 2 5 3 5 7 5 9 5 9 5 6 5 7 5 7 5 8 5 9 5 9 5 8 5 8 5 8 5 9 5 11 5 11 5 12 5 11 5 9 5 11 5 15 5 18 5 16 5 2 5 0 5 0 5 0 5 0 5 0 5 0 5 0 5 0 5 0" stroke="#0000b0"/>
<path d="M773 112l5 5 5 2 5-5 5-6 5-2 5 1 5-3 5-2 5 0 5 2 5-1 5-1 5 0 5 0 5-3 5 0 5 5 5 2 5-3 5-1 5 7 5 7 5 2 5 3 5 10 5 11 5 5 5 1 5 10 5 17 5 15 5 5 5 6 5 13 5 17 5 17 5 13 5 9 5 10 5 13 5 18 5 18 5 11 5 8 5 2 5 0 5 0 5 0 5 0 5 0 5 0 5 0 5 0 5 0 5 0 5 0 5 0 5 0 5 0 5 0" stroke="#0000b6"/>
<path d="M773 91l5 0 5-3 5-4 5 3 5 5 5 0 5 0 5-1 5-5 5-2 5 3 5-4 5-7 5 2 5 7 5 4 5 2 5-2 5-5 5 1 5 8 5 3 5-1 5 5 5 8 5 9 5 8 5 7 5 6 5 11 5 15 5 10 5 8 5 12 5 14 5 12 5 12 5 13 5 12 5 16 5 17 5 11 5 6 5 9 5 15 5 18 5 1 5 0 5 0 5 0 5 0 5 0 5 0 5 0 5 0 5 0 5 0 5 0 5 0 5 0" stroke="#0000bc"/>
<path d="M773 102l5 2 5 4 5-1 5-5 5-3 5 0 5-2 5-3 5 3 5 3 5-1 5 0 5 3 5-2 5-5 5-1 5 3 5 1 5 0 5 3 5 1 5-1 5 3 5 8 5 6 5 5 5 7 5 6 5 3 5 5 5 9 5 7 5 5 5 7 5 8 5 7 5 7 5 9 5 7 5 5 5 8 5 13 5 11 5 7 5 6 5 9 5 14 5 15 5 11 5 5 5 4 5 14 5 17 5 1 5 0 5 0 5 0 5 0 5 0 5 0" stroke="#0000c2"/>
<path d="M773 96l5 1 5 3 5 1 5-6 5-3 5 1 5-5 5-3 5 5 5 2 5-4 5 1 5 2 5-7 5-4 5 3 5 2 5 0 5 5 5 4 5 1 5 5 5 3 5 1 5 6 5 11 5 4 5 4 5 10 5 9 5 3 5 5 5 9 5 7 5 5 5 7 5 6 5 7 5 8 5 6 5 5 5 10 5 10 5 5 5 6 5 13 5 13 5 9 5 7 5 7 5 10 5 15 5 14 5 5 5 5 5 5 5 0 5 0 5 0 5 0" stroke="#0000c8"/>
<path d="M773 109l5-8 5-3 5 4 5 4 5 1 5-1 5-1 5 0 5-1 5-2 5-2 5 0 5 1 5-1 5-4 5-1 5 4 5 6 5 2 5-1 5-1 5 1 5 4 5 5 5 7 5 7 5 8 5 7 5 5 5 7 5 9 5 10 5 6 5 3 5 7 5 15 5 17 5 10 5 1 5-1 5 7 5 15 5 14 5 9 5 4 5 8 5 11 5 11 5 6 5 4 5 7 5 14 5 7 5 0 5 0 5 0 5 0 5 0 5 0 5 0" stroke="#0000ce"/>
<path d="M773 97l5 2 5 3 5 0 5 0 5 2 5 1 5-3 5-5 5-2 5 1 5 2 5 0 5-4 5-3 5 3 5 2 5-5 5-3 5 6 5 4 5-4 5-1 5 8 5 8 5 2 5 4 5 8 5 7 5 4 5 5 5 8 5 6 5 7 5 7 5 8 5 5 5 6 5 8 5 7 5 4 5 5 5 9 5 7 5 4 5 6 5 10 5 9 5 5 5 4 5 7 5 10 5 9 5 9 5 7 5 7 5 5 5 4 5 6 5 12 5 10" stroke="#0000d4"/>
<path d="M773 99l5 6 5 1 5-4 5-3 5-1 5 0 5 0 5 1 5 1 5-2 5-3 5-1 5-2 5-5 5-2 5 5 5 5 5-2 5-7 5 1 5 8 5 4 5-2 5 3 5 11 5 8 5 2 5 3 5 8 5 10 5 5 5 4 5 7 5 8 5 6 5 6 5 6 5 7 5 5 5 5 5 7 5 7 5 3 5 5 5 9 5 9 5 5 5 3 5 7 5 10 5 9 5 6 5 7 5 10 5 6 5 4 5 7 5 11 5 11 5 7" stroke="#0000da"/>
<path d="M773 102l5-7 5-2 5 5 5-1 5-8 5-2 5 5 5 3 5-1 5-1 5 0 5 1 5 1 5-1 5-5 5-3 5 6 5 6 5-3 5-2 5 7 5 7 5 1 5-1 5 4 5 6 5 6 5 6 5 4 5 5 5 8 5 10 5 4 5 3 5 8 5 10 5 6 5 3 5 6 5 6 5 7 5 6 5 5 5 4 5 6 5 9 5 8 5 6 5 9 5 10 5 7 5 5 5 10 5 11 5 9 5 10 5 12 5 12 5 2 5 0" stroke="#0000e0"/>
<path d="M773 110l5-4 5 1 5 4 5 1 5-2 5 0 5 1 5 0 5 0 5-1 5-2 5-3 5-2 5 4 5 4 5-2 5-6 5-1 5 6 5 6 5 0 5-3 5 2 5 6 5 7 5 7 5 4 5 2 5 3 5 6 5 9 5 6 5 3 5 3 5 7 5 9 5 6 5 3 5 4 5 5 5 7 5 6 5 6 5 6 5 4 5 4 5 7 5 8 5 7 5 5 5 6 5 8 5 6 5 5 5 6 5 9 5 10 5 7 5 3 5 3" stroke="#0000e6"/>
<path d="M773 101l5-2 5 5 5 2 5-8 5-3 5 5 5-1 5-6 5 1 5 3 5-3 5 0 5 3 5-4 5-6 5 5 5 3 5-7 5-1 5 11 5 4 5-2 5 6 5 9 5 2 5 3 5 9 5 5 5 2 5 9 5 8 5 2 5 4 5 10 5 7 5 1 5 6 5 9 5 4 5 2 5 6 5 6 5 3 5 6 5 7 5 3 5 4 5 9 5 7 5 3 5 8 5 12 5 9 5 4 5 5 5 8 5 12 5 15 5 11 5 5" stroke="#0000ec"/>
<path d="M773 99l5 4 5 1 5-3 5-3 5 3 5 5 5-2 5-4 5-2 5 1 5-3 5-3 5 0 5 1 5 0 5 0 5-2 5-2 5-2 5 3 5 5 5 2 5 0 5 5 5 10 5 8 5 3 5 3 5 6 5 7 5 8 5 7 5 5 5 5 5 6 5 8 5 6 5 4 5 4 5 6 5 6 5 4 5 4 5 6 5 6 5 4 5 5 5 4 5 5 5 7 5 9 5 7 5 3 5 5 5 11 5 13 5 6 5 3 5 10 5 13" stroke="#0000f2"/>
<path d="M773 102l5 1 5-3 5 2 5 3 5-6 5-2 5 6 5 4 5-4 5-5 5 1 5 2 5 1 5 1 5-1 5-2 5 2 5 0 5-1 5 4 5 7 5 0 5-3 5 6 5 9 5 4 5 3 5 5 5 5 5 4 5 6 5 6 5 6 5 5 5 5 5 3 5 6 5 9 5 5 5 2 5 4 5 7 5 5 5 4 5 7 5 6 5 4 5 5 5 7 5 8 5 8 5 6 5 3 5 5 5 10 5 11 5 6 5 6 5 7 5 4" stroke="#0000f8"/>
<path d="M773 110l5-2 5 3 5 1 5-5 5-3 5 4 5 1 5-5 5-5 5 2 5 2 5-3 5-2 5 1 5 3 5 0 5 0 5 1 5 0 5 1 5 5 5 6 5 3 5 1 5 7 5 9 5 4 5 0 5 6 5 9 5 5 5 2 5 4 5 8 5 8 5 3 5 4 5 6 5 7 5 5 5 5 5 6 5 7 5 7 5 6 5 6 5 4 5 6 5 11 5 10 5 7 5 4 5 6 5 8 5 5 5 6 5 12 5 13 5 7 5 1" stroke="#0000fe"/>
<path d="M773 104l5-1 5-3 5 0 5 1 5-1 5-2 5 1 5 2 5-2 5-4 5 0 5 3 5 1 5-2 5 0 5 5 5 2 5-3 5-1 5 4 5 6 5 2 5 2 5 4 5 7 5 4 5 3 5 3 5 6 5 6 5 5 5 3 5 6 5 6 5 6 5 5 5 4 5 6 5 6 5 5 5 4 5 4 5 7 5 6 5 5 5 4 5 5 5 8 5 6 5 4 5 5 5 8 5 8 5 5 5 4 5 7 5 8 5 7 5 7 5 8" stroke="#0005ff"/>
<path d="M773 109l5 7 5-3 5-7 5 2 5 6 5-1 5-5 5 0 5 0 5-2 5-1 5 1 5-3 5-4 5 2 5 2 5-2 5-3 5 1 5 2 5 3 5 4 5 2 5 1 5 7 5 9 5 3 5 1 5 7 5 11 5 5 5 2 5 6 5 8 5 6 5 5 5 7 5 5 5 4 5 7 5 7 5 3 5 3 5 7 5 9 5 5 5 3 5 4 5 6 5 9 5 8 5 4 5 3 5 8 5 10 5 4 5 3 5 9 5 10 5 2" stroke="#000bff"/>
<path d="M773 99l5 2 5-4 5-4 5 4 5 4 5-3 5-4 5 2 5 1 5-3 5-1 5 2 5-1 5-6 5 0 5 5 5 1 5-2 5 0 5 3 5 2 5 2 5 6 5 6 5 3 5 3 5 7 5 8 5 5 5 4 5 6 5 6 5 5 5 7 5 7 5 6 5 5 5 5 5 7 5 6 5 6 5 6 5 7 5 6 5 6 5 6 5 6 5 6 5 7 5 9 5 9 5 7 5 6 5 5 5 7 5 9 5 10 5 9 5 7 5 5" stroke="#0011ff"/>
<path d="M773 100l5 3 5-2 5-2 5 3 5 1 5-4 5-1 5 3 5-1 5-5 5 0 5 4 5-2 5-5 5 1 5 4 5-2 5-3 5 3 5 4 5 1 5 1 5 6 5 7 5 2 5 3 5 8 5 8 5 2 5 4 5 9 5 7 5 2 5 6 5 10 5 6 5 3 5 7 5 10 5 5 5 4 5 8 5 8 5 6 5 8 5 8 5 3 5 7 5 14 5 9 5 0 5 6 5 18 5 12 5-2 5 4 5 17 5 14 5 0 5 0" stroke="#0017ff"/>
<path d="M773 103l5 0 5-4 5-3 5 2 5 6 5 4 5-5 5-8 5-2 5 6 5 5 5-3 5-7 5-3 5 3 5 3 5 0 5-2 5 0 5 0 5 2 5 4 5 5 5 5 5 3 5 3 5 5 5 8 5 6 5 4 5 4 5 7 5 7 5 6 5 4 5 6 5 8 5 6 5 4 5 3 5 7 5 9 5 6 5 2 5 3 5 7 5 10 5 8 5 3 5 2 5 6 5 11 5 11 5 8 5 3 5 3 5 5 5 11 5 12 5 7" stroke="#001dff"/>
<path d="M773 107l5-1 5-2 5 4 5 4 5-3 5-5 5 3 5 4 5-2 5-4 5 1 5-1 5-3 5 0 5 4 5-2 5-6 5 1 5 6 5 1 5-1 5 3 5 4 5 2 5 4 5 8 5 6 5 1 5 4 5 9 5 7 5 3 5 5 5 7 5 5 5 5 5 7 5 7 5 3 5 2 5 7 5 7 5 4 5 3 5 6 5 5 5 4 5 6 5 7 5 5 5 3 5 7 5 10 5 6 5 4 5 5 5 8 5 6 5 6 5 9" stroke="#0023ff"/>
<path d="M773 110l5 2 5 6 5 1 5-5 5-3 5 1 5 2 5-1 5-1 5-1 5-3 5-5 5-1 5 4 5 2 5-5 5-4 5 2 5 3 5 1 5 2 5 5 5 4 5 2 5 5 5 8 5 8 5 4 5 3 5 7 5 8 5 6 5 5 5 6 5 6 5 5 5 4 5 5 5 6 5 4 5 2 5 4 5 6 5 4 5 3 5 4 5 6 5 4 5 3 5 5 5 6 5 6 5 6 5 6 5 8 5 6 5 5 5 7 5 8 5 7" stroke="#0029ff"/>
<path d="M773 103l5 3 5-2 5-4 5 0 5 4 5 1 5-2 5-3 5 1 5 0 5-4 5-1 5 3 5 2 5-6 5-5 5 3 5 8 5 1 5-4 5-1 5 8 5 8 5 4 5 3 5 5 5 6 5 6 5 6 5 7 5 5 5 5 5 5 5 6 5 6 5 6 5 5 5 4 5 3 5 4 5 6 5 7 5 4 5 1 5 5 5 8 5 7 5 2 5 3 5 9 5 10 5 5 5 2 5 7 5 12 5 7 5 4 5 7 5 10 5 5" stroke="#0030ff"/>
<path d="M773 108l5-3 5 3 5 3 5-1 5-3 5-1 5 0 5 3 5-1 5-4 5 0 5 2 5-4 5-3 5 6 5 2 5-7 5-2 5 8 5 2 5-2 5 3 5 7 5 2 5 3 5 7 5 6 5 5 5 4 5 5 5 6 5 8 5 5 5 4 5 7 5 8 5 5 5 3 5 8 5 7 5 2 5 4 5 8 5 7 5 2 5 5 5 6 5 4 5 4 5 7 5 8 5 6 5 4 5 2 5 6 5 10 5 9 5 4 5 3 5 4" stroke="#0036ff"/>
<path d="M773 103l5 6 5 2 5-5 5-6 5 0 5 6 5 3 5-4 5-5 5-1 5 2 5 1 5-2 5-2 5 1 5 1 5-1 5-1 5 1 5 4 5 3 5 2 5 3 5 4 5 6 5 6 5 5 5 6 5 5 5 4 5 5 5 6 5 8 5 7 5 3 5 3 5 5 5 9 5 6 5 3 5 1 5 4 5 7 5 6 5 4 5 3 5 4 5 6 5 5 5 5 5 6 5 7 5 7 5 6 5 5 5 6 5 7 5 7 5 6 5 6" stroke="#003cff"/>
<path d="M773 97l5-3 5 6 5 8 5 1 5-6 5-7 5 2 5 7 5 4 5-5 5-10 5-3 5 5 5 6 5 0 5-8 5-5 5 3 5 9 5 5 5-1 5-2 5 4 5 10 5 10 5 5 5 1 5 3 5 8 5 9 5 6 5 3 5 3 5 5 5 7 5 7 5 4 5 3 5 2 5 5 5 6 5 6 5 3 5 3 5 4 5 5 5 6 5 5 5 5 5 3 5 5 5 7 5 7 5 7 5 4 5 4 5 5 5 6 5 7 5 6" stroke="#0042ff"/>
<path d="M773 106l5-2 5 1 5-1 5-3 5 3 5 5 5-5 5-8 5 1 5 8 5-1 5-9 5-3 5 4 5 1 5-3 5 0 5 1 5-1 5 0 5 5 5 5 5 2 5 4 5 6 5 4 5 5 5 8 5 8 5 2 5 3 5 9 5 10 5 4 5 3 5 6 5 8 5 6 5 4 5 6 5 5 5 3 5 5 5 6 5 5 5 4 5 6 5 4 5 3 5 4 5 10 5 8 5 2 5 3 5 9 5 9 5 3 5 3 5 8 5 8" stroke="#0048ff"/>
<path d="M773 104l5-1 5-3 5 1 5 6 5-3 5-6 5 5 5 5 5-6 5-4 5 4 5 2 5-3 5-1 5-1 5 2 5 3 5-4 5-1 5 6 5 3 5 0 5 4 5 7 5 3 5 4 5 7 5 3 5 5 5 7 5 5 5 4 5 6 5 6 5 5 5 6 5 4 5 4 5 7 5 5 5 2 5 4 5 8 5 5 5 2 5 6 5 7 5 4 5 3 5 5 5 8 5 10 5 8 5 5 5 7 5 6 5 2 5 4 5 12 5 11" stroke="#004eff"/>
<path d="M773 101l5 1 5 2 5 1 5-2 5-2 5-2 5 0 5 0 5 0 5-1 5-2 5-3 5-2 5 1 5 3 5 1 5-2 5-3 5 1 5 6 5 6 5 3 5 0 5 3 5 8 5 9 5 5 5 2 5 4 5 7 5 8 5 5 5 5 5 5 5 6 5 6 5 5 5 4 5 5 5 7 5 5 5 3 5 4 5 6 5 7 5 6 5 3 5 2 5 6 5 9 5 9 5 6 5 4 5 5 5 7 5 5 5 5 5 7 5 9 5 9" stroke="#0054ff"/>
<path d="M773 99l5 0 5 0 5 1 5 4 5 3 5-3 5-6 5 0 5 6 5 3 5-3 5-3 5-1 5-1 5 1 5 4 5 4 5-3 5-5 5 2 5 9 5 6 5 2 5 2 5 4 5 4 5 6 5 8 5 8 5 2 5 2 5 5 5 9 5 7 5 4 5 5 5 4 5 4 5 5 5 7 5 7 5 2 5 1 5 3 5 7 5 7 5 4 5 3 5 3 5 4 5 6 5 9 5 7 5 3 5 4 5 7 5 8 5 4 5 4 5 6" stroke="#005aff"/>
<path d="M773 102l5 5 5-2 5-6 5-5 5 0 5 6 5 5 5-1 5-6 5-6 5 0 5 5 5 4 5-1 5-5 5-4 5 0 5 5 5 5 5 1 5-1 5 0 5 3 5 8 5 7 5 6 5 2 5 3 5 6 5 8 5 8 5 5 5 5 5 5 5 6 5 7 5 7 5 5 5 4 5 4 5 5 5 6 5 5 5 3 5 3 5 4 5 5 5 5 5 5 5 3 5 4 5 5 5 7 5 7 5 6 5 3 5 4 5 5 5 7 5 7" stroke="#0060ff"/>
<path d="M773 110l5-5 5 3 5 7 5-2 5-6 5 4 5 5 5-2 5-3 5 0 5 1 5 2 5-1 5-6 5 1 5 7 5-2 5-6 5 3 5 5 5 1 5 1 5 3 5 5 5 5 5 5 5 1 5 5 5 9 5 4 5 2 5 6 5 7 5 5 5 4 5 6 5 5 5 5 5 5 5 3 5 4 5 6 5 4 5 3 5 4 5 6 5 3 5 4 5 6 5 5 5 5 5 7 5 6 5 4 5 7 5 6 5 5 5 6 5 6 5 4" stroke="#0066ff"/>
<path d="M773 101l5 3 5-1 5-6 5 1 5 7 5 0 5-4 5 0 5-1 5-2 5 1 5 0 5-4 5 1 5 0 5-5 5 0 5 6 5 1 5-3 5 2 5 3 5 7 5 9 5 3 5 0 5 7 5 9 5 6 5 5 5 4 5 4 5 7 5 8 5 4 5 4 5 6 5 5 5 4 5 5 5 6 5 4 5 4 5 4 5 2 5 6 5 7 5 3 5 2 5 6 5 7 5 6 5 7 5 4 5 4 5 7 5 8 5 3 5 3 5 6" stroke="#006cff"/>
<path d="M773 102l5-2 5 3 5 5 5 2 5-3 5-5 5-1 5 4 5 3 5-2 5-5 5-2 5 1 5 2 5 0 5-3 5 0 5 2 5 2 5-1 5 1 5 6 5 8 5 5 5 1 5 3 5 6 5 9 5 8 5 3 5 2 5 5 5 7 5 8 5 5 5 3 5 4 5 5 5 5 5 5 5 4 5 4 5 4 5 3 5 3 5 5 5 6 5 5 5 3 5 3 5 6 5 8 5 8 5 5 5 3 5 6 5 6 5 7 5 4 5 4" stroke="#0072ff"/>
<path d="M773 115l5 4 5-3 5-5 5 0 5 4 5 0 5-2 5-2 5-1 5-1 5 1 5 1 5-2 5-4 5 1 5 3 5 0 5-2 5 1 5 4 5 2 5 2 5 5 5 8 5 4 5 2 5 5 5 8 5 7 5 4 5 4 5 6 5 6 5 6 5 6 5 4 5 3 5 5 5 7 5 5 5 1 5 3 5 6 5 5 5 3 5 3 5 4 5 4 5 3 5 5 5 6 5 5 5 4 5 6 5 6 5 5 5 4 5 6 5 5 5 4" stroke="#0078ff"/>
<path d="M773 106l5 3 5-1 5-6 5 2 5 5 5-5 5-6 5 6 5 2 5-8 5-2 5 6 5-2 5-6 5 2 5 2 5-1 5 0 5 1 5 1 5 5 5 4 5 1 5 7 5 8 5 2 5 4 5 10 5 6 5 2 5 7 5 8 5 5 5 5 5 7 5 6 5 4 5 6 5 5 5 3 5 5 5 5 5 2 5 4 5 6 5 3 5 2 5 6 5 3 5 4 5 6 5 5 5 4 5 7 5 6 5 3 5 4 5 8 5 3 5 2" stroke="#007eff"/>
<path d="M773 108l5 4 5-2 5-4 5 0 5 4 5 2 5-3 5-3 5 1 5 0 5-3 5-1 5 0 5 1 5-2 5-3 5 0 5 3 5 1 5 0 5 3 5 3 5 4 5 4 5 7 5 7 5 4 5 4 5 5 5 8 5 6 5 5 5 5 5 6 5 6 5 4 5 4 5 6 5 6 5 3 5 2 5 3 5 7 5 5 5 2 5 2 5 4 5 5 5 4 5 4 5 6 5 6 5 5 5 4 5 6 5 7 5 6 5 4 5 4 5 5" stroke="#0084ff"/>
<path d="M773 108l5-3 5-3 5 1 5 0 5 0 5 1 5-3 5-4 5 2 5 3 5-4 5-3 5 0 5 0 5 1 5 3 5-3 5-2 5 4 5 5 5 2 5 3 5 4 5 4 5 7 5 8 5 2 5 3 5 8 5 7 5 4 5 5 5 5 5 5 5 7 5 7 5 3 5 3 5 6 5 5 5 4 5 5 5 2 5 3 5 6 5 5 5 2 5 2 5 5 5 5 5 6 5 5 5 4 5 4 5 8 5 6 5 3 5 4 5 5 5 5" stroke="#008aff"/>
<path d="M773 100l5 0 5 0 5 1 5 2 5 0 5-2 5-1 5 3 5 3 5-2 5-4 5 0 5 2 5 1 5-3 5-1 5 1 5 0 5 0 5 2 5 3 5 2 5 2 5 5 5 7 5 5 5 2 5 4 5 8 5 7 5 5 5 5 5 6 5 6 5 6 5 6 5 6 5 5 5 3 5 5 5 6 5 5 5 3 5 2 5 4 5 5 5 4 5 2 5 4 5 4 5 5 5 5 5 6 5 6 5 4 5 4 5 6 5 7 5 4 5 3" stroke="#0090ff"/>
<path d="M773 102l5 3 5 2 5-2 5-3 5 2 5 3 5-1 5-3 5 1 5 2 5-3 5-3 5 2 5 3 5-2 5-4 5 0 5 3 5 1 5 1 5 2 5 3 5 3 5 5 5 7 5 4 5 3 5 5 5 7 5 6 5 4 5 6 5 7 5 5 5 4 5 6 5 7 5 6 5 2 5 4 5 5 5 6 5 3 5 4 5 4 5 3 5 3 5 5 5 5 5 3 5 4 5 7 5 6 5 4 5 5 5 6 5 5 5 3 5 4 5 6" stroke="#0096ff"/>
<path d="M773 105l5 1 5 2 5-3 5-4 5 3 5 4 5-4 5-4 5 1 5 1 5-1 5 0 5-1 5-4 5 0 5 5 5 0 5-4 5 1 5 4 5 3 5 2 5 6 5 5 5 3 5 7 5 7 5 4 5 5 5 7 5 6 5 4 5 7 5 7 5 5 5 4 5 6 5 6 5 4 5 4 5 4 5 3 5 3 5 6 5 4 5 1 5 2 5 6 5 5 5 3 5 4 5 5 5 5 5 6 5 7 5 3 5 3 5 6 5 6 5 3" stroke="#009cff"/>
<path d="M773 107l5 1 5 0 5-1 5 2 5 1 5-3 5-1 5 1 5 0 5-2 5 0 5 0 5-4 5-2 5 3 5 2 5-3 5-2 5 2 5 2 5 4 5 5 5 2 5 2 5 6 5 9 5 6 5 2 5 4 5 8 5 7 5 5 5 6 5 5 5 5 5 6 5 7 5 4 5 3 5 4 5 5 5 4 5 4 5 4 5 3 5 2 5 4 5 4 5 4 5 3 5 5 5 5 5 5 5 6 5 6 5 4 5 3 5 5 5 6 5 5" stroke="#00a2ff"/>
<path d="M773 108l5 0 5-5 5-3 5 4 5 4 5-2 5-4 5 0 5 0 5-1 5-1 5 2 5-2 5-3 5 0 5 2 5-1 5-1 5 4 5 4 5 0 5 2 5 6 5 8 5 5 5 5 5 5 5 5 5 4 5 8 5 8 5 5 5 2 5 6 5 7 5 6 5 4 5 4 5 4 5 3 5 4 5 5 5 4 5 2 5 3 5 4 5 3 5 1 5 5 5 6 5 5 5 3 5 5 5 6 5 6 5 5 5 6 5 5 5 2 5 4" stroke="#00a8ff"/>
<path d="M773 102l5 3 5 0 5-3 5 1 5 1 5 0 5 0 5-1 5-4 5 0 5 5 5-2 5-6 5 0 5 3 5 0 5 0 5-1 5-2 5 4 5 7 5 1 5 2 5 7 5 6 5 3 5 6 5 7 5 5 5 5 5 6 5 5 5 7 5 7 5 4 5 3 5 8 5 6 5 3 5 3 5 4 5 5 5 5 5 4 5 1 5 2 5 6 5 3 5 2 5 5 5 5 5 4 5 6 5 6 5 5 5 4 5 5 5 4 5 4 5 7" stroke="#00aeff"/>
<path d="M773 99l5 3 5 1 5-1 5-2 5 0 5 1 5 1 5-1 5-1 5-1 5 0 5 0 5-1 5-1 5-1 5 0 5 0 5-1 5 1 5 2 5 4 5 3 5 3 5 4 5 6 5 6 5 6 5 4 5 5 5 6 5 7 5 6 5 5 5 6 5 5 5 6 5 5 5 6 5 4 5 5 5 4 5 3 5 4 5 4 5 4 5 3 5 2 5 3 5 4 5 6 5 5 5 4 5 4 5 5 5 7 5 6 5 4 5 3 5 3 5 5" stroke="#00b4ff"/>
<path d="M773 100l5-2 5 3 5 1 5-4 5 0 5 6 5-1 5-5 5 2 5 4 5-2 5-3 5 2 5 1 5-2 5 1 5 1 5-2 5 1 5 3 5 2 5 2 5 4 5 5 5 5 5 4 5 5 5 4 5 7 5 7 5 3 5 5 5 9 5 6 5 4 5 6 5 7 5 4 5 4 5 6 5 4 5 2 5 5 5 5 5 2 5 2 5 5 5 4 5 1 5 3 5 6 5 5 5 4 5 5 5 5 5 4 5 5 5 5 5 3 5 5" stroke="#00baff"/>
<path d="M773 106l5 2 5 1 5-3 5-1 5 4 5 3 5-2 5-4 5 0 5 3 5 2 5-4 5-2 5 0 5 2 5-1 5-2 5 2 5 2 5 0 5 0 5 4 5 7 5 5 5 2 5 3 5 6 5 7 5 5 5 5 5 5 5 5 5 6 5 5 5 6 5 5 5 5 5 4 5 5 5 4 5 5 5 4 5 3 5 4 5 3 5 3 5 4 5 4 5 3 5 3 5 5 5 6 5 6 5 5 5 4 5 5 5 6 5 4 5 4 5 5" stroke="#00c0ff"/>
<path d="M773 106l5 0 5 4 5 0 5-5 5 2 5 5 5-3 5-4 5 4 5 2 5-4 5-1 5 4 5-1 5-4 5 2 5 2 5 0 5 0 5 2 5 3 5 4 5 5 5 3 5 4 5 8 5 4 5 3 5 6 5 8 5 3 5 4 5 7 5 6 5 3 5 5 5 7 5 4 5 2 5 5 5 5 5 2 5 3 5 4 5 4 5 2 5 3 5 3 5 4 5 4 5 5 5 4 5 6 5 6 5 3 5 4 5 7 5 5 5 2 5 5" stroke="#00c6ff"/>
<path d="M773 103l5-1 5 0 5 0 5 2 5 0 5-2 5-1 5 0 5 0 5 0 5 1 5 0 5-4 5-2 5 3 5 4 5-1 5-4 5 1 5 6 5 3 5 3 5 5 5 6 5 4 5 3 5 7 5 8 5 6 5 2 5 5 5 7 5 7 5 5 5 5 5 4 5 5 5 4 5 5 5 5 5 3 5 3 5 4 5 3 5 3 5 4 5 4 5 1 5 2 5 5 5 7 5 5 5 3 5 4 5 7 5 4 5 4 5 5 5 6 5 3" stroke="#00ccff"/>
<path d="M773 111l5-4 5-1 5 3 5 2 5-1 5-5 5-2 5 1 5 2 5 0 5-2 5-2 5-1 5 0 5 0 5 2 5 1 5 0 5-1 5 1 5 6 5 6 5 4 5 2 5 5 5 7 5 7 5 4 5 5 5 5 5 6 5 6 5 4 5 5 5 6 5 6 5 4 5 4 5 4 5 5 5 4 5 3 5 4 5 4 5 3 5 2 5 3 5 4 5 5 5 3 5 3 5 4 5 6 5 7 5 5 5 3 5 3 5 5 5 5 5 5" stroke="#00d2ff"/>
<path d="M773 116l5-1 5 0 5 0 5 1 5 1 5-2 5-3 5-1 5 2 5 0 5-2 5-3 5 0 5 0 5-1 5 0 5 1 5 1 5 0 5 1 5 4 5 5 5 4 5 4 5 6 5 5 5 4 5 6 5 7 5 6 5 4 5 4 5 6 5 6 5 5 5 4 5 5 5 4 5 4 5 4 5 5 5 3 5 2 5 3 5 5 5 4 5 2 5 2 5 3 5 5 5 5 5 5 5 5 5 4 5 4 5 6 5 6 5 5 5 2 5 4" stroke="#00d9ff"/>
<path d="M773 102l5 2 5 1 5 0 5-2 5 0 5 1 5 1 5 0 5-2 5-2 5-1 5 1 5 1 5-1 5-2 5-2 5 1 5 2 5 2 5 1 5 2 5 3 5 5 5 6 5 6 5 5 5 5 5 5 5 6 5 7 5 6 5 5 5 5 5 5 5 6 5 5 5 5 5 5 5 3 5 4 5 4 5 4 5 4 5 3 5 2 5 2 5 3 5 4 5 3 5 4 5 3 5 5 5 5 5 6 5 5 5 4 5 4 5 4 5 6 5 5" stroke="#00dfff"/>
<path d="M773 102l5 0 5 0 5-1 5-1 5-1 5 3 5 2 5-3 5-4 5 0 5 3 5 0 5-2 5-1 5-1 5 0 5 2 5 3 5-1 5 1 5 5 5 5 5 3 5 5 5 7 5 6 5 4 5 5 5 5 5 5 5 7 5 6 5 5 5 3 5 5 5 6 5 6 5 4 5 3 5 4 5 4 5 4 5 4 5 4 5 2 5 3 5 4 5 3 5 2 5 5 5 5 5 5 5 4 5 4 5 5 5 5 5 5 5 5 5 3 5 3" stroke="#00e5ff"/>
<path d="M773 104l5 1 5 0 5-1 5-2 5 0 5 1 5 2 5-1 5-4 5-3 5 0 5 3 5 1 5-4 5-5 5 0 5 4 5 3 5 0 5-1 5 2 5 6 5 7 5 5 5 4 5 5 5 6 5 5 5 7 5 6 5 5 5 5 5 5 5 6 5 6 5 5 5 4 5 4 5 5 5 6 5 4 5 3 5 3 5 4 5 5 5 3 5 2 5 2 5 4 5 5 5 5 5 3 5 4 5 5 5 6 5 4 5 4 5 4 5 4 5 4" stroke="#00ebff"/>
<path d="M773 110l5 2 5 2 5-1 5-1 5 2 5 1 5-2 5-3 5 0 5 4 5 1 5-4 5-5 5 1 5 4 5 2 5-3 5-2 5 3 5 3 5 2 5 2 5 6 5 7 5 4 5 2 5 3 5 8 5 9 5 4 5 3 5 4 5 7 5 7 5 4 5 4 5 5 5 5 5 4 5 2 5 4 5 6 5 4 5 2 5 1 5 3 5 6 5 3 5 2 5 2 5 5 5 6 5 4 5 4 5 5 5 6 5 4 5 3 5 4 5 5" stroke="#00f1ff"/>
<path d="M773 102l5 1 5 1 5-2 5 0 5 3 5 0 5-4 5 0 5 4 5-1 5-3 5 1 5 1 5-3 5-1 5 4 5 1 5-4 5 0 5 5 5 3 5 2 5 5 5 6 5 3 5 4 5 9 5 6 5 3 5 5 5 8 5 6 5 4 5 6 5 7 5 4 5 4 5 7 5 5 5 2 5 4 5 5 5 4 5 2 5 4 5 3 5 1 5 2 5 5 5 5 5 2 5 3 5 6 5 4 5 3 5 5 5 5 5 3 5 4 5 6" stroke="#00f7ff"/>
<path d="M773 98l5 2 5 1 5-1 5 0 5-1 5 1 5 2 5 0 5-3 5 0 5 2 5 0 5-1 5 0 5 2 5-2 5-1 5 4 5 3 5 0 5 1 5 6 5 6 5 4 5 4 5 5 5 5 5 5 5 7 5 5 5 4 5 6 5 5 5 5 5 5 5 6 5 4 5 3 5 4 5 6 5 4 5 2 5 4 5 4 5 3 5 3 5 3 5 3 5 3 5 3 5 5 5 5 5 4 5 5 5 4 5 5 5 5 5 5 5 4 5 3" stroke="#00fdff"/>
<path d="M773 120l5-4 5-2 5 2 5 2 5-1 5-3 5-1 5 1 5 1 5-1 5-2 5-1 5 0 5 0 5 0 5 0 5-1 5 1 5 2 5 3 5 4 5 2 5 4 5 6 5 7 5 5 5 3 5 5 5 8 5 7 5 4 5 3 5 5 5 8 5 6 5 3 5 2 5 5 5 6 5 4 5 2 5 2 5 4 5 5 5 3 5 1 5 2 5 3 5 4 5 4 5 3 5 3 5 5 5 5 5 4 5 4 5 4 5 3 5 5 5 6" stroke="#04fffb"/>
<path d="M773 112l5 2 5-2 5 0 5 0 5-2 5 1 5 4 5-2 5-6 5 1 5 5 5-1 5-4 5 0 5 1 5-2 5 2 5 3 5-1 5 0 5 4 5 5 5 5 5 5 5 4 5 3 5 6 5 9 5 5 5 2 5 6 5 8 5 4 5 5 5 6 5 5 5 2 5 5 5 6 5 4 5 2 5 3 5 4 5 4 5 4 5 2 5 1 5 3 5 5 5 3 5 2 5 5 5 5 5 3 5 4 5 6 5 4 5 2 5 4 5 6" stroke="#0afff5"/>
<path d="M773 108l5 0 5-1 5 0 5 1 5 1 5-2 5-2 5 1 5 0 5-2 5 0 5 1 5-2 5-4 5 1 5 5 5 0 5-5 5 1 5 7 5 4 5 1 5 4 5 7 5 6 5 3 5 6 5 8 5 6 5 3 5 5 5 8 5 6 5 4 5 4 5 6 5 5 5 4 5 4 5 4 5 4 5 3 5 4 5 4 5 2 5 3 5 3 5 2 5 2 5 5 5 4 5 3 5 2 5 6 5 7 5 3 5 2 5 4 5 7 5 4" stroke="#10ffef"/>
<path d="M773 104l5-1 5 1 5 2 5 0 5-1 5-1 5-2 5 0 5 0 5 1 5 1 5-2 5-4 5-1 5 2 5 4 5 1 5-2 5-2 5 2 5 8 5 8 5 3 5 1 5 4 5 8 5 9 5 6 5 4 5 4 5 6 5 6 5 6 5 5 5 5 5 4 5 4 5 4 5 5 5 5 5 4 5 2 5 2 5 3 5 4 5 4 5 2 5 1 5 1 5 4 5 6 5 5 5 3 5 2 5 4 5 6 5 6 5 4 5 3 5 4" stroke="#16ffe9"/>
<path d="M773 102l5 2 5 2 5 0 5 0 5-1 5-1 5-1 5 2 5 2 5-1 5-5 5-2 5 3 5 2 5-2 5-3 5 0 5 2 5 2 5 1 5 3 5 4 5 3 5 4 5 8 5 7 5 4 5 3 5 6 5 8 5 7 5 5 5 4 5 6 5 6 5 5 5 6 5 4 5 4 5 3 5 4 5 6 5 4 5 2 5 1 5 3 5 5 5 3 5 1 5 3 5 4 5 4 5 4 5 4 5 5 5 3 5 2 5 5 5 6 5 5" stroke="#1cffe3"/>
<path d="M773 103l5 5 5-1 5-6 5 2 5 4 5-1 5-4 5 1 5 0 5-1 5 1 5-1 5-3 5-1 5 3 5 0 5-3 5 1 5 3 5 3 5 2 5 3 5 5 5 7 5 6 5 4 5 5 5 7 5 7 5 5 5 5 5 5 5 6 5 5 5 6 5 4 5 4 5 6 5 6 5 2 5 2 5 5 5 5 5 2 5 2 5 3 5 3 5 2 5 4 5 3 5 1 5 5 5 6 5 3 5 2 5 5 5 6 5 4 5 2 5 6" stroke="#22ffdd"/>
<path d="M773 108l5-1 5 1 5 0 5-2 5-1 5 1 5 0 5-1 5 0 5-2 5-2 5 2 5 1 5-3 5-3 5 4 5 4 5-3 5-1 5 4 5 7 5 3 5 3 5 6 5 6 5 6 5 6 5 6 5 5 5 6 5 6 5 5 5 5 5 5 5 6 5 4 5 5 5 4 5 3 5 4 5 5 5 4 5 1 5 2 5 5 5 3 5 1 5 1 5 4 5 4 5 3 5 3 5 4 5 4 5 4 5 5 5 3 5 3 5 6 5 5" stroke="#28ffd7"/>
<path d="M773 105l5 2 5 2 5-1 5-2 5 3 5 1 5-4 5 0 5 5 5-1 5-5 5 0 5 5 5 0 5-5 5 0 5 5 5 2 5-2 5 2 5 6 5 3 5 4 5 6 5 5 5 4 5 5 5 7 5 6 5 3 5 5 5 6 5 6 5 4 5 4 5 5 5 5 5 4 5 3 5 4 5 3 5 4 5 4 5 3 5 2 5 2 5 3 5 3 5 3 5 3 5 3 5 4 5 5 5 4 5 3 5 4 5 6 5 4 5 3 5 4" stroke="#2effd1"/>
<path d="M773 109l5-4 5-1 5 4 5 1 5-1 5-1 5-1 5-2 5 2 5 2 5-1 5-2 5 0 5 1 5-2 5 1 5 3 5 2 5-1 5 1 5 4 5 4 5 5 5 6 5 5 5 2 5 4 5 7 5 7 5 5 5 4 5 4 5 4 5 6 5 7 5 5 5 3 5 3 5 5 5 5 5 4 5 5 5 3 5 2 5 3 5 3 5 3 5 2 5 4 5 4 5 2 5 3 5 4 5 5 5 4 5 4 5 3 5 3 5 4 5 7" stroke="#34ffcb"/>
<path d="M773 107l5-3 5 0 5 1 5-2 5-2 5 3 5 4 5-2 5-5 5 0 5 3 5-1 5-2 5 2 5 1 5-4 5-3 5 4 5 6 5-1 5 0 5 5 5 7 5 2 5 5 5 9 5 8 5 2 5 3 5 9 5 8 5 4 5 5 5 7 5 5 5 2 5 5 5 7 5 5 5 2 5 2 5 5 5 4 5 1 5 3 5 5 5 1 5 0 5 2 5 6 5 4 5 2 5 3 5 5 5 4 5 2 5 6 5 7 5 3 5 2" stroke="#3affc5"/>
<path d="M773 114l5-1 5 2 5 3 5-2 5-5 5 1 5 5 5 0 5-4 5-1 5 2 5 0 5-2 5 0 5 1 5 0 5 0 5 2 5 1 5 0 5 5 5 7 5 2 5 1 5 5 5 9 5 6 5 2 5 4 5 6 5 6 5 4 5 5 5 5 5 4 5 4 5 5 5 5 5 3 5 5 5 5 5 3 5 2 5 3 5 5 5 4 5 1 5 1 5 4 5 4 5 3 5 4 5 4 5 3 5 3 5 4 5 5 5 3 5 4 5 6" stroke="#40ffbf"/>
<path d="M773 113l5-3 5-1 5 3 5 1 5-1 5-2 5-1 5 0 5 0 5 0 5-1 5-2 5-2 5 0 5 0 5 0 5-1 5 2 5 3 5 1 5 1 5 5 5 8 5 6 5 3 5 4 5 7 5 8 5 6 5 4 5 5 5 6 5 6 5 4 5 5 5 6 5 4 5 4 5 3 5 4 5 4 5 4 5 3 5 3 5 2 5 2 5 3 5 4 5 2 5 2 5 3 5 4 5 5 5 3 5 3 5 4 5 6 5 3 5 3 5 5" stroke="#46ffb9"/>
<path d="M773 113l5-2 5 0 5-2 5-2 5 2 5 3 5-1 5-3 5-2 5 0 5-1 5 2 5 2 5-2 5-4 5 1 5 2 5 2 5 4 5 3 5 1 5 2 5 7 5 6 5 6 5 5 5 5 5 3 5 5 5 7 5 7 5 4 5 4 5 4 5 4 5 5 5 6 5 4 5 3 5 3 5 4 5 4 5 4 5 4 5 2 5 1 5 2 5 4 5 3 5 4 5 3 5 3 5 2 5 4 5 5 5 4 5 4 5 4 5 3 5 4" stroke="#4cffb3"/>
<path d="M773 110l5 2 5 0 5-1 5-1 5 1 5 2 5-1 5-3 5-2 5 1 5 3 5-1 5-4 5-2 5 0 5 3 5 1 5 0 5-1 5 2 5 5 5 5 5 5 5 5 5 5 5 5 5 5 5 6 5 8 5 6 5 4 5 4 5 5 5 7 5 6 5 4 5 2 5 4 5 5 5 6 5 3 5 2 5 3 5 3 5 3 5 3 5 1 5 3 5 2 5 3 5 2 5 4 5 4 5 3 5 3 5 3 5 4 5 5 5 5 5 4" stroke="#52ffad"/>
<path d="M773 108l5 1 5 0 5-2 5-1 5 3 5 1 5-3 5-1 5 2 5 0 5 0 5 1 5-1 5-2 5 2 5 3 5 0 5-2 5 2 5 4 5 4 5 3 5 4 5 3 5 6 5 8 5 5 5 2 5 5 5 7 5 6 5 4 5 5 5 4 5 5 5 6 5 5 5 3 5 2 5 6 5 6 5 2 5 2 5 3 5 3 5 3 5 3 5 2 5 0 5 4 5 5 5 3 5 1 5 3 5 5 5 5 5 4 5 4 5 3 5 4" stroke="#58ffa7"/>
<path d="M773 110l5-4 5 1 5 5 5-2 5-3 5 0 5 0 5-1 5 2 5 1 5-6 5-2 5 3 5 1 5-2 5-1 5 0 5-1 5 3 5 6 5 1 5 1 5 5 5 8 5 5 5 6 5 6 5 4 5 5 5 8 5 7 5 3 5 5 5 6 5 5 5 5 5 6 5 3 5 2 5 5 5 6 5 4 5 2 5 3 5 3 5 2 5 3 5 3 5 1 5 2 5 5 5 4 5 2 5 4 5 3 5 3 5 4 5 6 5 4 5 2" stroke="#5effa1"/>
<path d="M773 109l5 0 5-1 5 1 5 1 5 0 5-1 5 0 5 2 5 0 5-3 5-2 5 2 5 2 5-2 5-4 5-1 5 4 5 4 5-1 5-1 5 4 5 6 5 6 5 4 5 4 5 6 5 6 5 7 5 6 5 5 5 4 5 5 5 6 5 7 5 4 5 2 5 4 5 6 5 6 5 2 5 1 5 4 5 5 5 4 5 1 5 1 5 2 5 4 5 2 5 2 5 3 5 2 5 4 5 4 5 4 5 3 5 3 5 4 5 6 5 6" stroke="#64ff9b"/>
<path d="M773 121l5-1 5-2 5 2 5 1 5-4 5-2 5 5 5 1 5-5 5-1 5 2 5-2 5-3 5 4 5 1 5-5 5-1 5 6 5 3 5-1 5 4 5 7 5 2 5 3 5 9 5 7 5 3 5 4 5 8 5 5 5 4 5 6 5 6 5 2 5 4 5 6 5 5 5 2 5 3 5 4 5 3 5 3 5 4 5 4 5 0 5 1 5 4 5 3 5 1 5 3 5 3 5 2 5 3 5 5 5 4 5 2 5 4 5 4 5 5 5 5" stroke="#6aff95"/>
<path d="M773 105l5-5 5 4 5 4 5-4 5-3 5 5 5 2 5-5 5-1 5 5 5 0 5-5 5 0 5 5 5-2 5-5 5 4 5 6 5-3 5-1 5 7 5 7 5 0 5 4 5 9 5 6 5 2 5 5 5 9 5 5 5 2 5 6 5 7 5 4 5 3 5 6 5 6 5 2 5 4 5 6 5 5 5 1 5 3 5 5 5 2 5 0 5 3 5 5 5 1 5 1 5 4 5 5 5 1 5 2 5 5 5 5 5 2 5 3 5 7 5 4" stroke="#70ff8f"/>
<path d="M773 114l5 2 5-1 5-3 5-2 5 1 5 4 5 1 5-1 5-3 5-2 5 1 5 2 5 1 5-2 5-2 5-2 5 1 5 3 5 2 5 1 5 2 5 4 5 4 5 5 5 6 5 5 5 6 5 5 5 5 5 5 5 6 5 6 5 5 5 5 5 4 5 4 5 5 5 5 5 5 5 4 5 3 5 3 5 3 5 4 5 3 5 3 5 1 5 2 5 2 5 3 5 4 5 3 5 3 5 2 5 3 5 3 5 5 5 4 5 4 5 4" stroke="#76ff89"/>
<path d="M773 109l5 0 5 2 5 1 5-2 5-1 5 3 5 1 5-2 5-2 5 1 5-1 5-3 5 1 5 1 5-5 5-2 5 5 5 2 5-4 5 1 5 8 5 5 5 1 5 7 5 7 5 4 5 5 5 9 5 6 5 3 5 5 5 9 5 5 5 2 5 5 5 7 5 3 5 4 5 5 5 4 5 2 5 4 5 5 5 2 5 1 5 3 5 3 5 2 5 2 5 3 5 2 5 3 5 4 5 3 5 2 5 4 5 4 5 4 5 4 5 5" stroke="#7cff83"/>
<path d="M773 103l5-2 5 1 5 1 5-2 5 1 5 1 5-3 5-1 5 2 5-1 5-1 5 1 5-1 5-2 5 0 5 2 5 0 5 1 5 3 5 1 5 3 5 7 5 6 5 4 5 6 5 6 5 5 5 6 5 8 5 5 5 4 5 6 5 5 5 4 5 6 5 5 5 3 5 4 5 5 5 4 5 3 5 5 5 2 5 1 5 3 5 4 5 2 5 1 5 3 5 1 5 3 5 4 5 4 5 2 5 3 5 3 5 4 5 5 5 6 5 3" stroke="#83ff7c"/>
<path d="M773 110l5 0 5-2 5 0 5 1 5 0 5-1 5 1 5 2 5 0 5-2 5-2 5 1 5 2 5 0 5-1 5-1 5 2 5 1 5 1 5 3 5 5 5 4 5 3 5 4 5 6 5 7 5 5 5 5 5 5 5 5 5 5 5 5 5 5 5 5 5 4 5 4 5 4 5 4 5 5 5 4 5 3 5 3 5 3 5 3 5 2 5 3 5 3 5 1 5 2 5 3 5 3 5 4 5 2 5 3 5 4 5 3 5 4 5 4 5 5 5 5" stroke="#89ff76"/>
<path d="M773 106l5 0 5 0 5 0 5-1 5 2 5 2 5-3 5-2 5 5 5-1 5-5 5 3 5 4 5-5 5-2 5 5 5 1 5-3 5 3 5 4 5 3 5 3 5 5 5 5 5 7 5 3 5 5 5 8 5 6 5 1 5 7 5 8 5 2 5 3 5 8 5 5 5 2 5 4 5 6 5 3 5 3 5 4 5 4 5 3 5 2 5 1 5 4 5 3 5 0 5 3 5 5 5 1 5 1 5 6 5 4 5 1 5 3 5 7 5 3 5 3" stroke="#8fff70"/>
<path d="M773 112l5 0 5 0 5 2 5 1 5-1 5-3 5 0 5 2 5 1 5-3 5-4 5 1 5 2 5 0 5-3 5-2 5 2 5 3 5 2 5 2 5 3 5 4 5 6 5 7 5 7 5 4 5 4 5 7 5 8 5 5 5 4 5 3 5 6 5 6 5 4 5 2 5 4 5 4 5 4 5 4 5 3 5 3 5 2 5 4 5 3 5 2 5 1 5 2 5 3 5 4 5 3 5 1 5 3 5 5 5 3 5 3 5 3 5 4 5 5 5 4" stroke="#95ff6a"/>
<path d="M773 120l5 0 5 0 5-2 5 0 5 4 5 1 5-4 5-3 5 3 5 2 5-4 5-3 5 3 5-1 5-5 5 0 5 5 5 0 5-3 5 2 5 7 5 5 5 4 5 5 5 5 5 6 5 8 5 6 5 5 5 5 5 7 5 4 5 4 5 5 5 6 5 3 5 1 5 5 5 6 5 2 5 1 5 4 5 4 5 2 5 1 5 3 5 3 5 1 5 2 5 3 5 4 5 2 5 3 5 3 5 2 5 6 5 5 5 2 5 2 5 6" stroke="#9bff64"/>
<path d="M773 109l5 2 5 2 5-1 5-1 5-1 5 1 5 2 5-1 5-4 5 1 5 3 5-1 5-5 5 1 5 3 5-1 5-2 5 3 5 2 5 2 5 4 5 4 5 4 5 7 5 6 5 3 5 6 5 8 5 4 5 5 5 6 5 6 5 3 5 6 5 4 5 4 5 4 5 5 5 3 5 3 5 5 5 3 5 3 5 3 5 2 5 2 5 2 5 3 5 1 5 2 5 4 5 3 5 1 5 3 5 5 5 3 5 2 5 4 5 5 5 5" stroke="#a1ff5e"/>
<path d="M773 112l5-3 5 0 5 2 5 1 5 0 5-1 5-3 5 0 5 4 5 0 5-3 5-1 5 1 5 0 5 0 5 1 5 0 5 0 5 3 5 5 5 2 5 4 5 6 5 5 5 5 5 6 5 6 5 5 5 5 5 7 5 5 5 3 5 5 5 6 5 4 5 3 5 4 5 4 5 3 5 5 5 4 5 1 5 3 5 3 5 4 5 1 5 1 5 2 5 2 5 3 5 4 5 2 5 1 5 3 5 5 5 4 5 2 5 4 5 4 5 5" stroke="#a7ff58"/>
<path d="M773 113l5-2 5 1 5 3 5-1 5-2 5-1 5 0 5 0 5 0 5-3 5-2 5 1 5 2 5-3 5-4 5 2 5 4 5 0 5-2 5 3 5 7 5 4 5 3 5 6 5 7 5 5 5 5 5 6 5 6 5 5 5 6 5 5 5 5 5 4 5 4 5 5 5 4 5 4 5 4 5 4 5 4 5 3 5 4 5 2 5 2 5 3 5 4 5 1 5 1 5 4 5 4 5 2 5 1 5 4 5 5 5 3 5 1 5 4 5 5 5 5" stroke="#adff52"/>
<path d="M773 113l5-2 5-1 5 0 5 1 5 0 5 1 5 0 5 0 5-2 5-1 5 2 5 3 5 0 5-3 5-3 5 1 5 5 5 2 5 0 5 0 5 4 5 6 5 4 5 4 5 6 5 7 5 4 5 3 5 4 5 8 5 7 5 4 5 2 5 4 5 6 5 5 5 4 5 3 5 4 5 5 5 3 5 3 5 4 5 4 5 3 5 1 5 1 5 3 5 4 5 3 5 2 5 1 5 3 5 4 5 3 5 3 5 3 5 4 5 3 5 4" stroke="#b3ff4c"/>
<path d="M773 108l5 1 5-1 5 0 5 3 5 0 5-4 5 1 5 4 5-1 5-2 5 0 5 0 5-1 5 2 5 1 5-3 5-2 5 5 5 5 5-1 5 1 5 6 5 6 5 5 5 6 5 5 5 2 5 6 5 9 5 5 5 3 5 4 5 7 5 5 5 3 5 5 5 3 5 3 5 5 5 6 5 2 5 2 5 4 5 4 5 1 5 2 5 3 5 1 5 2 5 4 5 3 5 1 5 3 5 4 5 3 5 3 5 4 5 5 5 2 5 4" stroke="#b9ff46"/>
<path d="M773 114l5-2 5 2 5 2 5 1 5 0 5-4 5-2 5 3 5 1 5-3 5-1 5 2 5-2 5-4 5 0 5 2 5 1 5 2 5-1 5-1 5 5 5 9 5 5 5 1 5 5 5 7 5 6 5 6 5 6 5 5 5 5 5 6 5 4 5 4 5 6 5 6 5 3 5 2 5 5 5 5 5 4 5 3 5 3 5 1 5 3 5 4 5 1 5 1 5 4 5 3 5 1 5 1 5 4 5 4 5 3 5 3 5 2 5 3 5 6 5 5" stroke="#bfff40"/>
<path d="M773 113l5 1 5-4 5 0 5 2 5-1 5-2 5 4 5 0 5-6 5 0 5 5 5 0 5-7 5 0 5 4 5-1 5-1 5 3 5 2 5-1 5 5 5 9 5 3 5 1 5 8 5 9 5 4 5 4 5 7 5 6 5 4 5 6 5 6 5 3 5 3 5 6 5 6 5 2 5 3 5 4 5 5 5 3 5 2 5 3 5 2 5 2 5 2 5 3 5 1 5 1 5 3 5 4 5 2 5 2 5 3 5 4 5 3 5 4 5 3 5 4" stroke="#c5ff3a"/>
<path d="M773 110l5-2 5 2 5 3 5 1 5-2 5-3 5-2 5 2 5 4 5 0 5-2 5-4 5-1 5 2 5 3 5 1 5-2 5-1 5 2 5 4 5 6 5 5 5 3 5 4 5 6 5 7 5 7 5 5 5 4 5 5 5 6 5 5 5 5 5 4 5 4 5 4 5 5 5 4 5 4 5 3 5 3 5 4 5 3 5 3 5 2 5 1 5 2 5 3 5 3 5 2 5 2 5 2 5 3 5 3 5 4 5 2 5 3 5 3 5 5 5 4" stroke="#cbff34"/>
<path d="M773 116l5-1 5-1 5-1 5 0 5-1 5 0 5 0 5 0 5-1 5-1 5-1 5-1 5 2 5 1 5-4 5-3 5 4 5 6 5 0 5-2 5 4 5 8 5 7 5 3 5 4 5 6 5 6 5 6 5 6 5 5 5 5 5 5 5 4 5 5 5 4 5 5 5 4 5 2 5 4 5 6 5 4 5 2 5 1 5 4 5 5 5 1 5 1 5 2 5 3 5 3 5 3 5 2 5 3 5 2 5 4 5 3 5 3 5 4 5 4 5 3" stroke="#d1ff2e"/>
<path d="M773 112l5 3 5-1 5-2 5 0 5 0 5 2 5 1 5-3 5-3 5 3 5 2 5-3 5-4 5 2 5 2 5-2 5-1 5 2 5 2 5 2 5 4 5 4 5 4 5 6 5 7 5 5 5 5 5 6 5 7 5 5 5 5 5 6 5 4 5 4 5 5 5 5 5 3 5 4 5 4 5 5 5 2 5 3 5 3 5 3 5 2 5 2 5 1 5 2 5 3 5 4 5 0 5 2 5 4 5 4 5 2 5 2 5 4 5 5 5 4 5 3" stroke="#d7ff28"/>
<path d="M773 110l5 3 5 2 5-3 5-1 5 3 5 2 5-3 5-1 5 2 5 0 5-2 5 1 5-1 5-4 5 1 5 3 5-1 5-3 5 3 5 5 5 2 5 3 5 6 5 6 5 4 5 7 5 6 5 4 5 6 5 8 5 5 5 3 5 5 5 6 5 4 5 4 5 4 5 4 5 3 5 4 5 5 5 2 5 1 5 4 5 4 5 0 5 1 5 3 5 3 5 2 5 3 5 2 5 2 5 3 5 5 5 3 5 1 5 4 5 6 5 4" stroke="#ddff22"/>
<path d="M773 114l5 3 5 1 5-4 5-1 5 4 5 0 5-2 5-1 5-2 5 0 5 3 5-2 5-4 5 0 5 1 5 0 5 0 5 2 5 0 5 2 5 6 5 4 5 5 5 6 5 5 5 4 5 7 5 7 5 5 5 5 5 5 5 4 5 6 5 5 5 3 5 3 5 5 5 4 5 3 5 4 5 3 5 3 5 4 5 2 5 1 5 3 5 2 5 2 5 2 5 3 5 2 5 2 5 3 5 3 5 3 5 5 5 2 5 3 5 4 5 6" stroke="#e3ff1c"/>
<path d="M773 115l5 3 5 0 5-2 5-2 5 1 5 2 5-1 5 0 5 0 5 0 5-1 5-2 5 2 5 2 5-1 5-2 5 0 5 4 5 3 5 1 5 2 5 5 5 6 5 4 5 4 5 6 5 6 5 5 5 4 5 5 5 6 5 5 5 4 5 4 5 5 5 5 5 3 5 3 5 4 5 5 5 3 5 3 5 2 5 4 5 2 5 2 5 1 5 3 5 2 5 2 5 2 5 3 5 3 5 2 5 2 5 3 5 4 5 5 5 3 5 3" stroke="#e9ff16"/>
<path d="M773 105l5 1 5 1 5-1 5-2 5 0 5 2 5 0 5-4 5-1 5 4 5 1 5-3 5-4 5 2 5 4 5 0 5-3 5 0 5 5 5 6 5 2 5 3 5 6 5 8 5 6 5 4 5 5 5 7 5 7 5 4 5 4 5 7 5 5 5 4 5 3 5 4 5 6 5 4 5 2 5 2 5 5 5 5 5 2 5 1 5 2 5 3 5 3 5 1 5 1 5 3 5 3 5 2 5 1 5 4 5 4 5 3 5 1 5 4 5 5 5 5" stroke="#efff10"/>
<path d="M773 118l5 0 5-3 5-2 5 5 5 3 5-4 5-4 5 2 5 1 5-1 5 0 5-2 5-4 5 2 5 3 5-2 5-3 5 3 5 3 5 2 5 4 5 5 5 4 5 5 5 8 5 5 5 4 5 6 5 7 5 5 5 5 5 6 5 4 5 4 5 5 5 4 5 3 5 4 5 5 5 2 5 2 5 5 5 3 5 1 5 3 5 2 5 1 5 2 5 4 5 0 5 1 5 4 5 4 5 2 5 2 5 3 5 2 5 5 5 5 5 3" stroke="#f5ff0a"/>
<path d="M773 120l5 1 5 1 5 1 5-1 5-3 5-1 5 1 5 2 5 0 5-2 5-3 5-2 5 1 5 2 5 0 5-2 5-1 5 0 5 3 5 4 5 4 5 4 5 4 5 5 5 6 5 7 5 6 5 5 5 4 5 6 5 5 5 6 5 5 5 5 5 3 5 4 5 4 5 4 5 5 5 3 5 3 5 2 5 3 5 3 5 4 5 2 5 0 5 1 5 2 5 4 5 3 5 2 5 1 5 2 5 2 5 5 5 4 5 3 5 2 5 2" stroke="#fbff04"/>
<path d="M773 111l5 0 5 3 5 1 5-3 5-1 5 3 5 2 5-1 5-2 5 0 5 0 5 0 5 0 5-1 5-2 5 0 5 1 5 1 5 0 5 3 5 3 5 3 5 4 5 7 5 7 5 3 5 4 5 7 5 8 5 5 5 4 5 6 5 6 5 4 5 4 5 6 5 5 5 3 5 3 5 5 5 4 5 3 5 3 5 2 5 2 5 3 5 2 5 1 5 1 5 2 5 3 5 2 5 2 5 3 5 3 5 2 5 2 5 4 5 5 5 3" stroke="#fffd00"/>
<path d="M773 112l5 2 5 2 5-1 5-2 5-1 5 1 5 1 5 0 5-2 5-1 5 0 5 0 5-1 5-2 5 0 5 0 5 2 5 1 5 0 5 1 5 5 5 6 5 6 5 5 5 4 5 6 5 6 5 7 5 6 5 5 5 5 5 5 5 5 5 4 5 5 5 5 5 4 5 3 5 3 5 3 5 5 5 4 5 2 5 2 5 1 5 2 5 3 5 3 5 1 5 1 5 1 5 3 5 4 5 4 5 2 5 1 5 3 5 4 5 5 5 4" stroke="#fff700"/>
<path d="M773 118l5 0 5 1 5 2 5 0 5-3 5-2 5 4 5 2 5-2 5-2 5 0 5-1 5-2 5 1 5 2 5-1 5-3 5 0 5 5 5 2 5 2 5 5 5 6 5 3 5 4 5 7 5 7 5 4 5 4 5 6 5 6 5 4 5 4 5 6 5 4 5 3 5 4 5 5 5 4 5 2 5 4 5 4 5 3 5 2 5 2 5 3 5 1 5 2 5 3 5 3 5 1 5 2 5 3 5 4 5 2 5 2 5 4 5 3 5 3 5 3" stroke="#fff100"/>
<path d="M773 116l5 1 5-1 5-3 5 0 5 1 5 2 5 0 5-3 5-2 5 0 5 1 5 1 5-2 5-2 5-1 5 1 5 3 5 1 5 0 5 1 5 5 5 7 5 5 5 5 5 5 5 6 5 7 5 5 5 5 5 5 5 6 5 6 5 5 5 3 5 3 5 5 5 5 5 4 5 3 5 1 5 4 5 5 5 4 5 1 5 0 5 1 5 3 5 4 5 3 5 0 5 0 5 3 5 5 5 3 5 2 5 1 5 2 5 5 5 5 5 4" stroke="#ffeb00"/>
<path d="M773 119l5-3 5-4 5 1 5 3 5 2 5 0 5-1 5-1 5-1 5 1 5 4 5-1 5-4 5-3 5 3 5 4 5-1 5-2 5 1 5 2 5 4 5 6 5 6 5 2 5 3 5 6 5 8 5 6 5 3 5 4 5 6 5 6 5 5 5 4 5 5 5 4 5 3 5 5 5 5 5 3 5 2 5 4 5 4 5 3 5 2 5 1 5 3 5 2 5 1 5 3 5 2 5 2 5 1 5 3 5 3 5 3 5 2 5 3 5 4 5 3" stroke="#ffe500"/>
<path d="M773 120l5-2 5-1 5 2 5-1 5-1 5 3 5 0 5-4 5 0 5 1 5 0 5-1 5-3 5-1 5 1 5 1 5-3 5 0 5 5 5 1 5 2 5 7 5 4 5 3 5 9 5 8 5 1 5 5 5 10 5 6 5 2 5 6 5 6 5 4 5 4 5 6 5 2 5 3 5 6 5 4 5 1 5 3 5 4 5 2 5 2 5 1 5 2 5 2 5 3 5 1 5 2 5 3 5 2 5 3 5 4 5 1 5 2 5 6 5 5 5 0" stroke="#ffdf00"/>
<path d="M773 116l5-2 5-1 5 1 5 2 5 0 5-2 5-3 5-1 5 3 5 2 5-2 5-5 5-2 5 3 5 3 5 0 5-3 5 0 5 3 5 5 5 5 5 4 5 4 5 6 5 6 5 7 5 6 5 5 5 5 5 6 5 5 5 6 5 5 5 4 5 3 5 3 5 5 5 5 5 4 5 2 5 2 5 3 5 5 5 3 5 1 5 0 5 2 5 3 5 3 5 1 5 1 5 2 5 3 5 3 5 3 5 3 5 2 5 3 5 4 5 4" stroke="#ffd900"/>
<path d="M773 115l5 2 5 2 5-3 5-3 5 2 5 3 5-1 5-1 5 0 5-2 5 0 5 2 5-1 5-3 5 1 5 1 5-2 5 0 5 4 5 2 5 3 5 5 5 4 5 4 5 7 5 8 5 5 5 2 5 6 5 8 5 6 5 6 5 4 5 3 5 4 5 7 5 5 5 3 5 2 5 4 5 3 5 4 5 4 5 1 5 1 5 2 5 3 5 1 5 1 5 3 5 1 5 2 5 3 5 3 5 1 5 4 5 3 5 2 5 3 5 5" stroke="#ffd200"/>
<path d="M773 116l5 1 5 2 5-1 5-2 5 1 5 1 5 0 5-1 5-1 5-1 5 1 5 1 5-3 5-3 5 2 5 3 5-2 5-3 5 5 5 5 5 2 5 2 5 7 5 7 5 5 5 4 5 5 5 7 5 6 5 6 5 4 5 4 5 6 5 6 5 3 5 2 5 6 5 5 5 2 5 2 5 4 5 5 5 2 5 1 5 3 5 2 5 3 5 1 5 1 5 2 5 3 5 3 5 1 5 2 5 4 5 4 5 1 5 2 5 5 5 5" stroke="#ffcc00"/>
<path d="M773 107l5-3 5 2 5 4 5 1 5-2 5-4 5 0 5 3 5 2 5-1 5-2 5-1 5 1 5 0 5 0 5-1 5 2 5 2 5 2 5 0 5 4 5 7 5 7 5 5 5 3 5 4 5 7 5 7 5 7 5 4 5 4 5 4 5 6 5 6 5 4 5 4 5 3 5 4 5 4 5 4 5 4 5 3 5 3 5 2 5 1 5 2 5 3 5 2 5 2 5 1 5 2 5 3 5 3 5 3 5 2 5 2 5 3 5 3 5 5 5 4" stroke="#ffc600"/>
<path d="M773 121l5-4 5 1 5 4 5 1 5-3 5-2 5 0 5 0 5 1 5 1 5-3 5-5 5 0 5 4 5 1 5-4 5-4 5 3 5 6 5 3 5 1 5 3 5 6 5 7 5 7 5 6 5 4 5 3 5 7 5 9 5 6 5 3 5 3 5 6 5 6 5 4 5 3 5 3 5 4 5 4 5 3 5 4 5 2 5 1 5 2 5 4 5 1 5 1 5 1 5 3 5 2 5 2 5 2 5 3 5 2 5 2 5 3 5 4 5 4 5 2" stroke="#ffc000"/>
<path d="M773 122l5-3 5-4 5 1 5 4 5 2 5-2 5-4 5 0 5 2 5 2 5-2 5-3 5 0 5 1 5 0 5-2 5 0 5 4 5 3 5 1 5 1 5 5 5 7 5 7 5 5 5 3 5 5 5 6 5 7 5 5 5 5 5 4 5 5 5 4 5 4 5 4 5 4 5 4 5 3 5 3 5 4 5 3 5 4 5 2 5 2 5 1 5 2 5 3 5 2 5 3 5 2 5 1 5 3 5 3 5 3 5 3 5 3 5 2 5 3 5 5" stroke="#ffba00"/>
<path d="M773 111l5-1 5-2 5 0 5-1 5 2 5 2 5-3 5-4 5 2 5 4 5-3 5-5 5 1 5 2 5-2 5-1 5 2 5 1 5 0 5 4 5 5 5 4 5 4 5 7 5 6 5 5 5 7 5 6 5 4 5 6 5 8 5 6 5 2 5 4 5 7 5 6 5 3 5 3 5 4 5 4 5 4 5 4 5 1 5 1 5 4 5 4 5 0 5-1 5 3 5 4 5 2 5 1 5 3 5 2 5 2 5 4 5 4 5 1 5 3 5 6" stroke="#ffb400"/>
<path d="M773 117l5-4 5-2 5 4 5 4 5-3 5-4 5 1 5 2 5 0 5 0 5-1 5-4 5-1 5 5 5 1 5-5 5-1 5 5 5 2 5 2 5 4 5 5 5 3 5 6 5 9 5 4 5 3 5 6 5 8 5 5 5 5 5 5 5 4 5 4 5 5 5 5 5 3 5 3 5 5 5 4 5 2 5 3 5 4 5 1 5 2 5 2 5 2 5 1 5 2 5 4 5 1 5 1 5 4 5 4 5 1 5 2 5 4 5 4 5 3 5 5" stroke="#ffae00"/>
<path d="M773 111l5 5 5 3 5-3 5-4 5-1 5 4 5 3 5-2 5-4 5-1 5 2 5 1 5-3 5-3 5 1 5 3 5 0 5-3 5 0 5 5 5 8 5 5 5 1 5 3 5 7 5 10 5 7 5 3 5 4 5 7 5 8 5 5 5 4 5 4 5 6 5 5 5 3 5 3 5 4 5 5 5 4 5 1 5 1 5 2 5 4 5 3 5 0 5 0 5 1 5 3 5 3 5 2 5 1 5 2 5 3 5 3 5 4 5 3 5 4 5 4" stroke="#ffa800"/>
<path d="M773 114l5 0 5 0 5-1 5-1 5 3 5 4 5 0 5-3 5-3 5 1 5 2 5 0 5-2 5-2 5-2 5-1 5 0 5 2 5 3 5 2 5 2 5 3 5 6 5 8 5 6 5 5 5 5 5 7 5 6 5 7 5 6 5 6 5 5 5 4 5 3 5 5 5 5 5 4 5 2 5 2 5 3 5 4 5 2 5 2 5 1 5 2 5 2 5 1 5 1 5 3 5 3 5 2 5 2 5 3 5 4 5 4 5 3 5 3 5 4 5 4" stroke="#ffa200"/>
<path d="M773 108l5 2 5 3 5-1 5-1 5 0 5-1 5 1 5 4 5-1 5-4 5 1 5 2 5 0 5 1 5-1 5-4 5 2 5 7 5 1 5 0 5 3 5 4 5 6 5 8 5 4 5 2 5 5 5 7 5 6 5 6 5 5 5 2 5 5 5 7 5 5 5 3 5 3 5 4 5 4 5 6 5 4 5 0 5 2 5 5 5 2 5 2 5 2 5 0 5 1 5 5 5 3 5 0 5 2 5 3 5 3 5 3 5 4 5 2 5 3 5 5" stroke="#ff9c00"/>
<path d="M773 112l5 0 5 3 5 2 5-4 5-3 5 1 5 4 5 0 5-4 5-2 5 2 5 1 5-2 5-2 5 1 5 3 5-1 5-2 5 2 5 6 5 6 5 3 5 3 5 6 5 8 5 6 5 5 5 6 5 5 5 6 5 5 5 5 5 6 5 4 5 4 5 4 5 4 5 4 5 4 5 3 5 4 5 2 5 2 5 2 5 3 5 3 5 0 5 0 5 2 5 4 5 3 5 1 5 1 5 4 5 3 5 3 5 2 5 4 5 5 5 3" stroke="#ff9600"/>
<path d="M773 120l5-3 5 2 5 1 5 0 5 0 5-1 5-2 5 1 5 3 5-1 5-4 5-1 5 3 5 1 5-2 5-1 5 1 5 2 5 3 5 4 5 2 5 3 5 6 5 7 5 4 5 4 5 6 5 5 5 5 5 5 5 6 5 4 5 4 5 5 5 4 5 4 5 4 5 5 5 2 5 3 5 4 5 5 5 2 5 2 5 2 5 2 5 2 5 3 5 2 5 0 5 3 5 4 5 3 5 1 5 2 5 4 5 3 5 4 5 3 5 3" stroke="#ff9000"/>
<path d="M773 113l5-3 5-1 5 3 5 2 5-2 5-2 5 1 5-1 5-2 5 2 5 2 5-3 5-3 5 1 5 0 5-1 5 2 5 3 5 0 5 0 5 6 5 6 5 5 5 5 5 7 5 5 5 4 5 6 5 8 5 5 5 5 5 6 5 5 5 3 5 5 5 6 5 4 5 3 5 4 5 3 5 3 5 3 5 5 5 2 5 0 5 1 5 3 5 2 5 2 5 3 5 2 5 0 5 2 5 5 5 3 5 3 5 3 5 3 5 2 5 4" stroke="#ff8a00"/>
<path d="M773 125l5 0 5-6 5-3 5 3 5 3 5-2 5-3 5-1 5 0 5 1 5 1 5 0 5-3 5-2 5 3 5 4 5-1 5-2 5 3 5 7 5 4 5 2 5 5 5 6 5 6 5 5 5 5 5 6 5 5 5 4 5 6 5 6 5 4 5 4 5 5 5 4 5 3 5 4 5 4 5 4 5 2 5 2 5 4 5 4 5 0 5 0 5 2 5 4 5 1 5 1 5 1 5 3 5 2 5 3 5 3 5 2 5 2 5 4 5 6 5 4" stroke="#ff8400"/>
<path d="M773 122l5 1 5-1 5-1 5 1 5 2 5-1 5-3 5-1 5 0 5 0 5 2 5-1 5-5 5-2 5 3 5 2 5 0 5 1 5 2 5 2 5 3 5 7 5 7 5 4 5 6 5 5 5 4 5 7 5 8 5 6 5 3 5 4 5 6 5 5 5 4 5 5 5 3 5 2 5 4 5 4 5 2 5 3 5 3 5 2 5 0 5 2 5 3 5 2 5 1 5 1 5 2 5 2 5 4 5 3 5 2 5 2 5 4 5 4 5 3 5 4" stroke="#ff7e00"/>
<path d="M773 119l5 0 5 4 5 1 5-3 5 0 5 1 5 1 5 0 5 0 5-2 5-2 5 1 5 0 5-3 5 1 5 1 5-2 5-1 5 6 5 5 5 0 5 3 5 8 5 6 5 3 5 6 5 8 5 4 5 4 5 7 5 7 5 4 5 3 5 5 5 5 5 4 5 4 5 4 5 2 5 3 5 4 5 2 5 3 5 3 5 1 5 0 5 2 5 4 5 2 5-1 5 3 5 4 5 2 5 2 5 5 5 3 5 1 5 3 5 6 5 5" stroke="#ff7800"/>
<path d="M773 117l5 1 5 0 5 0 5-1 5 0 5 1 5 0 5 0 5-1 5-2 5-1 5-1 5 1 5 0 5-2 5-3 5 1 5 4 5 3 5 1 5 1 5 5 5 7 5 7 5 5 5 4 5 5 5 8 5 7 5 4 5 5 5 6 5 6 5 4 5 3 5 4 5 6 5 5 5 1 5 2 5 4 5 5 5 3 5 0 5 0 5 2 5 4 5 2 5 0 5 1 5 3 5 4 5 2 5 2 5 3 5 4 5 4 5 3 5 3 5 5" stroke="#ff7200"/>
<path d="M773 126l5 1 5 2 5-2 5 0 5 2 5-2 5-2 5 1 5 2 5-1 5-1 5 0 5-3 5-1 5 4 5 1 5-2 5 1 5 3 5 2 5 5 5 7 5 3 5 3 5 7 5 6 5 5 5 5 5 6 5 5 5 4 5 6 5 4 5 3 5 5 5 5 5 2 5 3 5 4 5 3 5 3 5 3 5 2 5 1 5 2 5 3 5 2 5 1 5 1 5 2 5 1 5 4 5 4 5 1 5 3 5 3 5 4 5 2 5 5 5 4" stroke="#ff6c00"/>
<path d="M773 127l5 0 5 1 5 0 5 0 5 0 5 0 5 0 5 0 5-2 5 0 5 0 5 0 5-1 5-2 5-1 5 1 5 2 5 1 5 0 5 2 5 6 5 6 5 5 5 3 5 4 5 7 5 7 5 6 5 4 5 5 5 5 5 6 5 6 5 4 5 3 5 4 5 4 5 4 5 3 5 3 5 2 5 2 5 4 5 2 5 2 5 0 5 1 5 2 5 3 5 2 5 1 5 2 5 2 5 4 5 4 5 2 5 2 5 3 5 5 5 5" stroke="#ff6600"/>
<path d="M773 107l5-2 5 3 5 3 5-3 5-4 5 0 5 3 5 1 5-3 5-2 5 1 5 2 5 0 5-2 5-1 5 1 5 3 5 2 5 2 5 1 5 4 5 7 5 6 5 4 5 4 5 7 5 6 5 6 5 5 5 5 5 6 5 5 5 5 5 5 5 4 5 4 5 4 5 5 5 5 5 3 5 2 5 3 5 5 5 2 5 0 5 1 5 3 5 3 5 1 5 0 5 2 5 5 5 3 5 1 5 2 5 4 5 4 5 3 5 3 5 4" stroke="#ff6000"/>
<path d="M773 125l5-3 5-1 5 3 5 4 5 0 5-3 5-4 5 0 5 3 5 2 5-1 5-4 5-4 5 0 5 3 5 2 5-1 5-3 5 1 5 4 5 7 5 5 5 2 5 3 5 5 5 7 5 8 5 5 5 3 5 5 5 6 5 7 5 5 5 4 5 3 5 4 5 5 5 5 5 4 5 2 5 3 5 3 5 4 5 3 5 1 5 1 5 1 5 3 5 2 5 3 5 1 5 2 5 3 5 3 5 4 5 2 5 3 5 3 5 4 5 5" stroke="#ff5a00"/>
<path d="M773 115l5 0 5-2 5 2 5 0 5-3 5 1 5 3 5-2 5-3 5 0 5 2 5 0 5-2 5-3 5 1 5 4 5-1 5-2 5 5 5 5 5 2 5 4 5 7 5 5 5 5 5 7 5 5 5 6 5 6 5 6 5 5 5 6 5 4 5 3 5 7 5 5 5 1 5 3 5 6 5 4 5 2 5 2 5 3 5 3 5 2 5 0 5 1 5 3 5 2 5 1 5 2 5 4 5 1 5 3 5 4 5 3 5 2 5 4 5 5 5 4" stroke="#ff5400"/>
<path d="M773 117l5 2 5 3 5 1 5-3 5-2 5 2 5 4 5 0 5-4 5-4 5 2 5 3 5 0 5-5 5-3 5 2 5 4 5 1 5 0 5 1 5 6 5 6 5 4 5 4 5 6 5 6 5 6 5 4 5 6 5 7 5 5 5 5 5 4 5 5 5 5 5 4 5 3 5 3 5 4 5 3 5 3 5 3 5 2 5 2 5 2 5 1 5 2 5 2 5 2 5 0 5 2 5 4 5 5 5 2 5 1 5 3 5 6 5 5 5 3 5 2" stroke="#ff4e00"/>
<path d="M773 102l5 2 5-2 5-1 5 1 5 1 5 2 5-2 5-3 5 1 5 3 5-2 5-5 5 0 5 4 5-1 5-6 5 2 5 6 5 1 5-2 5 4 5 8 5 5 5 4 5 6 5 6 5 6 5 7 5 5 5 5 5 7 5 7 5 5 5 3 5 6 5 7 5 3 5 2 5 6 5 5 5 3 5 2 5 3 5 3 5 2 5 1 5 2 5 1 5 2 5 3 5 2 5 2 5 3 5 4 5 2 5 2 5 5 5 5 5 2 5 3" stroke="#ff4800"/>
<path d="M773 125l5-2 5 1 5 3 5 1 5-3 5-3 5 3 5 3 5-2 5-3 5 2 5 1 5-3 5-3 5 3 5 4 5-1 5-3 5 3 5 6 5 4 5 3 5 5 5 6 5 4 5 4 5 7 5 7 5 5 5 4 5 5 5 5 5 5 5 5 5 5 5 4 5 1 5 3 5 6 5 4 5 1 5 1 5 4 5 3 5 0 5 1 5 3 5 2 5 0 5 0 5 4 5 4 5 2 5 2 5 2 5 4 5 3 5 4 5 4 5 5" stroke="#ff4200"/>
<path d="M773 118l5 0 5 0 5 0 5 0 5 1 5 3 5-1 5-5 5 1 5 5 5-1 5-5 5 0 5 2 5-1 5-1 5 2 5 1 5 0 5 3 5 6 5 4 5 3 5 4 5 6 5 7 5 6 5 3 5 5 5 7 5 7 5 3 5 4 5 6 5 5 5 3 5 5 5 5 5 2 5 2 5 5 5 4 5 2 5 0 5 3 5 2 5 2 5 2 5 1 5 2 5 3 5 3 5 2 5 3 5 3 5 2 5 4 5 5 5 4 5 1" stroke="#ff3c00"/>
<path d="M773 125l5 0 5-3 5 0 5 4 5 0 5-2 5 0 5 2 5-3 5-2 5 3 5 2 5-3 5-3 5 0 5 1 5 1 5 3 5 2 5 0 5 5 5 6 5 4 5 4 5 8 5 5 5 2 5 5 5 8 5 6 5 3 5 5 5 5 5 3 5 4 5 5 5 4 5 3 5 4 5 2 5 2 5 3 5 5 5 1 5 0 5 2 5 3 5 0 5 2 5 4 5 2 5 1 5 3 5 4 5 3 5 4 5 4 5 2 5 3 5 6" stroke="#ff3600"/>
<path d="M773 113l5 0 5-1 5 2 5 0 5-2 5 1 5 3 5 0 5-3 5-1 5 1 5-1 5 0 5 2 5-1 5-5 5 1 5 5 5 4 5 0 5 4 5 5 5 3 5 6 5 9 5 6 5 3 5 4 5 8 5 6 5 6 5 6 5 4 5 3 5 4 5 6 5 5 5 3 5 2 5 4 5 3 5 2 5 4 5 3 5 0 5 0 5 3 5 2 5 1 5 2 5 3 5 1 5 2 5 4 5 4 5 2 5 3 5 5 5 5 5 3" stroke="#ff3000"/>
<path d="M773 118l5-1 5-1 5 3 5 3 5 0 5-4 5-2 5 2 5 4 5 0 5-4 5-2 5 0 5 0 5 0 5 0 5 1 5 1 5 1 5 0 5 5 5 8 5 7 5 2 5 3 5 6 5 8 5 7 5 5 5 4 5 5 5 6 5 5 5 5 5 4 5 5 5 3 5 3 5 3 5 4 5 5 5 2 5 1 5 1 5 3 5 3 5 1 5 1 5 1 5 2 5 3 5 2 5 3 5 4 5 3 5 2 5 2 5 4 5 6 5 5" stroke="#ff2900"/>
<path d="M773 115l5 2 5-1 5-2 5 0 5 3 5-1 5-3 5-1 5 3 5 1 5-3 5-3 5 1 5 2 5-1 5 0 5 2 5 1 5 1 5 4 5 7 5 6 5 3 5 4 5 8 5 7 5 5 5 4 5 7 5 7 5 5 5 3 5 5 5 6 5 4 5 3 5 4 5 3 5 4 5 3 5 3 5 3 5 1 5 1 5 2 5 4 5 1 5-1 5 1 5 3 5 4 5 1 5 2 5 3 5 3 5 3 5 3 5 5 5 4 5 3" stroke="#ff2300"/>
<path d="M773 123l5-2 5 2 5 1 5-2 5 0 5 2 5 0 5-2 5 0 5 2 5-1 5-2 5 1 5 3 5-2 5-3 5 2 5 4 5 3 5 2 5 5 5 4 5 3 5 5 5 8 5 7 5 3 5 3 5 6 5 7 5 5 5 5 5 5 5 4 5 2 5 4 5 7 5 4 5 2 5 2 5 3 5 2 5 3 5 4 5 2 5 0 5 0 5 2 5 4 5 2 5 1 5 2 5 3 5 1 5 4 5 4 5 4 5 1 5 3 5 5" stroke="#ff1d00"/>
<path d="M773 122l5-1 5-2 5 1 5 5 5 0 5-6 5-1 5 6 5 2 5-5 5-3 5 2 5 1 5 0 5-1 5-3 5 0 5 6 5 5 5-2 5 1 5 8 5 8 5 4 5 3 5 6 5 5 5 7 5 7 5 4 5 3 5 6 5 7 5 3 5 2 5 5 5 5 5 3 5 3 5 3 5 2 5 3 5 5 5 1 5 0 5 2 5 3 5 2 5 0 5 2 5 3 5 2 5 3 5 4 5 2 5 2 5 5 5 5 5 2 5 4" stroke="#ff1700"/>
<path d="M773 124l5 3 5 2 5-4 5-2 5 2 5 2 5-3 5-3 5 1 5 0 5-1 5-2 5-1 5 0 5-1 5 1 5 1 5 0 5 2 5 5 5 4 5 4 5 6 5 7 5 6 5 4 5 5 5 8 5 6 5 4 5 5 5 6 5 5 5 4 5 4 5 5 5 3 5 2 5 4 5 4 5 2 5 1 5 3 5 4 5 1 5 0 5 1 5 4 5 1 5 1 5 2 5 4 5 3 5 2 5 2 5 4 5 4 5 3 5 4 5 4" stroke="#ff1100"/>
<path d="M773 127l5 0 5 0 5 0 5 0 5 0 5 0 5-1 5-1 5-1 5 0 5 1 5 0 5-2 5-2 5-1 5 2 5 3 5 2 5 0 5 1 5 5 5 8 5 6 5 5 5 3 5 5 5 7 5 6 5 6 5 5 5 4 5 5 5 5 5 5 5 3 5 4 5 4 5 3 5 3 5 3 5 2 5 3 5 3 5 2 5 1 5 1 5 2 5 3 5 1 5 2 5 1 5 3 5 4 5 3 5 2 5 3 5 3 5 4 5 5 5 3" stroke="#ff0b00"/>
<path d="M773 113l5 0 5-5 5 3 5 5 5-3 5-4 5 1 5 2 5 1 5 0 5-4 5-2 5 4 5-1 5-3 5 3 5 1 5-3 5 4 5 8 5 2 5 2 5 7 5 6 5 7 5 7 5 3 5 4 5 9 5 6 5 4 5 6 5 5 5 3 5 4 5 7 5 4 5 1 5 4 5 3 5 5 5 3 5 1 5 1 5 3 5 3 5-1 5 3 5 3 5-1 5 3 5 5 5 3 5 1 5 2 5 4 5 4 5 5 5 2 5 3" stroke="#ff0500"/>
<path d="M773 113l5-2 5-5 5 1 5 4 5-1 5-3 5 0 5 0 5 0 5 1 5 1 5-3 5-1 5 2 5 1 5 0 5 2 5 2 5 0 5 4 5 9 5 4 5 2 5 7 5 8 5 4 5 5 5 7 5 5 5 4 5 6 5 8 5 3 5 3 5 5 5 6 5 3 5 3 5 4 5 3 5 3 5 4 5 3 5 1 5 1 5 2 5 1 5 2 5 2 5 2 5 0 5 3 5 4 5 3 5 1 5 3 5 4 5 3 5 4 5 5" stroke="#fe0000"/>
<path d="M773 112l5 2 5-1 5 0 5 2 5-3 5-3 5 4 5 3 5-3 5-2 5 0 5-1 5 2 5 3 5-3 5-4 5 5 5 4 5 1 5 3 5 5 5 3 5 7 5 7 5 5 5 5 5 7 5 4 5 4 5 7 5 7 5 4 5 4 5 4 5 3 5 5 5 6 5 2 5 1 5 4 5 4 5 3 5 3 5 2 5-1 5 3 5 3 5 1 5 1 5 3 5 2 5 2 5 4 5 4 5 2 5 3 5 4 5 2 5 4 5 7" stroke="#f80000"/>
<path d="M773 124l5 1 5 0 5-4 5 0 5 5 5 2 5-5 5-4 5 4 5 5 5-2 5-4 5 0 5 2 5 1 5 1 5 0 5-1 5 3 5 8 5 4 5 1 5 5 5 9 5 6 5 2 5 5 5 6 5 5 5 5 5 6 5 4 5 3 5 4 5 5 5 3 5 3 5 3 5 4 5 2 5 2 5 4 5 3 5 1 5 1 5 3 5 3 5 0 5 1 5 3 5 3 5 3 5 3 5 2 5 1 5 5 5 6 5 2 5 1 5 4" stroke="#f20000"/>
<path d="M773 126l5 0 5 1 5 0 5-2 5-1 5 1 5 2 5-1 5-2 5-3 5 1 5 2 5 0 5-2 5-3 5 0 5 4 5 4 5 2 5 1 5 3 5 7 5 8 5 6 5 4 5 3 5 5 5 7 5 7 5 5 5 3 5 4 5 4 5 5 5 5 5 3 5 2 5 3 5 4 5 3 5 3 5 3 5 1 5 2 5 2 5 3 5 2 5 1 5 1 5 2 5 4 5 3 5 3 5 3 5 2 5 3 5 5 5 4 5 3 5 3" stroke="#ec0000"/>
<path d="M773 118l5 4 5 1 5-5 5 0 5 4 5 1 5-3 5-1 5 0 5-1 5-1 5 1 5 0 5-2 5-3 5 1 5 3 5 2 5 0 5 1 5 5 5 7 5 5 5 5 5 5 5 6 5 4 5 6 5 8 5 6 5 3 5 4 5 6 5 6 5 3 5 4 5 5 5 2 5 3 5 4 5 5 5 1 5 1 5 3 5 4 5 1 5 1 5 2 5 2 5 1 5 3 5 4 5 2 5 2 5 3 5 4 5 4 5 4 5 3 5 4" stroke="#e60000"/>
<path d="M773 122l5 2 5 2 5-3 5-4 5 1 5 4 5 2 5-3 5-3 5 1 5 2 5-1 5-2 5 1 5 2 5-1 5-2 5 2 5 6 5 5 5 3 5 2 5 6 5 7 5 6 5 5 5 5 5 5 5 5 5 4 5 6 5 5 5 5 5 3 5 3 5 4 5 3 5 5 5 3 5 3 5 1 5 2 5 4 5 3 5 2 5 0 5 2 5 2 5 2 5 2 5 2 5 5 5 3 5 1 5 2 5 4 5 6 5 4 5 2 5 3" stroke="#e00000"/>
<path d="M773 119l5 2 5 3 5 1 5-3 5-4 5-2 5 2 5 2 5 0 5-4 5-3 5-1 5 1 5 2 5 0 5 0 5 0 5 2 5 3 5 4 5 6 5 7 5 5 5 4 5 5 5 6 5 7 5 7 5 4 5 3 5 5 5 5 5 6 5 5 5 3 5 3 5 3 5 5 5 4 5 4 5 1 5 2 5 3 5 3 5 2 5 2 5 0 5 2 5 2 5 2 5 2 5 2 5 2 5 3 5 3 5 3 5 3 5 4 5 4 5 4" stroke="#da0000"/>
<path d="M773 117l5 1 5 1 5-2 5 0 5 3 5-3 5-5 5 2 5 2 5-3 5-2 5 0 5-2 5-2 5 3 5 0 5-2 5 1 5 5 5 3 5 5 5 6 5 6 5 6 5 7 5 7 5 5 5 6 5 5 5 7 5 7 5 5 5 3 5 5 5 5 5 3 5 4 5 4 5 2 5 2 5 4 5 4 5 0 5 1 5 3 5 1 5 1 5 2 5 2 5 0 5 2 5 5 5 2 5 2 5 3 5 4 5 3 5 5 5 4 5 4" stroke="#d40000"/>
<path d="M773 118l5-3 5-1 5 1 5 2 5 1 5 1 5-2 5-3 5 1 5 4 5 0 5-4 5-3 5 1 5 1 5 0 5 0 5 0 5 0 5 3 5 7 5 7 5 2 5 3 5 8 5 8 5 5 5 5 5 6 5 6 5 6 5 7 5 5 5 4 5 3 5 5 5 6 5 3 5 2 5 3 5 3 5 2 5 3 5 3 5 1 5-1 5 2 5 4 5 2 5 0 5 2 5 3 5 3 5 4 5 3 5 3 5 2 5 4 5 6 5 5" stroke="#ce0000"/>
<path d="M773 121l5-1 5-5 5 0 5 5 5 2 5-3 5-3 5 3 5 3 5-2 5-4 5 1 5 3 5 0 5-4 5-1 5 4 5 3 5 0 5 1 5 6 5 8 5 4 5 4 5 6 5 7 5 5 5 4 5 6 5 7 5 5 5 4 5 4 5 6 5 4 5 3 5 3 5 5 5 4 5 2 5 1 5 4 5 3 5 2 5 0 5 1 5 4 5 2 5 0 5 0 5 4 5 4 5 2 5 1 5 3 5 5 5 4 5 1 5 3 5 6" stroke="#c80000"/>
<path d="M773 122l5 3 5 2 5 0 5 0 5-2 5-2 5 4 5 3 5-4 5-3 5 1 5 1 5 0 5 0 5-3 5-3 5 4 5 5 5 0 5 0 5 5 5 6 5 6 5 8 5 3 5 3 5 7 5 7 5 4 5 5 5 6 5 4 5 4 5 6 5 3 5 3 5 4 5 4 5 2 5 3 5 4 5 2 5 2 5 3 5 1 5 1 5 3 5 2 5 0 5 2 5 3 5 3 5 2 5 4 5 2 5 2 5 6 5 4 5 2 5 4" stroke="#c20000"/>
<path d="M773 117l5 1 5-1 5 1 5 2 5-1 5-1 5 0 5 2 5 0 5-4 5-1 5 3 5 0 5-5 5-2 5 4 5 3 5-3 5 0 5 6 5 8 5 3 5 3 5 8 5 9 5 4 5 3 5 6 5 9 5 5 5 3 5 5 5 6 5 5 5 3 5 3 5 5 5 3 5 2 5 3 5 4 5 1 5 2 5 3 5 2 5 1 5 1 5 2 5 3 5 1 5 2 5 3 5 5 5 2 5 2 5 4 5 5 5 3 5 3 5 4" stroke="#bc0000"/>
<path d="M773 122l5-1 5 1 5 0 5-5 5-1 5 5 5 1 5-2 5-1 5-2 5-3 5 5 5 3 5-4 5-2 5 1 5 0 5 4 5 7 5 1 5 1 5 8 5 7 5 5 5 7 5 6 5 3 5 5 5 8 5 4 5 5 5 5 5 4 5 3 5 5 5 4 5 1 5 4 5 4 5 2 5 3 5 3 5 0 5 2 5 4 5 2 5 0 5 2 5 1 5 1 5 5 5 4 5 1 5 2 5 4 5 3 5 4 5 6 5 2 5 2" stroke="#b60000"/>
<path d="M773 115l5-1 5 4 5-1 5-1 5 3 5-1 5-5 5 2 5 5 5-3 5-3 5 1 5-2 5-3 5 3 5 2 5-3 5 0 5 4 5 3 5 5 5 8 5 5 5 4 5 7 5 8 5 6 5 6 5 6 5 5 5 6 5 6 5 5 5 4 5 4 5 3 5 3 5 6 5 3 5 0 5 3 5 3 5 1 5 3 5 3 5 0 5-1 5 3 5 3 5 0 5 3 5 3 5 1 5 2 5 6 5 4 5 1 5 4 5 5 5 4" stroke="#b00000"/>
<path d="M773 116l5 2 5 2 5-2 5-2 5 1 5 2 5-1 5-3 5 1 5 3 5-1 5-4 5-2 5 3 5 3 5-1 5-3 5 3 5 5 5 4 5 4 5 6 5 6 5 5 5 6 5 7 5 6 5 4 5 5 5 7 5 6 5 4 5 4 5 4 5 5 5 3 5 2 5 4 5 5 5 2 5 0 5 2 5 4 5 3 5 1 5 0 5 1 5 3 5 2 5 1 5 2 5 3 5 2 5 3 5 4 5 4 5 2 5 3 5 5 5 5" stroke="#aa0000"/>
<path d="M773 118l5 0 5-1 5-1 5 1 5 0 5 0 5 0 5-1 5 0 5-2 5-1 5 1 5 0 5-1 5-2 5-2 5 2 5 4 5 4 5 0 5 2 5 6 5 9 5 7 5 6 5 4 5 4 5 6 5 7 5 7 5 6 5 4 5 4 5 4 5 4 5 6 5 5 5 3 5 1 5 2 5 4 5 5 5 3 5 1 5 0 5 1 5 3 5 2 5 2 5 2 5 1 5 2 5 3 5 4 5 4 5 3 5 2 5 2 5 4 5 6" stroke="#a40000"/>
<path d="M773 105l5 1 5-2 5 0 5 2 5-1 5-1 5 2 5 1 5-2 5-1 5 2 5 1 5-3 5-2 5 3 5 1 5-1 5 0 5 4 5 2 5 4 5 8 5 7 5 4 5 4 5 8 5 8 5 5 5 5 5 6 5 7 5 5 5 6 5 5 5 4 5 3 5 4 5 6 5 4 5 1 5 2 5 4 5 2 5 2 5 2 5 1 5 0 5 1 5 3 5 3 5 1 5 1 5 4 5 3 5 3 5 3 5 4 5 4 5 3 5 5" stroke="#9e0000"/>
<path d="M773 112l5 0 5-2 5 0 5 1 5 0 5 0 5-2 5-1 5 0 5 1 5-1 5-2 5-1 5 0 5 2 5 0 5-1 5 1 5 6 5 5 5 3 5 4 5 8 5 9 5 6 5 3 5 5 5 8 5 8 5 4 5 4 5 5 5 6 5 5 5 3 5 2 5 5 5 5 5 3 5 2 5 2 5 4 5 4 5 1 5 0 5 2 5 3 5 2 5 0 5 2 5 3 5 3 5 2 5 2 5 3 5 3 5 4 5 4 5 3 5 3" stroke="#980000"/>
<path d="M773 119l5-1 5-4 5 0 5 5 5 0 5-3 5 1 5 2 5-3 5-1 5 4 5 0 5-6 5 0 5 5 5 0 5-3 5 2 5 4 5 3 5 4 5 7 5 6 5 4 5 6 5 7 5 5 5 4 5 6 5 6 5 5 5 6 5 4 5 3 5 3 5 6 5 5 5 1 5 2 5 5 5 3 5 1 5 3 5 3 5 1 5 0 5 4 5 2 5 0 5 1 5 4 5 4 5 2 5 2 5 3 5 4 5 4 5 4 5 3 5 3" stroke="#920000"/>
<path d="M773 112l5 1 5-3 5-1 5 1 5 0 5 0 5 1 5-3 5-1 5 4 5 0 5-5 5 0 5 3 5-1 5-2 5 2 5 2 5 1 5 5 5 4 5 4 5 7 5 9 5 5 5 3 5 8 5 7 5 5 5 6 5 7 5 5 5 5 5 6 5 3 5 3 5 6 5 4 5 2 5 2 5 4 5 3 5 1 5 2 5 2 5 0 5 2 5 2 5 0 5 1 5 4 5 3 5 1 5 3 5 4 5 3 5 3 5 5 5 3 5 4" stroke="#8c0000"/>
<path d="M773 132l5-3 5-4 5 3 5 3 5-1 5-3 5 0 5 0 5-2 5 1 5 0 5-2 5-3 5 0 5 1 5 0 5 1 5 1 5 0 5 3 5 8 5 7 5 4 5 4 5 8 5 5 5 5 5 7 5 7 5 3 5 4 5 8 5 6 5 2 5 3 5 5 5 4 5 2 5 4 5 4 5 1 5 1 5 3 5 5 5 1 5-1 5 2 5 3 5 1 5 1 5 4 5 2 5 1 5 2 5 5 5 4 5 2 5 3 5 4 5 3" stroke="#860000"/>
<path d="M773 117l5 3 5 1 5-2 5-2 5 3 5 2 5-2 5-2 5 0 5 1 5-1 5 0 5-2 5-2 5-1 5 4 5 1 5-2 5 1 5 6 5 7 5 5 5 5 5 6 5 7 5 7 5 5 5 5 5 5 5 6 5 8 5 4 5 2 5 4 5 6 5 4 5 2 5 2 5 4 5 3 5 3 5 2 5 1 5 1 5 2 5 3 5 1 5 0 5 2 5 3 5 3 5 2 5 2 5 4 5 3 5 4 5 4 5 3 5 4 5 4" stroke="#800000"/>
</g></g>
<line x1="386.6" y1="64.7" x2="530" y2="132.8" stroke="#ff00ff" stroke-width="3" stroke-dasharray="10.5 10.5" clip-path="url(#cpIn2)"/>
<defs><clipPath id="cpIn2"><rect x="386.6" y="12" width="148.9" height="149.7"/></clipPath></defs>
<path d="M73.2,403 75.3,398.8 78.5,386 81.7,375.4 84.9,370.1 88.1,372.2 91.3,386 94.5,403 97.7,420 101.9,439.3 106.2,454.1 108.8,463 113.1,471.9 119.7,482.8 124.1,489.4 128.5,494.9 132.8,501.5 138.3,509.1 143.8,512.4 150.4,515.7 156.9,521.2 163.5,526.6 170.1,531 178.8,532.1 187.6,534.3 196.3,537.6 202.9,542 209.5,548.5 216,552.9 222,557.5 231,560.5 240,559.5 247.2,555.8 252.5,553.1 257.7,555.1 263.7,557.1 268.3,559.7 274.2,560.8 279.4,558.7 285.3,559.7 290.6,561.7 296.5,559.7 300.4,559.1 308.3,561.7 312.3,562.3 318.8,562.3 322.8,565.6 329.4,571.5 333.9,577 340.4,580.2 347,579.6 351.4,578 355.8,580.9 362.3,582.4 366.6,584.9 375.3,584.9 384.1,583.8 392.8,583.8 401.6,586 410.4,588.2 418,581.6 425.7,576.8 433.4,580.5 443.2,582.7 454.2,579.4 465.1,577.2 476,579.9 487,583.8 493.6,585.5 499.1,589.2 504.6,591.9 510.1,591.9 517.4,590.7 526.5,588.8 535.6,588.8 544.7,590.1 552,590.1 561.2,588.8 570.3,588.3 579.4,587.7 584.9,587.4 592.2,587 597.7,587.7 602.2,589.6 605,588.3 606.8,589.2" fill="none" stroke="#000" stroke-width="2.0" stroke-linejoin="round" stroke-dasharray="6.2 4.4" stroke-linecap="butt"/>
<path d="M73.2,401 75.3,412.7 77.4,411.6 80.6,377.6 82.8,360.5 86,346.7 88.1,354.1 90.2,377.6 91.3,396.7 94.5,411.6 97.7,426.5 101.9,441.4 104.4,450 106.2,455 108.8,461 110.4,464.8 112,469.7 115.3,476.3 118.6,483.9 121.9,485 125.2,487.2 128.5,489.4 130.7,488.3 132.8,489.4 135,489 138.3,493.8 140.5,502.6 142.7,508 144.9,510.2 147.1,520 149.3,522.3 151.5,521.2 153.6,526.6 155.8,524.4 158,526.6 160.2,528.8 162.4,525.5 164.6,526.6 166.8,525.5 170.1,528.8 175.5,533.2 182.1,537.6 189.8,542 196.3,545.2 202.9,547.4 209.5,550.7 216,552.9 220.4,554 224.4,556.1 228.8,558.3 232,562.7 236.4,566 240.8,563.8 246.6,563.4 251.2,569.6 255.8,568.3 259.7,566.9 261.7,563.7 268.3,563.7 270.9,565 274.2,567.6 276.8,568.3 279.4,570.9 282.7,573.5 284.7,572.9 292.6,572.2 296.5,574.2 301.8,576.8 307,578.8 311,578.1 315.6,575.5 320.2,574.2 323.4,571.5 326.7,572.2 331.7,573.6 338.2,576.5 345.9,575.2 351.4,578 356.8,581.7 361.2,581.7 365.5,577.7 369.9,583.8 374.2,586.4 378.6,583.8 387.4,584.9 395,588.6 401.6,586 406,585.5 410.4,588.2 415.8,593.6 421.3,589.3 427.9,592.5 432.3,591.5 437.7,594.7 442.1,592.5 449.8,592.1 456.3,589.9 460.7,592.5 467.3,596.5 473.9,598 480.4,597.4 485.9,598 490,598.3 493.6,595.6 497.3,593.8 501,595.6 503.7,593.8 506.4,591.9 509.2,596.5 513.7,598.3 517.4,596.5 521,595.6 522.8,597.4 525.6,598.3 528.3,599.8 532,597.4 535.6,596.5 539.3,599.2 542.9,601.1 546.6,600.5 549.3,598.7 553,601.1 556.6,599.8 559.3,600.5 563,598 566.6,598 571.2,598.7 574.9,598 579.4,593.8 584,592.5 588.5,596.5 592.2,597.4 594.9,596.5 598.6,592.8 602.2,593.8 605,595.6 606.8,592.8" fill="none" stroke="#0000ff" stroke-width="2.0" stroke-linejoin="round" />
<rect x="366.8" y="360.4" width="208.2" height="147.2" fill="#fff"/>
<path d="M366.8,360.4 367.6,365 368.6,370.5 369.8,374.5 371.5,378.5 373.8,382.3 377,386.5 381.1,391.1 384.5,396 388.4,401.3 391.5,405.5 395.3,411.2 400,416.5 405,420.9 410,426 414.6,430.5 419,434 424.2,437.5 429,440.5 433.9,443 443.5,448.8 456.3,456.2 472.4,464.2 488.5,471.3 504.5,476.4 520.6,481.9 536.6,486.7 552.7,491.5 565.5,495.7 574.5,498.9" fill="none" stroke="#0072bd" stroke-width="2.0" stroke-linejoin="round" />
<rect x="72.5" y="5.0" width="537.5" height="274.3" fill="none" stroke="#262626" stroke-width="1.2"/>
<line x1="185.3" y1="279.3" x2="185.3" y2="273.8" stroke="#262626" stroke-width="1" />
<line x1="185.3" y1="5" x2="185.3" y2="10.5" stroke="#262626" stroke-width="1" />
<line x1="327.3" y1="279.3" x2="327.3" y2="273.8" stroke="#262626" stroke-width="1" />
<line x1="327.3" y1="5" x2="327.3" y2="10.5" stroke="#262626" stroke-width="1" />
<line x1="468.8" y1="279.3" x2="468.8" y2="273.8" stroke="#262626" stroke-width="1" />
<line x1="468.8" y1="5" x2="468.8" y2="10.5" stroke="#262626" stroke-width="1" />
<line x1="72.5" y1="67.7" x2="78" y2="67.7" stroke="#262626" stroke-width="1" />
<line x1="610" y1="67.7" x2="604.5" y2="67.7" stroke="#262626" stroke-width="1" />
<line x1="72.5" y1="144.2" x2="78" y2="144.2" stroke="#262626" stroke-width="1" />
<line x1="610" y1="144.2" x2="604.5" y2="144.2" stroke="#262626" stroke-width="1" />
<line x1="72.5" y1="121.1" x2="75.5" y2="121.1" stroke="#262626" stroke-width="0.9" />
<line x1="610" y1="121.1" x2="607" y2="121.1" stroke="#262626" stroke-width="0.9" />
<line x1="72.5" y1="107.7" x2="75.5" y2="107.7" stroke="#262626" stroke-width="0.9" />
<line x1="610" y1="107.7" x2="607" y2="107.7" stroke="#262626" stroke-width="0.9" />
<line x1="72.5" y1="98.1" x2="75.5" y2="98.1" stroke="#262626" stroke-width="0.9" />
<line x1="610" y1="98.1" x2="607" y2="98.1" stroke="#262626" stroke-width="0.9" />
<line x1="72.5" y1="90.7" x2="75.5" y2="90.7" stroke="#262626" stroke-width="0.9" />
<line x1="610" y1="90.7" x2="607" y2="90.7" stroke="#262626" stroke-width="0.9" />
<line x1="72.5" y1="84.7" x2="75.5" y2="84.7" stroke="#262626" stroke-width="0.9" />
<line x1="610" y1="84.7" x2="607" y2="84.7" stroke="#262626" stroke-width="0.9" />
<line x1="72.5" y1="79.5" x2="75.5" y2="79.5" stroke="#262626" stroke-width="0.9" />
<line x1="610" y1="79.5" x2="607" y2="79.5" stroke="#262626" stroke-width="0.9" />
<line x1="72.5" y1="75.1" x2="75.5" y2="75.1" stroke="#262626" stroke-width="0.9" />
<line x1="610" y1="75.1" x2="607" y2="75.1" stroke="#262626" stroke-width="0.9" />
<line x1="72.5" y1="71.2" x2="75.5" y2="71.2" stroke="#262626" stroke-width="0.9" />
<line x1="610" y1="71.2" x2="607" y2="71.2" stroke="#262626" stroke-width="0.9" />
<line x1="72.5" y1="220.6" x2="78" y2="220.6" stroke="#262626" stroke-width="1" />
<line x1="610" y1="220.6" x2="604.5" y2="220.6" stroke="#262626" stroke-width="1" />
<line x1="72.5" y1="197.6" x2="75.5" y2="197.6" stroke="#262626" stroke-width="0.9" />
<line x1="610" y1="197.6" x2="607" y2="197.6" stroke="#262626" stroke-width="0.9" />
<line x1="72.5" y1="184.1" x2="75.5" y2="184.1" stroke="#262626" stroke-width="0.9" />
<line x1="610" y1="184.1" x2="607" y2="184.1" stroke="#262626" stroke-width="0.9" />
<line x1="72.5" y1="174.6" x2="75.5" y2="174.6" stroke="#262626" stroke-width="0.9" />
<line x1="610" y1="174.6" x2="607" y2="174.6" stroke="#262626" stroke-width="0.9" />
<line x1="72.5" y1="167.2" x2="75.5" y2="167.2" stroke="#262626" stroke-width="0.9" />
<line x1="610" y1="167.2" x2="607" y2="167.2" stroke="#262626" stroke-width="0.9" />
<line x1="72.5" y1="161.1" x2="75.5" y2="161.1" stroke="#262626" stroke-width="0.9" />
<line x1="610" y1="161.1" x2="607" y2="161.1" stroke="#262626" stroke-width="0.9" />
<line x1="72.5" y1="156" x2="75.5" y2="156" stroke="#262626" stroke-width="0.9" />
<line x1="610" y1="156" x2="607" y2="156" stroke="#262626" stroke-width="0.9" />
<line x1="72.5" y1="151.6" x2="75.5" y2="151.6" stroke="#262626" stroke-width="0.9" />
<line x1="610" y1="151.6" x2="607" y2="151.6" stroke="#262626" stroke-width="0.9" />
<line x1="72.5" y1="147.6" x2="75.5" y2="147.6" stroke="#262626" stroke-width="0.9" />
<line x1="610" y1="147.6" x2="607" y2="147.6" stroke="#262626" stroke-width="0.9" />
<line x1="72.5" y1="274" x2="75.5" y2="274" stroke="#262626" stroke-width="0.9" />
<line x1="610" y1="274" x2="607" y2="274" stroke="#262626" stroke-width="0.9" />
<line x1="72.5" y1="260.6" x2="75.5" y2="260.6" stroke="#262626" stroke-width="0.9" />
<line x1="610" y1="260.6" x2="607" y2="260.6" stroke="#262626" stroke-width="0.9" />
<line x1="72.5" y1="251" x2="75.5" y2="251" stroke="#262626" stroke-width="0.9" />
<line x1="610" y1="251" x2="607" y2="251" stroke="#262626" stroke-width="0.9" />
<line x1="72.5" y1="243.6" x2="75.5" y2="243.6" stroke="#262626" stroke-width="0.9" />
<line x1="610" y1="243.6" x2="607" y2="243.6" stroke="#262626" stroke-width="0.9" />
<line x1="72.5" y1="237.6" x2="75.5" y2="237.6" stroke="#262626" stroke-width="0.9" />
<line x1="610" y1="237.6" x2="607" y2="237.6" stroke="#262626" stroke-width="0.9" />
<line x1="72.5" y1="232.4" x2="75.5" y2="232.4" stroke="#262626" stroke-width="0.9" />
<line x1="610" y1="232.4" x2="607" y2="232.4" stroke="#262626" stroke-width="0.9" />
<line x1="72.5" y1="228" x2="75.5" y2="228" stroke="#262626" stroke-width="0.9" />
<line x1="610" y1="228" x2="607" y2="228" stroke="#262626" stroke-width="0.9" />
<line x1="72.5" y1="224.1" x2="75.5" y2="224.1" stroke="#262626" stroke-width="0.9" />
<line x1="610" y1="224.1" x2="607" y2="224.1" stroke="#262626" stroke-width="0.9" />
<text x="30.9" y="72.5" font-family="Liberation Serif" font-size="17.5" font-weight="bold" font-style="normal" text-anchor="start" fill="#262626" textLength="18.4" lengthAdjust="spacingAndGlyphs" >10</text>
<text x="51" y="66.1" font-family="Liberation Serif" font-size="12.2" font-weight="bold" font-style="normal" text-anchor="start" fill="#262626" textLength="15.3" lengthAdjust="spacingAndGlyphs" >&#8722;3</text>
<text x="30.9" y="149" font-family="Liberation Serif" font-size="17.5" font-weight="bold" font-style="normal" text-anchor="start" fill="#262626" textLength="18.4" lengthAdjust="spacingAndGlyphs" >10</text>
<text x="51" y="142.6" font-family="Liberation Serif" font-size="12.2" font-weight="bold" font-style="normal" text-anchor="start" fill="#262626" textLength="15.3" lengthAdjust="spacingAndGlyphs" >&#8722;4</text>
<text x="30.9" y="225.4" font-family="Liberation Serif" font-size="17.5" font-weight="bold" font-style="normal" text-anchor="start" fill="#262626" textLength="18.4" lengthAdjust="spacingAndGlyphs" >10</text>
<text x="51" y="219" font-family="Liberation Serif" font-size="12.2" font-weight="bold" font-style="normal" text-anchor="start" fill="#262626" textLength="15.3" lengthAdjust="spacingAndGlyphs" >&#8722;5</text>
<text x="185.3" y="301.2" font-family="Liberation Serif" font-size="16.5" font-weight="bold" font-style="normal" text-anchor="middle" fill="#262626" textLength="38.6" lengthAdjust="spacingAndGlyphs" >0.42</text>
<text x="327" y="301.2" font-family="Liberation Serif" font-size="16.5" font-weight="bold" font-style="normal" text-anchor="middle" fill="#262626" textLength="38.6" lengthAdjust="spacingAndGlyphs" >0.84</text>
<text x="467.9" y="301.2" font-family="Liberation Serif" font-size="16.5" font-weight="bold" font-style="normal" text-anchor="middle" fill="#262626" textLength="38.6" lengthAdjust="spacingAndGlyphs" >1.26</text>
<text x="600.1" y="301.2" font-family="Liberation Serif" font-size="16.5" font-weight="bold" font-style="normal" text-anchor="middle" fill="#262626" textLength="38.6" lengthAdjust="spacingAndGlyphs" >1.68</text>
<text x="320.3" y="325.4" font-family="Liberation Serif" font-size="26" font-weight="normal" font-style="normal" text-anchor="middle" fill="#262626" >|</text>
<text x="332.4" y="325.4" font-family="Liberation Serif" font-size="26" font-weight="bold" font-style="normal" text-anchor="middle" fill="#262626" >k</text>
<text x="343.5" y="325.4" font-family="Liberation Serif" font-size="26" font-weight="normal" font-style="normal" text-anchor="middle" fill="#262626" >|</text>
<text x="351" y="325.4" font-family="Liberation Serif" font-size="26" font-weight="normal" font-style="italic" text-anchor="middle" fill="#262626" >l</text>
<text x="359" y="328.5" font-family="Liberation Serif" font-size="17" font-weight="normal" font-style="normal" text-anchor="middle" fill="#262626" >s</text>
<g transform="translate(19.8,139) rotate(-90)">
<text x="0" y="0" font-family="Liberation Serif" font-size="22" text-anchor="middle" fill="#262626" textLength="214" lengthAdjust="spacing"><tspan font-style="italic">&#xF1;</tspan>(|<tspan font-weight="bold">k</tspan>|, <tspan font-style="italic">t</tspan>)(|<tspan font-weight="bold">k</tspan>|<tspan font-style="italic">l</tspan><tspan font-size="15" dy="4">s</tspan><tspan dy="-4">)</tspan><tspan font-size="15" dy="-9" font-style="italic">&#947;</tspan><tspan dy="9"> (</tspan><tspan font-style="italic">&#956;</tspan>m<tspan font-size="15" dy="-9">2</tspan><tspan dy="9">)</tspan></text>
</g>
<text x="106.2" y="260.8" font-family="Liberation Serif" font-size="31" font-weight="bold" font-style="normal" text-anchor="middle" fill="#262626" >(a)</text>
<defs><linearGradient id="jetv" x1="0" y1="1" x2="0" y2="0"><stop offset="0.0000" stop-color="#000080"/><stop offset="0.0156" stop-color="#00008f"/><stop offset="0.0312" stop-color="#00009f"/><stop offset="0.0469" stop-color="#0000af"/><stop offset="0.0625" stop-color="#0000bf"/><stop offset="0.0781" stop-color="#0000cf"/><stop offset="0.0938" stop-color="#0000df"/><stop offset="0.1094" stop-color="#0000ef"/><stop offset="0.1250" stop-color="#0000ff"/><stop offset="0.1406" stop-color="#0010ff"/><stop offset="0.1562" stop-color="#0020ff"/><stop offset="0.1719" stop-color="#0030ff"/><stop offset="0.1875" stop-color="#0040ff"/><stop offset="0.2031" stop-color="#0050ff"/><stop offset="0.2188" stop-color="#0060ff"/><stop offset="0.2344" stop-color="#0070ff"/><stop offset="0.2500" stop-color="#0080ff"/><stop offset="0.2656" stop-color="#008fff"/><stop offset="0.2812" stop-color="#009fff"/><stop offset="0.2969" stop-color="#00afff"/><stop offset="0.3125" stop-color="#00bfff"/><stop offset="0.3281" stop-color="#00cfff"/><stop offset="0.3438" stop-color="#00dfff"/><stop offset="0.3594" stop-color="#00efff"/><stop offset="0.3750" stop-color="#00ffff"/><stop offset="0.3906" stop-color="#10ffef"/><stop offset="0.4062" stop-color="#20ffdf"/><stop offset="0.4219" stop-color="#30ffcf"/><stop offset="0.4375" stop-color="#40ffbf"/><stop offset="0.4531" stop-color="#50ffaf"/><stop offset="0.4688" stop-color="#60ff9f"/><stop offset="0.4844" stop-color="#70ff8f"/><stop offset="0.5000" stop-color="#80ff80"/><stop offset="0.5156" stop-color="#8fff70"/><stop offset="0.5312" stop-color="#9fff60"/><stop offset="0.5469" stop-color="#afff50"/><stop offset="0.5625" stop-color="#bfff40"/><stop offset="0.5781" stop-color="#cfff30"/><stop offset="0.5938" stop-color="#dfff20"/><stop offset="0.6094" stop-color="#efff10"/><stop offset="0.6250" stop-color="#ffff00"/><stop offset="0.6406" stop-color="#ffef00"/><stop offset="0.6562" stop-color="#ffdf00"/><stop offset="0.6719" stop-color="#ffcf00"/><stop offset="0.6875" stop-color="#ffbf00"/><stop offset="0.7031" stop-color="#ffaf00"/><stop offset="0.7188" stop-color="#ff9f00"/><stop offset="0.7344" stop-color="#ff8f00"/><stop offset="0.7500" stop-color="#ff8000"/><stop offset="0.7656" stop-color="#ff7000"/><stop offset="0.7812" stop-color="#ff6000"/><stop offset="0.7969" stop-color="#ff5000"/><stop offset="0.8125" stop-color="#ff4000"/><stop offset="0.8281" stop-color="#ff3000"/><stop offset="0.8438" stop-color="#ff2000"/><stop offset="0.8594" stop-color="#ff1000"/><stop offset="0.8750" stop-color="#ff0000"/><stop offset="0.8906" stop-color="#ef0000"/><stop offset="0.9062" stop-color="#df0000"/><stop offset="0.9219" stop-color="#cf0000"/><stop offset="0.9375" stop-color="#bf0000"/><stop offset="0.9531" stop-color="#af0000"/><stop offset="0.9688" stop-color="#9f0000"/><stop offset="0.9844" stop-color="#8f0000"/><stop offset="1.0000" stop-color="#800000"/></linearGradient></defs>
<rect x="619.1" y="4.6" width="14.1" height="274.9" fill="url(#jetv)" stroke="#262626" stroke-width="1.2"/>
<text x="637.4" y="284.3" font-family="Liberation Serif" font-size="15" font-weight="normal" font-style="normal" text-anchor="start" fill="#262626" textLength="7.6" lengthAdjust="spacingAndGlyphs" >0</text>
<line x1="633.2" y1="188.6" x2="628.2" y2="188.6" stroke="#262626" stroke-width="1" />
<text x="637.4" y="193.4" font-family="Liberation Serif" font-size="15" font-weight="normal" font-style="normal" text-anchor="start" fill="#262626" textLength="22.8" lengthAdjust="spacingAndGlyphs" >500</text>
<line x1="633.2" y1="97.7" x2="628.2" y2="97.7" stroke="#262626" stroke-width="1" />
<text x="637.4" y="102.5" font-family="Liberation Serif" font-size="15" font-weight="normal" font-style="normal" text-anchor="start" fill="#262626" textLength="30.4" lengthAdjust="spacingAndGlyphs" >1000</text>
<line x1="633.2" y1="6.8" x2="628.2" y2="6.8" stroke="#262626" stroke-width="1" />
<text x="637.4" y="11.6" font-family="Liberation Serif" font-size="15" font-weight="normal" font-style="normal" text-anchor="start" fill="#262626" textLength="30.4" lengthAdjust="spacingAndGlyphs" >1500</text>
<g transform="translate(666,142.5) rotate(90)">
<text x="0" y="0" font-family="Liberation Serif" font-size="26" text-anchor="middle" fill="#262626"><tspan font-style="italic">t</tspan> (ms)</text>
</g>
<rect x="386.6" y="12.0" width="148.9" height="149.7" fill="none" stroke="#444" stroke-width="0.9"/>
<line x1="386.6" y1="12" x2="390.1" y2="12" stroke="#444" stroke-width="0.8" />
<line x1="535.5" y1="12" x2="532" y2="12" stroke="#444" stroke-width="0.8" />
<line x1="386.6" y1="33.1" x2="390.1" y2="33.1" stroke="#444" stroke-width="0.8" />
<line x1="535.5" y1="33.1" x2="532" y2="33.1" stroke="#444" stroke-width="0.8" />
<line x1="386.6" y1="26.8" x2="388.6" y2="26.8" stroke="#444" stroke-width="0.6" />
<line x1="535.5" y1="26.8" x2="533.5" y2="26.8" stroke="#444" stroke-width="0.6" />
<line x1="386.6" y1="23.1" x2="388.6" y2="23.1" stroke="#444" stroke-width="0.6" />
<line x1="535.5" y1="23.1" x2="533.5" y2="23.1" stroke="#444" stroke-width="0.6" />
<line x1="386.6" y1="20.4" x2="388.6" y2="20.4" stroke="#444" stroke-width="0.6" />
<line x1="535.5" y1="20.4" x2="533.5" y2="20.4" stroke="#444" stroke-width="0.6" />
<line x1="386.6" y1="18.4" x2="388.6" y2="18.4" stroke="#444" stroke-width="0.6" />
<line x1="535.5" y1="18.4" x2="533.5" y2="18.4" stroke="#444" stroke-width="0.6" />
<line x1="386.6" y1="16.7" x2="388.6" y2="16.7" stroke="#444" stroke-width="0.6" />
<line x1="535.5" y1="16.7" x2="533.5" y2="16.7" stroke="#444" stroke-width="0.6" />
<line x1="386.6" y1="15.3" x2="388.6" y2="15.3" stroke="#444" stroke-width="0.6" />
<line x1="535.5" y1="15.3" x2="533.5" y2="15.3" stroke="#444" stroke-width="0.6" />
<line x1="386.6" y1="14" x2="388.6" y2="14" stroke="#444" stroke-width="0.6" />
<line x1="535.5" y1="14" x2="533.5" y2="14" stroke="#444" stroke-width="0.6" />
<line x1="386.6" y1="54.3" x2="390.1" y2="54.3" stroke="#444" stroke-width="0.8" />
<line x1="535.5" y1="54.3" x2="532" y2="54.3" stroke="#444" stroke-width="0.8" />
<line x1="386.6" y1="47.9" x2="388.6" y2="47.9" stroke="#444" stroke-width="0.6" />
<line x1="535.5" y1="47.9" x2="533.5" y2="47.9" stroke="#444" stroke-width="0.6" />
<line x1="386.6" y1="44.2" x2="388.6" y2="44.2" stroke="#444" stroke-width="0.6" />
<line x1="535.5" y1="44.2" x2="533.5" y2="44.2" stroke="#444" stroke-width="0.6" />
<line x1="386.6" y1="41.6" x2="388.6" y2="41.6" stroke="#444" stroke-width="0.6" />
<line x1="535.5" y1="41.6" x2="533.5" y2="41.6" stroke="#444" stroke-width="0.6" />
<line x1="386.6" y1="39.5" x2="388.6" y2="39.5" stroke="#444" stroke-width="0.6" />
<line x1="535.5" y1="39.5" x2="533.5" y2="39.5" stroke="#444" stroke-width="0.6" />
<line x1="386.6" y1="37.8" x2="388.6" y2="37.8" stroke="#444" stroke-width="0.6" />
<line x1="535.5" y1="37.8" x2="533.5" y2="37.8" stroke="#444" stroke-width="0.6" />
<line x1="386.6" y1="36.4" x2="388.6" y2="36.4" stroke="#444" stroke-width="0.6" />
<line x1="535.5" y1="36.4" x2="533.5" y2="36.4" stroke="#444" stroke-width="0.6" />
<line x1="386.6" y1="35.2" x2="388.6" y2="35.2" stroke="#444" stroke-width="0.6" />
<line x1="535.5" y1="35.2" x2="533.5" y2="35.2" stroke="#444" stroke-width="0.6" />
<line x1="386.6" y1="34.1" x2="388.6" y2="34.1" stroke="#444" stroke-width="0.6" />
<line x1="535.5" y1="34.1" x2="533.5" y2="34.1" stroke="#444" stroke-width="0.6" />
<line x1="386.6" y1="75.4" x2="390.1" y2="75.4" stroke="#444" stroke-width="0.8" />
<line x1="535.5" y1="75.4" x2="532" y2="75.4" stroke="#444" stroke-width="0.8" />
<line x1="386.6" y1="69.1" x2="388.6" y2="69.1" stroke="#444" stroke-width="0.6" />
<line x1="535.5" y1="69.1" x2="533.5" y2="69.1" stroke="#444" stroke-width="0.6" />
<line x1="386.6" y1="65.4" x2="388.6" y2="65.4" stroke="#444" stroke-width="0.6" />
<line x1="535.5" y1="65.4" x2="533.5" y2="65.4" stroke="#444" stroke-width="0.6" />
<line x1="386.6" y1="62.7" x2="388.6" y2="62.7" stroke="#444" stroke-width="0.6" />
<line x1="535.5" y1="62.7" x2="533.5" y2="62.7" stroke="#444" stroke-width="0.6" />
<line x1="386.6" y1="60.7" x2="388.6" y2="60.7" stroke="#444" stroke-width="0.6" />
<line x1="535.5" y1="60.7" x2="533.5" y2="60.7" stroke="#444" stroke-width="0.6" />
<line x1="386.6" y1="59" x2="388.6" y2="59" stroke="#444" stroke-width="0.6" />
<line x1="535.5" y1="59" x2="533.5" y2="59" stroke="#444" stroke-width="0.6" />
<line x1="386.6" y1="57.6" x2="388.6" y2="57.6" stroke="#444" stroke-width="0.6" />
<line x1="535.5" y1="57.6" x2="533.5" y2="57.6" stroke="#444" stroke-width="0.6" />
<line x1="386.6" y1="56.3" x2="388.6" y2="56.3" stroke="#444" stroke-width="0.6" />
<line x1="535.5" y1="56.3" x2="533.5" y2="56.3" stroke="#444" stroke-width="0.6" />
<line x1="386.6" y1="55.3" x2="388.6" y2="55.3" stroke="#444" stroke-width="0.6" />
<line x1="535.5" y1="55.3" x2="533.5" y2="55.3" stroke="#444" stroke-width="0.6" />
<line x1="386.6" y1="96.6" x2="390.1" y2="96.6" stroke="#444" stroke-width="0.8" />
<line x1="535.5" y1="96.6" x2="532" y2="96.6" stroke="#444" stroke-width="0.8" />
<line x1="386.6" y1="90.2" x2="388.6" y2="90.2" stroke="#444" stroke-width="0.6" />
<line x1="535.5" y1="90.2" x2="533.5" y2="90.2" stroke="#444" stroke-width="0.6" />
<line x1="386.6" y1="86.5" x2="388.6" y2="86.5" stroke="#444" stroke-width="0.6" />
<line x1="535.5" y1="86.5" x2="533.5" y2="86.5" stroke="#444" stroke-width="0.6" />
<line x1="386.6" y1="83.9" x2="388.6" y2="83.9" stroke="#444" stroke-width="0.6" />
<line x1="535.5" y1="83.9" x2="533.5" y2="83.9" stroke="#444" stroke-width="0.6" />
<line x1="386.6" y1="81.8" x2="388.6" y2="81.8" stroke="#444" stroke-width="0.6" />
<line x1="535.5" y1="81.8" x2="533.5" y2="81.8" stroke="#444" stroke-width="0.6" />
<line x1="386.6" y1="80.1" x2="388.6" y2="80.1" stroke="#444" stroke-width="0.6" />
<line x1="535.5" y1="80.1" x2="533.5" y2="80.1" stroke="#444" stroke-width="0.6" />
<line x1="386.6" y1="78.7" x2="388.6" y2="78.7" stroke="#444" stroke-width="0.6" />
<line x1="535.5" y1="78.7" x2="533.5" y2="78.7" stroke="#444" stroke-width="0.6" />
<line x1="386.6" y1="77.5" x2="388.6" y2="77.5" stroke="#444" stroke-width="0.6" />
<line x1="535.5" y1="77.5" x2="533.5" y2="77.5" stroke="#444" stroke-width="0.6" />
<line x1="386.6" y1="76.4" x2="388.6" y2="76.4" stroke="#444" stroke-width="0.6" />
<line x1="535.5" y1="76.4" x2="533.5" y2="76.4" stroke="#444" stroke-width="0.6" />
<line x1="386.6" y1="117.8" x2="390.1" y2="117.8" stroke="#444" stroke-width="0.8" />
<line x1="535.5" y1="117.8" x2="532" y2="117.8" stroke="#444" stroke-width="0.8" />
<line x1="386.6" y1="111.4" x2="388.6" y2="111.4" stroke="#444" stroke-width="0.6" />
<line x1="535.5" y1="111.4" x2="533.5" y2="111.4" stroke="#444" stroke-width="0.6" />
<line x1="386.6" y1="107.7" x2="388.6" y2="107.7" stroke="#444" stroke-width="0.6" />
<line x1="535.5" y1="107.7" x2="533.5" y2="107.7" stroke="#444" stroke-width="0.6" />
<line x1="386.6" y1="105" x2="388.6" y2="105" stroke="#444" stroke-width="0.6" />
<line x1="535.5" y1="105" x2="533.5" y2="105" stroke="#444" stroke-width="0.6" />
<line x1="386.6" y1="103" x2="388.6" y2="103" stroke="#444" stroke-width="0.6" />
<line x1="535.5" y1="103" x2="533.5" y2="103" stroke="#444" stroke-width="0.6" />
<line x1="386.6" y1="101.3" x2="388.6" y2="101.3" stroke="#444" stroke-width="0.6" />
<line x1="535.5" y1="101.3" x2="533.5" y2="101.3" stroke="#444" stroke-width="0.6" />
<line x1="386.6" y1="99.9" x2="388.6" y2="99.9" stroke="#444" stroke-width="0.6" />
<line x1="535.5" y1="99.9" x2="533.5" y2="99.9" stroke="#444" stroke-width="0.6" />
<line x1="386.6" y1="98.6" x2="388.6" y2="98.6" stroke="#444" stroke-width="0.6" />
<line x1="535.5" y1="98.6" x2="533.5" y2="98.6" stroke="#444" stroke-width="0.6" />
<line x1="386.6" y1="97.6" x2="388.6" y2="97.6" stroke="#444" stroke-width="0.6" />
<line x1="535.5" y1="97.6" x2="533.5" y2="97.6" stroke="#444" stroke-width="0.6" />
<line x1="386.6" y1="138.9" x2="390.1" y2="138.9" stroke="#444" stroke-width="0.8" />
<line x1="535.5" y1="138.9" x2="532" y2="138.9" stroke="#444" stroke-width="0.8" />
<line x1="386.6" y1="132.5" x2="388.6" y2="132.5" stroke="#444" stroke-width="0.6" />
<line x1="535.5" y1="132.5" x2="533.5" y2="132.5" stroke="#444" stroke-width="0.6" />
<line x1="386.6" y1="128.8" x2="388.6" y2="128.8" stroke="#444" stroke-width="0.6" />
<line x1="535.5" y1="128.8" x2="533.5" y2="128.8" stroke="#444" stroke-width="0.6" />
<line x1="386.6" y1="126.2" x2="388.6" y2="126.2" stroke="#444" stroke-width="0.6" />
<line x1="535.5" y1="126.2" x2="533.5" y2="126.2" stroke="#444" stroke-width="0.6" />
<line x1="386.6" y1="124.1" x2="388.6" y2="124.1" stroke="#444" stroke-width="0.6" />
<line x1="535.5" y1="124.1" x2="533.5" y2="124.1" stroke="#444" stroke-width="0.6" />
<line x1="386.6" y1="122.4" x2="388.6" y2="122.4" stroke="#444" stroke-width="0.6" />
<line x1="535.5" y1="122.4" x2="533.5" y2="122.4" stroke="#444" stroke-width="0.6" />
<line x1="386.6" y1="121" x2="388.6" y2="121" stroke="#444" stroke-width="0.6" />
<line x1="535.5" y1="121" x2="533.5" y2="121" stroke="#444" stroke-width="0.6" />
<line x1="386.6" y1="119.8" x2="388.6" y2="119.8" stroke="#444" stroke-width="0.6" />
<line x1="535.5" y1="119.8" x2="533.5" y2="119.8" stroke="#444" stroke-width="0.6" />
<line x1="386.6" y1="118.7" x2="388.6" y2="118.7" stroke="#444" stroke-width="0.6" />
<line x1="535.5" y1="118.7" x2="533.5" y2="118.7" stroke="#444" stroke-width="0.6" />
<line x1="386.6" y1="160" x2="390.1" y2="160" stroke="#444" stroke-width="0.8" />
<line x1="535.5" y1="160" x2="532" y2="160" stroke="#444" stroke-width="0.8" />
<line x1="386.6" y1="153.7" x2="388.6" y2="153.7" stroke="#444" stroke-width="0.6" />
<line x1="535.5" y1="153.7" x2="533.5" y2="153.7" stroke="#444" stroke-width="0.6" />
<line x1="386.6" y1="150" x2="388.6" y2="150" stroke="#444" stroke-width="0.6" />
<line x1="535.5" y1="150" x2="533.5" y2="150" stroke="#444" stroke-width="0.6" />
<line x1="386.6" y1="147.3" x2="388.6" y2="147.3" stroke="#444" stroke-width="0.6" />
<line x1="535.5" y1="147.3" x2="533.5" y2="147.3" stroke="#444" stroke-width="0.6" />
<line x1="386.6" y1="145.3" x2="388.6" y2="145.3" stroke="#444" stroke-width="0.6" />
<line x1="535.5" y1="145.3" x2="533.5" y2="145.3" stroke="#444" stroke-width="0.6" />
<line x1="386.6" y1="143.6" x2="388.6" y2="143.6" stroke="#444" stroke-width="0.6" />
<line x1="535.5" y1="143.6" x2="533.5" y2="143.6" stroke="#444" stroke-width="0.6" />
<line x1="386.6" y1="142.2" x2="388.6" y2="142.2" stroke="#444" stroke-width="0.6" />
<line x1="535.5" y1="142.2" x2="533.5" y2="142.2" stroke="#444" stroke-width="0.6" />
<line x1="386.6" y1="140.9" x2="388.6" y2="140.9" stroke="#444" stroke-width="0.6" />
<line x1="535.5" y1="140.9" x2="533.5" y2="140.9" stroke="#444" stroke-width="0.6" />
<line x1="386.6" y1="139.9" x2="388.6" y2="139.9" stroke="#444" stroke-width="0.6" />
<line x1="535.5" y1="139.9" x2="533.5" y2="139.9" stroke="#444" stroke-width="0.6" />
<line x1="412.9" y1="161.7" x2="412.9" y2="159.7" stroke="#444" stroke-width="0.7" />
<line x1="412.9" y1="12" x2="412.9" y2="14" stroke="#444" stroke-width="0.7" />
<line x1="433.6" y1="161.7" x2="433.6" y2="159.7" stroke="#444" stroke-width="0.7" />
<line x1="433.6" y1="12" x2="433.6" y2="14" stroke="#444" stroke-width="0.7" />
<line x1="448.2" y1="161.7" x2="448.2" y2="159.7" stroke="#444" stroke-width="0.7" />
<line x1="448.2" y1="12" x2="448.2" y2="14" stroke="#444" stroke-width="0.7" />
<line x1="459.6" y1="161.7" x2="459.6" y2="159.7" stroke="#444" stroke-width="0.7" />
<line x1="459.6" y1="12" x2="459.6" y2="14" stroke="#444" stroke-width="0.7" />
<line x1="468.9" y1="161.7" x2="468.9" y2="159.7" stroke="#444" stroke-width="0.7" />
<line x1="468.9" y1="12" x2="468.9" y2="14" stroke="#444" stroke-width="0.7" />
<line x1="476.8" y1="161.7" x2="476.8" y2="159.7" stroke="#444" stroke-width="0.7" />
<line x1="476.8" y1="12" x2="476.8" y2="14" stroke="#444" stroke-width="0.7" />
<line x1="483.6" y1="161.7" x2="483.6" y2="159.7" stroke="#444" stroke-width="0.7" />
<line x1="483.6" y1="12" x2="483.6" y2="14" stroke="#444" stroke-width="0.7" />
<line x1="489.6" y1="161.7" x2="489.6" y2="159.7" stroke="#444" stroke-width="0.7" />
<line x1="489.6" y1="12" x2="489.6" y2="14" stroke="#444" stroke-width="0.7" />
<line x1="495" y1="161.7" x2="495" y2="158.2" stroke="#444" stroke-width="0.7" />
<line x1="495" y1="12" x2="495" y2="15.5" stroke="#444" stroke-width="0.7" />
<line x1="530.4" y1="161.7" x2="530.4" y2="159.7" stroke="#444" stroke-width="0.7" />
<line x1="530.4" y1="12" x2="530.4" y2="14" stroke="#444" stroke-width="0.7" />
<text x="360.9" y="17.5" font-family="Liberation Serif" font-size="15.5" font-weight="bold" font-style="normal" text-anchor="start" fill="#262626" textLength="14.6" lengthAdjust="spacingAndGlyphs" >10</text>
<text x="376.4" y="13.8" font-family="Liberation Serif" font-size="10" font-weight="bold" font-style="normal" text-anchor="start" fill="#262626" textLength="6.2" lengthAdjust="spacingAndGlyphs" >0</text>
<text x="355.9" y="59.8" font-family="Liberation Serif" font-size="15.5" font-weight="bold" font-style="normal" text-anchor="start" fill="#262626" textLength="14.6" lengthAdjust="spacingAndGlyphs" >10</text>
<text x="370.9" y="54.9" font-family="Liberation Serif" font-size="10" font-weight="bold" font-style="normal" text-anchor="start" fill="#262626" textLength="12.3" lengthAdjust="spacingAndGlyphs" >&#8722;2</text>
<text x="355.9" y="102.1" font-family="Liberation Serif" font-size="15.5" font-weight="bold" font-style="normal" text-anchor="start" fill="#262626" textLength="14.6" lengthAdjust="spacingAndGlyphs" >10</text>
<text x="370.9" y="97.2" font-family="Liberation Serif" font-size="10" font-weight="bold" font-style="normal" text-anchor="start" fill="#262626" textLength="12.3" lengthAdjust="spacingAndGlyphs" >&#8722;4</text>
<text x="355.9" y="144.4" font-family="Liberation Serif" font-size="15.5" font-weight="bold" font-style="normal" text-anchor="start" fill="#262626" textLength="14.6" lengthAdjust="spacingAndGlyphs" >10</text>
<text x="370.9" y="139.5" font-family="Liberation Serif" font-size="10" font-weight="bold" font-style="normal" text-anchor="start" fill="#262626" textLength="12.3" lengthAdjust="spacingAndGlyphs" >&#8722;6</text>
<text x="485" y="176.7" font-family="Liberation Serif" font-size="15.5" font-weight="bold" font-style="normal" text-anchor="start" fill="#262626" textLength="15.4" lengthAdjust="spacingAndGlyphs" >10</text>
<text x="501.3" y="170.8" font-family="Liberation Serif" font-size="10" font-weight="bold" font-style="normal" text-anchor="start" fill="#262626" textLength="6.2" lengthAdjust="spacingAndGlyphs" >0</text>
<text x="447.8" y="178.2" font-family="Liberation Serif" font-size="19" font-weight="normal" font-style="normal" text-anchor="middle" fill="#262626" >|</text>
<text x="455.2" y="178.2" font-family="Liberation Serif" font-size="19" font-weight="bold" font-style="normal" text-anchor="middle" fill="#262626" >k</text>
<text x="462.4" y="178.2" font-family="Liberation Serif" font-size="19" font-weight="normal" font-style="normal" text-anchor="middle" fill="#262626" >|</text>
<text x="466.6" y="178.2" font-family="Liberation Serif" font-size="19" font-weight="normal" font-style="italic" text-anchor="middle" fill="#262626" >l</text>
<text x="472.4" y="180.6" font-family="Liberation Serif" font-size="12.5" font-weight="normal" font-style="normal" text-anchor="middle" fill="#262626" >s</text>
<g transform="translate(344.3,84.3) rotate(-90)">
<text x="0" y="0" font-family="Liberation Serif" font-size="17" text-anchor="middle" fill="#262626" textLength="102" lengthAdjust="spacing"><tspan font-style="italic">&#xF1;</tspan>(|<tspan font-weight="bold">k</tspan>|, <tspan font-style="italic">t</tspan>) (<tspan font-style="italic">&#956;</tspan>m<tspan font-size="12" dy="-7">2</tspan><tspan dy="7">)</tspan></text>
</g>
<rect x="542" y="12" width="7.6" height="150.5" fill="url(#jetv)" stroke="#262626" stroke-width="0.9"/>
<text x="550.5" y="166.8" font-family="Liberation Serif" font-size="12.5" font-weight="normal" font-style="normal" text-anchor="start" fill="#262626" textLength="6.9" lengthAdjust="spacingAndGlyphs" >0</text>
<line x1="549.6" y1="112.5" x2="547" y2="112.5" stroke="#262626" stroke-width="0.8" />
<text x="550.5" y="116.8" font-family="Liberation Serif" font-size="12.5" font-weight="normal" font-style="normal" text-anchor="start" fill="#262626" textLength="20.7" lengthAdjust="spacingAndGlyphs" >500</text>
<line x1="549.6" y1="62.5" x2="547" y2="62.5" stroke="#262626" stroke-width="0.8" />
<text x="550.5" y="66.8" font-family="Liberation Serif" font-size="12.5" font-weight="normal" font-style="normal" text-anchor="start" fill="#262626" textLength="27.6" lengthAdjust="spacingAndGlyphs" >1000</text>
<line x1="549.6" y1="12.5" x2="547" y2="12.5" stroke="#262626" stroke-width="0.8" />
<text x="550.5" y="16.8" font-family="Liberation Serif" font-size="12.5" font-weight="normal" font-style="normal" text-anchor="start" fill="#262626" textLength="27.6" lengthAdjust="spacingAndGlyphs" >1500</text>
<g transform="translate(583.3,87.7) rotate(90)">
<text x="0" y="0" font-family="Liberation Serif" font-size="18.5" text-anchor="middle" fill="#262626"><tspan font-style="italic">t</tspan> (ms)</text>
</g>
<line x1="433.8" y1="26.9" x2="469.2" y2="26.9" stroke="#ff00ff" stroke-width="2.2" stroke-dasharray="8.6 4.8"/>
<text x="481.6" y="31.3" font-family="Liberation Serif" font-size="17" font-weight="normal" font-style="normal" text-anchor="middle" fill="#262626" >&#8733;</text>
<text x="490.8" y="31.8" font-family="Liberation Serif" font-size="15" font-weight="normal" font-style="normal" text-anchor="middle" fill="#262626" >|</text>
<text x="498.8" y="31.3" font-family="Liberation Serif" font-size="17" font-weight="bold" font-style="normal" text-anchor="middle" fill="#262626" >k</text>
<text x="506.9" y="31.8" font-family="Liberation Serif" font-size="15" font-weight="normal" font-style="normal" text-anchor="middle" fill="#262626" >|</text>
<text x="510" y="25" font-family="Liberation Serif" font-size="13" font-weight="normal" font-style="normal" text-anchor="start" fill="#262626" textLength="17" lengthAdjust="spacingAndGlyphs" >&#8722;<tspan font-style="italic">&#947;</tspan></text>
<rect x="73.5" y="335.6" width="536.8" height="273.4" fill="none" stroke="#262626" stroke-width="1.2"/>
<text x="73.5" y="628.9" font-family="Liberation Serif" font-size="16.5" font-weight="bold" font-style="normal" text-anchor="middle" fill="#262626" textLength="9.7" lengthAdjust="spacingAndGlyphs" >0</text>
<line x1="144.1" y1="609" x2="144.1" y2="603.5" stroke="#262626" stroke-width="1" />
<line x1="144.1" y1="335.6" x2="144.1" y2="341.1" stroke="#262626" stroke-width="1" />
<text x="144.1" y="628.9" font-family="Liberation Serif" font-size="16.5" font-weight="bold" font-style="normal" text-anchor="middle" fill="#262626" textLength="29.1" lengthAdjust="spacingAndGlyphs" >200</text>
<line x1="214.7" y1="609" x2="214.7" y2="603.5" stroke="#262626" stroke-width="1" />
<line x1="214.7" y1="335.6" x2="214.7" y2="341.1" stroke="#262626" stroke-width="1" />
<text x="214.7" y="628.9" font-family="Liberation Serif" font-size="16.5" font-weight="bold" font-style="normal" text-anchor="middle" fill="#262626" textLength="29.1" lengthAdjust="spacingAndGlyphs" >400</text>
<line x1="285.3" y1="609" x2="285.3" y2="603.5" stroke="#262626" stroke-width="1" />
<line x1="285.3" y1="335.6" x2="285.3" y2="341.1" stroke="#262626" stroke-width="1" />
<text x="285.3" y="628.9" font-family="Liberation Serif" font-size="16.5" font-weight="bold" font-style="normal" text-anchor="middle" fill="#262626" textLength="29.1" lengthAdjust="spacingAndGlyphs" >600</text>
<line x1="355.8" y1="609" x2="355.8" y2="603.5" stroke="#262626" stroke-width="1" />
<line x1="355.8" y1="335.6" x2="355.8" y2="341.1" stroke="#262626" stroke-width="1" />
<text x="355.8" y="628.9" font-family="Liberation Serif" font-size="16.5" font-weight="bold" font-style="normal" text-anchor="middle" fill="#262626" textLength="29.1" lengthAdjust="spacingAndGlyphs" >800</text>
<line x1="426.4" y1="609" x2="426.4" y2="603.5" stroke="#262626" stroke-width="1" />
<line x1="426.4" y1="335.6" x2="426.4" y2="341.1" stroke="#262626" stroke-width="1" />
<text x="426.4" y="628.9" font-family="Liberation Serif" font-size="16.5" font-weight="bold" font-style="normal" text-anchor="middle" fill="#262626" textLength="38.8" lengthAdjust="spacingAndGlyphs" >1000</text>
<line x1="497" y1="609" x2="497" y2="603.5" stroke="#262626" stroke-width="1" />
<line x1="497" y1="335.6" x2="497" y2="341.1" stroke="#262626" stroke-width="1" />
<text x="497" y="628.9" font-family="Liberation Serif" font-size="16.5" font-weight="bold" font-style="normal" text-anchor="middle" fill="#262626" textLength="38.8" lengthAdjust="spacingAndGlyphs" >1200</text>
<line x1="567.6" y1="609" x2="567.6" y2="603.5" stroke="#262626" stroke-width="1" />
<line x1="567.6" y1="335.6" x2="567.6" y2="341.1" stroke="#262626" stroke-width="1" />
<text x="567.6" y="628.9" font-family="Liberation Serif" font-size="16.5" font-weight="bold" font-style="normal" text-anchor="middle" fill="#262626" textLength="38.8" lengthAdjust="spacingAndGlyphs" >1400</text>
<text x="68.5" y="613.9" font-family="Liberation Serif" font-size="16.5" font-weight="bold" font-style="normal" text-anchor="end" fill="#262626" textLength="9.5" lengthAdjust="spacingAndGlyphs" >2</text>
<line x1="73.5" y1="540.3" x2="79" y2="540.3" stroke="#262626" stroke-width="1" />
<line x1="610.3" y1="540.3" x2="604.8" y2="540.3" stroke="#262626" stroke-width="1" />
<text x="68.5" y="545.6" font-family="Liberation Serif" font-size="16.5" font-weight="bold" font-style="normal" text-anchor="end" fill="#262626" textLength="9.5" lengthAdjust="spacingAndGlyphs" >4</text>
<line x1="73.5" y1="472" x2="79" y2="472" stroke="#262626" stroke-width="1" />
<line x1="610.3" y1="472" x2="604.8" y2="472" stroke="#262626" stroke-width="1" />
<text x="68.5" y="477.3" font-family="Liberation Serif" font-size="16.5" font-weight="bold" font-style="normal" text-anchor="end" fill="#262626" textLength="9.5" lengthAdjust="spacingAndGlyphs" >6</text>
<line x1="73.5" y1="403.6" x2="79" y2="403.6" stroke="#262626" stroke-width="1" />
<line x1="610.3" y1="403.6" x2="604.8" y2="403.6" stroke="#262626" stroke-width="1" />
<text x="68.5" y="408.9" font-family="Liberation Serif" font-size="16.5" font-weight="bold" font-style="normal" text-anchor="end" fill="#262626" textLength="9.5" lengthAdjust="spacingAndGlyphs" >8</text>
<text x="68.5" y="340.6" font-family="Liberation Serif" font-size="16.5" font-weight="bold" font-style="normal" text-anchor="end" fill="#262626" textLength="19" lengthAdjust="spacingAndGlyphs" >10</text>
<g transform="translate(40,472.4) rotate(-90)">
<text x="0" y="0" font-family="Liberation Serif" font-size="27" text-anchor="middle" fill="#262626"><tspan font-style="italic">&#947;</tspan>(<tspan font-style="italic">t</tspan>)</text>
</g>
<text x="342" y="651.7" font-family="Liberation Serif" font-size="25" font-weight="normal" font-style="normal" text-anchor="middle" fill="#262626" textLength="60" lengthAdjust="spacingAndGlyphs" ><tspan font-style="italic">t</tspan> (ms)</text>
<text x="107.2" y="593.5" font-family="Liberation Serif" font-size="31" font-weight="bold" font-style="normal" text-anchor="middle" fill="#262626" >(b)</text>
<line x1="112.3" y1="375.3" x2="129.8" y2="375.3" stroke="#0000ff" stroke-width="2" />
<line x1="112.3" y1="410" x2="129.8" y2="410" stroke="#000" stroke-width="2" stroke-dasharray="5.2 7.7"/>
<text x="132.2" y="380.2" font-family="Liberation Serif" font-size="17" font-weight="normal" font-style="normal" text-anchor="start" fill="#262626" textLength="157" lengthAdjust="spacingAndGlyphs" ><tspan font-style="italic">L</tspan><tspan font-size="12" dy="3">3</tspan><tspan dy="-3"> = 1.2 &#215; 10</tspan><tspan font-size="12" dy="-7">&#8722;41</tspan><tspan dy="7"> m</tspan><tspan font-size="12" dy="-7">6</tspan><tspan dy="7">/s</tspan></text>
<text x="132.2" y="414.6" font-family="Liberation Serif" font-size="17" font-weight="normal" font-style="normal" text-anchor="start" fill="#262626" textLength="47" lengthAdjust="spacingAndGlyphs" ><tspan font-style="italic">L</tspan><tspan font-size="12" dy="3">3</tspan><tspan dy="-3"> = 0</tspan></text>
<rect x="366.8" y="360.4" width="208.2" height="147.2" fill="none" stroke="#262626" stroke-width="1"/>
<text x="366.8" y="527.2" font-family="Liberation Serif" font-size="14.5" font-weight="bold" font-style="normal" text-anchor="middle" fill="#262626" textLength="9.6" lengthAdjust="spacingAndGlyphs" >0</text>
<line x1="436.2" y1="507.6" x2="436.2" y2="503.6" stroke="#262626" stroke-width="0.9" />
<line x1="436.2" y1="360.4" x2="436.2" y2="364.4" stroke="#262626" stroke-width="0.9" />
<text x="436.2" y="527.2" font-family="Liberation Serif" font-size="14.5" font-weight="bold" font-style="normal" text-anchor="middle" fill="#262626" textLength="28.8" lengthAdjust="spacingAndGlyphs" >500</text>
<line x1="505.6" y1="507.6" x2="505.6" y2="503.6" stroke="#262626" stroke-width="0.9" />
<line x1="505.6" y1="360.4" x2="505.6" y2="364.4" stroke="#262626" stroke-width="0.9" />
<text x="505.6" y="527.2" font-family="Liberation Serif" font-size="14.5" font-weight="bold" font-style="normal" text-anchor="middle" fill="#262626" textLength="38.4" lengthAdjust="spacingAndGlyphs" >1000</text>
<text x="575" y="527.2" font-family="Liberation Serif" font-size="14.5" font-weight="bold" font-style="normal" text-anchor="middle" fill="#262626" textLength="38.4" lengthAdjust="spacingAndGlyphs" >1500</text>
<text x="361.8" y="512.1" font-family="Liberation Serif" font-size="14.5" font-weight="bold" font-style="normal" text-anchor="end" fill="#262626" textLength="24.3" lengthAdjust="spacingAndGlyphs" >0.6</text>
<line x1="366.8" y1="470.8" x2="370.8" y2="470.8" stroke="#262626" stroke-width="0.9" />
<line x1="575" y1="470.8" x2="571" y2="470.8" stroke="#262626" stroke-width="0.9" />
<text x="361.8" y="475.3" font-family="Liberation Serif" font-size="14.5" font-weight="bold" font-style="normal" text-anchor="end" fill="#262626" textLength="24.3" lengthAdjust="spacingAndGlyphs" >0.7</text>
<line x1="366.8" y1="434" x2="370.8" y2="434" stroke="#262626" stroke-width="0.9" />
<line x1="575" y1="434" x2="571" y2="434" stroke="#262626" stroke-width="0.9" />
<text x="361.8" y="438.5" font-family="Liberation Serif" font-size="14.5" font-weight="bold" font-style="normal" text-anchor="end" fill="#262626" textLength="24.3" lengthAdjust="spacingAndGlyphs" >0.8</text>
<line x1="366.8" y1="397.2" x2="370.8" y2="397.2" stroke="#262626" stroke-width="0.9" />
<line x1="575" y1="397.2" x2="571" y2="397.2" stroke="#262626" stroke-width="0.9" />
<text x="361.8" y="401.7" font-family="Liberation Serif" font-size="14.5" font-weight="bold" font-style="normal" text-anchor="end" fill="#262626" textLength="24.3" lengthAdjust="spacingAndGlyphs" >0.9</text>
<text x="361.8" y="364.9" font-family="Liberation Serif" font-size="14.5" font-weight="bold" font-style="normal" text-anchor="end" fill="#262626" textLength="7.4" lengthAdjust="spacingAndGlyphs" >1</text>
<text x="470.6" y="548.5" font-family="Liberation Serif" font-size="22" font-weight="normal" font-style="normal" text-anchor="middle" fill="#262626" textLength="55" lengthAdjust="spacingAndGlyphs" ><tspan font-style="italic">t</tspan> (ms)</text>
<g transform="translate(331,433) rotate(-90)">
<text x="0" y="0" textLength="70" lengthAdjust="spacing" font-family="Liberation Serif" font-size="20" text-anchor="middle" fill="#262626"><tspan font-style="italic">N</tspan>(<tspan font-style="italic">t</tspan>)/<tspan font-style="italic">N</tspan><tspan font-size="13" dy="4">0</tspan></text>
</g>
</svg></body></html>
